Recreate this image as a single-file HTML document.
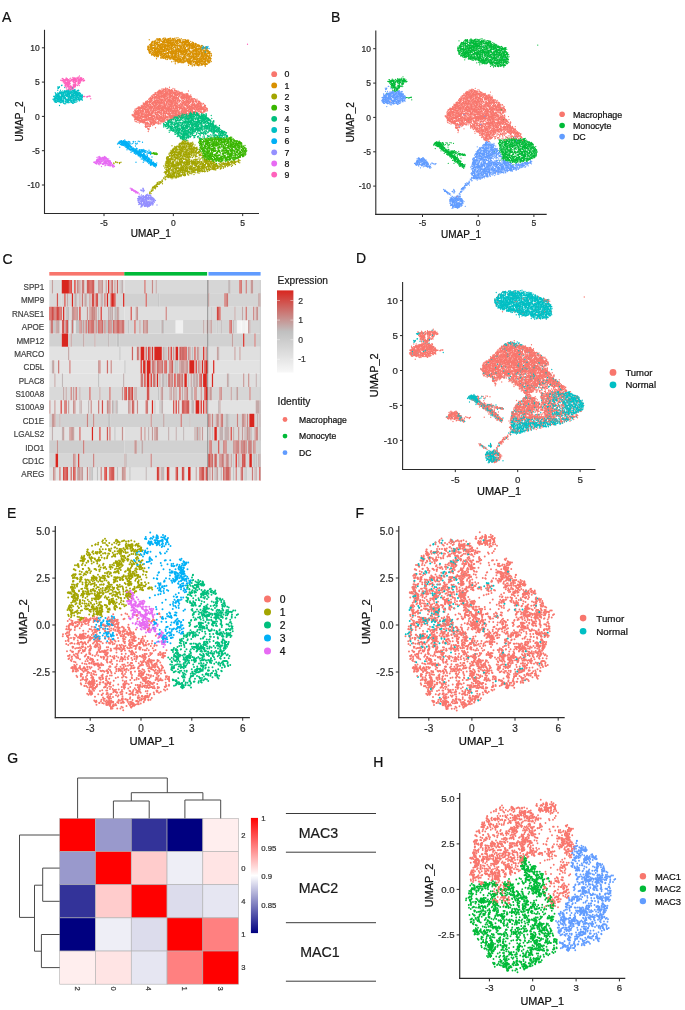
<!DOCTYPE html><html><head><meta charset="utf-8"><style>html,body{margin:0;padding:0;background:#fff;overflow:hidden}svg{display:block;filter:blur(0.45px)}</style></head><body><svg width="685" height="1010" viewBox="0 0 685 1010" font-family='"Liberation Sans", sans-serif'><rect width="685" height="1010" fill="#fff"/><path transform="scale(.25)" fill="none" stroke="#F8766D" stroke-width="5.2" stroke-linecap="round" d="M0 0m660 358h0m2-5h0m1-1h0m16 6h0m30 7h0m-2 1h0m-1-1h0m-3-2h0m-13 4h0m-5-4h0m-8 2h0m-15-4h0m0 0h0m-10 3h0m-9 2h0m-7-1h0m-6 7h0m0-4h0m4 0h0m2 7h0m1-6h0m4 5h0m7 0h0m4-4h0m1-1h0m10 5h0m7 1h0m8-4h0m2 3h0m2 0h0m2 1h0m5-5h0m9 3h0m1 0h0m2-2h0m2 3h0m8-3h0m8 2h0m10 2h0m0 0h0m20 5h0m-5-2h0m-1-2h0m-5 1h0m-19 4h0m-7-2h0m-1 2h0m-2 1h0m-3-1h0m-4 0h0m-4-1h0m-18 0h0m-7-1h0m-7-3h0m-1 4h0m-4 0h0m-2 1h0m-2 2h0m-3-3h0m-2 3h0m-5-1h0m-12-4h0m-6 2h0m-7-2h0m-3 1h0m-3 3h0m-1-2h0m-11 9h0m2-5h0m8 5h0m7 2h0m1-5h0m4 1h0m0-3h0m10 7h0m6-3h0m5 0h0m9-4h0m1 6h0m1-4h0m12 4h0m9-5h0m2-1h0m0 3h0m1 2h0m11-2h0m3 1h0m10 2h0m20-5h0m0 2h0m2 4h0m5-3h0m0-4h0m6 4h0m3 1h0m1 1h0m1 0h0m1-1h0m4-1h0m1-3h0m4 4h0m3-4h0m2 5h0m1-5h0m4 3h0m24 9h0m-19 0h0m-1-4h0m-4 5h0m-1 1h0m-15-5h0m-1 1h0m-12 0h0m-1-2h0m-4 0h0m-14 6h0m-2-6h0m-4-1h0m-6 2h0m-11 1h0m-2 1h0m-4-3h0m-17-1h0m-1 1h0m-4 1h0m-1 2h0m-13-4h0m-5 6h0m-7-1h0m0-2h0m-12-2h0m-16 1h0m-6 4h0m0-5h0m-5 2h0m-3 0h0m-10 10h0m2-2h0m8 3h0m3-1h0m6 0h0m13 2h0m1-3h0m0-1h0m10 0h0m14-2h0m3 2h0m15-3h0m2 4h0m4 3h0m1 0h0m1-6h0m5 6h0m0-5h0m2-1h0m2 2h0m3 0h0m4 2h0m2-2h0m7-1h0m4-1h0m3 4h0m2-2h0m9 1h0m33 3h0m1-4h0m2-2h0m1 5h0m0-4h0m1 4h0m3-3h0m1 2h0m2 1h0m5-2h0m6-4h0m1 1h0m4 5h0m2-6h0m9 5h0m16 7h0m-2 3h0m-2-4h0m-2 0h0m-8-3h0m-7 6h0m-21 0h0m-9-5h0m-4 2h0m-3 4h0m-4-3h0m-3-3h0m0 1h0m-1 2h0m-2 0h0m0-1h0m-6-3h0m-19 6h0m-3-1h0m0-1h0m-5 3h0m0-3h0m-7 0h0m-2 2h0m-4-5h0m0 4h0m-1 0h0m-1-4h0m-1 2h0m0-1h0m-14 2h0m-1 0h0m-2 0h0m-7 2h0m-2-5h0m-2 5h0m-7 1h0m-3-4h0m-6-2h0m-1 2h0m-2 0h0m-7 4h0m-2-4h0m-5-3h0m-5 6h0m0-4h0m-2 4h0m-1-3h0m-3 0h0m-1 0h0m-13 0h0m-7-1h0m-2 4h0m-3-1h0m0 0h0m-3-3h0m-8 5h0m-9 7h0m6 1h0m8-4h0m1 0h0m2 0h0m19-1h0m4 5h0m4-6h0m3 4h0m2 2h0m16-6h0m6 3h0m2 2h0m29-3h0m8 4h0m1-4h0m2-2h0m5 1h0m0-1h0m5 0h0m8 3h0m18 3h0m3-4h0m2 3h0m6-3h0m4-3h0m3 7h0m12-1h0m5 0h0m4-4h0m4 4h0m21-5h0m1 6h0m0-2h0m12-3h0m1 0h0m7 5h0m1-2h0m0-3h0m0 3h0m2-2h0m20 9h0m-14 2h0m0-1h0m-1-5h0m-2 3h0m-2 0h0m-1 1h0m-18 2h0m-1-6h0m0 4h0m-1-2h0m-2 1h0m-14 1h0m-10 0h0m-2 1h0m-3 0h0m0 0h0m0-5h0m-1 0h0m-1 0h0m-3 1h0m-8 6h0m-19-3h0m-12-3h0m0 2h0m-2 4h0m-12-3h0m-5-2h0m-2 5h0m-1-7h0m-6 4h0m-12 3h0m-5-5h0m-2-1h0m-1 2h0m0 1h0m-1 1h0m-8-1h0m-6-3h0m-2 3h0m-5-1h0m-4 1h0m0 3h0m-14-4h0m-2 1h0m-6-2h0m-1 2h0m-2 0h0m-3-4h0m-3 7h0m0-5h0m-3 4h0m-5-6h0m-5 0h0m-1 7h0m-2-1h0m-2-3h0m-3 1h0m-13 3h0m-1-1h0m-2 1h0m-4-1h0m-16 9h0m13-3h0m5-2h0m6-1h0m7 4h0m2 1h0m1-5h0m1 4h0m4 1h0m1 1h0m29-4h0m10 4h0m4-6h0m5 4h0m0 2h0m2-4h0m2-2h0m9 3h0m1 0h0m1-4h0m2 6h0m7-3h0m4-2h0m4 3h0m2-4h0m3 4h0m2-4h0m3 1h0m1 6h0m7 0h0m2-4h0m3 3h0m0 0h0m12-5h0m1 0h0m8 5h0m9-3h0m1-3h0m7 1h0m3 2h0m1 3h0m5-5h0m2 5h0m2 1h0m6-4h0m11-1h0m4-1h0m1 2h0m1-3h0m2 6h0m3-3h0m3 1h0m1 0h0m6 2h0m0-5h0m4 5h0m3-5h0m2 1h0m4 3h0m6 1h0m1 1h0m5-6h0m0 2h0m10 0h0m9 4h0m3 0h0m2-4h0m-1 9h0m-6 3h0m-15-2h0m-1-1h0m-20 2h0m-10 1h0m-5-4h0m0-2h0m-17 3h0m-4 1h0m-5 1h0m-8 0h0m-2-5h0m-2 1h0m-2 0h0m-3 5h0m-13-3h0m-2-2h0m-6 5h0m-1-6h0m-10 2h0m0 4h0m-2 0h0m-2-1h0m-6-3h0m-2-3h0m-15 2h0m-25 1h0m-2 0h0m-24-3h0m-1 6h0m-2-5h0m0 2h0m-2 1h0m-5-4h0m-11 4h0m-9-3h0m-13 2h0m-1-2h0m-1 4h0m-3-4h0m-13 3h0m0-1h0m-2 1h0m-6 3h0m-7-6h0m8 10h0m5-3h0m3 6h0m9-4h0m9-2h0m11 1h0m2 1h0m8 0h0m3-2h0m7 5h0m3-2h0m6-1h0m0-2h0m15 2h0m2 0h0m0-2h0m6 2h0m3 3h0m2 0h0m1-2h0m10 2h0m0 2h0m2-5h0m5 2h0m1-3h0m6 0h0m2 0h0m2 6h0m5-1h0m2-1h0m3 1h0m4-2h0m1-1h0m3 0h0m2 2h0m4-2h0m0 2h0m3 1h0m4-2h0m4 3h0m1-7h0m6 7h0m6 0h0m6 0h0m12-6h0m1 0h0m0 0h0m19-1h0m2 1h0m2 0h0m6 2h0m1-1h0m4-2h0m2 3h0m1 3h0m0-3h0m4 0h0m0-2h0m2 0h0m2-1h0m5 4h0m1 3h0m4-1h0m10-6h0m4 1h0m-38 8h0m-22 4h0m-2-4h0m-12 2h0m-14 1h0m-1 0h0m-5-3h0m-11 2h0m-9 4h0m-6-2h0m-2 1h0m-3-4h0m-3 4h0m-1 0h0m-2-5h0m-13 5h0m-6 1h0m-3-2h0m-22-4h0m-5 1h0m-3-2h0m-7 5h0m-4 2h0m-5-2h0m-4-4h0m-1 4h0m-1 0h0m-7-1h0m-1 2h0m-1-2h0m0 0h0m-3 0h0m-5-3h0m-1 4h0m-4-4h0m-12 5h0m-13-4h0m-1 0h0m-5-2h0m-1 0h0m-7 3h0m-1 4h0m-5-3h0m2 4h0m0 4h0m1-1h0m1 0h0m3 0h0m7 3h0m0-2h0m1 2h0m4-1h0m10-3h0m5-2h0m2 5h0m3-4h0m7 0h0m2 5h0m5-4h0m5 5h0m9-1h0m2 0h0m2-3h0m6-2h0m4 0h0m2 3h0m7 1h0m1-4h0m2 4h0m2-5h0m1 5h0m16 0h0m0 1h0m5-2h0m2-4h0m3 4h0m7 1h0m1 1h0m6 0h0m1 1h0m4-7h0m1 2h0m1 1h0m1 0h0m4 3h0m1-5h0m3 1h0m3 2h0m1 0h0m6-2h0m14-1h0m22 0h0m-39 9h0m-20 2h0m-4 3h0m-12-6h0m-7 2h0m-3-2h0m-2 2h0m-1 3h0m-4-5h0m-2 4h0m-5 0h0m-1-1h0m-8-3h0m-7 1h0m-2 3h0m0-2h0m-18 4h0m-4-4h0m-3 2h0m-13 2h0m-2 0h0m-6-7h0m-12 4h0m-4 1h0m-3-2h0m-6-1h0m-2 4h0m-2-1h0m12 3h0m5 4h0m8 2h0m3-2h0m3-2h0m9 0h0m5-1h0m7 1h0m7 4h0m5 0h0m3-5h0m2-1h0m4 1h0m27 0h0m1 3h0m5-1h0m2-1h0m6 2h0m1-4h0m15 2h0m-34 13h0m-20-1h0m-4-3h0m-5 0h0m0-1h0m-1 3h0m-4-3h0m0 5h0m-15-4h0m-5 2h0m-10-2h0m-10-3h0m22 11h0m8 0h0m21-1h0m-11 7h0m-17 1h0m-1 3h0m-1-5h0m-2 2h0m10 8h0m4 5h0m0-3h0"/><path transform="scale(.25)" fill="none" stroke="#D89000" stroke-width="5.2" stroke-linecap="round" d="M0 0m733 159h0m-13 0h0m-15-7h0m-4 6h0m-5-3h0m-21 2h0m-18 2h0m-4-4h0m-14 2h0m0-2h0m-16 12h0m10-7h0m6 0h0m1 1h0m9 6h0m5-1h0m4-3h0m0-3h0m1 5h0m10 2h0m15-7h0m0 7h0m4-5h0m7 0h0m8-1h0m3 1h0m2 5h0m4-5h0m0 0h0m1 2h0m9-2h0m9-2h0m9 5h0m3 0h0m5 1h0m4-3h0m3-2h0m25 13h0m-8 1h0m-17-6h0m-5 1h0m-4 0h0m-2 1h0m-2-1h0m-1 0h0m0-2h0m-4 5h0m-3-4h0m0-1h0m-3 5h0m0-5h0m-5 4h0m-3-4h0m-1 3h0m-12 1h0m0 0h0m-2-4h0m-1 5h0m-1 0h0m-5-3h0m-14 4h0m-5-6h0m-2 0h0m-7 2h0m-7-2h0m-11 0h0m-2 0h0m-14 0h0m-7 2h0m-4 3h0m-2-2h0m-2-1h0m-2 4h0m-5-6h0m-1 3h0m-7-2h0m-4 6h0m0 7h0m3 1h0m1-2h0m0 0h0m1 0h0m0 1h0m8-3h0m1 1h0m1-1h0m9-2h0m4 0h0m1 1h0m14 3h0m1 1h0m1-6h0m9 6h0m10-2h0m5 0h0m5 1h0m2-2h0m6 0h0m0-1h0m1-2h0m8 7h0m2-7h0m21 5h0m10-3h0m7 3h0m7-5h0m11 2h0m5 3h0m4 0h0m4 0h0m4 0h0m2-2h0m2-2h0m0 3h0m21 2h0m3 0h0m14 4h0m-5 4h0m-6 1h0m-6-6h0m-1 2h0m-15 2h0m-3-1h0m-3-1h0m-9-3h0m-5 3h0m-2 2h0m-17 0h0m0 0h0m-3-5h0m-1 2h0m-2 2h0m-1 2h0m-32-1h0m-3-2h0m-18 3h0m-8-6h0m-3 1h0m-7 3h0m-6 3h0m-9 0h0m-6-3h0m-13-3h0m-16 6h0m-5-1h0m-13-2h0m-2 2h0m-2-3h0m0 5h0m15 4h0m5-3h0m4-1h0m3 6h0m1 0h0m2-1h0m13-4h0m2 0h0m6-1h0m0 4h0m3-3h0m1 1h0m11 3h0m2-2h0m6 2h0m1-2h0m3 4h0m8-2h0m6 0h0m19-5h0m6 6h0m5 1h0m2-3h0m7 1h0m3-5h0m19 6h0m12-5h0m0 6h0m11-7h0m0 3h0m4 0h0m0-2h0m10 4h0m4-4h0m2 4h0m7 2h0m3-5h0m3 0h0m1 2h0m0-4h0m6 4h0m4 1h0m2-5h0m9 4h0m10 8h0m-4-4h0m-7 5h0m-5-1h0m-13-1h0m-3 2h0m-16-4h0m-1 0h0m-9 1h0m-5 1h0m-1 1h0m-10 2h0m-2-5h0m-5 3h0m-3 0h0m-4-2h0m-1 2h0m-1-3h0m-2 6h0m-2-4h0m-11-2h0m-7 4h0m-1-1h0m-2-4h0m-2 2h0m-3 4h0m-7-4h0m-10 1h0m-3 4h0m-3 0h0m-8 0h0m0-1h0m-6-2h0m-7-4h0m-3 4h0m-5-4h0m-3 1h0m0 3h0m-1-3h0m0 4h0m0 1h0m0-1h0m-1 0h0m-1-5h0m-8 7h0m-2-1h0m-1 1h0m-10 0h0m-3 0h0m-3-1h0m-4-6h0m-3 1h0m-4 3h0m-15 1h0m-7-5h0m5 12h0m9 0h0m8-4h0m3 2h0m3 4h0m3-4h0m0 5h0m4-2h0m0-3h0m15-1h0m19 3h0m11 3h0m0-7h0m1 2h0m5-2h0m3 3h0m4 0h0m1-1h0m1 4h0m2 1h0m22 0h0m1 0h0m2-7h0m7 3h0m1 0h0m5 3h0m3-3h0m1 3h0m1-4h0m3-1h0m3 3h0m5 1h0m3-5h0m1 0h0m5 5h0m9 0h0m1-3h0m1-1h0m4 3h0m17-1h0m9 0h0m4-3h0m4 5h0m9-4h0m8 3h0m9 1h0m3 0h0m6 1h0m1-1h0m5 1h0m2 8h0m-17-1h0m-1-1h0m-1 3h0m-3-4h0m-8-2h0m-9-1h0m-1 6h0m-12-5h0m-17 3h0m-2-4h0m-1 7h0m-1-3h0m-17-3h0m-4-1h0m-4 0h0m-10 4h0m-9-3h0m-13 3h0m-4-4h0m0 6h0m-8-6h0m-13 7h0m-10 0h0m-6-3h0m-13-3h0m0 0h0m-4 2h0m-3 3h0m-8-5h0m-1 3h0m-4 1h0m-1 1h0m-7 1h0m-1-6h0m-6 6h0m-1-3h0m-8 0h0m-2 0h0m-6-2h0m17 6h0m25 3h0m3 0h0m1 0h0m0 0h0m3 2h0m7 0h0m4 2h0m0-5h0m1-2h0m3 3h0m1-3h0m1 4h0m6 3h0m2-2h0m14-3h0m3 2h0m1 3h0m1 0h0m2 0h0m2-1h0m6-6h0m7 6h0m0-5h0m4 0h0m4 4h0m9 0h0m7 2h0m15-7h0m0 1h0m1 3h0m6-4h0m2 2h0m5 4h0m16-6h0m14 2h0m10 0h0m3-1h0m4 6h0m4 0h0m9-6h0m5 6h0m6 3h0m-1 2h0m-7 3h0m-9-5h0m-1-2h0m-3 5h0m-3 0h0m-1 1h0m0 0h0m-3 1h0m-2-1h0m-2 0h0m-11-6h0m0 7h0m-1-4h0m-1-3h0m-1 7h0m-6-3h0m-4 3h0m-4-3h0m-3 2h0m-8 0h0m-10-4h0m-2 3h0m-3 2h0m0-2h0m-1-5h0m-18 4h0m-5 3h0m-12-6h0m0 3h0m-3 0h0m-2 1h0m-3 0h0m-3-3h0m-5-2h0m-11 6h0m0-3h0m-18-3h0m-9 6h0m-6-6h0m-36 3h0m73 5h0m24 2h0m2-2h0m3 7h0m20-2h0m2 0h0m1-4h0m4 4h0m3 2h0m3-1h0m2 1h0m1-1h0m2-1h0m6 2h0m2 0h0m12-4h0m1 4h0m4 0h0m7 0h0m2-7h0m3 6h0m3-6h0m1 7h0m5-7h0m4 7h0m5-1h0m2 1h0m4-5h0m2 3h0m3 2h0m3-3h0m1 3h0m-1 1h0m-19 5h0m-13 2h0m0-2h0m-5-4h0m-1 6h0m-7-1h0m-1-4h0m-2-1h0m-1 5h0m-23-2h0m-10-1h0m-18-2h0m-2 2h0m-14-2h0m-5 0h0m-13 6h0m88 3h0m4 2h0m4-3h0m9 0h0m4 2h0m1-1h0m18-2h0"/><path transform="scale(.25)" fill="none" stroke="#A3A500" stroke-width="5.2" stroke-linecap="round" d="M0 0m743 567h0m24 7h0m-7 1h0m-12 0h0m0-1h0m-3 0h0m-6-2h0m-4-3h0m-3 2h0m-3 3h0m-1 1h0m-4 0h0m-36 8h0m28-6h0m3-1h0m10 4h0m7 3h0m1 0h0m8-1h0m7-5h0m18 0h0m10 3h0m-15 10h0m-7 0h0m-2-4h0m-1-2h0m-3 0h0m-12 5h0m-3-1h0m0 2h0m-3 0h0m-2-5h0m-4 2h0m-5 4h0m-4-7h0m0 1h0m-15 6h0m-14 6h0m2 2h0m4 0h0m2-3h0m1-1h0m8-3h0m16 7h0m5-6h0m0 4h0m2 0h0m7 0h0m5-3h0m11 2h0m1-3h0m6 2h0m0-2h0m2 1h0m3 1h0m4-1h0m1 0h0m1 2h0m1-4h0m8 1h0m11 4h0m7 2h0m2 2h0m-17 6h0m-2 0h0m-4-6h0m-4 0h0m-6 0h0m-19 5h0m0-1h0m-1 1h0m0-6h0m-4 4h0m-1 1h0m-5 2h0m-6-2h0m-3 1h0m-1-1h0m-1-2h0m-8 3h0m-10 1h0m-8 0h0m-5-4h0m-2 1h0m-12 5h0m1 4h0m0-2h0m2-1h0m2 5h0m12-1h0m0 0h0m2-3h0m14-3h0m9 4h0m0 3h0m2-2h0m0 1h0m12-6h0m10 3h0m5 0h0m1 0h0m2-3h0m1 4h0m3 2h0m2-2h0m15-2h0m5-2h0m3 5h0m7-2h0m0 0h0m4 0h0m10 1h0m5 8h0m-13 3h0m0-4h0m-13 2h0m-7-2h0m-12-2h0m-7 1h0m-1-2h0m-11 2h0m-2 2h0m-6-2h0m-16 5h0m0-4h0m-1 4h0m-3-6h0m-6 5h0m-5 0h0m-3-4h0m-4-1h0m-3 2h0m0-3h0m-3 2h0m-6-2h0m-1 7h0m-1-4h0m0-3h0m-7 6h0m-3-5h0m-6 12h0m3 1h0m7-6h0m23 6h0m6-2h0m7-3h0m1 5h0m12 1h0m20-6h0m2 0h0m7 0h0m2 3h0m4 0h0m22-2h0m25-1h0m8 13h0m-1-1h0m-41 1h0m-33-5h0m-2 6h0m-1-2h0m-7-3h0m-9 3h0m-11-4h0m-6-1h0m-5 5h0m-7 1h0m-7-2h0m-18 2h0m-5-5h0m-2 13h0m3-2h0m2 1h0m1 2h0m0-7h0m25 7h0m22-4h0m3-2h0m0 1h0m19 5h0m7-4h0m0 1h0m4-3h0m6 3h0m1 3h0m10-2h0m10 2h0m6-6h0m37 6h0m2-7h0m1 5h0m1-1h0m1 3h0m4-3h0m6 3h0m1-1h0m15-2h0m3 2h0m71 0h0m7 1h0m6 0h0m1 0h0m0-2h0m0-1h0m15 2h0m2-3h0m-15 5h0m-4 3h0m-6-2h0m-10 0h0m0 1h0m-7 1h0m-1 4h0m-2-7h0m-6 7h0m-10-3h0m-19 2h0m-17-4h0m-2-1h0m-4 5h0m-20 1h0m-1-2h0m-7-3h0m-3 3h0m-2-4h0m-8-1h0m-16 1h0m-14 5h0m-1-4h0m-1 0h0m-11 1h0m-2 3h0m-7-6h0m-2 3h0m-6-3h0m-4 0h0m-3 4h0m-3-3h0m-4 5h0m-10-3h0m-2-3h0m-2 6h0m-3-1h0m-1 2h0m-1-7h0m-10 5h0m-4 1h0m-11-5h0m-6 4h0m-5 1h0m-8 1h0m-4-2h0m-4-4h0m-189 5h0m-22 1h0m205 1h0m1 5h0m6-5h0m1 1h0m5 4h0m13-1h0m3-1h0m3-1h0m3 5h0m11 0h0m4-1h0m1-1h0m0 2h0m3-5h0m1 4h0m1-5h0m6-1h0m0 2h0m1 4h0m1-3h0m2 3h0m13 1h0m0-4h0m2 0h0m1 4h0m2-7h0m1 4h0m1-2h0m9 2h0m1-2h0m8 2h0m20-2h0m2 1h0m2-3h0m10 2h0m5 2h0m0-3h0m10 2h0m1 3h0m2-1h0m4-3h0m9-1h0m0 2h0m8 0h0m3-3h0m8 7h0m7-2h0m5-5h0m6 4h0m4 3h0m16-7h0m0 5h0m4-5h0m4 1h0m4 3h0m2 0h0m6-2h0m3-1h0m3 5h0m2-6h0m8 3h0m1-1h0m-13 8h0m-1-2h0m-10 2h0m0 2h0m-7-2h0m-5 0h0m-8 3h0m0 0h0m-1-2h0m-10 1h0m-1-3h0m0 2h0m-15 0h0m-18 0h0m-14 3h0m-2 1h0m-8-7h0m0 0h0m-4 5h0m-8-3h0m0 5h0m-2-5h0m-7 0h0m-8 5h0m-1-7h0m-23 3h0m-9 2h0m-6 2h0m-4-7h0m-1 1h0m-4 4h0m-2-4h0m0 1h0m-2 0h0m-10 5h0m-15-6h0m-4-1h0m-5 3h0m-11 1h0m-10-4h0m-5 2h0m-4 2h0m-7 4h0m6 7h0m11 0h0m19-1h0m4-6h0m3 3h0m4 4h0m1-4h0m2-2h0m4-1h0m2 1h0m9 4h0m4 2h0m3-3h0m0-4h0m12 1h0m0 6h0m3-6h0m0 0h0m4-1h0m4 0h0m3 2h0m1 4h0m3-4h0m4-1h0m0 6h0m2-3h0m10-4h0m4 6h0m4-2h0m8-2h0m3 0h0m2-2h0m4 1h0m5 3h0m8-1h0m2 4h0m8-6h0m2 5h0m9-6h0m21 3h0m1-1h0m3 1h0m9-2h0m2-1h0m9 4h0m1-2h0m4-2h0m8 0h0m-56 8h0m-10 1h0m-25 1h0m-6-1h0m-18 4h0m-3-4h0m-8-1h0m-5 0h0m-13 6h0m0 0h0m0 0h0m-5-4h0m-4-1h0m-3 2h0m-7-1h0m-11-2h0m-6 0h0m-14 2h0m-7 2h0m-2-3h0m-7-1h0m-6 5h0m-4-3h0m-5 5h0m-1-1h0m-11 4h0m6 4h0m1-6h0m3 1h0m0 1h0m7 0h0m1 5h0m0-7h0m18 5h0m1-2h0m15 3h0m4 0h0m15-6h0m3 5h0m2-1h0m7-4h0m0 5h0m9 0h0m19-5h0m13 3h0m-39 8h0m-1 2h0m-1-3h0m-2 2h0m-5-1h0m-7 2h0m0-1h0m-3 3h0m-9-7h0m-7 3h0m0 2h0m-8 0h0m-14-3h0m-3-2h0m0 5h0m-3 2h0m-1 0h0m-2 0h0m-2-2h0m-3-2h0m-3-2h0m0 6h0m-4 5h0m3-3h0m2 1h0m7 3h0m4-3h0m5 0h0m1 3h0m1 1h0m1-4h0m1 0h0m4 2h0m0-4h0m3 0h0m3 3h0m1 4h0m0-7h0m6 1h0m4 0h0m2 3h0m4-2h0m-28 9h0m-38 20h0m-2-7h0m-24 12h0m0 3h0m4-4h0m2-3h0m7 0h0m-7 10h0m-4-1h0m-5 4h0m-2-4h0m-2 0h0m-6 15h0m-10 8h0"/><path transform="scale(.25)" fill="none" stroke="#39B600" stroke-width="5.2" stroke-linecap="round" d="M0 0m840 548h0m7 1h0m23 2h0m52-2h0m2 1h0m3 8h0m-8-1h0m-6 2h0m-5-2h0m-1-4h0m-12 0h0m-5 3h0m-6-4h0m-1 7h0m-2-7h0m-7 2h0m-1 0h0m-9 3h0m-1-2h0m-10 3h0m-5-5h0m0 4h0m-5-2h0m-3 4h0m-5-4h0m-3-1h0m-7 4h0m-5-1h0m-4-3h0m-11 1h0m-4 3h0m-4-3h0m2 11h0m3-2h0m1 3h0m28-5h0m14 3h0m2-2h0m4 1h0m5 2h0m10 1h0m13-4h0m4 0h0m1 1h0m3-1h0m6 2h0m10-1h0m11-1h0m27 2h0m6-1h0m2 0h0m2 1h0m16 8h0m-6-1h0m0 3h0m-7-6h0m0-1h0m0 7h0m-10-2h0m-12 0h0m-1-4h0m-10 6h0m-11-5h0m-10-2h0m-1 5h0m0 1h0m-1-6h0m-10 0h0m-4 4h0m-8-4h0m-2 7h0m-2-6h0m-4 1h0m-2-1h0m-12 3h0m-6-1h0m-1 2h0m-14 0h0m-1 2h0m-1-5h0m-2-1h0m0 3h0m-1 3h0m0-7h0m-22 5h0m-2 0h0m-4-2h0m-2 3h0m1 2h0m5 2h0m2 0h0m7-2h0m4 5h0m0 2h0m5-7h0m2 0h0m6 5h0m9 2h0m6-4h0m1-1h0m11 5h0m7-2h0m3 1h0m0 1h0m1-6h0m10 0h0m10 0h0m28 6h0m0-3h0m5-4h0m3 3h0m0 4h0m1-4h0m0 3h0m3-1h0m1-2h0m2-1h0m4-1h0m0 0h0m7 6h0m8-4h0m17 0h0m8 7h0m-1-1h0m-2 3h0m0-4h0m-5 5h0m-2-3h0m-7 1h0m-5 1h0m-3-4h0m-15 4h0m-1-4h0m-3 4h0m0 0h0m-10 0h0m-7 1h0m-1 0h0m0-3h0m-17-2h0m-2 0h0m-6 3h0m-11 2h0m-2 2h0m-19-2h0m-5-3h0m-11 0h0m-2 2h0m-14 0h0m-2-4h0m-2 0h0m-1 4h0m-10-1h0m-1-3h0m0 6h0m-5-1h0m0 3h0m5 5h0m19-1h0m14-4h0m7 4h0m7-2h0m6 5h0m10-4h0m12-3h0m11 3h0m1-1h0m5-1h0m3-1h0m1 2h0m8-1h0m1-1h0m12 3h0m5-2h0m9-1h0m2 1h0m7 3h0m9-2h0m9 4h0m6-3h0m2 3h0m6-5h0m-2 11h0m-8 3h0m-8 0h0m-5-3h0m-5-4h0m-2 5h0m-1 0h0m-11 2h0m-3-7h0m-4 2h0m-8 3h0m0-5h0m0 2h0m-1-2h0m-11 4h0m-18-4h0m-3 0h0m-1 5h0m-2-5h0m-24 1h0m-7 4h0m0 0h0m0-5h0m-1 1h0m-1 4h0m-17 1h0m-7-4h0m0 5h0m-5 0h0m-8-4h0m-8 3h0m-206 3h0m8 5h0m2-3h0m1 1h0m4 2h0m1-1h0m1 1h0m196-1h0m7-5h0m6 0h0m9 0h0m4 6h0m0 0h0m7 0h0m1-1h0m13 2h0m4-3h0m37-2h0m3-2h0m17 6h0m3-6h0m4 4h0m9 2h0m13 0h0m3-2h0m10-1h0m10 0h0m-6 6h0m-1 4h0m-3-2h0m-5 4h0m-1-6h0m-11 5h0m-10 1h0m-12-5h0m-3 1h0m-2 3h0m-3-5h0m-2 4h0m-5-3h0m-1 0h0m0 2h0m-13 2h0m-5 0h0m-10-6h0m-6 4h0m-9 3h0m-11-5h0m-6 0h0m-3 5h0m-3-7h0m-10 7h0m-14-7h0m-5 5h0m-4 1h0m-185-6h0m-8 1h0m199 7h0m5 7h0m2-7h0m2 1h0m1 5h0m3-5h0m9 1h0m4 3h0m0 1h0m9-4h0m3 4h0m1 0h0m7-3h0m2 3h0m19-1h0m7-3h0m1-1h0m8 6h0m2 0h0m11-3h0m2-3h0m6 0h0m2 1h0m10 4h0m5 0h0m3 0h0m7-3h0m8 2h0m1-1h0m12-2h0m-25 7h0m-2 3h0m-5 3h0m-2-2h0m-4-4h0m-10 2h0m-3 3h0m-1-4h0m-12 3h0m-3 2h0m-1-6h0m-16 3h0m-2-2h0m-5-1h0m-1 2h0m-4 1h0m-6-4h0m-2 4h0m-5 2h0m-13-4h0m-7 4h0m-6-2h0m-2 0h0m0 2h0m-5-4h0m-9-1h0m19 9h0m14 3h0m13-4h0m3 2h0m1-1h0m14 4h0m6-5h0m22 0h0m8 0h0m15-1h0m-100 17h0"/><path transform="scale(.25)" fill="none" stroke="#00BF7D" stroke-width="5.2" stroke-linecap="round" d="M0 0m777 451h0m0 2h0m68 9h0m-19 1h0m-12-6h0m-6 5h0m-14-5h0m-3-1h0m-1 4h0m-9-3h0m-7 3h0m-6 0h0m-2 0h0m-2-4h0m0 1h0m-2-1h0m-2 6h0m-2-1h0m-1 1h0m-4 0h0m-5-1h0m-3 0h0m-3-2h0m-10 3h0m-6-3h0m-1-3h0m-7 7h0m-27 5h0m5 0h0m9 1h0m5-1h0m3 3h0m7-2h0m1-3h0m0 3h0m8 1h0m1-3h0m1 4h0m3-1h0m11 1h0m4-5h0m7-2h0m4 4h0m1-1h0m5 0h0m3 2h0m1-2h0m1-1h0m2-2h0m3 3h0m21-2h0m4 2h0m1 2h0m0-2h0m7 4h0m5-7h0m2 2h0m6-2h0m2 2h0m9 10h0m-2 2h0m-2-3h0m-3-2h0m-2 1h0m-2 2h0m-5 2h0m-10-5h0m-4 0h0m-3 2h0m-7 1h0m0 3h0m-4-1h0m-7 0h0m-6-2h0m-5-3h0m-7-1h0m-9 5h0m-4-5h0m-2 2h0m-1 5h0m-7-3h0m-1-1h0m-4 1h0m-10 0h0m-18-3h0m-4-1h0m-10 6h0m0-4h0m-21 8h0m2 0h0m6 3h0m5-2h0m2 3h0m8-6h0m10 1h0m1 1h0m4-1h0m9-1h0m16 4h0m2 3h0m3-2h0m10 0h0m3-1h0m4 0h0m0 0h0m4-1h0m11-3h0m11 7h0m16-3h0m7 3h0m9-3h0m12 0h0m1 1h0m4-4h0m3 1h0m17 3h0m2 0h0m-5 4h0m-10 5h0m-1 1h0m-4-2h0m-4-4h0m-2 0h0m-8 2h0m-2 0h0m-3 1h0m-9-3h0m-3 1h0m-3 5h0m-3-6h0m-7 0h0m-2 3h0m0 2h0m-7 1h0m-3-1h0m-2-6h0m-6 4h0m-2 3h0m-1-7h0m0 3h0m-5-2h0m-3 0h0m-8 0h0m0-1h0m-2 0h0m-7 2h0m-2-1h0m-2 4h0m-2-2h0m-2-1h0m-6 2h0m-23-4h0m0 6h0m0-6h0m-7 1h0m-6 0h0m-3 6h0m-3 0h0m-6-6h0m-5 1h0m-3-1h0m-1 6h0m-16 4h0m6 1h0m12-2h0m0 0h0m22-1h0m3 5h0m5-6h0m4 6h0m4-6h0m13 3h0m2 4h0m3-7h0m3 6h0m1 1h0m16-1h0m7-3h0m10 1h0m0-3h0m3 6h0m0-4h0m16 1h0m6-4h0m12 6h0m3-6h0m4 5h0m9 1h0m4 1h0m4-1h0m5 0h0m2-6h0m8 7h0m6-6h0m1 4h0m2 2h0m0-6h0m10 6h0m14 7h0m-15-1h0m-1-1h0m-6-2h0m-1 0h0m-2 0h0m-3-2h0m-3 4h0m-6-4h0m-7 1h0m-2 4h0m-8-1h0m-1-4h0m-1 0h0m-3 3h0m-7 0h0m-6 1h0m-5 3h0m-6-5h0m-5 1h0m-7-1h0m-8 4h0m-3 1h0m-16-4h0m-2 0h0m-1 3h0m-4 1h0m-7-2h0m-10 1h0m-3-6h0m0 4h0m-16-2h0m-2 2h0m-2 3h0m-6-4h0m-2 4h0m-2-2h0m-7-3h0m-1 3h0m0-2h0m-7-1h0m0 4h0m-8-5h0m-2 1h0m-2 7h0m10 2h0m2-3h0m31 1h0m3 0h0m2 6h0m2-2h0m0-5h0m0 3h0m14 2h0m0 2h0m2-6h0m0 0h0m22 4h0m15-4h0m0 4h0m16 0h0m1-5h0m3 1h0m3 5h0m9-2h0m2 2h0m0-6h0m9 6h0m0-3h0m1-2h0m21 1h0m10 2h0m7 0h0m16-3h0m4 1h0m3-1h0m18 14h0m-8 0h0m-8-1h0m-13-3h0m-1-2h0m-5 5h0m-4-2h0m-1-4h0m-8 5h0m-1-4h0m-1 6h0m-1-7h0m-3 2h0m-3-1h0m-22 6h0m-7-6h0m-11 1h0m-18 5h0m0-3h0m-1 3h0m-2 0h0m-7-6h0m0 6h0m-7-7h0m-3 3h0m0 1h0m-6 1h0m-1-3h0m-1 0h0m-2 2h0m-8-2h0m-7 3h0m-23-3h0m-2 1h0m-6-3h0m-5 1h0m0 10h0m1-2h0m1 0h0m8 4h0m1 1h0m17 1h0m6-1h0m7-1h0m4 0h0m8 0h0m11 2h0m5-3h0m6 1h0m0-1h0m12 0h0m17-2h0m0 2h0m4 0h0m12-4h0m11 3h0m0-2h0m21 3h0m1-4h0m25 1h0m1 4h0m0-5h0m4 7h0m1-6h0m3 3h0m6 2h0m3-1h0m7-1h0m4 11h0m-1 0h0m-1 0h0m-2-5h0m-6 1h0m-1 0h0m-10 2h0m-1 2h0m-3-1h0m-1-5h0m-3 4h0m-15 0h0m-3-1h0m0-2h0m-5 4h0m-3-5h0m-22 6h0m-51 0h0m-4-1h0m-5-1h0m-7-3h0m-3-2h0m-9 2h0m-4 0h0m-5-1h0m-3 3h0m-3 1h0m-4-2h0m-8-3h0m-9 7h0m-4-4h0m-2 7h0m3-2h0m17 0h0m3 4h0m8 1h0m6 2h0m1-2h0m2-5h0m43 6h0m67-3h0m1 2h0m1 0h0m16 1h0m9 1h0m4-7h0m2 7h0m4 0h0m9-3h0m2-1h0m8 10h0m-115-5h0m-58 7h0m-7-1h0m-2-4h0m-1 5h0"/><path transform="scale(.25)" fill="none" stroke="#00BFC4" stroke-width="5.2" stroke-linecap="round" d="M0 0m235 349h0m-3 5h0m68 4h0m10 4h0m-6 5h0m-2-2h0m-2-4h0m-3 0h0m-3 1h0m-6 3h0m-37-1h0m-9-3h0m-21 10h0m9 1h0m4 3h0m1-1h0m2 1h0m2-5h0m1 2h0m1-2h0m3 4h0m0-3h0m2 3h0m0-5h0m6 1h0m3 2h0m8 0h0m2-4h0m8 1h0m16-1h0m1 1h0m6 1h0m1 3h0m0-5h0m5 1h0m2 0h0m7 6h0m8-4h0m3 4h0m2 5h0m-11-1h0m-3 2h0m-4-5h0m-5 4h0m-9 1h0m-1 0h0m-5-2h0m-8 0h0m-7-2h0m0 6h0m-1-4h0m-15-2h0m-7 2h0m-2-3h0m-11 6h0m-2 0h0m-5 0h0m-5-6h0m-1 7h0m-7 3h0m1-1h0m8 0h0m1 1h0m1-2h0m4 0h0m1 1h0m0 2h0m5-3h0m9 5h0m1-4h0m6 4h0m3-4h0m2 2h0m2 2h0m10-4h0m1-1h0m12 5h0m3-3h0m9 3h0m10-4h0m6 4h0m6 2h0m14-6h0m-2 12h0m-10-2h0m0 2h0m-4-4h0m0-1h0m0 1h0m-8 2h0m-6 0h0m-2 3h0m-15-5h0m0 5h0m-14 0h0m-6-4h0m-6-1h0m-4-1h0m-6 6h0m-2 0h0m-11 0h0m-1-2h0m-1-4h0m-5 2h0m-7 0h0m-2 1h0m0 2h0m3 8h0m4-4h0m4 0h0m5 4h0m2-3h0m0 1h0m15 0h0m3 0h0m17-3h0m9 3h0m6 0h0m1 2h0m1 0h0m1-4h0m5 1h0m5 3h0m6-4h0m3 5h0m-8 2h0m-1 2h0m-34-2h0m-11 4h0m-6-4h0m-5 3h0"/><path transform="scale(.25)" fill="none" stroke="#00B0F6" stroke-width="5.2" stroke-linecap="round" d="M0 0m832 186h0m-10 2h0m-10 3h0m2 1h0m6 0h0m4 1h0m12 1h0m-342 371h0m0 1h0m4 1h0m4-2h0m31 1h0m8 1h0m12-2h0m-34 3h0m0 1h0m-5 4h0m-2-4h0m-1 6h0m-4-1h0m0-3h0m-2 3h0m-4 1h0m-2-4h0m-5-2h0m-5 6h0m-1-1h0m-2-3h0m-5-3h0m-5 0h0m10 12h0m3-4h0m3 5h0m3 1h0m1 0h0m3-6h0m2 3h0m2 1h0m12-1h0m0 3h0m1 1h0m3-2h0m28-5h0m-25 8h0m-7 4h0m-3-2h0m0 5h0m0-2h0m-6 0h0m-6-4h0m8 14h0m1-5h0m7 4h0m0-3h0m3 4h0m1-3h0m7 3h0m2-4h0m0 3h0m5 0h0m0 1h0m2-1h0m11-3h0m49 6h0m-12 2h0m-1 0h0m-13 1h0m-4 0h0m0-2h0m-3 4h0m-5 1h0m-6 0h0m-7-5h0m0 1h0m0 4h0m-2 0h0m-1-1h0m-3-2h0m-6-2h0m-1 3h0m0 0h0m-9-5h0m14 13h0m2-2h0m5-1h0m4 2h0m0-1h0m1 4h0m1-3h0m2-3h0m0 6h0m1-1h0m0-1h0m0-4h0m0 3h0m2 3h0m19-2h0m22-3h0m4 0h0m2 6h0m-14 1h0m-11 4h0m-3-5h0m-3 7h0m-7-3h0m0-4h0m-1 1h0m-2 2h0m-3-2h0m-15 0h0m30 8h0m0 5h0m1-6h0m1 7h0m1-2h0m6-3h0m1-2h0m4 4h0m5 7h0m-2 2h0m0 2h0m-10-3h0m-1-3h0m0 0h0m-3 4h0m0-3h0m-6 2h0m16 4h0m1 1h0m0 2h0m3-3h0m2 3h0m2 1h0m2-1h0m4 4h0m4-5h0m3-2h0m15 15h0m-8-1h0m-5 1h0m0-2h0m-2-5h0m-4 6h0m-7-6h0m-5 0h0m-18 1h0m32 9h0m7 2h0m2 3h0m4 0h0m3-6h0m1 4h0m4-3h0m0 5h0m-4 5h0"/><path transform="scale(.25)" fill="none" stroke="#9590FF" stroke-width="5.2" stroke-linecap="round" d="M0 0m572 753h0m3 10h0m25 18h0m-6 2h0m-2-1h0m-34 9h0m0-1h0m3-2h0m5 1h0m8 2h0m7-5h0m1-2h0m3 2h0m0 0h0m10 5h0m7 0h0m3-3h0m2 2h0m4 8h0m-4-4h0m-2 4h0m-5 1h0m-8-1h0m-6-3h0m-4-2h0m-8 2h0m-1 0h0m-3 0h0m0-3h0m-2 6h0m-2-6h0m-1 1h0m-6 0h0m-7 8h0m1 1h0m0 5h0m7-5h0m5 5h0m4-7h0m2 0h0m5 4h0m20 1h0m5 0h0m11 2h0m2-6h0m1 5h0m2-3h0m-4 12h0m-4 0h0m-2-1h0m0-3h0m-6 0h0m-1 4h0m-2-1h0m-7 0h0m-4 1h0m-5 0h0m-16-4h0m-4 3h0m-1 0h0m-1-2h0m-1 2h0m6 9h0m4-1h0m1 0h0m2-3h0m4-3h0m1 0h0m0 0h0m3 7h0m2-5h0m0 4h0m6-1h0m1-4h0m4 6h0m2-1h0m2-2h0m1-4h0m1 1h0m0 0h0m3 4h0m9-5h0m0 4h0m-17 4h0m-3 3h0m-6-2h0m-18 2h0"/><path transform="scale(.25)" fill="none" stroke="#E76BF3" stroke-width="5.2" stroke-linecap="round" d="M0 0m388 630h0m9-4h0m15 5h0m3-2h0m4-3h0m12 11h0m-3-2h0m-10 4h0m-3-5h0m-4 1h0m0 0h0m-6-3h0m-2 1h0m-1 1h0m-4 1h0m0 4h0m-10 7h0m13-2h0m11-1h0m9 3h0m8-2h0m6 0h0m5 0h0m5 8h0m-3-2h0m0-1h0m-4 4h0m0 1h0m-10 1h0m-7-6h0m-3 6h0m-4-1h0m-1 0h0m-8-2h0m-3 1h0m-2-3h0m-7 3h0m36 8h0m6 0h0m1 0h0m1-1h0m11 3h0m0-6h0m1 5h0m1-3h0m71 94h0m6 5h0m14 6h0m-11-3h0m18 9h0"/><path transform="scale(.25)" fill="none" stroke="#FF62BC" stroke-width="5.2" stroke-linecap="round" d="M0 0m292 310h0m21-2h0m12 11h0m-2 0h0m-16-7h0m-6 4h0m-1-2h0m0-2h0m-2 2h0m0 5h0m-4-3h0m-8 3h0m-7-3h0m-14 0h0m-13-1h0m-3-1h0m11 12h0m9-5h0m2 2h0m9 1h0m20 0h0m0-2h0m2 5h0m15-3h0m4-4h0m2 6h0m9-3h0m4-2h0m-16 11h0m-4 0h0m0-2h0m-1 0h0m-14 4h0m0-6h0m-22 4h0m-12 3h0m-4-3h0m-2-2h0m-2 2h0m10 7h0m2-1h0m3-1h0m2 0h0m0 3h0m21-1h0m2 3h0m3 0h0m2-2h0m0-3h0m-4 11h0m-2-1h0m-3 0h0m-4 4h0m-6-4h0m-4-2h0m-2 2h0m-4-2h0m-1 0h0m-1 6h0m-3-7h0m18 14h0m2-3h0m-9 6h0m51 25h0m4 0h0m23-2h0"/><path transform="scale(.25)" fill="none" stroke="#F8766D" stroke-width="5.2" stroke-linecap="round" d="M0 0m658 359h0m5-4h0m23 4h0m13-3h0m2 6h0m-4-1h0m-14 2h0m-3-1h0m-2 4h0m-1-4h0m-4-2h0m-7 0h0m-2 3h0m-2-2h0m-1 5h0m0 1h0m-2-1h0m-6-6h0m-2 3h0m-3 2h0m-9-3h0m0 4h0m-2-5h0m-1 3h0m-3 1h0m-12 7h0m15 0h0m0-4h0m5 3h0m3-1h0m0 4h0m12-2h0m13-4h0m0 6h0m9-6h0m3 7h0m0 0h0m2-6h0m7-1h0m5 2h0m7-1h0m0 1h0m7 2h0m4 2h0m4-3h0m5 2h0m1-3h0m0 4h0m5-3h0m25 9h0m-4-4h0m-2 6h0m0-6h0m-5 5h0m-5 1h0m-3-5h0m-3 5h0m-1 0h0m-11-1h0m-6-5h0m-12 6h0m-15 1h0m-5 0h0m-5-3h0m-8 1h0m-7-3h0m-3-2h0m-4 3h0m-4 4h0m-2 0h0m-3-5h0m-1 5h0m0-5h0m-13 2h0m0-1h0m-14 1h0m-16 10h0m16-1h0m2 2h0m5-2h0m4 0h0m8-3h0m1 2h0m3 0h0m2-4h0m1 1h0m3 0h0m0 6h0m3-6h0m5-1h0m4 7h0m0-6h0m5 1h0m6-2h0m8 7h0m4-5h0m0 4h0m1-2h0m1 2h0m0-5h0m1 3h0m14 2h0m7-2h0m1 0h0m11-4h0m4 0h0m3 7h0m13-6h0m0 4h0m2-2h0m1 1h0m4 3h0m4-5h0m6-2h0m2 4h0m8-2h0m18 13h0m-14-4h0m-4 1h0m-7 2h0m-1-2h0m-3 2h0m-2-4h0m-5 4h0m-8-1h0m-10-5h0m-14 1h0m-2 3h0m-9-1h0m0 3h0m0-6h0m-12 2h0m-7 5h0m-1-7h0m-3 0h0m-4 3h0m-2 2h0m-6-5h0m-25 4h0m-5-4h0m-10 2h0m-12 3h0m-5-4h0m-3 5h0m-3-1h0m-2-3h0m-20 12h0m11 0h0m6-3h0m1 2h0m4-4h0m4 1h0m7 4h0m3-1h0m2-2h0m3 0h0m1 0h0m4-1h0m0 5h0m2-7h0m1 2h0m5 0h0m6 5h0m1-1h0m0-6h0m1 5h0m0-1h0m1 2h0m3-4h0m3 1h0m22-3h0m3 7h0m0-5h0m3 0h0m6 4h0m0-3h0m1 0h0m5 4h0m8-4h0m1-1h0m7 4h0m10-2h0m0 2h0m11-6h0m40 7h0m5-4h0m0 3h0m7-2h0m1 1h0m14 4h0m-8 6h0m-1-7h0m-17 4h0m-9-4h0m-6 3h0m-3-1h0m-4 2h0m-5-3h0m-9 6h0m0-7h0m-1 2h0m0 0h0m-4 2h0m-13-3h0m-5 3h0m-2 0h0m-1 3h0m-1-6h0m-2 5h0m-10 1h0m-6-3h0m-1 2h0m-1-2h0m0-1h0m-3 4h0m-3-5h0m-6 4h0m-26-3h0m-1-3h0m0 1h0m-4 6h0m-16-7h0m-4 3h0m-1 3h0m-3-5h0m-1 2h0m-10 3h0m-5-5h0m-1 1h0m-16-2h0m-8 5h0m-1 2h0m-5-3h0m4 11h0m1 0h0m1-4h0m0 1h0m10 1h0m3 0h0m4-4h0m0 3h0m7-2h0m11 1h0m3 1h0m2 2h0m3-6h0m2 2h0m12 2h0m1 2h0m1 0h0m0 1h0m6 0h0m5 0h0m7-7h0m1 1h0m3 3h0m4 2h0m2-6h0m10 1h0m6 4h0m6-3h0m9 4h0m3-5h0m2 6h0m9-6h0m1 0h0m6 6h0m1 0h0m12-3h0m7-2h0m3 4h0m1-5h0m5 2h0m0 4h0m6-7h0m5 7h0m6-5h0m3 5h0m0-3h0m4-3h0m1 2h0m2 0h0m4 2h0m1-3h0m3 2h0m3 2h0m0 0h0m2-3h0m1 2h0m0-4h0m5 5h0m1-6h0m9 7h0m4 7h0m0 1h0m-1-6h0m-6 6h0m-3-7h0m-4 2h0m-1 0h0m-2 5h0m-2-5h0m-21-1h0m-1 5h0m-4-4h0m-4 4h0m-6 1h0m-16-4h0m-11 4h0m-3-3h0m-2 3h0m-3-7h0m-2 6h0m-3 0h0m-1-2h0m-5-3h0m-2 4h0m-4-5h0m-7 4h0m-1 0h0m-8-3h0m-7 3h0m-4 2h0m-11-2h0m-1-2h0m-1 3h0m-9 1h0m-2-2h0m-9-2h0m-2 2h0m-1 0h0m-4 1h0m-12-4h0m-4 2h0m-13 2h0m-3-5h0m-5 5h0m-16 0h0m-1-4h0m-5 1h0m-2 0h0m-14 2h0m0 3h0m-5-1h0m-5 4h0m2 0h0m3-1h0m0 0h0m4 0h0m12-1h0m3 7h0m2-6h0m4 1h0m19-1h0m5 2h0m5 0h0m5 1h0m2 1h0m5-4h0m4-1h0m3 1h0m5 6h0m2-7h0m1 0h0m10 3h0m3 2h0m22 2h0m2 0h0m0-5h0m3 1h0m3 0h0m2-2h0m1-1h0m2 7h0m11-5h0m1-2h0m16 4h0m10-3h0m3 2h0m7-3h0m0 4h0m8-3h0m0 6h0m4-2h0m13 2h0m3-1h0m5-5h0m18-1h0m5 4h0m2 3h0m0-4h0m6 1h0m0 3h0m2-7h0m2 2h0m2 0h0m2 5h0m1-2h0m1-3h0m3 1h0m17-2h0m5 1h0m-9 7h0m-2 3h0m-38 2h0m-2 1h0m-8 0h0m-4-4h0m-1-1h0m-1 1h0m0 3h0m-2-1h0m-31-4h0m-6 0h0m-15 0h0m-2-1h0m-3 3h0m-3 4h0m-2-4h0m-3 2h0m-1-4h0m-13-1h0m-9 1h0m-10 5h0m-6-1h0m-3 1h0m-2-2h0m-7-1h0m-14 0h0m-7-1h0m-2-1h0m-4 0h0m-5 0h0m-3 6h0m-7-6h0m-5 6h0m-17-3h0m-13-2h0m-4 4h0m0-2h0m-3-4h0m-2 3h0m-2-2h0m-7 2h0m-9 3h0m-5 7h0m3 2h0m1-3h0m5-2h0m6-1h0m2-1h0m8 3h0m2 1h0m1-3h0m2 6h0m5-2h0m4-1h0m4 1h0m1-3h0m0 2h0m7-3h0m5 2h0m4-1h0m1 3h0m1-5h0m6 3h0m2 2h0m1-1h0m1-4h0m8 0h0m3 5h0m2 2h0m0-1h0m1-1h0m0-4h0m7 3h0m0-4h0m3 2h0m5-2h0m5 0h0m4 5h0m1-5h0m6 5h0m12 1h0m0-4h0m35 4h0m1-4h0m5-1h0m7 2h0m1 4h0m4-5h0m2 3h0m10 0h0m2 1h0m3-2h0m3-2h0m12 5h0m7-7h0m0 0h0m12 7h0m2-3h0m1 3h0m0-6h0m9 0h0m1 2h0m4 2h0m23-1h0m-28 8h0m-44-1h0m-5 1h0m-2-2h0m-3-2h0m-1 5h0m-7 1h0m-14-2h0m0-1h0m0-2h0m-3 3h0m-7-1h0m-1 2h0m-4-4h0m-4 6h0m-11-5h0m-4 1h0m0-1h0m-11 2h0m-7-1h0m-7-3h0m-9 6h0m-4-1h0m0-2h0m-6 2h0m-5-5h0m-15 7h0m-3-5h0m0 2h0m-4-1h0m-1 3h0m-3-1h0m-6-4h0m-3 3h0m0-3h0m-17 2h0m-3 1h0m0-1h0m-4-2h0m-4 4h0m-7-4h0m-2 0h0m-8 4h0m-1-3h0m-8 4h0m-3 1h0m-2-5h0m10 10h0m7 2h0m2-6h0m0 2h0m6 2h0m7 3h0m0-2h0m13-1h0m1 1h0m2-4h0m4 4h0m2 1h0m4-6h0m7 1h0m2 6h0m2 0h0m11-4h0m0 1h0m8 0h0m8 2h0m12-3h0m0 0h0m3-2h0m0 6h0m4-4h0m11-2h0m4 6h0m4-3h0m3 1h0m1-1h0m0 2h0m3-3h0m5 2h0m5-2h0m1-1h0m1 5h0m1-6h0m1 6h0m9-7h0m4 0h0m4 2h0m2-2h0m2 1h0m10 3h0m2 0h0m8-4h0m-42 9h0m-3 1h0m-10 3h0m-7-4h0m-5 5h0m0-4h0m-16 1h0m-5 4h0m-3-6h0m-2 0h0m-5 2h0m-5 4h0m-7-3h0m-5 1h0m-3-1h0m-1 2h0m-6-2h0m-2-3h0m-4 0h0m-8 0h0m-3 2h0m-18 3h0m-1-5h0m-1 0h0m-4 0h0m-7 4h0m-13 3h0m7 7h0m8-6h0m1-1h0m8 4h0m1-2h0m1-1h0m2 5h0m3-5h0m6-1h0m3 7h0m1-5h0m2-2h0m13 0h0m15 3h0m0 1h0m5-3h0m6 4h0m15-5h0m1 0h0m8 4h0m5 3h0m2-7h0m2 7h0m23-7h0m6 0h0m-48 15h0m-3-6h0m0 6h0m-7-3h0m0-4h0m-6 7h0m-1-3h0m-2-4h0m-3 4h0m-6 3h0m0-7h0m-7 5h0m-8 0h0m-1-3h0m-1 2h0m-2-1h0m-7-1h0m0 0h0m-3 1h0m-3 0h0m-11-3h0m-6 4h0m-6-3h0m31 10h0m7-3h0m7 3h0m4 1h0m4-2h0m12-1h0m-17 8h0m-11-1h0m-1 1h0m8 11h0"/><path transform="scale(.25)" fill="none" stroke="#D89000" stroke-width="5.2" stroke-linecap="round" d="M0 0m717 156h0m-4 3h0m-14-6h0m-5 4h0m-2 0h0m-8 2h0m-10-4h0m-15 3h0m-19-2h0m-12-1h0m-16 12h0m9-5h0m10-2h0m3 0h0m6 4h0m6 1h0m2-5h0m3 6h0m4-3h0m2 3h0m1-3h0m0-3h0m3 0h0m12 7h0m4-6h0m6-1h0m6 1h0m10 2h0m2 4h0m1-1h0m5-2h0m2-1h0m7 1h0m2 1h0m0-4h0m5 0h0m10 5h0m11 0h0m1-3h0m3 0h0m1 2h0m2-5h0m23 14h0m-2-4h0m-6 5h0m-8 0h0m-5-1h0m-1-5h0m-19 0h0m-19 4h0m-4-3h0m-11 4h0m-2-2h0m-5-3h0m0 0h0m-2 6h0m-1-4h0m-5-2h0m-8 5h0m-2 0h0m-2-1h0m-17 0h0m0-3h0m-4-1h0m-14 1h0m-7 0h0m0 2h0m-1-4h0m-1 2h0m-1 1h0m-7 0h0m-2 0h0m0 3h0m-2 0h0m-6-6h0m-2 6h0m-9 5h0m5-3h0m9 5h0m14-3h0m4 4h0m3 1h0m1-2h0m1 2h0m3 0h0m2-1h0m0-5h0m2 5h0m4-5h0m2 3h0m3 0h0m7-2h0m0 3h0m3 0h0m2-3h0m1 4h0m4-1h0m2-2h0m1-3h0m21 2h0m5 1h0m3 3h0m0-3h0m2 2h0m2-1h0m0 2h0m3 1h0m9-1h0m1-1h0m13 0h0m6-3h0m1 2h0m2-2h0m5 5h0m4-1h0m1-4h0m1-2h0m1 6h0m3-3h0m2-2h0m3 2h0m2-3h0m6 6h0m1-2h0m1 3h0m10-4h0m3 0h0m8 0h0m35 8h0m-4 3h0m-15-6h0m-5 7h0m-14-5h0m-9 0h0m-3 4h0m-4-1h0m-6-4h0m-18 0h0m-1-1h0m-20 2h0m-6 0h0m-11 2h0m-1 1h0m-6 2h0m-9-1h0m-10-6h0m-2 0h0m-3 0h0m-3 4h0m-4-3h0m-1 3h0m0 0h0m-1-1h0m-8-2h0m-2 5h0m-3-3h0m-1 0h0m0 2h0m0-2h0m-19 2h0m-7-1h0m-2 1h0m-7-4h0m-14 4h0m-5-4h0m-11 12h0m4-3h0m6 3h0m8-3h0m4-1h0m8 4h0m3-3h0m4 0h0m2-1h0m2 3h0m13 3h0m3-6h0m10-1h0m3 2h0m9 2h0m0 1h0m1 0h0m0-3h0m1 5h0m1-2h0m5 2h0m3-6h0m5 5h0m19-3h0m10-1h0m1 0h0m16 3h0m6-4h0m0 1h0m12 3h0m1 1h0m2-5h0m1 5h0m15-4h0m13 4h0m6-4h0m5-2h0m13 7h0m4-7h0m10 4h0m20 11h0m-3 0h0m-4-4h0m-5-1h0m-5 1h0m0 4h0m-5-4h0m-2 2h0m-1 2h0m-11-1h0m-2-1h0m-7 1h0m-1-1h0m-8-1h0m-4 1h0m-1-3h0m-7 5h0m-2-3h0m-9 2h0m-19 1h0m-6-3h0m-13-2h0m0-1h0m-1 2h0m-1 3h0m-2-3h0m-3-3h0m-1 4h0m-3 0h0m-2 3h0m-3-5h0m-1 4h0m-1 0h0m-1-1h0m-2-5h0m-2 5h0m-3 2h0m0-6h0m0 2h0m-8 4h0m-3-1h0m-2-6h0m-24 4h0m-7 2h0m-2-1h0m-5 1h0m-1 1h0m-1 0h0m-1-2h0m-1 2h0m-2-2h0m0 0h0m-1 1h0m-3-6h0m0 3h0m-4 4h0m-2-2h0m-11 2h0m0-7h0m-16 4h0m-5 3h0m0 0h0m-4 1h0m2 4h0m4 0h0m26-1h0m0 2h0m1 0h0m1-2h0m3 1h0m1-4h0m2 0h0m19 0h0m2 7h0m3 0h0m1 0h0m9-1h0m2 1h0m0-3h0m11 1h0m8 2h0m2-4h0m5 2h0m2 1h0m1 0h0m1 1h0m0 0h0m2-3h0m4 2h0m8-5h0m6 2h0m9 1h0m12-2h0m1-1h0m1 4h0m12-5h0m2 7h0m2-1h0m1-1h0m8 1h0m1-1h0m6 2h0m3-1h0m1 0h0m0-1h0m3 1h0m4-1h0m1-5h0m0 5h0m4-5h0m3 6h0m9-5h0m3 2h0m12 3h0m0-3h0m4-2h0m11 2h0m3 3h0m1-3h0m0 11h0m-15-6h0m0 0h0m-5 5h0m-7-2h0m-2 2h0m-12-4h0m-1 1h0m-4 4h0m-7 0h0m-4-4h0m-9-1h0m-2 2h0m-8 0h0m-6 3h0m-8 1h0m-5 0h0m0-2h0m-6-2h0m-5-1h0m-5 2h0m0 1h0m-5-3h0m-11 5h0m-11-1h0m-1-6h0m-3 5h0m-7-1h0m-1-2h0m-2 5h0m-3-5h0m-18 3h0m-2-5h0m-11 6h0m-1-1h0m-18 1h0m-3-4h0m-1 3h0m-4-3h0m0 4h0m-2-1h0m-2-3h0m-12 1h0m21 8h0m0-3h0m12 7h0m2-5h0m6 2h0m4-4h0m6 2h0m1 1h0m1-2h0m4 0h0m0 2h0m3 3h0m0-2h0m7-3h0m14 3h0m5-3h0m1 5h0m7-6h0m1 3h0m13 1h0m17 0h0m1 3h0m6-4h0m7-2h0m6 1h0m1 1h0m11-2h0m1 4h0m2-4h0m0 2h0m5 0h0m1 4h0m2-3h0m25 2h0m8-5h0m0 3h0m21-1h0m6 2h0m1 0h0m2 0h0m4-5h0m-9 8h0m-2 4h0m-10-3h0m-2 5h0m-1-4h0m-1-1h0m-6 2h0m-2-2h0m-4 0h0m-2 1h0m-6 1h0m-3-3h0m-5 5h0m-4 0h0m-2 0h0m-1 1h0m-8-1h0m-1-1h0m-13-3h0m-9 6h0m-3-2h0m-3 0h0m-2-1h0m-7-3h0m-8 3h0m-8 3h0m-6-3h0m-5 2h0m-1-2h0m-2 2h0m-18-5h0m-11 2h0m-1 1h0m-4-4h0m-5 5h0m-8-1h0m-14-4h0m48 13h0m6-2h0m3 0h0m6 3h0m1-6h0m4 5h0m5 1h0m6-6h0m14 4h0m18-4h0m2 1h0m0 0h0m1 3h0m17 1h0m4 2h0m6-4h0m6 2h0m4-2h0m4 2h0m4-2h0m2 1h0m2-3h0m4 6h0m7-5h0m14 2h0m6-3h0m-4 8h0m-3 3h0m-18-2h0m-3 5h0m-5-7h0m-17 2h0m-2-2h0m-9 5h0m-53-2h0m26 10h0m25-1h0m0 2h0m12-2h0m20-4h0m6 2h0m3-1h0m6 0h0m2 0h0m-59 7h0"/><path transform="scale(.25)" fill="none" stroke="#A3A500" stroke-width="5.2" stroke-linecap="round" d="M0 0m730 567h0m5-6h0m2 4h0m15-1h0m11 9h0m-1 2h0m-11-3h0m-9 1h0m-5 1h0m-4 0h0m-2-1h0m-6 0h0m11 4h0m18-1h0m12 6h0m4-2h0m4-4h0m28 15h0m-14-2h0m-10 0h0m-1 0h0m-10-3h0m-9 2h0m-14 1h0m-1-5h0m-6 1h0m-14 2h0m-6-2h0m-7 0h0m-4 6h0m0-2h0m-1 2h0m-12 6h0m3-3h0m9 5h0m12-2h0m4 0h0m3-1h0m2-3h0m0-1h0m0 0h0m4 3h0m5-2h0m26 5h0m5-2h0m1-4h0m8 6h0m10-4h0m1-2h0m13 13h0m0 1h0m-5 0h0m-6-6h0m-4 0h0m-8 5h0m-1-2h0m-8-1h0m0 3h0m-2 0h0m-29-4h0m0 0h0m-2 3h0m-4-1h0m-2 0h0m-3-2h0m-4 1h0m-1 0h0m-1 4h0m-12-6h0m-4 3h0m-1 0h0m-1 1h0m-2 3h0m-9-5h0m-1 4h0m-2 0h0m-2 1h0m-1-5h0m1 12h0m5-1h0m19-3h0m3 1h0m13-3h0m9 7h0m2-5h0m0-1h0m1 2h0m6-3h0m1 5h0m1-2h0m9 1h0m11 0h0m1 1h0m3-2h0m3-3h0m18 2h0m3 3h0m6 6h0m0-1h0m-14-2h0m0 1h0m-11-1h0m-8 6h0m-14 1h0m-4-6h0m-2 0h0m-1-1h0m-4 1h0m-16 5h0m-14-1h0m-5-1h0m-6-1h0m-2 2h0m-14-5h0m-15 14h0m1-2h0m3-1h0m18 1h0m11 0h0m10-3h0m3 4h0m13-4h0m3 0h0m0 2h0m1-2h0m0 0h0m3-1h0m5 3h0m4 0h0m12-2h0m4 4h0m21-1h0m15 3h0m28 6h0m-12-2h0m-26 4h0m-49-2h0m-4-1h0m-7 0h0m-4 0h0m-2-1h0m-8 3h0m-2-4h0m-3 0h0m-4-1h0m-2 4h0m-11 0h0m-3-1h0m-1 2h0m-4 0h0m-1-4h0m-2 3h0m-1 2h0m-1-2h0m-2-3h0m-5 4h0m0 1h0m-3 0h0m0 8h0m7-4h0m0-2h0m3 5h0m15-2h0m0-4h0m7 2h0m1 0h0m1 5h0m7-1h0m9 1h0m2 0h0m8-5h0m1 3h0m22-4h0m2 2h0m6-3h0m1 5h0m6 0h0m1-4h0m7-1h0m1 6h0m1-1h0m15 0h0m15 2h0m11-6h0m6 1h0m0-2h0m16 2h0m3 5h0m4-3h0m1 2h0m81 1h0m9-2h0m18 1h0m0 3h0m-11 0h0m0-1h0m-5 5h0m-2 1h0m-9-3h0m0 4h0m-14-6h0m-1 6h0m-2-1h0m-2-1h0m-20 2h0m-38-2h0m-4 0h0m-3-5h0m-3 3h0m-5 4h0m-11-2h0m0 0h0m0-3h0m-23 3h0m-9-1h0m-7 2h0m-5 1h0m-5-6h0m-3 4h0m-1-3h0m-3 1h0m-9 3h0m-8-3h0m-1-3h0m-2 5h0m-3 2h0m-6-4h0m-2-2h0m-5 1h0m-1-1h0m-8 1h0m-10 4h0m-3 1h0m-16-6h0m-4 0h0m-5 4h0m-4-5h0m-4 6h0m-1 1h0m-4-3h0m-8 0h0m-186-1h0m-10-1h0m206 6h0m2 0h0m0 3h0m1-2h0m8 3h0m8-3h0m3-1h0m2 3h0m11 1h0m4-1h0m1 4h0m10-4h0m18 0h0m21 4h0m18 0h0m5-2h0m8 0h0m8-4h0m9 4h0m4 1h0m0 1h0m17-6h0m1 1h0m3 4h0m1-2h0m0 2h0m7-1h0m10-3h0m1 4h0m1-6h0m0 1h0m4 3h0m1-4h0m1 2h0m3 3h0m0 0h0m2 2h0m33-4h0m9-2h0m21 4h0m12-3h0m-41 9h0m-34-3h0m-23 5h0m-3-1h0m-3-2h0m-5 3h0m-1-4h0m0 0h0m-1-1h0m-11 6h0m-1-4h0m-2 1h0m-9-1h0m-9-1h0m-2 0h0m-4 5h0m-5-5h0m-14 5h0m-6 1h0m-12-2h0m-6-5h0m-9 4h0m-35 3h0m-13-5h0m-3-1h0m-1 2h0m-4-2h0m-7 0h0m-7 0h0m-10 3h0m-6-4h0m9 14h0m1-3h0m0 4h0m7 0h0m2-6h0m3 0h0m1 1h0m0 3h0m2 2h0m9-3h0m1 0h0m8-2h0m6 4h0m20-6h0m3 6h0m7-2h0m8 1h0m4-3h0m2 3h0m2 2h0m11-5h0m8-1h0m7 0h0m0 0h0m14 0h0m7 5h0m1 1h0m11-5h0m2-2h0m0 2h0m6 2h0m8 3h0m8-5h0m11 4h0m4-4h0m1-1h0m5 4h0m5-1h0m1 0h0m23-1h0m-62 11h0m-18 1h0m-1-6h0m-5 4h0m-7-2h0m-7-1h0m0 0h0m0 0h0m-30 3h0m-6 1h0m-4 1h0m-1-5h0m-2 1h0m-13-2h0m0 0h0m-5 1h0m-4 0h0m-17 3h0m-21-5h0m-5 5h0m-4-1h0m-2-2h0m-2-1h0m0 0h0m-7 5h0m2 8h0m13-1h0m8-1h0m4 0h0m5 2h0m0-6h0m3 0h0m1 3h0m2 3h0m2-5h0m3 0h0m8 6h0m11-7h0m9 0h0m0 1h0m25-1h0m1 5h0m10 2h0m4-5h0m5-1h0m13 2h0m-52 5h0m-15 4h0m-4 3h0m-1-4h0m-3-1h0m-19-2h0m-2 3h0m0-1h0m-1 5h0m0-7h0m-22 3h0m-1 3h0m3 8h0m1-5h0m17 4h0m13-2h0m3 4h0m-46 1h0m-24 15h0m7 0h0m6-7h0m-5 9h0m-2 1h0m-2-2h0m-10 7h0m-1-5h0m-11 18h0m-1 1h0m-5 10h0m-6 5h0m-7 5h0m0 5h0"/><path transform="scale(.25)" fill="none" stroke="#39B600" stroke-width="5.2" stroke-linecap="round" d="M0 0m860 551h0m7-1h0m37-1h0m12 2h0m4 0h0m8 6h0m-3 2h0m-1-2h0m-2 2h0m-1-5h0m-2 0h0m-3 0h0m-2 2h0m-19 1h0m-15-2h0m-2 1h0m0 0h0m-4-3h0m-3 5h0m-9-1h0m-10-5h0m-16 3h0m-12 2h0m-25 2h0m-2 6h0m3-1h0m6 0h0m1 2h0m15 1h0m2-6h0m4 2h0m3 4h0m2 0h0m7-7h0m25 5h0m1-5h0m8 2h0m2 3h0m1-2h0m0 2h0m18 2h0m3-6h0m0 5h0m7 0h0m18-5h0m1 1h0m3 5h0m0 0h0m10-3h0m1-2h0m2 3h0m7-1h0m10 1h0m9 9h0m-4-4h0m-2 1h0m-1-1h0m-2-2h0m-7 7h0m-1-1h0m-5-3h0m-8 3h0m-1-2h0m-2-2h0m-11-1h0m-6 1h0m-3 3h0m-17-5h0m-2 1h0m-4 1h0m-5 2h0m-13 3h0m-5 0h0m-3-4h0m-5 2h0m-1-5h0m-1 7h0m-5-2h0m-9-5h0m-12 4h0m-5-4h0m-4 5h0m-16 1h0m-4 0h0m-7-4h0m15 9h0m5-3h0m9 0h0m4 1h0m2 1h0m3-2h0m3 6h0m3-3h0m1 2h0m10 1h0m0-4h0m0 0h0m2-1h0m1 3h0m3-3h0m3 4h0m3 2h0m13-6h0m17 2h0m10 0h0m3 2h0m20-3h0m13 4h0m21-5h0m4 3h0m4 1h0m1 6h0m-1 1h0m-11-4h0m-2 7h0m-12-4h0m-1 1h0m-1 2h0m-5-3h0m-10 2h0m-5-4h0m-4-1h0m-3 1h0m0 1h0m-18 1h0m-6 1h0m-4-2h0m-5 3h0m-16-4h0m-7 4h0m0 1h0m-4-3h0m-7 0h0m-9-3h0m0 5h0m-6 0h0m-7-5h0m-19 13h0m2-3h0m4-1h0m2 0h0m10 1h0m8 5h0m0-7h0m14 6h0m3 1h0m2-5h0m5 0h0m22-2h0m20 0h0m7 6h0m2-1h0m6-5h0m5 3h0m2 2h0m11 1h0m12-1h0m3-2h0m3 3h0m8-6h0m14 2h0m3 1h0m8 2h0m-6 3h0m-4 4h0m-23-2h0m-1 5h0m-6-7h0m-3 6h0m-6-1h0m-4-4h0m-3 1h0m-1-2h0m-1 0h0m-8 5h0m-4-3h0m-7-2h0m-2 0h0m-23 2h0m-1 4h0m-2-3h0m-2 3h0m-10-3h0m-6-1h0m-4-1h0m-3 0h0m-2 1h0m-2-1h0m0 6h0m-1-2h0m-2-5h0m-12 1h0m-7-1h0m-6 7h0m-5-4h0m-1 0h0m-2-2h0m-2 0h0m-1 6h0m-7-1h0m-200 6h0m7 2h0m8 1h0m2-1h0m196-5h0m5 5h0m10-5h0m0 6h0m0 0h0m4-5h0m0 1h0m12-1h0m26 2h0m21 0h0m1-1h0m4 2h0m3-4h0m2 3h0m7-4h0m17 4h0m2 3h0m20-5h0m10 4h0m1-5h0m0 2h0m2 3h0m3-3h0m10-3h0m2 8h0m0 3h0m-3 2h0m-6-2h0m-3 1h0m-5-4h0m-1 7h0m-9-3h0m-20 2h0m0-5h0m-1 2h0m-6-2h0m-2 6h0m0-6h0m-4-1h0m-1 0h0m-14 5h0m-26-1h0m-7 1h0m-6 1h0m-1-3h0m-1 4h0m-1-4h0m-2 4h0m-7-4h0m-7-1h0m-1 4h0m-3-5h0m0-1h0m-3 6h0m-19-6h0m-190 0h0m184 14h0m9-5h0m9 6h0m5-4h0m4 1h0m0-3h0m5 5h0m4-4h0m7 1h0m1-2h0m9 0h0m3 4h0m2 2h0m1-1h0m13-6h0m1 0h0m5 2h0m9 0h0m8 5h0m2-2h0m1 2h0m0-5h0m3 2h0m6-4h0m2 0h0m4 5h0m2-1h0m5 3h0m2-3h0m8-2h0m13 0h0m2-2h0m0 6h0m5-6h0m1 5h0m0-2h0m9-1h0m-19 8h0m-28 0h0m-8 2h0m0 1h0m-7 1h0m-8 0h0m-3-6h0m0 0h0m-8 5h0m-9-5h0m-3 5h0m-11-5h0m-6 2h0m-1 4h0m-2-5h0m-9 2h0m0 2h0m-1-3h0m-10 2h0m-3 0h0m-8 3h0m23 4h0m6-3h0m7 4h0m13-4h0m0 4h0m6 0h0m24-4h0m20 5h0m10-5h0"/><path transform="scale(.25)" fill="none" stroke="#00BF7D" stroke-width="5.2" stroke-linecap="round" d="M0 0m789 453h0m36 5h0m0-2h0m-9 2h0m-4 5h0m-6-1h0m-10-1h0m-13 0h0m-7-2h0m-7-1h0m0 4h0m-4-4h0m-2 5h0m-10-1h0m-18-2h0m-9 1h0m-33 4h0m5 4h0m1-4h0m9 1h0m2 3h0m8 1h0m15-3h0m6 0h0m1 3h0m4-4h0m2-2h0m5 2h0m13 5h0m1-3h0m13-2h0m18 0h0m3 2h0m0-1h0m1 4h0m1-1h0m0-2h0m2-2h0m17 2h0m2-1h0m0 0h0m25 7h0m-9 5h0m-3-4h0m-1 3h0m-12-3h0m0 3h0m-7-6h0m-5 5h0m-3 0h0m-13-3h0m0 1h0m-1 0h0m-12-1h0m0-2h0m-5 0h0m-5 3h0m-5 1h0m-8 0h0m0-4h0m-2 3h0m-1 1h0m-3-3h0m0 6h0m-2-5h0m-1-1h0m-5 3h0m-13-1h0m-21 2h0m-15-5h0m-1 2h0m-2 4h0m-5-3h0m-4 4h0m-8 7h0m3-6h0m9 0h0m15 5h0m17-3h0m2-2h0m18 6h0m15 1h0m3-2h0m1 2h0m6-4h0m2 3h0m1-6h0m2 0h0m21 6h0m0-2h0m2-3h0m2-1h0m2 2h0m7 1h0m2 1h0m1 0h0m3 1h0m2 2h0m5-7h0m3 0h0m7 1h0m6-1h0m0 3h0m9 2h0m2-1h0m12 5h0m-11 4h0m-3-3h0m-10 4h0m-2-6h0m-4 5h0m0 1h0m-7-2h0m-3-1h0m-1 0h0m-8 4h0m-5-4h0m0 2h0m-6-5h0m-7 7h0m-1-5h0m-10 5h0m-3 0h0m-9-5h0m-1 3h0m-2-2h0m-1 2h0m-9-3h0m-3-1h0m-6 2h0m0-2h0m-5 0h0m-17 3h0m0-2h0m-11 4h0m-9-2h0m-13-1h0m-4 4h0m0-6h0m-16 5h0m-14 0h0m1 7h0m3-3h0m0 0h0m8 1h0m10 3h0m9-4h0m1 2h0m6-1h0m1-2h0m5 0h0m11 2h0m2 2h0m14 0h0m5-4h0m5 4h0m4-2h0m1 2h0m4 2h0m4 0h0m3-4h0m1 0h0m7 0h0m4-3h0m3 5h0m1-1h0m5-1h0m4 2h0m7 2h0m2-5h0m1 3h0m7-3h0m2 4h0m8-6h0m32 5h0m0-2h0m6-3h0m1 5h0m2-5h0m0 4h0m7 2h0m1-4h0m2 4h0m2-1h0m5 2h0m17-1h0m-7 6h0m-6 1h0m-3-2h0m-1 0h0m-2 2h0m-23-3h0m-7 0h0m-4-1h0m-1-1h0m-18 6h0m-7-1h0m-8-5h0m-3 7h0m-7-3h0m-3-3h0m-6 0h0m-3 0h0m-10-1h0m-16 0h0m-2 7h0m-1 0h0m-9-3h0m-5 2h0m-17-3h0m-6 0h0m-2 0h0m-14 1h0m-1 0h0m-1 3h0m-3 0h0m-3-5h0m-3 1h0m-20-2h0m-1 3h0m28 10h0m1-6h0m1 1h0m1-1h0m0 1h0m1 2h0m13 4h0m1-4h0m15 3h0m10-6h0m3 2h0m1-2h0m1 1h0m1 3h0m0 0h0m3-4h0m8 5h0m18-3h0m7 0h0m1 4h0m4-6h0m14 5h0m2-1h0m3-1h0m0 0h0m1-3h0m0 2h0m3 4h0m5-3h0m2-1h0m1 5h0m7-2h0m0 0h0m6-5h0m3 0h0m0 0h0m6 0h0m0 2h0m1-2h0m0 4h0m13-2h0m6 1h0m2 2h0m0-5h0m10 6h0m13 0h0m0-2h0m3-3h0m24 13h0m-5-1h0m-5-2h0m-1 0h0m-4 3h0m-5-5h0m-1 0h0m-1 4h0m0-3h0m-1 2h0m-5-1h0m-4 4h0m0-1h0m-16-6h0m-5 3h0m-2 1h0m-16 2h0m-3-4h0m-22 2h0m-6-3h0m-1 2h0m-4-3h0m0 6h0m-5-6h0m-15 5h0m-1-5h0m0 4h0m-3 0h0m-5-1h0m-20 1h0m-2 0h0m-2-4h0m-3 6h0m-2 1h0m-7-5h0m-7-1h0m-4 2h0m-14 1h0m-2 3h0m-6-2h0m-1-4h0m-2 2h0m-4-2h0m28 14h0m21-4h0m2 1h0m2 0h0m4 1h0m9-3h0m4 1h0m0 1h0m0-2h0m2-2h0m9 3h0m1 2h0m35-1h0m1-3h0m3 5h0m3-1h0m4-4h0m3 5h0m3-6h0m3 1h0m2 6h0m29-3h0m1-4h0m14 1h0m5 6h0m5-5h0m0-2h0m9 6h0m1 0h0m1 0h0m0-3h0m0-3h0m2 0h0m4 3h0m0-1h0m5-1h0m3 14h0m-21-4h0m-1 1h0m-2 1h0m-6-5h0m-2 6h0m-6-1h0m-2 0h0m-16 2h0m-16-1h0m-9-5h0m-9 0h0m-32 5h0m-22-2h0m-7-1h0m-6-1h0m-7 0h0m-5 0h0m-18 2h0m-4-2h0m4 6h0m4 3h0m1 4h0m1-7h0m4 2h0m5 0h0m2 5h0m3-5h0m1 2h0m11-2h0m27-1h0m14 2h0m1-1h0m26 1h0m14 2h0m24-1h0m9 1h0m6-2h0m1 4h0m6-4h0m1 2h0m30-4h0m2 0h0m-69 8h0m-23-1h0m-80 1h0"/><path transform="scale(.25)" fill="none" stroke="#00BFC4" stroke-width="5.2" stroke-linecap="round" d="M0 0m259 350h0m-21-2h0m-1 1h0m-6-1h0m3 5h0m49 6h0m23 6h0m-10-5h0m-2 5h0m-3-3h0m-7 3h0m-5 1h0m-10-4h0m0 1h0m-3 3h0m-4 1h0m-2 0h0m0-3h0m-1 0h0m-1 0h0m-25 11h0m6-5h0m5 2h0m9-1h0m3 3h0m1-5h0m11 3h0m2-4h0m1 5h0m5 0h0m6 1h0m4-3h0m22-1h0m2-2h0m1 5h0m1-5h0m6 4h0m10 10h0m-8 0h0m-5 1h0m-1-6h0m-5 1h0m0 3h0m-1 0h0m-2 2h0m0-3h0m-4-4h0m-7 5h0m-7 0h0m-3 1h0m-10-5h0m-3 0h0m-4 6h0m-3-6h0m-4 4h0m-2 2h0m-4 0h0m-10-2h0m-10-4h0m-4 6h0m-11 4h0m9-2h0m4 4h0m4-4h0m2 5h0m2 1h0m0-2h0m3-3h0m2 4h0m1-3h0m4-1h0m4-2h0m2 5h0m5 0h0m5-4h0m6-1h0m1 0h0m1 7h0m1 0h0m2-6h0m5 0h0m1 5h0m3-6h0m5 3h0m4 4h0m10 0h0m0-6h0m3 0h0m3 5h0m4-6h0m2 0h0m10 6h0m-2 6h0m-2 0h0m-1 3h0m-1-3h0m-6 3h0m-7-7h0m-2 7h0m-7 0h0m-10-6h0m-2 1h0m-4 1h0m-2 0h0m-6 3h0m-13 0h0m-1-3h0m-2 1h0m-17 1h0m-6-1h0m0-3h0m-2 1h0m-5 1h0m-5 0h0m-3-2h0m-5 1h0m0 5h0m4 3h0m0 5h0m7-3h0m8 2h0m1 0h0m2-2h0m5-2h0m5-1h0m2 1h0m1 1h0m1 2h0m9 0h0m10 0h0m3-4h0m6-1h0m2 5h0m2-3h0m2 1h0m8-1h0m6 0h0m-3 7h0m-5 3h0m-7-4h0m-13 3h0m-1 0h0m-4-3h0m-14 4h0m-13-4h0m0 1h0m-17-1h0"/><path transform="scale(.25)" fill="none" stroke="#00B0F6" stroke-width="5.2" stroke-linecap="round" d="M0 0m810 183h0m20 7h0m-15-1h0m-5 2h0m0 1h0m3 2h0m13-1h0m-346 372h0m4 2h0m12 0h0m7 0h0m39 8h0m-34-7h0m-2 0h0m-6 3h0m-4 4h0m-1-2h0m-1 0h0m-7-3h0m-11 1h0m-6 5h0m12 2h0m5-2h0m5 0h0m4 1h0m5 0h0m2 2h0m2 1h0m4 3h0m7-4h0m8-3h0m8 15h0m-9-4h0m-2-1h0m-1 2h0m-2-4h0m-11 1h0m15 13h0m3 1h0m4-2h0m2 2h0m2-6h0m2 5h0m40 0h0m16 8h0m-12-4h0m0 5h0m-2-2h0m-1 1h0m-3-2h0m-3-2h0m-1 3h0m-9-5h0m-1 3h0m-1 2h0m-1 2h0m-3-3h0m-4 2h0m-8-6h0m0 1h0m-2 1h0m-4-1h0m-12 8h0m17 4h0m7-3h0m1-2h0m1 6h0m0-6h0m0 1h0m1 2h0m1 4h0m0-5h0m4 3h0m2 1h0m5-5h0m0 4h0m2-3h0m34 0h0m-10 12h0m-10-2h0m-3 1h0m-3-2h0m-1 4h0m-1-3h0m-1 2h0m-4-5h0m-1 5h0m-1-1h0m-1-2h0m-2 4h0m0-2h0m-2-4h0m-2 2h0m-4-3h0m-2 0h0m6 8h0m4 5h0m6-4h0m4 2h0m1 1h0m0-1h0m1-2h0m5 0h0m4 2h0m0 2h0m1 2h0m6-1h0m8 6h0m-1 2h0m-9-5h0m-4 1h0m-3 4h0m-1-4h0m-1-2h0m-4 3h0m-9 1h0m10 6h0m5 2h0m9 3h0m4-2h0m11 0h0m16 10h0m-8-1h0m-5-1h0m-2 0h0m-1-1h0m-1 1h0m-8 1h0m6 3h0m1 4h0m2-2h0m0-3h0m1 0h0m4 0h0m3 2h0m3 4h0m1-3h0m0-3h0m4 1h0m1 6h0"/><path transform="scale(.25)" fill="none" stroke="#9590FF" stroke-width="5.2" stroke-linecap="round" d="M0 0m572 756h0m1 3h0m3 2h0m15 20h0m0-4h0m-5 6h0m-32 3h0m4 2h0m18 0h0m3 2h0m7-1h0m0-4h0m13 6h0m0 0h0m3-2h0m5 1h0m7 4h0m-6-2h0m-1 4h0m-1-1h0m0 3h0m-4-4h0m-11-1h0m-2 2h0m-5 4h0m-3-2h0m-9-2h0m-3 4h0m-7-6h0m-8 1h0m-3 1h0m2 6h0m4 3h0m9 2h0m3-3h0m1-2h0m5 4h0m4 0h0m7-1h0m0-2h0m0 5h0m2-2h0m18-5h0m8 0h0m0 5h0m3 4h0m-6 5h0m-1-6h0m0 2h0m-3 5h0m-9-4h0m-4-3h0m-5 2h0m-12-1h0m-4 5h0m0 0h0m-1 1h0m-6-3h0m-8-2h0m14 7h0m7 6h0m5-3h0m1 1h0m1 1h0m4 1h0m4-5h0m7-2h0m27 4h0m-31 5h0m-1 0h0m-18 0h0"/><path transform="scale(.25)" fill="none" stroke="#E76BF3" stroke-width="5.2" stroke-linecap="round" d="M0 0m397 631h0m14 0h0m7 0h0m1-4h0m8 9h0m-1-2h0m-5 1h0m-7 4h0m-1-2h0m0-2h0m-7 2h0m-4 0h0m-2-3h0m-6 5h0m-1-2h0m0-2h0m-6 4h0m-1 3h0m4 1h0m4 3h0m6-1h0m4-5h0m2 6h0m1-2h0m11 1h0m3 2h0m3-3h0m4 0h0m4 0h0m0 3h0m6-2h0m1-1h0m5 8h0m-2-1h0m-3 2h0m-5-5h0m-6 6h0m-2-2h0m-1 2h0m-1-6h0m-4 1h0m-9 6h0m-13-3h0m-8-4h0m-1 1h0m-4 4h0m-4 0h0m6 3h0m8 0h0m17 1h0m22 5h0m2-3h0m7 3h0m12 0h0m86 103h0m-2-1h0m8 7h0m4 1h0"/><path transform="scale(.25)" fill="none" stroke="#FF62BC" stroke-width="5.2" stroke-linecap="round" d="M0 0m990 177h0m-672 127h0m7 9h0m-1 4h0m-7 2h0m-1-2h0m-2 0h0m-4-2h0m-3 3h0m-7-1h0m0 2h0m-17-6h0m-10 6h0m-3-1h0m-2-3h0m-4 4h0m-2-2h0m-3 2h0m-2 6h0m6-5h0m9 6h0m1 1h0m19-3h0m1-4h0m7 0h0m6 0h0m0 6h0m15-4h0m3 0h0m2-1h0m7 3h0m5-2h0m-24 10h0m-1 0h0m-14-2h0m-21-2h0m-1 6h0m-1-4h0m-1 5h0m-1-4h0m-2-2h0m-2 6h0m0-4h0m-2-1h0m-6-1h0m-1 1h0m-4 3h0m5 5h0m6 0h0m6 4h0m9 1h0m10-5h0m1 3h0m6 1h0m2-1h0m11-3h0m-12 8h0m-6 5h0m-4-2h0m-4 2h0m-5 0h0m-7-4h0m-8 4h0m-4-5h0m2 6h0m12 2h0m1 5h0m6-3h0m1 0h0m6-1h0m2 1h0m46 30h0m11 0h0m5-1h0"/><path transform="scale(.25)" fill="none" stroke="#F8766D" stroke-width="5.2" stroke-linecap="round" d="M0 0m678 349h0m-30 7h0m7 2h0m1 1h0m8-2h0m5-3h0m2 2h0m19 6h0m-13 5h0m-4-4h0m-1-3h0m-1 1h0m-11 5h0m-7-3h0m0 4h0m-1-4h0m0-1h0m-3 4h0m-3 1h0m-2-6h0m-2 5h0m0 1h0m-21 4h0m7-1h0m1 1h0m4 0h0m3 2h0m9 2h0m4-1h0m3-5h0m8 6h0m2-5h0m1 1h0m3 3h0m0-4h0m3 0h0m2 2h0m1-4h0m1 5h0m9-4h0m1 3h0m1 0h0m10-1h0m0-3h0m0 3h0m3-3h0m0 4h0m9-4h0m1 5h0m10 2h0m0-6h0m4 3h0m7-3h0m35 11h0m-17-4h0m-9 5h0m-1 1h0m-2-5h0m-1 2h0m-19-2h0m-6-1h0m-3 3h0m-4-2h0m-3 1h0m-18 0h0m-8 2h0m-10 0h0m0 2h0m-2-4h0m-4 0h0m-3 5h0m-13-4h0m-5 1h0m-5 3h0m-2 0h0m-1-3h0m-2-3h0m-7 0h0m-5 1h0m-2 3h0m-9 10h0m8-5h0m11 1h0m12 3h0m0-5h0m4 1h0m1 3h0m16 1h0m4 1h0m1-5h0m1 2h0m3 0h0m15-1h0m4 2h0m1-4h0m3-1h0m6 1h0m1 1h0m1 4h0m1-4h0m3 2h0m1-2h0m2 2h0m1 2h0m9 1h0m3-5h0m2 2h0m7 1h0m2-2h0m6-1h0m3 3h0m3 0h0m7-3h0m3 1h0m7 2h0m8-3h0m17 9h0m-1 1h0m-2-1h0m-3 1h0m-2 1h0m-12-3h0m-3-2h0m-2 0h0m-7 5h0m0 1h0m-2-5h0m-11 1h0m-6 2h0m-17 3h0m-7-2h0m-6-3h0m-1 2h0m-5 3h0m-1-1h0m0-5h0m-1 3h0m-1-3h0m-10 5h0m-10-1h0m-5-2h0m-3 3h0m-1-2h0m-4-3h0m-4 5h0m-4 0h0m-5-1h0m-5-2h0m-5-1h0m-1 3h0m-14-2h0m-11 0h0m-1 0h0m-3-3h0m-1 7h0m-12 6h0m11 2h0m2-1h0m1-6h0m0 0h0m1 2h0m10 3h0m14-2h0m0 2h0m5-3h0m7-2h0m4 4h0m4-3h0m8 2h0m4-2h0m3 5h0m0-5h0m7 3h0m2-2h0m7 0h0m11 4h0m2-5h0m3 4h0m14-2h0m6-3h0m1 2h0m3 0h0m10 1h0m4-1h0m2 5h0m0-3h0m8-4h0m5 4h0m1-1h0m8-3h0m3 2h0m1 5h0m5-4h0m1-1h0m1 5h0m11-1h0m7-3h0m5 1h0m1 3h0m3-2h0m3 2h0m8 6h0m-5-1h0m-2 2h0m-16-6h0m-9 2h0m-1-2h0m-6 7h0m-9-4h0m-8 1h0m-11-2h0m-5-1h0m-5 2h0m-6 2h0m-17 2h0m-8-6h0m-4-1h0m-7 2h0m-3-2h0m-8 4h0m-9-1h0m-1-1h0m-9 5h0m-9-5h0m-3-1h0m-3 1h0m-3 5h0m-5-1h0m-1-4h0m-4 1h0m-1-2h0m-2 1h0m-21 3h0m-7-3h0m-1 2h0m-1 1h0m0-4h0m-7 5h0m-14 3h0m4 1h0m5 2h0m2-2h0m1-2h0m2 1h0m4 5h0m0-1h0m7-3h0m13 1h0m6 2h0m13 2h0m2-1h0m4-5h0m4 5h0m0 0h0m1-1h0m5-5h0m8 5h0m1 1h0m15-5h0m1 0h0m11 6h0m10-1h0m3-2h0m3-2h0m5 5h0m19-1h0m13-4h0m7 4h0m9-4h0m16 5h0m5-3h0m0-2h0m2-1h0m1-1h0m9 6h0m5-3h0m0 0h0m2-1h0m7 0h0m17 2h0m4 2h0m-2 9h0m-2-6h0m-2 1h0m-13 5h0m-1-6h0m-3 3h0m-1-1h0m-4 1h0m-15-4h0m-1 4h0m-3 2h0m0-6h0m-4 7h0m-3-3h0m-1 1h0m-19 1h0m-17-6h0m-7 6h0m-3 1h0m-9-2h0m-2-1h0m0-2h0m-1-1h0m-4-1h0m-4 7h0m0-4h0m-7 3h0m-8 1h0m-1-6h0m-4 2h0m-3 0h0m-6 0h0m-8 3h0m0-3h0m-10 1h0m-1 0h0m-1 0h0m-4 2h0m-5-5h0m-4 1h0m-2 0h0m-4 0h0m-1-2h0m-4 3h0m0 2h0m-1-5h0m-4 0h0m-3 5h0m-2-3h0m-2 5h0m-11-1h0m-1-2h0m-1-2h0m-4 3h0m-6-2h0m-2 1h0m-4-4h0m-4 5h0m-1-2h0m-7 0h0m-4 4h0m-2-4h0m-3 4h0m-1-5h0m-12 2h0m-6 6h0m8 1h0m1 2h0m2-3h0m7-1h0m17 4h0m5 0h0m3-1h0m5 2h0m3-4h0m9 0h0m10-1h0m5-1h0m1 7h0m2-7h0m5 5h0m9 0h0m4-5h0m4 7h0m1-3h0m3-4h0m10 4h0m10-4h0m4 4h0m7-1h0m19 1h0m17 3h0m8-6h0m1 2h0m0-2h0m3 4h0m3-5h0m3 6h0m1-1h0m7-2h0m1 4h0m6-5h0m6 5h0m3 0h0m1-3h0m7-1h0m5 0h0m1-1h0m13 3h0m7-3h0m12 5h0m0-4h0m3 0h0m2-2h0m1 1h0m2 3h0m3 1h0m7 0h0m-3 3h0m-2-1h0m-3 3h0m-2 3h0m-17-5h0m-3 6h0m-6-2h0m-25-4h0m-1 4h0m0 2h0m-7-7h0m-3 2h0m-5 2h0m0-4h0m-1 0h0m-2 1h0m-4-1h0m-3 2h0m-3 5h0m-22 0h0m-2-7h0m-4 7h0m-6-7h0m-4 7h0m-1-1h0m0-4h0m-2 0h0m-1-2h0m-1 1h0m-4 1h0m-6 3h0m-5-3h0m0 5h0m-4-3h0m-4-3h0m-1-1h0m-3 0h0m-1 4h0m-6 0h0m-1-3h0m-1-1h0m-3 1h0m-3 1h0m-3-2h0m-29 1h0m-6 5h0m-4-1h0m-5-1h0m-1-3h0m-5 3h0m-4-3h0m-1 3h0m-4 2h0m-5-3h0m0 4h0m-1-4h0m-6 2h0m-3-2h0m-1 3h0m-8 0h0m-1-1h0m-13-3h0m-3 3h0m-6 5h0m5-2h0m3 5h0m0 1h0m1 1h0m4-2h0m1 1h0m8-3h0m22-3h0m2 5h0m8 2h0m2-6h0m4 5h0m8-5h0m3 2h0m9 4h0m2-7h0m7 2h0m26 3h0m0-3h0m3 5h0m4 0h0m8-1h0m4 0h0m13-1h0m2 1h0m3-5h0m0 0h0m7 6h0m4-1h0m11-6h0m2 5h0m10-4h0m4-1h0m14 7h0m2-5h0m0 1h0m10-1h0m1 3h0m5-2h0m13-2h0m25-1h0m4 2h0m4 2h0m5-2h0m-74 6h0m-7 0h0m-9 6h0m-6-4h0m-2 2h0m-4 0h0m-4-4h0m-15 6h0m-4 0h0m-7-1h0m-27-5h0m-2 5h0m-6-4h0m-4-1h0m-12 2h0m-3 3h0m-4-2h0m-16-1h0m-1 4h0m-6-6h0m-4 5h0m-2 1h0m-1-4h0m-7 5h0m-3-3h0m-1 0h0m0 1h0m0-1h0m-7-3h0m-26 1h0m-5 1h0m0-3h0m-10 7h0m9 4h0m12 0h0m6-2h0m5-1h0m3 4h0m3-2h0m2 1h0m5 0h0m6 4h0m0-5h0m1 4h0m1-5h0m4 0h0m2 5h0m13-3h0m0 4h0m8-5h0m17 1h0m10 1h0m4 2h0m0 1h0m9 0h0m7-4h0m22-3h0m6 3h0m1 4h0m1-2h0m3-1h0m3-4h0m4 3h0m1 1h0m11-2h0m1-2h0m4 5h0m8-4h0m-28 8h0m-10-1h0m-4 3h0m-13 3h0m-11-2h0m0-4h0m-5 1h0m-6 5h0m-4-6h0m-2 3h0m-7 2h0m0-3h0m-6 2h0m0-3h0m-7 6h0m-10-1h0m-6-5h0m-5 5h0m-1 1h0m-12-3h0m-1 0h0m0 2h0m-10-6h0m-7 7h0m-17 0h0m-1-6h0m-6 6h0m-1 0h0m-2-6h0m-1 3h0m-1-4h0m9 8h0m5 3h0m0 0h0m1 0h0m0-1h0m4-1h0m2 5h0m5-2h0m2 0h0m0 3h0m6-6h0m1 3h0m1 1h0m0 2h0m5-7h0m16 0h0m3 5h0m12-4h0m3 4h0m8-5h0m11 0h0m1 0h0m5 3h0m3-1h0m0 2h0m6 3h0m5 0h0m1-3h0m3-2h0m-14 6h0m-5 0h0m-14 3h0m-5-3h0m0 4h0m-9-4h0m-3 2h0m0 0h0m-4 1h0m-13 4h0m-5-1h0m-14-4h0m7 7h0m2-1h0m2 0h0m16 4h0m11-4h0m10 15h0m-24-4h0m-6-2h0m-4 3h0m0 1h0m-3-3h0m8 11h0"/><path transform="scale(.25)" fill="none" stroke="#D89000" stroke-width="5.2" stroke-linecap="round" d="M0 0m743 159h0m-4 0h0m-14-4h0m-6 4h0m-9-1h0m-14 1h0m-6-5h0m-7-1h0m-1 1h0m-2-1h0m-3 3h0m-1 2h0m-14-3h0m0 4h0m-7-6h0m-4 3h0m-10 2h0m-2 0h0m-4-1h0m-38 2h0m21 7h0m7-6h0m7 4h0m22 0h0m4 2h0m0 1h0m1-7h0m1 0h0m4 7h0m1-2h0m1-1h0m0-3h0m4 3h0m2-4h0m1 0h0m1 3h0m7 0h0m3-1h0m18 3h0m0 1h0m6-2h0m0 1h0m1-2h0m13 2h0m12 2h0m9-3h0m3-1h0m8 3h0m28 8h0m-9-3h0m-7 2h0m-8 1h0m-16-5h0m-6 2h0m-6 0h0m-2 0h0m-9-3h0m-1 3h0m-7 2h0m-2-5h0m-4 0h0m-12 5h0m-8-2h0m-4 2h0m0 0h0m-1-4h0m-3 5h0m0-4h0m-1 3h0m-1 2h0m-1-6h0m-2 1h0m-1 2h0m-1-4h0m-1 2h0m-1 3h0m-6-3h0m-4 2h0m-7-2h0m-15 0h0m-6 1h0m-3-1h0m-5 3h0m-14-3h0m-1 2h0m-2 3h0m-3 8h0m2-2h0m1-5h0m2 3h0m9 1h0m7 3h0m20-5h0m3-2h0m8 3h0m7-2h0m8 4h0m6 0h0m4 0h0m0 0h0m1-1h0m5-2h0m0-2h0m1 7h0m1-7h0m5 4h0m0 0h0m1 1h0m1-1h0m1-1h0m15 0h0m0 2h0m6 2h0m4-2h0m4-1h0m2 0h0m7-1h0m0 2h0m6-3h0m4-2h0m1 7h0m11-2h0m0 0h0m2 1h0m1 1h0m0 0h0m1 0h0m1-2h0m1-4h0m8 6h0m3-7h0m2 6h0m2 1h0m6-4h0m2 2h0m2-5h0m5 5h0m1 1h0m3-2h0m23 10h0m-11 0h0m-7-3h0m-2-2h0m-9-1h0m-4 3h0m-8 1h0m-5 3h0m-2-6h0m0 4h0m-11 0h0m-2-3h0m-1-1h0m-8 3h0m-1-2h0m-6 5h0m-9 0h0m-7-5h0m-3 4h0m-3-2h0m-3-3h0m-6 6h0m-6-4h0m-8 3h0m-7-5h0m-2 4h0m-1-4h0m-1 6h0m-7 0h0m-4-5h0m0 1h0m-6 0h0m-8 3h0m-1-4h0m-2 4h0m-4-4h0m-2 3h0m-1-2h0m-4-2h0m-6-1h0m-5 1h0m-5 3h0m-2 2h0m-9-6h0m-1 6h0m-11-4h0m-4 5h0m-6-3h0m-4-4h0m3 15h0m2-2h0m6 1h0m1-5h0m1 6h0m5 0h0m6-6h0m0 0h0m3-1h0m6 5h0m2-5h0m0 2h0m6 3h0m5-5h0m0 0h0m4 6h0m0 0h0m2-1h0m1-5h0m1 4h0m0 0h0m1-1h0m3 1h0m1 2h0m4 0h0m3-6h0m5 4h0m2-3h0m1 1h0m5 2h0m1 3h0m5-2h0m6-5h0m3 3h0m1-3h0m3 3h0m10 4h0m5-1h0m5-1h0m4 1h0m5 0h0m11-5h0m1 0h0m7 4h0m3 0h0m11-5h0m6 2h0m0-2h0m6 0h0m7 2h0m10 1h0m1-3h0m1 2h0m1 2h0m3 1h0m4 0h0m11 1h0m13-4h0m17 13h0m-3-2h0m-3-4h0m-7 5h0m-1 1h0m-4-4h0m-4-3h0m-6 0h0m-5 1h0m-5 4h0m-6-3h0m-2 5h0m-5-3h0m-4-3h0m-6 5h0m-13-4h0m-2 2h0m-9-4h0m-1 4h0m-1 0h0m-2 1h0m-10 1h0m0-4h0m-3 1h0m-3 2h0m-3 0h0m-2 0h0m0 0h0m-1 0h0m-3 1h0m0-6h0m-1 3h0m-28 2h0m-14 1h0m-1-4h0m-17-2h0m-2 2h0m-1-1h0m-2 4h0m0-1h0m-12 3h0m-4-3h0m-1-2h0m0 5h0m-3-3h0m-3-1h0m0-1h0m-1 1h0m-6 1h0m-10 3h0m-3-7h0m-10 7h0m-4-6h0m11 14h0m3-6h0m9 3h0m2 1h0m4-2h0m3-1h0m6-1h0m1 0h0m2 6h0m2-2h0m0-2h0m7 0h0m2-3h0m4 4h0m3 3h0m10-1h0m3-3h0m1 0h0m1 0h0m1 3h0m10-2h0m3-1h0m1 2h0m2 1h0m1 0h0m4-2h0m3-4h0m0 2h0m0-2h0m1 6h0m7-4h0m4 0h0m7 1h0m11-3h0m1 3h0m0-2h0m1 5h0m6-6h0m9 7h0m3 0h0m15-1h0m16-2h0m0-2h0m1 5h0m1-1h0m19-1h0m1-1h0m1 0h0m9-3h0m2 2h0m1 1h0m6 0h0m1-3h0m3 5h0m8 1h0m2-1h0m5-5h0m1 3h0m2 4h0m-8 7h0m-5-6h0m0 2h0m-2 1h0m-3 3h0m-2-3h0m-1-2h0m-1-2h0m-7 3h0m-1-2h0m-1-1h0m-1 1h0m-4 3h0m-13-4h0m-16 5h0m-15 2h0m-3-4h0m-4-2h0m-1 4h0m-1-3h0m-9 0h0m-1-1h0m-7-1h0m-6 0h0m-20 3h0m-4 0h0m0 4h0m-1 0h0m-1-7h0m-1 2h0m-12-1h0m-13 6h0m-2-3h0m-13 2h0m0-6h0m-2 6h0m-13-5h0m-1 1h0m0 0h0m-1 3h0m-6-4h0m-12 5h0m-3-4h0m-3 0h0m0 1h0m-6-3h0m-7 1h0m45 13h0m1-5h0m18 3h0m2 1h0m5 2h0m1-2h0m1-2h0m5 4h0m4-4h0m3 0h0m3 2h0m1 0h0m1-1h0m1 0h0m0-4h0m4 7h0m4-4h0m3 2h0m4-1h0m3-4h0m13 7h0m6-3h0m4-3h0m27 4h0m7-2h0m13 3h0m7-4h0m14 0h0m6 5h0m1-7h0m12 5h0m4-5h0m5 4h0m3-1h0m2 2h0m0 6h0m0 0h0m-2-3h0m-3 1h0m-6 2h0m0 4h0m-1-5h0m-5 3h0m-2 0h0m-12-4h0m-1 2h0m-3 4h0m-13-5h0m-4 5h0m-2-1h0m-5-3h0m-12 0h0m-20 1h0m0-3h0m-8 1h0m-6 1h0m0 1h0m-1 3h0m-12-1h0m0-3h0m-5-2h0m-1 5h0m-5-3h0m-9 2h0m-2-5h0m-2 6h0m-2-3h0m-2 2h0m-1-2h0m-9 1h0m-20-3h0m-11-1h0m-8 0h0m43 15h0m16-3h0m1-4h0m2 3h0m10-3h0m1 1h0m6 3h0m1-2h0m1 5h0m15-3h0m1 2h0m5-5h0m3 5h0m18 1h0m11-2h0m12 2h0m1-2h0m4-3h0m5-2h0m19 0h0m2 0h0m1 4h0m0 3h0m8-6h0m0 5h0m1-6h0m1 2h0m2 5h0m6-3h0m-1 6h0m-7 0h0m-11-2h0m-1 2h0m-4-1h0m-7-1h0m-14 0h0m-4 3h0m-5-2h0m-1 4h0m-1-3h0m-2 4h0m-1-4h0m-1-1h0m-7 2h0m-8-2h0m-2 2h0m-3 0h0m-3-2h0m0-1h0m0 7h0m-3-6h0m-1 3h0m-19-4h0m-10 2h0m-12 1h0m-11-3h0m61 9h0m13 2h0m13-2h0m7 6h0m1-4h0m8 2h0m4-2h0m13-2h0"/><path transform="scale(.25)" fill="none" stroke="#A3A500" stroke-width="5.2" stroke-linecap="round" d="M0 0m728 555h0m6 8h0m3 1h0m4 2h0m7-4h0m23 7h0m-4 4h0m-7-1h0m-7 0h0m-2 2h0m0-5h0m-14 6h0m-3-1h0m-2-1h0m-2-3h0m-5 3h0m-5 0h0m-2 7h0m0-3h0m24-1h0m13 1h0m4 2h0m1 3h0m3-6h0m0 5h0m8 3h0m-5 0h0m-1 3h0m-3-2h0m-3 2h0m-1-3h0m-7 4h0m-5-2h0m-2 4h0m-9-1h0m-4-3h0m-13 4h0m-1-4h0m-2-2h0m-2 5h0m-9-1h0m-1 2h0m-6 1h0m-2 6h0m6-3h0m2 5h0m3-4h0m3 4h0m2-2h0m1-1h0m6 0h0m7-1h0m3-2h0m2-1h0m2 5h0m5 0h0m12 1h0m6-3h0m4 2h0m4-2h0m8 2h0m5 1h0m3-3h0m4-3h0m3 3h0m10 11h0m-10-6h0m0 0h0m-1 3h0m-2 4h0m-1-2h0m-6-5h0m-8 4h0m-1-4h0m-22 1h0m-1-1h0m-40 6h0m-12 1h0m-3-6h0m0 6h0m-12 6h0m17-2h0m2-2h0m3 5h0m1-2h0m1-1h0m5-1h0m4 0h0m9 0h0m5-1h0m17 2h0m1-1h0m3 2h0m4 1h0m5-1h0m1 0h0m1-1h0m8-2h0m3 4h0m2-4h0m8 4h0m5-4h0m14-1h0m1 2h0m7 2h0m1 10h0m-2 0h0m0-3h0m0 0h0m-1-1h0m-4 0h0m0 0h0m-17 5h0m-19-4h0m-8-1h0m-1-1h0m-5 3h0m-6-1h0m0-1h0m-1 1h0m-1 1h0m-4-4h0m-2 5h0m0-3h0m-3 2h0m-5 0h0m-5 3h0m-7-5h0m-3 2h0m-3-4h0m-15 3h0m-1 3h0m0 1h0m-3 0h0m-9-1h0m-13 7h0m5 2h0m5-6h0m10 5h0m8-6h0m3 3h0m10 1h0m0 1h0m0 2h0m0-5h0m48-2h0m17 2h0m10 0h0m171 13h0m-132 0h0m-16-7h0m-10 4h0m-9 3h0m-3 0h0m-1-3h0m-25 2h0m-2-6h0m-4 3h0m-5 4h0m-4-1h0m0 0h0m-7-2h0m-1-4h0m-10 4h0m-2-1h0m-6 3h0m-10-6h0m-4 1h0m-16 2h0m-1 4h0m-2-7h0m-7 6h0m-1 1h0m-213 8h0m208-5h0m2 2h0m8 1h0m0-3h0m8 5h0m11-7h0m9 4h0m14 1h0m7-2h0m14 1h0m1 0h0m1 1h0m2 1h0m5-4h0m15 4h0m2 0h0m1 0h0m0-1h0m1 1h0m7-1h0m1-5h0m8 6h0m6 0h0m5-5h0m12-1h0m6 1h0m2 0h0m2 0h0m2 6h0m4-3h0m1 2h0m0-6h0m1 7h0m2-5h0m5 3h0m10 1h0m1 1h0m64 0h0m13-2h0m28 1h0m4-6h0m-21 11h0m-18 2h0m-3-3h0m-10 5h0m-1-3h0m-4 2h0m-4 0h0m-50 0h0m-11-6h0m-7 5h0m-2 1h0m-2-5h0m-6-1h0m-8 5h0m-3-3h0m-16 4h0m-6-5h0m-2 1h0m-2 4h0m-1-2h0m-4 3h0m-4-4h0m-5-1h0m-7 4h0m-4-4h0m-2-2h0m-2 4h0m-1 3h0m-13 0h0m-5 0h0m-1-7h0m-10 2h0m-1 1h0m-4 1h0m-2-1h0m-1 3h0m-6-4h0m-15 3h0m0-1h0m-1 3h0m-2-1h0m-5-2h0m-8-2h0m-2 5h0m-2-7h0m-3 4h0m-3 2h0m-2-3h0m-180-2h0m-5 2h0m-8-1h0m-16 2h0m207 9h0m11 2h0m4-3h0m11 0h0m1 2h0m3-6h0m3 5h0m3 1h0m1-3h0m2 0h0m2 1h0m3 2h0m18-5h0m10 5h0m2-3h0m9-2h0m2 0h0m1-1h0m1 3h0m2 1h0m3-3h0m4 0h0m12 3h0m3-4h0m7 4h0m1 2h0m2-2h0m2-1h0m0 4h0m17-6h0m6 2h0m2 4h0m2-3h0m9 3h0m14-1h0m4 1h0m7-5h0m2 1h0m10 1h0m19-4h0m6 5h0m10-4h0m4 2h0m9 2h0m1-3h0m19 7h0m-53 6h0m-1-5h0m-1 2h0m-2-3h0m-9 4h0m-1-1h0m-4 1h0m-1 2h0m-3-6h0m-2 4h0m-9-3h0m-10 0h0m-11 0h0m-5 4h0m-1 0h0m-3-1h0m-13 2h0m-11-5h0m-8 4h0m-2 1h0m-7-6h0m-1 2h0m-4 4h0m-18-5h0m-8 1h0m-6 2h0m-2 1h0m0-1h0m-3-1h0m-3 0h0m-11 2h0m-5 0h0m-8-3h0m-3-2h0m-3-1h0m-1 3h0m-8-3h0m-3 6h0m-6-5h0m-12 4h0m9 8h0m1-4h0m28 6h0m1-4h0m12-1h0m3 3h0m2-3h0m0 2h0m5-3h0m0 6h0m1-5h0m9-1h0m7 1h0m9 3h0m7-3h0m3 1h0m0 1h0m5-3h0m4 3h0m4 0h0m3-1h0m8 3h0m4-2h0m1 3h0m13-4h0m10-1h0m21 3h0m5-2h0m0 0h0m10-3h0m3 2h0m1 2h0m3 1h0m1-4h0m0 6h0m10-5h0m1-1h0m25-1h0m-56 8h0m-8 5h0m-11 2h0m-1-6h0m-19 5h0m0-2h0m-3-4h0m-1 7h0m-2-4h0m-2 0h0m-8-3h0m-8 6h0m-6-6h0m-1 5h0m-9 0h0m-11-3h0m-1 3h0m-6-1h0m-5-2h0m-3 3h0m-11 0h0m0 0h0m-6-3h0m-3 0h0m0 3h0m-8 2h0m-12-6h0m0-1h0m-1 6h0m-17-2h0m-1 0h0m-10 6h0m0 1h0m11 0h0m21-3h0m5 7h0m4-7h0m4 0h0m1 0h0m5 7h0m2-7h0m3 6h0m6-4h0m12 2h0m2 1h0m11-1h0m2-4h0m11 6h0m14-5h0m14-1h0m5 5h0m-20 5h0m-21 2h0m-5-4h0m-13 7h0m-4-2h0m-14 2h0m-3-5h0m-26 0h0m-4 4h0m-4-2h0m-3-4h0m-7 2h0m-11 11h0m12 0h0m0 1h0m2-2h0m8-2h0m1 0h0m2 3h0m1-5h0m10 0h0m10 5h0m8-4h0m9 1h0m-32 6h0m-29 5h0m-7-2h0m-2-3h0m-10 18h0m-1 2h0m-5 0h0m-5 0h0m-2 0h0m-11 11h0m6-6h0m-10 13h0m-1-3h0m-3 4h0m-2-2h0m12 6h0m-11 8h0m-7 11h0"/><path transform="scale(.25)" fill="none" stroke="#39B600" stroke-width="5.2" stroke-linecap="round" d="M0 0m874 549h0m50 10h0m-1-5h0m-2 2h0m-12 1h0m-4-2h0m-12 4h0m-6-1h0m-1-1h0m-3-5h0m-1 2h0m0 5h0m-7-1h0m-2 1h0m-8-3h0m-1 3h0m-2-5h0m-4 3h0m-6-4h0m-5 4h0m-4-4h0m-6 3h0m-6 0h0m-6-3h0m-3 4h0m-11 0h0m-2 0h0m6 5h0m3 5h0m3-2h0m10 2h0m1-5h0m5-1h0m5 0h0m5 1h0m3-2h0m9 3h0m6 3h0m20-1h0m0-1h0m1-2h0m1 4h0m0-6h0m1 6h0m5-5h0m6 4h0m4-2h0m7-2h0m2 4h0m3 2h0m5-3h0m1-3h0m1 3h0m3-2h0m2 1h0m11-3h0m5 3h0m22 8h0m-3 1h0m-4-3h0m-1 5h0m-9-6h0m-1 1h0m0 5h0m-6 1h0m-1-2h0m-4-2h0m-1-2h0m-6 3h0m-4 3h0m-9-3h0m-6 0h0m-2 0h0m-8-3h0m-2-1h0m-3 3h0m-4-2h0m-1 1h0m-2 2h0m-1-2h0m-7 0h0m-17-2h0m-8 1h0m0 6h0m-1-2h0m0-2h0m-4 2h0m-10-2h0m-1-1h0m-1 5h0m-3-7h0m0 0h0m-1 3h0m-3 4h0m-6-1h0m-10-6h0m-4 3h0m-9 8h0m1 0h0m20 0h0m15-1h0m5 2h0m11 2h0m6-3h0m2 3h0m2-4h0m3-1h0m2 6h0m4-2h0m9-3h0m5 3h0m1-4h0m6 6h0m9-2h0m0 0h0m8 2h0m10-4h0m0 2h0m0-1h0m4 2h0m0-1h0m4 2h0m0 0h0m3-5h0m1-2h0m4 4h0m6-2h0m2 1h0m8-3h0m26 14h0m-12-1h0m-1-5h0m-6 6h0m-8-3h0m-1 3h0m-7-1h0m-4-2h0m-2 1h0m-9-1h0m0-1h0m-5-1h0m-2 0h0m-1 1h0m-11 4h0m-9-3h0m-22-3h0m-1 5h0m-1-4h0m-2 4h0m-16 2h0m-11-5h0m-15 3h0m0 1h0m-8-3h0m-4 2h0m-7 2h0m-1-1h0m-5-6h0m-4 1h0m-3 4h0m16 8h0m0-1h0m8-1h0m5 0h0m1 1h0m13 0h0m8 2h0m2 0h0m21 1h0m18-7h0m0 1h0m3-1h0m1 0h0m21 1h0m27-1h0m11 0h0m5 0h0m4 6h0m8-5h0m3-1h0m6 6h0m2-4h0m1 2h0m0 9h0m-2-5h0m-3 3h0m-3 4h0m-11-7h0m-6 4h0m-9 1h0m0-1h0m-5 3h0m-6-1h0m-3-4h0m-5 1h0m-2-2h0m-4 0h0m-2 6h0m-9-5h0m-1 3h0m-3 0h0m-3-1h0m-2-3h0m-4 1h0m-4 2h0m-2-3h0m-5 0h0m-6 4h0m-7-1h0m-5-4h0m-3 5h0m-12 0h0m-3 1h0m-19-1h0m-2 0h0m0-1h0m-5 1h0m-10 2h0m-1-5h0m-5 1h0m-12-2h0m-194 12h0m9-1h0m0 0h0m0 3h0m196-3h0m1 0h0m16 1h0m4-2h0m17 1h0m1-3h0m15 2h0m2 1h0m2-3h0m9 0h0m15 5h0m7-2h0m1-2h0m1 0h0m4-1h0m4 5h0m3 1h0m17-6h0m2 6h0m6-3h0m1-2h0m2 5h0m8-5h0m10-2h0m11 5h0m2 2h0m10-7h0m-2 12h0m-6 3h0m-3 0h0m-2-4h0m0 4h0m-4-5h0m-2 2h0m-17-3h0m-2 2h0m-1 0h0m-4-1h0m-14 2h0m-5-1h0m-14-3h0m-13 1h0m-2 1h0m-2-2h0m-12 5h0m-4 1h0m-14-1h0m-11-4h0m-1-1h0m-3 0h0m-6 0h0m-7 3h0m-8-3h0m-3 5h0m0-2h0m-199-2h0m190 14h0m2-4h0m1 0h0m17 2h0m4-2h0m2 4h0m0-6h0m1 3h0m7-4h0m4 0h0m8 6h0m13-6h0m1 2h0m4 5h0m16 0h0m0 0h0m6-5h0m17 4h0m32 0h0m5 1h0m4-3h0m19-2h0m-27 6h0m-1 2h0m-7-2h0m-7 7h0m-1-7h0m-8 1h0m-6 4h0m0-1h0m-8 2h0m-5-1h0m-2 2h0m-9-3h0m-5-1h0m-4 3h0m-1-2h0m-4 2h0m0-1h0m-5-3h0m-3-1h0m-13 0h0m-6 6h0m-11-6h0m-9 4h0m-1-3h0m32 6h0m1 5h0m9-1h0m3-3h0m26 5h0m-19 2h0"/><path transform="scale(.25)" fill="none" stroke="#00BF7D" stroke-width="5.2" stroke-linecap="round" d="M0 0m731 455h0m28-1h0m7 1h0m0-1h0m11-4h0m11 4h0m36 2h0m-6 4h0m-6 0h0m-15 2h0m-3 0h0m-3 1h0m-2-4h0m-5-1h0m-7-1h0m-11 2h0m-3 4h0m-5-6h0m-4 4h0m-9-3h0m-14 3h0m-3-2h0m-17 3h0m-12 4h0m19 0h0m3 3h0m20-2h0m6 3h0m3 1h0m3-6h0m2 6h0m6-2h0m1 0h0m1 2h0m1-4h0m9 0h0m0 4h0m13-4h0m0 1h0m1 2h0m5 1h0m2-2h0m11-4h0m0-1h0m2 6h0m1-6h0m7 7h0m1-6h0m2 2h0m7 2h0m4 2h0m5 2h0m-8 3h0m-11 0h0m-5-2h0m-5-2h0m-10 4h0m-3-1h0m-5-2h0m0 2h0m-5 3h0m-1-4h0m-10 4h0m-4-4h0m-1 0h0m-13-1h0m0-1h0m0 3h0m-1 4h0m-3-6h0m-9 4h0m-14 2h0m-6 0h0m-16-5h0m-2 4h0m-6-5h0m-3 1h0m-13 13h0m25-3h0m9-4h0m6 1h0m20 6h0m6-2h0m9-4h0m7 3h0m1 2h0m0-5h0m1 1h0m1 0h0m0 4h0m5-4h0m3 0h0m1 1h0m4 2h0m9 1h0m6-1h0m4 0h0m6-5h0m4 4h0m6 0h0m1-4h0m5 6h0m4-1h0m1 0h0m3 0h0m13-3h0m4 3h0m9 10h0m-2-1h0m-3 1h0m-13-5h0m-13 0h0m-5 0h0m-5 3h0m-12 0h0m-4-5h0m-1 3h0m-5-3h0m-2 5h0m0-3h0m-6-1h0m-8-1h0m-13 7h0m-2-6h0m-2 0h0m-3 2h0m-3 4h0m0 0h0m0-4h0m-3-1h0m-4 4h0m-4-4h0m-9 1h0m-2 2h0m-5-1h0m-3-2h0m-2 1h0m-4 4h0m-1-4h0m-26 1h0m-3-3h0m-5 0h0m0 2h0m-6 4h0m-5 3h0m2 3h0m2 1h0m25-3h0m3-3h0m14 2h0m1 5h0m5-1h0m24 1h0m1-3h0m5 3h0m3-7h0m1 1h0m2 1h0m11 0h0m5 2h0m6-2h0m2 1h0m4 1h0m0 3h0m4-3h0m5-2h0m14 5h0m14-3h0m2 1h0m6 2h0m9-2h0m5-5h0m7 2h0m13 3h0m0 1h0m4 7h0m-2 1h0m-1-3h0m-4-3h0m-1 5h0m-3 2h0m-2-2h0m-15 2h0m-1-5h0m0 5h0m-1-4h0m-3 1h0m-10 1h0m-18-5h0m-7 5h0m-6-4h0m-4-1h0m-10 1h0m-15 4h0m0-2h0m-10-3h0m-5 4h0m-2 1h0m-1-3h0m-4 2h0m-2-3h0m-7 2h0m-6-1h0m0 3h0m-12-2h0m-3-3h0m-5 4h0m-3-2h0m-8 4h0m-11 0h0m-10-1h0m-2 2h0m-1-2h0m0 0h0m-6-4h0m-4 1h0m0 1h0m29 12h0m3-2h0m0 2h0m7-6h0m1 2h0m3 2h0m1 2h0m4-2h0m10 0h0m9 1h0m5-6h0m4 0h0m1 6h0m1-2h0m5-2h0m4 1h0m8-3h0m3 6h0m5-4h0m1 4h0m5 1h0m4 0h0m1-2h0m3-1h0m1-1h0m0-1h0m5 1h0m3 1h0m2 1h0m4-1h0m1-3h0m5 0h0m7-1h0m21 4h0m2-1h0m3-3h0m3 7h0m15-7h0m6 5h0m1-1h0m0-3h0m15 6h0m13 7h0m-1-3h0m-11 3h0m-1 0h0m-3 1h0m-5-2h0m-3-3h0m-3 3h0m-1-2h0m-1 0h0m-13 0h0m-8 1h0m-3-4h0m-43 1h0m-9 0h0m-1 3h0m-6-4h0m-4 4h0m-1-2h0m0 5h0m-2-2h0m-15-5h0m-6 3h0m-3 4h0m-4-4h0m-9 2h0m-1-3h0m-4 2h0m-9-4h0m-10 3h0m-1 4h0m-11-5h0m0-1h0m-3-1h0m0 3h0m-15 6h0m32 2h0m15-2h0m4 5h0m5-4h0m2 5h0m4 0h0m1-4h0m1 1h0m6 1h0m1 1h0m6-5h0m2 1h0m5 1h0m1-1h0m3 5h0m29-2h0m4 1h0m15-2h0m9 2h0m12-6h0m15 0h0m5 6h0m3-5h0m0 0h0m33 1h0m15 2h0m1-1h0m2 11h0m-6-4h0m-5 2h0m0 1h0m-1-1h0m-5 2h0m-2-1h0m0-1h0m-13 1h0m-75 2h0m-15-6h0m-38 4h0m-1-2h0m-3-3h0m-4 6h0m-4-2h0m-2 1h0m-1 2h0m-3-3h0m-2-3h0m-4-1h0m-4 7h0m-17-6h0m0 0h0m18 14h0m0 0h0m13-2h0m0-5h0m10 0h0m8 5h0m1 2h0m1-7h0m6 2h0m1 3h0m3-4h0m12 6h0m3-2h0m15-4h0m18 3h0m27-4h0m5 6h0m25-6h0m8 5h0m4 0h0m7-4h0m-90 7h0m-52 2h0m-3-2h0m-4 7h0m-1-7h0m-14 1h0m0 0h0"/><path transform="scale(.25)" fill="none" stroke="#00BFC4" stroke-width="5.2" stroke-linecap="round" d="M0 0m248 341h0m-14 10h0m80 10h0m-25 1h0m-15 4h0m-14-1h0m-20 2h0m-9-6h0m10 14h0m4-7h0m8 6h0m3-3h0m8-3h0m8 6h0m0-1h0m2-2h0m2 4h0m5-6h0m0 3h0m2-1h0m4 1h0m1-3h0m1 4h0m8 0h0m1-4h0m3 6h0m1-4h0m1 2h0m3-3h0m3 5h0m1 0h0m1-3h0m0 0h0m5 0h0m12 11h0m-5-2h0m-5 0h0m-3-4h0m-4 5h0m-7-5h0m-3 2h0m-1 4h0m-5-4h0m-4 4h0m-3-1h0m0-5h0m0 3h0m-10 2h0m0-1h0m-2-4h0m-10 6h0m-1-5h0m-10 1h0m-5 2h0m-23-3h0m-4-2h0m-3 14h0m3 0h0m3 1h0m8-1h0m0-5h0m5 2h0m17 1h0m17-2h0m11 4h0m3-4h0m6 2h0m1-4h0m3 7h0m2-7h0m3 7h0m13-3h0m6 1h0m0-5h0m2 3h0m2 0h0m3 5h0m-2 5h0m-11 1h0m-1-4h0m-4 5h0m-8-3h0m-4 3h0m-1 0h0m-2-2h0m-3 1h0m-15-2h0m-2 0h0m0-2h0m-3 4h0m-4 0h0m-8-6h0m-7 4h0m-1-2h0m-6 2h0m0 0h0m0-4h0m-7 1h0m0 6h0m-1-3h0m-7 3h0m-2-2h0m-8 1h0m-6 0h0m1 3h0m0 2h0m4 2h0m1 1h0m1-5h0m10 5h0m8-4h0m3-1h0m4 0h0m6 6h0m2-2h0m0-5h0m12 3h0m0-3h0m4 7h0m3 0h0m4-6h0m7 5h0m9-5h0m1 4h0m34-4h0m-25 8h0m-13 4h0m-2-4h0m-4 1h0m-1 0h0m-7 0h0m-7-1h0m-7 6h0m-5 0h0m-13-7h0m-2 0h0m-17 1h0m-2 0h0m14 13h0"/><path transform="scale(.25)" fill="none" stroke="#00B0F6" stroke-width="5.2" stroke-linecap="round" d="M0 0m828 188h0m-14 0h0m-2 2h0m-3 6h0m16-1h0m0 5h0m-344 365h0m4-2h0m2 4h0m2 0h0m5-4h0m2 2h0m3-5h0m16 6h0m44 0h0m11 3h0m-21 4h0m-15-5h0m-3 6h0m-22 0h0m-1-6h0m0 3h0m-1-3h0m-2 5h0m0 1h0m-2-2h0m-2-1h0m-1 4h0m0-1h0m-3-5h0m0 0h0m-5 4h0m-2 1h0m-3-1h0m-1-4h0m-2 2h0m-2-2h0m0 8h0m5 1h0m3 2h0m4 1h0m9 0h0m2-5h0m1 7h0m1-1h0m0-1h0m4 1h0m1-4h0m0-2h0m30 8h0m-18 4h0m0 0h0m-2 0h0m-1-1h0m-9 3h0m-1-5h0m-2 0h0m-7 3h0m18 6h0m7 0h0m4 0h0m3 5h0m12-6h0m29 11h0m-1 0h0m-5-4h0m-6 6h0m-4-5h0m-1 1h0m-5 5h0m-4-3h0m-1-1h0m-1-3h0m-1 7h0m0 0h0m-4-4h0m-1 2h0m-1-5h0m0 2h0m0-1h0m0 0h0m-1 2h0m-1 1h0m-1 0h0m-2-1h0m0-3h0m-2 3h0m0-2h0m-2 2h0m-7-3h0m12 8h0m2 3h0m7-1h0m2 2h0m2-1h0m0 4h0m0 0h0m7-2h0m3 0h0m2-5h0m1 1h0m16 3h0m4-3h0m7 3h0m5 1h0m5-2h0m2-2h0m1 5h0m1 4h0m-24 2h0m-1 1h0m-3-2h0m-5 0h0m-5 1h0m-8 0h0m-4 3h0m0-2h0m9 4h0m7 6h0m3-5h0m1 1h0m0-1h0m1 1h0m5-1h0m1 3h0m1-4h0m3 6h0m2-4h0m1 3h0m3-5h0m18 3h0m-4 11h0m-5-3h0m-3 1h0m-2 1h0m-3-1h0m-13-2h0m-2-2h0m7 7h0m1 2h0m1-1h0m6-1h0m3 1h0m10 0h0m9 12h0m-1-4h0m-1 1h0m-4 3h0m0 1h0m-3-5h0m-1 0h0m-3 3h0m-56-3h0m62 10h0m10 0h0m7 1h0m1 0h0m-6 5h0"/><path transform="scale(.25)" fill="none" stroke="#9590FF" stroke-width="5.2" stroke-linecap="round" d="M0 0m573 756h0m-2 7h0m-7-2h0m39 20h0m-16 1h0m0-2h0m-1-1h0m-3 3h0m-9 1h0m-9 8h0m3-5h0m6 5h0m1-2h0m2-1h0m17-3h0m2 6h0m1-1h0m2-1h0m2-5h0m4 5h0m6 1h0m1 8h0m-2-2h0m-1 3h0m-5-3h0m-1 1h0m-8 1h0m-1-1h0m-22-4h0m-7 6h0m-2-2h0m-4-2h0m-1 2h0m-1-1h0m-1-4h0m-1 6h0m9 7h0m1-5h0m5 4h0m2 0h0m5-4h0m8 1h0m3 3h0m20-4h0m7 7h0m7-5h0m-15 7h0m-1-1h0m-1 6h0m-4 1h0m-1-5h0m0-1h0m-8 4h0m-1-4h0m-1 5h0m-1-5h0m-1 4h0m-4-2h0m-3 3h0m-3-4h0m-1 4h0m-2 1h0m-2-7h0m-8 0h0m-7 6h0m-4-4h0m12 6h0m0 2h0m2 2h0m3 1h0m6-4h0m1 5h0m7 0h0m8-6h0m5 4h0m1 2h0m-8 5h0m-10-2h0m-14 0h0"/><path transform="scale(.25)" fill="none" stroke="#E76BF3" stroke-width="5.2" stroke-linecap="round" d="M0 0m397 629h0m14 1h0m1 1h0m9-1h0m14 6h0m-8-1h0m-3-2h0m-1 1h0m-4-1h0m-4 3h0m-2-2h0m-8 0h0m-3 5h0m-1-6h0m-2 6h0m-9 3h0m0 4h0m2-5h0m3 3h0m3 3h0m13 0h0m5-5h0m12 0h0m0 2h0m3 0h0m0 2h0m3-3h0m0 1h0m3 0h0m5 5h0m-4 3h0m-4-3h0m-5 6h0m-2-7h0m-5 0h0m-6 7h0m0-6h0m-23 6h0m-10-3h0m0 2h0m-4-4h0m-4-1h0m56 7h0m2 0h0m4 4h0m1-2h0m5 4h0m10-1h0m0 7h0m72 90h0m2-4h0m0 1h0m3 2h0m16 9h0m-6 1h0m-5-7h0m-2 1h0m9 10h0m10 0h0m5 5h0"/><path transform="scale(.25)" fill="none" stroke="#FF62BC" stroke-width="5.2" stroke-linecap="round" d="M0 0m320 310h0m14 5h0m-3 3h0m-4-1h0m0-5h0m-4 6h0m-1-6h0m0 2h0m-1 4h0m-2 0h0m-1 1h0m0-3h0m-5 0h0m-3-4h0m-6 3h0m-1 2h0m-1 2h0m-2-4h0m-5 4h0m-1 0h0m0-4h0m-2-3h0m-2 6h0m-17 1h0m-8-7h0m-22 9h0m5 2h0m2-1h0m2 0h0m2 5h0m3-7h0m5 0h0m0 0h0m4 1h0m5 3h0m1-3h0m6 5h0m1-4h0m6 0h0m7 4h0m0-5h0m3 4h0m3-4h0m5 0h0m2 3h0m9 3h0m4-4h0m20-1h0m-17 7h0m-3 5h0m-5-4h0m-1 3h0m-15-3h0m-19 0h0m-3 0h0m-11 1h0m-4 9h0m3-3h0m1 4h0m0-4h0m10 2h0m2-2h0m0 1h0m1 1h0m18 3h0m3-5h0m2 3h0m2-1h0m15 3h0m-21 5h0m-3-3h0m-2 6h0m-5-2h0m0 2h0m-1 0h0m-8 1h0m-7-7h0m-10 0h0m14 13h0m2 2h0m1-6h0m8 2h0m63 33h0"/><path transform="scale(.25)" fill="none" stroke="#F8766D" stroke-width="5.2" stroke-linecap="round" d="M0 0m653 356h0m7 0h0m15 2h0m2 0h0m15-4h0m62 10h0m-41 1h0m-6 2h0m-1-3h0m-18-4h0m-2 5h0m-2-2h0m-1 2h0m-14 1h0m-2 0h0m-24-3h0m-20 10h0m0 1h0m6-3h0m6 3h0m8-6h0m1 7h0m3-4h0m1 4h0m7-1h0m7 0h0m6-1h0m0 0h0m0-2h0m1 2h0m3-1h0m5 3h0m2 0h0m2-1h0m4-4h0m3 4h0m6 0h0m3 0h0m2-1h0m1-5h0m13 6h0m4-5h0m0 5h0m11-1h0m23 2h0m-1 6h0m-4 2h0m-7 0h0m-3-5h0m-4 4h0m-1-4h0m-4 2h0m-2-2h0m-1-1h0m-1 0h0m-6 1h0m-6 0h0m-7 3h0m-2-4h0m-11 0h0m-2 3h0m-3 3h0m-2-7h0m-2 1h0m-2 3h0m-2-4h0m-2 3h0m-8 0h0m-1-1h0m-6 3h0m-5 1h0m-6 1h0m-1-6h0m-10 5h0m-3-6h0m-3 1h0m-2 5h0m-10-5h0m-11 13h0m7-4h0m5 4h0m7-1h0m4-5h0m4 2h0m1 5h0m10-4h0m6 1h0m4 1h0m7-2h0m2-3h0m5 5h0m2-1h0m6-4h0m3 0h0m6 1h0m2 6h0m1-7h0m4 4h0m2 0h0m2 0h0m6 0h0m9-3h0m12 3h0m1-2h0m2 5h0m5-1h0m5-5h0m7 1h0m2 2h0m7 3h0m1-5h0m1-1h0m6 3h0m3 11h0m0-1h0m-3-2h0m-12-4h0m-7 5h0m-1-3h0m-7 1h0m-4-2h0m-8 2h0m-13 0h0m-6 0h0m-3 2h0m-9 0h0m-2-1h0m-1 3h0m0-1h0m-13 1h0m-10-4h0m-11 3h0m-14 1h0m-4-2h0m-4-2h0m-5-3h0m-4 7h0m-5-6h0m-1 4h0m-24 0h0m-1 1h0m4 5h0m13 4h0m7-2h0m1-3h0m0 5h0m10 0h0m5-1h0m4 1h0m14-1h0m2-6h0m26 7h0m0-2h0m1-5h0m1 1h0m0 2h0m5-3h0m9 1h0m4 2h0m1 1h0m7 1h0m0-2h0m1-1h0m11 1h0m7 2h0m10 1h0m4-1h0m3-3h0m10 5h0m6 0h0m3 0h0m19-7h0m31 14h0m-12 0h0m-5 0h0m-2 0h0m-2-1h0m-2 1h0m-20-2h0m-1-4h0m-8 1h0m-17 6h0m-14 0h0m-10 0h0m-16-1h0m0 0h0m-3-3h0m-7-3h0m-6 4h0m-2 0h0m-11-4h0m-4 0h0m-4 0h0m-1 6h0m-7-2h0m-2-4h0m-2 0h0m-4 2h0m-5 0h0m-3 2h0m-1 3h0m0-3h0m-6-1h0m-2 0h0m-1-2h0m-8 3h0m-3-4h0m-13 5h0m-9-5h0m-5 0h0m-7 5h0m-2-5h0m-2 5h0m-3 1h0m-10 6h0m1 0h0m1-3h0m5 2h0m5-1h0m2 5h0m6 0h0m1 0h0m4-4h0m1-1h0m4 1h0m16 4h0m4-7h0m3 5h0m1-5h0m2 2h0m10 3h0m1-3h0m2-2h0m12 5h0m2-2h0m5-2h0m1 6h0m0-3h0m1 0h0m6-4h0m1 6h0m10-2h0m0 3h0m1 0h0m1-4h0m3-2h0m5 0h0m1 6h0m8-2h0m3 1h0m1-2h0m1 1h0m5 0h0m1 0h0m11 0h0m3-5h0m4 3h0m2 0h0m8 1h0m1-1h0m1-3h0m2 3h0m0-1h0m0-1h0m1-1h0m4 0h0m4 7h0m2-5h0m17 3h0m1 2h0m3-4h0m1-2h0m13 3h0m3-4h0m0 3h0m17-2h0m5-1h0m11 14h0m-4-3h0m-2 2h0m-4-1h0m-3 3h0m0 0h0m-4-6h0m-3-1h0m-8 0h0m-4 2h0m-5 5h0m-1-4h0m-4 2h0m-1-5h0m0 0h0m-8 6h0m-2 0h0m-3 0h0m-1-3h0m-3-3h0m-5 2h0m-1 5h0m-4-6h0m-18 4h0m-1 0h0m-1-1h0m-5-3h0m-4 2h0m-4 1h0m0 2h0m-10-2h0m-7 3h0m-10-3h0m-6-4h0m-6 1h0m-6 6h0m0-1h0m-4-4h0m-10 2h0m-1 3h0m0-6h0m-5 2h0m-1 1h0m-2-1h0m-7 4h0m-3-6h0m-12 1h0m-19 3h0m-2 0h0m-7-3h0m-5 0h0m0 3h0m-1 2h0m-16-7h0m-5 3h0m-6-1h0m-2 3h0m0-1h0m-3 3h0m-10-1h0m-13 6h0m12-1h0m1 2h0m5-4h0m7 1h0m5 4h0m3-6h0m7 0h0m2 0h0m2 6h0m1 1h0m1-1h0m3-1h0m2-2h0m6 0h0m1 0h0m5 4h0m2-7h0m0 1h0m0-1h0m10 4h0m10-3h0m3-1h0m3 0h0m1 1h0m2 0h0m1 4h0m2 0h0m1-2h0m1 0h0m2-2h0m7-1h0m3 5h0m3-4h0m0 6h0m7-6h0m1 1h0m4 0h0m2 3h0m11 0h0m4-4h0m7 1h0m2-1h0m2 0h0m3 6h0m2-4h0m6-1h0m1 2h0m3-1h0m8 1h0m0-4h0m4 1h0m5 1h0m4 4h0m7-6h0m4 0h0m7 0h0m1 2h0m9 5h0m3-4h0m0-2h0m15 2h0m9 2h0m1-1h0m9-3h0m0 3h0m7-2h0m3 5h0m4-2h0m2-5h0m1 3h0m1-1h0m1 3h0m2-3h0m7-2h0m3 2h0m2 4h0m1 5h0m-9-2h0m-1 1h0m0 2h0m-1 3h0m-5-3h0m-1 0h0m-15 1h0m-4-1h0m-5-2h0m-7 1h0m-1 3h0m-11 1h0m0-4h0m0 2h0m-1-2h0m-14 2h0m-1-4h0m0 0h0m0-1h0m-1 3h0m-12 1h0m-1-2h0m-1 4h0m-2-2h0m-5 0h0m-1-4h0m-5 7h0m-7-1h0m-5-5h0m-14 5h0m-15-1h0m0 1h0m-1-6h0m-3 5h0m-4-5h0m-3 7h0m-6-1h0m-4 1h0m-5 0h0m-4-5h0m-8-2h0m-1 3h0m-5-2h0m-3 6h0m-4-1h0m-9-6h0m-10 0h0m-24 3h0m-1 2h0m0-5h0m-16 4h0m0 2h0m-11-2h0m-1-4h0m-1 6h0m-1-4h0m-5 3h0m-3 0h0m-10 0h0m0-2h0m-6 4h0m5 4h0m3 3h0m7-5h0m4 4h0m2-1h0m0-3h0m1 4h0m10 1h0m1-5h0m0-1h0m1 5h0m16-3h0m3-1h0m4 6h0m1-2h0m0-5h0m0 0h0m4 4h0m7 3h0m1-5h0m2 5h0m1-2h0m3 2h0m9-6h0m4 2h0m3-2h0m6 2h0m1-1h0m10 0h0m0 0h0m14 1h0m18-2h0m0 3h0m1 2h0m21-3h0m2-3h0m10 0h0m2 4h0m6 0h0m6-4h0m0 0h0m4 4h0m0-3h0m6 2h0m1 1h0m3-2h0m3 3h0m1-3h0m2 3h0m8 1h0m5-6h0m26 3h0m21-3h0m-7 8h0m-46 3h0m-10-3h0m-7 1h0m-1 3h0m0-1h0m-6 1h0m-1-2h0m-6 2h0m-2 2h0m-1-6h0m-6 2h0m-1 4h0m-3-1h0m-5 1h0m-1-4h0m-1 3h0m-7 1h0m-8 1h0m-24-7h0m-18 3h0m-14-2h0m-7 0h0m-7 5h0m-10-3h0m-1 4h0m-6-3h0m0-3h0m-6 5h0m-10-4h0m-1 5h0m-5-3h0m-5-1h0m-13 4h0m-2-5h0m-1 3h0m-2 0h0m-3 0h0m-14-3h0m-8 3h0m9 5h0m6 2h0m7-2h0m2-2h0m5 7h0m3-3h0m3 1h0m1-5h0m1 3h0m12-2h0m1 0h0m3 4h0m1 0h0m8-5h0m3 5h0m5 1h0m4 1h0m4 0h0m2 0h0m1-3h0m0-3h0m5 1h0m1 1h0m1 1h0m0-3h0m2 0h0m1 4h0m6-1h0m8 0h0m4 3h0m5 0h0m2-7h0m1 4h0m1 3h0m1-7h0m2 7h0m10-7h0m2 7h0m1-2h0m4 0h0m0-4h0m1 3h0m11 0h0m1-1h0m1-2h0m2 2h0m3 3h0m3-4h0m7 5h0m1-7h0m27 2h0m4 1h0m23 1h0m-55 6h0m-15 3h0m-15 2h0m-3-5h0m-9 4h0m-2-4h0m-1 4h0m-1-3h0m-19 0h0m-2 1h0m-7 0h0m-7 1h0m-1-2h0m-4 0h0m-9 1h0m-5 0h0m-2 0h0m-7 2h0m-3 0h0m-7 0h0m-1-1h0m-10-2h0m0 2h0m-1-3h0m-5-2h0m0 1h0m-4-1h0m-6 3h0m-5 0h0m-1-1h0m-4 3h0m0-5h0m1 14h0m10-5h0m8-1h0m1 6h0m1-3h0m5 4h0m8-1h0m13-4h0m14 2h0m12 1h0m5-2h0m0 1h0m14 2h0m1 0h0m3-4h0m2 1h0m8 2h0m1-3h0m3 1h0m8 1h0m-15 11h0m-7-3h0m-2 0h0m-2 1h0m-12-3h0m-14 3h0m-1 1h0m-11 0h0m-5-5h0m-9 0h0m-10 0h0m12 10h0m29 3h0m3-5h0m3 1h0m-22 6h0m-3 2h0m-9 2h0m-1-4h0m12 14h0m-1 8h0"/><path transform="scale(.25)" fill="none" stroke="#D89000" stroke-width="5.2" stroke-linecap="round" d="M0 0m712 151h0m-20 5h0m-19 1h0m-1-1h0m-2 1h0m-5 0h0m-5-5h0m-20 5h0m-2-2h0m-1 2h0m-2-1h0m-6 1h0m0-1h0m-18 11h0m1-2h0m8 0h0m19-1h0m2-4h0m28 7h0m1-7h0m7 3h0m3 0h0m0 2h0m8-1h0m5 1h0m2-1h0m17 0h0m17 1h0m6 0h0m4 1h0m5-1h0m0-1h0m8-2h0m11 4h0m10 8h0m-3-5h0m-12 1h0m-1 2h0m-4-4h0m-9 7h0m-1-4h0m-1 4h0m-2-1h0m-2-3h0m-11 0h0m-6-3h0m-15 7h0m-5-7h0m-7 2h0m-13 0h0m-1 4h0m-6 0h0m-7-5h0m-1 1h0m-19 5h0m-7 0h0m-32-7h0m-1 4h0m-7 8h0m3-1h0m5 1h0m5 2h0m6-5h0m8 1h0m2-2h0m6 6h0m2-2h0m11-2h0m4-1h0m3 0h0m4 5h0m8 0h0m11 1h0m4-6h0m1 1h0m2-1h0m1 6h0m3-4h0m0 2h0m2-2h0m7 1h0m0-3h0m2 0h0m14 4h0m18 2h0m5-7h0m1 0h0m8 1h0m0 0h0m1 3h0m1-3h0m7 0h0m2 1h0m11 1h0m3 0h0m10-2h0m1 5h0m11 0h0m13 1h0m2-1h0m13 9h0m-18-4h0m-2 4h0m-8-7h0m-4 1h0m-8-1h0m0 7h0m-2-3h0m0-4h0m-10 4h0m-5 3h0m-5-5h0m-1 2h0m-6-4h0m-2 0h0m-15 3h0m-2-1h0m-1 1h0m-5 4h0m-2-5h0m-4 2h0m-10-4h0m-11 7h0m-9-7h0m-3 3h0m-17 2h0m-4-5h0m-1 0h0m-5 1h0m-8-1h0m-5 6h0m-5 0h0m-3-4h0m-1 4h0m-18 0h0m-4 0h0m-12-3h0m-1-1h0m0 2h0m-3 1h0m-6 1h0m-3 8h0m10-3h0m13-2h0m4 5h0m2-2h0m3 1h0m3-2h0m1 3h0m0-4h0m10 4h0m9-5h0m3 5h0m6 0h0m6-6h0m5 7h0m5-5h0m13-2h0m8 5h0m1 0h0m11 1h0m5-3h0m4 0h0m1 4h0m6-5h0m5 1h0m4 2h0m6-5h0m0 3h0m1 4h0m5-1h0m0-6h0m4 7h0m9-3h0m4-1h0m16 4h0m1-7h0m2 7h0m4-2h0m4-5h0m1 7h0m6-4h0m1 3h0m2-1h0m5 0h0m9-5h0m19 2h0m0 8h0m0 4h0m-1-6h0m-4 3h0m0 1h0m-11-3h0m-6 4h0m-2-5h0m-16 2h0m-2 3h0m0-3h0m-1 5h0m-2-4h0m-7 3h0m-18-2h0m-5-4h0m-9 2h0m-1 1h0m-5 3h0m-8 0h0m-4 1h0m-6-3h0m-6 0h0m-7 2h0m-6-3h0m-5 3h0m-4-2h0m-4-3h0m0 3h0m-2-1h0m-1 4h0m-3-2h0m0 0h0m-6 0h0m-1 1h0m-1 1h0m0 0h0m-6-6h0m-5 6h0m-4-5h0m-1 0h0m-3 4h0m-2-3h0m-2-2h0m-2 3h0m-3 0h0m-6 2h0m-1-4h0m-10-1h0m-1 3h0m-6 3h0m-3-3h0m-4-2h0m-6 0h0m-6 4h0m-5-1h0m0-2h0m-4 0h0m14 8h0m6 1h0m1-3h0m7 4h0m2 1h0m0-6h0m3 0h0m0 1h0m6-1h0m7 5h0m2 0h0m4 0h0m1 1h0m27-6h0m2 4h0m6 1h0m8 2h0m2 0h0m0-7h0m8 2h0m12 4h0m2 1h0m9-3h0m21-1h0m2-2h0m9 6h0m7-6h0m5-1h0m1 5h0m1-1h0m13 1h0m1-4h0m2 6h0m13-5h0m6 4h0m1 1h0m7-3h0m5-4h0m4 4h0m1 2h0m8-1h0m3 2h0m1-5h0m2 2h0m8 4h0m-7 5h0m-8 1h0m-10-6h0m-5 5h0m-5 1h0m0-6h0m-11 1h0m-3 2h0m-4-3h0m-3 4h0m-3-1h0m-17 0h0m-16-1h0m-11 0h0m-2-2h0m-1 7h0m-1-1h0m-22-3h0m-1 2h0m-11-1h0m-5 3h0m0 0h0m-7-7h0m-2 4h0m-1 1h0m-16-1h0m-6 3h0m-7-5h0m-8 5h0m0-3h0m-1-3h0m-3 0h0m-4 6h0m-2-3h0m0 0h0m-8-3h0m-7 4h0m-2 2h0m-2-3h0m-2-2h0m-4-1h0m-2 5h0m-1-6h0m-8 4h0m12 5h0m7 2h0m8-1h0m16 3h0m3-2h0m0-1h0m13 1h0m3 3h0m2-4h0m1 2h0m5-1h0m8 4h0m1-3h0m3 3h0m0-6h0m1-1h0m1 2h0m4 4h0m1 0h0m4-4h0m3 0h0m11 4h0m0-1h0m1-2h0m16 4h0m2 0h0m2-7h0m2 1h0m5 4h0m15-5h0m6 2h0m3 3h0m7 0h0m2-1h0m0-3h0m5 5h0m0-1h0m1-5h0m2 4h0m1-4h0m2 5h0m1-4h0m6 1h0m3-2h0m2 0h0m11 4h0m5 1h0m1 1h0m2-4h0m5 1h0m5 0h0m1-1h0m6 5h0m0 0h0m0-3h0m0-3h0m10 10h0m-1 0h0m-1-1h0m-10 5h0m-12-3h0m-3-2h0m-9 4h0m-6-1h0m-5-2h0m-5 0h0m-1-3h0m-2 2h0m-5 4h0m-1-2h0m-1 2h0m-1 0h0m-3-3h0m-1-2h0m-2 0h0m-1 6h0m0-6h0m-8 0h0m-5 3h0m0 1h0m-5-2h0m-1-2h0m-9 5h0m-9-5h0m-1 3h0m-3-4h0m-2 2h0m-2 4h0m0-2h0m-15-1h0m-2 1h0m-1 2h0m-1-1h0m0 0h0m-2 0h0m-3 2h0m-4-3h0m-8 0h0m-8-1h0m-26-3h0m-1 0h0m-3 1h0m54 11h0m2 1h0m2-3h0m6-2h0m0 5h0m4-5h0m1 6h0m9 1h0m0-5h0m5 0h0m2 4h0m5-6h0m5 4h0m4 1h0m3 2h0m0-4h0m2-2h0m3 3h0m7-3h0m0 2h0m4-1h0m1 2h0m19 2h0m6-4h0m9 3h0m0 0h0m3-1h0m8 2h0m14-3h0m8-1h0m5 4h0m-20 8h0m-4-1h0m-1-1h0m-14 3h0m-1-2h0m-4-4h0m-2 1h0m-2 2h0m-1-4h0m-22 1h0m-6 5h0m-5-1h0m-11-4h0m-13-1h0m-10 1h0m35 9h0m5 2h0m9 2h0m2-5h0m8 4h0m3-1h0m5 2h0m1-5h0m10-1h0m1 2h0m2-2h0m9 3h0m3 1h0m3-3h0m-4 8h0"/><path transform="scale(.25)" fill="none" stroke="#A3A500" stroke-width="5.2" stroke-linecap="round" d="M0 0m729 565h0m15-4h0m21 12h0m-12-1h0m-8-4h0m-3 5h0m-1 1h0m-9 0h0m-2 0h0m-2-4h0m-5 4h0m0 0h0m-1 9h0m2-3h0m4-2h0m1-2h0m8 2h0m6-2h0m3 5h0m5-4h0m1 3h0m3-3h0m3 4h0m0-3h0m10 0h0m18 13h0m-11-2h0m-2 1h0m-6-6h0m-8 3h0m-20 2h0m-1-1h0m-9-1h0m-2 3h0m-6-3h0m-5-1h0m-1 1h0m-8-2h0m-2 4h0m-4-1h0m-2-2h0m11 13h0m9 0h0m2-3h0m20 2h0m6-2h0m6-2h0m2-2h0m2 2h0m1 0h0m1-2h0m2 2h0m2 3h0m1 1h0m9-3h0m5-2h0m5 0h0m0 1h0m3 0h0m4 4h0m0-1h0m-5 6h0m0 1h0m-1 3h0m-2 0h0m-9-4h0m-4 4h0m-4 0h0m-1-7h0m-1 0h0m-3 5h0m0 1h0m-2-1h0m-2-3h0m-5-1h0m-2 0h0m-1 5h0m-23 0h0m-9 1h0m-3-7h0m-9 6h0m-7 1h0m-6 0h0m-4 4h0m0 3h0m1-4h0m3 0h0m1-1h0m5 1h0m9 0h0m5 2h0m0-2h0m3 1h0m0 3h0m3 1h0m2-4h0m2 4h0m1-6h0m1 4h0m5-2h0m5 2h0m27-2h0m0 0h0m6 0h0m5 0h0m1-3h0m4 1h0m9 3h0m2 0h0m4-1h0m6 0h0m6 9h0m-5 0h0m-17 0h0m-6 2h0m-6-2h0m-11-3h0m-7 2h0m-3 1h0m-1 3h0m-1-3h0m-7 2h0m-1-5h0m-15-1h0m-1 3h0m-12 4h0m-2-2h0m-1-2h0m-5 0h0m-1-2h0m-2 6h0m-14-1h0m-13 8h0m12-5h0m2 3h0m4-4h0m5 7h0m3 0h0m1-4h0m1 2h0m7 2h0m2 0h0m10-3h0m3-3h0m16 0h0m1 1h0m2-2h0m2 4h0m4 3h0m1-2h0m3 1h0m4 1h0m0 0h0m1-3h0m2-4h0m12 6h0m18-4h0m26 2h0m-12 8h0m-13 1h0m-30 0h0m-4 1h0m-21-2h0m-2-2h0m-4-2h0m-1 6h0m-1-5h0m-1-1h0m0 3h0m-4 4h0m-1-7h0m-3 7h0m-7-5h0m-4-2h0m-14 4h0m-9-1h0m0 1h0m-2 2h0m-1-2h0m-6 1h0m-3-1h0m-1 1h0m-1-1h0m-2-2h0m5 10h0m2-4h0m2 6h0m3-2h0m1 2h0m1-2h0m1 3h0m16-5h0m20-2h0m1 0h0m7 7h0m37-2h0m7 1h0m2 1h0m11 0h0m7-1h0m9 0h0m8 1h0m9 0h0m4-3h0m4-2h0m1 3h0m7-1h0m5 0h0m93 1h0m9 0h0m8 1h0m1 0h0m5-3h0m0-2h0m7 1h0m-1 9h0m-17-1h0m-5 5h0m-7-4h0m-1 0h0m-1-1h0m-12 1h0m-2-3h0m-20 6h0m-2-3h0m-8 1h0m-1-3h0m-29 1h0m-3 2h0m-4 3h0m-2 0h0m-2-5h0m-2-1h0m-1 5h0m-10-6h0m-1 6h0m-1-5h0m-3 4h0m-11 1h0m-1 1h0m0-2h0m-2 1h0m-1 1h0m-2-1h0m-2-2h0m-2-4h0m-6 2h0m-2 3h0m-2-1h0m-4-1h0m-2 1h0m-1 1h0m-2 1h0m-5-5h0m-2 2h0m-3 3h0m-6-1h0m-3-2h0m-8-2h0m0 2h0m-5 4h0m-7-4h0m-2-1h0m-1 2h0m-7 2h0m-3-4h0m-9-2h0m-3 6h0m-10-1h0m-1-4h0m-8 3h0m-8-4h0m-1 5h0m-1 1h0m-7 0h0m-1-1h0m-7-3h0m-3-1h0m-7 5h0m-204-5h0m202 12h0m4 1h0m7-5h0m7 3h0m8 1h0m2 2h0m10-1h0m4-5h0m1 0h0m0 2h0m2-1h0m0 3h0m7-4h0m9 1h0m45-1h0m6 4h0m2-5h0m8 1h0m7 6h0m16-2h0m8-2h0m2 0h0m2-1h0m9 1h0m23-2h0m5 5h0m5-1h0m1 1h0m2-5h0m4 5h0m9-3h0m2 0h0m6 4h0m26-4h0m1-1h0m2-1h0m0 5h0m1-4h0m1-1h0m-17 7h0m-18 4h0m-1-1h0m-5-2h0m-5 1h0m-9-1h0m-3 2h0m-2 4h0m-1-3h0m-4-4h0m-1 5h0m-9-1h0m-1-3h0m0 3h0m-1-2h0m-5 0h0m-10 3h0m-1-2h0m-13-2h0m-3 2h0m0 4h0m-2 0h0m-1-1h0m-1-4h0m-6 0h0m-4 2h0m-2 1h0m-2-3h0m-1 2h0m-2 2h0m-21-3h0m-4-1h0m-3 5h0m0-3h0m-1 1h0m-5-5h0m-13 7h0m-1 0h0m-17 0h0m0-4h0m-15 1h0m-6 3h0m-2-7h0m-1 1h0m-6 0h0m-2 4h0m-12-4h0m-1 1h0m-6 5h0m-2-1h0m-1-1h0m-1 0h0m-1 0h0m5 6h0m2 1h0m1 2h0m6-4h0m5 5h0m8-6h0m9 4h0m1 2h0m1-5h0m18 2h0m1-3h0m7-1h0m1 0h0m2 7h0m1-3h0m5-1h0m0-1h0m4-2h0m4 0h0m22 6h0m6 1h0m5-1h0m12 1h0m1-1h0m9-2h0m3 2h0m18-5h0m1 2h0m4 3h0m11 0h0m8-2h0m4 2h0m10 0h0m0 2h0m-26 2h0m-6 4h0m-12-2h0m-5 1h0m-3 1h0m-1-5h0m-1 5h0m-2-5h0m0 4h0m0-2h0m-22-3h0m-2 2h0m-6-1h0m-4 1h0m-3 2h0m-17 3h0m-2 0h0m0-3h0m-2-3h0m-7 2h0m-1-2h0m-4-1h0m-1 2h0m-4-2h0m-3 4h0m-1-2h0m-1 0h0m-4 2h0m-1-3h0m-1 5h0m-10-1h0m-3-3h0m-21 0h0m-2 2h0m-12 0h0m-6-2h0m0 1h0m-5 4h0m0 5h0m3-4h0m11 7h0m1-1h0m1-5h0m10 3h0m5 3h0m1-1h0m1 0h0m0-3h0m8 0h0m6 1h0m2 1h0m3-1h0m5 1h0m0-3h0m12 0h0m5-1h0m1 0h0m20 2h0m6-3h0m4 0h0m-15 11h0m-11 3h0m-2-4h0m-9-1h0m-5 4h0m-2 0h0m-10 0h0m-7 1h0m-1-6h0m-8 1h0m-5 6h0m-16-6h0m-3 3h0m-9-3h0m-4 8h0m12 0h0m8 0h0m1 6h0m2-1h0m6-2h0m14 3h0m12-4h0m-54 12h0m-13 4h0m2 2h0m-8 5h0m-12 7h0m5 0h0m1 0h0m-13 13h0m-1-2h0m-8 3h0m-5 3h0m8-1h0m-11 12h0m-1-5h0"/><path transform="scale(.25)" fill="none" stroke="#39B600" stroke-width="5.2" stroke-linecap="round" d="M0 0m869 546h0m58 3h0m7 7h0m-6 0h0m-8-4h0m-9 0h0m-6 4h0m-1 2h0m-4 0h0m-1-3h0m-2 3h0m-1 0h0m-5-2h0m-5-1h0m-3 3h0m-5 1h0m-7-1h0m-3-4h0m-8-2h0m-1 7h0m0-7h0m-2 1h0m-5 6h0m-47 0h0m-3 3h0m11 4h0m2 1h0m1-6h0m7 0h0m2 6h0m1-3h0m4 3h0m1-7h0m0 2h0m5-2h0m13 1h0m2 6h0m7-4h0m2 1h0m13 1h0m0-5h0m1 6h0m2-1h0m2-4h0m8 1h0m13-2h0m4 4h0m1-1h0m6 2h0m3-4h0m8 4h0m5 2h0m7-6h0m3 4h0m21 2h0m3 0h0m4 6h0m-2-1h0m-5 2h0m0-6h0m-3 3h0m-8 2h0m0-5h0m-5 6h0m-12-5h0m-8 3h0m-7-4h0m-4 5h0m-1-2h0m-3 3h0m-9-1h0m-13-2h0m-4 2h0m-16 1h0m-4-2h0m-16 0h0m-19 1h0m-16-4h0m-2 5h0m-5 0h0m-3 8h0m3-6h0m1 1h0m3 5h0m18-6h0m4 1h0m3 3h0m0 2h0m5 1h0m2 0h0m1-2h0m12 1h0m2 1h0m10-4h0m5-1h0m2-1h0m3-1h0m8 2h0m7 3h0m10-3h0m2 1h0m1 0h0m5-3h0m6 5h0m2-2h0m6-3h0m2 4h0m0-4h0m18 5h0m1-1h0m2 0h0m5 1h0m1-1h0m3-2h0m2 4h0m4 1h0m22-1h0m-13 7h0m-2-4h0m-1 0h0m-5-1h0m-1 1h0m-3 5h0m-8-6h0m-11 2h0m-2 3h0m-1 0h0m-4-3h0m-5 4h0m-2-3h0m-9 1h0m-8 2h0m-8 1h0m-1-4h0m-1 4h0m-1-5h0m-17 0h0m-6 3h0m-34 1h0m-1 0h0m-2 0h0m-2-5h0m-11 1h0m-3-2h0m-1 0h0m0 7h0m-16 0h0m0 0h0m-4 6h0m8-2h0m6 4h0m4-1h0m5-4h0m9 5h0m4-4h0m5 1h0m0-3h0m1 0h0m1 4h0m1-4h0m5 2h0m9-3h0m3 2h0m5-1h0m11-1h0m21 1h0m3 3h0m4-3h0m14-1h0m10 3h0m21 2h0m5 1h0m5 1h0m14-3h0m3 0h0m6-3h0m7 10h0m-10 0h0m0 1h0m-5-4h0m-2 7h0m-2-4h0m-2-2h0m-12 0h0m-4-1h0m-1 6h0m0-6h0m-22 7h0m-1 0h0m-6-4h0m0-1h0m-11-1h0m-3 3h0m-10-1h0m-3 2h0m-19-2h0m0-1h0m-10 2h0m-2 1h0m-2-1h0m-21-2h0m-1 4h0m-2-1h0m-15-1h0m-1 3h0m0-4h0m-6 0h0m-200 10h0m4 1h0m5-2h0m2 0h0m186 3h0m5 0h0m4 0h0m5-4h0m1 0h0m1 1h0m0-3h0m3 4h0m4 0h0m1 0h0m6-1h0m26 2h0m1-1h0m13-2h0m9 2h0m10-4h0m10 5h0m1 1h0m0-7h0m2 2h0m1 0h0m2 1h0m5 2h0m6 1h0m0 1h0m18-6h0m2 0h0m16 2h0m0-3h0m16 4h0m3-4h0m1 5h0m0 5h0m-7 2h0m0-4h0m-14 6h0m-7-4h0m-2-2h0m-11 6h0m-2-6h0m-5 6h0m-9-1h0m-1-1h0m-2-2h0m-2 5h0m-1-7h0m-49 6h0m-1 0h0m-2 1h0m-4-4h0m-7-1h0m-7-2h0m-11 6h0m-4-2h0m-6 1h0m0-2h0m-4 0h0m-3 2h0m-2-2h0m-2 4h0m-189-7h0m-2 2h0m192 11h0m0-4h0m4 1h0m1 1h0m9-3h0m3 0h0m2 4h0m1 1h0m1-1h0m3 3h0m1-1h0m1-3h0m2-2h0m5 0h0m29 4h0m2 0h0m3 2h0m1-5h0m3 0h0m5 4h0m2-4h0m1 1h0m2 1h0m1-2h0m11 0h0m2 1h0m3-1h0m1 5h0m1-6h0m1 6h0m7-3h0m12 2h0m16-2h0m2-2h0m-8 6h0m-8 3h0m-2-2h0m-8 3h0m-9 2h0m-6 1h0m-3 0h0m-5-6h0m-2 3h0m-2-3h0m-2 3h0m-15-2h0m-12 1h0m-4 2h0m-1 1h0m-1-2h0m-6 0h0m-1-1h0m-4 3h0m-1-1h0m-6 0h0m-2-3h0m-3 3h0m0-4h0m-1 5h0m-4-6h0m-2 7h0m-4-4h0m-7 1h0m-2 3h0m-9-3h0m38 8h0m19-1h0m1-1h0m4 5h0m7-7h0m0 5h0m3-2h0m3 0h0m8 0h0m6 0h0m-40 11h0"/><path transform="scale(.25)" fill="none" stroke="#00BF7D" stroke-width="5.2" stroke-linecap="round" d="M0 0m762 449h0m0 5h0m3 1h0m10-5h0m11 1h0m4 2h0m17 1h0m16 9h0m-7 0h0m-7-3h0m-4-1h0m-1 1h0m-13 3h0m0-1h0m-2-6h0m-1 3h0m-1-3h0m-1 5h0m-4 0h0m-2-2h0m-3-3h0m-3 0h0m-1 1h0m-9 2h0m0 3h0m-3-5h0m-2 6h0m-4-1h0m-8-5h0m-3 6h0m-5-5h0m-1 1h0m-4 1h0m-5 0h0m-4 3h0m-10 0h0m-18 7h0m5-1h0m15-4h0m7 5h0m4-3h0m0 3h0m9-1h0m12-2h0m10-2h0m0 0h0m1 4h0m3-5h0m16 1h0m18 4h0m11-4h0m2 3h0m1-4h0m2 6h0m8 0h0m2-3h0m1 2h0m13 9h0m-7-4h0m-10 2h0m-1-2h0m-3-1h0m-2 2h0m0 2h0m-5 2h0m-1-6h0m0 4h0m-2-2h0m-10-1h0m-3 2h0m-28-2h0m-2 2h0m-15 0h0m-1-2h0m-4-1h0m-14 0h0m-5 3h0m-3-1h0m-7-2h0m-3 0h0m-15 3h0m-9 2h0m-6 1h0m-10 7h0m4 1h0m2-4h0m26-1h0m0-1h0m5 1h0m2 0h0m3 1h0m4 1h0m14-2h0m2 4h0m9-2h0m1-3h0m2 4h0m1 1h0m23-5h0m4 3h0m10 1h0m12 0h0m1 1h0m2-3h0m13 1h0m3-3h0m5-1h0m0 3h0m17-2h0m5-1h0m14 3h0m-10 11h0m-11 1h0m-1 0h0m0-5h0m0 5h0m-18-5h0m-9-1h0m-5 4h0m0-1h0m-1 3h0m-6-4h0m-6 3h0m-2-6h0m-6 5h0m-4-5h0m-10 2h0m-1 3h0m-11-4h0m-1 0h0m-5 6h0m0-3h0m-15 1h0m-5-3h0m-17 2h0m-2 0h0m-4 2h0m0-1h0m-6 0h0m-10-2h0m-15 2h0m0 1h0m-4-2h0m-4 2h0m-1-3h0m0 0h0m-4-2h0m-6 6h0m5 5h0m4 0h0m7 1h0m10-1h0m0-2h0m16 4h0m2-2h0m2-2h0m11 1h0m0 1h0m1-1h0m6 0h0m6 4h0m4-6h0m1 1h0m14 4h0m1-3h0m25 1h0m1-1h0m9-1h0m2 2h0m1 1h0m13-3h0m9 3h0m2-5h0m14 7h0m0-4h0m1 2h0m13-2h0m7-1h0m0-2h0m3 4h0m4-2h0m4 1h0m5 8h0m-2-1h0m-3 1h0m-4 2h0m-2-2h0m-6 0h0m0-2h0m-2 1h0m-9 4h0m-4-3h0m-7 1h0m-2 0h0m-4-2h0m-8 4h0m0-5h0m-14 1h0m-3-1h0m-2 3h0m-2-4h0m-9 5h0m-7-2h0m-6 3h0m-5-4h0m0 1h0m-8 1h0m-15 0h0m0 2h0m-10-5h0m-13 4h0m-4-2h0m-5 0h0m-2 3h0m-13-6h0m-10 1h0m-15-1h0m6 10h0m17 0h0m4 0h0m1 1h0m4-3h0m16 1h0m0 1h0m6 2h0m6 2h0m5-3h0m3 0h0m6 1h0m2-3h0m17 5h0m9 0h0m4-6h0m2 5h0m0-1h0m1 2h0m10 0h0m1-4h0m3 4h0m2-6h0m5 7h0m2-4h0m1 1h0m6-1h0m8-3h0m13 1h0m14 1h0m5 3h0m5-5h0m1 6h0m5-4h0m1 2h0m1 3h0m1-7h0m7 3h0m4 3h0m2 0h0m0-5h0m9-1h0m0 5h0m6 1h0m5 5h0m-2 3h0m-12-5h0m0 6h0m-12-4h0m-3 4h0m-2-2h0m-1 0h0m-3-3h0m-6 4h0m-7-2h0m-16-4h0m-5 0h0m-9 3h0m-12 1h0m-21-1h0m-2 2h0m-4-1h0m-9-2h0m-7 5h0m-2-6h0m-3 4h0m-3-3h0m-3 2h0m-6 1h0m-1 0h0m-9-3h0m-9 1h0m-1-2h0m-2 0h0m-1 6h0m-3-1h0m-4-4h0m-2 2h0m-10-3h0m-13 2h0m-6-1h0m30 12h0m4-4h0m1 2h0m3-3h0m1 3h0m3-3h0m2 0h0m0 5h0m7-6h0m9 6h0m4-1h0m4-4h0m4 6h0m1-3h0m6-3h0m5 3h0m7-2h0m3-1h0m17 2h0m70 1h0m20-4h0m11 3h0m3 3h0m0 5h0m-1-3h0m0 5h0m-9-3h0m-22 2h0m-17-1h0m-27 2h0m-15-4h0m-1 2h0m-30-3h0m-2 4h0m-12 3h0m-3 0h0m-3-4h0m-16-2h0m-1 6h0m-18-7h0m-15 1h0m27 13h0m3-1h0m1 2h0m4-5h0m16 5h0m3-1h0m1 1h0m1-7h0m0 2h0m1 0h0m77 0h0m24-1h0m19-1h0m3 0h0m18 4h0m10-1h0m1 0h0m1-2h0m-104 11h0m-4-2h0m-72 4h0m0-4h0m-6 1h0m-2-3h0m25 9h0"/><path transform="scale(.25)" fill="none" stroke="#00BFC4" stroke-width="5.2" stroke-linecap="round" d="M0 0m246 342h0m-9 6h0m-3 4h0m55 0h0m26 11h0m-16 3h0m-4 0h0m-10 0h0m-8-2h0m-4-3h0m-4 5h0m-2-3h0m-4 2h0m-6 2h0m-21 5h0m7 0h0m1 1h0m3-3h0m0 0h0m1 3h0m1-2h0m4-2h0m0 3h0m4-2h0m6 2h0m10 1h0m3 1h0m2-3h0m15 1h0m4 1h0m4 1h0m1-6h0m4 4h0m7 0h0m2 1h0m14 9h0m-1-4h0m-8-2h0m-3 0h0m-4 4h0m-5-4h0m-3 2h0m-7 5h0m-3-3h0m-2-4h0m-3 3h0m-4 4h0m-6-7h0m-7 1h0m-2 5h0m-1-6h0m0 6h0m-7-6h0m-1 5h0m-7-5h0m0 1h0m-3 4h0m-1-3h0m-3 4h0m-2-3h0m-11-1h0m0-1h0m-4 2h0m-4-2h0m-3 6h0m-7 3h0m1 1h0m9-2h0m4 3h0m1-2h0m6-2h0m0 3h0m8-2h0m3 1h0m18-2h0m5 5h0m6-1h0m5 3h0m0-3h0m2-2h0m6 2h0m9-4h0m2 5h0m5-5h0m3 6h0m8-2h0m2-1h0m4-2h0m3 2h0m2 2h0m-6 6h0m-8 2h0m-1 1h0m-9-3h0m-11 3h0m0-2h0m-10-3h0m-7-1h0m-5 4h0m-7 3h0m-1-1h0m-1-2h0m-4-4h0m-13 0h0m-3 4h0m-1 2h0m-2-6h0m-9 7h0m-2-2h0m-1-4h0m-16 4h0m18 9h0m5-2h0m1 3h0m1 0h0m0-1h0m13 1h0m11-1h0m0-2h0m5-4h0m3 2h0m1 0h0m3 1h0m20 4h0m2-5h0m22 1h0m1 0h0m-26 10h0m-25-4h0m-6 2h0m-15-3h0m-26 0h0"/><path transform="scale(.25)" fill="none" stroke="#00B0F6" stroke-width="5.2" stroke-linecap="round" d="M0 0m829 191h0m-4-2h0m-9 2h0m-8 1h0m13 16h0m-336 359h0m2-4h0m3 3h0m8 1h0m0 0h0m1-2h0m17 2h0m4 6h0m-9 1h0m-1 1h0m-2-1h0m0-1h0m-8 2h0m-1-7h0m0 2h0m-1-1h0m-1 5h0m-3-6h0m-2 6h0m-1-6h0m-1 4h0m-2-4h0m-1 3h0m-8-2h0m0 4h0m-3 2h0m-3-3h0m23 5h0m1 0h0m4 5h0m1-1h0m2-4h0m2 4h0m0-2h0m5 4h0m1-2h0m0-1h0m1 1h0m0-4h0m5-1h0m9 11h0m-1 1h0m-1 2h0m0 1h0m-9-1h0m0-3h0m-2 4h0m-3 0h0m-1-5h0m-1-1h0m-3 3h0m-27 1h0m31 3h0m5 2h0m15 3h0m2-3h0m1 4h0m1-2h0m5-1h0m3 4h0m0-2h0m6-2h0m9 4h0m7 0h0m7 2h0m-2 0h0m-2-1h0m-10 4h0m-10-3h0m0 6h0m-1 0h0m-2-6h0m-1 6h0m-3-5h0m-12 4h0m19 9h0m0-3h0m7 0h0m1 2h0m3-5h0m0 3h0m11-3h0m15-1h0m13 1h0m2 4h0m2-4h0m2 0h0m-30 13h0m-4 1h0m0-4h0m-4-1h0m-1 4h0m-4-5h0m-6 3h0m17 4h0m1 0h0m4 0h0m1 1h0m0 5h0m0-6h0m1 6h0m2 1h0m5 0h0m10 0h0m2 6h0m-2-4h0m-2 0h0m0 0h0m-11 5h0m-2-6h0m-2 3h0m-1 0h0m0-2h0m12 13h0m1-5h0m1 2h0m2 0h0m4-3h0m2 0h0m7 3h0m0 4h0m21 5h0m-10 3h0m0-2h0m-3-4h0m0 2h0m0 3h0m-5-2h0m-6-4h0m-2 3h0m-3-3h0m-1 3h0m20 6h0m1-1h0m2 6h0m0-4h0m0-1h0m0 4h0m1-3h0m0 2h0m1 0h0m2 0h0"/><path transform="scale(.25)" fill="none" stroke="#9590FF" stroke-width="5.2" stroke-linecap="round" d="M0 0m576 763h0m-3 4h0m-6-4h0m-3-3h0m38 22h0m-4-2h0m-4 3h0m-28-3h0m-8 8h0m2-4h0m3 7h0m7-6h0m3-1h0m1 7h0m4-2h0m4-1h0m4 3h0m3-1h0m0-1h0m5-1h0m8 3h0m4 0h0m12 6h0m-5 0h0m-2 2h0m-1-3h0m-13-2h0m-4-2h0m-3 2h0m0 1h0m-2-1h0m-4-2h0m0 3h0m0 4h0m-1-6h0m-1-1h0m-2 7h0m0-4h0m-1 2h0m-6-2h0m-3 4h0m-10-5h0m-1 2h0m-7-2h0m11 11h0m2-3h0m1 2h0m5 1h0m1-5h0m1 0h0m2 1h0m6 3h0m31-3h0m2 1h0m1-2h0m-8 9h0m-11 0h0m-2-1h0m-5 2h0m-4 4h0m0 0h0m0 0h0m-1-4h0m-1-1h0m-8 1h0m-1 4h0m0 0h0m0-4h0m-19 8h0m5-1h0m5-1h0m8 0h0m4 7h0m7-6h0m3 1h0m1-2h0m3 3h0m5-2h0m5 1h0m3 1h0m-13 7h0m-13-2h0m-15 4h0"/><path transform="scale(.25)" fill="none" stroke="#E76BF3" stroke-width="5.2" stroke-linecap="round" d="M0 0m393 628h0m8 1h0m10 1h0m13 0h0m7 8h0m0 0h0m-5-5h0m-4 2h0m-1 1h0m-8 2h0m-5-6h0m0 7h0m-10-7h0m-8 5h0m-6 9h0m2-4h0m2 2h0m2-3h0m1 5h0m0-5h0m0 0h0m2 3h0m2-3h0m17 0h0m9 1h0m4-2h0m5 7h0m5-4h0m1 0h0m6 2h0m3 8h0m-8-2h0m-2 4h0m-9-5h0m-1-2h0m-1 5h0m-2 2h0m-3-4h0m-1 0h0m0-1h0m-1 4h0m-1-5h0m-13 4h0m0 2h0m-2-3h0m0-4h0m-2 1h0m-5 4h0m-1 0h0m-2-4h0m-2-1h0m-2 1h0m-1 5h0m-7-6h0m18 11h0m13-2h0m3 0h0m7 6h0m3-3h0m12-4h0m2 3h0m1-1h0m4 3h0m0-5h0m6 4h0m10 6h0m-6 1h0m-2-1h0m-10-2h0m-34 2h0m134 99h0m-4-3h0m-1 3h0m-9-4h0m25 8h0"/><path transform="scale(.25)" fill="none" stroke="#FF62BC" stroke-width="5.2" stroke-linecap="round" d="M0 0m313 311h0m16 6h0m-4-4h0m-26-1h0m-27 7h0m-1-1h0m-1-1h0m-2-1h0m-1 1h0m-13 1h0m-6 3h0m7 0h0m3 3h0m5-1h0m9 3h0m2-6h0m9 5h0m1-5h0m10 1h0m6 2h0m4 2h0m3 1h0m4-3h0m4-1h0m3 2h0m3-2h0m-19 6h0m-8 3h0m-13 4h0m-13-5h0m-3 3h0m0-4h0m-2 1h0m-3 2h0m-7-4h0m14 11h0m7 2h0m35 1h0m1 0h0m-9 3h0m-5 0h0m-3 0h0m-9 4h0m-3-2h0m-8-2h0m-5 0h0m0 13h0m18-3h0m62 32h0m12-1h0m3 9h0"/><line x1="44.5" y1="29.8" x2="44.5" y2="214.0" stroke="#2a2a2a" stroke-width="1.1"/><line x1="44.0" y1="213.5" x2="259.0" y2="213.5" stroke="#2a2a2a" stroke-width="1.1"/><line x1="41.9" y1="47.8" x2="44.5" y2="47.8" stroke="#2a2a2a" stroke-width="1.0"/><text x="39.7" y="50.9" font-size="8.5" text-anchor="end" fill="#2a2a2a" stroke="#2a2a2a" stroke-width="0.22">10</text><line x1="41.9" y1="82.1" x2="44.5" y2="82.1" stroke="#2a2a2a" stroke-width="1.0"/><text x="39.7" y="85.2" font-size="8.5" text-anchor="end" fill="#2a2a2a" stroke="#2a2a2a" stroke-width="0.22">5</text><line x1="41.9" y1="116.4" x2="44.5" y2="116.4" stroke="#2a2a2a" stroke-width="1.0"/><text x="39.7" y="119.5" font-size="8.5" text-anchor="end" fill="#2a2a2a" stroke="#2a2a2a" stroke-width="0.22">0</text><line x1="41.9" y1="150.7" x2="44.5" y2="150.7" stroke="#2a2a2a" stroke-width="1.0"/><text x="39.7" y="153.8" font-size="8.5" text-anchor="end" fill="#2a2a2a" stroke="#2a2a2a" stroke-width="0.22">-5</text><line x1="41.9" y1="185.0" x2="44.5" y2="185.0" stroke="#2a2a2a" stroke-width="1.0"/><text x="39.7" y="188.1" font-size="8.5" text-anchor="end" fill="#2a2a2a" stroke="#2a2a2a" stroke-width="0.22">-10</text><line x1="104.0" y1="213.5" x2="104.0" y2="216.1" stroke="#2a2a2a" stroke-width="1.0"/><text x="104.0" y="225.9" font-size="8.5" text-anchor="middle" fill="#2a2a2a" stroke="#2a2a2a" stroke-width="0.22">-5</text><line x1="173.3" y1="213.5" x2="173.3" y2="216.1" stroke="#2a2a2a" stroke-width="1.0"/><text x="173.3" y="225.9" font-size="8.5" text-anchor="middle" fill="#2a2a2a" stroke="#2a2a2a" stroke-width="0.22">0</text><line x1="242.7" y1="213.5" x2="242.7" y2="216.1" stroke="#2a2a2a" stroke-width="1.0"/><text x="242.7" y="225.9" font-size="8.5" text-anchor="middle" fill="#2a2a2a" stroke="#2a2a2a" stroke-width="0.22">5</text><text x="150.8" y="237.2" font-size="10.0" text-anchor="middle" fill="#111" stroke="#111" stroke-width="0.22">UMAP_1</text><text x="23.2" y="121.5" font-size="10.0" text-anchor="middle" fill="#111" stroke="#111" stroke-width="0.22" transform="rotate(-90 23.2 121.5)">UMAP_2</text><text x="2.0" y="21.9" font-size="14" text-anchor="start" fill="#111" stroke="#111" stroke-width="0.22">A</text><circle cx="274.2" cy="74.2" r="2.9" fill="#F8766D"/><text x="284.5" y="77.4" font-size="8.8" text-anchor="start" fill="#111" stroke="#111" stroke-width="0.22">0</text><circle cx="274.2" cy="85.4" r="2.9" fill="#D89000"/><text x="284.5" y="88.5" font-size="8.8" text-anchor="start" fill="#111" stroke="#111" stroke-width="0.22">1</text><circle cx="274.2" cy="96.5" r="2.9" fill="#A3A500"/><text x="284.5" y="99.7" font-size="8.8" text-anchor="start" fill="#111" stroke="#111" stroke-width="0.22">2</text><circle cx="274.2" cy="107.7" r="2.9" fill="#39B600"/><text x="284.5" y="110.8" font-size="8.8" text-anchor="start" fill="#111" stroke="#111" stroke-width="0.22">3</text><circle cx="274.2" cy="118.8" r="2.9" fill="#00BF7D"/><text x="284.5" y="122.0" font-size="8.8" text-anchor="start" fill="#111" stroke="#111" stroke-width="0.22">4</text><circle cx="274.2" cy="130.0" r="2.9" fill="#00BFC4"/><text x="284.5" y="133.2" font-size="8.8" text-anchor="start" fill="#111" stroke="#111" stroke-width="0.22">5</text><circle cx="274.2" cy="141.2" r="2.9" fill="#00B0F6"/><text x="284.5" y="144.3" font-size="8.8" text-anchor="start" fill="#111" stroke="#111" stroke-width="0.22">6</text><circle cx="274.2" cy="152.3" r="2.9" fill="#9590FF"/><text x="284.5" y="155.5" font-size="8.8" text-anchor="start" fill="#111" stroke="#111" stroke-width="0.22">7</text><circle cx="274.2" cy="163.5" r="2.9" fill="#E76BF3"/><text x="284.5" y="166.6" font-size="8.8" text-anchor="start" fill="#111" stroke="#111" stroke-width="0.22">8</text><circle cx="274.2" cy="174.6" r="2.9" fill="#FF62BC"/><text x="284.5" y="177.8" font-size="8.8" text-anchor="start" fill="#111" stroke="#111" stroke-width="0.22">9</text><path transform="scale(.25)" fill="none" stroke="#F8766D" stroke-width="5.0" stroke-linecap="round" d="M0 0m1888 357h0m29 3h0m-1 5h0m-6 1h0m-5 1h0m-7-5h0m-3-2h0m-7 5h0m-2-4h0m-25 14h0m3-1h0m0-6h0m3 4h0m1 1h0m1-3h0m3 1h0m0 1h0m3-1h0m5 2h0m5-4h0m8 5h0m1-4h0m6 0h0m1 0h0m4 5h0m5-3h0m0-1h0m0 3h0m4 0h0m9-2h0m1-1h0m1-2h0m3 0h0m4 6h0m8 0h0m22-7h0m-6 12h0m-1 0h0m-1 2h0m-7-1h0m-2 0h0m0 0h0m-9-4h0m-4 1h0m-7 2h0m-6 1h0m-14-1h0m-2-2h0m-2 1h0m-1 0h0m-1 4h0m-2 0h0m0-6h0m-4 1h0m-15 3h0m0-4h0m-5 2h0m-6 0h0m-3 2h0m-2-5h0m-15 9h0m9 5h0m8-1h0m8 2h0m0-2h0m0-1h0m5-1h0m1-1h0m1 1h0m3-3h0m1 4h0m9 0h0m9 3h0m1-3h0m1-1h0m0 1h0m0 3h0m1-2h0m6-5h0m2 4h0m1 2h0m17 0h0m10 1h0m3-5h0m2 2h0m2-3h0m1 0h0m2 6h0m4-1h0m1-3h0m1 4h0m10-3h0m16 11h0m-3 0h0m-23-1h0m0 1h0m-2-6h0m-1 1h0m-1-1h0m-4 0h0m-2 0h0m0 5h0m-2-6h0m-2 3h0m-1 1h0m-12 1h0m-6 2h0m0-7h0m-3 2h0m-1-2h0m-2 0h0m-6 3h0m-6-3h0m-8 0h0m-4 4h0m-8-1h0m-1 0h0m-3-1h0m-6 1h0m-6-2h0m0 3h0m0-1h0m-2 0h0m-5 1h0m-2 1h0m-13 0h0m-9 2h0m-3 0h0m-292-6h0m291 9h0m6 1h0m1 1h0m1-2h0m12 5h0m4 0h0m4 0h0m1-6h0m5 5h0m1-5h0m3-1h0m1 3h0m1 2h0m20 0h0m8 2h0m2 0h0m1-2h0m0 2h0m2 0h0m2 0h0m1-7h0m1 0h0m1 0h0m14 6h0m5-2h0m3 2h0m22-5h0m2 6h0m4 0h0m8-5h0m2 1h0m1 3h0m1-1h0m3-5h0m4 0h0m7 7h0m1-6h0m9 10h0m-3-2h0m-1 6h0m-1-4h0m-5 1h0m-2-4h0m-2 1h0m-6 3h0m-4 0h0m-11-3h0m-8 2h0m0 4h0m-3-6h0m-5-1h0m-3 6h0m-18-5h0m-1 1h0m-5-1h0m0-1h0m-9 2h0m-5 2h0m0 1h0m-3-4h0m-11 2h0m-3-3h0m-4 4h0m-5 2h0m0-5h0m-7 1h0m0 1h0m-1 3h0m-3-1h0m-1 2h0m-2 0h0m-5-6h0m-1 5h0m-7-5h0m0 0h0m-10 0h0m-2 3h0m-4 2h0m-7-5h0m-3 0h0m0 3h0m-3-2h0m-7 11h0m3-2h0m3-1h0m3-1h0m2 1h0m8-1h0m0 5h0m10-1h0m0-5h0m4 7h0m6-3h0m1-2h0m16 1h0m4 1h0m6 0h0m3 1h0m6 2h0m1-7h0m5 5h0m1 2h0m6-2h0m13 0h0m4-3h0m0 0h0m0-1h0m16 6h0m6-7h0m2 0h0m6 3h0m3 1h0m6 2h0m4-4h0m5 4h0m7-1h0m2 1h0m10-1h0m1-1h0m4 2h0m2-4h0m4 5h0m13 6h0m-2 1h0m-7-1h0m-7 2h0m-1-3h0m-7 2h0m0-5h0m-2 1h0m0 0h0m-3 4h0m-1-2h0m0 2h0m-1-2h0m0-1h0m-8 0h0m-2 2h0m-1 2h0m-15-2h0m-1-3h0m-4 0h0m-8-2h0m-6 7h0m-3-7h0m-9 1h0m-1 4h0m-18-1h0m-5 3h0m-3-4h0m-9 4h0m-1-2h0m0-5h0m-1 2h0m-1 3h0m-2-4h0m-10 4h0m-2 0h0m0 0h0m-6-3h0m-10 2h0m-3-1h0m-20-2h0m-2 2h0m-2-2h0m-1 3h0m-2-4h0m-4 4h0m-1-4h0m-21 15h0m1-5h0m3 4h0m2-4h0m5 1h0m1 0h0m10-2h0m2 3h0m8 3h0m9-7h0m0 1h0m2 3h0m8-4h0m8 5h0m0 0h0m5-5h0m5 7h0m5-4h0m2-1h0m1-2h0m1 0h0m1 4h0m1-4h0m1 0h0m0 0h0m7 5h0m7-1h0m5 3h0m2-7h0m10 5h0m0-5h0m1 4h0m1-2h0m1 3h0m7-2h0m1 3h0m11-3h0m1-1h0m1 3h0m0-5h0m3 3h0m0 2h0m2 2h0m8-4h0m3 1h0m7 2h0m0-5h0m4-1h0m0 6h0m2-5h0m2 6h0m1-2h0m4-4h0m3 2h0m1-1h0m5-2h0m5 4h0m1 2h0m7-6h0m3 6h0m1-6h0m2 5h0m6-2h0m0 4h0m2-1h0m1 1h0m0-7h0m1 6h0m3-5h0m4 0h0m-2 12h0m-3 2h0m-11-6h0m-1 2h0m-4 0h0m-1-1h0m-1 1h0m-20 4h0m-1 0h0m-6-7h0m-1 3h0m-4 2h0m-7-1h0m-3-3h0m-1 5h0m-3-5h0m-1 1h0m-5-1h0m-4 4h0m-5-3h0m-6 2h0m-1 2h0m0-6h0m-2 4h0m-5 0h0m-11 2h0m0-4h0m-4 1h0m-1-2h0m-4 5h0m-1-6h0m-4 0h0m0 1h0m-1 2h0m-1 1h0m-9 1h0m-1-2h0m-6-3h0m-7 6h0m-4-5h0m-2 2h0m-6 2h0m0-2h0m-6-3h0m-1 4h0m-3-4h0m-17 0h0m-3 1h0m-1 2h0m-1-1h0m-1-1h0m-1 6h0m-3-5h0m-5 3h0m-4 0h0m-4-1h0m-20 7h0m3 3h0m12-5h0m6-1h0m2 5h0m0-5h0m7 2h0m6-2h0m4 2h0m2 3h0m3 2h0m1-1h0m2-2h0m1 2h0m1-3h0m7-2h0m3 2h0m1 1h0m1 2h0m3-2h0m3 1h0m10-3h0m1 4h0m10-2h0m21-1h0m2 0h0m1 2h0m9 2h0m3-2h0m0 0h0m8 1h0m8-3h0m5 3h0m5-3h0m1 1h0m0 1h0m5-5h0m4 5h0m3-5h0m14 4h0m0 1h0m3-4h0m0 0h0m3 6h0m4-3h0m2 3h0m0-2h0m2 0h0m4 0h0m2-3h0m1 5h0m13-4h0m2-3h0m12 0h0m1 3h0m5-3h0m-1 14h0m0-2h0m-7 2h0m-17-1h0m-4 2h0m-1 0h0m-1-6h0m-2 5h0m-3 1h0m-3-3h0m-10 3h0m-1-2h0m-1-1h0m0-2h0m-1 3h0m-7 2h0m-8 0h0m-5-2h0m-1 2h0m-2 0h0m-2-7h0m-2 6h0m-2-3h0m-5 1h0m-11-1h0m-1-1h0m-1 4h0m-1-4h0m-5-1h0m-6 0h0m-8 0h0m-2 1h0m-2 4h0m-1-4h0m-1 1h0m-12-2h0m-2 2h0m-4-2h0m-5 3h0m-8 1h0m-1-5h0m-18 3h0m-2 3h0m0-3h0m-9 3h0m-1-3h0m-5-2h0m-6 4h0m-6-4h0m0 6h0m-3-4h0m-8-3h0m-2 1h0m-4 4h0m-1 1h0m-1-5h0m-8 5h0m-7 3h0m7 6h0m11-6h0m6 2h0m6 1h0m5 1h0m4-5h0m2 5h0m2-4h0m3 5h0m4-2h0m0 1h0m1-3h0m3-1h0m7-1h0m7 6h0m1-1h0m3 0h0m15-3h0m2 3h0m7-1h0m3-3h0m2 4h0m1-2h0m18 4h0m2-2h0m0-4h0m3 1h0m1-1h0m2 1h0m1 5h0m2-4h0m2-2h0m5 5h0m2-6h0m1 5h0m4 0h0m1-3h0m0-2h0m8 0h0m4 5h0m0-2h0m2 4h0m5-7h0m8 6h0m3-5h0m4 1h0m1 0h0m3-1h0m1 1h0m1 5h0m1-3h0m0-1h0m2-1h0m3 0h0m2 4h0m5 1h0m2-2h0m9-2h0m0-3h0m2 2h0m5 5h0m7-3h0m5 0h0m2 1h0m5 2h0m1-1h0m18 8h0m-9 1h0m-5 0h0m-16-4h0m-2 2h0m-1 2h0m-9 0h0m0-6h0m-1 6h0m-6-7h0m-12 7h0m-5-4h0m-1 0h0m-6 4h0m-2 0h0m-1-2h0m0-1h0m-1 0h0m-1 2h0m0-3h0m-15 4h0m-2-2h0m-6-4h0m-2 0h0m-3 4h0m-3 0h0m-7-5h0m-3 1h0m-1 1h0m-1 4h0m-1-6h0m-4 0h0m-5 3h0m-4-3h0m-7 2h0m-2-1h0m-3 0h0m-4 2h0m-1 3h0m-1-6h0m-4 0h0m-1 3h0m-3-3h0m0 2h0m-5 1h0m-6 2h0m-2 0h0m-10-5h0m-1 0h0m-1 7h0m-5-4h0m-1 2h0m-7-3h0m-4 0h0m-1 1h0m-5 2h0m-3-4h0m-1 0h0m-2 3h0m-4-4h0m-8 1h0m-3 0h0m-1 4h0m-4-5h0m-1 1h0m-7 5h0m-6-6h0m3 9h0m8 3h0m2-3h0m9 5h0m1-5h0m5 6h0m3-4h0m1-1h0m5 2h0m1-2h0m2 4h0m1-6h0m1 0h0m3 6h0m3-3h0m3-3h0m0 0h0m8 1h0m2 1h0m1 4h0m13-6h0m5 4h0m0 2h0m8 1h0m3 0h0m17-5h0m1-2h0m7 1h0m4 6h0m1-5h0m5 0h0m2 2h0m8 2h0m0-1h0m4 0h0m0 1h0m7-1h0m0-1h0m0-1h0m5 0h0m11-2h0m3 4h0m7-2h0m3-3h0m6 6h0m8 1h0m2-7h0m26 1h0m14-1h0m9 2h0m1 1h0m13 4h0m1 2h0m-9 0h0m-1-1h0m-2 6h0m-6 0h0m-3 0h0m-1-6h0m-15 1h0m-4 5h0m-5-1h0m-4 2h0m0-6h0m-20 3h0m-5-4h0m-3 3h0m-1-2h0m0 4h0m-2 2h0m-2-1h0m0-2h0m-3 2h0m-2-5h0m0 1h0m-4 3h0m-1-3h0m-18-1h0m-12 0h0m-7 4h0m-3 2h0m-2 0h0m-5-1h0m-18-6h0m-7 3h0m-7-3h0m-7 2h0m-13 2h0m-4 3h0m-1-7h0m-3 7h0m-4-1h0m0-6h0m-19 7h0m-6-2h0m-1-5h0m-1 0h0m-6 2h0m-2-2h0m0 8h0m20 4h0m1 3h0m3-5h0m27-2h0m3 0h0m5 1h0m19 2h0m12-3h0m1 3h0m2-2h0m9 5h0m16-2h0m3 3h0m0-7h0m1 2h0m4 1h0m1 3h0m3 1h0m8-1h0m0-1h0m7 2h0m5 0h0m0-5h0m6 2h0m8-1h0m7-3h0m11 6h0m4-6h0m2 4h0m1 2h0m3 0h0m2-3h0m1 0h0m1-2h0m0-1h0m1 4h0m3 0h0m0 0h0m12 3h0m7-5h0m4 5h0m7-6h0m3 2h0m3 3h0m1 1h0m-2 2h0m0 5h0m-5-6h0m-11 3h0m-7-2h0m-1 2h0m-3 4h0m-5-6h0m-2 2h0m0 1h0m-13 0h0m-5-4h0m0 1h0m-11 4h0m-2 0h0m-10 2h0m0 0h0m-5-4h0m-1-1h0m-2 5h0m-3-3h0m-8 3h0m0-5h0m-17-2h0m-1 6h0m-5 0h0m-2 1h0m0 0h0m-2-5h0m-7 4h0m-2 1h0m-2-7h0m-7 5h0m-1 2h0m-10 0h0m-50-2h0m-8 1h0m0-1h0m-5 1h0m-2 2h0m4 1h0m69 2h0m7 0h0m2 2h0m1-3h0m0 3h0m2-4h0m0 5h0m4-2h0m2-2h0m3 1h0m6 0h0m2 3h0m16-2h0m1-4h0m4 4h0m0 1h0m3-4h0m7-1h0m0 1h0m1 6h0m19-2h0m6 2h0m5-3h0m3 0h0m1 3h0m1-2h0m0 1h0m6 1h0m2 0h0m1-5h0m2 0h0m8 3h0m8-1h0m0 1h0m6-1h0m11 0h0m3 0h0m6-3h0m1 0h0m8 4h0m4 1h0m3-1h0m6 10h0m-3-5h0m-4 3h0m-2 1h0m-1-1h0m-4 2h0m-2-2h0m-6-5h0m-9 2h0m-2 5h0m-3-6h0m-9-1h0m-3 0h0m-2 4h0m-11-3h0m-1 4h0m-12 2h0m-6-3h0m-6-4h0m-6 2h0m-1-2h0m-1 7h0m-6 0h0m-15-1h0m-2-4h0m-16-1h0m-1 4h0m-5 1h0m-2 1h0m-2 0h0m-1 0h0m-1-6h0m-5 2h0m-3 2h0m-3 2h0m-1-7h0m0 3h0m-1 4h0m-3-2h0m-73-2h0m-2-1h0m68 11h0m19-5h0m0 5h0m4-5h0m22 3h0m1-1h0m4-2h0m2 0h0m2 5h0m7 0h0m2 2h0m0-2h0m0-4h0m0 5h0m11-6h0m1 0h0m4 1h0m4 2h0m27 2h0m5-1h0m5-2h0m3 3h0m18 0h0m3-4h0m0 0h0m2 2h0m6-1h0m6 0h0m1 0h0m3 2h0m6-2h0m2 1h0m1 4h0m9 7h0m-5-5h0m-4 1h0m-1 0h0m-51 1h0m-10-3h0m-4 0h0m-3 1h0m-1-1h0m-13 0h0m-15 1h0m-15 6h0m-2 0h0m-2-6h0m-4 2h0m-3 3h0m-1-1h0m-17-2h0m-1-3h0m-7 5h0m0 0h0m16 7h0m5-4h0m2 7h0m2-3h0m2 2h0m10-2h0m5 3h0m4-1h0m3-1h0m12-2h0m2-1h0m15 1h0m12-2h0m1 6h0m11-4h0m24-3h0m13 1h0m9 4h0m7-4h0m1-1h0m10 5h0m-4 3h0m-7 3h0m-12-2h0m-4-1h0m0 2h0m-10-1h0m-7-1h0m-46 4h0m-15-3h0m-21 1h0m-2 1h0m-10 1h0m-5-3h0m-1 2h0m-3-1h0m4 9h0m2-1h0m58-1h0m-33 54h0m90-5h0"/><path transform="scale(.25)" fill="none" stroke="#00BA38" stroke-width="5.0" stroke-linecap="round" d="M0 0m1904 157h0m-18-1h0m-5 3h0m-20 2h0m2 3h0m3-4h0m3 2h0m0-1h0m8 3h0m5 3h0m3-6h0m6 6h0m3 0h0m0-6h0m0 3h0m6-4h0m3 7h0m1-4h0m2 2h0m3 2h0m25-4h0m25 0h0m17 11h0m-1-2h0m-6-2h0m-6 3h0m-3-1h0m-5 2h0m-1-5h0m-1 0h0m-6 6h0m-2-2h0m-5 1h0m-4-2h0m-4-4h0m-6 3h0m-2-3h0m-4 0h0m-6 0h0m-20 4h0m-1 2h0m-2 0h0m-1-5h0m-5 1h0m-6 4h0m-2-4h0m-7 2h0m-10 3h0m-6-1h0m-9-2h0m-8 11h0m5-5h0m0 1h0m0 0h0m9-1h0m2 5h0m0 0h0m1 0h0m22-3h0m1 3h0m5-2h0m3-5h0m5 5h0m3 2h0m3-4h0m3-1h0m6 4h0m1-1h0m2-3h0m0 5h0m9 0h0m1-3h0m32 1h0m3-1h0m2 0h0m2 0h0m4-2h0m1 3h0m0 1h0m2 0h0m1-5h0m11 3h0m1 2h0m0-4h0m0 0h0m2 3h0m172-1h0m-127 10h0m-3 1h0m-11 0h0m-3-5h0m-2-1h0m-7 6h0m-2-2h0m-1-5h0m-1 6h0m-12-2h0m-1 3h0m-6-2h0m-3-4h0m-1 3h0m-7 2h0m-6-2h0m-10 2h0m-3-1h0m0-4h0m-10 6h0m-3-6h0m-6-1h0m-4 2h0m-9-2h0m-3 4h0m-3 0h0m0-1h0m-6-3h0m0 4h0m0-4h0m-4 3h0m-4-2h0m0 6h0m-5-2h0m-3-4h0m0 1h0m-2 4h0m-2-2h0m-3 2h0m-6-5h0m-1 1h0m-1 3h0m-4-1h0m-1-1h0m-10 1h0m-7-3h0m0 0h0m-4-1h0m0 6h0m-2 1h0m-1-1h0m0 1h0m-10 0h0m0 4h0m8-3h0m9 4h0m4 1h0m8 1h0m2-6h0m3 4h0m4 0h0m0-1h0m3-1h0m0 1h0m4 1h0m0 1h0m7-4h0m2 3h0m0 0h0m3-1h0m3 1h0m0 2h0m1 0h0m3-5h0m1 6h0m4-5h0m8 4h0m11-4h0m3 5h0m13-2h0m4 1h0m0-2h0m1-1h0m3 1h0m3-4h0m5 1h0m14 6h0m0-7h0m6 4h0m1 0h0m4-4h0m3 4h0m5 2h0m2 0h0m7-2h0m3 2h0m4-4h0m0 0h0m5 2h0m1-1h0m1 0h0m1-1h0m1 2h0m2 2h0m1-3h0m4-2h0m2 3h0m1-4h0m4 2h0m-2 11h0m0-2h0m-14 0h0m-1-3h0m-5 1h0m-2 0h0m-11 0h0m-5 5h0m-2-1h0m-5 2h0m-14-3h0m-8 2h0m0-5h0m-2 4h0m-3-4h0m-1 2h0m-5 4h0m-3-2h0m-2 1h0m-2-5h0m-2 6h0m-1 0h0m-1-3h0m-4-2h0m-1-1h0m-22-1h0m-4 2h0m-5 1h0m-3 1h0m-7 2h0m0-1h0m-4 0h0m-7-5h0m-5 6h0m-8-1h0m0 2h0m-6-3h0m-1-4h0m-3 2h0m-1 4h0m-4-3h0m-1 0h0m-3 0h0m-8-1h0m-1 5h0m-3-7h0m6 8h0m14 0h0m3 0h0m1 2h0m3 3h0m1-3h0m2 3h0m1 2h0m3-3h0m2 0h0m1-4h0m1 7h0m3-4h0m1 2h0m1-4h0m1 2h0m1 0h0m4-3h0m2 0h0m2 0h0m20 0h0m5 3h0m3 1h0m2 0h0m6-3h0m4 4h0m7-2h0m1-3h0m9 1h0m10 6h0m2-7h0m0 0h0m1 4h0m1 3h0m1-2h0m3-5h0m5 3h0m1-3h0m8 0h0m2 7h0m1-5h0m8-2h0m5 4h0m4-3h0m7-1h0m4 1h0m6 2h0m6 1h0m9-2h0m-1 6h0m-9 3h0m-3 2h0m0-1h0m-8-1h0m-1-1h0m-19-1h0m-1 1h0m0-1h0m-3 2h0m0-3h0m-1 3h0m-5-3h0m-5 1h0m-3 1h0m-3 0h0m-12 2h0m0 2h0m-6-3h0m-3-2h0m-2 3h0m-3-4h0m-6 7h0m-2-6h0m-5 0h0m-4 2h0m-1 1h0m-1 0h0m0-3h0m-9 0h0m0 5h0m-1-5h0m-3 0h0m0 5h0m-8-3h0m-3-1h0m-8 3h0m0-2h0m0 1h0m-10-3h0m-11 3h0m-2 1h0m-2-5h0m-5 2h0m-4 5h0m-1 0h0m-14-7h0m6 8h0m15 1h0m0 1h0m1-1h0m6 4h0m1-3h0m5 0h0m2 1h0m6-2h0m1 4h0m0 1h0m0-6h0m2 7h0m3-6h0m2 5h0m16-4h0m12 2h0m1-3h0m5 3h0m1 3h0m6-5h0m18 5h0m1-3h0m1 1h0m20 1h0m7-1h0m3 2h0m0-6h0m0 4h0m1 2h0m9-6h0m2 3h0m2 1h0m0 0h0m3-2h0m1 1h0m18-4h0m4 0h0m3 0h0m4 5h0m0 2h0m5-5h0m3 12h0m-4-5h0m-1 3h0m-9 0h0m-4-1h0m0 3h0m-7-1h0m0-5h0m-7 2h0m-5 5h0m-12-7h0m-2 7h0m-2 0h0m-1-4h0m-8-3h0m-20 6h0m-3-5h0m-6 5h0m-1-3h0m-8-3h0m-6 7h0m-1 0h0m-3-5h0m-5 5h0m-2-7h0m-1 0h0m0 6h0m-3 0h0m-7-5h0m-20 0h0m-4 4h0m-2-4h0m-6 2h0m40 6h0m4 3h0m5-1h0m0 4h0m1 0h0m1-7h0m12 4h0m0-4h0m4 4h0m4 1h0m15 0h0m1-4h0m2 2h0m3-2h0m12 1h0m3-2h0m3 2h0m9-1h0m0-1h0m2 6h0m3-3h0m1 4h0m11-5h0m6 2h0m0-4h0m1 1h0m1 0h0m7 5h0m0 8h0m-7-4h0m-2 1h0m-3 1h0m0 1h0m-6-1h0m-12-4h0m-6 5h0m-17-1h0m-3 2h0m-1-4h0m-2 0h0m-6-2h0m-3 0h0m-5 1h0m-2 0h0m-3 3h0m-5-2h0m-3 4h0m-1-4h0m-1-2h0m-15 0h0m-2 4h0m42 4h0m13 7h0m13-6h0m0 0h0m2 4h0m2 2h0m5-7h0m7 1h0m2 5h0m2 1h0m4-6h0m1 5h0m3-1h0m0 0h0m6 0h0m1-1h0m-27 6h0m-13-1h0m-8 3h0m-357 49h0m-3-1h0m-7-1h0m0-3h0m-10 7h0m-2-1h0m-3 1h0m-9-2h0m-22 7h0m2 0h0m5 0h0m0-4h0m0 3h0m2-2h0m3 1h0m7-2h0m4 4h0m6 1h0m2-5h0m0 5h0m6-3h0m1 3h0m2 2h0m2-5h0m5-1h0m4 1h0m0-2h0m2 2h0m1 1h0m1-1h0m2 3h0m4 1h0m0-4h0m-20 8h0m-4 2h0m-8-2h0m-9-2h0m-2 3h0m-1 3h0m-4-4h0m-3 4h0m0 0h0m-6-4h0m0 3h0m-2-5h0m-3 3h0m6 11h0m1-6h0m4 6h0m2 0h0m3-1h0m1-3h0m0 3h0m2-3h0m3 1h0m12 4h0m17-6h0m-11 7h0m-3 0h0m-3 7h0m-2-6h0m-1 3h0m0 0h0m-9 0h0m-7 1h0m-4 0h0m-3-4h0m8 9h0m7 1h0m1-2h0m1 6h0m0-5h0m0 0h0m2 1h0m3 3h0m-11 5h0m56 29h0m238 90h0m228 71h0m-13 3h0m-10 3h0m-3-2h0m-17 0h0m0 1h0m-3-3h0m-5 4h0m-10-3h0m-42 7h0m4 0h0m4-1h0m12 0h0m5 4h0m1-5h0m0 5h0m4-1h0m1-5h0m1 3h0m15-2h0m5 0h0m11-1h0m0 7h0m1-4h0m0 4h0m5-1h0m1 0h0m5-3h0m2-2h0m4 1h0m4-2h0m3 1h0m1 4h0m3-5h0m4 2h0m4 3h0m3-3h0m8 2h0m13 11h0m0-3h0m-2-3h0m-4 3h0m-10 2h0m-5-3h0m-5-2h0m-5 2h0m-4-1h0m0 4h0m-1 1h0m-5-7h0m-7 5h0m-1-4h0m-13 3h0m-3-3h0m-13 1h0m-13 5h0m-9-4h0m-3 1h0m-3-1h0m-3 0h0m-7 2h0m-2-3h0m-3 1h0m-1-3h0m-1 0h0m-2 1h0m-224 4h0m-10-1h0m-3-1h0m-2 4h0m-1-1h0m-4-2h0m-4-2h0m-1 3h0m-3 2h0m0-4h0m-2 1h0m-1-3h0m5 11h0m1-2h0m6 3h0m0-2h0m1 0h0m2 0h0m0 1h0m1 1h0m1-2h0m5 0h0m0-2h0m1 1h0m4 0h0m228 1h0m1-3h0m2 2h0m1-1h0m0 4h0m10-1h0m7-3h0m3 4h0m13-5h0m2 1h0m1-1h0m2 7h0m2-6h0m1-1h0m1 3h0m7 3h0m2-3h0m3 2h0m3-1h0m3 1h0m5-5h0m3 5h0m0-5h0m7 1h0m2 0h0m1 6h0m1 0h0m5-7h0m10 4h0m1 0h0m3 2h0m3-5h0m2 1h0m8 1h0m1 3h0m8-2h0m11-1h0m11 7h0m-9 5h0m-1-7h0m-3 5h0m0-5h0m-4 5h0m-8-5h0m-6 3h0m-1-2h0m-2 1h0m-3 3h0m-5-3h0m-2-1h0m-4 0h0m0 4h0m-3-1h0m-2 1h0m-8-4h0m-13 0h0m-8 6h0m-4-6h0m-7 4h0m-2-3h0m-6 1h0m-3 0h0m-6-3h0m-4 3h0m-11 1h0m-2 2h0m0-2h0m-1 0h0m-3-3h0m-6-1h0m-4 5h0m-227-1h0m-6-1h0m-2 3h0m-1-3h0m-1 2h0m-7 0h0m0-3h0m-4 0h0m-4-2h0m-9 10h0m18-2h0m3 1h0m1-1h0m2 4h0m0 2h0m2-4h0m0-1h0m3-1h0m1 7h0m3-7h0m0 6h0m4-6h0m5 3h0m1 3h0m215-5h0m1 2h0m1-2h0m0 3h0m11-1h0m10 4h0m6-5h0m11 4h0m4-1h0m1-4h0m5 5h0m10-5h0m1 0h0m2 0h0m13 5h0m8-4h0m5 3h0m4-1h0m7-3h0m4-1h0m3 1h0m1-1h0m2 0h0m3 0h0m3 7h0m7-4h0m1-1h0m1 4h0m9-5h0m2 5h0m2-6h0m3 4h0m4 6h0m-12 2h0m-9 1h0m-12-1h0m-3 2h0m-3 1h0m-4-2h0m-1 1h0m-2-1h0m-3 1h0m-1-5h0m-3 5h0m-4 0h0m-3 0h0m-3 0h0m-5 1h0m-14-1h0m-20-1h0m-8-1h0m-19 3h0m-3-6h0m-1 1h0m-2 5h0m-3-2h0m-171 0h0m-14 1h0m-3-4h0m-5 3h0m-8 0h0m-1 2h0m-13 0h0m-5 0h0m0-5h0m-1 2h0m0-2h0m-2 1h0m-7-1h0m0 2h0m-5-2h0m6 11h0m10-5h0m2 0h0m3 3h0m1 1h0m3 3h0m0-1h0m1 1h0m0-2h0m1-3h0m1 5h0m2-7h0m3 3h0m0 2h0m0-4h0m3 5h0m7-5h0m5 2h0m16 3h0m0 0h0m4-1h0m0 1h0m9 1h0m152-5h0m5 0h0m0 1h0m7-3h0m2 3h0m3 2h0m2-2h0m1 2h0m6-4h0m1 0h0m1 1h0m1 2h0m14-3h0m12 4h0m3-3h0m4 4h0m11 1h0m0-6h0m5 0h0m1 4h0m2 2h0m11 0h0m3-7h0m15 3h0m1-1h0m7 1h0m1-2h0m6 0h0m2 4h0m13 2h0m6-3h0m1-3h0m-7 11h0m-8 2h0m-11-4h0m-5 3h0m-14 0h0m-4 2h0m-2-6h0m-6 3h0m-1 2h0m-1 0h0m-3-2h0m-8-3h0m-3 4h0m-4-1h0m-15-4h0m-3 1h0m0 1h0m-5 5h0m-1 0h0m-8-1h0m-1-2h0m-2 0h0m-2-2h0m-1-1h0m0 1h0m-5-1h0m-1 0h0m-4 2h0m0 0h0m-1-2h0m-1-1h0m-2 4h0m-4 3h0m-3-4h0m-2-3h0m-148 4h0m-1 0h0m-8-2h0m-1-2h0m0 0h0m-7 1h0m-4 5h0m-2-6h0m-1 1h0m-20 1h0m-8 3h0m-3 0h0m-1-5h0m-1 7h0m-3-4h0m-1-3h0m0 5h0m-1-2h0m2 5h0m6 1h0m1 4h0m8 2h0m2-2h0m1 0h0m1-4h0m0 4h0m3 0h0m3 2h0m186-6h0m2 4h0m3-4h0m7-1h0m1 4h0m3 3h0m7-3h0m2 1h0m4 1h0m1 1h0m2-4h0m5-1h0m12-2h0m1 2h0m3 2h0m4 2h0m2 1h0m6-1h0m11-6h0m4 6h0m1-4h0m4 0h0m2-1h0m3 1h0m16-1h0m0 6h0m17-7h0m0 2h0m2 1h0m-11 6h0m-2-1h0m-6 4h0m-2 3h0m-3-5h0m-23-2h0m-2 0h0m-2 3h0m-3 2h0m-3-2h0m-1-2h0m-2 3h0m-31 1h0m-2-3h0m-7 4h0m-3-4h0m-1 1h0m-3-2h0m-1 2h0m0-3h0m-7 3h0m-1-1h0m0 5h0m-3-7h0m-4 5h0m-6-2h0m-176 2h0m-5-5h0m-5 4h0m0 1h0m-1 0h0m-1 2h0m0-5h0m-3 0h0m-11-1h0m24 12h0m1-3h0m3-1h0m2 3h0m5 1h0m178-2h0m16-2h0m4 0h0m2 2h0m4-1h0m3-2h0m2 4h0m1-4h0m2 7h0m1-1h0m2-4h0m2 5h0m5-6h0m3 1h0m4 3h0m3 2h0m7-7h0m1 3h0m3-2h0m3 1h0m6-2h0m15 5h0m0-4h0m-8 8h0m-35 2h0m-5-3h0m-2 0h0m-9 1h0m-200 5h0m-6-2h0m0 0h0m-2 1h0m-3 2h0m0-4h0m-3 1h0m-3-4h0m0 1h0m-1 3h0m-9-4h0m-6 5h0m22 4h0m1 5h0m3-5h0m1 0h0m8 6h0m3-1h0m2-3h0m-1 5h0m-1 2h0m-4 0h0m-1 2h0m89 9h0"/><path transform="scale(.25)" fill="none" stroke="#619CFF" stroke-width="5.0" stroke-linecap="round" d="M0 0m1555 345h0m-12 13h0m1-3h0m3-2h0m0-1h0m0 0h0m41 4h0m6 9h0m-2 1h0m-2 0h0m-2-1h0m-5-2h0m-8 2h0m-23 9h0m2 0h0m8 1h0m1-2h0m15-5h0m6 0h0m3 5h0m8 0h0m5 0h0m5-1h0m8 3h0m6 7h0m-10-5h0m-3-1h0m0 1h0m-1 2h0m-7 0h0m0-2h0m-3 0h0m-2 6h0m-1-7h0m-4 5h0m-9 2h0m-5-2h0m-5 0h0m0 1h0m-2-6h0m-6 7h0m-2-7h0m-4 7h0m-3-6h0m0 0h0m-6-1h0m-15 14h0m2 1h0m3-3h0m2-1h0m1-1h0m2 1h0m0 1h0m1 3h0m3-5h0m12-1h0m0 5h0m9-5h0m5 3h0m15 1h0m10-1h0m6-4h0m0 5h0m2 0h0m3-5h0m3 4h0m4 0h0m6 6h0m-5 5h0m-11-3h0m-12 3h0m-2-7h0m-3 6h0m-3-1h0m-1-5h0m-6 3h0m-27 0h0m-2-1h0m-12 0h0m-9 7h0m2 3h0m0-2h0m5 3h0m3 0h0m4-2h0m5 3h0m1-6h0m1 3h0m3 2h0m3-3h0m1 3h0m1 0h0m1 1h0m10-6h0m4 4h0m1-2h0m2 2h0m1-4h0m4 0h0m6 6h0m7 0h0m0-1h0m1 1h0m2-3h0m1-1h0m9 1h0m5 0h0m5 0h0m0-3h0m4 1h0m-23 8h0m0 5h0m-3-5h0m-8 1h0m-1 3h0m-18-5h0m-7 1h0m-2 2h0m-4 1h0m-2 0h0m-4-2h0m-7-2h0m-6 3h0m-1-1h0m57 7h0m387 41h0m55 53h0m-72 58h0m-7 3h0m-2-2h0m-3-1h0m-6 0h0m-192 9h0m185-1h0m2 2h0m1 0h0m2 0h0m13 2h0m8-5h0m0 0h0m1 5h0m4 2h0m2-4h0m4-2h0m3 11h0m-3 0h0m0 2h0m-4-1h0m-2-3h0m-3 4h0m-8-4h0m-2 2h0m-12 3h0m-9-2h0m-8 0h0m-5 9h0m3-3h0m1-1h0m10 0h0m4-2h0m3 6h0m1-1h0m11 1h0m9 0h0m5-1h0m3 2h0m3-3h0m3 2h0m3-4h0m5 3h0m4-2h0m0 4h0m2-6h0m11 2h0m-10 7h0m-3 2h0m-7 0h0m-1-2h0m-4-2h0m-27 5h0m0-4h0m-5 1h0m-5 3h0m-3 1h0m-3-5h0m-20 0h0m-2 5h0m-6 9h0m1-1h0m1-2h0m2 3h0m3-1h0m1-1h0m0-2h0m6 4h0m1 0h0m3-5h0m1 4h0m2-3h0m5 1h0m1 0h0m2 3h0m3-2h0m12 2h0m3 0h0m1-1h0m10-1h0m8 0h0m0-2h0m1-2h0m3 4h0m2 0h0m3 1h0m4-2h0m0-1h0m1 2h0m1-2h0m1-3h0m5 7h0m3-5h0m4 0h0m0 0h0m0 13h0m-7-7h0m0 0h0m-4 5h0m-17-4h0m-3 0h0m-5-1h0m-5 5h0m-5 2h0m-7-5h0m0 5h0m-7-6h0m-1 2h0m-5 0h0m-2-1h0m-2-2h0m-4 4h0m-6 3h0m-1-5h0m-1 5h0m-6-5h0m-1 2h0m-2 0h0m-7 9h0m2-3h0m3 4h0m6-3h0m6 4h0m10-6h0m8 2h0m1 2h0m5 1h0m3-1h0m5-2h0m1-2h0m0 6h0m6-4h0m3 2h0m1-2h0m3 1h0m2 1h0m18-2h0m6 3h0m8-6h0m11 5h0m70 3h0m-68 1h0m-47 3h0m-1 0h0m-2 3h0m-14-1h0m0-2h0m-7 1h0m-5 0h0m-1-5h0m-3 2h0m-5-2h0m-2 4h0m-6-4h0m-20 2h0m-6 3h0m-195 1h0m0-4h0m-9 1h0m-1-1h0m0 1h0m-5 3h0m-1-1h0m-1 2h0m-1-2h0m0-4h0m-3 1h0m-7 1h0m-1 8h0m2 3h0m1-1h0m1-5h0m8 1h0m10-1h0m3 3h0m2-3h0m0 6h0m5 0h0m194-6h0m1 3h0m3 4h0m0-3h0m5-4h0m5 4h0m11 0h0m0 3h0m14-5h0m0 5h0m1-3h0m5-3h0m13 0h0m1 2h0m9 4h0m4-3h0m12 0h0m8-4h0m0 6h0m1-3h0m2 0h0m7-3h0m17 5h0m0 0h0m2-3h0m0 3h0m2-1h0m0 2h0m105-1h0m1 2h0m2 1h0m-2 2h0m-5 1h0m-3 2h0m-1 1h0m-3-4h0m0-2h0m-1 7h0m-5-1h0m-1-5h0m-7 4h0m-6-1h0m-57 2h0m-2 1h0m-3-4h0m-2 2h0m-9-4h0m-3 0h0m0 4h0m-11 1h0m0-3h0m-1 1h0m-8-2h0m-4-1h0m-5 2h0m-9 0h0m0 3h0m-1-4h0m0 0h0m-4 0h0m-6 3h0m-1-4h0m0 3h0m-7 0h0m0-2h0m-2-1h0m0 6h0m0-7h0m0 1h0m-5 3h0m-9-3h0m-2 3h0m-2-3h0m-3 3h0m-5 3h0m-3-7h0m-2 6h0m-10-3h0m-2-3h0m-9 3h0m-2-3h0m-1 6h0m-1 1h0m-3-7h0m-5 0h0m-147 6h0m-33 1h0m-3-6h0m-3 3h0m-3-3h0m0 2h0m-4 1h0m0 2h0m-4 0h0m-1 1h0m-1-1h0m-2-1h0m-12-1h0m-1 2h0m-9-1h0m-1 1h0m-2 4h0m7 0h0m2 2h0m5-3h0m1 2h0m7 3h0m10-3h0m3 0h0m0 0h0m1 1h0m1 0h0m2 1h0m3 2h0m16-4h0m164 1h0m17-2h0m1-2h0m3 2h0m7 3h0m7-2h0m2 2h0m1 1h0m0-5h0m5 5h0m1-5h0m3 2h0m10 0h0m3 0h0m3 4h0m3-6h0m12 4h0m0-5h0m13 3h0m4-3h0m0 4h0m0-1h0m4 0h0m0-1h0m2-1h0m2-1h0m4 0h0m6 5h0m2 0h0m7-3h0m9-1h0m0 1h0m1 0h0m0 0h0m4 5h0m1-2h0m1 1h0m14-4h0m3 4h0m6-1h0m15 2h0m5-3h0m6-1h0m2 4h0m7-4h0m2-2h0m1 5h0m8 1h0m6-4h0m8 1h0m1-3h0m-20 10h0m-2 1h0m-17 3h0m-1-3h0m0-3h0m-15 4h0m0 2h0m-1-7h0m-3 5h0m0-4h0m-17 5h0m-4 0h0m-14-3h0m-1 3h0m-1 0h0m-6-5h0m-1 6h0m-1-7h0m-1 7h0m-21-3h0m-10 3h0m-3-7h0m-1 3h0m-11 1h0m-3-4h0m0 6h0m-2-2h0m-2-1h0m-2 4h0m0-3h0m-2-4h0m-3 6h0m-6-6h0m0 2h0m-9 1h0m-1-2h0m-1 2h0m-1-2h0m0 0h0m-7 3h0m-1 2h0m-1-6h0m-4 3h0m-3-1h0m0 4h0m-4-5h0m-6 0h0m-2 3h0m-2 0h0m-2-1h0m-6-2h0m-6 3h0m-163 3h0m-2-7h0m-1 3h0m-9-3h0m-7 1h0m-7 2h0m-18-3h0m45 9h0m165 3h0m12 2h0m3-1h0m3-3h0m11 4h0m2 1h0m5-4h0m2 3h0m2-5h0m5 6h0m0-1h0m4 0h0m3-5h0m0 2h0m0-3h0m2 6h0m1-6h0m2 2h0m2 2h0m0-3h0m2 5h0m5 1h0m0-1h0m2-1h0m1-1h0m2 2h0m8 1h0m1 0h0m2-1h0m1 1h0m0-1h0m2-3h0m7-1h0m3 5h0m11-1h0m2-4h0m4 3h0m7-4h0m6 1h0m5 1h0m5-2h0m10 6h0m1-7h0m3 1h0m3 5h0m1-2h0m7 2h0m1-6h0m8 0h0m10 8h0m-18 0h0m-8 0h0m-17 6h0m-17-6h0m-7 3h0m-4 0h0m-1 4h0m-6-7h0m-1 6h0m0 0h0m-1-2h0m-17-4h0m-9 3h0m-10 2h0m-1 1h0m-1 0h0m0-3h0m-1-3h0m-2 0h0m-3 5h0m-9 2h0m-1-3h0m-10 0h0m-5-2h0m-6-2h0m-6 3h0m-1 1h0m-3 0h0m-9 0h0m0-1h0m-2 8h0m2 1h0m4-1h0m4 3h0m13-4h0m4 3h0m16 0h0m12 2h0m1-6h0m11 0h0m4-1h0m14 4h0m18 0h0m5-3h0m1-1h0m4 4h0m9-3h0m3 2h0m3 0h0m6-2h0m1 2h0m-54 8h0m-5-1h0m-12 5h0m-2-1h0m-2-5h0m-5 0h0m-9 1h0m-8-2h0m-9 3h0m-2 1h0m-3 0h0m0 2h0m-3-6h0m-1 0h0m-8 2h0m-1 3h0m-3 2h0m-1 0h0m-2-2h0m-5-4h0m4 12h0m1-2h0m1-1h0m3-2h0m9 7h0m6-2h0m6 0h0m3 2h0m6-2h0m1-4h0m3 5h0m5-5h0m2 6h0m1-7h0m-27 12h0m-2-3h0m-3 1h0m-2 1h0m-9-1h0m-18 15h0m-11 2h0m-4 5h0m5 4h0m5-4h0m5 4h0m-19 9h0m-5 1h0m-2 0h0m-6 4h0m1 11h0m-30-2h0m-6 4h0m-2-2h0m-19 7h0m0-4h0m0 2h0m5 0h0m4 4h0m17-2h0m27-3h0m-31 21h0m14 0h0m0 0h0m1-6h0m0 5h0m4-4h0m1 1h0m15 8h0m-3 4h0m0-3h0m-2-2h0m-5 2h0m-2 0h0m0 0h0m-1 0h0m-4 3h0m-2 1h0m-1-4h0m-2 4h0m-6-6h0m-1 0h0m-1 2h0m-3 1h0m-3 0h0m-3 1h0m-2-4h0m-1 4h0m-1-4h0m-3 5h0m4 8h0m4-3h0m1 4h0m3-2h0m2 0h0m0-1h0m12-4h0m4 2h0m7 2h0m3-4h0m2 5h0m1-1h0m3 2h0m0-3h0m2 3h0m1 6h0m-4 1h0m0 1h0m-2-1h0m-6 2h0m0-2h0m-2 2h0m-8-7h0m-8 6h0m-5-5h0m-4 1h0m-7 5h0m-3-1h0m7 4h0m7 3h0m2-1h0m2 0h0m0-1h0m6-3h0m5 3h0m1-1h0m1 3h0m5 1h0m0-1h0m2-2h0m8 1h0m2 0h0m-8 4h0m-1 2h0m-4-2h0m-1 6h0m-5 1h0m-10-3h0m-4-4h0m-5 5h0m-3 4h0"/><path transform="scale(.25)" fill="none" stroke="#F8766D" stroke-width="5.0" stroke-linecap="round" d="M0 0m1888 356h0m1 3h0m12-6h0m11 5h0m-11 4h0m-12-1h0m-1 4h0m-2-5h0m-1 3h0m-6 4h0m-7 0h0m-5 1h0m8 7h0m6-2h0m5-4h0m2 6h0m3-1h0m3-2h0m5-3h0m1 6h0m14 0h0m0 0h0m6-2h0m3-4h0m4 5h0m5-1h0m0 0h0m5 1h0m12 7h0m-5 1h0m-2-3h0m0 0h0m-4 3h0m-1-4h0m-2-2h0m-3 3h0m-3 1h0m0 1h0m0-3h0m-1 5h0m-7-6h0m-4 4h0m-1-3h0m0-2h0m-10 3h0m-3-1h0m-1 0h0m-7 1h0m-2-2h0m0 6h0m0-6h0m-1 4h0m-1-1h0m-3-2h0m-1 4h0m-4 0h0m-7-4h0m-3 0h0m-7 0h0m-4 5h0m-4-2h0m-1-3h0m-1-1h0m-6 6h0m-1-1h0m2 8h0m0-4h0m3 5h0m5 0h0m1-7h0m1 0h0m0 2h0m5-2h0m1 6h0m2-4h0m4 1h0m3-1h0m5 1h0m2-1h0m2 4h0m5 1h0m11-2h0m2 1h0m1-1h0m3-2h0m5 2h0m19 2h0m1-3h0m2-4h0m10 2h0m4 0h0m2 1h0m6-1h0m1 4h0m1 1h0m0-7h0m4 4h0m2 0h0m4 2h0m1-6h0m0 8h0m-4 2h0m-3-1h0m-2 3h0m-1 1h0m-5-1h0m-1 2h0m0-3h0m-5-2h0m0 6h0m-3-2h0m-4-2h0m-3 0h0m0 4h0m-1-6h0m-10 2h0m-4-1h0m-4-2h0m-2 2h0m-4 5h0m-14 0h0m-4-6h0m-3 6h0m-3-1h0m-6-5h0m0 4h0m-2-5h0m-2 4h0m-9-4h0m-1 7h0m-2-7h0m-1 7h0m-5-6h0m-4 0h0m-2 1h0m-3-1h0m-5 5h0m-5-1h0m-1 1h0m-3-4h0m-277 10h0m268 3h0m8 0h0m5-6h0m12 5h0m1 1h0m2 0h0m5-1h0m1-2h0m8 0h0m2-3h0m2 0h0m2 5h0m1-1h0m4-1h0m5 1h0m1-1h0m1-4h0m4 1h0m4 3h0m6 2h0m1-3h0m1 0h0m3 4h0m3-5h0m0-1h0m5-1h0m2 5h0m0 2h0m3-5h0m1-1h0m19 3h0m13 0h0m0-3h0m4 5h0m6-2h0m8 3h0m4-6h0m20 12h0m-1 2h0m-3-7h0m-5 4h0m-1 0h0m-4-2h0m-12 1h0m-2-3h0m-3 6h0m-1-4h0m-1 1h0m-3 3h0m-1-4h0m-1-2h0m0 5h0m-11 1h0m-1-2h0m-13-4h0m0 2h0m-2 3h0m-11 2h0m-3-2h0m-2-4h0m-10 5h0m-6-2h0m-1-1h0m-3-3h0m-2 3h0m-1 3h0m-3-4h0m-12 4h0m-1-2h0m-1 1h0m-1-5h0m-1 7h0m-8-1h0m0-1h0m-4-2h0m0 1h0m0 1h0m-3 2h0m-4-3h0m-3-2h0m-2 5h0m-3-1h0m-6 0h0m-24 9h0m0-7h0m6 6h0m3 0h0m1-6h0m9 5h0m1 2h0m3-1h0m11-5h0m9-1h0m12 4h0m1-1h0m0-3h0m5 3h0m5-1h0m4-2h0m5 4h0m1 0h0m5 1h0m2 0h0m1 0h0m6-2h0m0-2h0m2-1h0m0 5h0m1-5h0m0 6h0m6 1h0m3-4h0m0-3h0m6 3h0m3-3h0m1 5h0m9-4h0m4 6h0m1-7h0m1 3h0m3 0h0m3 3h0m2 1h0m0-1h0m1-2h0m0 1h0m3-2h0m1 4h0m1-7h0m3 6h0m14-6h0m3 7h0m3-2h0m11-3h0m1 5h0m1 0h0m6-5h0m0 4h0m1-4h0m10 0h0m7 8h0m-16 1h0m0 1h0m-1 1h0m-6-1h0m-1 2h0m-1 0h0m-5 1h0m-8-3h0m-7-1h0m-8-1h0m-3 3h0m-2-2h0m-1-1h0m-10-2h0m-4 3h0m-6-1h0m-5 1h0m-7-2h0m0 5h0m-3-1h0m-3-2h0m-1-1h0m-2-2h0m-1 2h0m-2 0h0m-8 1h0m-5 0h0m-7-1h0m-10-1h0m-2 6h0m-9-5h0m-4 0h0m-2-2h0m0 7h0m-5-1h0m-8 1h0m-2-7h0m-3 3h0m-9 3h0m-1-2h0m-7 3h0m-9 0h0m-2-4h0m-3 4h0m-7 0h0m-1-5h0m0 4h0m-15 8h0m5-6h0m2 7h0m1-2h0m8-3h0m0 4h0m4-3h0m2 2h0m6-5h0m1 1h0m4 2h0m3-3h0m4 5h0m0-5h0m1 7h0m1-6h0m3 6h0m3 0h0m2-7h0m1 0h0m3 7h0m5-6h0m11 4h0m1 0h0m1-5h0m1 0h0m5 4h0m12-3h0m1 0h0m0 2h0m2-3h0m4 6h0m0-2h0m4 0h0m2 1h0m0-3h0m2-2h0m4 7h0m3 0h0m0-4h0m26 1h0m1-4h0m8 7h0m5-6h0m10 1h0m1 2h0m1-3h0m7 4h0m8-3h0m3 5h0m1-1h0m2-1h0m3-1h0m4-1h0m6 3h0m2-2h0m6-1h0m0 3h0m1 0h0m3-4h0m0-1h0m2 4h0m5 1h0m4-6h0m2 4h0m0 6h0m0 1h0m-3 2h0m-1 1h0m0-2h0m-8-3h0m-2 2h0m-8 2h0m-6-4h0m-1 5h0m-1-6h0m-1 0h0m-12 0h0m-2 5h0m-9-2h0m-2 2h0m0-1h0m-6 0h0m-2-1h0m0 2h0m-5-2h0m-1 3h0m-4-1h0m-1-3h0m-10-2h0m-11 6h0m-3-6h0m0 7h0m-7-1h0m-1-1h0m-6-2h0m-1 4h0m0-3h0m-1 0h0m-3 0h0m-4 3h0m-5-1h0m-1-6h0m-8 6h0m-2-1h0m0-4h0m-2 5h0m-2-5h0m-1 3h0m-6-3h0m-16 4h0m-5 0h0m-7 0h0m0-2h0m-10 4h0m-1-4h0m0-2h0m-4 3h0m-10 3h0m-1-5h0m-11 3h0m-1-4h0m-4 6h0m-5-5h0m0 10h0m1 3h0m3-2h0m2-5h0m1 0h0m6 7h0m9-3h0m1-4h0m8 4h0m5-3h0m1-1h0m2 0h0m7 0h0m2 7h0m1-2h0m6-3h0m9 5h0m4-3h0m3 3h0m3-3h0m1-1h0m2 4h0m1-3h0m8-4h0m1 6h0m1 0h0m7-4h0m0 1h0m2 2h0m0 1h0m15-5h0m1 1h0m4 1h0m4 0h0m3-1h0m1 2h0m1-1h0m1 0h0m2 1h0m0-1h0m15 1h0m3 1h0m2-1h0m5 1h0m4-3h0m1 4h0m6-6h0m3 1h0m1 3h0m2 0h0m7 2h0m6 0h0m3 1h0m0-4h0m0 2h0m2-3h0m1 2h0m10-4h0m3 1h0m5 0h0m0 5h0m8-4h0m0-2h0m5 0h0m-8 8h0m-3 2h0m-7 2h0m-5-2h0m-1 2h0m-2-2h0m0 1h0m-9 2h0m-3 0h0m-3-2h0m-3 4h0m-5-5h0m-10 3h0m-1-4h0m-5 5h0m-1 1h0m-1 0h0m-1-7h0m-2 2h0m-1 2h0m-3 0h0m0 3h0m-2-3h0m-7 2h0m-1-3h0m0-2h0m-14 2h0m-6 2h0m-1-4h0m-5-1h0m-6 6h0m-3 1h0m-8-4h0m-7 4h0m-1-6h0m-4 3h0m-5-3h0m-15 3h0m-2-3h0m-9-1h0m-5 5h0m-1 2h0m-2-6h0m0 4h0m-4-2h0m-2 2h0m-7 1h0m-1-6h0m-6 5h0m-1 2h0m-7-7h0m-5 1h0m-3 5h0m-5-4h0m-3 5h0m0-3h0m-12 2h0m4 5h0m2 1h0m1 2h0m1-3h0m2 4h0m1 0h0m6-1h0m3 1h0m4-6h0m4 5h0m12 1h0m3-4h0m0-3h0m7 0h0m2 5h0m0-3h0m3-1h0m3 0h0m0 0h0m7 4h0m0 0h0m4 1h0m1 1h0m1-2h0m11 2h0m10 0h0m7-3h0m12 1h0m6-1h0m1 2h0m3 1h0m1 0h0m2-3h0m2 2h0m1-3h0m5 1h0m3 0h0m0 0h0m1 1h0m1 1h0m1-5h0m4-1h0m1 6h0m1-5h0m2 1h0m3-2h0m0 4h0m2-1h0m3 3h0m6 1h0m5-7h0m8 3h0m0-2h0m3 5h0m1 1h0m3-2h0m3-1h0m0-2h0m7 5h0m2-7h0m1 7h0m3 0h0m0-3h0m10-3h0m4 2h0m4-2h0m1 1h0m6-2h0m5 4h0m4-1h0m1 3h0m1 1h0m7-4h0m2 9h0m-10 1h0m-8-3h0m-6-2h0m-2 6h0m-4 1h0m-22-7h0m-12 6h0m-2 0h0m-13-3h0m-2-1h0m-3 0h0m-3-1h0m0 0h0m-3-1h0m-3 3h0m-3-2h0m-2 4h0m-7 0h0m-2 0h0m0-2h0m-7 4h0m-3 0h0m0-2h0m-1-2h0m-2 3h0m-7-3h0m-3-3h0m-1 1h0m-2 4h0m-2-2h0m-5 0h0m0 2h0m-4 2h0m0 0h0m-2-2h0m-2-1h0m0 3h0m-2-4h0m-1-3h0m-2 3h0m-4-3h0m-19 0h0m-4 3h0m-2 0h0m-3 0h0m-5 4h0m-5-5h0m-3 5h0m-1-5h0m-9-1h0m-7-1h0m-1 5h0m-2-2h0m-4 2h0m-2 2h0m-9-7h0m0 12h0m5-4h0m1 3h0m1 0h0m3 2h0m7 2h0m4-2h0m5-2h0m3 2h0m4 1h0m1-2h0m10-4h0m4 4h0m6-4h0m1 5h0m6-4h0m6 2h0m8-2h0m3 0h0m0 3h0m0 0h0m1 0h0m6 2h0m3-4h0m7 0h0m2 4h0m8 0h0m4 0h0m1 1h0m1-3h0m8 0h0m4-2h0m3-2h0m6 6h0m4 0h0m4-2h0m24-4h0m4 3h0m13 3h0m0 1h0m3-3h0m20-4h0m2 0h0m2 7h0m4-3h0m0 3h0m10-3h0m2-2h0m1 2h0m1-4h0m9 4h0m2-2h0m1 3h0m3 1h0m12 7h0m-10-4h0m-10 0h0m-5 0h0m-5 5h0m-1-6h0m-2 0h0m-5 0h0m-1 5h0m-7-1h0m-1-2h0m-4 0h0m-3 4h0m-3-3h0m-6 1h0m-6 3h0m-4-5h0m0 3h0m-3 0h0m-4-2h0m0 2h0m-2 2h0m-2-2h0m-5 1h0m-2-5h0m-1 2h0m-2 4h0m-1-7h0m-2 2h0m-2 5h0m-3-1h0m-6 1h0m-5 0h0m-6-3h0m0 0h0m-6 1h0m-11 0h0m-8-2h0m0-1h0m-1 3h0m-2-3h0m-8 3h0m-3-4h0m-3 2h0m-6-2h0m-11 1h0m-5 5h0m-1-3h0m-2 0h0m-1-3h0m-4 0h0m-8 4h0m-12 1h0m-3 1h0m-5-1h0m-1 0h0m-2-3h0m-2 4h0m-1-1h0m-3-2h0m-19-1h0m30 12h0m5-3h0m2-1h0m3 4h0m8-6h0m6 5h0m3-6h0m1 3h0m13 0h0m1 0h0m14-1h0m4 4h0m6 1h0m1-5h0m1 4h0m4 0h0m11-6h0m8 7h0m1-2h0m1-4h0m5 1h0m0 0h0m6 5h0m28-4h0m0-3h0m2 7h0m0-4h0m2 1h0m4 3h0m2-6h0m3 0h0m6 6h0m0 0h0m2-4h0m2 0h0m3-2h0m6 0h0m1 1h0m4 4h0m4-5h0m14-1h0m7 2h0m8 2h0m0-3h0m0 6h0m3-4h0m0-1h0m2 2h0m29 6h0m-10 5h0m-1-6h0m0 1h0m-2 1h0m0 1h0m-6-2h0m-1 4h0m-9-5h0m-1 4h0m-1-1h0m0-3h0m-2 5h0m-1-5h0m-7 6h0m-2-1h0m0-3h0m-25 3h0m-3-6h0m0 4h0m-1 3h0m-5-7h0m-1 5h0m-12-4h0m-9 6h0m-9-4h0m-7-2h0m-6 2h0m-2-3h0m-19 7h0m-1-7h0m-26 5h0m-3-5h0m-1 4h0m-2-3h0m-48 4h0m-4-1h0m-5 0h0m-6-4h0m6 8h0m2 6h0m25-3h0m26-3h0m7 0h0m8 2h0m2-1h0m4 3h0m3 2h0m0-3h0m1-3h0m9 1h0m4 6h0m11-2h0m8-1h0m7-4h0m0 4h0m3 1h0m1-1h0m0 0h0m1-1h0m20-2h0m3 2h0m3 1h0m1-3h0m9-1h0m5 7h0m4-2h0m1-2h0m1-1h0m3-2h0m3 4h0m8 1h0m4 0h0m13 2h0m1-4h0m4-3h0m9 4h0m1-1h0m2 2h0m1-4h0m1 6h0m3-6h0m2 0h0m7 12h0m-4-4h0m-4 6h0m-6 0h0m-1 0h0m-4-1h0m-2-1h0m-4-1h0m-9 0h0m-19-3h0m-1 6h0m-3-7h0m-5 6h0m-3-6h0m-3 3h0m-13 1h0m-4-3h0m0 3h0m0 1h0m-2-3h0m-3 1h0m-8-1h0m-1 4h0m0 0h0m-5 0h0m-3-5h0m-2-1h0m-9 0h0m-3 6h0m-5 1h0m-1-4h0m-1 2h0m-1 0h0m-1 2h0m-12-2h0m-13 2h0m-71-7h0m-1 2h0m84 9h0m1 4h0m5-4h0m2 4h0m5-4h0m5 2h0m6-1h0m5 3h0m1-6h0m2 0h0m5-1h0m6 6h0m2-3h0m1 3h0m5 0h0m0 1h0m6-4h0m1 0h0m0-2h0m6 3h0m2-4h0m43 4h0m4-4h0m3 0h0m2 3h0m8 1h0m1 1h0m1-5h0m2 1h0m1 1h0m7 1h0m5-2h0m1 4h0m1 1h0m4-1h0m4 2h0m1-1h0m5-3h0m1 0h0m-2 12h0m-3-3h0m0 3h0m-2-5h0m-4 1h0m-2 3h0m-6-2h0m-11 3h0m-2-7h0m-3 2h0m-1-2h0m-1 5h0m-23 0h0m-1-3h0m-17 3h0m-2-2h0m-9 2h0m-10-5h0m-7 3h0m-2 0h0m-1-3h0m-1 4h0m-4-4h0m-2 1h0m-3-1h0m0 3h0m-2-1h0m-2 2h0m-1-3h0m-1 4h0m-1 1h0m-1-6h0m-9 5h0m0-2h0m-3 1h0m-1 0h0m-2-2h0m-4-2h0m-4 7h0m0-5h0m-1-1h0m0 13h0m2-2h0m4 0h0m13-1h0m2-2h0m10 0h0m4 2h0m1 1h0m1 0h0m1 2h0m11-5h0m19 5h0m32 0h0m11-2h0m13-3h0m20 0h0m6-1h0m6 3h0m1 0h0m1 0h0m1 4h0m-24 2h0m-38 0h0m-23 5h0m-1-2h0m-20-1h0m-12-2h0m-4 2h0m-7-2h0m-1 2h0m-6 3h0m-3-5h0m-4 0h0m-6 3h0m16 7h0m106 43h0m-213 53h0"/><path transform="scale(.25)" fill="none" stroke="#00BA38" stroke-width="5.0" stroke-linecap="round" d="M0 0m1939 159h0m-69 0h0m-9 0h0m-25 4h0m22 0h0m7 0h0m5-2h0m1 3h0m0-2h0m8-2h0m5 2h0m1 1h0m0 3h0m1-3h0m1 1h0m4 0h0m5-4h0m3 7h0m10-2h0m1 0h0m2-5h0m0 1h0m1-1h0m2 5h0m2 2h0m2-5h0m2 3h0m4 2h0m3-1h0m9-2h0m8-1h0m15 4h0m2 3h0m-2 2h0m-1 2h0m-2-5h0m-3-1h0m-1 0h0m-6 0h0m-1 4h0m-1-3h0m-4 6h0m-2 0h0m-3-7h0m0 7h0m-1-3h0m-1 0h0m-6-4h0m-1 7h0m-1-1h0m-2-5h0m-11 5h0m-1-1h0m0-4h0m-9 4h0m-1-5h0m-5 6h0m-4-4h0m-1 2h0m-3-2h0m-4-1h0m-6 1h0m-10-2h0m-7 6h0m-2-1h0m-2 0h0m-4-4h0m-1 5h0m-3 1h0m-3-5h0m-3 6h0m8 1h0m8 5h0m1-3h0m3 1h0m1 2h0m8 0h0m3-3h0m5 3h0m6-1h0m8 1h0m0-6h0m4 2h0m4 4h0m6 1h0m1-4h0m8-2h0m1 6h0m29-3h0m0 1h0m2-4h0m0 4h0m4-3h0m1 2h0m4 0h0m9 0h0m3-2h0m1-1h0m10 0h0m1 6h0m1-6h0m25 12h0m-11-3h0m-1 3h0m-6-4h0m-2 4h0m-3 2h0m0-7h0m-6 7h0m-2 0h0m-3-6h0m-1 2h0m0-3h0m-8 7h0m0-7h0m-2 2h0m-2-1h0m-2 2h0m-3 2h0m-1-2h0m0 2h0m-2-2h0m0 0h0m-7-2h0m-3 1h0m-4 3h0m-2 1h0m-7-2h0m-1-3h0m-11 0h0m-8 2h0m-16 4h0m-1-1h0m-1-6h0m-3 1h0m-2 6h0m-10-6h0m-3 4h0m-9-3h0m-10 1h0m-5-3h0m-12 5h0m-3 3h0m6 5h0m3-3h0m0 3h0m3-2h0m2 0h0m11 2h0m6-1h0m2-3h0m3-1h0m3 3h0m0 2h0m1 2h0m0 0h0m7-4h0m3-1h0m20 0h0m2-1h0m3 6h0m4-5h0m5 1h0m6-2h0m21 5h0m2-1h0m0 0h0m12-1h0m13-4h0m1 7h0m1-2h0m0 0h0m3-4h0m6 2h0m2 1h0m12 0h0m0-2h0m12-2h0m3 4h0m2 3h0m2 0h0m2-3h0m7 1h0m-2 9h0m-4-2h0m-2-1h0m-6 3h0m-3 0h0m-6-3h0m-10 0h0m0-1h0m-5 4h0m-2-6h0m-3 2h0m-6 4h0m-4 1h0m-8-1h0m-14-4h0m-3 5h0m-4-1h0m-1-5h0m-2-1h0m-4 5h0m-3 1h0m-5 1h0m0-1h0m-5-5h0m0 4h0m-3-3h0m-2 4h0m-3-2h0m-3-3h0m-17 0h0m-1 2h0m-2-2h0m-5-1h0m-6 5h0m-1 1h0m-1-3h0m-5 4h0m-2-4h0m0-2h0m-7 4h0m-2-4h0m-4 5h0m-3-6h0m0 0h0m-3 1h0m-1 4h0m-11-5h0m-1 7h0m-6-6h0m-1 3h0m-2 0h0m5 6h0m0 1h0m8 2h0m12 2h0m7-5h0m0-2h0m0 5h0m8-3h0m1 1h0m4-3h0m2 1h0m2 3h0m1-2h0m5-2h0m1 3h0m5 4h0m3-3h0m1 2h0m1-5h0m1 0h0m3 2h0m2 4h0m3-1h0m1 0h0m0-5h0m1 0h0m3 5h0m1-1h0m3-2h0m2 3h0m5-5h0m4 2h0m9-2h0m8 2h0m1 3h0m5-3h0m6 1h0m14 1h0m2-1h0m14-4h0m1 1h0m0 6h0m9-3h0m8 1h0m3 0h0m3-5h0m2 4h0m1-1h0m1 4h0m0-7h0m3 4h0m10 1h0m2 2h0m0 2h0m-1 1h0m0 0h0m-3 1h0m-7 1h0m-2-3h0m-10-1h0m-1 7h0m-3-5h0m-5 2h0m0-4h0m-1 0h0m-1 1h0m-6-1h0m-1 1h0m-4 0h0m-1 5h0m-3-4h0m-18 5h0m-7-3h0m-5 0h0m-2 3h0m-6-7h0m-3 1h0m-10 1h0m-1 0h0m-5 4h0m-7-5h0m-8 1h0m-5-1h0m-9 1h0m-10 5h0m-3-4h0m-2-3h0m-5 5h0m-1 0h0m-1 0h0m-1-4h0m-5 4h0m-3-5h0m-2 1h0m-6-1h0m-1 5h0m0-5h0m-2 6h0m-2-2h0m-7-1h0m9 10h0m5-3h0m1-1h0m0 2h0m3-2h0m1 6h0m0-4h0m8-2h0m0-1h0m9 2h0m1 0h0m2 5h0m8-2h0m3 1h0m3-6h0m0 7h0m1-4h0m0 0h0m1 4h0m10-2h0m1-2h0m7 3h0m2-4h0m3-2h0m6 1h0m2-1h0m1 0h0m21 6h0m2-5h0m5 0h0m4 3h0m3 0h0m10 2h0m17-5h0m23 6h0m4-4h0m4 0h0m1 1h0m1 3h0m3-7h0m4 15h0m-1-1h0m0 0h0m-2-5h0m0 5h0m-3-2h0m-2-1h0m-5 3h0m-1-6h0m-7 5h0m-2-4h0m-1 6h0m0-6h0m-4-1h0m0 5h0m-6 1h0m-1-2h0m0 3h0m-6-2h0m-1 2h0m-4-6h0m-1 6h0m-4-6h0m-5 1h0m-1-1h0m-3 0h0m-4 4h0m-2 2h0m-12 0h0m-5-2h0m-4-5h0m-4 2h0m-6 3h0m-4 2h0m-4-6h0m0-1h0m0 1h0m-1 4h0m-6-3h0m-1 1h0m-3 1h0m-3-3h0m-1 1h0m-2 5h0m0-2h0m-6-2h0m0 3h0m-5-2h0m-4-4h0m-2 1h0m-6 3h0m-4-1h0m-5-3h0m-2 1h0m-3 2h0m-15 4h0m29 1h0m13 0h0m13 2h0m2-1h0m3 0h0m2 3h0m4-3h0m0-1h0m1 2h0m2 2h0m7-2h0m3 2h0m3-2h0m3 1h0m2-1h0m8-1h0m3 0h0m10 6h0m1-2h0m5 2h0m3-1h0m1-3h0m3-3h0m3 1h0m0 1h0m5 0h0m1 4h0m9-3h0m2 0h0m5-1h0m7 1h0m3-2h0m1 4h0m4 0h0m1-2h0m2 0h0m1 8h0m-8-1h0m-3-1h0m-6-1h0m-1 0h0m-1 3h0m-1-2h0m0 0h0m-3 1h0m-1 2h0m-2 1h0m-1-2h0m-2 1h0m-4-3h0m-1 2h0m-7 2h0m-2-4h0m-3 4h0m-2-2h0m-5-2h0m-2 2h0m-1-3h0m-2 6h0m-2-3h0m-2 1h0m-1 2h0m-1-2h0m-3-2h0m-12 5h0m-1-5h0m-2 2h0m-4-1h0m-8 2h0m-2 2h0m-1-5h0m-20 1h0m12 8h0m64-2h0m1 1h0m6 4h0m1-4h0m12 3h0m2 1h0m14-4h0m-3 6h0m-27 1h0m-8 1h0m-376 52h0m-8-2h0m-28 0h0m-12 10h0m9-3h0m0-2h0m1 6h0m2-2h0m5-1h0m2-1h0m10-1h0m5 2h0m1-2h0m5 5h0m0-3h0m12 2h0m18 0h0m1-1h0m-12 5h0m-7 3h0m-6-3h0m-3-1h0m-2 3h0m-6 3h0m-1-7h0m-11 2h0m-5 1h0m-1 1h0m-1 3h0m-6-2h0m1 8h0m1-5h0m2 3h0m20 3h0m4-1h0m16 5h0m-6-1h0m-6 1h0m-2 4h0m-1 1h0m-12-4h0m-6-3h0m-1 6h0m-1-5h0m-3 3h0m-8-4h0m21 15h0m4-4h0m7-3h0m-10 10h0m-6 3h0m48 25h0m8 0h0m10 9h0m367 79h0m81 78h0m0 0h0m-1 3h0m-2-4h0m-10-1h0m-16 2h0m-18 2h0m-2-2h0m0 0h0m-10-3h0m-9 6h0m-16 6h0m6 0h0m6-1h0m8 0h0m1 1h0m4 2h0m0-1h0m1-5h0m0 0h0m1 4h0m1-1h0m2 0h0m11 0h0m4-2h0m0 0h0m3 0h0m2 3h0m3-1h0m4 0h0m0-4h0m1 2h0m2-2h0m6 6h0m5-4h0m3-1h0m4 4h0m6 0h0m3-4h0m0 5h0m1 0h0m2-4h0m0-2h0m13 7h0m15 7h0m-3 0h0m-1-1h0m-3 1h0m-6-1h0m-8-5h0m0 7h0m-1-2h0m-11-4h0m-7 0h0m-6 1h0m-1-2h0m-5 4h0m-2-1h0m-3 2h0m-3-1h0m-3-4h0m-8 3h0m-7-1h0m-2 3h0m-3-5h0m-12 1h0m0 3h0m-4 2h0m-3-2h0m-2-1h0m-3 2h0m-7-4h0m-5 2h0m-2 4h0m-4-7h0m-7 3h0m-183 2h0m-41-1h0m-3-1h0m-7 1h0m-4-3h0m-2 4h0m0 2h0m-2-2h0m0-3h0m0 1h0m0 2h0m-2-4h0m-6 5h0m0-3h0m-1 0h0m-4-1h0m-4 9h0m3-2h0m2 5h0m4-4h0m2 2h0m0-1h0m1-3h0m4 1h0m4 1h0m1-2h0m1 7h0m0-7h0m6 2h0m1 2h0m0 2h0m1-1h0m2 2h0m12-5h0m218 2h0m3-2h0m6 2h0m7-2h0m2 2h0m11 3h0m6-1h0m4-5h0m0 5h0m1-1h0m2-5h0m11 5h0m5-2h0m7 3h0m2-5h0m6 6h0m7 0h0m10-6h0m9 6h0m3 0h0m5-1h0m8 1h0m1-6h0m9 1h0m1 3h0m3-4h0m9 12h0m-5-4h0m-1 3h0m-1 1h0m-5 2h0m-5 0h0m-8 0h0m-2 0h0m-9 0h0m0-4h0m0 0h0m0 3h0m-4-3h0m-2 2h0m0 1h0m-4-6h0m-3 6h0m-1-3h0m-12 1h0m-2-1h0m0 4h0m-5 0h0m-21-4h0m-2-2h0m-2 2h0m-3 0h0m-2 3h0m-4 1h0m-6-2h0m-5-4h0m-1 2h0m-20-1h0m-211 2h0m-19-3h0m-8 2h0m0 3h0m-11-4h0m13 10h0m2-1h0m6-3h0m1 0h0m1 0h0m1 3h0m4 3h0m7 1h0m5-2h0m1 2h0m1 0h0m203-4h0m10 0h0m1 0h0m4-3h0m1 1h0m2 6h0m7-6h0m2 2h0m2-1h0m1-2h0m0 5h0m15-3h0m2 1h0m12 1h0m2 0h0m3-3h0m7-1h0m5 6h0m4-1h0m2-1h0m1 2h0m7-2h0m4 1h0m3-5h0m10 1h0m8 0h0m1 3h0m9 0h0m14 1h0m4-3h0m1 3h0m3 2h0m1 1h0m-1 4h0m-7 0h0m-3 0h0m-4 1h0m0-3h0m-11 0h0m0 2h0m-2 0h0m-1 3h0m0-5h0m-1-1h0m-10 3h0m-3 2h0m-1-1h0m-21-1h0m-8-4h0m-3 4h0m-12 3h0m0-4h0m-2 1h0m-7 3h0m-5 0h0m-3-2h0m0-3h0m-2 0h0m-1 3h0m-1-2h0m-3-1h0m0-2h0m-5 6h0m-1-6h0m-8 0h0m-8 6h0m-6-1h0m-2-4h0m-9 0h0m-171 6h0m-14-2h0m-7-2h0m-8 4h0m-6-1h0m-1-2h0m0 3h0m-2-2h0m-3 0h0m0 1h0m-3-4h0m-7-2h0m6 10h0m3-1h0m0-1h0m5 0h0m3 2h0m1 1h0m2 0h0m5 0h0m1 3h0m0-3h0m0 2h0m4-2h0m4-1h0m1 5h0m4-2h0m7-3h0m17 4h0m1 0h0m171-6h0m6 0h0m4 7h0m2-2h0m2-2h0m2 4h0m0-1h0m0 1h0m4-5h0m6 4h0m1-5h0m4 4h0m3-3h0m36 3h0m7-5h0m2 0h0m2 2h0m8-1h0m2 3h0m0 0h0m4 1h0m5-3h0m6 1h0m2 2h0m3-4h0m7-1h0m1 3h0m1 1h0m2 3h0m1 0h0m6-2h0m3-5h0m2 0h0m3 10h0m-6 5h0m-2-4h0m-2-2h0m-1 5h0m-2 1h0m-1 0h0m-8-7h0m-1 7h0m-1-3h0m-11 1h0m-10 2h0m0-4h0m-1 0h0m-2-1h0m-3 3h0m-3-1h0m-4 0h0m-8-4h0m-6 2h0m-2 4h0m-7-2h0m-11-4h0m-10 6h0m-5-6h0m0 2h0m-23 2h0m-1 3h0m-4-6h0m-3-1h0m-148 4h0m-6-1h0m-1-1h0m-4-1h0m0-1h0m-9 4h0m-7-3h0m-4-1h0m-9 0h0m-3 4h0m-3 3h0m-5-6h0m-1 6h0m0-2h0m-4 0h0m-3-5h0m-3 4h0m-2-3h0m-4 4h0m-4-5h0m21 9h0m5 1h0m2 1h0m0-1h0m1 4h0m3-1h0m1-4h0m3 5h0m6-1h0m178-3h0m6 4h0m2-5h0m1 5h0m6 0h0m3-6h0m0 3h0m0 4h0m1-5h0m8 5h0m1-1h0m1-3h0m10-2h0m42 5h0m3-1h0m1-1h0m1 2h0m4 0h0m27 0h0m0-3h0m4 0h0m6 0h0m4 3h0m5-6h0m-15 10h0m-8 1h0m-4-1h0m-5 5h0m-1-5h0m-5 0h0m-2 2h0m0-1h0m-4-2h0m-2 6h0m0-6h0m-12 1h0m-9 2h0m-5-1h0m-2 4h0m-2-3h0m-2 2h0m-4-1h0m-3 2h0m-3-1h0m-1-4h0m-5-2h0m-5 5h0m0-3h0m-7 4h0m-6-1h0m-1-4h0m-7 5h0m0-5h0m-180-1h0m-10 5h0m0-2h0m-6 2h0m-4-4h0m0 3h0m-6 2h0m0 0h0m-1-6h0m6 10h0m1 3h0m3 2h0m6-1h0m4-1h0m7 0h0m177-5h0m6 1h0m0-1h0m2 0h0m1 4h0m4-1h0m4-2h0m5 3h0m7-4h0m5 2h0m3-2h0m3 1h0m0-1h0m5 1h0m2 3h0m2 3h0m4-7h0m9 2h0m3 1h0m5 1h0m13-3h0m5 2h0m5-3h0m-33 10h0m-13-1h0m-3-1h0m-3 4h0m-222 0h0m-11-2h0m12 11h0m2 2h0m5-1h0m1-4h0m2 5h0m1-2h0m0-3h0m2 4h0m0-1h0m1 1h0m171-1h0m26-3h0m-197 9h0m-3 2h0m-5-5h0m-6 0h0"/><path transform="scale(.25)" fill="none" stroke="#619CFF" stroke-width="5.0" stroke-linecap="round" d="M0 0m2018 234h0m-474 123h0m64 8h0m-11-3h0m-25 5h0m-8 0h0m-30 8h0m14-2h0m6 1h0m5 1h0m3-1h0m1-6h0m4 3h0m15 2h0m1 2h0m3-1h0m7-5h0m1 3h0m2-2h0m2 2h0m1 1h0m3 2h0m0-1h0m6 1h0m4 1h0m-4 5h0m-3-2h0m-5 1h0m-5-3h0m-6 6h0m-2-7h0m-2 7h0m-4-7h0m-3 2h0m-3 0h0m0-1h0m-1 3h0m0-3h0m-7 3h0m-6 1h0m-2-3h0m-4-1h0m-3-1h0m-7 5h0m0 0h0m-1-2h0m-2 4h0m-4-2h0m-3-1h0m-5 9h0m1 2h0m7-2h0m2 0h0m2 1h0m10 0h0m1-2h0m3 2h0m5-1h0m0-2h0m1 4h0m8-2h0m2 0h0m1-1h0m1-1h0m0-1h0m2 2h0m4 1h0m0-5h0m3 5h0m5-3h0m2 5h0m0-6h0m3 0h0m0-1h0m4 0h0m3 5h0m2-2h0m0 1h0m2-3h0m5 2h0m6 4h0m2 0h0m3-4h0m0-1h0m265 4h0m-280 3h0m-4 6h0m-12-2h0m-5-4h0m-1 3h0m-1-3h0m0 6h0m-2-7h0m-5 0h0m-8 1h0m-5-1h0m-2 4h0m-7 3h0m0-3h0m-8 2h0m-3-6h0m0 4h0m-1 3h0m-2-2h0m-4 0h0m-4 2h0m-1-1h0m4 4h0m8 1h0m2-1h0m7-2h0m0 1h0m0 1h0m1 4h0m1-6h0m5 7h0m1-7h0m6 0h0m2 2h0m5 4h0m5-1h0m5-1h0m1-2h0m3 4h0m6-4h0m1 4h0m9-3h0m7-2h0m2 0h0m7-1h0m0 1h0m-15 9h0m-12 1h0m-4-2h0m-3 0h0m-5 5h0m-3-3h0m-7 1h0m-3-3h0m-1 6h0m-5-4h0m-5 1h0m-5 1h0m-3-2h0m-1-1h0m-13-1h0m30 10h0m29-3h0m-45 10h0m394 133h0m5 8h0m11-1h0m-2 6h0m-22 8h0m0 1h0m5-3h0m4 0h0m3 0h0m3 1h0m0 0h0m0 3h0m4-4h0m0 0h0m5 0h0m8 4h0m2-3h0m2-2h0m1 0h0m2 1h0m1 4h0m10 2h0m-9 1h0m-19 1h0m-8 1h0m-13 3h0m-1-2h0m-2 2h0m0-2h0m-5 1h0m-11 9h0m4-6h0m4 7h0m6-6h0m6-1h0m3 7h0m1-2h0m0-1h0m3 0h0m4-3h0m2-1h0m5 1h0m9 3h0m4-4h0m0 4h0m1 3h0m14-2h0m0-4h0m4 3h0m6 5h0m-5 3h0m-6-2h0m0 3h0m-8-5h0m0 5h0m-2-3h0m-1-1h0m-2 1h0m-7 3h0m-2 0h0m-4-1h0m-6-3h0m-1 4h0m-3-4h0m-1 6h0m-4 0h0m-1-7h0m-1 3h0m-2-3h0m-2 4h0m-5 0h0m0-4h0m-1 1h0m-6 6h0m-1 0h0m-3-7h0m-2 3h0m-10 3h0m6 5h0m5 0h0m2 0h0m1-3h0m3 3h0m7 4h0m4-5h0m1 1h0m4 1h0m5-2h0m3-2h0m1 5h0m1-1h0m5 1h0m3-3h0m1-1h0m4 6h0m6 0h0m5-6h0m1-1h0m4 0h0m2 1h0m1 5h0m7-6h0m8 2h0m1 5h0m6 1h0m-2 6h0m-3 0h0m-9-6h0m-2 0h0m-14 1h0m0 1h0m-10 4h0m-3 1h0m-4-1h0m-1-6h0m-5 6h0m-2-2h0m-10 0h0m0-3h0m-18 4h0m-12 2h0m-2-3h0m-5-3h0m-208 14h0m215-3h0m7 0h0m10-2h0m4 0h0m7 2h0m4-3h0m4-1h0m0 5h0m1 0h0m2-1h0m4 3h0m1-3h0m3-4h0m10 5h0m13 1h0m6-6h0m18 0h0m6 1h0m-12 10h0m-28-3h0m-1 1h0m-4 2h0m-6 0h0m-2 2h0m-2-4h0m-8 6h0m-6 0h0m-1 0h0m-7-1h0m-5-6h0m0 4h0m0 0h0m-1 2h0m-1-2h0m-2-2h0m-5 1h0m-5-3h0m-3 7h0m-3-2h0m-2 2h0m-5-1h0m-2-3h0m0 0h0m-197 4h0m-1-2h0m-1 1h0m-2 1h0m-1-5h0m-4 5h0m-2 0h0m-1-4h0m-1 4h0m-5-2h0m-4 1h0m-2-3h0m-3-2h0m-3 8h0m3 1h0m0 1h0m4 0h0m30 4h0m188-5h0m3 3h0m3-3h0m10-1h0m7 5h0m4-5h0m11 3h0m1 0h0m2 0h0m3-3h0m2 5h0m2 1h0m5-7h0m15 2h0m4-1h0m5 4h0m36-1h0m1-4h0m5 1h0m3 3h0m7 3h0m99-4h0m5 3h0m-10 5h0m-3 3h0m-2-2h0m-1-3h0m-4 6h0m-4 0h0m-2-1h0m-9 1h0m-2 0h0m-2-3h0m-44 1h0m-8-2h0m0-1h0m-5 1h0m-4-2h0m-3-1h0m-2 3h0m-1-1h0m-2 1h0m-1 3h0m0-6h0m-3 4h0m-11 0h0m-7 2h0m-8-4h0m-8 5h0m-1-4h0m-1 2h0m-1-3h0m-4 0h0m-8-1h0m-4 5h0m-8 1h0m-4 0h0m-2-1h0m-9-3h0m-2 3h0m-5-3h0m-21 2h0m-8-4h0m-7 3h0m-4 1h0m-151 2h0m-9-1h0m-4-3h0m-20-2h0m-3-1h0m-4 1h0m-7 1h0m0 2h0m-2-2h0m-15-1h0m-3-1h0m-4 5h0m-2-2h0m-3-1h0m-4 2h0m1 5h0m1-1h0m4 5h0m9-5h0m2 1h0m2 0h0m1 0h0m7 1h0m2 1h0m1 0h0m1-3h0m5 1h0m11 6h0m5-7h0m9 0h0m18 2h0m151 0h0m1 0h0m1 3h0m0-5h0m2 0h0m2 3h0m2 3h0m0-2h0m11-1h0m2-1h0m1-1h0m6 6h0m1-7h0m5 7h0m2-6h0m5 5h0m5-2h0m2 2h0m16-6h0m2 2h0m0 2h0m1 3h0m4-2h0m2 2h0m2-5h0m9 3h0m2-1h0m9 2h0m6-6h0m3 1h0m8 0h0m2 1h0m4 2h0m6 3h0m8-2h0m1-4h0m3 3h0m2 3h0m2-3h0m3-1h0m2-2h0m24 1h0m18 1h0m4 0h0m5 3h0m4-2h0m2-3h0m4 6h0m11-5h0m5 5h0m-21 4h0m-5 3h0m-6-2h0m-2 2h0m-14 1h0m-8-1h0m-13-4h0m-1 0h0m-1 2h0m-2 1h0m-2-1h0m-8-1h0m-2-1h0m-1 5h0m0-5h0m-12-2h0m-4 3h0m-4 2h0m0-2h0m-5-3h0m-4 5h0m-1 1h0m-1-1h0m-2-4h0m-4 5h0m-2-5h0m-1 5h0m-14 0h0m-11-2h0m-22-2h0m-17 1h0m-2-1h0m-2 3h0m-4 2h0m0-4h0m-2 2h0m0 0h0m-7-1h0m0 1h0m-7-5h0m0 5h0m-1-4h0m-3 4h0m-179-5h0m-6 4h0m-3-4h0m-11 0h0m195 8h0m2 1h0m2 1h0m2 5h0m1-2h0m2 1h0m4 0h0m8-5h0m12 6h0m13-3h0m2 2h0m12-3h0m7-2h0m12 5h0m9-1h0m0-2h0m1 2h0m12-5h0m4 3h0m10-1h0m0 4h0m1-3h0m0 1h0m2 2h0m7-4h0m2 3h0m9-1h0m6-4h0m5 6h0m5-5h0m4 6h0m5-1h0m5-3h0m6-1h0m1 4h0m-23 2h0m-9 2h0m-12 0h0m-9-2h0m-7 5h0m0-3h0m-8 3h0m-5 2h0m0-4h0m-7 0h0m-6-2h0m-1 6h0m-1-5h0m-7 2h0m-5-1h0m-15 4h0m-6-1h0m-2 0h0m-2-3h0m-3 2h0m-13-2h0m-2-2h0m-1-1h0m-2 6h0m-6-2h0m-2-3h0m-9 1h0m-2 0h0m-5 4h0m-2 1h0m-2-4h0m-4 8h0m3 3h0m3 0h0m1-3h0m5 4h0m2-2h0m12 0h0m13-1h0m3-3h0m7 0h0m2-1h0m13 0h0m6 3h0m3 0h0m0-1h0m2-1h0m0 2h0m2 1h0m1 3h0m8-2h0m3-5h0m19 3h0m3 0h0m9-1h0m8-2h0m-19 9h0m-5-1h0m-11 6h0m-21-1h0m0-3h0m0-2h0m-7 1h0m-1 5h0m-7-1h0m-9-2h0m-4 1h0m-1-1h0m0-2h0m0 2h0m-4 0h0m-2 2h0m-7 1h0m-6 0h0m-8-1h0m-4-2h0m0-2h0m-10 2h0m-2 10h0m11-4h0m2 3h0m2-1h0m3-3h0m0 2h0m1 4h0m2-3h0m5 1h0m5-3h0m22 0h0m6 1h0m4-2h0m13 0h0m-52 9h0m-3 1h0m-9-2h0m-12 4h0m1 7h0m-14 8h0m-1 3h0m-1 1h0m-1-2h0m-8 8h0m0-1h0m0-1h0m4 2h0m-8 3h0m0 4h0m-13 10h0m5-3h0m1 3h0m1-6h0m3 7h0m-36 6h0m0 2h0m-37-6h0m-4 4h0m12 5h0m1 5h0m4 0h0m1 0h0m19-7h0m2 0h0m22 4h0m4-4h0m-2 11h0m-40 12h0m26-3h0m0-3h0m12 3h0m2-2h0m8 12h0m-5-1h0m-4 2h0m-3-5h0m-5 2h0m-3-2h0m0 5h0m-5-3h0m-1-3h0m0 4h0m-1 2h0m-2-6h0m-3 2h0m0 1h0m-2 1h0m-5-2h0m-1 3h0m-1-2h0m-8 3h0m4 2h0m1-1h0m0 0h0m5 4h0m3-1h0m1 0h0m2-3h0m0 4h0m2 1h0m15-4h0m9-1h0m1 3h0m1-3h0m2 0h0m6 8h0m-3 1h0m-5 5h0m-9 0h0m0-4h0m-2 2h0m-5-2h0m-1-1h0m-6 0h0m-2 4h0m-1 2h0m-8-7h0m-10 4h0m6 9h0m4 2h0m0-3h0m1-3h0m12 2h0m3-1h0m1 4h0m6 1h0m6-3h0m3-2h0m1 2h0m-7 9h0m-2-2h0m-3-3h0m-1 3h0m0 4h0m-3-4h0m-1 3h0m0-5h0m-3 1h0m-1 1h0m-2 0h0m0 0h0m-6 0h0m-1-1h0m-3 2h0"/><path transform="scale(.25)" fill="none" stroke="#F8766D" stroke-width="5.0" stroke-linecap="round" d="M0 0m1881 359h0m13-1h0m25 7h0m-19-3h0m-4 2h0m-1 0h0m-4 0h0m-3 1h0m-6-4h0m-1 3h0m0 3h0m-2 0h0m0-1h0m-2-6h0m-9 5h0m-13 10h0m0 0h0m6-1h0m0 0h0m4-2h0m2 3h0m0-6h0m4 5h0m1-4h0m1 4h0m3-5h0m1 1h0m2-2h0m13 2h0m1 4h0m3-2h0m9 1h0m2-4h0m0 4h0m6-1h0m6 3h0m1-1h0m21-1h0m12 6h0m-12-2h0m-4 4h0m-3-4h0m-7 5h0m-2-6h0m-9 0h0m-3 2h0m-2 3h0m-2-3h0m-4-2h0m-1 2h0m-1 1h0m-1 3h0m-6-6h0m-5 2h0m-1 5h0m-2 0h0m-1 0h0m-1-4h0m0 3h0m-2-2h0m-2-2h0m-8 3h0m0-2h0m-1 3h0m-2-4h0m-4 1h0m-12 3h0m-13 6h0m22-1h0m4 3h0m7-1h0m1 2h0m2-4h0m7-2h0m7 0h0m7-1h0m3 0h0m0 0h0m5 4h0m2 1h0m5 1h0m3-6h0m3 0h0m1 1h0m4 0h0m2 0h0m8 3h0m5-4h0m1 6h0m7-1h0m2 2h0m6-1h0m2-1h0m0-4h0m0 6h0m3-7h0m4 5h0m5 1h0m3 9h0m-3-7h0m-7 4h0m-1-3h0m0 3h0m-15-2h0m-5 3h0m-12 0h0m-8 1h0m-1 1h0m-4-7h0m-1 6h0m-1-6h0m-4 6h0m-2-1h0m-5-5h0m0 4h0m-2 0h0m-8 0h0m0-2h0m0 3h0m-4 1h0m-14-6h0m-11 2h0m-5 4h0m-5-3h0m-9-1h0m-2 5h0m-4-3h0m-2 11h0m3-3h0m1 1h0m3-3h0m6-1h0m3 0h0m0 6h0m8 0h0m2-1h0m2 0h0m3-5h0m4 3h0m7 3h0m4-6h0m0 6h0m2-7h0m3 5h0m8-4h0m3 5h0m2-1h0m9-2h0m1 0h0m7 4h0m2-1h0m0-5h0m5 6h0m0 0h0m1-4h0m1-3h0m3 3h0m11 4h0m7-7h0m6 1h0m0 5h0m3-1h0m3-3h0m2-2h0m1 2h0m3 4h0m2-6h0m3 2h0m6 5h0m0-3h0m5 4h0m-6 2h0m-3 1h0m-6 1h0m0 1h0m0-2h0m-5 4h0m-4-5h0m-6 3h0m-2 1h0m-4-1h0m-2-1h0m-3 3h0m-1-6h0m-17 4h0m-9-1h0m-1 0h0m-2-1h0m-4 4h0m-1-3h0m0-3h0m-3 6h0m-1-1h0m-7-2h0m-4 0h0m-9 0h0m-6 3h0m-1-3h0m-7-2h0m-1 5h0m-6 0h0m0-4h0m-9 0h0m-1 3h0m-2-5h0m-2 2h0m-2 4h0m-6-5h0m-1 2h0m-3-2h0m-1 5h0m0-2h0m-11 1h0m-7 4h0m1 3h0m3 2h0m1 0h0m4-7h0m2 4h0m1-3h0m1 4h0m6-5h0m3 5h0m3-4h0m9 1h0m5 2h0m1 2h0m12 0h0m0-2h0m1-1h0m14 2h0m0-2h0m2-1h0m6 0h0m6 0h0m2-2h0m7 0h0m3 2h0m4 1h0m8-1h0m2 1h0m0-1h0m1-2h0m16 3h0m7 4h0m1-1h0m27 1h0m1 0h0m5-5h0m9 5h0m1-1h0m1-5h0m1 1h0m0 2h0m3-1h0m2 3h0m1-6h0m4 1h0m0 3h0m9 4h0m-9 4h0m-1 1h0m-2 2h0m-2-7h0m-6 6h0m-4-4h0m-5-2h0m-2 4h0m0-3h0m-1 0h0m-9-1h0m-3 4h0m-4 2h0m-6-3h0m-12 4h0m-7-2h0m-6-4h0m-4 2h0m-6 3h0m-1-4h0m-1 1h0m-1-2h0m-1-1h0m-1 7h0m-8-4h0m-3 1h0m-2 1h0m-3 0h0m0-4h0m-2-1h0m-5 7h0m-1-1h0m-6-4h0m-2 5h0m0-1h0m-1-1h0m-1 2h0m-5 0h0m0-6h0m-7 0h0m-1 1h0m0 0h0m-3 0h0m-1 1h0m-1-1h0m0 4h0m-9-5h0m-3 4h0m-3 1h0m-5-5h0m-5 3h0m-1 2h0m-6-6h0m-2 4h0m-4 0h0m-4 3h0m-4-2h0m-4 1h0m-2-3h0m0-3h0m-17 14h0m2-1h0m4-5h0m1 5h0m4-2h0m1 0h0m3 2h0m4-1h0m4 1h0m0 1h0m2-2h0m13 2h0m1-4h0m0 5h0m3-4h0m3 3h0m0-2h0m4-4h0m4 3h0m1 2h0m1 0h0m5-1h0m2 1h0m1-4h0m3 3h0m1-1h0m0-2h0m1 3h0m2 1h0m4 0h0m0-5h0m2 7h0m5-5h0m5 5h0m1-7h0m3 6h0m1-4h0m3 1h0m3 3h0m6-1h0m1-1h0m3 1h0m8 1h0m0-6h0m5 5h0m1-2h0m0 2h0m2-2h0m1-2h0m4 6h0m0-7h0m1 0h0m1 1h0m0 1h0m4 5h0m1-7h0m0 4h0m4 3h0m1-5h0m1 3h0m4-1h0m2-4h0m0 1h0m1 4h0m3-1h0m9 2h0m2-3h0m2-2h0m2 2h0m4 4h0m4-5h0m1-2h0m7 7h0m15-2h0m4-2h0m1 4h0m4-5h0m4 2h0m7-1h0m5 3h0m2 4h0m-7 1h0m-6-2h0m-13-1h0m-12 7h0m-4-5h0m-6 5h0m-3 0h0m-1-2h0m0 2h0m-3-4h0m-2-1h0m-4 5h0m-11-3h0m-7 0h0m0 2h0m0-4h0m-2 4h0m-15-4h0m0 3h0m-2-5h0m-8 3h0m-2 3h0m-1 1h0m-1-3h0m-4-2h0m-13 1h0m-3 2h0m-2-1h0m-1 3h0m-11-5h0m-1-2h0m-1 3h0m-1 4h0m0 0h0m0-7h0m-5 5h0m-2-4h0m-1 0h0m-3 2h0m0 4h0m-7-4h0m-7 1h0m-1 1h0m0-4h0m-22 2h0m-11 0h0m-3 3h0m-7 1h0m-5-6h0m0 6h0m-10-7h0m1 9h0m0 1h0m2-1h0m1 2h0m0 3h0m4-5h0m1 3h0m0 1h0m7-3h0m0-1h0m1 6h0m5-2h0m0-1h0m12 1h0m1 1h0m0 0h0m7-2h0m2-4h0m8 7h0m2-3h0m16 2h0m1-2h0m20-2h0m2-2h0m2 7h0m0-2h0m6-3h0m1 3h0m10-4h0m10 2h0m1-1h0m4 5h0m9-3h0m1-4h0m1 4h0m10-1h0m7 4h0m1-2h0m1-5h0m2 2h0m0 4h0m6-5h0m0-1h0m7 5h0m2-1h0m3 3h0m2-6h0m4 0h0m3 6h0m3-1h0m3-4h0m1 3h0m1 2h0m2 0h0m2-6h0m5 2h0m6 1h0m2 0h0m1 1h0m6 1h0m5-3h0m-4 10h0m-20-4h0m0 3h0m-2 0h0m0-4h0m-5 5h0m-6-2h0m-6 0h0m0 0h0m-1 3h0m-6-5h0m-10 5h0m-1-3h0m-1 1h0m-2 0h0m-3-4h0m-4 6h0m0-5h0m-4 6h0m-10-7h0m-1 5h0m0-2h0m-5 2h0m-4-5h0m-10 2h0m-6 0h0m-3-2h0m-1 5h0m-2-3h0m-15-2h0m-1 4h0m-16 3h0m-3-1h0m-5-1h0m0-4h0m0 6h0m0-3h0m-1-1h0m-2 0h0m-7 0h0m-2-2h0m-1 0h0m0 5h0m-6-4h0m-5-1h0m-5 4h0m-16 2h0m-3-2h0m-5 1h0m-2-4h0m-1 3h0m0-3h0m0-1h0m-4 2h0m-2 1h0m-2-2h0m-2 4h0m-1-3h0m-2 12h0m4-6h0m4 3h0m0 2h0m4-2h0m7 1h0m4 2h0m1-3h0m0-2h0m1-2h0m2 6h0m2 1h0m3-2h0m6 1h0m1-3h0m0 2h0m1-5h0m1 0h0m3 2h0m5-2h0m1 2h0m5 0h0m1 1h0m0-2h0m1 6h0m2-4h0m11 2h0m1-4h0m2 3h0m0-3h0m13 3h0m13-4h0m0 7h0m8 0h0m5-5h0m0 5h0m1-5h0m2 4h0m2-1h0m0 0h0m8-3h0m2 4h0m1-2h0m5 0h0m0-2h0m8 4h0m3-6h0m0 0h0m0 5h0m1 1h0m1-4h0m2 0h0m5-2h0m0 0h0m2 1h0m1 1h0m1 5h0m0-7h0m2 0h0m3 7h0m1 0h0m4-6h0m5 5h0m1-4h0m4 1h0m1 2h0m3-2h0m1 4h0m1-7h0m7 0h0m10 7h0m4-5h0m3 4h0m1-1h0m4 2h0m2-3h0m1 1h0m0-3h0m2 3h0m0-3h0m1-2h0m2 3h0m5-3h0m3 7h0m0 0h0m1-3h0m0-1h0m17-1h0m-8 11h0m-6 0h0m-9-2h0m-1 4h0m-1-5h0m-10-2h0m-11 2h0m0 5h0m-5-1h0m-4-2h0m-2-1h0m-3-2h0m-4 5h0m-4-5h0m-1 3h0m-2-1h0m-4-3h0m-1 5h0m-4-2h0m-1 2h0m-3 2h0m-2-6h0m-2 1h0m-5 0h0m-6 5h0m-2-5h0m-6-2h0m-5 6h0m0-2h0m-12-4h0m0 3h0m-2 1h0m-10-3h0m-5-1h0m-1 2h0m-3-1h0m-1 5h0m-2-2h0m-2 1h0m-5 1h0m-3-3h0m-2-1h0m-1 5h0m-1 0h0m-6-2h0m-3 2h0m-3 0h0m-1-7h0m-2 1h0m0 4h0m-5 1h0m-1-6h0m-1 7h0m-6-4h0m-2-3h0m-9 1h0m-8 1h0m-2-1h0m-12 6h0m-1-1h0m-1-1h0m-3-2h0m-3 1h0m-8-2h0m-2 3h0m-4-1h0m3 6h0m9 1h0m2 3h0m1 1h0m3-2h0m3-3h0m8-1h0m2 2h0m9-1h0m1-1h0m4 3h0m1-4h0m4 3h0m1-1h0m3 0h0m7-1h0m0-1h0m0 6h0m6-6h0m1 3h0m4-3h0m8 1h0m0 6h0m7-1h0m6-2h0m4-4h0m5 3h0m3 0h0m0-2h0m3 5h0m6-3h0m17-1h0m1 3h0m6-4h0m6 5h0m6-6h0m4 6h0m5-6h0m3 0h0m11 5h0m6 2h0m4-3h0m3-2h0m3 5h0m12-5h0m4 2h0m1 2h0m15-5h0m1-1h0m12 2h0m2 3h0m6-1h0m10 5h0m-14 5h0m-10-5h0m-1 5h0m-1 1h0m-1-5h0m-1 5h0m-2 0h0m-3-7h0m-1 3h0m-3 0h0m0-3h0m-8 1h0m-5 4h0m0-5h0m-1 4h0m-5-3h0m-1 4h0m-4-1h0m-9-2h0m-9-2h0m-1 5h0m-1 0h0m-1-4h0m-1 3h0m-6 3h0m-2-1h0m-1-3h0m-14 3h0m-13-6h0m-20 5h0m-12 2h0m0 0h0m-15-3h0m-1-4h0m-3 4h0m-17 2h0m-2-6h0m-3 4h0m-1-3h0m-2 6h0m0-1h0m-2 0h0m-1 1h0m-2-5h0m-3 0h0m-10 5h0m-7-3h0m-2-4h0m-3 7h0m-2-7h0m-3 3h0m-2 1h0m-10 1h0m-9-3h0m33 7h0m7-1h0m3 2h0m5-1h0m1 2h0m3-1h0m1-1h0m1 2h0m4 1h0m1 1h0m2-3h0m0 4h0m14-6h0m2 0h0m6 3h0m10 4h0m14-4h0m1-1h0m8 1h0m5 4h0m0-4h0m8 3h0m0-5h0m8-1h0m1 4h0m0 3h0m7-6h0m3-1h0m3 1h0m1 4h0m0-1h0m8-3h0m23 5h0m1 1h0m15-4h0m10-2h0m9 0h0m5-1h0m21 4h0m1-2h0m5 3h0m1 1h0m7 9h0m-8-5h0m-5-2h0m-5 6h0m0 0h0m-1 1h0m-4-5h0m-1 3h0m-2 1h0m-1-4h0m-3 3h0m-1-5h0m-2 4h0m-8 3h0m-5-6h0m-7 1h0m-1 3h0m-3 1h0m-6-5h0m0 2h0m-13-3h0m0 0h0m-7 4h0m-8-1h0m-2-3h0m-1 3h0m0-1h0m-13 4h0m-1-2h0m-1-1h0m-1-2h0m-3 1h0m-6 2h0m-2-3h0m-2 6h0m-6 0h0m-3-5h0m-18 3h0m-1-3h0m-1 4h0m-1-5h0m-7-1h0m-6 1h0m-35 1h0m-8-2h0m-3 7h0m-8-2h0m-3-1h0m-2 0h0m-1 2h0m3 3h0m71 0h0m6 6h0m5 0h0m1-6h0m10 1h0m2 3h0m4-5h0m1 0h0m2 1h0m8 3h0m4-2h0m1 5h0m15-1h0m4-6h0m0 2h0m9 0h0m3 4h0m2 0h0m0-2h0m10 2h0m1 0h0m9 1h0m0-3h0m7 3h0m5-2h0m8-5h0m1 0h0m4 1h0m1 5h0m12 0h0m4 1h0m1-3h0m2-3h0m3 5h0m0-6h0m2 1h0m4-1h0m5 3h0m3-3h0m3 5h0m2-3h0m1 2h0m8 11h0m-8-6h0m-3 3h0m-9 2h0m-4-5h0m-2-1h0m-1 4h0m-1-4h0m-4 1h0m0 0h0m-4 5h0m-4-3h0m-11 3h0m-4-2h0m-12-1h0m-8-3h0m-2 1h0m-1 4h0m-1-5h0m0 1h0m-2 0h0m-8 0h0m-1 3h0m-7-2h0m-4 4h0m-7 0h0m-1-2h0m-4 3h0m-9-7h0m-1 1h0m-2-1h0m-9 1h0m-3 3h0m-10 0h0m-8 2h0m0-1h0m-9-3h0m-6 4h0m-65-6h0m-2 10h0m81-1h0m14 5h0m3-1h0m8 0h0m1-5h0m12 7h0m8-6h0m0-1h0m8 0h0m5 7h0m0-7h0m1 6h0m2 0h0m7-3h0m10 0h0m8-3h0m2 5h0m13-1h0m2 1h0m20-4h0m1 3h0m6 1h0m8-4h0m9 3h0m10 0h0m2-3h0m2 6h0m5-1h0m3 3h0m-11 1h0m-8 3h0m-52-3h0m-8 0h0m-25-1h0m-4 3h0m-14 3h0m-2-1h0m-2-4h0m-1 5h0m-4-6h0m-4 1h0m-2 1h0m-1 0h0m-5-1h0m-11 4h0m-5-4h0m10 9h0m8 2h0m4-4h0m1-1h0m11 6h0m8-6h0m6 0h0m7 5h0m0-3h0m12 4h0m33-4h0m19 0h0m2 3h0m2-5h0m7 4h0m3-2h0m6 2h0m0-3h0m8 4h0m1-3h0m12 1h0m1-1h0m0 3h0m2 0h0m-10 3h0m-4 3h0m-17 0h0m-8-2h0m-1 0h0m-1-1h0m-12 2h0m-3 3h0m-39-3h0m-42-1h0m-5 6h0m-7-2h0m-3-2h0m0 0h0m14 8h0m7 2h0m29 122h0"/><path transform="scale(.25)" fill="none" stroke="#00BA38" stroke-width="5.0" stroke-linecap="round" d="M0 0m1923 156h0m-6 1h0m-15 0h0m-14 1h0m-6-2h0m-13 3h0m-14 6h0m8 2h0m2-3h0m4-1h0m18 0h0m3-2h0m9 1h0m1 2h0m15-2h0m10 5h0m1 0h0m2-1h0m7-4h0m8 2h0m10-2h0m3 5h0m4-1h0m3-1h0m14 10h0m-13 0h0m-7-5h0m-4 5h0m-1-2h0m0 0h0m-1 0h0m0-4h0m-6 4h0m-3 2h0m-9-1h0m-2-6h0m-4 7h0m-3-3h0m-4-3h0m0 0h0m-1 3h0m-3 3h0m-4-2h0m-3 2h0m-3-3h0m-3 2h0m-1-3h0m-2 3h0m-3-3h0m0 2h0m-6-2h0m-7-2h0m-2 3h0m0 2h0m-1-2h0m-11-4h0m-9 3h0m-9 1h0m-6-1h0m-1 1h0m-7 11h0m6-1h0m0-6h0m11 1h0m1 1h0m5 3h0m1-5h0m8 2h0m12-1h0m11 0h0m5 1h0m1 0h0m3-1h0m0 6h0m1-6h0m1 4h0m2-2h0m2 1h0m5-3h0m2 6h0m8-5h0m4 4h0m0-5h0m2-1h0m15 0h0m5 3h0m3-1h0m7 3h0m4 2h0m4 0h0m8-1h0m1-3h0m8 3h0m1 1h0m2-4h0m4 4h0m13 4h0m-3 4h0m-6-6h0m-5 4h0m-7-2h0m-2 2h0m-4-3h0m-6 3h0m-2-4h0m-3 2h0m-1-1h0m0 1h0m-2 2h0m-3-3h0m-17-1h0m-4-1h0m-5 0h0m-1 7h0m-2-4h0m-6 0h0m-3-3h0m-1 1h0m0 5h0m-4 0h0m0-6h0m-2 3h0m-3-3h0m-3 1h0m-2 1h0m-8-2h0m-1 7h0m-2-2h0m-4-3h0m0 2h0m-4-4h0m-3 0h0m-2 6h0m0 1h0m-3-1h0m-4-6h0m-7 2h0m-7-1h0m-16 0h0m-4 0h0m-3 1h0m-7 1h0m8 12h0m0-5h0m4-1h0m3 4h0m7-1h0m0 3h0m6-5h0m0 2h0m0-3h0m0 5h0m17-4h0m2-1h0m5 1h0m1 5h0m2-1h0m8 0h0m1 0h0m7-5h0m0 4h0m3-2h0m0 0h0m20 4h0m4 0h0m0-1h0m0-1h0m14-3h0m2 0h0m1 1h0m4-3h0m6 0h0m8 0h0m1 4h0m6 2h0m17-1h0m10 1h0m5-5h0m2 3h0m2-2h0m5 0h0m3 1h0m6 3h0m-4 8h0m-3-6h0m-6 4h0m-2-3h0m-4 2h0m0 1h0m-2 3h0m-2-7h0m-3 0h0m-4 1h0m-2 5h0m-2 0h0m-3-1h0m0 0h0m-4-3h0m-24 2h0m-5-4h0m-19 3h0m-2-1h0m-8 0h0m-4 1h0m-6-3h0m-4 5h0m-1 1h0m-8-5h0m-6-1h0m-3 3h0m-1-2h0m-4 3h0m-1-1h0m-2 2h0m0 0h0m0-3h0m-3 3h0m0 2h0m-7-5h0m-4 5h0m-1-3h0m-6 2h0m-2-5h0m-4 6h0m-1-3h0m-16-3h0m-2 6h0m-5-6h0m3 11h0m10 2h0m4-3h0m1 4h0m1-4h0m2 3h0m7-2h0m1 2h0m0-1h0m3-5h0m1 3h0m0 0h0m1 2h0m5-2h0m1-2h0m5 3h0m6-2h0m0-2h0m10 7h0m5-4h0m0-1h0m1-1h0m3 3h0m1-2h0m0 5h0m9-5h0m11-1h0m0 1h0m2 0h0m3-1h0m2-1h0m1 4h0m2-2h0m1-2h0m1 0h0m1 1h0m1 6h0m1-3h0m2-1h0m4 4h0m2-5h0m4 0h0m4 0h0m1-2h0m1 4h0m8-4h0m5 1h0m0 4h0m8-3h0m2 4h0m1-4h0m8 0h0m7 4h0m0-5h0m3 4h0m4-3h0m1 2h0m12 3h0m0-6h0m3-1h0m10 7h0m3-4h0m4 8h0m-1-1h0m-10-1h0m0 0h0m-4 5h0m-2-3h0m0 3h0m-5 0h0m-4-6h0m-1 7h0m-2-2h0m-2 0h0m-3 2h0m0-6h0m-4 4h0m-1 1h0m-8-3h0m-1 4h0m-2-6h0m-5 2h0m-4-2h0m-1 0h0m-6 5h0m-1-6h0m-6 1h0m-2 2h0m-6 0h0m-2-1h0m0 3h0m-11-1h0m-4 2h0m-9-3h0m-6-3h0m-2 6h0m-1-5h0m-4 1h0m-3 2h0m-1-2h0m0 1h0m0 0h0m-1 4h0m0 0h0m-2-2h0m-2-4h0m-10-1h0m-1 3h0m-6-3h0m-12 5h0m-9-2h0m-4 1h0m-3-3h0m-6 4h0m-6-1h0m-1 0h0m-2 2h0m-10-6h0m14 10h0m10 0h0m5-1h0m7-1h0m2 6h0m9 1h0m3-5h0m2 2h0m2 3h0m1-7h0m1 7h0m0-5h0m2 4h0m4-6h0m1 7h0m1-2h0m8 2h0m1-6h0m2 2h0m0 3h0m4-1h0m2-2h0m0-1h0m0 4h0m4-3h0m8 3h0m0-3h0m6 2h0m6-5h0m4 4h0m5-1h0m8 2h0m5 1h0m1 1h0m9-2h0m1 2h0m3-5h0m0-2h0m8 4h0m5-4h0m13 2h0m3-1h0m1 4h0m2 1h0m3-1h0m8 2h0m2-3h0m1-2h0m6 5h0m5 6h0m-3-4h0m-5 6h0m0-3h0m-1-1h0m-4 4h0m-3-2h0m-9-2h0m-4 1h0m-5 0h0m-19-4h0m-12 4h0m-12 3h0m0-2h0m-10 0h0m0-2h0m-6-2h0m-6 5h0m-1-4h0m-1 5h0m-8-6h0m-1 0h0m-5 2h0m-3-1h0m-2-2h0m0 1h0m-5 2h0m-3-1h0m-4 4h0m-4-2h0m-4-4h0m-1 2h0m-4 2h0m-13-1h0m16 6h0m2-1h0m31 7h0m2-7h0m5 0h0m0 5h0m1-1h0m4 2h0m6-6h0m3 0h0m1 0h0m4 7h0m4-2h0m8 1h0m2-4h0m0 3h0m2-4h0m6 3h0m16-1h0m8 3h0m7 1h0m4-3h0m6-3h0m3-1h0m5 5h0m9 0h0m1 0h0m3 5h0m-6 3h0m-1-2h0m-1 4h0m-1-5h0m-12 4h0m-13-6h0m-5 4h0m-4 2h0m-2-2h0m-2-2h0m-6-1h0m0 4h0m-5-5h0m0 2h0m-5 1h0m-8 2h0m-1-4h0m-2-1h0m-10 0h0m-1 4h0m-4 1h0m-6 2h0m-5-5h0m-4-1h0m-4-1h0m37 11h0m5 3h0m0-5h0m0-1h0m4 2h0m22 5h0m1-2h0m5-2h0m2-1h0m7 1h0m4 4h0m2-6h0m3 4h0m-26 3h0m-2 0h0m-29 1h0m-350 42h0m12 12h0m-5-4h0m-14 1h0m-8 1h0m0-1h0m-6-2h0m-1 2h0m-39 9h0m4 2h0m0-2h0m3 1h0m2-4h0m4 1h0m3 1h0m6-3h0m2 2h0m5 3h0m5 0h0m4-5h0m4 2h0m2 0h0m1 1h0m1-3h0m0 5h0m13-3h0m2 0h0m2 2h0m2-4h0m1 1h0m3-1h0m-6 12h0m-2-5h0m-1 0h0m-1 6h0m-1-3h0m-13 3h0m-1 0h0m-2-6h0m-13 7h0m-3-1h0m-1 1h0m-1-5h0m-1-2h0m-5 5h0m-2 0h0m-5-5h0m-3 4h0m4 5h0m13 6h0m1-3h0m21 3h0m2-2h0m8 1h0m1-6h0m4 0h0m-9 10h0m-6 3h0m-1-3h0m-1 0h0m-2 3h0m-1-3h0m0 5h0m-11 0h0m-2 0h0m-3-2h0m-1 0h0m-3-1h0m-6 1h0m-3-1h0m14 9h0m11 2h0m1-6h0m3 2h0m-8 5h0m-1 0h0m-13 2h0m-23 12h0m78 16h0m15-1h0m4 1h0m409 160h0m44 4h0m-2 4h0m0-4h0m-4 4h0m-8 0h0m-1 1h0m-25-6h0m-1 6h0m-4-1h0m-13-1h0m-7 0h0m-9 1h0m-5-1h0m-23 2h0m-248 8h0m9-3h0m243 2h0m7-5h0m8 0h0m1 0h0m5 6h0m3 0h0m3-3h0m6-4h0m8 2h0m5 5h0m0-4h0m2-2h0m3-1h0m6 4h0m4-4h0m7 7h0m0-6h0m5 4h0m5-1h0m11-1h0m1 4h0m8-4h0m1 0h0m6 2h0m26 10h0m-4-4h0m-2 2h0m0-1h0m-1 0h0m-7-4h0m-3 7h0m-6-6h0m-4 4h0m-2 0h0m-2-2h0m-4 2h0m-4 1h0m-11-6h0m-2 5h0m-1-4h0m-3 6h0m-8-6h0m0-1h0m-6 1h0m-1 1h0m0-1h0m-7 5h0m-1-3h0m-1-2h0m-9 4h0m-3-2h0m-16 0h0m0 3h0m-2-2h0m-2-1h0m-10-1h0m-15 4h0m-194-4h0m-32 3h0m-12-2h0m0 0h0m0 0h0m-3-1h0m-2 2h0m-2 0h0m-2 3h0m0-2h0m-1 2h0m-8 0h0m0-3h0m-4 8h0m2-4h0m8 5h0m3 1h0m4-4h0m0 2h0m4 1h0m3-2h0m3-2h0m1 6h0m0-5h0m1 0h0m8 5h0m1-3h0m2-3h0m3 3h0m223-2h0m4 4h0m13 1h0m0-3h0m1 0h0m1-2h0m2 3h0m0-2h0m2 0h0m0 3h0m2-2h0m5 3h0m14-4h0m0 2h0m3 2h0m0-7h0m6 6h0m1-1h0m3-2h0m2 2h0m4 1h0m0-4h0m6 4h0m8 0h0m6-2h0m4-4h0m3 7h0m2-7h0m4 4h0m7 2h0m1 0h0m2-2h0m1-4h0m0 5h0m1-3h0m11 0h0m0 5h0m2-1h0m9-5h0m-4 10h0m-27-1h0m-1-2h0m0 5h0m-1-5h0m-1 0h0m-4 3h0m-3 3h0m-8-4h0m-1 5h0m-4 0h0m-2-1h0m0-2h0m-12 0h0m-2 1h0m-6-2h0m-4-1h0m-1-2h0m-12 6h0m-7-5h0m0 0h0m-2 1h0m-4 3h0m-12-1h0m-6 3h0m-8-4h0m-219 4h0m-5 0h0m-6-6h0m-1 0h0m0-1h0m-3 1h0m-1 2h0m-1-2h0m-2 0h0m0 1h0m-7-1h0m-2 1h0m-4-2h0m19 11h0m4 3h0m0-3h0m0-3h0m8 2h0m6 4h0m219 1h0m12-1h0m3-6h0m1 7h0m0-7h0m6 7h0m5-2h0m11-5h0m1 7h0m1 0h0m13-6h0m3 2h0m15 1h0m1-1h0m1 1h0m11-2h0m2 2h0m1-3h0m8 1h0m5 3h0m9 0h0m10-5h0m5 2h0m1 2h0m4-3h0m11 4h0m6 10h0m-5-6h0m-5 0h0m-2-1h0m-1 0h0m-11 3h0m-13-2h0m-13 3h0m-2 0h0m-11 1h0m-3-4h0m-1 1h0m-6 3h0m-3-1h0m-5 1h0m-19 0h0m-11 2h0m-1-7h0m-3 0h0m-3 1h0m-6 5h0m-1-2h0m0-4h0m-2 6h0m0-2h0m-10-4h0m-3 7h0m-2-3h0m-5-3h0m-187 4h0m-2-1h0m-4-1h0m-3 2h0m-10-1h0m-5 1h0m-1 2h0m-5-7h0m-4 2h0m-4 2h0m-4-1h0m-9 0h0m25 12h0m6-4h0m0 1h0m3 0h0m0 1h0m7-5h0m6 0h0m10 3h0m2 2h0m8-3h0m10 4h0m169-1h0m3-2h0m6 4h0m3-5h0m4-2h0m16 1h0m1 0h0m4-1h0m3 0h0m8 0h0m3 1h0m5 1h0m4-1h0m11 5h0m3-6h0m0 4h0m1 2h0m1-2h0m3 2h0m1 0h0m1-5h0m13 0h0m7 5h0m6 0h0m1-5h0m1 6h0m7-1h0m9-3h0m1-3h0m9 5h0m0 9h0m-3-6h0m-2 5h0m-13 0h0m-1-1h0m-1-1h0m-10 4h0m-4-5h0m-7-2h0m-4 3h0m-4 2h0m-1-1h0m-7-2h0m-7-2h0m-10 1h0m-21 6h0m-11 0h0m0-3h0m-4 0h0m-5 0h0m-7-2h0m-5 5h0m-3-4h0m-3 1h0m-154-3h0m-3 4h0m-2-4h0m0 4h0m-1-3h0m-1 1h0m-4 0h0m-2-1h0m-40 0h0m-4-1h0m0 1h0m-1 0h0m-2 0h0m0-2h0m-1 3h0m0 0h0m-6-1h0m-4-1h0m13 10h0m4-2h0m0 3h0m7 1h0m4-2h0m1 1h0m0 1h0m2-5h0m1 1h0m2-1h0m0 1h0m8 2h0m184 1h0m0-1h0m5 1h0m3 1h0m6 0h0m4 1h0m1-3h0m10 3h0m8-1h0m4-2h0m2-1h0m0 3h0m10-1h0m4 2h0m2 0h0m1-4h0m26-2h0m1 1h0m10 2h0m8 0h0m4 3h0m2-2h0m4 0h0m0-1h0m2-3h0m0 0h0m6 6h0m1-5h0m2 2h0m-15 7h0m-1-2h0m-12 4h0m-1-2h0m-4-2h0m-1 5h0m-4-5h0m-3 5h0m-3-2h0m-4-1h0m-6 3h0m-3-1h0m-7-2h0m-3 2h0m-3 2h0m-2-5h0m-3 0h0m-5 5h0m-5-3h0m-1 1h0m-1-3h0m-8 1h0m-10 0h0m-1 0h0m-7 5h0m-15-7h0m-182 2h0m-3 1h0m-1 0h0m-4 3h0m0-1h0m-1-2h0m-1 4h0m-9 2h0m4-1h0m8 2h0m3 4h0m1-1h0m1-1h0m3-1h0m0 4h0m3-5h0m1 5h0m1-5h0m1-1h0m164 0h0m13-1h0m7 3h0m5-2h0m0 1h0m0 0h0m4 4h0m9-6h0m7 2h0m2 0h0m4 3h0m10 0h0m20-2h0m2 4h0m5-2h0m4-4h0m0 0h0m1 0h0m4-1h0m9 4h0m-55 5h0m-203 5h0m-6-6h0m-1 1h0m-8-1h0m-4 3h0m5 8h0m7 0h0m0-3h0m2 2h0m1-1h0m1-1h0m0 4h0m0-3h0m4 1h0m3 3h0m8-4h0m-3 7h0m-1 2h0m-1-2h0m-1 1h0m-2 2h0m3 6h0"/><path transform="scale(.25)" fill="none" stroke="#619CFF" stroke-width="5.0" stroke-linecap="round" d="M0 0m1881 170h0m52 15h0m-392 167h0m56 13h0m-3-1h0m-22 1h0m-30 0h0m11 7h0m1 1h0m2 2h0m3-2h0m8 2h0m1-3h0m2-3h0m2 1h0m1 2h0m2 1h0m1-3h0m18 4h0m8-6h0m12 11h0m-1 0h0m-2 1h0m-1-4h0m-4 0h0m-2 6h0m-3-1h0m-7-4h0m-6 0h0m-10 4h0m0-3h0m-3-1h0m-2 3h0m-11-2h0m-1 1h0m-16-1h0m-2 1h0m-5 3h0m-3-2h0m1 7h0m1 3h0m9-2h0m1 0h0m1 2h0m5-1h0m0-4h0m1 6h0m1-5h0m4-1h0m5 2h0m2-2h0m4 2h0m10-1h0m5 3h0m0-3h0m1 1h0m0 1h0m1-4h0m3 1h0m5 2h0m2 1h0m0-2h0m8-1h0m8 1h0m0 5h0m2-7h0m1 5h0m4-3h0m1 7h0m-9-1h0m-3 0h0m0 5h0m-1 1h0m0-3h0m-3-1h0m-4 5h0m-4 0h0m-5-7h0m0 1h0m-15 2h0m-12 1h0m-1 0h0m-2 1h0m-8-1h0m-1-3h0m-4 3h0m-5-2h0m-7 5h0m0-4h0m-5 3h0m-1 2h0m9 1h0m0-1h0m3 0h0m3 0h0m0 7h0m22-6h0m5 5h0m8 1h0m12-6h0m4 2h0m1-3h0m14 7h0m8-2h0m-20 8h0m-3-1h0m-1 1h0m-9-4h0m-1 3h0m-12-1h0m0 4h0m-1-2h0m-2 0h0m-4-4h0m-19-1h0m-2 3h0m-2-3h0m-3 2h0m-3 3h0m-2 0h0m24 3h0m7 3h0m272 85h0m108 61h0m29 8h0m-16 0h0m-18 1h0m-1 0h0m-10 7h0m6-3h0m1 0h0m3 4h0m1-2h0m1-3h0m4 5h0m3-6h0m5 3h0m4-3h0m1 2h0m0 3h0m2-1h0m10 8h0m-1-1h0m-1 4h0m-1-6h0m-4 1h0m-2 2h0m-3-4h0m0 4h0m-5 2h0m-7-1h0m0-2h0m-5 3h0m-7-3h0m-4 3h0m0-6h0m-23 3h0m12 8h0m0-1h0m1-1h0m1 2h0m1 1h0m12-1h0m3 1h0m1-2h0m2 5h0m4-5h0m0 3h0m2-3h0m2-1h0m4 1h0m5-2h0m3 7h0m0-2h0m2-3h0m0 4h0m1-6h0m6 2h0m5 2h0m1-1h0m8 3h0m2 0h0m0-2h0m11 10h0m-1-3h0m-6 0h0m-2 2h0m-7-5h0m-7 1h0m-5 3h0m-5-3h0m-2 5h0m-6-3h0m-1-3h0m-21 1h0m-11 3h0m-2 0h0m-8-2h0m-4 4h0m-1 6h0m4-4h0m2 5h0m1 1h0m11 0h0m11-1h0m1-3h0m1-1h0m1 1h0m7 3h0m4-4h0m1-1h0m1 7h0m2 0h0m1-4h0m0-1h0m6 5h0m11-4h0m1 4h0m1-3h0m8-3h0m19 8h0m-5 5h0m-1 0h0m-1 1h0m-10-5h0m-6 0h0m-2 2h0m-5-4h0m-2 6h0m-5-4h0m-1 3h0m-2-5h0m0 0h0m-1 0h0m-7 5h0m-1-4h0m0 4h0m-2 2h0m0-1h0m-1-1h0m-2 0h0m-13 2h0m0 0h0m-3-2h0m-6-5h0m-7 7h0m-3-5h0m-4 4h0m0 1h0m-14-1h0m-224 8h0m17 0h0m205 1h0m5-3h0m10-2h0m6 1h0m6-3h0m0 2h0m3 1h0m0-2h0m4 4h0m5-1h0m2-2h0m6 5h0m10 0h0m3-7h0m0 5h0m7-1h0m10-4h0m27 2h0m-17 7h0m-25 1h0m-21 2h0m-4 3h0m-7-1h0m-1-3h0m-6 3h0m-13-6h0m-13 0h0m-2 1h0m-194 5h0m-4 1h0m-2-2h0m0-2h0m-4 3h0m-2 1h0m0-5h0m-10 3h0m-10 9h0m0 0h0m13-2h0m1 1h0m2-4h0m2 3h0m3 3h0m1-5h0m1 2h0m1 2h0m10-6h0m194 5h0m0-3h0m1-1h0m4 2h0m1 0h0m1-1h0m0 1h0m4-3h0m2 1h0m5-1h0m6 6h0m1-5h0m9 1h0m6 4h0m1 0h0m10-6h0m13 5h0m1 1h0m6-3h0m25-2h0m8 4h0m18-1h0m2 2h0m3-1h0m103-1h0m-2 6h0m0 3h0m-13-2h0m-1-1h0m-3 1h0m-2 4h0m-5-6h0m-3 5h0m-5 1h0m-48 0h0m0-5h0m-2-2h0m-6 1h0m-12-1h0m-1 5h0m-1-5h0m-8 5h0m-28 1h0m-1 0h0m0-1h0m-1 1h0m-6-4h0m-2 5h0m-1-5h0m-1 4h0m0-5h0m-6 4h0m-5-1h0m-1-4h0m0 7h0m-1-3h0m-5-4h0m-10 5h0m-1-1h0m-8 3h0m-9-2h0m-1-3h0m-12 3h0m-4-2h0m-6 2h0m0-4h0m-4 1h0m-3-2h0m-2 3h0m-1-2h0m-3 2h0m-179 2h0m-6-5h0m-2 3h0m-3-3h0m0 0h0m-1 4h0m-2 0h0m0-4h0m-3 5h0m-11-3h0m-5-2h0m-2 4h0m-4-4h0m-2 2h0m-1 2h0m-2-4h0m-7 6h0m-2-1h0m5 6h0m8-1h0m1 1h0m13 3h0m3 0h0m3-3h0m4 0h0m3-2h0m8 3h0m1 3h0m0-1h0m1-5h0m0 0h0m0 1h0m5-2h0m3 5h0m138 1h0m36-6h0m5 1h0m3 2h0m0 2h0m1 0h0m7-3h0m4 5h0m2-6h0m1 5h0m4 1h0m9 0h0m2-5h0m4 4h0m2-6h0m1 2h0m0 0h0m2 0h0m0 5h0m1 0h0m10-4h0m4 4h0m2-3h0m0 0h0m1 1h0m6-1h0m11-2h0m7 0h0m5 0h0m3 5h0m2-6h0m1 3h0m1-2h0m9-1h0m6 0h0m1 2h0m1-1h0m5 5h0m3 0h0m0-6h0m9 2h0m10 0h0m7-1h0m2 3h0m4-1h0m0 2h0m18-5h0m4 2h0m5-1h0m0 3h0m4 2h0m2-7h0m3 6h0m0 0h0m3-4h0m1 1h0m1 0h0m2 4h0m-1 1h0m-11 1h0m-6 6h0m-17-4h0m0 0h0m-3 2h0m0-2h0m-1 1h0m-18-3h0m-1 4h0m-2 2h0m-2-6h0m-1 2h0m-5 4h0m-4 0h0m-7 0h0m0-5h0m-1 0h0m0 1h0m-1-3h0m-2 4h0m0-4h0m-2 1h0m-1 5h0m-7 0h0m-6 1h0m-7-6h0m-3 0h0m-7-1h0m-5 7h0m-21-2h0m-5 1h0m-13-4h0m-2-2h0m-1 4h0m-4-1h0m-8 2h0m-2-4h0m-12 5h0m-1 0h0m-11-5h0m-2 0h0m-168 1h0m-3 0h0m-5 1h0m-1-2h0m-6 1h0m0-1h0m182 7h0m3 2h0m0 5h0m33-4h0m2 0h0m4 1h0m0-2h0m5 2h0m8-3h0m1 3h0m1 0h0m1-3h0m7 5h0m0-3h0m1 0h0m2 3h0m0 1h0m4-3h0m7-3h0m1 2h0m0-2h0m5-1h0m1 6h0m6-1h0m5-2h0m9 4h0m1-6h0m7 6h0m8-5h0m5 2h0m5 1h0m6 1h0m9-5h0m7 1h0m5 1h0m1-2h0m7 4h0m1-4h0m0 4h0m7-3h0m4 5h0m2-3h0m5 0h0m6-4h0m-30 12h0m-2-4h0m-5 2h0m-1 0h0m-12 2h0m-9-4h0m-8 3h0m0-3h0m0 5h0m-10-5h0m-1 6h0m-11-6h0m0 7h0m-5-1h0m-11-5h0m-1 3h0m-1-4h0m-14 5h0m-1-4h0m-1 5h0m-4 1h0m-5-7h0m-3 4h0m-4 2h0m-4 1h0m-3 0h0m0-6h0m-5 6h0m-3 0h0m-2-3h0m-2-2h0m-9 4h0m-7-1h0m-8 1h0m-5 0h0m0 1h0m-8 7h0m5-1h0m3 1h0m7-1h0m7-4h0m7-1h0m1 4h0m1 3h0m4-1h0m2 0h0m1-3h0m12 3h0m1-4h0m6 2h0m2 0h0m4 1h0m4-1h0m7-2h0m14-1h0m3 6h0m3-5h0m2 3h0m2-4h0m22 0h0m3 1h0m-58 8h0m-1 3h0m-3 2h0m-18-3h0m-6-4h0m-6 0h0m-1 3h0m-1-1h0m-1-1h0m-5 6h0m-3-3h0m-10 3h0m-5-2h0m-1-3h0m5 12h0m2 0h0m2-1h0m5-2h0m3 3h0m3-1h0m2 1h0m2-3h0m1-3h0m2 5h0m8-3h0m0 4h0m1-6h0m0 1h0m6 4h0m3-1h0m0 0h0m3-1h0m0-2h0m15 1h0m-27 7h0m-1 2h0m-16-2h0m-4 2h0m-8-1h0m-6-2h0m-12 12h0m32-4h0m-36 15h0m0-2h0m-14 8h0m2 2h0m3-7h0m3 5h0m-93 16h0m41 0h0m32-2h0m5-2h0m4 0h0m0 2h0m-8 8h0m-2 4h0m-30-6h0m-7 4h0m-22 1h0m-1-1h0m-7-2h0m-2-1h0m12 7h0m42 12h0m-28-1h0m20 8h0m10 0h0m3-4h0m2 2h0m5 10h0m-3 0h0m-3 0h0m-2 3h0m-4-2h0m-2-4h0m-5 4h0m-3-3h0m-15 5h0m-3-2h0m-3 8h0m0 0h0m2-3h0m13-2h0m2 0h0m2 5h0m2-3h0m1 2h0m1-3h0m2 2h0m1 3h0m4-6h0m11 2h0m5-1h0m2 0h0m1 3h0m0 1h0m1-1h0m2-2h0m-2 8h0m-6 5h0m-1-2h0m-10-1h0m-2 1h0m-2 1h0m-2-2h0m-2 3h0m-6-7h0m-2 6h0m-3-6h0m-4 3h0m0 1h0m-1-3h0m0 0h0m-6-1h0m1 10h0m3 1h0m4 2h0m5-2h0m0 0h0m1 0h0m0 0h0m2 3h0m0-1h0m1 0h0m4 1h0m2-4h0m1 2h0m1-2h0m7 3h0m4-5h0m6 3h0m16 6h0m-25 0h0m-4 2h0m-3-2h0m-3 2h0m-6 2h0"/><path transform="scale(.25)" fill="none" stroke="#F8766D" stroke-width="5.0" stroke-linecap="round" d="M0 0m1921 367h0m-12-3h0m-2-1h0m-1 4h0m-1 0h0m-3-1h0m-2 0h0m-3 1h0m0-3h0m-8 3h0m-6-4h0m-9 1h0m-5 2h0m-7 5h0m9-1h0m9 3h0m0-2h0m7-1h0m0 1h0m1 3h0m7 1h0m6-3h0m3 0h0m1-3h0m11 3h0m2 0h0m5-4h0m1 2h0m36 9h0m-2 1h0m-13 2h0m-7-1h0m-6 1h0m-4-5h0m-4 0h0m-1 6h0m-3-2h0m-2-5h0m0 1h0m-14 4h0m-3-1h0m-8-3h0m-4 0h0m-6-1h0m-2 7h0m-4-4h0m-7 4h0m-3-6h0m-1 5h0m-3 1h0m-8-2h0m-2 2h0m-1-2h0m-6 9h0m6-6h0m6 4h0m4-2h0m0 1h0m6 3h0m9-1h0m5-1h0m2-1h0m0 2h0m2 2h0m1-6h0m1 5h0m0-4h0m5 2h0m2-4h0m10 4h0m2-1h0m6 4h0m4-1h0m2-4h0m4-1h0m7 4h0m4-4h0m5 6h0m0-2h0m4 1h0m1-4h0m7 3h0m1-4h0m11 6h0m1-2h0m9 8h0m-7 1h0m-3-3h0m-9-1h0m-5-2h0m-2 7h0m-2-2h0m-4 2h0m-1-7h0m-12 7h0m-1-3h0m-4-4h0m-1 0h0m-1 3h0m-6-3h0m-2 2h0m-2 3h0m-3 0h0m-3-3h0m-1-1h0m-1 0h0m0 1h0m-3 1h0m-12-3h0m-3 1h0m-17 6h0m-3-1h0m-5-5h0m-6 3h0m0-1h0m-2 4h0m-3-6h0m-6 6h0m-2-6h0m-1 1h0m-5 7h0m7 4h0m3 1h0m14-3h0m16 4h0m1-5h0m3 0h0m8 0h0m10 4h0m2 0h0m1-3h0m0 2h0m2-3h0m7 2h0m4-3h0m0 4h0m2 1h0m1-1h0m3 1h0m13 0h0m3 1h0m11-1h0m10 1h0m0-5h0m13 1h0m1-3h0m3 4h0m1-3h0m10 1h0m1 2h0m-7 6h0m0 4h0m-4-3h0m-7 0h0m-18-1h0m-2 1h0m-3 2h0m0 2h0m-5-4h0m-11-3h0m-20 6h0m-1-4h0m-4 1h0m-4 0h0m-6 4h0m-9-2h0m-9-3h0m0 4h0m-1-5h0m0-1h0m0 7h0m-8-1h0m0-4h0m-6 4h0m-3-2h0m-1-1h0m-2 0h0m-1 4h0m-14-5h0m-1-1h0m0 0h0m-3 2h0m-2-2h0m-3 5h0m-2-2h0m-7 5h0m0 6h0m0 0h0m2 0h0m5-1h0m2-4h0m10 5h0m1-1h0m4-4h0m4 5h0m10-3h0m2-1h0m0 2h0m1 0h0m4-3h0m16 5h0m9-7h0m2 0h0m10 7h0m1-1h0m1-1h0m2-4h0m2 4h0m0-3h0m0-2h0m3 0h0m7 6h0m3-6h0m5 5h0m5 2h0m3-4h0m2 1h0m3 3h0m9-3h0m0-4h0m2 5h0m8-5h0m2 4h0m1 2h0m11-3h0m3 1h0m0-4h0m2 7h0m3-3h0m0 1h0m1 0h0m6 2h0m1-4h0m2 3h0m7-6h0m11 4h0m5 11h0m-11-1h0m-4-6h0m-1 3h0m-5-2h0m-5-1h0m-3 4h0m-10-1h0m-1-2h0m-6 5h0m-3-3h0m-7 1h0m-1 0h0m-1-1h0m-2-1h0m-11 2h0m-10-1h0m-1 1h0m-7 1h0m-7-1h0m-2-3h0m-7 5h0m-3-1h0m-3-2h0m0 4h0m-16-7h0m-1 0h0m-6 7h0m-2-4h0m-8 3h0m0 0h0m-1-5h0m-2-1h0m-2 6h0m0-3h0m-1 1h0m-4 3h0m0-3h0m-6-3h0m-1 1h0m-1 5h0m-5-1h0m-5-3h0m-2 2h0m-4 1h0m-3-4h0m-1-1h0m0 2h0m-5 0h0m-8 0h0m-1 4h0m-2-1h0m-3 0h0m0 1h0m-17 7h0m4-1h0m0-3h0m4 1h0m4 3h0m2-1h0m1-4h0m2 3h0m14-2h0m7-1h0m1 2h0m7-1h0m1 3h0m2-5h0m11 4h0m0 0h0m5 0h0m2 0h0m3 3h0m4 0h0m6-3h0m1 0h0m5 1h0m5 0h0m9-3h0m2 1h0m0 4h0m9-4h0m4 3h0m1-6h0m1 0h0m6 7h0m7-7h0m4 2h0m4 3h0m1-2h0m5 4h0m0-2h0m0 1h0m5-2h0m4 1h0m4 2h0m1 0h0m14-3h0m1 1h0m2-5h0m1 7h0m0-5h0m1 5h0m5-5h0m5-1h0m2-1h0m1 2h0m3 5h0m2-4h0m7 3h0m2-6h0m3 7h0m1-4h0m3 0h0m2 4h0m9-2h0m1 2h0m3-1h0m1 9h0m-8-2h0m-3-3h0m-2-1h0m-7 1h0m-9-2h0m-5 3h0m-1-2h0m-1 0h0m-3 1h0m-9-2h0m-5 2h0m-1 3h0m-6-2h0m-1 1h0m-2 2h0m-12-3h0m0-1h0m-5 3h0m-13 0h0m-9 0h0m-6 0h0m-9-1h0m-7-1h0m-1 2h0m-11-5h0m-5 4h0m-7 0h0m-4 3h0m-9-6h0m-4 3h0m0 2h0m-7-1h0m-4 2h0m-5-3h0m-3 1h0m-5-3h0m-3 3h0m-3-3h0m-2 0h0m-3 5h0m-1-6h0m-3 0h0m-4 6h0m-8-3h0m-1 2h0m-2-6h0m-7 6h0m-6 1h0m-2-2h0m2 10h0m10-3h0m2 1h0m5-3h0m1 4h0m1-4h0m4-1h0m1 1h0m3-1h0m5 2h0m0 3h0m5-1h0m5-1h0m2 1h0m2-1h0m8 1h0m1 2h0m0-7h0m1 2h0m8 2h0m1 1h0m4 1h0m0-1h0m2 1h0m2 0h0m2 0h0m8 0h0m0 0h0m11-5h0m0 2h0m18-3h0m3 7h0m4-5h0m4 5h0m2-6h0m8 4h0m5 2h0m4-5h0m12 0h0m1 1h0m3 3h0m6 1h0m1-1h0m10-1h0m2 0h0m0-2h0m7 0h0m0 0h0m2 0h0m3 4h0m29-7h0m10 12h0m-14-4h0m-3 7h0m-12-6h0m-10 6h0m0-6h0m-2 3h0m-2-4h0m-2 6h0m-1-1h0m-2-3h0m-2 2h0m-5 1h0m-3-3h0m-2 1h0m-5 2h0m-2-4h0m-9 2h0m-8-2h0m-1-1h0m-1 3h0m-5 3h0m-4-2h0m-1 3h0m-4 0h0m-3-5h0m-1 5h0m-12-1h0m-2-4h0m-10 0h0m-3 2h0m-3-4h0m-1 3h0m-9 2h0m-2 2h0m-4-6h0m-7 4h0m-3 1h0m-16 1h0m-2-6h0m-3 3h0m-2-4h0m-11 5h0m-3-4h0m-4-1h0m-4 1h0m-2 1h0m-12 4h0m-4-2h0m-6 3h0m0-7h0m-2 1h0m-6 10h0m3-3h0m0 2h0m16-1h0m2 0h0m7 3h0m9 1h0m2 0h0m2-5h0m1 1h0m0-1h0m3 4h0m5-4h0m1 0h0m9 3h0m1 4h0m8-5h0m0-1h0m14 0h0m2 6h0m1 0h0m12-6h0m6 3h0m2-2h0m17 5h0m2-4h0m2 3h0m3-4h0m0 3h0m7 2h0m11-4h0m4-1h0m4 4h0m1-2h0m1-3h0m2 6h0m2-2h0m11-1h0m7-3h0m4 4h0m15 1h0m3-6h0m0 1h0m1 0h0m15 6h0m1-1h0m7-6h0m15 14h0m-4-5h0m-1 5h0m0-5h0m-2 6h0m0-5h0m-1-2h0m-5 4h0m-3 2h0m0-6h0m-2 5h0m-3-1h0m-1 1h0m-1-4h0m-1 6h0m0-5h0m-1 1h0m-2-2h0m-2 5h0m-2-3h0m-4 2h0m-5 1h0m0-2h0m-7 1h0m-4 1h0m0 0h0m-3-2h0m-1-3h0m-1 0h0m-1-1h0m-5 5h0m-3 0h0m-2-3h0m-5 0h0m-21-2h0m-8 1h0m-2 0h0m-5-1h0m0 4h0m-1 2h0m-1 0h0m0 0h0m-1 0h0m-1-5h0m0-1h0m-4 2h0m-3 0h0m-15-2h0m0 2h0m-14-1h0m-1 2h0m-4 2h0m-3 1h0m-5-5h0m-2 0h0m-2 1h0m-4-1h0m-8 6h0m-1-7h0m-5 2h0m-1 0h0m-3 3h0m-1-2h0m-2 2h0m-7-2h0m-8-2h0m-5 3h0m0-4h0m-5 5h0m-2-1h0m-9-2h0m0 5h0m-1-5h0m0-2h0m-3 6h0m0-6h0m-2 4h0m-1 5h0m2-1h0m7 4h0m1-3h0m1 4h0m1-1h0m1 3h0m0 0h0m1-7h0m1 4h0m9 1h0m5-1h0m3 2h0m4-1h0m2-3h0m17 2h0m1 3h0m3-2h0m3 2h0m6-3h0m5-4h0m5 3h0m2 2h0m2 2h0m4 0h0m3-5h0m1 2h0m2-2h0m19 2h0m3 0h0m1-1h0m24 4h0m6-3h0m3-4h0m18 0h0m4 3h0m3-2h0m2-1h0m4 0h0m0 5h0m2-5h0m2 5h0m1 1h0m3-2h0m7-2h0m1 0h0m7 3h0m1-5h0m0 3h0m11-2h0m1 2h0m2-2h0m2 4h0m1-1h0m4 0h0m0 3h0m2-5h0m1-2h0m2 5h0m6-4h0m0 6h0m3-1h0m11 7h0m-15 0h0m-2-1h0m-2-3h0m-10 6h0m0-1h0m-5-1h0m-2-5h0m-4 7h0m0-7h0m-4 4h0m0-3h0m-1 6h0m-5-1h0m-1-4h0m0 2h0m-7-3h0m-3 3h0m-1-4h0m-5 2h0m-1 4h0m-1 0h0m-2 1h0m-1-2h0m-2-5h0m0 0h0m-11 1h0m-2-1h0m0 5h0m-3 0h0m-3 1h0m-11 0h0m-26-4h0m-3 3h0m-3 2h0m0-6h0m-1 2h0m-3 3h0m-16-3h0m-2-3h0m-2 3h0m-5-3h0m-10 6h0m-25-5h0m-10 4h0m-7 0h0m-2-4h0m-3 1h0m-5 0h0m-2 0h0m-2-2h0m0 2h0m-1 2h0m16 9h0m3-1h0m6 3h0m0-6h0m10 5h0m6-6h0m3 5h0m12-2h0m21 3h0m7-4h0m7 4h0m5 0h0m5-3h0m4 2h0m3 0h0m4-1h0m22-4h0m4 1h0m15 6h0m2-2h0m2 2h0m0-1h0m5-2h0m2-3h0m1 4h0m2-2h0m8 3h0m0 0h0m0-4h0m1 5h0m1-4h0m5-1h0m14 1h0m16-2h0m6 2h0m0 0h0m1 0h0m7 3h0m0-2h0m1 0h0m4 2h0m0-1h0m1-3h0m2 1h0m8 8h0m-1 4h0m-2 0h0m-3-1h0m0-5h0m-1 5h0m-2-3h0m-3 1h0m0 3h0m-4-3h0m-15-3h0m-3 1h0m-1 2h0m-5 2h0m-7-4h0m0 3h0m-13 0h0m-2-2h0m0-3h0m-1 5h0m-3 1h0m-2-1h0m-2-4h0m-2-1h0m-2 0h0m-1 3h0m-1 4h0m-11-3h0m-2 3h0m-9-2h0m0-4h0m-5 2h0m-8 2h0m-7-2h0m0 4h0m-6-5h0m-1 5h0m-16-3h0m-5-4h0m0 6h0m-1 0h0m-3-4h0m-4-1h0m-12 4h0m-57 1h0m67 8h0m1-1h0m10-2h0m2 1h0m1 0h0m12 3h0m8-2h0m2 0h0m6 2h0m5-7h0m1 1h0m1 1h0m0 4h0m1-1h0m3-3h0m1 3h0m5-5h0m4 3h0m9 1h0m2 2h0m3-6h0m7 2h0m6-2h0m4 7h0m2-4h0m9-2h0m1 4h0m6 0h0m6 2h0m4-3h0m0 0h0m1-4h0m7 1h0m0 1h0m4 4h0m0-6h0m4 3h0m22 2h0m16 10h0m-1 0h0m-13-5h0m-2 0h0m-2 0h0m-3 5h0m-2-5h0m-3 2h0m-7 1h0m-1 2h0m-5-2h0m-8-5h0m-10 2h0m-8 0h0m-9 0h0m0 3h0m0-3h0m-4 2h0m-2-4h0m-2 2h0m-3 3h0m-1-3h0m-3 5h0m-3-6h0m-1 2h0m-6 1h0m-2-2h0m-3-1h0m-16 3h0m-3-1h0m-2-3h0m-1 2h0m-1 4h0m-2 1h0m-4-5h0m-5 0h0m0-2h0m-4 1h0m-3 2h0m-9 0h0m-1-2h0m-2 4h0m0-1h0m8 9h0m8-3h0m6 3h0m9-4h0m2 6h0m3-6h0m2-1h0m3 3h0m12 1h0m2-4h0m6 1h0m2-1h0m8 0h0m6 7h0m8-7h0m5 6h0m10-3h0m11 4h0m6-7h0m7 2h0m16 1h0m2 2h0m4-5h0m0 3h0m4 1h0m1-1h0m2-1h0m3 0h0m4 2h0m4 2h0m8 1h0m-2 1h0m-1 6h0m-8-4h0m-5-2h0m-2 7h0m-4-6h0m-4 2h0m-16-3h0m-9 7h0m-23-2h0m-4-4h0m-12 0h0m-20-1h0m-5 6h0m-13 0h0m-5-5h0m0-1h0m-3 1h0m-4 6h0m-14-3h0m-11 1h0m12 6h0m1-3h0m3 7h0m5-1h0m5-3h0m1 3h0m3-6h0m2 2h0m3 2h0m9 0h0m27 3h0m9-7h0m31 5h0m20-4h0m2 0h0m9 0h0m3 2h0m1-3h0m1 3h0m2-2h0m2-1h0m1 1h0m5-1h0m10 7h0m0 0h0m-19 5h0m-7-2h0m-5-2h0m-42 4h0m-5-3h0m-47 2h0m-1-2h0m-5 5h0m-2-2h0m-5-4h0m-3 3h0m-2 3h0m-5 0h0m-2-3h0m1 5h0m5 2h0m12 3h0m65-3h0m72-1h0m-263 225h0"/><path transform="scale(.25)" fill="none" stroke="#00BA38" stroke-width="5.0" stroke-linecap="round" d="M0 0m1932 159h0m-4-5h0m-13 5h0m-5-2h0m-6-1h0m-6 2h0m-29 1h0m-7 0h0m4 2h0m1 0h0m3 4h0m14-2h0m1 4h0m0-4h0m11 1h0m0-1h0m1-3h0m1 7h0m0-7h0m4 6h0m3-3h0m0 0h0m18 3h0m3-5h0m3 2h0m0 4h0m4-3h0m3 2h0m14-4h0m5 4h0m0 0h0m10 8h0m-11 0h0m-1-5h0m-2 2h0m-1-2h0m-1 5h0m-4-3h0m-2 1h0m-1-4h0m-18 2h0m-2 1h0m-3 3h0m0-3h0m-13 4h0m-1-5h0m-1 1h0m-8 3h0m-3-3h0m-6 3h0m-2-5h0m-4-1h0m-2 5h0m-4-4h0m-7 4h0m-2 0h0m-2 0h0m-2 2h0m-1-2h0m-2 1h0m-3-4h0m-4 0h0m-4 0h0m-1-1h0m-2 4h0m-4 10h0m0-3h0m4-3h0m8 3h0m7 2h0m1-5h0m7 6h0m3-3h0m4-1h0m2 2h0m1-1h0m2 1h0m5 0h0m11-5h0m1 2h0m2-1h0m4 0h0m3 4h0m2-1h0m0 2h0m3 1h0m2-1h0m3-2h0m0 1h0m7-4h0m1 0h0m13 6h0m5-1h0m2 0h0m4-6h0m5 4h0m11 0h0m1-2h0m2 2h0m6 3h0m6 0h0m5-2h0m36 10h0m-16-4h0m-11-2h0m0 3h0m-1-2h0m-2 1h0m-6-1h0m-4 5h0m0-4h0m-7 0h0m0-1h0m-7 4h0m0-5h0m-4 0h0m-5 1h0m-1-2h0m-7 0h0m0 4h0m-3 3h0m-2 0h0m-6-1h0m-3 0h0m-2-6h0m-6 4h0m-14-3h0m-1-1h0m-3 7h0m-3-3h0m-2-1h0m-2-3h0m-2 3h0m-1 4h0m-1-1h0m-1-6h0m-3 4h0m-3-1h0m-4 2h0m-1 0h0m-6-5h0m-10 3h0m-3-1h0m-1-1h0m-4 6h0m-1-3h0m-8 0h0m-7-3h0m0 1h0m-1-2h0m-1 2h0m-3-2h0m-7 7h0m-2 2h0m2 4h0m0-3h0m16 3h0m1-3h0m1 2h0m0-2h0m3-1h0m2 5h0m3 0h0m2-2h0m2 3h0m3-6h0m5 6h0m2-3h0m3-1h0m9-1h0m9-2h0m14 4h0m5-3h0m6 0h0m1 2h0m5-1h0m0-2h0m5 6h0m5-5h0m8 3h0m7-2h0m1 1h0m9 2h0m3-1h0m1-3h0m1 5h0m4-3h0m3 3h0m1-6h0m2 3h0m7-1h0m0-2h0m4 4h0m6 2h0m12-4h0m2 1h0m2 2h0m0-1h0m7-4h0m6 3h0m0 10h0m-2 0h0m-3 2h0m-13-7h0m-6 4h0m-9-3h0m-1 2h0m-2 4h0m-2-7h0m-1 1h0m-4 2h0m-15 0h0m-1 2h0m-1-5h0m0 2h0m-3-1h0m0 0h0m-3 6h0m0-4h0m-1 3h0m-1-1h0m-5 2h0m-11 0h0m-4-6h0m-2 2h0m-2-1h0m-8 2h0m0 1h0m-5 1h0m-3 0h0m-1 1h0m-3 0h0m-3-4h0m0-2h0m-7-1h0m-2 5h0m-3-5h0m-2 2h0m-1 1h0m-8-2h0m-1 1h0m-3-1h0m-1-1h0m-1 1h0m-5 1h0m-5 0h0m-6 4h0m-9-4h0m0-1h0m-7 5h0m-5-4h0m-3 9h0m0-3h0m3 2h0m10 3h0m5-3h0m2 1h0m2 1h0m2-2h0m5 0h0m4 0h0m0 0h0m1-2h0m3 7h0m0-4h0m1-1h0m6 0h0m1-1h0m7-1h0m4 6h0m4-6h0m0 4h0m6-3h0m1 5h0m2-3h0m4-1h0m1 5h0m2-3h0m2-3h0m5 5h0m8 0h0m7 0h0m0 1h0m1-7h0m0 2h0m1-1h0m1 5h0m0-1h0m4-4h0m5 4h0m5 1h0m4-6h0m8 1h0m5 4h0m14-5h0m2 5h0m2-3h0m5 1h0m2-1h0m3-1h0m7 5h0m1 1h0m6-6h0m0 6h0m1-4h0m4 0h0m5-2h0m0-1h0m2 0h0m2 7h0m0-1h0m2 1h0m0-5h0m2 10h0m-8-3h0m0 2h0m-4 1h0m-2-4h0m0 2h0m-1 0h0m-8 1h0m-2 1h0m-9-3h0m-1 6h0m-1-2h0m-2-1h0m-2-1h0m-10 4h0m-3-2h0m-2 2h0m-1-7h0m0 6h0m-7-4h0m-1-1h0m-3 3h0m-2 2h0m-1-2h0m-2 1h0m-3-4h0m-1-1h0m-5 7h0m-4-1h0m-1-4h0m-15 1h0m-7 1h0m-2-1h0m-2 3h0m-6-4h0m-12-2h0m-10 2h0m-1 1h0m-1 2h0m0 0h0m-1-2h0m-3 0h0m-5 1h0m-3-3h0m-3 4h0m-2-4h0m-1-1h0m-11 6h0m0 1h0m-1-6h0m0 1h0m-2 4h0m-2 1h0m-1-7h0m-7 6h0m-1-6h0m-2 5h0m-4-5h0m18 8h0m1 6h0m15-5h0m2-1h0m5 6h0m0 0h0m2-2h0m0-3h0m6 6h0m7-3h0m2-4h0m5 7h0m5 0h0m1-5h0m2 3h0m1 2h0m9-2h0m0-2h0m2 4h0m8-3h0m8 0h0m3-3h0m8 1h0m5 0h0m4 1h0m6-1h0m2 2h0m0-2h0m5 1h0m1 1h0m11 0h0m4 0h0m14 2h0m2-1h0m4-3h0m2 2h0m2-3h0m1 4h0m2-5h0m1 3h0m6 2h0m1-5h0m2 7h0m11-3h0m1-2h0m-6 12h0m0-5h0m-1 2h0m-8 3h0m-7-1h0m-10 1h0m-1 0h0m-7-3h0m-5 1h0m-2 2h0m-3-5h0m-4-1h0m-3 4h0m-1 1h0m-1-1h0m-4 3h0m-2-6h0m-1 4h0m-4-5h0m-2 4h0m-2 3h0m0-2h0m-8-2h0m-3-2h0m-6 6h0m-1-5h0m0 2h0m-13 1h0m-2 2h0m-6-4h0m-4-3h0m-5 7h0m-9 0h0m-1-4h0m-3-3h0m-1 2h0m-5-2h0m-1 2h0m0-2h0m-3 0h0m-7 3h0m-4 1h0m40 11h0m7-5h0m1 4h0m0-4h0m2-2h0m1 2h0m0 2h0m6 2h0m0-4h0m4-2h0m7 5h0m2-5h0m3 4h0m13 0h0m1-3h0m0 4h0m17-5h0m1 2h0m2 0h0m0 5h0m0-5h0m0-2h0m2 1h0m10 0h0m0 3h0m3-2h0m2 1h0m3 1h0m1-2h0m6 1h0m0-3h0m0 1h0m10 6h0m0-4h0m3 4h0m0 0h0m1-4h0m3 4h0m-1 7h0m-4-2h0m-3-2h0m-1-2h0m-6 0h0m0 2h0m-5 1h0m0 0h0m-5 0h0m-9 2h0m-5-3h0m0 1h0m-1 4h0m-1-1h0m-3-2h0m-1 2h0m-1-3h0m-8 4h0m-7-5h0m-7 1h0m-5-3h0m-24 5h0m-1-4h0m-18 0h0m53 11h0m10 2h0m5-1h0m13 0h0m0-3h0m5-1h0m3 3h0m3 0h0m0 2h0m0-3h0m7-3h0m5 5h0m-4 7h0m-13-3h0m-7 1h0m-14-2h0m-364 53h0m-2 0h0m-2-3h0m-6 5h0m-5-3h0m-2 3h0m-28 0h0m-14 0h0m-2-1h0m15 2h0m1 5h0m2-3h0m0 5h0m1-4h0m1 0h0m21-1h0m1-2h0m1 1h0m3 2h0m4 4h0m4-6h0m2 5h0m2 0h0m0-2h0m2 2h0m3-5h0m7 4h0m-2 3h0m-14 7h0m-3-1h0m-9-3h0m-1-3h0m-14 1h0m-4 5h0m-11 1h0m-2-1h0m-2 2h0m1 0h0m3 5h0m2 2h0m2 0h0m1-4h0m5 2h0m0 2h0m20-5h0m9-1h0m1-1h0m-9 9h0m-14 6h0m-9-5h0m-7 9h0m1 0h0m8 3h0m1-3h0m7-3h0m3 1h0m2 7h0m-13 3h0m-2-2h0m47 29h0m13 1h0m9-3h0m360 51h0m92 119h0m-32-2h0m0 2h0m-1-2h0m-1 3h0m-10-4h0m-6 0h0m-3 2h0m-7 0h0m-6-5h0m-4 7h0m-15 0h0m-9 0h0m-257 8h0m253-5h0m12 4h0m7-1h0m32-2h0m7 0h0m1 3h0m7 1h0m0-5h0m7-2h0m4 2h0m0 0h0m6 5h0m14-4h0m0-3h0m5 7h0m5-7h0m3 6h0m18 9h0m-2-6h0m-7-1h0m-1 4h0m-1-4h0m-4 1h0m-1 0h0m-11 2h0m-5-3h0m-5 4h0m-11 1h0m-1-1h0m-1-2h0m-1 2h0m-5 2h0m0 0h0m-1-3h0m-2 3h0m0-4h0m-2 5h0m-3-1h0m-7-1h0m-5 0h0m-1 2h0m-5-7h0m0 4h0m-6-3h0m-12 3h0m-2 3h0m-1-4h0m-5-3h0m-9 4h0m-205-1h0m-15 1h0m-5 0h0m-1-2h0m-14 0h0m-6 2h0m0 0h0m0 3h0m-1 0h0m-6-6h0m-1 5h0m-3-1h0m0-5h0m-10 5h0m-3 0h0m11 4h0m2 0h0m2 4h0m3 2h0m3-2h0m0-3h0m0 2h0m4-1h0m2 1h0m24-1h0m4 1h0m2-3h0m201 3h0m2 3h0m1 0h0m1-1h0m2-5h0m0 1h0m14 3h0m4-5h0m1 0h0m2 3h0m0-2h0m4 2h0m6 4h0m7-6h0m4 0h0m4 1h0m28 0h0m6 0h0m3-1h0m8 6h0m1-7h0m0 3h0m3 0h0m12-2h0m1 1h0m2-1h0m2 1h0m3 1h0m3 0h0m2-1h0m4-1h0m0 2h0m1-2h0m4 1h0m6 12h0m-2-2h0m-6 3h0m-5-3h0m-2 0h0m-2-2h0m-3 2h0m-2 0h0m0-3h0m-4-1h0m-1 0h0m-3 0h0m-1 6h0m-1 1h0m-5-1h0m-3-4h0m-3 5h0m-8-6h0m-5 0h0m-14 0h0m-2 5h0m-15-4h0m0 1h0m-11-3h0m-2 2h0m-8 4h0m-1-3h0m-3 0h0m-4-2h0m-10 3h0m-1-1h0m-7 1h0m0 0h0m-230 2h0m-3-2h0m-2-1h0m-3-1h0m0 4h0m-2-1h0m-2 0h0m0-3h0m-1-1h0m-2-1h0m17 8h0m3 7h0m1 0h0m224-5h0m0 4h0m2-1h0m2 0h0m14-1h0m2-3h0m0 1h0m3-1h0m4 4h0m0 1h0m11-5h0m2 6h0m10 0h0m10-2h0m8 0h0m3 0h0m0-2h0m0 1h0m5 1h0m8-3h0m1-1h0m2 6h0m7 0h0m1 0h0m4-7h0m6 4h0m1-1h0m9-1h0m4 2h0m9-4h0m0 1h0m8 14h0m-2-4h0m-2-3h0m-4 7h0m-2-4h0m-12 1h0m-2-4h0m-14 2h0m-4 4h0m-1 0h0m-1-2h0m-17 0h0m-3-3h0m-5 5h0m-24-3h0m-4 1h0m-8 2h0m-17-2h0m-19 1h0m-23 1h0m-163 0h0m-4 1h0m-14-2h0m-2 1h0m0 1h0m-1-2h0m-1-2h0m0-1h0m-1 3h0m-1 1h0m0-1h0m0 0h0m-3-3h0m-1 3h0m-1-2h0m-1 4h0m0-5h0m-2-1h0m-3 2h0m-2 0h0m6 6h0m4 3h0m5-1h0m1 4h0m1-1h0m1-3h0m2-2h0m3 4h0m3-5h0m4 5h0m1-3h0m0 3h0m5-3h0m3-2h0m1 0h0m1 0h0m6 0h0m1 5h0m12 2h0m3-1h0m170-6h0m5 3h0m7 1h0m5-3h0m10 3h0m8-3h0m3 0h0m3 6h0m4-6h0m9 6h0m18 0h0m6-6h0m0 3h0m10 0h0m3 0h0m14 1h0m1-2h0m4-2h0m10 6h0m5-4h0m5 0h0m1-3h0m-13 10h0m-2-2h0m-12 7h0m-1-4h0m-2 3h0m-1-6h0m-4 3h0m-5 3h0m-1-6h0m-3 7h0m-2 0h0m-1-2h0m-3-1h0m-4-2h0m-14-1h0m-20 0h0m-4 2h0m-4 3h0m-6 1h0m-1-5h0m-5 4h0m-3-1h0m0-1h0m-8 3h0m-8-5h0m-6 1h0m-148 3h0m-3-6h0m-6 4h0m-11-2h0m-11 4h0m-16 1h0m-2-2h0m-1 1h0m-3 1h0m-2-6h0m0 4h0m-2-4h0m0 0h0m-3 2h0m-3 0h0m-1-3h0m-1 3h0m0-3h0m5 9h0m7 2h0m2-3h0m0 2h0m1 1h0m0-3h0m3 3h0m1-3h0m0 5h0m1 2h0m0 0h0m1-1h0m0 0h0m1-6h0m0 4h0m4 2h0m3 1h0m0-2h0m185 2h0m13-5h0m7 3h0m0 0h0m1-2h0m9 1h0m1 1h0m7-1h0m6-1h0m1-1h0m0-1h0m3 5h0m1-4h0m1-2h0m14 5h0m4-3h0m0 4h0m0 0h0m3-5h0m0 5h0m6 0h0m5 1h0m4-4h0m0 2h0m1 0h0m0-2h0m11 0h0m5 3h0m0-3h0m17 4h0m6 0h0m5-7h0m-15 9h0m-4 5h0m-4-1h0m-2 0h0m-5 0h0m-16-2h0m0 4h0m-10-4h0m-4 2h0m-15-4h0m-2 4h0m-3-1h0m-8-2h0m0 2h0m-5 2h0m-10 1h0m-1-2h0m-2-3h0m-3 2h0m-1-4h0m-1 0h0m-12 3h0m-3-2h0m-6 2h0m-176 2h0m-1 2h0m-4-4h0m-3 3h0m-2-5h0m-2 4h0m0 0h0m-1-4h0m-1 2h0m-1 4h0m-2-6h0m-2 2h0m5 11h0m1-4h0m1-2h0m2 0h0m6 5h0m2-4h0m0 3h0m1 0h0m1 3h0m3-6h0m2 0h0m4 5h0m0-3h0m191-1h0m7 5h0m8-5h0m7-2h0m5 7h0m1-3h0m3-2h0m4-2h0m4 1h0m8 6h0m1-5h0m3 2h0m0-3h0m6 2h0m5-1h0m0 4h0m2-4h0m9 1h0m-39 9h0m-23-4h0m-3 1h0m-191 6h0m-2-1h0m-6-1h0m-4-1h0m-2 3h0m-42-2h0m47 4h0m2 5h0m0-2h0m5-1h0m2-1h0m2 2h0m1-1h0m2 0h0m5 3h0m0 5h0m-2-3h0m0 0h0m-18 1h0"/><path transform="scale(.25)" fill="none" stroke="#619CFF" stroke-width="5.0" stroke-linecap="round" d="M0 0m1553 345h0m-9 11h0m1-3h0m19 1h0m45 13h0m-4-1h0m-35 0h0m-20-1h0m-2 6h0m2 3h0m8-6h0m1 6h0m4-3h0m2 0h0m0-3h0m0 1h0m3 0h0m1 3h0m2 3h0m5 0h0m4-5h0m0 5h0m5-5h0m3-1h0m0 3h0m1 1h0m4-5h0m5 7h0m0-7h0m2 3h0m3 3h0m3-2h0m3 9h0m-1 2h0m-2-4h0m-3 1h0m-1 0h0m-3 0h0m0-3h0m-2 5h0m-6-2h0m-8-2h0m-2 2h0m-3-3h0m-1 4h0m-2 0h0m-2 2h0m-12-7h0m0 5h0m-3 1h0m-4-2h0m-1-2h0m0 5h0m-2-7h0m-1 3h0m-1-3h0m-3 3h0m-2 3h0m-3-6h0m-13 14h0m6-3h0m7 1h0m2-3h0m1 4h0m2 0h0m2 2h0m13-3h0m11-1h0m1-1h0m3 3h0m0-1h0m9 2h0m3-6h0m1 3h0m3 1h0m11-4h0m3 2h0m5 2h0m1-3h0m4-1h0m3 7h0m2-2h0m-1 7h0m-6-3h0m-3 6h0m-1-4h0m-2 2h0m-1-3h0m-5 1h0m-3-2h0m0 2h0m-5 0h0m0 0h0m-9 4h0m-1-5h0m0 0h0m-5 2h0m-2 2h0m-10 0h0m-1 1h0m-2-7h0m-2 0h0m-3 6h0m-1-5h0m-4 1h0m-5-2h0m-1 4h0m-2 1h0m-8 1h0m-5-4h0m-4 13h0m2-4h0m3 3h0m6-1h0m9 1h0m4-4h0m5 5h0m2 0h0m9-4h0m1 1h0m1-2h0m0 5h0m3-5h0m1 4h0m2-6h0m1 1h0m1 4h0m7 2h0m2-2h0m2-3h0m5 1h0m3 3h0m3-1h0m7-3h0m1-1h0m1 5h0m6-6h0m-28 13h0m-3 1h0m-10-5h0m0 6h0m-3-3h0m-11-3h0m-1 6h0m-8-3h0m-1 3h0m-1-3h0m-4-2h0m-1-2h0m-3 2h0m-6 2h0m-2-3h0m-1 2h0m58 6h0m265 41h0m83 7h0m-16 32h0m138 51h0m5 15h0m-118 5h0m-1 5h0m-4-2h0m-2 7h0m3-2h0m0 1h0m0 2h0m2-1h0m6 0h0m0 2h0m5-1h0m2 2h0m3 0h0m4-5h0m3 4h0m5 1h0m4-1h0m-12 11h0m-1-3h0m-21 1h0m-2 2h0m0-7h0m-4 0h0m-8 7h0m-12 0h0m-2 5h0m2 3h0m3-7h0m28 0h0m1 2h0m15 5h0m1 0h0m2-1h0m6 0h0m3 1h0m4-6h0m4 5h0m3 0h0m-1 6h0m0 3h0m-9 0h0m-6-1h0m0-1h0m-2-5h0m-1 5h0m-8-5h0m-5 5h0m-2 0h0m-3-3h0m-10 5h0m0-6h0m-7 5h0m-1-6h0m-7 3h0m0 0h0m-5 0h0m-7 4h0m-3-4h0m-1-2h0m-7 12h0m5-3h0m1 1h0m0 3h0m4 1h0m6-3h0m4 2h0m2 0h0m2 0h0m7 1h0m13-1h0m13 1h0m5-6h0m1 0h0m1 1h0m17 1h0m1 0h0m1 0h0m5 3h0m3 1h0m2-3h0m0 2h0m-3 3h0m-7 5h0m-6 1h0m-12 0h0m-2-7h0m-1 7h0m-1-3h0m-3 1h0m-3-4h0m-12 2h0m-5-3h0m-2 2h0m-2-1h0m-2 2h0m-5 3h0m-8 1h0m-3-7h0m-1 6h0m-1-3h0m-1 1h0m-9-2h0m0 3h0m-1-3h0m-3-1h0m-1 9h0m4 0h0m3 1h0m1 1h0m7-3h0m6 0h0m1 6h0m4-2h0m18-4h0m3 5h0m6-6h0m2 0h0m14 2h0m8 1h0m6 3h0m1-5h0m2 6h0m8-4h0m5-3h0m0 0h0m2 2h0m1 10h0m-30-1h0m-4-3h0m-7 0h0m-6 1h0m-15 2h0m-1 1h0m-9-2h0m-6 4h0m-1-4h0m-1 1h0m-3 2h0m-1-5h0m-2 1h0m-4 2h0m-6 0h0m-3 4h0m-11-5h0m0-1h0m-2 5h0m-203-5h0m-6 3h0m-7 3h0m-7 8h0m0-2h0m1 0h0m1 0h0m2 0h0m3-2h0m11 2h0m1-4h0m10 3h0m1-4h0m3 3h0m0 0h0m0-2h0m3 6h0m0-7h0m187 4h0m3-2h0m0 5h0m3-6h0m5 2h0m0 3h0m1-3h0m3 0h0m3-3h0m1 4h0m4-1h0m21-3h0m3 0h0m1 3h0m5-3h0m3 2h0m5 0h0m0 0h0m2 5h0m1-3h0m24-1h0m3 1h0m5 0h0m27 2h0m3-5h0m11 5h0m97 9h0m-5-5h0m-11 1h0m-10 0h0m-1-1h0m-10 3h0m-1 0h0m-15 2h0m-7-1h0m-20 0h0m-10-4h0m-3 3h0m-1 0h0m-3-4h0m-3 2h0m-3 2h0m-4 1h0m0-5h0m-2 4h0m0-2h0m-6 0h0m-3 1h0m-10-2h0m-2 3h0m-5-3h0m-5 3h0m-5-4h0m-2 0h0m-4 0h0m0 6h0m-2 0h0m-2 0h0m-2-6h0m-9 3h0m-8 1h0m-7 1h0m-1 0h0m-3 1h0m-3-3h0m-4 0h0m-15-1h0m-5 1h0m0 1h0m-12-3h0m-2 1h0m-2 2h0m-6-2h0m-3 4h0m-149 0h0m-6 0h0m-6-2h0m-17 1h0m0-5h0m0 5h0m-1-6h0m-3 0h0m0 7h0m-2-7h0m0 5h0m-2-4h0m-1 2h0m-7 1h0m-5 1h0m-4-1h0m-3-4h0m-6 5h0m-5-3h0m-2 0h0m-1 3h0m-3 6h0m5-2h0m15 2h0m1-1h0m18 1h0m3-2h0m3 3h0m2-2h0m180 2h0m6-1h0m1-1h0m5 0h0m2 0h0m4 1h0m1-1h0m0 2h0m1 2h0m13-3h0m3-1h0m9 3h0m11-3h0m7 3h0m0 1h0m3-6h0m0 3h0m6-3h0m1 2h0m8-1h0m2 1h0m7 0h0m5 5h0m0-2h0m10 1h0m2-1h0m10-3h0m10-1h0m2 2h0m0 4h0m9-4h0m5 3h0m1 1h0m0-4h0m3-3h0m2 6h0m2-1h0m9 1h0m8-2h0m4 3h0m6-3h0m2 1h0m2-5h0m18 5h0m1 1h0m4 0h0m2-6h0m3 10h0m-3 3h0m-16-3h0m-5 5h0m-1-7h0m-13 1h0m-3 5h0m-5 0h0m-6-4h0m0-1h0m-1 0h0m-2 6h0m-1-6h0m-1 2h0m-1-3h0m-4 7h0m-12-1h0m-5 0h0m0-1h0m-1-1h0m-14 1h0m-10 1h0m-5-2h0m-5 2h0m-3-3h0m-3 0h0m0-1h0m-3-1h0m-15 6h0m-2-7h0m-4 0h0m-7 0h0m-6 2h0m-3 4h0m-21 0h0m-2-6h0m-4 2h0m-4 4h0m0 1h0m-1-6h0m-2 0h0m-1 0h0m-4 0h0m-3 5h0m-7 0h0m-170 0h0m-2-4h0m-4 4h0m-6-4h0m-6-1h0m-24 6h0m212 2h0m0 1h0m2 1h0m11-3h0m3 0h0m7 4h0m2-4h0m7 5h0m26-4h0m5 3h0m5 0h0m2-2h0m7 3h0m2-1h0m8-2h0m9 0h0m5-2h0m0 6h0m3-3h0m2 2h0m4-3h0m1 2h0m3 2h0m17-4h0m5 5h0m8-5h0m2 4h0m2-3h0m2 4h0m1-7h0m0 5h0m11-1h0m6-4h0m4 0h0m8 4h0m-25 7h0m-5 1h0m-1-3h0m-9 1h0m-5 4h0m0-2h0m-3-2h0m-3 0h0m-5 1h0m-11 2h0m-7 0h0m-4-3h0m-1 1h0m-1 2h0m-7-3h0m-1 3h0m-2-3h0m-4 3h0m0-2h0m0 3h0m-7-2h0m-2-1h0m-12-2h0m-5 5h0m-1-3h0m-1-2h0m0 6h0m-1 0h0m0-2h0m0 0h0m-10-2h0m-1-1h0m0 3h0m-2-3h0m-1-2h0m-2 5h0m-1-4h0m-13-1h0m-10 6h0m-3 0h0m0-2h0m-10-4h0m-2 2h0m-1 1h0m-3 2h0m-3 10h0m6-7h0m2 1h0m0-1h0m1 1h0m0 0h0m2 1h0m19 0h0m2 3h0m5-1h0m1-2h0m8-1h0m1 3h0m3 2h0m2-6h0m2 6h0m5 0h0m4-3h0m6-1h0m2 2h0m5-3h0m4 3h0m11 1h0m24-5h0m-21 8h0m-11 3h0m-27-2h0m-14 5h0m-1 0h0m-3-5h0m-8 2h0m-6-3h0m-1 4h0m0-2h0m-7-2h0m-6 3h0m3 12h0m0-1h0m7 0h0m7-2h0m14 3h0m2-7h0m7 1h0m9 2h0m4 0h0m8-3h0m-32 8h0m-7 4h0m-3-1h0m-1-3h0m-4 0h0m-14 2h0m-2-1h0m-10 1h0m-4 5h0m-2-3h0m-5 11h0m12-5h0m-12 11h0m-15 1h0m7 2h0m-6 15h0m-8-3h0m-4 3h0m-71 8h0m72-5h0m4-1h0m-13 12h0m-26-5h0m-32 5h0m-3 0h0m-1-5h0m6 10h0m14 5h0m37-1h0m0 5h0m-39-2h0m8 11h0m4-3h0m4 5h0m2-2h0m1 0h0m6 2h0m2-3h0m8 2h0m0-1h0m7-1h0m4 7h0m-2-1h0m-2 3h0m-1-3h0m-6-1h0m-6 1h0m-2 3h0m-5-3h0m-4 6h0m-2 0h0m-3-6h0m-6-1h0m-1 4h0m0-2h0m-6 6h0m2 7h0m3-6h0m5 0h0m4 1h0m2 4h0m11-2h0m2 2h0m7-4h0m8 0h0m3 1h0m2-1h0m0 2h0m9 2h0m-4 8h0m-4-3h0m-9-1h0m-10 4h0m0 1h0m-4-2h0m-2-4h0m-6 0h0m-1 4h0m-1-5h0m-2 0h0m-3 7h0m-8 7h0m3-3h0m1-2h0m10 3h0m2 0h0m5-2h0m2 4h0m1-3h0m3 2h0m0 0h0m3-4h0m4 1h0m0 2h0m2-1h0m0 4h0m6-5h0m3 1h0m-1 5h0m-9 3h0m-4 2h0m-8-5h0m-2 5h0m-2-2h0m-7-1h0m-2-2h0m0 8h0m19 0h0"/><line x1="375.8" y1="30.4" x2="375.8" y2="214.9" stroke="#2a2a2a" stroke-width="1.1"/><line x1="375.3" y1="214.4" x2="546.7" y2="214.4" stroke="#2a2a2a" stroke-width="1.1"/><line x1="373.2" y1="48.7" x2="375.8" y2="48.7" stroke="#2a2a2a" stroke-width="1.0"/><text x="371.0" y="51.8" font-size="8.5" text-anchor="end" fill="#2a2a2a" stroke="#2a2a2a" stroke-width="0.22">10</text><line x1="373.2" y1="83.1" x2="375.8" y2="83.1" stroke="#2a2a2a" stroke-width="1.0"/><text x="371.0" y="86.1" font-size="8.5" text-anchor="end" fill="#2a2a2a" stroke="#2a2a2a" stroke-width="0.22">5</text><line x1="373.2" y1="117.4" x2="375.8" y2="117.4" stroke="#2a2a2a" stroke-width="1.0"/><text x="371.0" y="120.5" font-size="8.5" text-anchor="end" fill="#2a2a2a" stroke="#2a2a2a" stroke-width="0.22">0</text><line x1="373.2" y1="151.8" x2="375.8" y2="151.8" stroke="#2a2a2a" stroke-width="1.0"/><text x="371.0" y="154.8" font-size="8.5" text-anchor="end" fill="#2a2a2a" stroke="#2a2a2a" stroke-width="0.22">-5</text><line x1="373.2" y1="186.1" x2="375.8" y2="186.1" stroke="#2a2a2a" stroke-width="1.0"/><text x="371.0" y="189.2" font-size="8.5" text-anchor="end" fill="#2a2a2a" stroke="#2a2a2a" stroke-width="0.22">-10</text><line x1="422.5" y1="214.4" x2="422.5" y2="217.0" stroke="#2a2a2a" stroke-width="1.0"/><text x="422.5" y="225.8" font-size="8.5" text-anchor="middle" fill="#2a2a2a" stroke="#2a2a2a" stroke-width="0.22">-5</text><line x1="478.2" y1="214.4" x2="478.2" y2="217.0" stroke="#2a2a2a" stroke-width="1.0"/><text x="478.2" y="225.8" font-size="8.5" text-anchor="middle" fill="#2a2a2a" stroke="#2a2a2a" stroke-width="0.22">0</text><line x1="533.9" y1="214.4" x2="533.9" y2="217.0" stroke="#2a2a2a" stroke-width="1.0"/><text x="533.9" y="225.8" font-size="8.5" text-anchor="middle" fill="#2a2a2a" stroke="#2a2a2a" stroke-width="0.22">5</text><text x="461.0" y="238.3" font-size="10.0" text-anchor="middle" fill="#111" stroke="#111" stroke-width="0.22">UMAP_1</text><text x="354.2" y="122.2" font-size="10.0" text-anchor="middle" fill="#111" stroke="#111" stroke-width="0.22" transform="rotate(-90 354.2 122.2)">UMAP_2</text><text x="331.0" y="21.9" font-size="14" text-anchor="start" fill="#111" stroke="#111" stroke-width="0.22">B</text><circle cx="562.1" cy="114.3" r="2.8" fill="#F8766D"/><text x="572.9" y="117.5" font-size="8.9" text-anchor="start" fill="#111" stroke="#111" stroke-width="0.22">Macrophage</text><circle cx="562.1" cy="125.5" r="2.8" fill="#00BA38"/><text x="572.9" y="128.7" font-size="8.9" text-anchor="start" fill="#111" stroke="#111" stroke-width="0.22">Monocyte</text><circle cx="562.1" cy="136.6" r="2.8" fill="#619CFF"/><text x="572.9" y="139.8" font-size="8.9" text-anchor="start" fill="#111" stroke="#111" stroke-width="0.22">DC</text><path fill="none" stroke="#F8F8F8" stroke-width="13.42" d="M240.60 326.78h1.25"/><path fill="none" stroke="#F5F5F5" stroke-width="13.42" d="M60.55 326.78h1.25M69.30 326.78h1.25M74.31 326.78h1.25M238.09 326.78h1.25M246.85 326.78h1.25"/><path fill="none" stroke="#F2F2F2" stroke-width="13.42" d="M236.84 326.78h1.25M241.85 326.78h1.25M245.60 326.78h1.25"/><path fill="none" stroke="#F0F0F0" stroke-width="13.42" d="M175.58 326.78h7.50M239.34 326.78h1.25M243.10 326.78h2.50"/><path fill="none" stroke="#E4E4E4" stroke-width="13.42" d="M49.30 366.88h2.50M54.30 366.88h3.75M59.30 366.88h10.00M70.56 366.88h27.51M100.56 366.88h6.25M108.06 366.88h2.50M111.81 366.88h12.50M50.55 406.98h3.75M55.55 406.98h5.00M61.80 406.98h2.50M66.80 406.98h1.25M69.30 406.98h3.75M75.56 406.98h3.75M81.81 406.98h6.25M89.31 406.98h1.25M91.81 406.98h6.25M99.31 406.98h2.50M103.06 406.98h3.75M110.56 406.98h1.25M118.07 406.98h10.00M130.57 406.98h1.25M134.32 406.98h2.50M138.07 406.98h7.50M148.07 406.98h3.75M153.07 406.98h1.25M155.58 406.98h3.75M163.08 406.98h10.00M174.33 406.98h1.25M176.83 406.98h1.25M179.33 406.98h2.50M189.33 406.98h1.25M194.33 406.98h1.25M199.34 406.98h1.25M201.84 406.98h1.25M204.34 406.98h1.25M206.84 406.98h1.25"/><path fill="none" stroke="#E2E2E2" stroke-width="13.42" d="M49.30 353.52h18.75M69.30 353.52h50.01M120.57 353.52h11.25M133.07 353.52h3.75M139.32 353.52h1.25M125.57 366.88h15.00M208.09 366.88h5.00M214.34 366.88h46.26M49.30 380.25h5.00M55.55 380.25h6.25M63.05 380.25h35.01M99.31 380.25h23.76M124.32 380.25h16.25M208.09 406.98h10.00M220.59 406.98h35.01M49.30 433.72h2.50M53.05 433.72h8.75M64.30 433.72h5.00M74.31 433.72h5.00M80.56 433.72h11.25M93.06 433.72h6.25M100.56 433.72h6.25M108.06 433.72h1.25M110.56 433.72h3.75M115.57 433.72h6.25M123.07 433.72h1.25M49.30 473.82h3.75M55.55 473.82h3.75M60.55 473.82h2.50M68.05 473.82h2.50M71.81 473.82h1.25M75.56 473.82h1.25M83.06 473.82h3.75M88.06 473.82h1.25M93.06 473.82h3.75M98.06 473.82h2.50M101.81 473.82h2.50M106.81 473.82h2.50M114.32 473.82h2.50M118.07 473.82h3.75M125.57 473.82h3.75M130.57 473.82h15.00M146.82 473.82h10.00M159.33 473.82h1.25M164.33 473.82h2.50M169.33 473.82h6.25M178.08 473.82h3.75M184.33 473.82h3.75M190.58 473.82h5.00M196.83 473.82h2.50M204.34 473.82h1.25"/><path fill="none" stroke="#DFDFDF" stroke-width="13.42" d="M124.32 313.42h6.25M131.82 313.42h3.75M138.07 313.42h27.51M166.83 313.42h41.26M208.09 353.52h8.75M219.34 353.52h15.00M235.59 353.52h3.75M240.60 353.52h20.00M208.09 380.25h3.75M213.09 380.25h13.75M229.34 380.25h13.75M244.35 380.25h3.75M249.35 380.25h6.25M256.85 380.25h3.75M124.32 433.72h16.25M141.82 433.72h2.50M145.57 433.72h2.50M149.32 433.72h2.50M153.07 433.72h1.25M158.08 433.72h10.00M169.33 433.72h6.25M176.83 433.72h6.25M184.33 433.72h10.00M200.59 433.72h1.25M203.09 433.72h5.00M208.09 473.82h1.25M210.59 473.82h1.25M213.09 473.82h1.25M218.09 473.82h2.50M221.84 473.82h1.25M230.59 473.82h2.50M234.34 473.82h1.25M236.84 473.82h3.75M243.10 473.82h1.25M246.85 473.82h5.00M253.10 473.82h1.25M256.85 473.82h2.50"/><path fill="none" stroke="#DCDCDC" stroke-width="13.42" d="M49.30 286.68h2.50M53.05 286.68h7.50M71.81 286.68h2.50M75.56 286.68h1.25M80.56 286.68h1.25M84.31 286.68h2.50M94.31 286.68h3.75M103.06 286.68h2.50M106.81 286.68h1.25M109.31 286.68h1.25M113.07 286.68h1.25M115.57 286.68h1.25M118.07 286.68h1.25M123.07 286.68h1.25M61.80 313.42h1.25M64.30 313.42h1.25M69.30 313.42h2.50M78.06 313.42h1.25M80.56 313.42h6.25M88.06 313.42h1.25M96.81 313.42h1.25M99.31 313.42h1.25M101.81 313.42h6.25M113.07 313.42h1.25M119.32 313.42h5.00"/><path fill="none" stroke="#D9D9D9" stroke-width="13.42" d="M124.32 286.68h20.00M145.57 286.68h6.25M153.07 286.68h2.50M156.83 286.68h51.26M49.30 300.05h7.50M58.05 300.05h3.75M208.09 313.42h2.50M211.84 313.42h5.00M220.59 313.42h13.75M235.59 313.42h6.25M243.10 313.42h2.50M246.85 313.42h6.25M254.35 313.42h1.25M258.10 313.42h2.50M49.30 393.62h13.75M64.30 393.62h1.25M66.80 393.62h3.75M71.81 393.62h1.25M74.31 393.62h1.25M76.81 393.62h2.50M80.56 393.62h8.75M90.56 393.62h8.75M100.56 393.62h8.75M110.56 393.62h11.25M123.07 393.62h1.25M126.82 393.62h1.25M133.07 393.62h1.25M136.82 393.62h10.00M149.32 393.62h8.75M159.33 393.62h1.25M163.08 393.62h6.25M171.83 393.62h1.25M176.83 393.62h2.50M180.58 393.62h1.25M183.08 393.62h1.25M188.08 393.62h2.50M193.08 393.62h1.25M196.83 393.62h3.75M201.84 393.62h2.50M208.09 433.72h1.25M210.59 433.72h1.25M213.09 433.72h1.25M216.84 433.72h2.50M223.09 433.72h1.25M229.34 433.72h1.25M231.84 433.72h1.25M234.34 433.72h3.75M239.34 433.72h2.50M243.10 433.72h1.25M251.85 433.72h2.50M258.10 433.72h1.25"/><path fill="none" stroke="#D6D6D6" stroke-width="13.42" d="M209.34 286.68h18.75M230.59 286.68h8.75M241.85 286.68h3.75M246.85 286.68h3.75M253.10 286.68h7.50M61.80 300.05h2.50M65.55 300.05h1.25M68.05 300.05h3.75M73.06 300.05h1.25M76.81 300.05h2.50M80.56 300.05h1.25M83.06 300.05h1.25M86.81 300.05h2.50M90.56 300.05h1.25M94.31 300.05h1.25M98.06 300.05h2.50M103.06 300.05h1.25M105.56 300.05h1.25M108.06 300.05h2.50M115.57 300.05h7.50M124.32 326.78h3.75M129.32 326.78h5.00M135.57 326.78h3.75M140.57 326.78h2.50M148.07 326.78h12.50M164.33 326.78h11.25M183.08 326.78h20.00M204.34 326.78h2.50M143.07 380.25h1.25M145.57 380.25h1.25M149.32 380.25h1.25M151.82 380.25h1.25M155.58 380.25h1.25M158.08 380.25h1.25M160.58 380.25h1.25M166.83 380.25h1.25M173.08 380.25h1.25M175.58 380.25h1.25M183.08 380.25h1.25M186.83 380.25h1.25M189.33 380.25h1.25M191.83 380.25h1.25M198.09 380.25h1.25M201.84 380.25h1.25M206.84 380.25h1.25M208.09 393.62h1.25M211.84 393.62h7.50M221.84 393.62h8.75M231.84 393.62h3.75M238.09 393.62h11.25M250.60 393.62h10.00M49.30 460.45h6.25M58.05 460.45h15.00M75.56 460.45h2.50M79.31 460.45h13.75M94.31 460.45h30.01M126.82 460.45h23.76M151.82 460.45h56.26M213.09 460.45h1.25M216.84 460.45h2.50M224.34 460.45h1.25M229.34 460.45h1.25M231.84 460.45h1.25M234.34 460.45h1.25M236.84 460.45h1.25M240.60 460.45h1.25M245.60 460.45h3.75M251.85 460.45h1.25M256.85 460.45h1.25"/><path fill="none" stroke="#D4D4D4" stroke-width="13.42" d="M60.55 286.68h1.25M209.34 300.05h15.00M228.09 300.05h30.01M208.09 326.78h1.25M211.84 326.78h5.00M218.09 326.78h2.50M221.84 326.78h7.50M231.84 326.78h1.25M234.34 326.78h2.50M250.60 326.78h10.00M144.32 353.52h1.25M146.82 353.52h1.25M150.57 353.52h1.25M153.07 353.52h1.25M161.83 353.52h1.25M166.83 353.52h1.25M169.33 353.52h1.25M171.83 353.52h1.25M174.33 353.52h1.25M178.08 353.52h1.25M186.83 353.52h1.25M190.58 353.52h1.25M193.08 353.52h1.25M195.58 353.52h1.25M199.34 353.52h3.75M204.34 353.52h1.25M206.84 353.52h1.25M141.82 366.88h1.25M145.57 366.88h1.25M150.57 366.88h1.25M155.58 366.88h1.25M163.08 366.88h1.25M166.83 366.88h2.50M173.08 366.88h1.25M178.08 366.88h1.25M188.08 366.88h1.25M194.33 366.88h1.25M196.83 366.88h1.25M200.59 366.88h1.25M203.09 366.88h1.25M210.59 420.35h1.25M213.09 420.35h2.50M219.34 420.35h1.25M223.09 420.35h1.25M230.59 420.35h6.25M238.09 420.35h3.75M245.60 420.35h1.25M248.10 420.35h1.25M254.35 420.35h2.50M258.10 420.35h1.25"/><path fill="none" stroke="#D1D1D1" stroke-width="13.42" d="M124.32 300.05h21.26M146.82 300.05h11.25M159.33 300.05h48.76M49.30 340.15h12.50M68.05 340.15h2.50M71.81 340.15h11.25M84.31 340.15h10.00M95.56 340.15h12.50M109.31 340.15h7.50M119.32 340.15h112.53M233.09 340.15h10.00M244.35 340.15h10.00M255.60 340.15h5.00M49.30 420.35h2.50M55.55 420.35h3.75M60.55 420.35h26.26M88.06 420.35h5.00M94.31 420.35h13.75M110.56 420.35h40.01M151.82 420.35h11.25M165.58 420.35h15.00M181.83 420.35h7.50M190.58 420.35h17.50M124.32 447.08h10.00M136.82 447.08h3.75M143.07 447.08h66.27M211.84 447.08h6.25M219.34 447.08h3.75M226.84 447.08h6.25M239.34 447.08h1.25M246.85 447.08h1.25M251.85 447.08h1.25M255.60 447.08h5.00"/><path fill="none" stroke="#CECECE" stroke-width="13.42" d="M216.84 326.78h1.25M49.30 447.08h7.50M58.05 447.08h25.01M84.31 447.08h40.01"/><path fill="none" stroke="#CBCBCB" stroke-width="13.42" d="M114.32 406.98h1.25"/><path fill="none" stroke="#C8C8C8" stroke-width="13.42" d="M210.59 313.42h1.25M49.30 326.78h1.25M53.05 326.78h2.50M59.30 326.78h1.25"/><path fill="none" stroke="#C5C5C5" stroke-width="13.42" d="M176.83 366.88h1.25M116.82 406.98h1.25M190.58 406.98h1.25M228.09 420.35h1.25M211.84 433.72h1.25M253.10 460.45h2.50"/><path fill="none" stroke="#C3C3C3" stroke-width="13.42" d="M119.32 286.68h1.25M158.08 300.05h1.25M66.80 313.42h1.25M64.30 326.78h1.25M68.05 326.78h1.25M70.56 326.78h1.25M73.06 326.78h1.25M75.56 326.78h3.75M81.81 326.78h1.25M84.31 326.78h1.25M86.81 326.78h1.25M94.31 326.78h1.25M96.81 326.78h1.25M103.06 326.78h1.25M105.56 326.78h2.50M111.81 326.78h1.25M128.07 326.78h1.25M160.58 326.78h1.25M116.82 340.15h1.25M119.32 353.52h1.25M124.32 366.88h1.25M164.33 380.25h1.25M188.08 380.25h1.25M113.07 406.98h1.25M154.32 406.98h1.25M159.33 406.98h1.25M108.06 420.35h2.50M224.34 420.35h1.25M229.34 420.35h1.25M233.09 460.45h1.25M91.81 473.82h1.25M245.60 473.82h1.25"/><path fill="none" stroke="#C0C0C0" stroke-width="13.42" d="M98.06 313.42h1.25M163.08 326.78h1.25M118.07 340.15h1.25M165.58 353.52h1.25M191.83 353.52h1.25M174.33 366.88h2.50M98.06 380.25h1.25M158.08 393.62h1.25M164.33 420.35h1.25M114.32 433.72h1.25M198.09 433.72h1.25M140.57 447.08h1.25M90.56 473.82h1.25M96.81 473.82h1.25M116.82 473.82h1.25M129.32 473.82h1.25M233.09 473.82h1.25M244.35 473.82h1.25"/><path fill="none" stroke="#C1B8B8" stroke-width="13.42" d="M120.57 286.68h1.25M208.09 286.68h1.25M228.09 286.68h2.50M101.81 300.05h1.25M65.55 313.42h1.25M68.05 313.42h1.25M114.32 313.42h2.50M220.59 326.78h1.25M233.09 326.78h1.25M108.06 340.15h1.25M61.80 380.25h1.25M161.83 380.25h2.50M165.58 380.25h1.25M228.09 380.25h1.25M190.58 393.62h2.50M235.59 393.62h1.25M79.31 406.98h1.25M88.06 406.98h1.25M160.58 406.98h1.25M191.83 406.98h1.25M218.09 406.98h1.25M189.33 420.35h1.25M225.59 420.35h2.50M183.08 433.72h1.25M195.58 433.72h1.25M245.60 433.72h1.25M250.60 433.72h1.25M259.35 433.72h1.25M125.57 460.45h1.25M255.60 460.45h1.25M145.57 473.82h1.25M161.83 473.82h1.25M214.34 473.82h1.25"/><path fill="none" stroke="#C2B0B0" stroke-width="13.42" d="M121.82 286.68h1.25M74.31 300.05h2.50M109.31 313.42h2.50M161.83 326.78h1.25M209.34 326.78h1.25M249.35 326.78h1.25M164.33 353.52h1.25M218.09 353.52h1.25M51.80 366.88h1.25M123.07 380.25h1.25M193.08 380.25h2.50M255.60 380.25h1.25M79.31 393.62h1.25M175.58 393.62h1.25M111.81 406.98h1.25M115.57 406.98h1.25M161.83 406.98h1.25M193.08 406.98h1.25M259.35 406.98h1.25M59.30 420.35h1.25M256.85 420.35h1.25M51.80 433.72h1.25M61.80 433.72h1.25M148.07 433.72h1.25M168.08 433.72h1.25M175.58 433.72h1.25M219.34 433.72h3.75M224.34 433.72h3.75M239.34 460.45h1.25M76.81 473.82h1.25M89.31 473.82h1.25M163.08 473.82h1.25M215.59 473.82h1.25M220.59 473.82h1.25M254.35 473.82h1.25"/><path fill="none" stroke="#C4A9A8" stroke-width="13.42" d="M155.58 286.68h1.25M66.80 300.05h1.25M79.31 300.05h1.25M84.31 300.05h2.50M258.10 300.05h1.25M108.06 313.42h1.25M111.81 313.42h1.25M118.07 313.42h1.25M234.34 313.42h1.25M241.85 313.42h1.25M56.80 326.78h1.25M203.09 326.78h1.25M83.06 340.15h1.25M94.31 340.15h1.25M68.05 353.52h1.25M163.08 353.52h1.25M54.30 380.25h1.25M159.33 380.25h1.25M195.58 380.25h2.50M226.84 380.25h1.25M63.05 393.62h1.25M65.55 393.62h1.25M99.31 393.62h1.25M135.57 393.62h1.25M169.33 393.62h1.25M174.33 393.62h1.25M181.83 393.62h1.25M80.56 406.98h1.25M219.34 406.98h1.25M255.60 406.98h3.75M163.08 420.35h1.25M259.35 420.35h1.25M194.33 433.72h1.25M209.34 433.72h1.25M228.09 433.72h1.25M233.09 433.72h1.25M244.35 433.72h1.25M141.82 447.08h1.25M124.32 460.45h1.25M238.09 460.45h1.25M258.10 460.45h1.25M160.58 473.82h1.25M255.60 473.82h1.25"/><path fill="none" stroke="#C5A19F" stroke-width="13.42" d="M51.80 286.68h1.25M78.06 286.68h1.25M100.56 300.05h1.25M208.09 300.05h1.25M116.82 313.42h1.25M58.05 326.78h1.25M139.32 326.78h1.25M70.56 340.15h1.25M231.84 340.15h1.25M198.09 353.52h1.25M216.84 353.52h1.25M234.34 353.52h1.25M239.34 353.52h1.25M53.05 366.88h1.25M190.58 380.25h1.25M134.32 393.62h1.25M160.58 393.62h1.25M173.08 393.62h1.25M230.59 393.62h1.25M236.84 393.62h1.25M68.05 406.98h1.25M108.06 406.98h1.25M215.59 420.35h1.25M63.05 433.72h1.25M73.06 433.72h1.25M199.34 433.72h1.25M248.10 433.72h2.50M254.35 433.72h1.25M259.35 460.45h1.25M80.56 473.82h1.25M195.58 473.82h1.25M216.84 473.82h1.25"/><path fill="none" stroke="#C69997" stroke-width="13.42" d="M79.31 286.68h1.25M98.06 286.68h1.25M100.56 286.68h1.25M105.56 286.68h1.25M114.32 286.68h1.25M250.60 286.68h2.50M259.35 300.05h1.25M76.81 313.42h1.25M135.57 313.42h1.25M255.60 313.42h1.25M55.55 326.78h1.25M83.06 326.78h1.25M144.32 326.78h1.25M210.59 326.78h1.25M248.10 326.78h1.25M196.83 353.52h1.25M98.06 366.88h1.25M180.58 366.88h2.50M184.33 366.88h1.25M186.83 366.88h1.25M243.10 380.25h1.25M73.06 393.62h1.25M121.82 393.62h1.25M161.83 393.62h1.25M170.58 393.62h1.25M185.58 393.62h1.25M209.34 393.62h2.50M49.30 406.98h1.25M54.30 406.98h1.25M128.07 406.98h1.25M51.80 420.35h1.25M54.30 420.35h1.25M218.09 420.35h1.25M71.81 433.72h1.25M144.32 433.72h1.25M151.82 433.72h1.25M155.58 433.72h2.50M196.83 433.72h1.25M201.84 433.72h1.25M241.85 433.72h1.25M134.32 447.08h2.50M228.09 460.45h1.25M230.59 460.45h1.25M54.30 473.82h1.25M78.06 473.82h2.50M81.81 473.82h1.25M123.07 473.82h1.25M209.34 473.82h1.25"/><path fill="none" stroke="#C7928F" stroke-width="13.42" d="M101.81 286.68h1.25M89.31 300.05h1.25M71.81 313.42h2.50M75.56 313.42h1.25M86.81 313.42h1.25M89.31 313.42h1.25M95.56 313.42h1.25M136.82 313.42h1.25M256.85 313.42h1.25M146.82 326.78h1.25M173.08 353.52h1.25M189.33 353.52h1.25M179.33 366.88h1.25M183.08 366.88h1.25M199.34 366.88h1.25M248.10 380.25h1.25M184.33 393.62h1.25M195.58 393.62h1.25M200.59 393.62h1.25M74.31 406.98h1.25M129.32 406.98h1.25M53.05 420.35h1.25M150.57 420.35h1.25M216.84 420.35h1.25M241.85 420.35h2.50M69.30 433.72h1.25M121.82 433.72h1.25M154.32 433.72h1.25M238.09 433.72h1.25M246.85 433.72h1.25M56.80 447.08h1.25M233.09 447.08h1.25M241.85 447.08h1.25M121.82 473.82h1.25"/><path fill="none" stroke="#C88A87" stroke-width="13.42" d="M76.81 286.68h1.25M99.31 286.68h1.25M151.82 286.68h1.25M90.56 313.42h1.25M93.06 313.42h2.50M79.31 326.78h1.25M110.56 326.78h1.25M143.07 326.78h1.25M145.57 326.78h1.25M188.08 353.52h1.25M110.56 366.88h1.25M185.58 366.88h1.25M198.09 366.88h1.25M171.83 380.25h1.25M219.34 393.62h1.25M73.06 406.98h1.25M90.56 406.98h1.25M106.81 406.98h1.25M109.31 406.98h1.25M136.82 406.98h1.25M93.06 420.35h1.25M244.35 420.35h1.25M246.85 420.35h1.25M70.56 433.72h1.25M256.85 433.72h1.25M225.59 447.08h1.25M236.84 447.08h1.25M245.60 447.08h1.25M253.10 447.08h1.25M73.06 460.45h1.25M220.59 460.45h1.25M223.09 460.45h1.25M226.84 460.45h1.25M53.05 473.82h1.25"/><path fill="none" stroke="#CA827F" stroke-width="13.42" d="M110.56 286.68h1.25M91.81 313.42h1.25M165.58 313.42h1.25M253.10 313.42h1.25M80.56 326.78h1.25M95.56 326.78h1.25M104.31 326.78h1.25M108.06 326.78h1.25M138.07 353.52h1.25M205.59 353.52h1.25M99.31 366.88h1.25M170.58 380.25h1.25M180.58 380.25h1.25M186.83 393.62h1.25M220.59 393.62h1.25M249.35 393.62h1.25M86.81 420.35h1.25M209.34 420.35h1.25M211.84 420.35h1.25M236.84 420.35h1.25M140.57 433.72h1.25M223.09 447.08h1.25M234.34 447.08h1.25M248.10 447.08h3.75M254.35 447.08h1.25M74.31 460.45h1.25M93.06 460.45h1.25M150.57 460.45h1.25M225.59 460.45h1.25M86.81 473.82h1.25M100.56 473.82h1.25M124.32 473.82h1.25M211.84 473.82h1.25"/><path fill="none" stroke="#CB7A77" stroke-width="13.42" d="M81.81 286.68h2.50M245.60 286.68h1.25M225.59 300.05h1.25M74.31 313.42h1.25M50.55 326.78h2.50M115.57 326.78h1.25M120.57 326.78h1.25M206.84 326.78h1.25M254.35 340.15h1.25M58.05 366.88h1.25M69.30 366.88h1.25M151.82 366.88h1.25M154.32 366.88h1.25M160.58 366.88h1.25M140.57 380.25h2.50M168.08 380.25h2.50M176.83 380.25h1.25M181.83 380.25h1.25M70.56 393.62h1.25M194.33 393.62h1.25M98.06 406.98h1.25M146.82 406.98h1.25M208.09 420.35h1.25M221.84 420.35h1.25M109.31 433.72h1.25M83.06 447.08h1.25M235.59 447.08h1.25M238.09 447.08h1.25M240.60 447.08h1.25M243.10 447.08h2.50M219.34 460.45h1.25M221.84 460.45h1.25M224.34 473.82h1.25M235.59 473.82h1.25M251.85 473.82h1.25"/><path fill="none" stroke="#CC736F" stroke-width="13.42" d="M111.81 286.68h1.25M81.81 300.05h1.25M226.84 300.05h1.25M71.81 326.78h1.25M89.31 326.78h1.25M91.81 326.78h1.25M100.56 326.78h1.25M109.31 326.78h1.25M114.32 326.78h1.25M121.82 326.78h1.25M136.82 353.52h1.25M153.07 366.88h1.25M158.08 366.88h1.25M161.83 366.88h1.25M170.58 366.88h1.25M153.07 380.25h2.50M178.08 380.25h2.50M180.58 420.35h1.25M220.59 420.35h1.25M255.60 433.72h1.25M210.59 447.08h1.25M224.34 447.08h1.25M210.59 460.45h1.25M229.34 473.82h1.25M240.60 473.82h1.25"/><path fill="none" stroke="#CD6B67" stroke-width="13.42" d="M144.32 286.68h1.25M104.31 300.05h1.25M224.34 300.05h1.25M54.30 313.42h1.25M245.60 313.42h1.25M85.56 326.78h1.25M93.06 326.78h1.25M98.06 326.78h1.25M101.81 326.78h1.25M116.82 326.78h1.25M123.07 326.78h1.25M229.34 326.78h1.25M168.08 353.52h1.25M181.83 353.52h2.50M106.81 366.88h1.25M156.83 366.88h1.25M169.33 366.88h1.25M75.56 393.62h1.25M109.31 393.62h1.25M133.07 406.98h1.25M178.08 406.98h1.25M211.84 460.45h1.25M59.30 473.82h1.25M241.85 473.82h1.25"/><path fill="none" stroke="#CE635F" stroke-width="13.42" d="M91.81 286.68h1.25M116.82 286.68h1.25M240.60 286.68h1.25M53.05 313.42h1.25M88.06 326.78h1.25M113.07 326.78h1.25M119.32 326.78h1.25M131.82 353.52h1.25M179.33 353.52h2.50M159.33 366.88h1.25M89.31 393.62h1.25M130.57 393.62h1.25M65.55 406.98h1.25M131.82 406.98h1.25M145.57 406.98h1.25M79.31 433.72h1.25M209.34 447.08h1.25M214.34 460.45h2.50M70.56 473.82h1.25M225.59 473.82h3.75"/><path fill="none" stroke="#D05C57" stroke-width="13.42" d="M86.81 286.68h1.25M90.56 286.68h1.25M239.34 286.68h1.25M145.57 300.05h1.25M50.55 313.42h1.25M55.55 313.42h1.25M59.30 313.42h1.25M219.34 313.42h1.25M61.80 326.78h1.25M90.56 326.78h1.25M99.31 326.78h1.25M118.07 326.78h1.25M134.32 326.78h1.25M230.59 326.78h1.25M145.57 353.52h1.25M171.83 366.88h1.25M128.07 393.62h2.50M64.30 406.98h1.25M181.83 406.98h1.25M186.83 406.98h2.50M106.81 433.72h1.25M241.85 460.45h1.25M111.81 473.82h1.25M200.59 473.82h1.25M223.09 473.82h1.25"/><path fill="none" stroke="#D1544F" stroke-width="13.42" d="M88.06 286.68h1.25M93.06 286.68h1.25M56.80 300.05h1.25M96.81 300.05h1.25M60.55 313.42h1.25M218.09 313.42h1.25M66.80 326.78h1.25M185.58 353.52h1.25M146.82 393.62h1.25M183.08 406.98h1.25M185.58 406.98h1.25M205.59 406.98h1.25M218.09 447.08h1.25M208.09 460.45h2.50M243.10 460.45h2.50M73.06 473.82h1.25M175.58 473.82h1.25M183.08 473.82h1.25M199.34 473.82h1.25M201.84 473.82h2.50"/><path fill="none" stroke="#D24C47" stroke-width="13.42" d="M91.81 300.05h1.25M49.30 313.42h1.25M51.80 313.42h1.25M58.05 313.42h1.25M130.57 313.42h1.25M63.05 326.78h1.25M65.55 326.78h1.25M194.33 353.52h1.25M165.58 366.88h1.25M199.34 380.25h1.25M148.07 393.62h1.25M179.33 393.62h1.25M101.81 406.98h1.25M173.08 406.98h1.25M184.33 406.98h1.25M64.30 473.82h1.25M66.80 473.82h1.25M109.31 473.82h1.25M113.07 473.82h1.25M181.83 473.82h1.25"/><path fill="none" stroke="#D3453F" stroke-width="13.42" d="M89.31 286.68h1.25M64.30 300.05h1.25M93.06 300.05h1.25M56.80 313.42h1.25M216.84 313.42h1.25M149.32 353.52h1.25M184.33 353.52h1.25M164.33 366.88h1.25M200.59 380.25h1.25M124.32 393.62h1.25M131.82 393.62h1.25M99.31 433.72h1.25M230.59 433.72h1.25M63.05 473.82h1.25M74.31 473.82h1.25M104.31 473.82h1.25M110.56 473.82h1.25M158.08 473.82h1.25M176.83 473.82h1.25"/><path fill="none" stroke="#D43D37" stroke-width="13.42" d="M69.30 286.68h1.25M95.56 300.05h1.25M114.32 300.05h1.25M60.55 406.98h1.25M78.06 460.45h1.25M65.55 473.82h1.25M156.83 473.82h1.25M205.59 473.82h1.25"/><path fill="none" stroke="#D6352F" stroke-width="13.42" d="M110.56 300.05h1.25M113.07 300.05h1.25M100.56 313.42h1.25M148.07 353.52h1.25M151.82 353.52h1.25M195.58 366.88h1.25M204.34 393.62h1.25M175.58 406.98h1.25M168.08 473.82h1.25M206.84 473.82h1.25"/><path fill="none" stroke="#D72E27" stroke-width="13.42" d="M68.05 286.68h1.25M243.10 340.15h1.25M143.07 366.88h2.50M204.34 366.88h1.25M144.32 380.25h1.25M125.57 393.62h1.25M166.83 473.82h1.25"/><path fill="none" stroke="#D8261F" stroke-width="13.42" d="M61.80 286.68h6.25M70.56 286.68h1.25M74.31 286.68h1.25M108.06 286.68h1.25M71.81 300.05h1.25M106.81 300.05h1.25M111.81 300.05h1.25M123.07 300.05h1.25M63.05 313.42h1.25M79.31 313.42h1.25M61.80 340.15h6.25M140.57 353.52h3.75M154.32 353.52h7.50M170.58 353.52h1.25M175.58 353.52h2.50M203.09 353.52h1.25M140.57 366.88h1.25M146.82 366.88h3.75M189.33 366.88h5.00M201.84 366.88h1.25M205.59 366.88h2.50M213.09 366.88h1.25M146.82 380.25h2.50M150.57 380.25h1.25M156.83 380.25h1.25M174.33 380.25h1.25M184.33 380.25h2.50M203.09 380.25h3.75M211.84 380.25h1.25M205.59 393.62h2.50M151.82 406.98h1.25M195.58 406.98h3.75M200.59 406.98h1.25M203.09 406.98h1.25M249.35 420.35h5.00M91.81 433.72h1.25M214.34 433.72h2.50M55.55 460.45h2.50M235.59 460.45h1.25M249.35 460.45h2.50M105.56 473.82h1.25M188.08 473.82h2.50M259.35 473.82h1.25"/><line x1="207.7" y1="280.0" x2="207.7" y2="480.5" stroke="#8a8a8a" stroke-width="0.9"/><line x1="260.4" y1="280.0" x2="260.4" y2="480.5" stroke="#bdbdbd" stroke-width="0.6"/><rect x="49.3" y="272" width="75.0" height="3.6" fill="#F8766D"/><rect x="124.3" y="272" width="82.8" height="3.6" fill="#00BA38"/><rect x="208.5" y="272" width="52.1" height="3.6" fill="#619CFF"/><text transform="translate(44.2 290.1) scale(0.86 1)" font-size="9.4" text-anchor="end" fill="#444" stroke="#444" stroke-width="0.22">SPP1</text><text transform="translate(44.2 303.4) scale(0.86 1)" font-size="9.4" text-anchor="end" fill="#444" stroke="#444" stroke-width="0.22">MMP9</text><text transform="translate(44.2 316.8) scale(0.86 1)" font-size="9.4" text-anchor="end" fill="#444" stroke="#444" stroke-width="0.22">RNASE1</text><text transform="translate(44.2 330.2) scale(0.86 1)" font-size="9.4" text-anchor="end" fill="#444" stroke="#444" stroke-width="0.22">APOE</text><text transform="translate(44.2 343.5) scale(0.86 1)" font-size="9.4" text-anchor="end" fill="#444" stroke="#444" stroke-width="0.22">MMP12</text><text transform="translate(44.2 356.9) scale(0.86 1)" font-size="9.4" text-anchor="end" fill="#444" stroke="#444" stroke-width="0.22">MARCO</text><text transform="translate(44.2 370.3) scale(0.86 1)" font-size="9.4" text-anchor="end" fill="#444" stroke="#444" stroke-width="0.22">CD5L</text><text transform="translate(44.2 383.6) scale(0.86 1)" font-size="9.4" text-anchor="end" fill="#444" stroke="#444" stroke-width="0.22">PLAC8</text><text transform="translate(44.2 397.0) scale(0.86 1)" font-size="9.4" text-anchor="end" fill="#444" stroke="#444" stroke-width="0.22">S100A8</text><text transform="translate(44.2 410.4) scale(0.86 1)" font-size="9.4" text-anchor="end" fill="#444" stroke="#444" stroke-width="0.22">S100A9</text><text transform="translate(44.2 423.7) scale(0.86 1)" font-size="9.4" text-anchor="end" fill="#444" stroke="#444" stroke-width="0.22">CD1E</text><text transform="translate(44.2 437.1) scale(0.86 1)" font-size="9.4" text-anchor="end" fill="#444" stroke="#444" stroke-width="0.22">LGALS2</text><text transform="translate(44.2 450.5) scale(0.86 1)" font-size="9.4" text-anchor="end" fill="#444" stroke="#444" stroke-width="0.22">IDO1</text><text transform="translate(44.2 463.8) scale(0.86 1)" font-size="9.4" text-anchor="end" fill="#444" stroke="#444" stroke-width="0.22">CD1C</text><text transform="translate(44.2 477.2) scale(0.86 1)" font-size="9.4" text-anchor="end" fill="#444" stroke="#444" stroke-width="0.22">AREG</text><text x="2.6" y="263.6" font-size="14" text-anchor="start" fill="#111" stroke="#111" stroke-width="0.22">C</text><defs><linearGradient id="gc" x1="0" y1="1" x2="0" y2="0"><stop offset="0.000" stop-color="#F8F8F8"/><stop offset="0.499" stop-color="#C0C0C0"/><stop offset="1.000" stop-color="#D8261F"/></linearGradient></defs><rect x="277" y="290.4" width="16.4" height="82.2" fill="url(#gc)"/><line x1="277.0" y1="300.5" x2="280.0" y2="300.5" stroke="rgba(255,255,255,0.55)" stroke-width="0.8"/><line x1="290.4" y1="300.5" x2="293.4" y2="300.5" stroke="rgba(255,255,255,0.55)" stroke-width="0.8"/><text x="298.2" y="303.6" font-size="8.6" text-anchor="start" fill="#333" stroke="#333" stroke-width="0.22">2</text><line x1="277.0" y1="320.1" x2="280.0" y2="320.1" stroke="rgba(255,255,255,0.55)" stroke-width="0.8"/><line x1="290.4" y1="320.1" x2="293.4" y2="320.1" stroke="rgba(255,255,255,0.55)" stroke-width="0.8"/><text x="298.2" y="323.2" font-size="8.6" text-anchor="start" fill="#333" stroke="#333" stroke-width="0.22">1</text><line x1="277.0" y1="339.7" x2="280.0" y2="339.7" stroke="rgba(255,255,255,0.55)" stroke-width="0.8"/><line x1="290.4" y1="339.7" x2="293.4" y2="339.7" stroke="rgba(255,255,255,0.55)" stroke-width="0.8"/><text x="298.2" y="342.8" font-size="8.6" text-anchor="start" fill="#333" stroke="#333" stroke-width="0.22">0</text><line x1="277.0" y1="359.3" x2="280.0" y2="359.3" stroke="rgba(255,255,255,0.55)" stroke-width="0.8"/><line x1="290.4" y1="359.3" x2="293.4" y2="359.3" stroke="rgba(255,255,255,0.55)" stroke-width="0.8"/><text x="298.2" y="362.4" font-size="8.6" text-anchor="start" fill="#333" stroke="#333" stroke-width="0.22">-1</text><text x="277.6" y="284.1" font-size="10.2" text-anchor="start" fill="#222" stroke="#222" stroke-width="0.22">Expression</text><text x="277.6" y="405.1" font-size="10.2" text-anchor="start" fill="#222" stroke="#222" stroke-width="0.22">Identity</text><circle cx="285.0" cy="419.5" r="2.4" fill="#F8766D"/><text x="299.0" y="422.6" font-size="8.6" text-anchor="start" fill="#111" stroke="#111" stroke-width="0.22">Macrophage</text><circle cx="285.0" cy="436.1" r="2.4" fill="#00BA38"/><text x="299.0" y="439.2" font-size="8.6" text-anchor="start" fill="#111" stroke="#111" stroke-width="0.22">Monocyte</text><circle cx="285.0" cy="452.7" r="2.4" fill="#619CFF"/><text x="299.0" y="455.8" font-size="8.6" text-anchor="start" fill="#111" stroke="#111" stroke-width="0.22">DC</text><path transform="scale(.25)" fill="none" stroke="#F8766D" stroke-width="5.2" stroke-linecap="round" d="M0 0m2085 1174h0m10-5h0m-66 7h0m-18 6h0m326 6h0m-291 7h0m133 10h0m3-2h0m7-3h0m4 2h0m-21 9h0m-74 12h0m-88 7h0m0 2h0m168 13h0m-91-5h0m-13 10h0m75 0h0m13 4h0m15-2h0m-30 6h0m39 15h0m-30 1h0m-416 53h0m0-1h0m-5-2h0m-9 1h0m-41 5h0m9 3h0m14-2h0m2 3h0m2-5h0m5 2h0m12-2h0m3 4h0m1 0h0m5-2h0m1 1h0m2 3h0m2-4h0m5-2h0m3 6h0m-13 5h0m-5-2h0m-29-2h0m-7 5h0m-6-4h0m0 1h0m-5 5h0m-2-6h0m-3 3h0m-6 2h0m7 2h0m8 5h0m0-4h0m6 6h0m1-7h0m3 5h0m20 2h0m11-7h0m1 2h0m3 0h0m-22 13h0m-1-3h0m-12 3h0m-5 0h0m-5-1h0m-1-5h0m-1-1h0m-1 1h0m-26 10h0m23-3h0m2 6h0m1-1h0m10 0h0m1-3h0m2 0h0m4 0h0m5 1h0m6-2h0m328 6h0m8 8h0m-8 0h0m-13-4h0m-320 0h0m-1-2h0m-5 1h0m-1-1h0m-7-1h0m-31 8h0m8 3h0m2 4h0m4-4h0m6 4h0m2-3h0m2 1h0m1 1h0m14-2h0m15-1h0m9 3h0m2-4h0m292 3h0m3 2h0m3-1h0m5-5h0m2 6h0m12-3h0m2 1h0m7-1h0m1 1h0m17 2h0m37 8h0m-14-3h0m0-3h0m-5 3h0m-3 3h0m-1-3h0m-4-1h0m-10 2h0m-2-4h0m-5 4h0m-4 1h0m-3-1h0m-1 0h0m-1 1h0m-2 0h0m-3-3h0m-1 0h0m-2 3h0m-1-6h0m-3 7h0m-3-6h0m-6 1h0m-3-2h0m-14 6h0m-1-2h0m-3-3h0m-3 1h0m-7 0h0m-276 1h0m-1-1h0m-2 1h0m-1 3h0m-1 0h0m-1-6h0m0 7h0m-1-6h0m-2 6h0m-6-3h0m-9-4h0m-6 0h0m-1 7h0m-3-2h0m-3-1h0m-1-4h0m0 3h0m-1 4h0m0-3h0m-12-4h0m-1 2h0m-4-1h0m-15 4h0m-2 1h0m-6 3h0m2 4h0m4-1h0m2-4h0m14 1h0m1 3h0m2-4h0m0 0h0m0 6h0m11 0h0m3-1h0m4 2h0m3-2h0m11 1h0m9-1h0m7-2h0m5-2h0m4 6h0m0-3h0m6-1h0m3 3h0m0-6h0m250 7h0m8-5h0m14 3h0m0-3h0m8 3h0m4-4h0m4 5h0m1-6h0m4 2h0m0 4h0m7-4h0m1 0h0m5 2h0m1 3h0m6-5h0m0 1h0m4-2h0m0 2h0m0 4h0m0-4h0m5 4h0m18-5h0m17-1h0m0-1h0m6 1h0m2-1h0m0 7h0m15-3h0m4 3h0m8-4h0m0 8h0m-8 4h0m-5-4h0m-4 2h0m-1 0h0m-4-2h0m-4 1h0m-2-1h0m-4-2h0m-3 5h0m-22-3h0m-2 0h0m-5-3h0m-1 6h0m-7-3h0m-2 2h0m-2-5h0m-5 3h0m-3 2h0m-2 2h0m-9-1h0m-1-1h0m-17 2h0m-8-3h0m-1 0h0m-2-2h0m-3-1h0m-3 5h0m-15 0h0m-222-6h0m-6 2h0m-9-1h0m-3 0h0m-11-1h0m-1 2h0m-6 1h0m0 3h0m-3-1h0m-3-5h0m0 7h0m-4-7h0m-7 6h0m-9-5h0m-8-1h0m-16 7h0m-3-5h0m-2-2h0m-4 1h0m-3 1h0m-7 3h0m-5-1h0m-1 3h0m-5-7h0m-7 2h0m-3-2h0m1 9h0m1 5h0m1-3h0m7-2h0m2 3h0m4-1h0m5 3h0m3-2h0m0 1h0m1-1h0m8-1h0m4-3h0m7 5h0m9-4h0m2 4h0m6-5h0m6 0h0m3 3h0m1 1h0m11 2h0m10-4h0m7 3h0m2-1h0m242 1h0m3-3h0m2-2h0m4 2h0m4-2h0m13 7h0m1-7h0m6 1h0m4 1h0m1 2h0m4 0h0m4 1h0m12 1h0m3-5h0m3 2h0m1-3h0m4 4h0m8 3h0m2-1h0m2-6h0m3 6h0m1-6h0m0 5h0m2-3h0m0 2h0m4-3h0m5 4h0m8-2h0m3 3h0m0 1h0m8-4h0m4 4h0m4-7h0m1 1h0m11 4h0m1-4h0m0 1h0m3-1h0m1 5h0m5 1h0m5-4h0m1 0h0m2 3h0m0-1h0m1 2h0m0-7h0m0 2h0m18 2h0m7 8h0m-8-1h0m-2 1h0m-2 0h0m-7-2h0m0-2h0m0 5h0m-11-2h0m-2-1h0m-16 2h0m-11-2h0m-9-1h0m-10 3h0m-5-2h0m-3 0h0m-3 3h0m-5 1h0m-5-3h0m-8 4h0m-5-3h0m-2 2h0m-1 0h0m0 1h0m-4-3h0m0 2h0m-9-1h0m-1-2h0m-4 4h0m-3-3h0m-1 1h0m0 2h0m-4-1h0m-6-4h0m-11 1h0m-1 3h0m-6 1h0m-8-7h0m0 5h0m-3-3h0m-4 5h0m-7 0h0m-5-2h0m-228-5h0m-11 2h0m-16 3h0m-3-4h0m-1 0h0m0 0h0m-1 5h0m-4-5h0m-2 6h0m-3-3h0m-8-4h0m0 7h0m-5-6h0m-13-1h0m-3 2h0m0 0h0m-2-2h0m-11 6h0m0-3h0m0 3h0m-1-5h0m-11 6h0m-1-7h0m-2 7h0m0-3h0m4 5h0m39-1h0m4 2h0m1 0h0m11 0h0m263 4h0m1-1h0m3 0h0m5 2h0m1-3h0m1-2h0m6-2h0m6 0h0m2 5h0m3 1h0m10-6h0m5 3h0m2-1h0m0-2h0m6 3h0m0-3h0m1 2h0m3-1h0m1 6h0m2 0h0m2-4h0m3 4h0m1-5h0m3-1h0m2 5h0m3 0h0m8-2h0m1-2h0m1 1h0m14-3h0m1 0h0m1 3h0m1 0h0m1 1h0m3-1h0m9 0h0m2 2h0m0-2h0m0 3h0m3 1h0m1-3h0m6-4h0m4 7h0m9-5h0m12-2h0m11 3h0m14 0h0m3-1h0m20 3h0m1 2h0m2-1h0m3 9h0m-2-6h0m-6 1h0m-2 1h0m-2-2h0m-1-1h0m-1 6h0m0-5h0m-1 1h0m-9-2h0m-6 7h0m-2-4h0m-3-1h0m-13 5h0m-3-7h0m-1 6h0m-1-1h0m-3-5h0m-19 4h0m-16-1h0m-3 4h0m-1-2h0m-14-4h0m-2 5h0m-2-6h0m-1 2h0m-2-2h0m-5 5h0m-11 0h0m-7 2h0m-5-1h0m-6 0h0m-3 1h0m-3-6h0m-7 6h0m-3-1h0m-16-5h0m-4 3h0m-2 1h0m-2 0h0m-6 2h0m-5-5h0m-1 1h0m-2 3h0m-1-5h0m-9 5h0m-7 6h0m0 3h0m6-1h0m3 0h0m11-6h0m2 5h0m24-1h0m1 0h0m15-4h0m3 1h0m2-1h0m1 6h0m3-2h0m0-3h0m7 0h0m7 1h0m1 1h0m4 1h0m2-3h0m3 1h0m1 4h0m3 1h0m4-1h0m7-3h0m5 4h0m0-6h0m7 3h0m9 3h0m1-2h0m2-3h0m2-1h0m2 3h0m1 1h0m2 0h0m4-1h0m31-3h0m2 3h0m10-3h0m12 4h0m0-5h0m0 0h0m5 3h0m8 1h0m5 3h0m3-1h0m0-3h0m2-2h0m4 5h0m5-4h0m2 3h0m2 2h0m3-2h0m1 9h0m0 1h0m-12-5h0m-2 1h0m-3 3h0m-2-4h0m-1 1h0m-2-1h0m-2 0h0m-2-2h0m-8 5h0m0-1h0m-1 1h0m-4 1h0m-10-2h0m-2-1h0m-5-3h0m-1 3h0m0 0h0m-1 4h0m-1 0h0m-15-7h0m-5 5h0m-7-2h0m-2-3h0m-15 4h0m-1 2h0m-2-2h0m-6-3h0m-4-1h0m-4 2h0m-3 4h0m-2-3h0m-5-3h0m0 5h0m-3-2h0m-2 0h0m-3-3h0m0 2h0m-2 5h0m-2-7h0m-1 4h0m-3-2h0m-13 2h0m-5-3h0m-2 2h0m-6-2h0m0 4h0m-9 2h0m-5-6h0m-4 4h0m-7-5h0m-3 3h0m-9 0h0m-5 2h0m-2 1h0m-4-1h0m-2-4h0m-5 6h0m-1-2h0m-6-5h0m-6 4h0m0-2h0m-1-1h0m-3 4h0m-5-3h0m-1-1h0m-5 3h0m1 10h0m8-3h0m1 1h0m7-1h0m2 2h0m2 1h0m1-2h0m1-3h0m2 1h0m11 5h0m3-7h0m2 6h0m4-2h0m0-1h0m4 1h0m14 3h0m0-1h0m5-5h0m2 0h0m4 0h0m20 2h0m6-2h0m10 6h0m1-7h0m15 5h0m8-4h0m2 1h0m3 5h0m1-2h0m3 1h0m2 1h0m1-6h0m2 6h0m2-7h0m2 1h0m13 6h0m6-7h0m0 1h0m2 6h0m1 0h0m2-3h0m3-4h0m6 5h0m0-5h0m1 4h0m5-1h0m0-3h0m8 1h0m1 2h0m4 0h0m5 4h0m4 0h0m4-4h0m14 2h0m18-1h0m2-3h0m1 0h0m-16 9h0m-3-2h0m-8 6h0m-2 1h0m-2-3h0m-1 0h0m-2-1h0m-1 0h0m-10-3h0m-4 2h0m-4 4h0m-1-3h0m-1-2h0m-1 5h0m-1-1h0m-14 1h0m-3-4h0m-12-1h0m-1 6h0m-5-3h0m-3 3h0m0-2h0m-2-5h0m-2 0h0m-5 7h0m-4-3h0m-6-1h0m-2-1h0m-4 1h0m-1 2h0m-6 1h0m-2-2h0m0 2h0m-9-5h0m-1 5h0m-4 1h0m-2-6h0m-1 2h0m-3 2h0m-2-3h0m-1 5h0m-4-2h0m-2-3h0m-1 0h0m-2 1h0m-4-3h0m-2 2h0m-5 2h0m-6 2h0m-10-6h0m-4 7h0m0-5h0m-1 0h0m-6 4h0m-3-6h0m0 2h0m-2 1h0m0-3h0m-1 5h0m0 2h0m-11-5h0m-8 3h0m-6-4h0m-4 2h0m-3 2h0m-1-4h0m-2-1h0m-2 0h0m-5 2h0m-8 3h0m0 5h0m11-1h0m1 4h0m2-3h0m0 3h0m4-3h0m13 1h0m9 2h0m2-4h0m7 3h0m1 2h0m1-1h0m1 1h0m4-5h0m0 6h0m5-1h0m0-6h0m1 5h0m15-2h0m13 3h0m15-3h0m5 1h0m2-4h0m9 3h0m5 3h0m2-1h0m1-2h0m6 3h0m3-5h0m9 4h0m0-1h0m7 1h0m2 2h0m0-7h0m1 1h0m4 3h0m1 0h0m7 3h0m0-4h0m1 3h0m1-2h0m0-1h0m3 0h0m1 2h0m3-3h0m2 1h0m4-2h0m1 0h0m1 2h0m5-3h0m3 6h0m0-1h0m6 1h0m1-5h0m2 0h0m1 3h0m1-1h0m2 2h0m1-2h0m0-3h0m10 4h0m1 1h0m7-2h0m7 3h0m11-1h0m5-4h0m3 4h0m-1 4h0m-1 1h0m-5 3h0m-18-5h0m-3 6h0m-1-2h0m-11 3h0m-12-1h0m-10-3h0m-7 0h0m-6 4h0m-3-6h0m-5 1h0m-7 4h0m-1-2h0m-11-3h0m-3 4h0m-4-1h0m-10 2h0m-3 0h0m-13-1h0m-4 1h0m-11-1h0m-5 2h0m-5-5h0m-14-1h0m-1 5h0m-12-2h0m0-3h0m-21 1h0m0-2h0m0 1h0m-1 6h0m-4-2h0m-1-4h0m-4 4h0m-11-3h0m-2 2h0m0-3h0m-12 0h0m-1 5h0m-8-3h0m-2-3h0m4 14h0m0-6h0m2 7h0m9-2h0m0 1h0m7-4h0m5 3h0m1-2h0m8 2h0m12 1h0m23 0h0m26-3h0m2-3h0m1 1h0m3 2h0m4-1h0m3 1h0m1-3h0m4 2h0m6 4h0m10-1h0m2-1h0m3 3h0m8-6h0m0-1h0m6 6h0m2-4h0m8-2h0m11 5h0m5-1h0m8 2h0m0-2h0m1 0h0m7-3h0m4 0h0m2 4h0m10-2h0m8 2h0m5-2h0m14-1h0m5 0h0m10 1h0m6 2h0m1-2h0m13 1h0m17 10h0m-1 0h0m-11-5h0m0 5h0m-2-3h0m-6-3h0m-3 6h0m-5 0h0m-9-1h0m-6 0h0m-12-5h0m-3 5h0m-15 0h0m-17 2h0m-2-7h0m0 0h0m-9 2h0m-20-2h0m-15 1h0m-16 3h0m-4-4h0m-7 2h0m-14 3h0m-5-4h0m-4 2h0m-6 1h0m-1-3h0m-2 2h0m-1-3h0m-3 7h0m-17-5h0m-2 3h0m-10 1h0m0-1h0m-21 1h0m-7-1h0m-8-3h0m-2-2h0m-2 4h0m-4-4h0m-2 0h0m-4 7h0m22 3h0m9 0h0m7 2h0m2 1h0m11-2h0m10-2h0m2 6h0m1-6h0m1 4h0m8-1h0m5 2h0m8-5h0m13-1h0m16 1h0m0 4h0m6-1h0m5-2h0m12 0h0m10 3h0m3-1h0m7-2h0m0 1h0m10 3h0m2-3h0m4 3h0m2-5h0m2 2h0m7 1h0m1-3h0m11 2h0m1-1h0m2 2h0m7-4h0m3 7h0m3-5h0m5 5h0m2-6h0m1 1h0m3 1h0m2-2h0m9-1h0m4 6h0m16-4h0m2 0h0m21 0h0m21 13h0m-23-7h0m-3 3h0m-6 0h0m0-2h0m-3-1h0m-4 4h0m-1 3h0m0-7h0m-24 1h0m-2 6h0m0-1h0m-1-5h0m-7 6h0m-3-6h0m-6 4h0m-3 0h0m-1-5h0m-6 0h0m-1 5h0m-2-1h0m-1 0h0m-8-4h0m-4 4h0m-5 0h0m0-4h0m-3 0h0m-3 4h0m-5 0h0m-21-1h0m-1-3h0m-2 4h0m-7-3h0m-7 1h0m-4 0h0m-17 1h0m-16 1h0m-1-4h0m-21 0h0m-27 5h0m-10-4h0m-6 3h0m-1-3h0m-1 1h0m0 9h0m6 2h0m0-3h0m9 2h0m2-2h0m1 0h0m56 2h0m0 1h0m8 1h0m12-1h0m3-1h0m7 2h0m4-2h0m1 0h0m4 0h0m4-1h0m4-3h0m9 7h0m1-6h0m0 5h0m7-6h0m8 0h0m8 4h0m2-3h0m2 3h0m7 1h0m3-1h0m11-2h0m3-2h0m6 3h0m13-1h0m4-2h0m7 4h0m2 1h0m2 0h0m5-1h0m11-1h0m3-2h0m2 4h0m3-1h0m4 0h0m7 2h0m0-1h0m1-1h0m6 3h0m9 3h0m-6 1h0m-15 2h0m-6-4h0m-2 0h0m-14-1h0m0 5h0m-4-3h0m-8 1h0m-1 4h0m-4-1h0m-4 1h0m-1-2h0m-6-4h0m-8 0h0m-17 6h0m-1-1h0m0-1h0m-4-2h0m-18 0h0m-5-3h0m-4 2h0m-1-1h0m-2 4h0m-2 0h0m-9-4h0m0 3h0m-6-2h0m-3 0h0m-3-2h0m-4 5h0m-1 0h0m-10 0h0m-3-1h0m-4-4h0m-79 7h0m-3-3h0m4 5h0m91 2h0m2-3h0m11 7h0m5-6h0m15 0h0m5 4h0m3 0h0m9-4h0m1 2h0m0 0h0m7-3h0m1 3h0m4 3h0m1 1h0m7-6h0m6 1h0m12-2h0m6 5h0m1-5h0m6 3h0m22-1h0m14 0h0m6 4h0m0 0h0m5-2h0m3 3h0m0 0h0m1-2h0m0-2h0m6-1h0m1 3h0m3-2h0m9 1h0m4 3h0m13 6h0m-3 1h0m-2-3h0m-8-1h0m-4-2h0m-2 0h0m-6 7h0m-1-6h0m-4 0h0m-7 0h0m-8 1h0m-44 3h0m-29 2h0m-8-2h0m-8-4h0m-2 2h0m0 0h0m-1-2h0m-1 6h0m-23-6h0m-11 5h0m-9-6h0m-26 2h0m31 11h0m2-1h0m20 3h0m8-5h0m2 1h0m1 1h0m3-1h0m1 2h0m12-4h0m8 6h0m70-4h0m3 4h0m16-6h0m7 1h0m7 4h0m0 0h0m6-1h0m0 1h0m1-1h0m5-2h0m7 8h0m-1 2h0m-2 0h0m0-4h0m-1 0h0m-21-1h0m-1 7h0m-1-5h0m-7-2h0m-3 2h0m-5 5h0m-3 0h0m-25-7h0m-1 7h0m-34-4h0m-16 0h0m-18-1h0m-17 2h0m-9 0h0m-3-3h0m-2 4h0m-11-1h0m14 7h0m8-2h0m0 3h0m4-1h0m7 1h0m0-3h0m46 4h0m4-1h0m46-2h0m7-1h0m10 0h0m2 2h0m3-3h0m12 6h0m4-3h0m56 12h0m-66-7h0m-9 7h0m-18-7h0m-12 2h0m-8 3h0m-7-2h0m-7 0h0m-14 3h0m-1-5h0m-1 6h0m-55 0h0m-5-6h0m-229 12h0m2-2h0m2-1h0m17 3h0m17-2h0m13-2h0m33 2h0m143 1h0m9 2h0m2-6h0m2 2h0m9 4h0m0 0h0m16-3h0m36 2h0m6-4h0m7 2h0m20 3h0m26-3h0m10-2h0m8 6h0m1-5h0m26-1h0m0 0h0m18 2h0m-53 8h0m-18 2h0m-1-4h0m-9 0h0m-10 3h0m-7 1h0m-4-3h0m-2 0h0m-1 2h0m-2-3h0m-4 2h0m-1 0h0m-6-1h0m-13 0h0m-31-2h0m-3 2h0m-3-1h0m-2 3h0m-3-1h0m-2 0h0m-2 0h0m-12-2h0m-7 1h0m-3-2h0m-1 7h0m-184-7h0m-3 5h0m-3-2h0m-4-2h0m-15 2h0m26 8h0m4 3h0m158 1h0m2-1h0m4-2h0m8 0h0m2 0h0m2 2h0m9-2h0m1-1h0m4 1h0m1 2h0m0-4h0m4 0h0m12 3h0m0-3h0m4-2h0m9 3h0m7 4h0m24-4h0m11-2h0m3 1h0m10 1h0m0 4h0m2 0h0m6-2h0m20-4h0m13 3h0m0 3h0m69-7h0m24 12h0m-57 1h0m-17 2h0m-35-5h0m-1 3h0m-15-2h0m-1 4h0m-11 0h0m-10-5h0m-4 1h0m-8 0h0m-2-2h0m-13 3h0m-1 1h0m0 1h0m0-3h0m-2 1h0m-8-4h0m-5 4h0m-3-3h0m-4 4h0m-1 1h0m0-3h0m-3 2h0m-11-4h0m-14 5h0m-1-2h0m-1-3h0m-1 1h0m-1 5h0m-2-6h0m-1 6h0m-15-7h0m-8 5h0m-133 1h0m-2-3h0m-6 2h0m-7-3h0m-15 3h0m8 6h0m3-2h0m7 0h0m1 0h0m1 5h0m2 1h0m3-5h0m3 3h0m2-1h0m8-3h0m6 1h0m6 5h0m13-1h0m96-4h0m10 4h0m2-4h0m14 3h0m1-5h0m2 1h0m6 5h0m2-6h0m24 0h0m2 1h0m5 4h0m1-2h0m4 1h0m1 2h0m1 0h0m2-3h0m8 3h0m4-6h0m13 0h0m4 4h0m7 2h0m1-1h0m3 2h0m11 0h0m37-2h0m4 0h0m15-1h0m7-4h0m18 3h0m30 4h0m24-4h0m-47 5h0m-22 3h0m-4 2h0m-37-5h0m-3 0h0m-20 0h0m-6 3h0m-4 3h0m-5-4h0m-4 2h0m-3 3h0m-11-7h0m0 1h0m-2 4h0m-2 1h0m-3 1h0m-1-2h0m-6-3h0m-3 1h0m-18 4h0m-2-7h0m-5 6h0m-9-3h0m-5 0h0m-8-2h0m-2 0h0m-1 3h0m0-1h0m-5 2h0m0-4h0m-3 1h0m-1 1h0m-9-2h0m-4 1h0m-1 0h0m-11-1h0m-5 3h0m-59 3h0m-17-3h0m-25-4h0m-5 1h0m-1 3h0m-9-2h0m-1 4h0m-3-1h0m1 5h0m3 0h0m13 2h0m42-4h0m5 4h0m52-4h0m7 1h0m1 2h0m7 2h0m4-4h0m2 5h0m2 0h0m4 1h0m26-4h0m8 0h0m6 3h0m6-2h0m4 2h0m6 1h0m8-7h0m13 0h0m5 5h0m0 0h0m4 0h0m3-5h0m9 2h0m0-2h0m1 3h0m2 3h0m0-5h0m18 2h0m6 0h0m0 0h0m2 0h0m1 2h0m1 1h0m1-1h0m10-3h0m24 1h0m20-2h0m15 5h0m-3 7h0m-24-4h0m-1 4h0m-23-4h0m-3 1h0m-14 3h0m-5-1h0m-2 2h0m-5 1h0m-1-3h0m0 1h0m-4-2h0m-10-3h0m-3 4h0m-3 3h0m-5-7h0m-45 7h0m-3-4h0m0 1h0m0 3h0m-5-3h0m-11 2h0m-12-6h0m-6 7h0m-8-5h0m-10 5h0m-18-6h0m-81 1h0m-6 4h0m-3-1h0m0-5h0m-2 4h0m-2-1h0m-1 2h0m-1 0h0m-10-5h0m-128 5h0m-28 5h0m4 5h0m1-7h0m4 6h0m3-6h0m2 4h0m7 3h0m0-6h0m1 1h0m3 4h0m3-2h0m4 2h0m3 1h0m7 0h0m126-1h0m1-6h0m1 4h0m1 0h0m1 0h0m0 0h0m1 0h0m0-4h0m6 2h0m6 3h0m13-5h0m54 5h0m12 1h0m2 1h0m5 0h0m8-5h0m2-2h0m2 5h0m0-5h0m13 2h0m3 2h0m3 2h0m19-1h0m61 2h0m1-7h0m5 5h0m19-2h0m2-1h0m5 4h0m0 0h0m22-1h0m8-1h0m2 1h0m8-2h0m27 4h0m1-7h0m33 14h0m-22-6h0m-46 0h0m-12 1h0m-10 0h0m-4 3h0m-9-3h0m-6 2h0m-1 2h0m-4-5h0m-4 7h0m-1-3h0m-4 3h0m-3-2h0m-1-1h0m-1-4h0m-1 4h0m-29-2h0m-4 1h0m-20-1h0m-7 3h0m-4 2h0m-2-6h0m-17-1h0m-4 5h0m0 0h0m-1-2h0m-2-2h0m-41 5h0m-1-5h0m-64-1h0m0 4h0m-5-3h0m-3 2h0m0 4h0m-9-7h0m-9 0h0m-125 2h0m-16-1h0m-13 2h0m-4 2h0m-3-1h0m0 1h0m0 0h0m-1-4h0m-4 5h0m-9 7h0m8-3h0m4 3h0m0-2h0m2 2h0m2-5h0m2 0h0m3 5h0m2-5h0m5 0h0m4 3h0m4 2h0m3 1h0m2-2h0m3-4h0m5 3h0m8-3h0m26 6h0m111-3h0m6 0h0m8 1h0m0-1h0m6 2h0m0 2h0m46 0h0m2-5h0m3 0h0m2 2h0m19 1h0m1-2h0m0 1h0m6-1h0m15-1h0m6 1h0m5 1h0m3 2h0m19 0h0m10-5h0m1 4h0m12 1h0m2 0h0m5-5h0m8 4h0m2-4h0m6 5h0m1-3h0m16 0h0m12-3h0m3 5h0m1 1h0m1-2h0m1-4h0m2 3h0m0-1h0m29 1h0m12 4h0m20-4h0m0 3h0m8-5h0m6 5h0m20-4h0m1-1h0m1 1h0m-45 9h0m-15 0h0m-23 3h0m-16-3h0m-9 0h0m-2 1h0m-5-3h0m-8 6h0m-6-5h0m-8 3h0m-7-5h0m-6 0h0m-1 1h0m0 4h0m-11-3h0m-2-1h0m-1 4h0m-15 0h0m-6-4h0m-8 0h0m-13 6h0m-2-3h0m-8-2h0m-1 5h0m-3-6h0m-1 4h0m-6-5h0m0 7h0m-7-2h0m0-4h0m0 4h0m-1-4h0m-1 2h0m-6-2h0m-1 0h0m-20 3h0m-37-1h0m0 2h0m-2-4h0m-1 6h0m-1-3h0m-2-3h0m-17 1h0m-132 3h0m-24-2h0m-7-1h0m-1-1h0m0 4h0m-2 0h0m-12 2h0m-1-3h0m-12-2h0m66 8h0m143 0h0m10 1h0m33-2h0m56 1h0m51 1h0m0-1h0m23 4h0m23 0h0m3-4h0m2 4h0m2 1h0m16-7h0m27 3h0m0-2h0m11 7h0m-14 0h0m-52 1h0m-13 5h0m-19-6h0m-38 1h0m-6 2h0m-9 1h0m-17-2h0m-49 2h0m-34-3h0m39 10h0m24 3h0m24 1h0m2-6h0m36-1h0m3 4h0m7-2h0m23 0h0m37 2h0m-64 5h0m-57 5h0m-35-2h0m-1 2h0m0 1h0m-1-4h0m6 11h0m6 0h0m7-6h0m2 7h0m58-2h0m23 1h0m-35 6h0m-27-4h0m-12 0h0m-18 5h0m-11 15h0m-5-4h0m-24 15h0m17-2h0m-11 9h0m-5-1h0m-5 8h0m-9 7h0m-3 0h0m-77 11h0m72-1h0m15-6h0m-15 9h0m-6 6h0m-7 8h0m2 8h0m-34 7h0m13-6h0m4 5h0m33 9h0m-8-5h0m-2 5h0m-3-5h0m-6-1h0m-8 3h0m-9 4h0m-17 0h0m39 5h0m4 3h0m11-7h0m1 0h0m4 8h0m-7 1h0m-2 0h0m-3 4h0m-6-3h0m-7 3h0m-1-5h0m-1 7h0m-13-2h0m8 8h0m8-3h0m2-1h0m7 0h0m-3 7h0m-1 0h0m-27 0h0"/><path transform="scale(.25)" fill="none" stroke="#00BFC4" stroke-width="5.2" stroke-linecap="round" d="M0 0m2082 1163h0m-11 4h0m-10-4h0m-39 3h0m0 0h0m-2 2h0m2 7h0m1-7h0m13 6h0m4-6h0m1 3h0m14-2h0m6 1h0m1 0h0m11 3h0m16 1h0m27 1h0m0 0h0m7-4h0m20 11h0m-2-1h0m-8-4h0m-4 4h0m-3-4h0m-2 2h0m-2 2h0m-1-5h0m-1 1h0m-2 4h0m-1 1h0m-1-6h0m-1 0h0m0 4h0m-1-1h0m-11-3h0m-17 7h0m0 0h0m-2-6h0m-5 0h0m-2 2h0m-7-3h0m-14 5h0m-7-3h0m-3 3h0m-6-5h0m-7 5h0m0-4h0m-11 2h0m-3 2h0m-5 1h0m-11-5h0m-5 1h0m-4 1h0m-2 7h0m10 5h0m3 0h0m2-5h0m6 2h0m8 3h0m8-5h0m7-1h0m4 4h0m19 1h0m0 1h0m1-7h0m2 5h0m1 0h0m1-2h0m1-2h0m1 2h0m5 2h0m4 1h0m0 1h0m8-5h0m3 4h0m19-6h0m6 3h0m1 2h0m10-2h0m0 2h0m19 1h0m2-5h0m16 5h0m36 8h0m-16-1h0m-6-2h0m-3 4h0m-8-1h0m-5-1h0m0 0h0m-9-2h0m-9-1h0m-2-1h0m-1 3h0m-5-4h0m-1 5h0m-1-3h0m-9 3h0m-1 0h0m-2-2h0m-12-3h0m-6 6h0m-4 1h0m-4-3h0m-4 0h0m-1-4h0m-13 2h0m-4 1h0m-2-3h0m-12 7h0m0-7h0m-3 5h0m-3-4h0m0-1h0m-6 4h0m-11 2h0m-7 1h0m-1-5h0m-6-1h0m0 0h0m-12 3h0m-8-3h0m-4 1h0m-1 4h0m-2-1h0m0 1h0m-12 5h0m10 4h0m9-5h0m4 0h0m4-1h0m2 4h0m3 1h0m5 1h0m6-4h0m3-1h0m2 2h0m2 0h0m1-1h0m11-1h0m6 4h0m0 0h0m4 0h0m1 0h0m11-4h0m6 4h0m3-5h0m9 6h0m16-6h0m4 5h0m0-4h0m4 2h0m0 0h0m3-2h0m3 3h0m9-5h0m4 3h0m5-3h0m1 1h0m5 2h0m1 1h0m1 2h0m3-6h0m1 3h0m1-3h0m7 0h0m4 6h0m8 0h0m3-1h0m3 1h0m2-4h0m10 2h0m4-3h0m2 2h0m0 4h0m1-4h0m10 11h0m-4-1h0m-1 0h0m-3 2h0m-8-1h0m-1-2h0m-11-4h0m-7 2h0m-4 4h0m-1-5h0m-1 0h0m-4-1h0m0 2h0m-29-1h0m-3 6h0m-3-2h0m-4-4h0m-1 6h0m-7-7h0m-5 7h0m-6 0h0m-5-5h0m-4-1h0m-3 3h0m-2 2h0m-6 0h0m-2 1h0m-6-6h0m-3-1h0m-7 5h0m-2-4h0m-3 0h0m-6-1h0m-10 5h0m-1-5h0m-6 1h0m-1 0h0m-3 5h0m-3-1h0m-6 0h0m-1 1h0m-10-4h0m-7 1h0m-4 0h0m0 4h0m-7-6h0m-3 6h0m4 1h0m1 2h0m0 1h0m8 3h0m1-1h0m6-5h0m4 2h0m6 3h0m1 1h0m1 1h0m3-5h0m0 2h0m1-1h0m0 2h0m1-1h0m5-2h0m3-1h0m10 1h0m0-1h0m24-1h0m1 7h0m0 0h0m3-4h0m2 3h0m0-3h0m2-1h0m5-1h0m14 2h0m1 3h0m1-6h0m1 3h0m7-1h0m3 1h0m0 2h0m15 1h0m4-2h0m15 1h0m3-5h0m17 2h0m2 2h0m6-2h0m0-1h0m7 1h0m4 3h0m0 1h0m7-6h0m1 7h0m2-4h0m1-1h0m3 1h0m10 3h0m2-4h0m1 8h0m-4 1h0m-6 3h0m-3-2h0m0 2h0m-1-6h0m-11 3h0m-3 2h0m-9 1h0m-7-6h0m-1 1h0m-10 2h0m-1 1h0m-2 1h0m-3-3h0m-1-2h0m-12 3h0m-1-2h0m-3 4h0m-5-4h0m-5 4h0m-10-4h0m-6 5h0m-8-5h0m-5 0h0m-3 3h0m-2-1h0m-1 1h0m-1-3h0m-4 1h0m-3 0h0m-1 0h0m0 1h0m-3-1h0m-3-1h0m-2 0h0m-17 3h0m0-4h0m-2 3h0m-3 4h0m0-4h0m-5-3h0m-5 5h0m0-4h0m-2 5h0m-5-6h0m-2 3h0m0 2h0m-3 0h0m-2 0h0m-2-4h0m-6 1h0m0-1h0m-1 4h0m-2-5h0m-5 4h0m-3 3h0m-3-4h0m0 2h0m-7-5h0m15 10h0m8-1h0m8 1h0m1 1h0m16 4h0m0-1h0m1-4h0m3 5h0m4-1h0m8 0h0m6 1h0m17-2h0m1-1h0m1 2h0m42-5h0m11 1h0m8 2h0m1 1h0m3 0h0m2 2h0m1-6h0m1 6h0m13-3h0m19-3h0m1 4h0m5 0h0m4-2h0m3-3h0m4 1h0m2 2h0m2 2h0m0 0h0m5-3h0m5 2h0m1-2h0m-4 13h0m-2 0h0m-1-5h0m-2 2h0m-2-1h0m0-3h0m-12 3h0m0 2h0m-6-3h0m-5-2h0m-4 2h0m-2 2h0m-1 3h0m-1-3h0m-7 3h0m-1-3h0m-10-2h0m-3 1h0m-7 4h0m-3-6h0m0 4h0m-25-4h0m-8 3h0m-6 3h0m-3-7h0m-2 6h0m-2 1h0m-13-3h0m-4-3h0m0 0h0m-3 6h0m-3-4h0m-9-2h0m-5 0h0m-1-1h0m-3 2h0m-2-1h0m-11 4h0m-4-3h0m17 8h0m23 0h0m5 3h0m5-1h0m0 3h0m2-6h0m14 5h0m5-3h0m0-2h0m3 0h0m1 5h0m6-6h0m4 4h0m2 1h0m2-4h0m7 6h0m3-3h0m13-2h0m11 1h0m1 0h0m5-2h0m0-1h0m7 4h0m6 3h0m5-5h0m4 1h0m4 1h0m0-3h0m2 0h0m3 5h0m4-3h0m0 4h0m2-7h0m5 14h0m-3-6h0m-6 1h0m-5 2h0m-1-2h0m-5 5h0m-1-2h0m-16 0h0m-7 1h0m-7-1h0m-9-4h0m-1 4h0m-4-2h0m-1 3h0m-3-5h0m-1 0h0m-1 2h0m-2 1h0m-4-2h0m-13 4h0m-4 0h0m-2-2h0m-7 4h0m-3-5h0m-9 0h0m-3-2h0m-5 0h0m-5 2h0m51 7h0m8 1h0m1 5h0m0-6h0m16 1h0m4 0h0m4 0h0m6 4h0m0 0h0m10 1h0m0 0h0m12-1h0m4 0h0m-27 5h0m-4-3h0m-430 49h0m-63 14h0m4 0h0m7-1h0m-3 2h0m-2 0h0m22 19h0m-26 1h0m36 8h0m3 2h0m359 9h0m-9-3h0m-4 2h0m-18-4h0m-318 3h0m-16 1h0m330 7h0m2-3h0m11 0h0m13 4h0m26-3h0m5 1h0m5 10h0m-74 0h0m-7-5h0m-279 2h0m-79 12h0m386-3h0m8-2h0m-380 13h0m413 2h0m23-1h0m62 15h0m-138-4h0m-370 1h0m326 6h0m58 9h0m-80 1h0m22 8h0m202 11h0m-10-2h0m-19 16h0m-233 8h0m15-5h0m195 6h0m22-3h0m31 9h0m-70-4h0m-141 12h0m16 3h0m207 4h0m-19-2h0m-51 5h0m-73-2h0m-20 11h0m49-3h0m17-1h0m-3 10h0m-30-1h0m-13 3h0m-15-1h0m133 3h0m42 5h0m18 5h0m-152 4h0m45 8h0m62-5h0m46 1h0m10 2h0m-60 4h0m-41 5h0m-12-3h0m92 12h0m36 8h0m-23 7h0m33 0h0m1-2h0m5 2h0m2-6h0m23 14h0m-2 1h0m-3-2h0m-17-4h0m-1 3h0m-2 3h0m-10-4h0m-15-2h0m-6 3h0m-4 1h0m-21 0h0m-52-1h0m-272-2h0m-4 5h0m0-1h0m-12 1h0m-1 1h0m5 5h0m1 0h0m1-2h0m9-2h0m0 3h0m1 1h0m4-4h0m0 5h0m3-1h0m1 0h0m1-3h0m6 0h0m304 4h0m11-2h0m13 0h0m5 3h0m18-7h0m4 7h0m24-2h0m3 2h0m7-4h0m6 2h0m0-1h0m0-2h0m3 1h0m2 2h0m2 2h0m0-3h0m0 3h0m2-2h0m-7 3h0m-6 1h0m-2 6h0m-5-3h0m-1 3h0m-14-5h0m-1 4h0m-3-5h0m-1 1h0m-13 5h0m-38-1h0m-6-2h0m-42 2h0m-3-6h0m-3 5h0m-1-4h0m-71 0h0m-5 6h0m-154-4h0m-32-1h0m-1 0h0m-4 5h0m-1 0h0m-8-6h0m-3-1h0m-9 3h0m-5-1h0m22 6h0m1 6h0m4-6h0m3 4h0m1-3h0m1-1h0m178 4h0m98 3h0m17 0h0m11-3h0m0-3h0m0 0h0m2 0h0m9-1h0m4 2h0m19 4h0m0-6h0m12 6h0m2-6h0m7 2h0m2 3h0m6-1h0m1 3h0m0-2h0m2-3h0m7 4h0m3-1h0m1-1h0m4 1h0m21-2h0m2-1h0m2 3h0m15 9h0m-11 0h0m-2-2h0m-3-4h0m-6 0h0m-3 5h0m-2-3h0m-3-2h0m-19 3h0m-16 0h0m-8 0h0m-9 0h0m-12-3h0m-1 0h0m-4 2h0m-37 4h0m-29-6h0m-39 5h0m-19-5h0m-21 0h0m-211 0h0m41 10h0m9 0h0m56 2h0m84 1h0m15-2h0m70 3h0m62 1h0m2 0h0m42-3h0m2-2h0m1-2h0m8 5h0m5 0h0m5-1h0m2 0h0m19-1h0m14-2h0m1 1h0m2 4h0m8 0h0m0 0h0m1 1h0m2-7h0m6 6h0m-4 5h0m-7 0h0m-10 3h0m-12-1h0m-1-4h0m-10 0h0m-13-1h0m-7 6h0m-10-1h0m-2 2h0m-1 0h0m-1-3h0m-10-4h0m-9 5h0m-25-1h0m-1 3h0m-21-3h0m-49-1h0m-80 2h0m-92-1h0m-27 7h0m162 4h0m9-1h0m137-5h0m12 2h0m8 0h0m5 1h0m0-4h0m17 1h0m13 5h0m5-2h0m3 3h0m5-2h0m1 2h0m11-2h0m-9 3h0m-3 2h0m-11 5h0m-7-1h0m-18-5h0m-9 4h0m-29 0h0m-11-4h0m-5 0h0m-13 6h0m-18-5h0m-77 2h0m-36 3h0m-10-1h0m-112 1h0m0-3h0m-2 2h0m86 2h0m37 3h0m111-3h0m16 5h0m7-4h0m9 2h0m10 4h0m9-1h0m6 1h0m3-3h0m2-4h0m1 2h0m6-1h0m3-1h0m6 3h0m1 3h0m7-6h0m6 1h0m5 0h0m7 0h0m5 1h0m3-1h0m2-1h0m-18 11h0m-1 1h0m-4-2h0m-14-2h0m-1 0h0m-8 0h0m-1 1h0m0 0h0m-3 2h0m0-1h0m-12 5h0m-4-5h0m-6-2h0m-8 6h0m-5-3h0m-156-3h0m-14 4h0m-228 7h0m12 0h0m6 2h0m143 1h0m198-3h0m40-2h0m65 10h0m-1-1h0m-16 4h0m-6-4h0m-3-1h0m-10 6h0m-9-3h0m-30 1h0m-21 2h0m-28-1h0m-47-1h0m-2-1h0m-2-4h0m-1 7h0m-4-5h0m-49 0h0m-70 2h0m-150 2h0m-8-3h0m173 5h0m48 4h0m9 0h0m3-4h0m4 6h0m4-1h0m1-3h0m4-2h0m87 5h0m10 2h0m5-4h0m3 3h0m2-3h0m8 3h0m7-6h0m0 6h0m1-3h0m15-2h0m14 2h0m53-2h0m-45 8h0m-20 5h0m-1 1h0m-2-6h0m-5 3h0m-4-3h0m-10 0h0m-8 4h0m-5-1h0m-5-2h0m-1 0h0m-1 4h0m-16-4h0m-39 2h0m-4 1h0m-1-1h0m-3 2h0m-6 0h0m-3-2h0m-1-3h0m-15 3h0m-29 2h0m-3 0h0m-5-3h0m-6 8h0m10 0h0m6 2h0m17-5h0m11 4h0m7 1h0m5 0h0m12 0h0m1 2h0m22-7h0m1 4h0m8 2h0m4-3h0m1 3h0m2-1h0m4-5h0m6 3h0m19-3h0m9 2h0m24-2h0m-41 8h0m-9 0h0m-17 1h0m-20 6h0m-3-4h0m-10 0h0m-5 3h0m-16 0h0m-14-1h0m-3 1h0m-5-1h0m-2 0h0m-13-3h0m-2 3h0m-1-4h0m-1 0h0m-3-1h0m-6 13h0m8 2h0m6-2h0m10 2h0m2-3h0m4 2h0m1-3h0m10 0h0m1 1h0m27-3h0m8 1h0m7 0h0m6 1h0m-33 7h0m-5-1h0m-2 3h0m-19 1h0m-5-1h0m-12 0h0m0 0h0m-5-3h0m-4 6h0m0-4h0m-2 3h0m-5 4h0m11 0h0m7 2h0m7-3h0m9-1h0m4 0h0m7 0h0m-44 10h0m-25 20h0m-15 12h0m-8 5h0m-74 1h0m18 12h0m41 16h0m-6 3h0m-25 3h0m0 2h0m9-4h0m5 5h0m1 1h0m2-3h0m1 0h0m8 0h0m5 3h0m2-4h0m4 3h0m10 6h0m-4-1h0m-16-1h0m-4 5h0m-3 0h0m0-5h0m-6 0h0m-1 1h0m-8 1h0m-10-2h0m4 10h0m6 0h0m16 0h0m0 10h0m-8 1h0m-5 1h0m-7-2h0m-1-4h0m17 12h0m2 1h0m3-5h0m1-1h0m1 3h0m0 1h0m13 1h0m0-5h0m-33 11h0"/><path transform="scale(.25)" fill="none" stroke="#F8766D" stroke-width="5.2" stroke-linecap="round" d="M0 0m2076 1164h0m-17 16h0m-29 9h0m21 1h0m103-3h0m25 12h0m-28-6h0m23 11h0m5 0h0m9 0h0m1 2h0m1-2h0m-15 4h0m-191 12h0m95-3h0m107 3h0m-8 23h0m-30-2h0m-39-1h0m-66 4h0m42 5h0m-362 77h0m-13 0h0m0-3h0m-8 3h0m-16-1h0m1 6h0m1-1h0m10-1h0m6 3h0m6 3h0m5-2h0m2-1h0m0 2h0m1-2h0m1-1h0m2-3h0m1 5h0m1-1h0m8-2h0m3 1h0m4 2h0m1-3h0m6 2h0m6 4h0m-4 2h0m-11 5h0m-13-3h0m-1 0h0m-3 2h0m-2-6h0m-18 0h0m-8 4h0m-12-2h0m0 9h0m5-1h0m10 3h0m1-5h0m1 4h0m2-2h0m13-1h0m4 6h0m13-7h0m0 3h0m2-1h0m2 10h0m-3-4h0m-3 4h0m-7-1h0m-1-2h0m-1 3h0m-7 3h0m-8-2h0m-7-5h0m-14 6h0m22 5h0m9 3h0m0-4h0m2-1h0m4-1h0m325 15h0m-2-3h0m-6 2h0m-327-5h0m-2 3h0m-10 1h0m0-4h0m-8 3h0m-33 4h0m12 7h0m14-1h0m8-5h0m9 4h0m11-4h0m3 2h0m2 3h0m9-3h0m291 3h0m6 0h0m22-1h0m0 0h0m20-2h0m0-1h0m1 0h0m5 5h0m0-6h0m3 6h0m6 0h0m2 0h0m44 7h0m-5 1h0m-2-1h0m-13-1h0m-1-5h0m0 2h0m-8 2h0m-2-2h0m0-2h0m-5 1h0m-11 2h0m-5 2h0m-9-5h0m0 2h0m0 5h0m-2-2h0m-1-1h0m-2-2h0m0 5h0m-6-5h0m-2 3h0m-2 0h0m-1-4h0m-2 3h0m-1-2h0m-4 5h0m-8-3h0m-1 2h0m-3 0h0m0-1h0m-1-5h0m-7 5h0m-6-4h0m-4 6h0m-2-3h0m-1-3h0m-270 5h0m-13-4h0m-3-2h0m0 4h0m-6 0h0m-3-1h0m-4 1h0m-13-2h0m-6 0h0m-4 0h0m0 5h0m-7-4h0m0 2h0m-2 0h0m0-4h0m-6 6h0m0-7h0m-2 3h0m0-2h0m-1 2h0m-2-2h0m-4 5h0m-1 1h0m-5-4h0m-6 4h0m6 8h0m1-1h0m15-1h0m0-3h0m2 2h0m4-2h0m4 4h0m10 1h0m1-1h0m1-6h0m5 2h0m9 1h0m0-3h0m6 7h0m3-1h0m2 1h0m1-6h0m7-1h0m0 4h0m6 3h0m0-1h0m7-3h0m5 2h0m259 0h0m8 2h0m4-1h0m3 0h0m6-4h0m4 4h0m3-1h0m3 1h0m8-5h0m1 3h0m0-3h0m5-1h0m17 6h0m6 1h0m5-4h0m0-3h0m4 3h0m1 1h0m9-4h0m3 1h0m2 2h0m2 4h0m14-2h0m7-4h0m1 5h0m11 2h0m-1 1h0m-1 5h0m0 1h0m-3 0h0m-9-3h0m-2-4h0m-3 0h0m0 4h0m-6 2h0m-2 0h0m-1-4h0m-1-2h0m-2 4h0m-8-3h0m-4 6h0m-4-4h0m-7 2h0m-4-4h0m0 4h0m-10-5h0m0 4h0m-10 1h0m-10-2h0m-2 3h0m-6 1h0m-4-4h0m0-3h0m-3 0h0m-3 3h0m-2 1h0m-1-3h0m-1 5h0m-3-6h0m-3 7h0m-8-5h0m-3-1h0m-2 3h0m-256-4h0m-1 4h0m-1 1h0m-9-2h0m-7 2h0m-3 1h0m-14-3h0m-6 2h0m-1 1h0m-1-2h0m-6 2h0m-3-2h0m-3-4h0m-14 7h0m-9-6h0m-4 1h0m-14 3h0m-3 0h0m-5-4h0m-2 11h0m2 1h0m14-2h0m1 3h0m0 0h0m3-5h0m2 2h0m2-3h0m6 3h0m13 0h0m2-2h0m1 3h0m4 1h0m4 0h0m2-1h0m9-4h0m12 7h0m1-2h0m6-2h0m4 3h0m5-1h0m2-1h0m249 1h0m2-3h0m5 4h0m2-1h0m1 1h0m0-6h0m2 6h0m3-5h0m4 3h0m4-4h0m10 4h0m10-1h0m3 2h0m15 2h0m1-5h0m5 2h0m8 2h0m9 1h0m4 0h0m12-5h0m5 4h0m1-4h0m1-2h0m13 3h0m15-3h0m0 7h0m10-4h0m15 1h0m3-2h0m-6 12h0m0-5h0m-1 1h0m-16 0h0m-1 1h0m-10 2h0m-2 1h0m-1-5h0m-6 3h0m-14-1h0m-2-1h0m-7 1h0m-1-2h0m-5 6h0m-2-6h0m-1 6h0m-4-5h0m-2 2h0m-4-1h0m0 4h0m-2-5h0m-3 4h0m-2-6h0m-9 0h0m-13 1h0m-2 2h0m-11 2h0m-4 2h0m-1-2h0m-5 2h0m-1 0h0m-3-3h0m-9-3h0m-7 5h0m-2-4h0m-11 2h0m0 3h0m-271-5h0m-1-1h0m-3-1h0m-8 4h0m-2-3h0m-2 1h0m-1-2h0m0 0h0m-5 5h0m0-2h0m-5 2h0m-5 2h0m-10-3h0m-3 1h0m-13 0h0m5 3h0m13 0h0m1 2h0m14 4h0m11-6h0m13 1h0m6 4h0m1 0h0m252-2h0m24-2h0m10 1h0m3 1h0m4-2h0m4 6h0m0 0h0m10-6h0m1 4h0m2-3h0m1 1h0m8-2h0m1-1h0m11 4h0m6 1h0m8-5h0m8 6h0m1-6h0m0 4h0m2 2h0m6 0h0m1-6h0m3 3h0m11 1h0m11 0h0m7-1h0m0 4h0m1-4h0m3-1h0m2 1h0m2-1h0m7 1h0m1-3h0m2 3h0m2 4h0m4-1h0m1-4h0m2-2h0m16 5h0m7-5h0m2 7h0m6-7h0m0 3h0m6 3h0m-2 6h0m-5-4h0m-2 2h0m-6 4h0m-3-3h0m-3 4h0m-4-4h0m-1-1h0m-1 0h0m-2 4h0m-6 1h0m-5-1h0m-1-1h0m-5 2h0m-9-4h0m0-2h0m-3 1h0m-6 1h0m-2 0h0m-2-1h0m-1 0h0m-6 4h0m-4 0h0m-3-6h0m-7 5h0m-2 2h0m0-5h0m-3 3h0m-7 1h0m-3 1h0m-5-2h0m-2 1h0m-5-6h0m-10 4h0m-2-3h0m-2 4h0m-1-4h0m-14-1h0m-5 4h0m0 2h0m-20 0h0m-2-1h0m-8-3h0m-1 0h0m-4-1h0m-3 4h0m-2 2h0m-6-6h0m-2 2h0m-2 0h0m-1-1h0m0 1h0m0 1h0m-6-1h0m-10 11h0m3 1h0m4-6h0m9 0h0m1 4h0m2-2h0m10-3h0m0 2h0m7-2h0m2 2h0m1 3h0m0 0h0m12-3h0m14-1h0m3 2h0m1 0h0m1-2h0m3 2h0m5 2h0m1-2h0m1 1h0m1 1h0m1-2h0m3 0h0m5-1h0m12 3h0m2-2h0m2 1h0m6-4h0m1 7h0m1-5h0m17-2h0m2 4h0m13-1h0m7-3h0m4 5h0m2 2h0m8-7h0m1 6h0m2-6h0m4 5h0m2 1h0m9 0h0m1-3h0m11-1h0m2 0h0m3 5h0m5-5h0m1 0h0m2-2h0m11 6h0m0 0h0m1 0h0m19 8h0m-4-6h0m0 0h0m-10 5h0m-1-5h0m-5 7h0m-4-7h0m-6 5h0m0-5h0m-1 7h0m-8-5h0m0 2h0m-25 1h0m-14 0h0m-14-4h0m-3 2h0m-5-3h0m-11 2h0m-4 2h0m-1-3h0m-6 1h0m-5 4h0m-4-5h0m-1 6h0m-3-6h0m-4-1h0m-7 2h0m-4-1h0m-6 6h0m-5-1h0m-3-2h0m-1 0h0m-9 1h0m-2 2h0m-8 0h0m-2-7h0m-5 4h0m-10-3h0m-17 5h0m-2 0h0m-2-1h0m-4 1h0m-10-4h0m-10 1h0m-3-2h0m-14 14h0m4-4h0m12 1h0m3-3h0m2 1h0m1-2h0m0 6h0m1-6h0m0 6h0m1-2h0m7-3h0m2 5h0m8-3h0m15 4h0m3-3h0m8-1h0m20 3h0m5 1h0m1-6h0m14 1h0m8 4h0m2-4h0m6 5h0m3 0h0m4-1h0m3-1h0m4 1h0m4-3h0m1-1h0m1-1h0m7 6h0m10-6h0m12 1h0m2 0h0m6 0h0m3 0h0m9 2h0m2-2h0m2-1h0m0-1h0m25 6h0m6-4h0m13 2h0m12-1h0m2-3h0m0 7h0m10-4h0m-10 5h0m-8 4h0m-2 0h0m-1 2h0m-1-5h0m-16 5h0m-5-4h0m-1-2h0m-1 1h0m-2 0h0m-3 0h0m0 2h0m-1 3h0m-7 0h0m-7-6h0m-1 0h0m-9 2h0m-1 1h0m-2 4h0m-6-6h0m-10 0h0m-1-1h0m-5 3h0m-1 4h0m-4-4h0m-6-2h0m-11 4h0m-3-4h0m-1 4h0m-13 1h0m-2 0h0m-14 1h0m-3-5h0m-6-2h0m-11 2h0m-2 0h0m-3-2h0m-1 2h0m-3 1h0m-8-3h0m-7 0h0m-2 3h0m-2 0h0m-5-3h0m-1 5h0m-3-5h0m-1 4h0m-6 1h0m-2-4h0m-8 3h0m-5 1h0m-1-5h0m-1 6h0m-4-2h0m-10-3h0m-1 0h0m-3 5h0m-3-6h0m-3 4h0m-1-2h0m-8 13h0m2-2h0m0 2h0m6-4h0m3 3h0m11-1h0m3 2h0m7-1h0m1-3h0m16 4h0m5-6h0m5 4h0m2-3h0m6 0h0m22 0h0m4 2h0m8 0h0m2-3h0m6 4h0m3 2h0m15-4h0m4 0h0m1 3h0m6 0h0m1-1h0m6 1h0m3-3h0m5-1h0m2 5h0m2-4h0m5 1h0m7 3h0m1-1h0m7-4h0m3 0h0m1 4h0m12-1h0m2 1h0m6 1h0m4 0h0m3-7h0m1 0h0m1 2h0m1-2h0m0 4h0m8 1h0m2-2h0m5 3h0m3-1h0m17-2h0m1 4h0m6 0h0m3 0h0m7-6h0m2-1h0m-2 13h0m-2 1h0m-1-1h0m-5-4h0m-3-1h0m-2 7h0m-1-6h0m0-1h0m-5 2h0m0 2h0m-1-1h0m-2 1h0m-3-2h0m-1 4h0m-7-3h0m-7-2h0m-1 1h0m-1 1h0m-3-3h0m-3 3h0m-5 1h0m-2 1h0m-1 1h0m-4-6h0m-1 7h0m-4-4h0m-2 1h0m-9-1h0m-7 4h0m-1-4h0m-1 4h0m-1-3h0m0 0h0m-3 2h0m-3 0h0m-1 0h0m-5-2h0m-1-1h0m-3-2h0m-5 5h0m-3-3h0m-2-1h0m0 1h0m-1-3h0m0 5h0m-1-5h0m-3 0h0m-4 2h0m-2 0h0m-3 1h0m0-1h0m-5 1h0m-7 0h0m-2 1h0m-1 2h0m-3-1h0m-7-1h0m-3-4h0m-4 1h0m-1 5h0m-1 0h0m0-2h0m-1-4h0m-13 6h0m-1-5h0m-2 5h0m-2 1h0m-5-6h0m-9 2h0m0 4h0m-1-7h0m-1 4h0m-2-4h0m-6 7h0m-2 0h0m-4-7h0m-8 0h0m-1 7h0m-2-6h0m-5 3h0m-7-4h0m-1 0h0m-9 3h0m-5 4h0m-1-2h0m-4-1h0m0 6h0m1-1h0m10 0h0m3 1h0m1-2h0m4 2h0m1 1h0m10 4h0m15-3h0m1-2h0m0 3h0m2 2h0m1-5h0m9-2h0m7 4h0m7 3h0m8-2h0m0-4h0m5 6h0m10 0h0m1-7h0m6 2h0m3-2h0m3 2h0m7-2h0m1 4h0m7-1h0m1-3h0m2 1h0m6-1h0m3 7h0m2-4h0m0-2h0m13 5h0m24-1h0m9-2h0m1 4h0m0-3h0m4-4h0m3 6h0m7-6h0m0 0h0m1 3h0m5 4h0m5-7h0m10 3h0m5 1h0m2 1h0m5-2h0m4-3h0m1 4h0m1 1h0m1-4h0m2 1h0m4-2h0m0 5h0m1-5h0m6 5h0m11-4h0m2 6h0m16 5h0m-10 1h0m-7-3h0m-3 0h0m-5 4h0m-7 1h0m-3-6h0m-4 3h0m-14 2h0m-1-6h0m-2 2h0m-5 4h0m-3 0h0m-17 1h0m-2 0h0m0-5h0m-4 3h0m-4 0h0m-7 0h0m-1 1h0m-11 1h0m-11-6h0m-1-1h0m-5 3h0m-3 0h0m-20 4h0m-5-7h0m-1 6h0m-5 1h0m-1 0h0m-13-5h0m-13 3h0m-1-1h0m-2-1h0m-16-2h0m-3 5h0m-3-3h0m-3-1h0m-1-1h0m-3 4h0m-10-4h0m-15 0h0m-2 2h0m-6 3h0m-7-5h0m-5 3h0m-13-4h0m-6 1h0m12 9h0m20 0h0m4-2h0m2 3h0m1 3h0m11 1h0m11-6h0m1 2h0m12 1h0m4-3h0m9 4h0m10-5h0m16 3h0m5 1h0m4 3h0m6-5h0m6 2h0m5-2h0m11-1h0m0 6h0m4 0h0m24-3h0m1-2h0m6 5h0m3-3h0m2-3h0m2 0h0m5-1h0m5 2h0m1 4h0m8-6h0m25 5h0m0 0h0m2-2h0m4-1h0m22 1h0m29 12h0m-1-1h0m-11 1h0m0-5h0m-6 3h0m-2 1h0m-6 0h0m-1-2h0m-9 2h0m-2 0h0m-1-2h0m-9 2h0m-4-5h0m-1-1h0m-12 3h0m-3 2h0m-3 1h0m-15-6h0m-1 2h0m-1 3h0m-9-2h0m-3-2h0m-18 6h0m-3-4h0m0-1h0m0-1h0m-17 5h0m-12-4h0m-7-2h0m-4 5h0m-1-5h0m-24 3h0m-13-3h0m-28 0h0m-1 7h0m-17-7h0m-6 1h0m-3 12h0m1-4h0m2 2h0m3-2h0m3 2h0m76-1h0m4 1h0m5-2h0m16 2h0m4 2h0m7-1h0m8-4h0m7 4h0m7-2h0m12 2h0m10 2h0m6-4h0m19 1h0m5 3h0m1 1h0m6 0h0m10-2h0m6-2h0m0-3h0m4 3h0m1 3h0m7-2h0m1-1h0m2 1h0m9-1h0m10-3h0m2 6h0m1-1h0m16 10h0m-8-5h0m-3 4h0m-5 1h0m-6-2h0m-2-5h0m-5 1h0m-3 5h0m-1 1h0m-6-7h0m-5 1h0m-7 1h0m-6-1h0m-3 1h0m-1 2h0m-18 1h0m-1 1h0m-3-2h0m-4-3h0m-5 2h0m0 4h0m-1-3h0m0 1h0m-3 2h0m-8-4h0m-9-2h0m-3 6h0m-10-1h0m-3-5h0m-4 0h0m-1 5h0m-4-5h0m-3 3h0m-6 2h0m-8 1h0m-1-4h0m-8-1h0m-2-2h0m-5 1h0m-7 2h0m-14-1h0m-67 4h0m-1-1h0m-2 2h0m82 1h0m6 4h0m1-4h0m1 3h0m1 3h0m1-4h0m1-2h0m4 6h0m5 0h0m2-5h0m0 3h0m3 0h0m6-4h0m0 3h0m1 0h0m10-3h0m5 7h0m4-7h0m3 3h0m3 0h0m1 2h0m14-5h0m6 4h0m0-3h0m1 4h0m0 2h0m1-7h0m4 4h0m19 1h0m24-2h0m12 2h0m6-1h0m7-1h0m1-2h0m4 3h0m26 3h0m0-2h0m10 3h0m-7 4h0m0-3h0m-1 6h0m0-2h0m-4-3h0m-12-2h0m-11 1h0m-25 2h0m-17 3h0m-7-2h0m-12-4h0m-10 0h0m-17 5h0m-5-1h0m-4 0h0m-1 2h0m-3 1h0m-2-1h0m-1-6h0m0 7h0m-2 0h0m-7-3h0m-11 3h0m-6-6h0m-3 3h0m-2 0h0m-6-2h0m-2 9h0m3 0h0m18-1h0m1 0h0m3-2h0m1 1h0m3 4h0m6-4h0m1 3h0m6 1h0m3 0h0m65-5h0m19 4h0m15 0h0m13-4h0m7 4h0m7 2h0m1-4h0m9 1h0m6 5h0m-16 2h0m-2 1h0m-16 2h0m-1-1h0m-7 3h0m-3-4h0m-13 4h0m-12-6h0m-16 5h0m-30 1h0m0-7h0m-16 7h0m-4-3h0m-1-3h0m-4 6h0m-2-3h0m-8 3h0m-5 0h0m0-5h0m-2 4h0m-14-4h0m-1-1h0m8 10h0m17-1h0m7-1h0m2 0h0m2 0h0m46 5h0m12 1h0m2 0h0m9-3h0m3 1h0m5-2h0m6 4h0m4-4h0m5 4h0m21-5h0m1 0h0m0 2h0m2-2h0m1-1h0m0 4h0m6-4h0m2 6h0m4-2h0m4 9h0m-3-6h0m-1 7h0m-12-3h0m-3-2h0m-5 5h0m-33-6h0m-8 3h0m-3 1h0m-2-5h0m-10 4h0m-9-3h0m-4-1h0m-64 7h0m-207 0h0m-1 2h0m16-1h0m22 2h0m190 4h0m12 1h0m38-7h0m2 3h0m5-1h0m6-1h0m6 1h0m1 1h0m1 1h0m1 2h0m2-1h0m27 0h0m1-5h0m10 0h0m7 5h0m3-1h0m1 2h0m2-2h0m2-4h0m22 6h0m11 1h0m31 0h0m-4 4h0m-21-3h0m-50 0h0m-6 2h0m-3 1h0m-2 0h0m-8 4h0m-3-6h0m-3 5h0m-25-6h0m-16 5h0m-1-4h0m-2 2h0m-30 4h0m0-4h0m-7-2h0m-3 4h0m-7-5h0m-8 2h0m-1-2h0m0 0h0m-4 1h0m-1 3h0m-1-4h0m-2 1h0m-8 0h0m-201 4h0m0-5h0m12 8h0m1 1h0m7 5h0m149-4h0m32 4h0m4-1h0m8 1h0m2 1h0m6-2h0m0-4h0m5 6h0m6-4h0m6 3h0m2-3h0m32 4h0m5-5h0m9 0h0m7 4h0m5-5h0m5 6h0m3-7h0m44 6h0m22 1h0m10-4h0m36 0h0m2 4h0m8-2h0m-19 4h0m-52 2h0m-38 2h0m-8 1h0m-6-2h0m-3-4h0m-4 2h0m-10 3h0m-3 2h0m0-1h0m-5-3h0m-3-2h0m-6 1h0m-16 0h0m-4 4h0m-1-2h0m-7 0h0m-5 2h0m-6-6h0m-4 4h0m0 2h0m-1-1h0m-16-4h0m-20 6h0m-5-4h0m-1 3h0m-7 0h0m-149-1h0m-2 2h0m-14-5h0m16 12h0m0-5h0m2 2h0m5 2h0m0 0h0m2-2h0m5 0h0m16 2h0m3-1h0m5 2h0m106-6h0m3 0h0m7 1h0m13-1h0m6 4h0m4-4h0m7 0h0m7 3h0m2 0h0m2 1h0m12-1h0m4 1h0m9-1h0m8 0h0m11-2h0m12 2h0m13 0h0m4 2h0m1-3h0m7 3h0m4-2h0m43 1h0m17 1h0m34-5h0m11 11h0m-1 1h0m-18 3h0m-13-5h0m-28-2h0m-1 6h0m-7-6h0m-10 1h0m-3 3h0m-4 2h0m-9-6h0m-8 2h0m-8 1h0m-1-2h0m-1-1h0m-6 0h0m-9 2h0m-5 5h0m-26 0h0m-1-5h0m-1-2h0m0 4h0m-1-2h0m-4 3h0m-7-3h0m0 2h0m-2-4h0m-2 4h0m-4-3h0m0 5h0m0 0h0m-4 1h0m0-1h0m-1 1h0m-7-6h0m-2 5h0m-7-1h0m-8-5h0m-6 4h0m-13 1h0m-13-1h0m0-3h0m-4 5h0m-64 1h0m-14-3h0m-1 1h0m-1 1h0m-19-6h0m-13 4h0m-2-1h0m-3-3h0m0 2h0m-7-1h0m-2 6h0m-2-5h0m-2 0h0m-1 0h0m-3 4h0m-3-3h0m7 9h0m5-2h0m4-2h0m1 2h0m1-2h0m5 6h0m2 0h0m0-6h0m2 5h0m4 1h0m4-5h0m22-1h0m7 0h0m2 1h0m6 1h0m3-2h0m7 3h0m49-3h0m2 3h0m3-2h0m3 0h0m7 5h0m9-3h0m8-1h0m5 4h0m1-3h0m0-3h0m13 5h0m5-5h0m3 4h0m6 0h0m10 1h0m2-5h0m0 1h0m29 5h0m0-1h0m4 1h0m16 0h0m3 0h0m4-4h0m1-1h0m3-1h0m5 4h0m10-3h0m15 0h0m22 4h0m18 0h0m8-1h0m3 2h0m9-4h0m6 3h0m19 5h0m-11 0h0m-31 4h0m-19-2h0m-8-1h0m-6-2h0m-8 1h0m-1-2h0m-3 4h0m-4-1h0m-5 2h0m-6-3h0m-5 0h0m-2 4h0m-2 1h0m-4 0h0m-8 0h0m-2-1h0m-8 0h0m-8-5h0m-16 5h0m-5-4h0m-5 0h0m-9-1h0m-7 2h0m-16 3h0m-1-6h0m-1 5h0m-5 0h0m-6-4h0m-12 0h0m-1-1h0m-17 1h0m-1 1h0m-1 1h0m-3 0h0m-1-2h0m-14 6h0m-76-1h0m-7-2h0m-1 0h0m-2 3h0m-1-6h0m-3 0h0m-7 3h0m-145 10h0m4-2h0m5 2h0m8-5h0m3 0h0m124-1h0m11 1h0m1 1h0m1 3h0m1 2h0m1-5h0m0-1h0m7 1h0m2 2h0m1-2h0m6 2h0m66-2h0m0 5h0m1-6h0m2 1h0m7 5h0m3-1h0m7 1h0m11-6h0m4 4h0m2 0h0m4-4h0m9 2h0m1 2h0m1 2h0m2-5h0m4 5h0m1-4h0m2 4h0m9-5h0m7 1h0m1 0h0m50-1h0m7-2h0m19 0h0m2 4h0m2-3h0m11 0h0m4 4h0m0 2h0m19-6h0m14 2h0m24 3h0m26 8h0m-1-2h0m-30 1h0m-30-5h0m0 3h0m-15-3h0m-11 1h0m-17-1h0m-3 0h0m0 0h0m-4 6h0m-4-4h0m-1-2h0m-3 6h0m-17-6h0m-18 0h0m0 5h0m-25-3h0m-9 5h0m-3-5h0m-8-2h0m-5 6h0m-8-3h0m-13-2h0m-3-1h0m-1 5h0m-7-1h0m-4-4h0m-4 2h0m-1 0h0m-2 5h0m-2-6h0m-2 0h0m-4 3h0m-60 0h0m-6-3h0m-1 0h0m0 5h0m-3 1h0m0 0h0m-1-3h0m-1-3h0m0 3h0m-6 0h0m-3-3h0m-14-1h0m-117 7h0m-12-2h0m-6-2h0m-2 4h0m0-3h0m-9-1h0m-8-1h0m-3 3h0m0 1h0m0-1h0m-2-3h0m-1 11h0m1-3h0m17 0h0m9 2h0m1-3h0m2 4h0m1-4h0m6 3h0m3-2h0m10 5h0m2 0h0m31 0h0m59-2h0m26 0h0m18-5h0m16 5h0m51 0h0m4-5h0m4 2h0m0 4h0m3-5h0m1 1h0m25 0h0m10 5h0m6-5h0m0 1h0m1-3h0m0 7h0m10-4h0m2 2h0m4-5h0m0 0h0m4 7h0m6-7h0m1 7h0m10 0h0m1-5h0m1 5h0m1-5h0m5 5h0m1-7h0m3 3h0m27 1h0m4 0h0m5-4h0m3 6h0m0-6h0m4 4h0m19-4h0m0 1h0m3 1h0m1-2h0m25 4h0m25 0h0m1 0h0m16-3h0m7 1h0m1-1h0m0-1h0m2 4h0m1 2h0m0 8h0m-16-1h0m-8-2h0m-1 3h0m-18-5h0m-4 3h0m-22-2h0m-8 2h0m-11-2h0m-19-2h0m-9 3h0m-7-3h0m-4 1h0m-10 1h0m-4 5h0m-3-6h0m-3-1h0m-6 4h0m-5-2h0m-17 4h0m-3-3h0m-26 3h0m-5-4h0m-3 3h0m-13-3h0m0 2h0m-3-2h0m-14 1h0m-4 1h0m0-4h0m-39 5h0m-10-3h0m-5 0h0m0 1h0m0-3h0m-5 7h0m-1-6h0m-112 1h0m-41 2h0m-1 0h0m-2-1h0m-1-1h0m-3 0h0m-6 0h0m-14-2h0m-4 0h0m-4 1h0m0 1h0m-1-1h0m-5 3h0m-5-3h0m22 13h0m26-4h0m0-1h0m16 6h0m0-6h0m154-1h0m35 1h0m16 5h0m24-4h0m3-1h0m3 2h0m29 3h0m17-6h0m27 1h0m38 1h0m6-1h0m10 1h0m9 3h0m6-3h0m1 4h0m10-5h0m0 6h0m4-1h0m10-6h0m12 2h0m-23 10h0m-26-4h0m-13 1h0m-7 3h0m-19 3h0m-33-5h0m-28 3h0m-1 2h0m-2-4h0m-15-3h0m-3 3h0m-3 10h0m2 2h0m50-4h0m14 0h0m1 2h0m2 0h0m28 1h0m26-2h0m-48 8h0m-30 3h0m-18-5h0m-17 4h0m-51 2h0m17 0h0m18 1h0m21 0h0m12 0h0m41 0h0m-39 7h0m-63 2h0m-41 26h0m3 2h0m1 1h0m3-1h0m5-4h0m-6 7h0m-10 0h0m-1 0h0m-5 5h0m-6 9h0m5-6h0m-2 9h0m-1 0h0m-5 2h0m-82 7h0m3-2h0m5 5h0m70 2h0m-9 6h0m-55-1h0m-1-3h0m-2-2h0m5 9h0m9 0h0m42 3h0m4 8h0m-5-2h0m-3 4h0m-12 2h0m5 5h0m2-1h0m7 1h0m2 0h0m6-2h0m1 2h0m5 6h0m-4-3h0m-1 2h0m-2 2h0m-11 0h0m-2-2h0m-6-1h0m-8 1h0m-13-2h0m9 11h0m1 0h0m38 11h0m-2-1h0m-4 0h0m-8 0h0m-4 2h0m-1-3h0m-3-4h0m0 1h0m-3 4h0m-21 0h0m30 8h0m3-5h0m-7 10h0m-6-2h0"/><path transform="scale(.25)" fill="none" stroke="#00BFC4" stroke-width="5.2" stroke-linecap="round" d="M0 0m2100 1166h0m-12-5h0m-34 4h0m-13-2h0m-8 4h0m-12-1h0m-3 1h0m-9 3h0m4-2h0m4 3h0m0 0h0m5-3h0m0 3h0m1 1h0m1-1h0m16 0h0m6 3h0m4-3h0m2 0h0m0 0h0m4 3h0m7-1h0m3 2h0m6 0h0m10-2h0m2 2h0m2-6h0m1 6h0m1-2h0m1-3h0m3 5h0m13-4h0m18 2h0m4 7h0m-3 0h0m-12-3h0m-1 5h0m-10 0h0m-7-3h0m-1-3h0m0 6h0m-8-3h0m-6-3h0m-2 2h0m-3 5h0m-5-3h0m-7-2h0m-1 0h0m-3-2h0m-6 5h0m-3 0h0m0-3h0m-3 1h0m-4 2h0m-3-4h0m-6 3h0m-2-2h0m-15 3h0m-2 0h0m-2 0h0m-1 0h0m-6 1h0m-2 0h0m0-3h0m-13 12h0m1-3h0m2 2h0m1-5h0m17 5h0m1-1h0m0-5h0m14 5h0m3-1h0m2 3h0m5-3h0m9 1h0m7-5h0m0 3h0m2-2h0m22 0h0m13-1h0m24 1h0m0 4h0m1-3h0m1 2h0m1-1h0m2 1h0m0 0h0m2 3h0m6-2h0m2-1h0m0 1h0m3 2h0m5-5h0m1-2h0m2 7h0m3-4h0m0-2h0m1 5h0m2-1h0m0 2h0m4-6h0m2 5h0m12 1h0m3 3h0m-2 3h0m-4-4h0m0 3h0m-3-1h0m-11 4h0m0-5h0m-3 4h0m-7-1h0m-6 2h0m-2-2h0m-2-4h0m-4 3h0m-1-3h0m-1 2h0m-3 0h0m-11 4h0m-7-2h0m-3 1h0m-1-6h0m-3 1h0m-12 5h0m-4 0h0m-5-5h0m-1-1h0m-4 7h0m-1-4h0m-1 1h0m-13 3h0m-4-6h0m0 3h0m-5 0h0m-2-3h0m0-1h0m-2 7h0m-4-7h0m0 5h0m-4-5h0m-8 2h0m-3 0h0m-2 1h0m-3 4h0m-20-7h0m-4 0h0m-1 2h0m-9 1h0m0 6h0m2 4h0m16-1h0m5 0h0m0 1h0m0-3h0m9 2h0m0 2h0m2-2h0m3 0h0m3 0h0m2-3h0m3 6h0m5-6h0m0 5h0m8-4h0m0 0h0m2 5h0m2-1h0m9-6h0m9 4h0m4-1h0m2-3h0m13 3h0m7-1h0m4 5h0m0-1h0m0-1h0m1 1h0m5-1h0m4-2h0m9 3h0m5-6h0m14 4h0m9-1h0m8-2h0m5 1h0m4 1h0m2 2h0m21-3h0m1 0h0m9-1h0m6 12h0m-1-2h0m-9 3h0m-7-5h0m-4 3h0m-4-4h0m-5 0h0m-11 5h0m0 0h0m-8 1h0m0-3h0m-5 4h0m-13-7h0m-6 4h0m-1-1h0m-4 2h0m-1-5h0m-4 3h0m-4-2h0m-1 6h0m-4-2h0m-2 1h0m0-1h0m-2-4h0m-4 3h0m-8 1h0m-13-4h0m-5 6h0m-10-6h0m-9 2h0m-7 2h0m-2-2h0m0-2h0m-2 4h0m0-4h0m-1 4h0m-1 2h0m-2-6h0m-1 0h0m-4 2h0m-7-1h0m-7 4h0m-4-6h0m-3 7h0m-19-7h0m0 8h0m12 7h0m1-4h0m9 1h0m2 0h0m5-4h0m0 3h0m1 2h0m7-4h0m1 1h0m10 2h0m1-2h0m1-2h0m5 0h0m27 7h0m2-2h0m1-1h0m3-1h0m4 3h0m3-4h0m1-1h0m0 1h0m10 0h0m2-2h0m6 1h0m4 2h0m7 0h0m0 4h0m4-5h0m0 3h0m1 2h0m3-3h0m2-4h0m5 0h0m1 1h0m1-1h0m4 5h0m4-1h0m2 3h0m6-5h0m5-2h0m4 1h0m6 2h0m5 2h0m0-1h0m3-4h0m8 5h0m8-4h0m3-1h0m6 0h0m4 7h0m2 0h0m6 3h0m-11-1h0m-2 2h0m-8-1h0m0 2h0m-3 0h0m-3-4h0m-3 7h0m-6-6h0m-4-1h0m-2 1h0m-9 2h0m-3-2h0m-2 5h0m-1-4h0m-3 1h0m-7 4h0m-6-6h0m0 6h0m-5 0h0m-1-2h0m-3 1h0m0-2h0m-4 0h0m-3-4h0m-4 6h0m-7-2h0m-3 1h0m-2-4h0m-17 5h0m-3-6h0m-4 6h0m-2-5h0m-7 6h0m-2-2h0m-4 1h0m-6-6h0m-4 0h0m-1 2h0m-25 3h0m-13-4h0m-3 2h0m-3 3h0m0 0h0m-1-6h0m-2 6h0m-2 1h0m-13-7h0m14 8h0m5 0h0m2 7h0m5 0h0m2-1h0m8-5h0m0-1h0m1 3h0m8 4h0m2 0h0m0-3h0m0-2h0m3 0h0m4 3h0m0 2h0m2 0h0m2-2h0m1-2h0m1 3h0m4-6h0m1 3h0m0 1h0m0-4h0m2 5h0m2 2h0m9-3h0m2 3h0m5-6h0m2 2h0m4 1h0m0-1h0m7-1h0m2 2h0m13-4h0m5 4h0m4-2h0m4 5h0m1-4h0m11 3h0m3-1h0m8 1h0m5-3h0m1 2h0m5-1h0m3 0h0m3-2h0m2-2h0m3 6h0m2-2h0m7 2h0m9 0h0m4 0h0m4 1h0m4 0h0m1-1h0m1-6h0m2 2h0m2 5h0m10 8h0m-1 0h0m-1-6h0m-2 6h0m-4-7h0m-7 6h0m-1-2h0m-2-1h0m0 3h0m-11-6h0m-2 5h0m-11-1h0m-10-3h0m-3-1h0m-18 5h0m-16-1h0m-4 2h0m-5-6h0m-4 3h0m-16-1h0m-2 5h0m-2-5h0m-2 1h0m-3 0h0m-5-3h0m-2 2h0m-3-2h0m-7 1h0m-6 3h0m-6-2h0m-1 1h0m-5 2h0m-5-1h0m-1 0h0m-12-1h0m32 5h0m14 0h0m5 0h0m3 4h0m7-3h0m1 5h0m4-6h0m1 4h0m4-3h0m11-1h0m9 2h0m6 4h0m6-1h0m0-4h0m2 1h0m1 3h0m0-4h0m6 4h0m4 2h0m4-7h0m4 2h0m4 0h0m0 5h0m3 0h0m0-4h0m8 3h0m2-2h0m1 0h0m9 1h0m7-1h0m1-3h0m2 1h0m8 2h0m8 2h0m0 2h0m-2 6h0m-2-2h0m-1-1h0m-2 3h0m0-2h0m-11 3h0m-3-2h0m-6-5h0m-1 4h0m0 0h0m-2-2h0m-5 3h0m-3 0h0m-3-1h0m-4-1h0m-3 2h0m-2 2h0m-3-1h0m-13-2h0m-2-1h0m-7 1h0m-1-3h0m-1 4h0m-5-5h0m-1 1h0m-8 1h0m-15-2h0m-5 2h0m-6-1h0m-4-1h0m56 11h0m11 3h0m2-3h0m5 3h0m1 1h0m7-6h0m9 4h0m4-1h0m5 3h0m4-6h0m3 2h0m-13 5h0m-13 0h0m-1 3h0m-1-2h0m-13 1h0m-9-2h0m-14 2h0m-406 83h0m-29 1h0m-32 8h0m3-3h0m19 2h0m13 0h0m383 6h0m-7-3h0m-5 6h0m-20-2h0m-331 2h0m-57-5h0m369 13h0m8-4h0m19 5h0m5-3h0m6-3h0m22 3h0m-6 25h0m-54-2h0m-367-3h0m11 13h0m412 0h0m12 9h0m-62 3h0m75 1h0m62 8h0m-23-1h0m-21 0h0m-157 6h0m191 14h0m-12-4h0m-201 10h0m55-2h0m37-1h0m-30 14h0m-26 8h0m185 6h0m-73-2h0m-9 0h0m-63 5h0m-79 4h0m139-3h0m52 5h0m-163 14h0m23 1h0m24 1h0m121-4h0m60 8h0m-64 0h0m-12 6h0m-26 0h0m-57-4h0m14 12h0m97-4h0m6 1h0m29-3h0m43 14h0m-43-5h0m-9 4h0m-19-6h0m-54 4h0m30 9h0m77 1h0m9 0h0m16 0h0m-41 6h0m-55 2h0m-52 2h0m33 0h0m-14 12h0m65 9h0m78 1h0m12 0h0m2-3h0m8-2h0m4 1h0m16 8h0m-10 3h0m-2-1h0m-2 3h0m-1-6h0m-1 2h0m-1-3h0m-5 5h0m-9 1h0m0 0h0m-15-1h0m-1 1h0m-13-6h0m-5 2h0m-17 3h0m-22-2h0m-19 3h0m-284-1h0m1 6h0m0-2h0m6 2h0m1 4h0m3-5h0m1 1h0m5 4h0m3-4h0m308-2h0m4 2h0m2-3h0m28 2h0m11 2h0m12 3h0m2-3h0m12-1h0m2 0h0m3 3h0m9 1h0m14 0h0m6 7h0m-11-5h0m-2 2h0m-3 3h0m-6 1h0m-16-2h0m-3 1h0m-1-1h0m-3 2h0m-5 0h0m-22 0h0m-4-3h0m-14-1h0m-14 1h0m-1 1h0m-22-5h0m-2 3h0m-23-2h0m-58-1h0m-8 0h0m-175 0h0m-16 2h0m-3-2h0m-1 7h0m-1-7h0m-1 1h0m-2 6h0m-2-6h0m-4 0h0m-5-1h0m-4 2h0m0 5h0m8 1h0m7 0h0m5 1h0m5 6h0m183-2h0m40-1h0m69-3h0m13 0h0m2 6h0m12-5h0m31-2h0m9 4h0m2-2h0m5 2h0m6-4h0m1 5h0m0-1h0m4-1h0m2 4h0m2-1h0m3 0h0m15-3h0m0-1h0m13 5h0m1-4h0m6-2h0m-1 7h0m0 4h0m-5 0h0m-6-4h0m-10 2h0m0 1h0m-10 3h0m-3-2h0m-1-3h0m-13 4h0m-12-3h0m-1 2h0m-7 1h0m-1-2h0m-3 1h0m-2-2h0m-13 1h0m-31 4h0m-95-2h0m-41-3h0m-146 5h0m-5-1h0m-17-4h0m-4-2h0m23 14h0m2-1h0m1-3h0m1 4h0m1-5h0m11 6h0m139-1h0m14-4h0m84 4h0m2-5h0m31 1h0m5 2h0m19 2h0m27-2h0m1 3h0m1 0h0m3 0h0m11-2h0m1 0h0m11 0h0m18-4h0m16 0h0m1 2h0m5-2h0m-4 8h0m-1 5h0m-12-3h0m-1-1h0m-2 4h0m-7-6h0m-1 0h0m-2 5h0m-2-3h0m-5-1h0m-8 3h0m-5-2h0m-10-2h0m-10 5h0m-56 2h0m-3-6h0m-31 6h0m-2-6h0m-81 5h0m-79 1h0m-24-2h0m-18-4h0m-27 1h0m-2 0h0m-11-2h0m19 12h0m119 2h0m50 0h0m32 0h0m47 0h0m35-6h0m24 4h0m2-4h0m15 3h0m6 3h0m0-3h0m5 4h0m1-2h0m2-1h0m10-1h0m3 3h0m1 0h0m8-3h0m5 0h0m2-2h0m4 4h0m16-5h0m-8 10h0m-3 3h0m-12-3h0m-1 3h0m0-2h0m-14 2h0m0-3h0m-6 0h0m-8-2h0m-4 4h0m-1-2h0m0 2h0m-3 2h0m-1-2h0m-6 1h0m-7-5h0m-3 7h0m-72-4h0m-69 0h0m-165 0h0m159 10h0m55-3h0m57 2h0m14 1h0m15-3h0m15 2h0m1-2h0m14 2h0m13-3h0m0 3h0m2 3h0m-6 4h0m-3-3h0m-9 1h0m-2 0h0m-3 2h0m-5-2h0m-1 1h0m-3 1h0m-4-2h0m-8 6h0m-2-7h0m-36 6h0m-127 1h0m-242 0h0m-3 0h0m-33 7h0m25-6h0m3 0h0m10 5h0m132-2h0m215 2h0m68-3h0m31 6h0m-17 5h0m-6-2h0m-16-1h0m0 3h0m-13 2h0m-12-2h0m-12-3h0m-3-1h0m-33 1h0m0 5h0m-8-2h0m-14-2h0m-4 3h0m-23-4h0m-2 4h0m-7 1h0m-1-3h0m-8 3h0m-16-6h0m-8 1h0m-2 4h0m-11 1h0m-19-5h0m-1 2h0m-4-4h0m-4 2h0m-50 0h0m-157 5h0m0 0h0m-1-4h0m4 9h0m2-4h0m162 0h0m39 1h0m8 0h0m2 4h0m9-5h0m6 4h0m0-1h0m2-2h0m15 0h0m3 1h0m55-1h0m3-1h0m3 0h0m2 6h0m22-2h0m22-2h0m34 4h0m26-6h0m4 1h0m-11 11h0m-13-2h0m-8 3h0m-14-2h0m-5 3h0m-8-6h0m-1 7h0m-16-5h0m-13-1h0m-4 4h0m-6 1h0m-3 0h0m-14-1h0m-1-2h0m-10 0h0m-3 3h0m-3 0h0m-15 1h0m-10-5h0m-4 4h0m-2-5h0m0-1h0m-8 6h0m-8 0h0m-2-3h0m-5 4h0m-15-5h0m-7 4h0m-2-4h0m-1-1h0m-1 0h0m-4 10h0m12-1h0m9 2h0m27-3h0m5-1h0m3 6h0m4-6h0m3 6h0m0-3h0m2 2h0m4 0h0m1 2h0m1-4h0m4 3h0m1-1h0m21 2h0m4-2h0m14 2h0m5-4h0m8 2h0m0-5h0m0 2h0m21 0h0m21 0h0m-29 9h0m-3 0h0m-3-2h0m-3 1h0m-2 1h0m-2-1h0m-27 3h0m-2-2h0m-4-2h0m-13 3h0m-4-4h0m-4 3h0m-6 1h0m-8 3h0m-2-6h0m-3 6h0m-23-5h0m-6-2h0m-2 2h0m-20 1h0m0 0h0m-1 3h0m0-6h0m-1 6h0m14 6h0m4-4h0m7 3h0m17 0h0m0 0h0m1 1h0m22 3h0m-15 4h0m-4 1h0m-2 3h0m-9-5h0m0 4h0m-9-1h0m-7 2h0m-3 0h0m-1-1h0m-14-3h0m-13 9h0m16-2h0m5 0h0m35-2h0m-25 8h0m-142 46h0m31 0h0m0 1h0m8-2h0m2 4h0m-2 4h0m-2-4h0m28 20h0m-14-1h0m0-1h0m-29 6h0m3 2h0m3 0h0m1 4h0m11-4h0m2-1h0m20 2h0m-9 5h0m-3 1h0m-9 5h0m-3-1h0m-1 0h0m-2-1h0m-9-3h0m4 9h0m2 0h0m0 3h0m4-6h0m15 1h0m13 3h0m13 0h0m-28 6h0m-7 5h0m-1 0h0m-1-6h0m-1 4h0m0 1h0m-1 1h0m-5-4h0m-6 4h0m7 4h0m2 2h0m1-1h0m12 1h0m3-1h0m2 2h0"/><path transform="scale(.25)" fill="none" stroke="#F8766D" stroke-width="5.2" stroke-linecap="round" d="M0 0m2013 1167h0m-22 19h0m119 3h0m82 10h0m-6 0h0m-128-7h0m-76 7h0m159 8h0m53-5h0m5 3h0m-109 9h0m-33-6h0m40 14h0m-64 11h0m173 13h0m-68-5h0m-128 6h0m88 4h0m-357 74h0m-4 1h0m-8-1h0m-12 1h0m-43 3h0m9 2h0m0 3h0m1 0h0m1-1h0m4-4h0m1 3h0m1 0h0m1 2h0m1-1h0m9 1h0m18 1h0m6-7h0m4 2h0m4 0h0m2 2h0m0 2h0m5-4h0m-5 6h0m-3 0h0m-1 2h0m-5-1h0m-14 1h0m-3 2h0m0-2h0m-8 1h0m-18 4h0m-1 0h0m-5-5h0m-3 3h0m6 5h0m1-2h0m2 1h0m1 6h0m1-4h0m1 2h0m1-5h0m0 0h0m6 1h0m21-1h0m10 13h0m-8-3h0m-1 2h0m-5-4h0m-15 1h0m-2 3h0m-1 3h0m0-6h0m-2-1h0m-32 12h0m42 1h0m2-3h0m6 2h0m334 3h0m9 7h0m-8-5h0m-17 6h0m-323-5h0m-1 1h0m-40 11h0m18-3h0m0 0h0m8-3h0m4 4h0m0-4h0m3 3h0m4-3h0m7 4h0m0-4h0m6 4h0m1-4h0m1 7h0m1-2h0m3 2h0m2-1h0m5-6h0m0 7h0m4-7h0m287 3h0m0 4h0m3-3h0m10 0h0m5-2h0m14 5h0m12 0h0m17-7h0m14 7h0m27 8h0m-21-2h0m-9 0h0m-5 2h0m-5-6h0m-1 1h0m-2 2h0m-1-1h0m-1 0h0m-1-2h0m-9-1h0m-3 7h0m-1-1h0m-12-2h0m0-3h0m-19 1h0m-21 3h0m-277-2h0m-18-2h0m-5-1h0m-7 2h0m0 3h0m-1-3h0m-2 0h0m-20-2h0m-3 3h0m-4-1h0m-1 2h0m-1-3h0m-3 2h0m-7 0h0m-1 3h0m-11 1h0m0 7h0m2 0h0m2-6h0m7 1h0m1 6h0m0-2h0m2 2h0m7-3h0m9 3h0m6-3h0m2-4h0m5 2h0m1 3h0m2 2h0m1-7h0m3 3h0m10 0h0m1-1h0m1 2h0m3 0h0m1-1h0m9 3h0m0-6h0m1 7h0m0-4h0m3 1h0m9 1h0m1 2h0m6-2h0m29 2h0m232-4h0m3-3h0m6 5h0m7-4h0m6 6h0m2-7h0m5 6h0m6-5h0m0 4h0m9 2h0m15 0h0m5-4h0m10 2h0m1-5h0m4 4h0m3 0h0m1-3h0m6 6h0m2-3h0m3-4h0m4 3h0m4 2h0m1 0h0m0-4h0m3 3h0m1-4h0m1 4h0m8 1h0m2-2h0m12 6h0m-3 4h0m-1-5h0m-7 0h0m-3 2h0m0-1h0m-2 0h0m0 3h0m-5-2h0m-1 2h0m-2 1h0m-7 2h0m-1-4h0m-1-1h0m-18 3h0m-4-2h0m-2-2h0m-3 2h0m-2-1h0m-10-2h0m-1 2h0m-1-1h0m-1 1h0m-1 5h0m-7 0h0m-6-6h0m-1 2h0m-4 1h0m0-4h0m-4 5h0m-14-4h0m-1 2h0m-1-2h0m-2 4h0m-14-1h0m-7 1h0m-225-4h0m-11 2h0m-17 4h0m-7-3h0m-6 3h0m-4-3h0m-4-4h0m-3 6h0m-16-1h0m-1-5h0m-5 3h0m-4-2h0m-13 3h0m-2-1h0m0 1h0m-5-3h0m0 3h0m-4 1h0m-1-5h0m-4 6h0m0-2h0m-4-4h0m-3 5h0m-1-4h0m-1 2h0m-5-2h0m-5 1h0m-2 10h0m2-3h0m1 5h0m1-6h0m11 5h0m2-4h0m1 2h0m7 2h0m0-2h0m15-1h0m0 3h0m6 0h0m2 2h0m6-4h0m0-3h0m4 2h0m11 3h0m5 1h0m2-3h0m3-1h0m8 0h0m0-2h0m0 0h0m1 6h0m6-4h0m0 4h0m0-2h0m266-2h0m2 2h0m10 3h0m3-5h0m15 3h0m4-5h0m7 3h0m14 2h0m9-5h0m1 3h0m0 0h0m1 2h0m0-4h0m11 1h0m27-2h0m2 2h0m1 0h0m1 2h0m6 0h0m1 1h0m11 0h0m12-1h0m6-1h0m1-1h0m3 4h0m8 6h0m-5 3h0m-11-2h0m-4 2h0m-2-5h0m-4 5h0m-2-1h0m-3 0h0m-1 0h0m-4 0h0m-1 0h0m0-5h0m-1-1h0m-1 3h0m-24-1h0m-11 0h0m-7 2h0m-4-4h0m-1 1h0m-8 1h0m-1 3h0m-4-1h0m-3-3h0m-2 0h0m-2 0h0m-1 6h0m-14 0h0m0-4h0m-11-3h0m-1 0h0m-13 2h0m0 0h0m0 4h0m-8 0h0m-1-2h0m-16 0h0m-7 1h0m-3-1h0m-1-2h0m-244 0h0m-11-2h0m-4 1h0m-1 6h0m-4-3h0m-9 1h0m-5-3h0m-2-2h0m-5 2h0m-17 2h0m-2-2h0m-3-2h0m-2 7h0m-2-7h0m-1 7h0m-2-6h0m-4 3h0m-6-1h0m-7 4h0m-5-5h0m35 10h0m35-1h0m253 3h0m9-2h0m3 2h0m2 0h0m7-3h0m5-2h0m6 1h0m0 2h0m5 1h0m8-3h0m2 5h0m14-6h0m13-1h0m0 7h0m2-1h0m8-5h0m6 4h0m2-2h0m4-1h0m1 0h0m1-1h0m1 4h0m5 1h0m8-5h0m7 5h0m15 1h0m8-6h0m3-1h0m6 7h0m9-5h0m14 4h0m2-6h0m3 0h0m18 3h0m1 2h0m5-1h0m1-1h0m5 2h0m7 0h0m3 6h0m-5-3h0m-5 0h0m-3 7h0m-3-3h0m0-3h0m-3 6h0m-3-2h0m-8 1h0m-5-5h0m-1 0h0m-5 2h0m-1-3h0m-2 5h0m-1 1h0m-12-4h0m-14-2h0m-1 2h0m0-1h0m-1 3h0m-16 1h0m-2-2h0m-7 2h0m-2 1h0m-5-1h0m-1-5h0m-2 3h0m-3 2h0m-5-4h0m-1 0h0m-7 2h0m-5 4h0m-7-7h0m-5 6h0m-6-3h0m-5-3h0m-5 5h0m-4-3h0m-1 3h0m-9-4h0m-10 3h0m-3-1h0m-7 4h0m-2-6h0m-5 1h0m0 0h0m-8 3h0m-1-4h0m-13 0h0m-302 4h0m285 9h0m10 1h0m0-6h0m1 4h0m2-3h0m2 4h0m3-5h0m1 2h0m9 3h0m9-1h0m0 2h0m2-5h0m1 4h0m3-5h0m2 3h0m6 0h0m0-3h0m4 6h0m4-2h0m7-2h0m1 2h0m3-1h0m7-3h0m2 0h0m1-1h0m1 7h0m13-5h0m1 3h0m0-4h0m1 2h0m8-1h0m4 5h0m6-6h0m12 5h0m10 1h0m3-5h0m1 2h0m1 2h0m5-6h0m2 4h0m2 3h0m4 0h0m7-3h0m0 1h0m2-2h0m14 4h0m6-6h0m3 1h0m4 2h0m0-1h0m1 3h0m1-1h0m10-5h0m2 7h0m10-5h0m5 0h0m1 1h0m3-2h0m3 1h0m2 2h0m10-1h0m-2 11h0m0-4h0m-2 3h0m-8-2h0m-3 4h0m-4-1h0m-4-5h0m-5 6h0m-4-7h0m-6 5h0m-4-2h0m-1 1h0m-4-1h0m-6 1h0m-1-3h0m-2 6h0m-5-5h0m-1 0h0m-1-2h0m-4 7h0m-1-4h0m-4 4h0m-1 0h0m0-7h0m-4 0h0m-10 1h0m-4 2h0m0 0h0m0 3h0m-16 1h0m-6-7h0m-1 1h0m-8 6h0m-6 0h0m-15-6h0m-3 2h0m-7-3h0m-2 5h0m0 2h0m-7-2h0m-7 2h0m-1-2h0m-4-4h0m0-1h0m-6 1h0m-11 2h0m-2 4h0m-6-4h0m-7 1h0m0 1h0m-13 0h0m-1-4h0m-5 0h0m0-1h0m-12 4h0m-3-1h0m0-2h0m-6 12h0m1 2h0m8-2h0m15-2h0m3 2h0m5-2h0m18-2h0m3-1h0m10 0h0m0 0h0m8 2h0m20-2h0m5 4h0m2 2h0m2-5h0m0 3h0m9-4h0m1 1h0m0 5h0m6-5h0m2-1h0m5 3h0m2-3h0m8 7h0m6-4h0m9-1h0m1 2h0m19-3h0m6 5h0m1-2h0m5-4h0m8 5h0m7 2h0m2-1h0m1-3h0m2-2h0m2 6h0m0-4h0m0 2h0m9 1h0m12-2h0m19 0h0m5 0h0m4 0h0m-10 6h0m-8-2h0m-13 5h0m-11-2h0m-1 0h0m0 0h0m-3 4h0m0-4h0m-7 0h0m-4-2h0m-5 1h0m-2 5h0m-7-2h0m-8-4h0m-1 4h0m0-1h0m-1-1h0m-1 3h0m-2 1h0m0-2h0m-1-4h0m-15 3h0m-7-4h0m-5 0h0m-3 6h0m-28-3h0m-10 3h0m-2-1h0m-9-5h0m-7 3h0m-4-3h0m-2 2h0m0-1h0m-6-1h0m-7 3h0m-2 4h0m-1-4h0m-1 2h0m-4 0h0m-14-4h0m-3 1h0m-1-2h0m-3 4h0m-1 1h0m-10-4h0m-5 1h0m-6 2h0m-8 1h0m-1-2h0m-12 11h0m10-3h0m3-3h0m5 2h0m0-1h0m31 0h0m1 3h0m3 0h0m1-2h0m12 0h0m5 5h0m10-6h0m0-1h0m0 1h0m3 4h0m0-3h0m1 3h0m3-4h0m19 5h0m9 0h0m12-5h0m15 6h0m2-1h0m0 0h0m10-5h0m8 6h0m6-3h0m1 3h0m8-1h0m1-6h0m2 4h0m0-1h0m1 1h0m6-1h0m19 4h0m4-6h0m1 6h0m4-7h0m3 0h0m4 1h0m2 1h0m3-2h0m4 0h0m2 6h0m2-1h0m14-1h0m11 3h0m2 6h0m-1-3h0m-2 1h0m-15-2h0m-3 4h0m-1 1h0m-4 0h0m0-4h0m-6-2h0m-16 3h0m-7 1h0m-2-3h0m-3 0h0m-11 6h0m-12-4h0m-7-3h0m-1 2h0m-3 4h0m-3-3h0m-7 2h0m-6-5h0m-6 3h0m-2 2h0m-2-3h0m-1 3h0m0-1h0m-1 1h0m-1-1h0m-2-4h0m-1 0h0m-2 0h0m0 2h0m-2 1h0m-1 0h0m-1 2h0m-4-5h0m-10 7h0m0-1h0m-15 1h0m-5-2h0m-4-1h0m-10 1h0m-5 0h0m-3-1h0m0 1h0m0-4h0m0 2h0m-1-1h0m-5 0h0m-5 2h0m-10-2h0m-2-1h0m-6 6h0m0-5h0m-5 2h0m-8 2h0m-1-2h0m-14 2h0m-1-5h0m-4 5h0m-8-1h0m-1-2h0m0-1h0m-1 2h0m3 9h0m2-4h0m4 6h0m3-3h0m6 1h0m1-5h0m3 0h0m3 7h0m4-7h0m7 6h0m8-5h0m13 4h0m7-4h0m2 2h0m4 1h0m2-2h0m9 1h0m3-1h0m5 4h0m3-1h0m3-5h0m0 3h0m1 3h0m13 0h0m2-1h0m10 2h0m19 0h0m0-4h0m1 0h0m1-1h0m15 0h0m3 0h0m6 1h0m7-1h0m18 1h0m1-3h0m1 0h0m1 2h0m1 1h0m3 1h0m9-2h0m4 0h0m10 5h0m0-1h0m9-6h0m0 4h0m1-2h0m0 3h0m1-2h0m11-2h0m2 6h0m1-1h0m4-1h0m6 1h0m4-5h0m0 4h0m3-5h0m2 7h0m3 0h0m3 0h0m-17 4h0m-3 1h0m-8 0h0m-1 1h0m-3-4h0m-2 4h0m-4 1h0m-16-1h0m-4-1h0m0-1h0m-3-1h0m-1 0h0m-4 1h0m0 1h0m-9-2h0m-3 4h0m-5 0h0m-3-1h0m-19-4h0m-4 4h0m-5-3h0m-4-1h0m-2 4h0m-2 1h0m-6-5h0m-16-1h0m-3 3h0m-4-1h0m-10 3h0m-4-4h0m-4 6h0m0-3h0m-4 0h0m-1-1h0m-7 0h0m-4 4h0m-14-1h0m-6-2h0m-8-4h0m-17 0h0m-2 3h0m-3 2h0m-2-5h0m-11 5h0m0 2h0m-4-3h0m-1-1h0m0 1h0m-14 3h0m15 6h0m4-4h0m9 3h0m14 3h0m1-6h0m2 2h0m1 3h0m7 0h0m5 0h0m1-2h0m0 2h0m3-3h0m1 0h0m12 2h0m7-3h0m17-2h0m15 7h0m7-4h0m8-1h0m3 3h0m30 0h0m3 0h0m21-2h0m1-2h0m4 1h0m1 0h0m0 2h0m4-3h0m1 1h0m1 4h0m9-1h0m11-5h0m3 2h0m1 5h0m9-6h0m2 3h0m0 2h0m1 0h0m4-5h0m9 3h0m1 1h0m2-1h0m1 0h0m2-1h0m6-2h0m9 6h0m1-4h0m14 11h0m-2 1h0m-3-1h0m-6-1h0m-2-4h0m-8-1h0m-4 7h0m-24-7h0m-4 3h0m-3 0h0m-7 2h0m-1-2h0m-3 1h0m-2-1h0m-3 3h0m-4-2h0m-3-1h0m-1 2h0m-7-1h0m-17 2h0m-5 0h0m-14-2h0m-5 0h0m-1-3h0m-1 4h0m-2-1h0m-1 3h0m-9 0h0m0-3h0m-15 1h0m-6-5h0m0 3h0m-1 4h0m-4-4h0m-13 3h0m-17-6h0m-1 0h0m-14 0h0m-2 3h0m0-1h0m-3 1h0m0-1h0m-6-2h0m-1 3h0m-4 2h0m-17-1h0m2 7h0m3 3h0m4-4h0m2-1h0m56 1h0m14 1h0m2-1h0m11 4h0m3-3h0m6 4h0m3 0h0m7-2h0m3 1h0m1-5h0m11 1h0m3 4h0m0-6h0m6 7h0m5-1h0m3-5h0m3 3h0m2 1h0m1 0h0m6-1h0m11-2h0m5 4h0m3-4h0m3 3h0m4 1h0m2-4h0m20 3h0m2-2h0m7-2h0m4 6h0m5-7h0m4 5h0m4-4h0m15 2h0m3 3h0m2-2h0m0-3h0m13 6h0m-7 3h0m-5 2h0m-3-2h0m-1 5h0m-4-1h0m-5 0h0m-2-1h0m-6-5h0m-9 5h0m-6-2h0m-14-2h0m-5 3h0m0 0h0m-7 0h0m0-2h0m0 1h0m-1 1h0m0-2h0m-1 4h0m-2-1h0m0 1h0m-7-3h0m-7-1h0m-3-2h0m-1 7h0m-1-6h0m-1 6h0m-5-4h0m-3 3h0m-7-2h0m-11-1h0m-2 2h0m-4-3h0m-5-1h0m-3 6h0m-1 0h0m-4-2h0m-25-1h0m-3-4h0m-1 4h0m0-2h0m-3-2h0m-12 3h0m-41-3h0m-26 15h0m75-4h0m6 1h0m8-2h0m21 1h0m1-3h0m2 4h0m10-1h0m0 4h0m6-1h0m1-5h0m11 6h0m3-4h0m7 3h0m8-1h0m1 0h0m4 1h0m13-3h0m5-1h0m3 1h0m18-2h0m21 3h0m2 0h0m26 3h0m3-4h0m17 10h0m0-1h0m-5 0h0m-3 1h0m-7-3h0m-1 0h0m-2-2h0m-6 3h0m-7-3h0m-3 5h0m-1-2h0m-2-1h0m-1 0h0m0 4h0m-1-1h0m-3-3h0m-2-2h0m-21 2h0m-3 0h0m-5 1h0m-4 4h0m-6-2h0m-8 2h0m-7-2h0m-6-4h0m-11 3h0m-11 2h0m-2-3h0m-8-1h0m-3 5h0m0-2h0m-2 0h0m-2 1h0m-2-1h0m0-5h0m-2 1h0m-12 2h0m-4-1h0m-3 3h0m-9-2h0m-2-3h0m13 9h0m2 0h0m1 4h0m16-4h0m1 4h0m0-1h0m3 1h0m1 2h0m8-6h0m10 1h0m3-1h0m6 6h0m0-5h0m15 1h0m18-3h0m6 2h0m2 5h0m6-5h0m37 5h0m3 0h0m22-7h0m5 6h0m10 5h0m0 2h0m-3-4h0m0 5h0m-12-6h0m-6 0h0m-7 2h0m0 3h0m-16 0h0m-10-4h0m-7 5h0m-6-2h0m-15 1h0m-14-4h0m-10 4h0m-7-5h0m-20 4h0m-5-2h0m-7 5h0m-2-6h0m-8 3h0m-2-3h0m-3 6h0m-16-6h0m7 7h0m3 5h0m3-5h0m3 4h0m1-3h0m78 1h0m7 1h0m5 3h0m10-1h0m5-2h0m0 4h0m11-5h0m2 5h0m2-1h0m39 1h0m4 2h0m-17 2h0m-6-1h0m0-2h0m-2 6h0m-7 1h0m-1-7h0m-2 2h0m-1-1h0m-13 5h0m-12 1h0m-2-4h0m-10 1h0m-9 3h0m-11-7h0m-2 6h0m-50 1h0m-4-4h0m-2 0h0m-3-2h0m-2 0h0m-2 5h0m-2-6h0m-1 5h0m-220 5h0m27 1h0m27 4h0m3-7h0m158 4h0m3 2h0m0 1h0m13-5h0m13 4h0m2 1h0m34-1h0m13-5h0m9 0h0m4 0h0m0 5h0m2-5h0m1 6h0m3-4h0m3 1h0m1 1h0m3-3h0m1 4h0m7 1h0m5-5h0m2 4h0m27-2h0m7-4h0m53 8h0m-31 6h0m-15-4h0m-16 2h0m-9-1h0m-4-2h0m-1 0h0m-26 6h0m-4-2h0m-1-4h0m-6 6h0m-3-4h0m-4-1h0m-1 3h0m-1-5h0m-8 3h0m-8 2h0m-21 2h0m-5-5h0m-18 2h0m-3 3h0m-5-6h0m-2 2h0m-1-3h0m-5 4h0m-7-4h0m-1 1h0m-3 0h0m-5 1h0m-1 2h0m-2 0h0m-156-3h0m-22 2h0m-4-3h0m-2 1h0m-10 3h0m-12-4h0m5 8h0m7 3h0m6 4h0m10-5h0m1-2h0m3 6h0m2 0h0m2-1h0m170 0h0m3-3h0m3 0h0m13-1h0m14 2h0m5-3h0m0 7h0m1-2h0m42-4h0m10-1h0m17 1h0m1-1h0m1 2h0m17 0h0m14-2h0m20 4h0m1-1h0m26-3h0m33 11h0m-20 0h0m-20 0h0m-6-2h0m-14 1h0m-1 4h0m0-3h0m-16-3h0m-12 4h0m-5-3h0m-2 4h0m-12-1h0m-4-3h0m-3 0h0m-2 6h0m-5-1h0m-4-6h0m-7 1h0m-5 4h0m-6-3h0m-12-2h0m-2 1h0m-5 2h0m-2-3h0m-5 3h0m-12-1h0m-28 1h0m-2 0h0m0-1h0m-1 4h0m-17-6h0m-5 4h0m-1 2h0m-154-1h0m-2-5h0m-5 7h0m0-2h0m-4 4h0m12-1h0m2 2h0m1 2h0m5 2h0m2-1h0m2-5h0m2 6h0m3 0h0m10 0h0m11-3h0m3 4h0m1-7h0m3 5h0m94 0h0m6-5h0m9 7h0m8-5h0m1 0h0m1-2h0m9 4h0m4 2h0m2 0h0m5 1h0m2-3h0m1 0h0m5 3h0m8-3h0m4 1h0m7-5h0m1 7h0m3 0h0m6-6h0m2 0h0m8 2h0m2 0h0m11 1h0m1 0h0m11 2h0m0 0h0m0 0h0m17-2h0m13 0h0m5-3h0m2 3h0m1-1h0m2 2h0m18 2h0m18 0h0m22-4h0m27-1h0m11 12h0m-108-1h0m-10-5h0m-4 4h0m-2 3h0m-3-4h0m-3-1h0m-23-1h0m-3 5h0m-4 1h0m-4-5h0m-9 1h0m-7-1h0m-5-2h0m-3 7h0m-7-6h0m0 5h0m0-6h0m-3 7h0m-2-2h0m-1 1h0m-3 0h0m-9 0h0m-5 1h0m-12-2h0m-1-3h0m-2 3h0m-1-4h0m-3 5h0m-6 0h0m-3-1h0m-2-3h0m-6 4h0m-52 1h0m-9 0h0m-10-3h0m-4 1h0m-18-3h0m-18 5h0m-1-5h0m-4 2h0m-1 0h0m-2 3h0m-1-4h0m-2 4h0m-1-5h0m0 3h0m-16-4h0m-4 3h0m12 4h0m11 2h0m1-1h0m2 0h0m2 6h0m0-6h0m2-1h0m3 4h0m4 3h0m4-1h0m2 1h0m2-4h0m18-3h0m8 1h0m14 0h0m2 1h0m6 1h0m64 0h0m3 1h0m3 2h0m9-5h0m6 1h0m1 4h0m1-4h0m1-2h0m1 1h0m7 0h0m0 5h0m4-2h0m3 1h0m5 0h0m1 2h0m1-7h0m5 5h0m2-2h0m2-2h0m23 0h0m0 3h0m1 0h0m10 2h0m6 1h0m7-5h0m8 0h0m1 1h0m3 0h0m4-3h0m3 7h0m3-7h0m6 1h0m1 4h0m6-2h0m7 2h0m1 1h0m46-5h0m16 1h0m17 2h0m21 10h0m-48-5h0m-17 4h0m0 0h0m-6 1h0m-18-2h0m-17 0h0m-5 1h0m-10-4h0m-5 4h0m-2-1h0m-6-4h0m-2 5h0m-1-3h0m-14-1h0m-13 4h0m-4-5h0m-9 5h0m-14-1h0m-5-2h0m-8 4h0m-4-4h0m-4-2h0m0 3h0m-3 3h0m-3-1h0m-6-2h0m0-1h0m-5 2h0m-4-4h0m-3 6h0m-1-5h0m-7 1h0m-1-2h0m-16 1h0m-3 3h0m-3 2h0m-75-2h0m-3 3h0m-4-3h0m-3-4h0m-5 6h0m-1-3h0m-7-3h0m-3 2h0m-145 11h0m7-1h0m3-2h0m1 1h0m2-3h0m6 7h0m0-1h0m6 1h0m129-7h0m4 5h0m6-2h0m2-1h0m10 1h0m64 1h0m7 2h0m11-4h0m7 0h0m8 2h0m3-1h0m0-1h0m1-1h0m1 1h0m0 1h0m1 2h0m9 1h0m4 0h0m3-2h0m4 2h0m9-6h0m9 6h0m7-6h0m42 3h0m5-1h0m20 4h0m4-6h0m4 1h0m1 0h0m28 6h0m3-2h0m6-2h0m3 4h0m11-3h0m38 3h0m12 8h0m0-4h0m-41 1h0m-20 0h0m-10 1h0m-18-3h0m-5 1h0m-7-1h0m-15-2h0m-1 3h0m-10 1h0m-15 0h0m-10-1h0m-27 0h0m-8 1h0m-2-1h0m-3-2h0m-12 5h0m-12 1h0m-15-4h0m-2 3h0m-2-4h0m-4 5h0m-5-4h0m0-1h0m-6-1h0m-7-1h0m-58 4h0m-1 3h0m-8-7h0m0 3h0m-6 0h0m-3 4h0m-1-3h0m-1 1h0m-134 2h0m-1 0h0m-4-5h0m-22-2h0m-11 1h0m-3 8h0m0 3h0m1-3h0m2 1h0m6-1h0m16 6h0m4-3h0m3-1h0m5-3h0m6 6h0m22-3h0m1 1h0m7 2h0m6 1h0m100-6h0m10 2h0m3 2h0m1-5h0m7 5h0m51-4h0m5 4h0m13-2h0m16 3h0m11-2h0m2 2h0m10 0h0m6 1h0m5-1h0m3-3h0m0-2h0m2 3h0m1 2h0m5-3h0m2-2h0m3 0h0m3 5h0m1-5h0m1 6h0m2-6h0m0-1h0m1 1h0m0 5h0m17 1h0m2 0h0m5-1h0m7-3h0m9-1h0m3-2h0m0 4h0m3 0h0m2 1h0m4-2h0m5 1h0m5-1h0m5-2h0m10 4h0m2 1h0m3-6h0m18 2h0m29 5h0m5-1h0m1-2h0m16-3h0m7 1h0m-34 11h0m-2 1h0m-21-6h0m-26 5h0m-6-2h0m-2-2h0m-4 3h0m-3 3h0m-4-1h0m-7-4h0m-3 4h0m-12-5h0m-12 0h0m-7 6h0m-7-4h0m0-1h0m-24 1h0m-7 2h0m-8-2h0m-10 3h0m-1 1h0m-1-1h0m-2-5h0m-22 3h0m-6 2h0m-13-3h0m-4-3h0m-3 2h0m-41 1h0m-1 3h0m-1 0h0m-2-2h0m-3-2h0m-5-2h0m-2 0h0m-2 4h0m-4-4h0m-135 7h0m-5-7h0m0 1h0m-2 3h0m-3-4h0m-1 1h0m0 5h0m-19-4h0m0 1h0m-5 0h0m-6-3h0m-2 3h0m-1-3h0m-14 2h0m-1-1h0m-2-1h0m34 11h0m3-3h0m5 1h0m17-1h0m149 3h0m4 2h0m2-3h0m4-2h0m40 2h0m3 1h0m5 2h0m10 2h0m3 0h0m4 0h0m6-5h0m3 1h0m39 1h0m1-4h0m12 6h0m3 1h0m12-3h0m5-3h0m1 4h0m8 0h0m12-2h0m2-3h0m1 5h0m3-4h0m31 4h0m3-1h0m6 3h0m2-6h0m1 0h0m13 6h0m28-3h0m14 1h0m-50 3h0m-16 6h0m-116-2h0m-16-1h0m-5-3h0m-35 0h0m-187 0h0m210 14h0m35-3h0m17 3h0m12-3h0m23 3h0m1-6h0m51 2h0m2 0h0m-42 8h0m-30 3h0m-16-4h0m-74 4h0m-6 1h0m5 3h0m1 2h0m26 4h0m34-2h0m8-3h0m3 5h0m-8 3h0m-31 0h0m-16-1h0m-34 27h0m4-4h0m2 13h0m-11-4h0m-1 4h0m-6 1h0m0 10h0m-11 1h0m-3-1h0m-4 3h0m-80 4h0m5 5h0m45 2h0m-32 3h0m5 7h0m1 0h0m8 6h0m39 6h0m-13 2h0m-10-1h0m-11 9h0m3 0h0m17-6h0m4 3h0m7 1h0m9 0h0m10 7h0m-3 3h0m-1 0h0m0 1h0m-2-2h0m-2 0h0m-3 2h0m0-2h0m-2-1h0m-8 0h0m0-1h0m-37 6h0m14 1h0m23 5h0m11 0h0m3 0h0m11-7h0m-22 14h0m-29-5h0m11 14h0m2-2h0m16-2h0m6-1h0m-12 8h0m-1-1h0"/><path transform="scale(.25)" fill="none" stroke="#00BFC4" stroke-width="5.2" stroke-linecap="round" d="M0 0m2073 1166h0m-3 1h0m-2-3h0m-7 0h0m-7 3h0m-1 0h0m-10-1h0m-7-3h0m-24 3h0m4 9h0m2-7h0m4 7h0m17-1h0m3-4h0m4-2h0m0 3h0m4 3h0m7-2h0m2 2h0m1 0h0m2-3h0m4 2h0m17 2h0m2-1h0m9-3h0m3 2h0m0 2h0m0-3h0m19-3h0m2 4h0m0 1h0m2 0h0m7-2h0m13 8h0m-23-3h0m-1 5h0m-1-1h0m-6 1h0m0-6h0m-2 2h0m-2 1h0m-1 3h0m-4 1h0m-4-4h0m0 3h0m-12-3h0m-5-3h0m-16 6h0m-4-3h0m-6 1h0m0 1h0m-8-5h0m-6 7h0m0-6h0m0 1h0m-3 1h0m-16 2h0m-6 2h0m-4-1h0m-1-1h0m-8 1h0m-4-6h0m-3 5h0m-7 10h0m14-6h0m2 0h0m1 6h0m13-1h0m11-3h0m7 3h0m13-6h0m5 1h0m3 0h0m0-1h0m5 4h0m4 0h0m8 2h0m3-2h0m5 3h0m5-7h0m17 6h0m8 1h0m9-3h0m7 2h0m2-5h0m0 1h0m3 2h0m6 3h0m11-1h0m1-1h0m2 1h0m38 9h0m-17-4h0m-13-2h0m-8-1h0m-4 5h0m-5-3h0m-2-2h0m-1 5h0m-1-2h0m0-2h0m-9 2h0m-1 3h0m-1-4h0m-2-2h0m-16 1h0m-2 5h0m-2-4h0m-5 3h0m-7 2h0m0-7h0m-1 0h0m-3 0h0m-9 1h0m-1-1h0m-9 0h0m-4 4h0m-9-4h0m0 3h0m0-3h0m-4 5h0m-4 1h0m-7-6h0m-3 5h0m-2 1h0m-1 0h0m-2-3h0m-7 2h0m-5-2h0m-4 1h0m-6 0h0m-9-1h0m-6-2h0m-2 0h0m-1 0h0m-4 0h0m-3 3h0m-5 6h0m2-2h0m3 0h0m2 2h0m2 2h0m1-3h0m12 6h0m7-1h0m1-1h0m9-1h0m6 1h0m1-2h0m9-2h0m1 3h0m2-3h0m6 3h0m3-4h0m2 7h0m5-5h0m9 1h0m7-1h0m7 1h0m5-3h0m1 6h0m20-4h0m5 3h0m3-2h0m16 4h0m0-1h0m9-6h0m2 5h0m1 0h0m3-1h0m6 2h0m1-3h0m2 4h0m0-3h0m6 0h0m8 0h0m0-2h0m5-1h0m2 1h0m1 1h0m5 2h0m5 2h0m7-1h0m-1 5h0m-16 0h0m-3 0h0m-3 4h0m-1-6h0m-2 3h0m-8-3h0m-3 5h0m-6 0h0m-8 1h0m-12-1h0m-2-3h0m-3-1h0m-8-1h0m-6 6h0m-4-1h0m-12-5h0m-1 6h0m-3-5h0m0 5h0m-1-5h0m-7 0h0m-2 0h0m0 3h0m-3-2h0m-2 1h0m-5-4h0m-4 5h0m-2-2h0m0 3h0m-8-4h0m-5 1h0m-1-3h0m-1 0h0m-1 2h0m-4-1h0m-4 3h0m-1 2h0m-3-4h0m-1 4h0m-1-3h0m-5 4h0m-24-3h0m0-4h0m-2 1h0m-3 5h0m-4-3h0m-1 3h0m-6-4h0m-6 0h0m-1 2h0m-4-4h0m11 10h0m15-2h0m3 2h0m4 4h0m2-4h0m5 1h0m3 4h0m2-4h0m1-3h0m3 7h0m0-4h0m0 0h0m2-1h0m1 2h0m3-4h0m0 1h0m4-1h0m10 7h0m1-1h0m1 1h0m4-4h0m0-1h0m5 2h0m6 2h0m1-5h0m2 0h0m2 3h0m2 0h0m11-3h0m9 4h0m3-5h0m1 7h0m1-6h0m2 0h0m5 0h0m2 6h0m1-1h0m3-1h0m2-3h0m4-2h0m2 0h0m2 0h0m16 5h0m6-3h0m3 4h0m6-6h0m4 2h0m0 5h0m8-1h0m3-5h0m7 0h0m3 6h0m6-6h0m3 6h0m3-3h0m7-4h0m4 5h0m8 6h0m-5-2h0m-1 1h0m-1-2h0m-5 2h0m-2-1h0m-3 4h0m-2-3h0m-5 4h0m-7-6h0m-2 4h0m-2-2h0m-11 3h0m-9-3h0m-5 0h0m-6 5h0m0-6h0m-2-1h0m-7 2h0m-1 0h0m-16 1h0m0 2h0m-8 1h0m-2-6h0m-4 4h0m-10 3h0m-1-4h0m-2 1h0m-10-1h0m0-2h0m-8 3h0m-3-2h0m0 4h0m-5-5h0m-11 2h0m-10 2h0m0-1h0m-8 1h0m-3 0h0m0-4h0m-4 0h0m-2 0h0m-7 3h0m-8-3h0m-10 3h0m-14-4h0m7 8h0m11 5h0m6-3h0m1 0h0m1 2h0m0-1h0m4 1h0m9-4h0m10 3h0m7-1h0m5-1h0m7 6h0m13 0h0m1-6h0m1-1h0m0 6h0m8-3h0m3 0h0m2 4h0m7-4h0m1 4h0m6-2h0m7-4h0m9-1h0m0 5h0m19-2h0m2 3h0m14-6h0m13 6h0m2-4h0m3 2h0m8 2h0m0-4h0m12-1h0m0-1h0m9 4h0m9 5h0m0 2h0m-1-3h0m-3 5h0m-1-2h0m-5 4h0m-7-1h0m-3 0h0m-3-5h0m-5 4h0m-2 1h0m-13 0h0m-6-4h0m-9-2h0m-3 1h0m-5 1h0m-5-2h0m-3 5h0m-2 2h0m-14-1h0m-8 0h0m-17 0h0m-4-2h0m-5-1h0m-4-3h0m-3 2h0m-8 1h0m-2 0h0m-6-3h0m-5 0h0m0 0h0m-17 0h0m-6 4h0m16 4h0m42 2h0m6 0h0m0 3h0m2-4h0m1-1h0m2 2h0m2 4h0m1-1h0m7-2h0m5 3h0m7-6h0m5 1h0m8-1h0m12 3h0m3-2h0m4-1h0m4 1h0m2 0h0m12 0h0m5 3h0m11-2h0m22-2h0m-8 8h0m-4 3h0m-7 0h0m-1-1h0m-11-1h0m-6 2h0m-9 3h0m-3 0h0m-3-1h0m-6-3h0m-4 4h0m-10-3h0m-1 4h0m-4-2h0m-2-1h0m-3 1h0m-11-5h0m-14 4h0m-1-2h0m-4 4h0m-1-5h0m-16 4h0m-12-2h0m23 5h0m14 0h0m52 2h0m4-2h0m12 4h0m0-2h0m2 4h0m7-2h0m13 2h0m1-1h0m6-5h0m-15 8h0m-14 2h0m-11-1h0m-12 2h0m-467 58h0m13 0h0m19-1h0m-42 5h0m0 18h0m-13 12h0m1-1h0m416 9h0m-20-2h0m-17-1h0m-18 6h0m6 0h0m9 4h0m48 1h0m-364 7h0m294 5h0m7 0h0m71 5h0m-387 0h0m-9 6h0m79 4h0m343-1h0m-85 8h0m-381-1h0m338 8h0m127 9h0m-45 11h0m34 7h0m-3-1h0m-26 5h0m-85 2h0m104 5h0m46 1h0m40-1h0m-11 2h0m-93 3h0m-54 2h0m149 7h0m-40 7h0m-60 7h0m51 1h0m62 6h0m-47 6h0m-36-7h0m-135 0h0m-15 7h0m182 5h0m57 3h0m-66 5h0m30 4h0m61 5h0m15 0h0m-140 16h0m70-5h0m11 14h0m-4 7h0m51 14h0m10-3h0m17 7h0m16-2h0m4 2h0m13 0h0m0-3h0m4 2h0m21 9h0m-9 0h0m-8-4h0m-11 3h0m-6-3h0m-1 4h0m-8-2h0m-18-4h0m-5 2h0m-4 1h0m-2-4h0m-11 1h0m-8 6h0m-13-5h0m-300 5h0m-24 3h0m9-1h0m1 3h0m3-4h0m3 0h0m1 3h0m2-3h0m0 1h0m0 2h0m2 1h0m7-2h0m5 1h0m196-2h0m1 6h0m119-4h0m25 0h0m6-1h0m10 3h0m1-1h0m4-3h0m0 1h0m11-1h0m6 3h0m23-3h0m0 3h0m4 10h0m-10-2h0m-3-4h0m-2 1h0m-2 4h0m-4-3h0m-2 5h0m-3-4h0m-2 1h0m-3 1h0m-3 2h0m-3-4h0m-1-1h0m-13-2h0m-5 6h0m0-1h0m-2-5h0m-1 4h0m-30 0h0m-121-4h0m-196 4h0m-6 1h0m-2 0h0m0-1h0m-4-2h0m-3 1h0m-6-2h0m-1-1h0m-1 4h0m14 4h0m4 4h0m0-2h0m2 1h0m0 1h0m2-2h0m0 2h0m11 2h0m219-4h0m49 1h0m29 3h0m10-6h0m0 4h0m27-1h0m1 3h0m27-6h0m3 2h0m4 5h0m4-6h0m4 5h0m4-3h0m11 0h0m8 4h0m4-5h0m11 11h0m-8-3h0m-2 4h0m-2 1h0m-21 0h0m-4-7h0m-9 0h0m-7 0h0m-11 0h0m-1 0h0m-14 3h0m0 0h0m-1 1h0m-17-2h0m-18-2h0m-2 3h0m-10 4h0m-8-6h0m-273 4h0m-6-3h0m-8-1h0m-3 0h0m-3 3h0m13 7h0m19 1h0m26 3h0m9-1h0m101-4h0m104 0h0m34 3h0m40-2h0m14 1h0m10 2h0m9-2h0m1 1h0m3-2h0m13 0h0m2 4h0m13-6h0m13 5h0m4 2h0m-1 3h0m-12-1h0m-3 4h0m-18-2h0m-6 1h0m-2-3h0m-10 1h0m-12-3h0m-2 0h0m-17 7h0m-34-6h0m-26 5h0m-16-4h0m-69-2h0m-160 2h0m-7 0h0m-3-1h0m9 9h0m21 5h0m48-4h0m198-2h0m30 2h0m26 0h0m4 0h0m7-2h0m31 1h0m12-2h0m2 2h0m2 4h0m0-3h0m5 4h0m-17 7h0m0-4h0m-21 0h0m-15 0h0m-1 0h0m-8 3h0m-18-4h0m-2 5h0m-55-5h0m-96 4h0m-13 2h0m-25-4h0m-89 2h0m-8-3h0m-156 10h0m24 0h0m2 2h0m149-2h0m71-2h0m74 1h0m83 1h0m10-3h0m8 0h0m2 1h0m1-1h0m3 6h0m7-7h0m13 1h0m7 2h0m1 1h0m36 1h0m7 0h0m9-4h0m-40 7h0m-11 6h0m-26-3h0m-2 3h0m-4-4h0m-4 3h0m-5-4h0m-10-1h0m-23 6h0m-135-1h0m-2-4h0m-86 0h0m-1 4h0m-130-4h0m7 8h0m4 4h0m249-2h0m35 2h0m63-3h0m41-2h0m3 0h0m9 0h0m60 4h0m-33 4h0m0 5h0m-7 0h0m-8 2h0m-21-6h0m-19 3h0m-24-2h0m-24 3h0m-16-3h0m-14-1h0m-21 6h0m-9 0h0m-3-4h0m-11-1h0m-8-1h0m-6 1h0m-25 5h0m0-2h0m-1 0h0m0-2h0m-43-3h0m-10 7h0m0-3h0m-9-3h0m0 6h0m-3-5h0m-140 9h0m1-1h0m8 4h0m144-3h0m4-2h0m43 4h0m6-5h0m46 1h0m37 5h0m1-6h0m13 3h0m7 3h0m5 0h0m1 0h0m11-2h0m5 3h0m13-3h0m10 2h0m9 1h0m12-6h0m1 2h0m2 2h0m28 1h0m1 1h0m8-1h0m-34 5h0m0 1h0m-11 3h0m0-6h0m-25 5h0m-20-3h0m-1 3h0m-2-4h0m-7 1h0m-2 0h0m-7-1h0m-22 4h0m-3-5h0m-1 0h0m-3 0h0m0 5h0m-7-2h0m-5 1h0m-1 1h0m-2-3h0m-6-2h0m-1 3h0m0-3h0m-6 4h0m-5 1h0m-10-5h0m0 4h0m-6 2h0m-3-3h0m-6-3h0m-16 4h0m-8-5h0m1 14h0m2 0h0m2-3h0m1-1h0m7 2h0m0-1h0m8-3h0m1 0h0m2 6h0m0-2h0m3-2h0m7-1h0m1 1h0m1 2h0m6 3h0m11-5h0m3 1h0m3 3h0m4-6h0m2 7h0m3-6h0m8 2h0m1-2h0m13 2h0m2 1h0m12 0h0m1 2h0m1 1h0m2-5h0m4 1h0m0 4h0m24-2h0m16-4h0m3 3h0m14-2h0m6-2h0m2 4h0m0-2h0m17-2h0m-46 11h0m-10-3h0m-22 3h0m-24 1h0m0 1h0m-14-1h0m-2-2h0m0 0h0m-16-1h0m-1 3h0m-7-4h0m-2 2h0m0 2h0m-9-2h0m0-1h0m-2 4h0m-4-2h0m-8 4h0m0-2h0m-19-4h0m-1-1h0m-3 15h0m5-4h0m11-2h0m4 0h0m3-1h0m4 3h0m3-3h0m5 0h0m2 2h0m3 4h0m1 1h0m3-5h0m17 3h0m2 1h0m1 4h0m-8-2h0m-6 1h0m-7-1h0m-7 6h0m-3-4h0m-16 5h0m-2-2h0m-1-2h0m-2 4h0m-3 0h0m-4-3h0m-3 7h0m10 0h0m3 0h0m3-2h0m3 0h0m6 3h0m3 0h0m-152 50h0m34-4h0m35 4h0m-40 2h0m-24 3h0m10 7h0m47 2h0m-16 5h0m-11 5h0m-2 9h0m7-3h0m3 2h0m2 0h0m0-6h0m9 5h0m12 9h0m-3-4h0m-18 3h0m-11-3h0m-2-1h0m0 4h0m-1 2h0m-1-3h0m-3-4h0m-5 2h0m-6 5h0m-2-5h0m9 6h0m5 4h0m0 1h0m0-4h0m5 1h0m2 5h0m2-5h0m1 5h0m6 0h0m2-1h0m2-2h0m7 4h0m-4 0h0m-5 5h0m-1-4h0m-6 0h0m0 6h0m-1-2h0m-1-4h0m-1 4h0m-13-2h0m-2 2h0m-4-4h0m1 8h0m10 0h0m3 3h0m8 1h0m8 0h0m0-4h0m2-1h0m8 3h0m-18 5h0"/><path transform="scale(.25)" fill="none" stroke="#F8766D" stroke-width="5.2" stroke-linecap="round" d="M0 0m2056 1167h0m-59 11h0m68 11h0m111 5h0m-84 1h0m-100 12h0m73-1h0m49-5h0m61 2h0m1 1h0m4-4h0m10 11h0m-7 9h0m-33 6h0m-74 12h0m-17 9h0m33 6h0m87-5h0m-446 69h0m4 10h0m-20 0h0m0-1h0m-2 1h0m-44 1h0m8 5h0m4 0h0m3 2h0m3 0h0m1-4h0m2 2h0m20-3h0m0 4h0m1-1h0m2 1h0m2-6h0m1 2h0m18 5h0m13 0h0m-4 1h0m-6 0h0m-9 0h0m-9 1h0m-1 2h0m-2 2h0m0 1h0m-1-5h0m0 1h0m-18 0h0m-1 2h0m-5 1h0m-1-1h0m0 3h0m-12 3h0m4 5h0m10-7h0m0 7h0m1 0h0m21-7h0m2 4h0m11-2h0m2-2h0m2 4h0m-13 6h0m-6-1h0m-2 2h0m-1 4h0m-15-5h0m-3 5h0m-5 0h0m-3-4h0m-2-3h0m-2 3h0m14 6h0m8 3h0m3 1h0m3 0h0m8-2h0m340 0h0m1 9h0m-7-1h0m-5 4h0m-6-1h0m-343-1h0m-3-1h0m-16 10h0m2-4h0m3 4h0m1-2h0m1 3h0m2-6h0m16 2h0m4 4h0m5-6h0m5-1h0m305 0h0m10 2h0m2 5h0m6-3h0m1 0h0m12-2h0m11 2h0m16-2h0m3 4h0m0-2h0m43-1h0m-5 11h0m-18-1h0m-1-2h0m-6 0h0m-11-1h0m-5 2h0m-8-2h0m-5-1h0m-18 3h0m-1 0h0m-5 1h0m-2 1h0m-5-1h0m-6 0h0m-2 1h0m-4-1h0m0-4h0m-4-1h0m-1 2h0m-5 1h0m-8 4h0m-271-5h0m0 4h0m-2 1h0m-6-4h0m0 1h0m0 2h0m-4 1h0m-4-7h0m0 7h0m0-5h0m-1 2h0m-4 0h0m-4 2h0m-5-3h0m-1-2h0m-8 4h0m0-1h0m-4 0h0m-2 3h0m-6-5h0m-8 4h0m-7-5h0m-1 4h0m-1-1h0m-3 2h0m-1-3h0m-1-3h0m0 0h0m-16 1h0m5 13h0m4-4h0m13 0h0m14 2h0m3-3h0m3 6h0m1-1h0m3-6h0m4 0h0m8 6h0m0-4h0m0 3h0m1 2h0m2-2h0m2-1h0m4-2h0m3 5h0m2-4h0m9 2h0m1-2h0m2-3h0m0 0h0m267 4h0m2-3h0m4-1h0m1 2h0m9 1h0m2-1h0m1-2h0m16 5h0m4 2h0m0-5h0m1 5h0m2-1h0m4-1h0m3-3h0m5 1h0m2-1h0m6 4h0m0 1h0m5-1h0m4-6h0m10 0h0m9 4h0m1-2h0m16 3h0m3-5h0m5 6h0m3-2h0m10-1h0m6 4h0m3 2h0m0 2h0m-7 0h0m-1 1h0m0 0h0m-5-1h0m-1-2h0m-4 5h0m-3-3h0m-8-2h0m-14 2h0m-4 3h0m-5-3h0m0 0h0m-3 4h0m-5-4h0m-2-2h0m-5-1h0m-5 5h0m-1-2h0m-1 1h0m-1 3h0m-14-5h0m-5-1h0m-1 0h0m-4 2h0m-4-3h0m-1 2h0m-1 4h0m-8 0h0m-13-2h0m-1 1h0m-1 1h0m-10-5h0m-5 3h0m-3 1h0m-226-4h0m-16 0h0m-4 1h0m-3 0h0m-4 0h0m-16 2h0m-5 2h0m-3-3h0m0 1h0m-1-2h0m-7-1h0m-16-1h0m-4 4h0m-3 3h0m-11 0h0m-1-7h0m-1 4h0m-4 3h0m-1-5h0m-7 0h0m-2-2h0m-5 0h0m-5 1h0m7 9h0m2-2h0m1 4h0m21-3h0m11 5h0m7-2h0m10 1h0m1-3h0m3 0h0m3 3h0m6 1h0m2-3h0m12 3h0m1-2h0m8 0h0m2-1h0m250-1h0m0 5h0m3-4h0m19-2h0m10 3h0m0-1h0m2 4h0m2-1h0m10 1h0m2-2h0m3-2h0m14-1h0m6-2h0m8 4h0m6-1h0m5 2h0m10-5h0m29 4h0m11-3h0m4 6h0m1-1h0m4-2h0m22 10h0m-8 1h0m-3-4h0m-1 3h0m-14 0h0m-8-2h0m-1-2h0m-8 4h0m0-5h0m-9 3h0m-9 3h0m-6-4h0m-2-2h0m-6 1h0m-2 3h0m-8-4h0m-14-1h0m0 2h0m-3-1h0m0 1h0m-2-2h0m-7 1h0m-8-1h0m-3 7h0m-10-1h0m-1-3h0m-7-1h0m-3 0h0m-4 0h0m-5 1h0m-1-1h0m-2 0h0m-1 0h0m0 0h0m-4 3h0m-1-1h0m-7 1h0m-2-5h0m0 1h0m-4 3h0m-3 2h0m-260 0h0m-12-6h0m-6 5h0m-1-3h0m0 2h0m-14 3h0m-5 0h0m-3-3h0m-7-1h0m-1 4h0m-5 0h0m-3 0h0m-1-5h0m-2 5h0m-4-1h0m0-1h0m-4 0h0m-2 1h0m-1-5h0m-7 0h0m0 3h0m-5-4h0m35 11h0m6 0h0m2 3h0m4-6h0m9 2h0m10-1h0m8-1h0m1 2h0m5-2h0m250 2h0m2 2h0m1 0h0m11 1h0m17 0h0m2-2h0m4 3h0m3-4h0m2 4h0m0-6h0m1 2h0m11 2h0m1-1h0m0 4h0m2-7h0m20 7h0m1-4h0m16 0h0m1-1h0m1 1h0m9 4h0m5-3h0m1 2h0m1-5h0m0 5h0m20 1h0m0-4h0m4 3h0m0-6h0m1 4h0m0-4h0m10 7h0m0-5h0m15-2h0m6 4h0m8 3h0m12-1h0m1-2h0m27 10h0m-21 1h0m-7-6h0m-1 1h0m-2 2h0m-1 0h0m-7 1h0m-1-1h0m-4-4h0m-19 1h0m-3 4h0m-2-2h0m0 4h0m-5-1h0m0-4h0m-8 5h0m-12 0h0m-8-6h0m-1 3h0m-4 3h0m-8-4h0m-7-2h0m-3 6h0m-1-6h0m0 0h0m-4 3h0m-2-3h0m-9 1h0m-3 4h0m-3-2h0m-7 0h0m-8 2h0m-1 0h0m-3-6h0m-1 6h0m0-1h0m0 1h0m-1-2h0m-10 1h0m-2-3h0m-3 3h0m-2 1h0m-3-3h0m-5-2h0m-15 6h0m-2-6h0m-4 3h0m-13 3h0m-16 5h0m0 2h0m12-1h0m0-2h0m5-1h0m2 1h0m6 0h0m2 0h0m4-3h0m0 7h0m1-7h0m2 4h0m7 1h0m3 1h0m0-4h0m3-2h0m3 4h0m7-1h0m0 1h0m2-1h0m2-2h0m3 6h0m8-3h0m17-1h0m1 1h0m5-1h0m1 4h0m2-6h0m0 3h0m9-2h0m5 1h0m6-2h0m6 3h0m2 0h0m7 3h0m0-4h0m4-2h0m13 6h0m0-1h0m2-2h0m2 2h0m3-5h0m2 6h0m17-7h0m2 5h0m0-1h0m6 1h0m11 1h0m1 1h0m0-2h0m3 0h0m1-5h0m2 3h0m4-3h0m0 4h0m2 2h0m3-4h0m2 5h0m10-3h0m4-3h0m1-1h0m3 7h0m3-3h0m4-3h0m3 3h0m7 5h0m-2 1h0m-1 0h0m-11 0h0m-1 1h0m0 0h0m-2-2h0m-2 1h0m-4 3h0m0-3h0m-6 2h0m-2 0h0m-16-2h0m-3 0h0m-8 4h0m-1-5h0m-2 0h0m-5 1h0m0 5h0m-10-4h0m-6-2h0m-1 4h0m-1 1h0m-4-1h0m-1 0h0m0 1h0m-3-5h0m0 0h0m-6-1h0m-1 0h0m-8 3h0m-9 0h0m-16 0h0m-6 1h0m-3-4h0m-1 7h0m-1-3h0m-1 1h0m-7-2h0m-6-3h0m-2 4h0m-2-4h0m-2 0h0m-3 3h0m-1-3h0m-4 3h0m-1 2h0m0-4h0m-2-1h0m0 3h0m-1-3h0m-1 0h0m-1 0h0m-3 0h0m-1 1h0m-5-1h0m-8 2h0m-1 2h0m-5-3h0m-1-1h0m-6 2h0m-1 0h0m-1-1h0m-2 5h0m-4 1h0m-3 0h0m-2 0h0m-1-7h0m-2 0h0m-2 1h0m-4-1h0m-14 1h0m-8 1h0m-5 4h0m-5 3h0m3 4h0m6-3h0m3 3h0m16 0h0m1 1h0m1-3h0m2 1h0m6 0h0m8 1h0m1-4h0m3 3h0m11 1h0m3-1h0m2-3h0m2 5h0m9-6h0m7 3h0m6 0h0m2 0h0m4 0h0m1-3h0m2 2h0m8 3h0m1 2h0m4-3h0m8 0h0m4-2h0m4-2h0m1 0h0m3 6h0m1-4h0m4 5h0m1-7h0m12 2h0m4-2h0m2 7h0m11-6h0m1 6h0m5-3h0m9 2h0m3-5h0m9 0h0m7 4h0m0 0h0m2-4h0m4 2h0m10 3h0m7-1h0m6 2h0m2-6h0m6 4h0m8-1h0m6-2h0m2-1h0m-31 12h0m-9 0h0m-4-1h0m0-1h0m0-2h0m-13-1h0m0 1h0m0 0h0m-13 1h0m-4 0h0m-3-1h0m-6 3h0m0-3h0m-7 5h0m-17 0h0m0-4h0m-2 4h0m-1 1h0m-9-1h0m-4-2h0m-1 1h0m-5-4h0m-1 4h0m-6 1h0m0 1h0m-3-6h0m-7 3h0m-16 1h0m-10-3h0m-6-1h0m-1 6h0m-2-2h0m-11-1h0m0 1h0m-8 0h0m-2-4h0m-8 0h0m-2 1h0m-11-2h0m-5 7h0m-5-4h0m-6 3h0m0 0h0m-1 0h0m-1-1h0m-4 2h0m-4-1h0m-3-3h0m-11 7h0m9 5h0m1-7h0m2 2h0m1-2h0m5 2h0m10 3h0m4-4h0m4 3h0m2-1h0m3-1h0m2 2h0m2-2h0m2 2h0m1 1h0m0-1h0m0 1h0m1-3h0m4 3h0m5 1h0m5-2h0m2 1h0m0-2h0m0 3h0m2-5h0m2 2h0m0 2h0m9 1h0m0-1h0m4-5h0m9 1h0m3 4h0m7-5h0m6 0h0m5 0h0m45 4h0m2 0h0m1-4h0m4 7h0m1-4h0m4-1h0m1-2h0m9 1h0m0 4h0m1-1h0m8-1h0m1-2h0m0 1h0m5 3h0m2-4h0m4 2h0m1 3h0m4 1h0m1-6h0m0 5h0m4 1h0m9-5h0m4-1h0m5 4h0m6-4h0m1 3h0m1 3h0m3-6h0m3-1h0m9 7h0m7-5h0m8 0h0m1 6h0m-3 3h0m0-2h0m-4 2h0m-4 3h0m-6 1h0m-2-6h0m-3 3h0m-1 3h0m-27-5h0m-1 3h0m-3-1h0m-1 3h0m-4-3h0m-1-3h0m-5 0h0m-2 4h0m-5-5h0m-1 2h0m0 5h0m-4-1h0m-3-1h0m-8 1h0m-7-3h0m-2-3h0m0 5h0m-3-5h0m-4 5h0m-7 0h0m-1-2h0m-4 4h0m0-7h0m-7 5h0m-5 2h0m-2-5h0m-1 2h0m-2 0h0m-1-1h0m-2 2h0m-4 1h0m-3-1h0m0-3h0m0 4h0m-5 1h0m-1-7h0m0 4h0m-5 3h0m0-5h0m-9 2h0m-4 3h0m-3-4h0m-2 1h0m-15 1h0m-3-3h0m0 1h0m-5 1h0m-5 3h0m-1 0h0m-1-1h0m-2 0h0m-4-1h0m-1 1h0m-9 1h0m-1-1h0m-1-1h0m-3-4h0m-1 1h0m-2 1h0m-2-2h0m0 1h0m-4-2h0m-1 3h0m-3 2h0m-2 0h0m-7-1h0m-2-2h0m-3 0h0m-4 2h0m-2 0h0m2 7h0m1 1h0m8-3h0m9 1h0m13-1h0m4 2h0m1 4h0m3 0h0m2-3h0m1 2h0m2-6h0m8 5h0m1 2h0m3-7h0m1 4h0m3 2h0m3 0h0m1 0h0m1-3h0m6 2h0m2-4h0m4 4h0m1 0h0m1-2h0m0 1h0m3-3h0m1 2h0m4-1h0m4-1h0m0 2h0m5 1h0m1-1h0m13 4h0m19-4h0m1-3h0m7 5h0m2-3h0m9-1h0m15 3h0m17 1h0m0-4h0m5 1h0m8-1h0m1 4h0m6-1h0m5 0h0m9-2h0m0-1h0m5 1h0m2 5h0m3-3h0m14 2h0m8-4h0m1 5h0m5-4h0m5 1h0m1-2h0m3 3h0m12-2h0m-3 11h0m-10-2h0m-4 1h0m-2-3h0m-2 4h0m-4-5h0m-5 1h0m-2 5h0m-2-1h0m-6-2h0m-4 0h0m-1 2h0m-1-3h0m-3 3h0m-2 1h0m-15-7h0m-4 1h0m-2 0h0m-4 3h0m-1 0h0m-3 0h0m-15 2h0m-2 1h0m-2-2h0m-5-3h0m-11 1h0m-5-3h0m-5 3h0m-1 0h0m-21-3h0m-5 0h0m-6 7h0m-2-7h0m-13 5h0m-6-2h0m-1 3h0m-9-5h0m0-1h0m-1 1h0m-12-1h0m-4 5h0m-8-5h0m-2 1h0m-2 6h0m-5 0h0m-4-7h0m-2 3h0m-5-1h0m-2 0h0m-8-1h0m-4 2h0m0-3h0m-1 2h0m-2 2h0m0 3h0m-2 0h0m0 0h0m-1-4h0m-7 1h0m-1-3h0m-1-1h0m-1 1h0m-2 1h0m12 7h0m5-1h0m4 3h0m3-3h0m0 4h0m9 0h0m15 3h0m5-4h0m3 2h0m6-2h0m2-2h0m29-1h0m10 7h0m0-3h0m13-3h0m0-1h0m8 4h0m9 2h0m2-1h0m4-4h0m0 5h0m12-2h0m9 2h0m0-1h0m1-1h0m8-4h0m1 0h0m0 3h0m2 0h0m0-1h0m13 0h0m8 3h0m10-4h0m3 5h0m6-6h0m1 6h0m0-3h0m1 2h0m0 2h0m4-3h0m1-3h0m17 3h0m1-1h0m2 0h0m1 2h0m12 2h0m3-1h0m1-3h0m8 3h0m0 0h0m5-4h0m0 5h0m2 5h0m0-1h0m-3-1h0m-1-2h0m-3 1h0m-1 0h0m-4 5h0m-5-6h0m-10 5h0m-2 2h0m-18-7h0m-16 6h0m-2-3h0m-3-3h0m-6 5h0m-3 1h0m-11-4h0m-3-2h0m-5 5h0m-1 2h0m-14-5h0m-3 4h0m-22-5h0m-1 2h0m-1 2h0m0 2h0m-10-7h0m-3 3h0m-3 0h0m-9 3h0m0-6h0m0 6h0m-5-2h0m-1 1h0m-3 0h0m-54-5h0m-4 4h0m-4 0h0m-10 5h0m3 5h0m63 0h0m7-5h0m4 2h0m8 3h0m0-2h0m3-1h0m9 3h0m11-2h0m1 0h0m6 0h0m17-1h0m2 4h0m1-2h0m3 0h0m7 0h0m2-5h0m3 6h0m0-6h0m3 0h0m0 7h0m7-6h0m10-1h0m3 7h0m9-5h0m5-1h0m2 0h0m3 2h0m8 2h0m16-5h0m9 2h0m5 1h0m4-1h0m6-1h0m1 5h0m2-6h0m3 3h0m3 1h0m3 2h0m15 8h0m-1-5h0m-10-1h0m-7 6h0m-2-5h0m-3 2h0m-10 3h0m-1-3h0m-2 1h0m-2 0h0m-8 2h0m-1-3h0m-15-1h0m-1 0h0m-3-2h0m-3 2h0m-4 0h0m-1 5h0m-6-2h0m-2 1h0m-1 1h0m0-3h0m-11 2h0m-1-4h0m-9-2h0m-13 0h0m-6 5h0m-2-4h0m-3 2h0m-3 2h0m-15-3h0m-19 4h0m-7-4h0m-2-2h0m0 1h0m-3 0h0m-1 3h0m-6-4h0m11 10h0m6 2h0m2 0h0m5-2h0m4 0h0m2 3h0m6-1h0m12 0h0m0 1h0m1-1h0m10 1h0m5 1h0m6-1h0m9 0h0m2-4h0m7 1h0m4-1h0m4 5h0m1-1h0m5-4h0m7 4h0m14 0h0m15 2h0m10-6h0m2 5h0m3 0h0m1-4h0m2 0h0m8-1h0m3 3h0m1 2h0m1-2h0m7 0h0m2-4h0m2 1h0m8 6h0m5-3h0m16 10h0m-9-5h0m0 5h0m-3 1h0m-11-7h0m-1 2h0m-22 5h0m-8-6h0m-26-1h0m0 7h0m-11-5h0m-24-1h0m-6 0h0m-1 0h0m0 2h0m-2 4h0m-6-2h0m-5 0h0m-14 0h0m-3 2h0m-24-1h0m-3 1h0m-6-3h0m3 7h0m22 0h0m2 2h0m3-5h0m1 3h0m0 4h0m7-5h0m5 5h0m11-1h0m3-2h0m4 1h0m27-5h0m3 2h0m22-1h0m31 5h0m0 0h0m14 1h0m2 0h0m2-1h0m2 0h0m1-5h0m4-1h0m2 0h0m1 5h0m5 1h0m28 9h0m-16-4h0m-6-2h0m-5 5h0m-18 1h0m-1 0h0m-20-1h0m-14-4h0m-44 1h0m-24 0h0m-6 1h0m-3-3h0m-4 1h0m-10 3h0m-5-4h0m-11 0h0m1 8h0m1 1h0m0-1h0m5 4h0m9-3h0m14-2h0m20 1h0m14-1h0m6 2h0m2 0h0m10 5h0m5-3h0m17 1h0m7-2h0m14-1h0m4 3h0m0 2h0m4-3h0m5 0h0m4 2h0m2-1h0m15-4h0m17 6h0m-16 5h0m-1-4h0m-10 7h0m-6-2h0m-13-4h0m0 6h0m-11-5h0m-3 1h0m-2 1h0m-14-2h0m-5 4h0m-1-6h0m-69 4h0m-11-1h0m-5-3h0m-154 9h0m145 6h0m14-4h0m14 0h0m39 1h0m4-3h0m3 0h0m1 6h0m3 0h0m5-7h0m17 1h0m2 0h0m12 6h0m3 0h0m14-6h0m5 2h0m11 3h0m3-6h0m7 5h0m1-3h0m3 1h0m0 4h0m20 0h0m23-5h0m9 0h0m-39 12h0m-12-1h0m-23-2h0m-10-2h0m-9-1h0m-8 5h0m-5 2h0m-6-6h0m-2 6h0m-25-1h0m-1-6h0m-2 2h0m-28 2h0m0-4h0m-12 3h0m-6-2h0m-17 5h0m-1-1h0m-208-2h0m-6 4h0m27 8h0m1-2h0m19-2h0m141 2h0m14 0h0m1-2h0m12 2h0m5 2h0m11-7h0m11 6h0m4-6h0m3 1h0m0 3h0m37-2h0m1 3h0m7-2h0m4 1h0m2-1h0m1 3h0m19-1h0m23 2h0m6-2h0m1-2h0m5 1h0m9-2h0m20 1h0m11-1h0m-49 7h0m-4 5h0m-18-1h0m-11 2h0m0-3h0m-13 1h0m-9-4h0m-5 6h0m-2-1h0m-20-1h0m-9 1h0m-1-5h0m-2 6h0m-7-1h0m-1-1h0m-6 1h0m0-4h0m-7 5h0m-3-7h0m-3 0h0m-5 4h0m-4-2h0m-11 4h0m0-6h0m-11 2h0m0-1h0m-2 0h0m0 0h0m-141 5h0m-12-2h0m-16 2h0m-3-6h0m6 10h0m3-1h0m6-1h0m6 4h0m3 1h0m1-2h0m0 1h0m2 0h0m0 2h0m10 1h0m3 0h0m9 0h0m2-5h0m1 3h0m107-1h0m4 3h0m1-1h0m16-3h0m16-3h0m6 0h0m5 7h0m2-4h0m4-2h0m13 2h0m0-2h0m7-1h0m11 3h0m2 4h0m4-6h0m6-1h0m21 6h0m8-4h0m14-1h0m8 0h0m7 1h0m2 3h0m9-2h0m0 3h0m12-3h0m3 0h0m6 3h0m25-3h0m14 0h0m-26 8h0m-11 1h0m-16 2h0m-10-6h0m-3 7h0m-19-7h0m-11 5h0m-1 1h0m0 0h0m-21-5h0m-10 5h0m-1-3h0m-1-2h0m-4 5h0m-6-4h0m-8-2h0m0 4h0m-4 2h0m-5 0h0m-10-3h0m0 4h0m-2-1h0m-4-5h0m-10 1h0m-1 2h0m-15 2h0m-1-5h0m-4 5h0m-2-1h0m-1 2h0m0-2h0m-9 1h0m0 1h0m-3-2h0m0-3h0m-1 2h0m-4-2h0m-2-1h0m-1 4h0m-2-3h0m-65 4h0m-9-2h0m-2 0h0m-1 3h0m-8-6h0m-2 6h0m-5-4h0m-5 4h0m-8-3h0m-4 1h0m-1-5h0m-5 4h0m-3 3h0m-1 0h0m-1-2h0m-2-2h0m0 1h0m-1 2h0m-1 0h0m-4 0h0m-2-6h0m-3 7h0m8 3h0m1-2h0m9 6h0m1-2h0m4 3h0m0-3h0m1 0h0m8 3h0m5 0h0m9-2h0m12-2h0m8-2h0m6 0h0m0 0h0m3 3h0m6 1h0m43 0h0m10-1h0m2-1h0m4 3h0m4-5h0m1 0h0m1 4h0m13 0h0m3-1h0m15-2h0m6 2h0m3 3h0m1 0h0m2 0h0m0-3h0m9 1h0m6-5h0m9 3h0m5 4h0m16 0h0m5 0h0m23-5h0m5 5h0m4-4h0m3-2h0m16 5h0m14 1h0m13-7h0m69 6h0m8-2h0m0 9h0m-38 2h0m-18 0h0m-22-2h0m-15 0h0m-9-4h0m-2-1h0m-3 3h0m-6 0h0m-10-1h0m-1 5h0m-2-1h0m0-2h0m-10-1h0m-7-3h0m-4 1h0m-1 3h0m-13-2h0m-12 3h0m-46-1h0m-1 0h0m-9-1h0m-8 1h0m-4-3h0m-2-1h0m-10 3h0m-3 4h0m-2-5h0m-5 3h0m-91 0h0m-6-1h0m0-4h0m-4 4h0m-2-2h0m-2 2h0m-2-2h0m-11 0h0m0-2h0m-120 6h0m-20-1h0m1 6h0m0-2h0m2 3h0m4 2h0m6-5h0m2 4h0m0 1h0m5-3h0m2 3h0m3-1h0m2 0h0m128-3h0m8 4h0m0 1h0m1-2h0m3-4h0m1 5h0m7 0h0m74-5h0m9 3h0m3 2h0m18-3h0m7 2h0m30-5h0m3 1h0m17 1h0m10-2h0m33 7h0m5-5h0m4-1h0m0 5h0m1-4h0m8 1h0m5-2h0m18 6h0m20-6h0m15 6h0m49-7h0m-3 10h0m-36 0h0m-13 4h0m-17-5h0m-5 5h0m-6 1h0m-24-5h0m-3 4h0m-4-5h0m0 1h0m-10 1h0m0 0h0m0 0h0m-3-2h0m-7 3h0m-14-4h0m-6 1h0m-11 1h0m-10 2h0m-6-4h0m-5 6h0m-1 1h0m-6 0h0m-4-7h0m-4 1h0m-8 1h0m-5-2h0m-1 3h0m-8-2h0m-11 5h0m-17-1h0m-2-2h0m-1-1h0m-2 1h0m-2 3h0m-3-4h0m0 1h0m-3 0h0m-56-1h0m-8-2h0m-2 5h0m-2-4h0m-4 2h0m0 1h0m-134 3h0m-9-2h0m-2-1h0m-7-2h0m-1 4h0m-2-6h0m-1 0h0m-5 3h0m-4 1h0m-1-3h0m-4 1h0m-9 5h0m-2-2h0m-6 8h0m17-2h0m3 1h0m15 1h0m6-2h0m1 3h0m3-6h0m2 2h0m3 2h0m7-4h0m37 5h0m101-2h0m7 1h0m0 1h0m55 2h0m0-5h0m7-2h0m3 6h0m0-4h0m5-2h0m0 0h0m8 5h0m4-1h0m14 0h0m3 2h0m9-5h0m7 3h0m6 1h0m7 1h0m5-3h0m2 0h0m4 4h0m2-3h0m7-3h0m3 1h0m3-1h0m0 3h0m1-3h0m1 2h0m3 3h0m0-1h0m4 0h0m5-5h0m0 1h0m3 1h0m9 2h0m17-2h0m4-2h0m5 0h0m2 3h0m2-1h0m3 4h0m10 1h0m3-1h0m25-6h0m1 5h0m29 2h0m8-5h0m2 5h0m0-5h0m1 3h0m1 1h0m3-3h0m2 4h0m1-6h0m3 1h0m4 3h0m0-1h0m4-2h0m10 5h0m-29 4h0m-4 4h0m-16-4h0m-2-3h0m-3 2h0m-15 5h0m-19-3h0m-12 3h0m-13-2h0m-2-4h0m0 6h0m-1-2h0m-6-4h0m-1 0h0m-1 5h0m-10-4h0m-2 5h0m0-5h0m-21 0h0m-9 1h0m-14-1h0m-8 1h0m-4-3h0m-19 5h0m-1-3h0m-5 3h0m-1 0h0m-8 2h0m-8 0h0m-6-7h0m-8 0h0m-14 4h0m-39 3h0m-4-2h0m0 0h0m-3-3h0m-4 4h0m-6 0h0m0-5h0m-1-1h0m-3 5h0m-130-2h0m-1-3h0m-27 0h0m-1 1h0m-10 4h0m-10-4h0m-9 0h0m39 8h0m1-1h0m0 0h0m6 2h0m0 0h0m6 4h0m136-5h0m10-1h0m7 1h0m31 3h0m22 2h0m3-6h0m2 5h0m5 0h0m1-4h0m2 4h0m6 0h0m1-1h0m3 2h0m4-6h0m2 2h0m19 4h0m0 0h0m5 1h0m1-3h0m4-1h0m10 1h0m3 3h0m9 0h0m20-1h0m9 0h0m4-6h0m3 6h0m2-5h0m1 0h0m7 5h0m6 1h0m6-2h0m3 2h0m26-5h0m3 3h0m1 2h0m21-1h0m9-2h0m-89 11h0m-8-6h0m-4 5h0m-19-3h0m-7 3h0m-49 1h0m-11-1h0m-8-6h0m-11 7h0m-8 0h0m9 1h0m59 7h0m56-2h0m2-5h0m40 0h0m-46 11h0m-42 0h0m-27-2h0m-55 2h0m2 8h0m29 0h0m65 0h0m13-3h0m-39 8h0m-14 2h0m-20 3h0m-7 0h0m-11 1h0m-6-6h0m-2 0h0m-10 5h0m0 8h0m24-3h0m-34 11h0m-6 10h0m-11 5h0m-11 11h0m2-2h0m5 1h0m2-6h0m-5 12h0m-5 3h0m-78 3h0m68 8h0m-49 5h0m-9-4h0m54 19h0m-9-3h0m-7 12h0m20-4h0m1 2h0m4-1h0m2 4h0m-2 4h0m-1-2h0m-28 2h0m-13 1h0m0 1h0m-6-3h0m-2 1h0m46 11h0m5-2h0m1-2h0m2 3h0m1-4h0m-5 12h0m-2 0h0m-2 0h0m-5-1h0m0-3h0m-1-1h0m0 4h0m-17 0h0m11 10h0m0-1h0m8-2h0"/><path transform="scale(.25)" fill="none" stroke="#00BFC4" stroke-width="5.2" stroke-linecap="round" d="M0 0m2093 1166h0m-34-2h0m-7 3h0m-17-1h0m-50 4h0m21 3h0m9-2h0m7-2h0m2 0h0m6 2h0m6 4h0m3-6h0m0 5h0m0-3h0m0 0h0m2 0h0m9-3h0m4 6h0m13-2h0m3-4h0m4 1h0m2 5h0m2-5h0m2 3h0m8 1h0m6-3h0m13 0h0m5 0h0m11 4h0m6 9h0m-15-2h0m-1-5h0m-5 3h0m-1 1h0m0 0h0m0-3h0m-4 5h0m-6-3h0m-11 2h0m-2-5h0m-3 3h0m-3 2h0m-7 0h0m-1-1h0m-3 2h0m-4-2h0m-3 1h0m-7-3h0m-3 1h0m-3 1h0m-3-2h0m-7 3h0m-2-4h0m0 2h0m-22 0h0m-6-1h0m-2-2h0m-9 3h0m-1 1h0m-1 3h0m-1 0h0m-7 7h0m6-3h0m12 3h0m0-2h0m2-3h0m7 2h0m3 1h0m7-2h0m1 2h0m8-1h0m2 1h0m7 0h0m8 3h0m2-7h0m2 7h0m2-5h0m1 0h0m3-1h0m1-1h0m4 5h0m2 1h0m1 0h0m1-4h0m1 5h0m1 0h0m1-7h0m4 3h0m0 1h0m3 3h0m5-7h0m0 0h0m15 7h0m8-1h0m4-3h0m0-3h0m7 2h0m8 0h0m1 3h0m6-2h0m9 1h0m10-3h0m23 8h0m-7 6h0m-2-3h0m-2-3h0m-4-1h0m-6 6h0m-3-3h0m-2 4h0m-2 0h0m-12-7h0m-4 1h0m-1 1h0m0 5h0m-5-4h0m0-2h0m-13 2h0m-1 2h0m-3 0h0m0-5h0m-6 0h0m-17 2h0m-6-1h0m-13 1h0m-2 2h0m-2-1h0m-4-1h0m-3 5h0m-1-4h0m-3 1h0m-1 3h0m-4-6h0m-2 6h0m-3-6h0m-9 0h0m-6 0h0m-2 4h0m-9-4h0m-6 1h0m-12-1h0m-1-1h0m-4 7h0m-12 0h0m15 3h0m1 3h0m2 0h0m3-1h0m1-1h0m4 1h0m7-2h0m0-2h0m2 0h0m6 0h0m5 3h0m4 4h0m1-3h0m3-4h0m7 4h0m3-1h0m17-2h0m3 2h0m14-1h0m2-2h0m7 0h0m23 0h0m1 3h0m4-1h0m11 3h0m5-1h0m9 2h0m30-4h0m7 1h0m13 11h0m-16-6h0m-12 3h0m-4 3h0m-1-3h0m-4 4h0m-2-7h0m-3 5h0m0-3h0m-20 3h0m-1-1h0m-3-3h0m-5 5h0m-1 0h0m-2-4h0m-19 4h0m-2-3h0m-1 0h0m-6-2h0m-11 5h0m-24-3h0m-3 1h0m-2-1h0m-9 2h0m-1 0h0m-8-5h0m-3 2h0m-5 2h0m0 3h0m-4-6h0m-3 5h0m-1 1h0m-1-6h0m-3-1h0m-1 4h0m-2-4h0m-1 5h0m-1-3h0m-18 5h0m-5-3h0m-1-3h0m7 10h0m12 0h0m2 2h0m3 1h0m5-1h0m1 2h0m1-5h0m1 2h0m4-4h0m4 0h0m4 2h0m1 1h0m1 2h0m1-2h0m2 0h0m3-3h0m4 1h0m1 1h0m8 1h0m0-3h0m8 4h0m1-4h0m0 4h0m1-3h0m0 0h0m0 5h0m2-5h0m2 1h0m1 1h0m1-2h0m8 1h0m2 5h0m7-1h0m5-1h0m5-4h0m4-1h0m5 1h0m1-1h0m1 4h0m1 2h0m8-4h0m8-2h0m3 5h0m9-1h0m6-3h0m9 1h0m9 3h0m2-5h0m7 1h0m10 3h0m9-1h0m3 1h0m2 3h0m8-6h0m3 1h0m6 5h0m1-4h0m-1 9h0m-7-3h0m-6 3h0m-3-2h0m-4 3h0m-4 2h0m-3-2h0m-2-1h0m-1-1h0m-6 1h0m-1-4h0m0 5h0m-1-3h0m-1 5h0m-3-3h0m-3 0h0m-3 3h0m-4-6h0m-4-1h0m-13 1h0m-3 1h0m-8 4h0m-5-3h0m-4 1h0m-2 3h0m-5-5h0m-8-2h0m-9 3h0m0 0h0m-10 3h0m-2-2h0m-8-1h0m-4-2h0m-5-1h0m-7 3h0m-3-1h0m-5 0h0m-2 3h0m0 0h0m-2-2h0m-4 0h0m-10 2h0m-11-5h0m-3 1h0m-9 6h0m-2-3h0m-6 2h0m-2-6h0m16 10h0m1-1h0m3 0h0m9 1h0m3-1h0m2 5h0m0-6h0m6 5h0m0-5h0m3 7h0m14-3h0m2-4h0m6 3h0m6 0h0m1 2h0m3-2h0m9 3h0m0-4h0m3-2h0m0 7h0m9-6h0m0 3h0m1-4h0m8 5h0m11 0h0m2-2h0m9 0h0m0 2h0m2-4h0m4 3h0m3 0h0m10 3h0m3-7h0m11 5h0m16-5h0m6 2h0m3 2h0m2-3h0m10 2h0m10-2h0m1 8h0m-2 3h0m-8 2h0m-2-5h0m-17 6h0m-6 0h0m-3 0h0m-8 0h0m-8 0h0m-1-7h0m-2 5h0m-2-3h0m0 3h0m0 0h0m-9 1h0m-6-6h0m-2 6h0m-6-1h0m-6-4h0m-4 4h0m-1-2h0m-3 1h0m-1-1h0m-3-2h0m-5 4h0m-3-2h0m-6-2h0m-3 0h0m-5 2h0m-2-3h0m-4 2h0m-1 5h0m-4-1h0m-5-6h0m-1 3h0m0 4h0m-7-4h0m-2 1h0m-6-4h0m-8 1h0m-6 3h0m-1-2h0m-3 2h0m20 5h0m12-1h0m7 0h0m3 2h0m6-1h0m7 0h0m1 2h0m0-3h0m2 4h0m0-1h0m2-2h0m6 3h0m6 0h0m5-4h0m1 3h0m1-2h0m11-1h0m6 3h0m4 0h0m1 2h0m15-4h0m4 1h0m2 0h0m1-2h0m12 3h0m1 4h0m4-4h0m4-1h0m5 0h0m5-2h0m0 2h0m1-1h0m2 5h0m5-2h0m2 1h0m2 2h0m4-3h0m5 2h0m2 5h0m-9 2h0m-13-1h0m-2-2h0m-2 1h0m-7 1h0m-1-2h0m-3-1h0m-4 5h0m-2-1h0m-2-4h0m-2 1h0m-1 0h0m0 1h0m-3 0h0m-8 3h0m-5-3h0m-5-3h0m-8 7h0m-5 0h0m-3-6h0m-1 2h0m-7-3h0m0 2h0m-6 2h0m-2 3h0m-3-2h0m-1-2h0m-12 2h0m-10-4h0m-2 11h0m50 0h0m5 1h0m10-5h0m1 7h0m20-4h0m8-1h0m0 1h0m4 1h0m1 3h0m4-6h0m4 5h0m0-6h0m4 6h0m-4 7h0m-37-4h0m-9 4h0m-463 55h0m54 9h0m-12 18h0m-63 3h0m6 0h0m388 7h0m-8 2h0m-4 2h0m-16 2h0m3 6h0m1 0h0m18-5h0m13 0h0m3 0h0m9 6h0m15-3h0m-21 8h0m13 16h0m-374 0h0m-51 3h0m502 9h0m-75 3h0m22 20h0m57 13h0m-48-2h0m-155 1h0m119 12h0m64 9h0m-130-6h0m-24 6h0m108 5h0m10-4h0m8 4h0m99 2h0m-192 6h0m-80 9h0m49-1h0m49 3h0m3 0h0m148-4h0m-50 7h0m-54 1h0m-15-3h0m-107 4h0m84 6h0m40 5h0m41-4h0m67 3h0m23 5h0m-240 1h0m215 6h0m34-2h0m-52 12h0m-59 11h0m48-6h0m43 1h0m36 9h0m-41-1h0m-41 3h0m-57-2h0m-3 0h0m146 10h0m2 2h0m32 8h0m-42 0h0m-25 0h0m-106-5h0m98 12h0m22-2h0m7-3h0m4 3h0m33-2h0m7 2h0m1-3h0m1 3h0m11 2h0m12 8h0m-6 1h0m-2-3h0m-1 2h0m-1 1h0m-7-7h0m-1 0h0m-2 1h0m-1 2h0m-18-3h0m-4 2h0m-2-2h0m-17 1h0m-1 4h0m-16 2h0m-8-5h0m-12 1h0m-314 2h0m-13 9h0m5 1h0m3-4h0m1 2h0m1-4h0m5 5h0m1-4h0m4 5h0m1-4h0m4 3h0m5-4h0m25 0h0m271 0h0m17 5h0m4 0h0m8-2h0m6-4h0m18 3h0m1-3h0m11 5h0m2-6h0m0 7h0m10-4h0m12 1h0m9 1h0m2 2h0m9-5h0m1 1h0m8 5h0m-1 1h0m-4 1h0m-10 3h0m-8-5h0m-1 7h0m-4-3h0m-2-2h0m-1-2h0m-2 4h0m-5 0h0m-29 2h0m-11-2h0m-18 1h0m-9 0h0m-20-1h0m-72-3h0m-201 2h0m-9 3h0m-3 0h0m-2-5h0m-4-1h0m0 2h0m-4-1h0m0 0h0m-3 2h0m-2 4h0m-4-7h0m-1 3h0m-7 1h0m-10-2h0m23 7h0m15 4h0m3-4h0m0 5h0m5-1h0m250-4h0m34 2h0m10 1h0m17-4h0m25 5h0m16-1h0m7-4h0m1 4h0m7 1h0m1 2h0m10-6h0m8 1h0m2 4h0m1 0h0m2-4h0m2 4h0m7-1h0m2-5h0m6 15h0m-27-4h0m-18 3h0m0-5h0m-6 2h0m-12-2h0m-9 3h0m-58 2h0m-56-3h0m-1 4h0m-229-5h0m-1-1h0m-3 9h0m29 2h0m16 1h0m1-1h0m1-1h0m6 0h0m157-2h0m44-1h0m55 4h0m8 3h0m3-3h0m1 3h0m9-6h0m25 2h0m15-3h0m3 3h0m7-2h0m2 4h0m8-5h0m5 0h0m1 5h0m4-4h0m2 3h0m5 3h0m5-3h0m5-1h0m0 4h0m7 8h0m-8-5h0m-13 5h0m-6-7h0m-2 2h0m-2 2h0m-12 3h0m-4-5h0m-1 5h0m-11-2h0m-1 0h0m-3-2h0m-2 1h0m-26-3h0m-7 6h0m-2 0h0m-34-5h0m-5 0h0m-50 4h0m-213-6h0m8 9h0m15 3h0m1-4h0m0 1h0m40 4h0m11-3h0m217 3h0m7 1h0m12 1h0m30 0h0m1-2h0m6-1h0m5 3h0m0-1h0m2-4h0m0 0h0m14 0h0m9-1h0m10 6h0m3-1h0m8 1h0m-4 3h0m-2-1h0m-7 2h0m-6 4h0m-1-2h0m-4-5h0m-20 7h0m-8-4h0m-15 2h0m-17-2h0m-16 4h0m-17-4h0m-73 4h0m-15-5h0m-56 5h0m-97-7h0m-6 2h0m0 4h0m-6-5h0m-6-1h0m20 11h0m227 2h0m15 2h0m8-2h0m7 2h0m1-7h0m1 3h0m7 0h0m27-1h0m9 0h0m4 1h0m9-1h0m1 1h0m1 1h0m7 0h0m2-3h0m4 5h0m1-2h0m1-1h0m-28 5h0m-34 1h0m-26 0h0m-58 2h0m-12 0h0m-44-3h0m-7 3h0m-45 4h0m-56-2h0m-20-3h0m-2 5h0m-181 4h0m44-3h0m5 0h0m144 0h0m3 7h0m76-3h0m38 2h0m101-5h0m68 2h0m13-2h0m5 4h0m6 2h0m-21 8h0m-4-6h0m-3 5h0m-10-6h0m-2 5h0m-15-1h0m-14 0h0m-13 2h0m-6-4h0m-7 0h0m-6-1h0m-5 6h0m-6-6h0m-31 3h0m-19 1h0m-2 2h0m-12 0h0m-23-7h0m-26 1h0m-2 0h0m-10 3h0m-61-3h0m-152 1h0m0-2h0m-2 4h0m167 7h0m44 3h0m13-6h0m4 2h0m6 1h0m5 1h0m10-1h0m16 3h0m4-4h0m3 3h0m2-2h0m21 0h0m27 1h0m19-2h0m1 0h0m24 3h0m6-2h0m9-1h0m1-2h0m6 4h0m1-4h0m9 5h0m35-3h0m-22 10h0m-8 3h0m-2-1h0m-11-6h0m-1 5h0m-1 1h0m-7-3h0m0-3h0m-2 5h0m-4-4h0m-3 0h0m-1 5h0m-5-6h0m-3 7h0m-11 0h0m-2-2h0m-4-3h0m-9-1h0m0 3h0m-2 0h0m-9 1h0m-2-5h0m-12 3h0m-5 4h0m-1-2h0m0 0h0m-2-3h0m-4 3h0m-3 0h0m-4-2h0m0 4h0m-6-3h0m-12-4h0m-15 5h0m-4-1h0m-5 3h0m-6-5h0m-28 3h0m-7-4h0m-4 1h0m2 11h0m1 2h0m5-1h0m2-4h0m22 4h0m1-2h0m5-1h0m1 4h0m7 0h0m10-5h0m0 3h0m1 1h0m4-2h0m1-4h0m2 6h0m11-5h0m20-1h0m3 1h0m8 1h0m7 5h0m11-1h0m7-1h0m6-2h0m7 0h0m12 3h0m16-5h0m3-1h0m-27 9h0m-34 3h0m-13 1h0m-17-4h0m-4 0h0m-12-1h0m-4 5h0m-7 0h0m-6-4h0m-4 4h0m-8-1h0m-21-3h0m-6 4h0m-3 1h0m0 5h0m0-1h0m2 0h0m14 1h0m0 2h0m3-1h0m9 1h0m12-2h0m11-1h0m1-1h0m51-1h0m-31 8h0m-12 3h0m-14-1h0m-1 5h0m-9-1h0m-2-4h0m-18 1h0m-19 3h0m-6 3h0m10 0h0m9 1h0m6 3h0m13-1h0m0-3h0m-57 23h0m-64 22h0m1 4h0m35 3h0m-34 4h0m-35 2h0m52 18h0m-9 0h0m-2 1h0m-14-4h0m-5 4h0m-2 8h0m1 1h0m5-2h0m2-2h0m3 3h0m11-4h0m0 5h0m8 0h0m9-4h0m1 2h0m0 0h0m5 2h0m-28 8h0m-18-5h0m-3-2h0m-1 14h0m20-3h0m4 0h0m5-3h0m1 3h0m2-1h0m5 4h0m12 2h0m-5 6h0m-9-1h0m-3-1h0m-1 2h0m-1-1h0m-9 1h0m-2-1h0m-7 2h0m-4-2h0m3 9h0m7-4h0m4-2h0m18 0h0m12 2h0m16 1h0m-42 5h0m-13 2h0"/><line x1="402.6" y1="282.1" x2="402.6" y2="470.0" stroke="#2a2a2a" stroke-width="1.1"/><line x1="402.1" y1="469.5" x2="595.5" y2="469.5" stroke="#2a2a2a" stroke-width="1.1"/><line x1="400.0" y1="300.6" x2="402.6" y2="300.6" stroke="#2a2a2a" stroke-width="1.0"/><text x="397.8" y="304.1" font-size="9.7" text-anchor="end" fill="#2a2a2a" stroke="#2a2a2a" stroke-width="0.22">10</text><line x1="400.0" y1="335.6" x2="402.6" y2="335.6" stroke="#2a2a2a" stroke-width="1.0"/><text x="397.8" y="339.1" font-size="9.7" text-anchor="end" fill="#2a2a2a" stroke="#2a2a2a" stroke-width="0.22">5</text><line x1="400.0" y1="370.5" x2="402.6" y2="370.5" stroke="#2a2a2a" stroke-width="1.0"/><text x="397.8" y="374.0" font-size="9.7" text-anchor="end" fill="#2a2a2a" stroke="#2a2a2a" stroke-width="0.22">0</text><line x1="400.0" y1="405.4" x2="402.6" y2="405.4" stroke="#2a2a2a" stroke-width="1.0"/><text x="397.8" y="408.9" font-size="9.7" text-anchor="end" fill="#2a2a2a" stroke="#2a2a2a" stroke-width="0.22">-5</text><line x1="400.0" y1="440.4" x2="402.6" y2="440.4" stroke="#2a2a2a" stroke-width="1.0"/><text x="397.8" y="443.8" font-size="9.7" text-anchor="end" fill="#2a2a2a" stroke="#2a2a2a" stroke-width="0.22">-10</text><line x1="455.3" y1="469.5" x2="455.3" y2="472.1" stroke="#2a2a2a" stroke-width="1.0"/><text x="455.3" y="482.5" font-size="9.7" text-anchor="middle" fill="#2a2a2a" stroke="#2a2a2a" stroke-width="0.22">-5</text><line x1="517.7" y1="469.5" x2="517.7" y2="472.1" stroke="#2a2a2a" stroke-width="1.0"/><text x="517.7" y="482.5" font-size="9.7" text-anchor="middle" fill="#2a2a2a" stroke="#2a2a2a" stroke-width="0.22">0</text><line x1="580.1" y1="469.5" x2="580.1" y2="472.1" stroke="#2a2a2a" stroke-width="1.0"/><text x="580.1" y="482.5" font-size="9.7" text-anchor="middle" fill="#2a2a2a" stroke="#2a2a2a" stroke-width="0.22">5</text><text x="499.0" y="494.8" font-size="11.0" text-anchor="middle" fill="#111" stroke="#111" stroke-width="0.22">UMAP_1</text><text x="378.5" y="375.3" font-size="11.0" text-anchor="middle" fill="#111" stroke="#111" stroke-width="0.22" transform="rotate(-90 378.5 375.3)">UMAP_2</text><text x="356.0" y="263.0" font-size="14" text-anchor="start" fill="#111" stroke="#111" stroke-width="0.22">D</text><circle cx="613.0" cy="372.4" r="3.4" fill="#F8766D"/><text x="625.4" y="375.8" font-size="9.5" text-anchor="start" fill="#111" stroke="#111" stroke-width="0.22">Tumor</text><circle cx="613.0" cy="384.8" r="3.4" fill="#00BFC4"/><text x="625.4" y="388.2" font-size="9.5" text-anchor="start" fill="#111" stroke="#111" stroke-width="0.22">Normal</text><path transform="scale(.25)" fill="none" stroke="#F8766D" stroke-width="7.8" stroke-linecap="round" d="M0 0m338 2471h0m39-4h0m57 2h0m64 6h0m-4 2h0m-23 2h0m-12-4h0m-75-1h0m-6 4h0m-16 1h0m-10-1h0m-7-6h0m-74 12h0m47 3h0m17-1h0m2-3h0m0-1h0m44-2h0m4 2h0m11 1h0m47-2h0m167 2h0m-158 8h0m-2 4h0m-1-3h0m-58-4h0m-17 0h0m-19 1h0m-42 0h0m-10 4h0m-10 2h0m-4-5h0m-14 13h0m5-4h0m6-3h0m3 4h0m21 1h0m34-5h0m67 3h0m4-1h0m19 0h0m21 2h0m13-4h0m46 3h0m52 3h0m16 7h0m-93-2h0m-1 1h0m-9 3h0m-8-5h0m-11 1h0m-152-2h0m-33 4h0m-10 8h0m1-1h0m10-2h0m8 4h0m74-2h0m6 1h0m15 1h0m6 0h0m1 0h0m109-5h0m1 3h0m22 0h0m59-3h0m20 1h0m-101 9h0m-7 3h0m-16-6h0m-1 4h0m-3 1h0m-48-1h0m-88-1h0m-53-2h0m-3 6h0m66 8h0m41-7h0m46 0h0m3 6h0m43-3h0m4 0h0m35 3h0m6 0h0m1-4h0m3 0h0m8-1h0m-10 13h0m-9-1h0m-15-5h0m-10 1h0m-21 3h0m-24 2h0m-59 1h0m-10-5h0m-8 2h0m-36-2h0m-5 2h0m-48-1h0m-9 6h0m2 4h0m40 1h0m15 0h0m25-6h0m21 6h0m10-1h0m2-2h0m156 2h0m15 6h0m-18-3h0m-9 5h0m-150 1h0m-54-2h0m-6-4h0m-43 1h0m79 11h0m30-2h0m3 2h0m129 0h0m15-3h0m33 1h0m12-1h0m0 4h0m-5 8h0m-5-5h0m-4 3h0m-5 0h0m-33-2h0m-75 0h0m-77 5h0m-43-3h0m-31 4h0m-12-3h0m75 9h0m20 1h0m97-2h0m9-1h0m40 1h0m48 0h0m8-1h0m13-3h0m7 8h0m-45 4h0m-1 3h0m-23-6h0m-107 4h0m-36-5h0m-31 1h0m-19 5h0m-33 2h0m7 0h0m86 3h0m42 0h0m34 1h0m3 2h0m13-2h0m50-2h0m14 1h0m22 6h0m-62 2h0m-32 2h0m-69 2h0m-59-6h0m0 2h0m-23 3h0m-19 0h0m-23 1h0m-10-5h0m32 9h0m74 1h0m16-4h0m20 3h0m42-1h0m37 5h0m23-4h0m75 1h0m7 1h0m32-4h0m1 11h0m-40 0h0m-14-4h0m-7 0h0m-53 0h0m-101 1h0m0 4h0m-33 1h0m-32-5h0m-16 1h0m-50 0h0m-9 10h0m53-2h0m15 2h0m63 1h0m33-2h0m23 3h0m26-5h0m38 1h0m10-2h0m0 7h0m15-6h0m90 5h0m1 1h0m1-5h0m6-2h0m-63 14h0m-17-1h0m-86-1h0m-4 3h0m-32-5h0m-2 1h0m-41 1h0m-47 0h0m-1 0h0m-5-3h0m-2 5h0m-86-2h0m9 5h0m3 3h0m10 3h0m46-2h0m27 2h0m1-7h0m5 6h0m53 1h0m51-2h0m10 0h0m101-2h0m8 0h0m32 3h0m0-3h0m0-3h0m5 3h0m-14 12h0m-27-1h0m-8 0h0m-144-4h0m-50 3h0m-8 1h0m-19 0h0m-19 3h0m32-1h0m8 2h0m6 3h0m8-2h0m13 1h0m76-1h0m4 0h0m70 3h0m9-2h0m14-2h0m21-2h0m2 5h0m36 0h0m-25 7h0m-23-2h0m-59 4h0m-96-3h0m-93 1h0m-60 0h0m33 8h0m72 1h0m72 1h0m23-3h0m1 0h0m8 4h0m9-4h0m18-3h0m68 2h0m14 2h0m31 2h0m9 3h0m-7 2h0m-3 1h0m-24-4h0m-15 6h0m-38-3h0m-62-2h0m-8 4h0m-8-4h0m-53 2h0m-4 1h0m-20 1h0m-25 0h0m-36-3h0m-4-1h0m-37 4h0m21 10h0m58-7h0m106 7h0m16-7h0m68 4h0m4-2h0m59 13h0m-7-4h0m-34 0h0m-28-3h0m-12 7h0m-114-1h0m-55-3h0m-56-2h0m-23 6h0m18 3h0m46 2h0m102 1h0m23-4h0m32 4h0m34-5h0m5 1h0m15 5h0m32-6h0m19 4h0m44 1h0m0-2h0m-45 8h0m-5 2h0m-1-1h0m-37-4h0m-125 0h0m-51 1h0m-63 4h0m-26 4h0m23 2h0m32 3h0m121 0h0m81-1h0m2-3h0m11 2h0m29-4h0m54 0h0m1 5h0m-60 6h0m-3 0h0m-11 3h0m-4-6h0m-29 7h0m-75 0h0m-65-6h0m-17-1h0m-11 2h0m-3 0h0m-29 0h0m-18 3h0m-29 0h0m15 10h0m23-4h0m3 0h0m8 3h0m69-5h0m53 6h0m57-2h0m41 0h0m37-5h0m30 11h0m-51 1h0m-29 0h0m-2-3h0m-22 6h0m-34-3h0m-26 2h0m-8-2h0m-64-2h0m-2 2h0m-55-1h0m0 2h0m-2-4h0m-4 3h0m-3 10h0m13-3h0m2 2h0m6-5h0m86 7h0m11-1h0m64-5h0m19-1h0m69 14h0m-1-4h0m-67 3h0m-96 2h0m-7-1h0m-2-5h0m-105 14h0m16-6h0m4 4h0m43 1h0m41-5h0m76 0h0m31-1h0m29 6h0m47-3h0m-37 8h0m-57 0h0m-21-2h0m-4 0h0m-76 8h0m11 3h0m115-3h0m10 2h0m6 4h0m1-7h0m0 1h0m12-1h0m11 8h0m-28 4h0m-4-2h0m-9 3h0m-55 2h0m-20-6h0m-3 1h0m-82 5h0m-21 4h0m88 1h0m19 2h0m32 1h0m25-3h0m3 8h0m-21 2h0m-88-5h0m-1 6h0m-13-4h0m-4 2h0m35 8h0m61-4h0m10 2h0m6 4h0m4-4h0m-11 6h0m-86 5h0m6 4h0m19 0h0m13 0h0"/><path transform="scale(.25)" fill="none" stroke="#A3A500" stroke-width="7.8" stroke-linecap="round" d="M0 0m409 2166h0m3-5h0m57 0h0m3 4h0m16 0h0m26 1h0m-35 3h0m-8-1h0m-1 0h0m-50 4h0m-37 5h0m65 1h0m26 2h0m40 3h0m6-4h0m22 3h0m17 3h0m-31 6h0m-8-5h0m-17-2h0m-99 3h0m-53 11h0m60-1h0m12 0h0m13-1h0m48 0h0m37-1h0m11 2h0m24 0h0m7-4h0m-15 13h0m-8 0h0m-2-3h0m-59 1h0m-1-4h0m-39 0h0m-3 1h0m-36 5h0m-17 3h0m1-1h0m16 2h0m33 4h0m69-6h0m41 6h0m9 4h0m-55 5h0m-43 0h0m-93-5h0m-24 5h0m-8 8h0m78-1h0m41-3h0m12-2h0m35 1h0m16 0h0m2-1h0m34 14h0m-36-3h0m-18 3h0m-1-3h0m-3 2h0m-94-1h0m-31 1h0m-28-1h0m-3-2h0m-2 3h0m-9 5h0m8 1h0m55-1h0m94 4h0m2-2h0m8-1h0m45 8h0m-12-3h0m-45 1h0m-63 5h0m-25-1h0m-43-3h0m-15 3h0m-31 7h0m41 0h0m71-1h0m56-2h0m9 3h0m41-4h0m12 2h0m34 9h0m-144 1h0m-6 1h0m-60 2h0m4 5h0m42 1h0m78-3h0m35 3h0m8 6h0m-54 2h0m-106 6h0m95-2h0m65 2h0m9 3h0m0-1h0m0-6h0m57 0h0m-63 14h0m-8-2h0m-21 1h0m-49 2h0m-102-5h0m-5-2h0m-16 1h0m-20 0h0m-2 3h0m83 9h0m14-2h0m32-2h0m32 4h0m5 1h0m37-5h0m8-1h0m7 2h0m8-1h0m3 3h0m22 0h0m-27 6h0m-4 1h0m-16-2h0m-24-1h0m-69 1h0m-28 4h0m-6-5h0m-6 2h0m-31 4h0m-21 1h0m-10-3h0m-16 8h0m29 0h0m21-3h0m21-1h0m36 0h0m3 5h0m6 1h0m16-4h0m35 3h0m1 1h0m1-6h0m27 0h0m26 2h0m1 4h0m24-3h0m24 9h0m-12 2h0m-2-6h0m-25 6h0m-10 0h0m0 1h0m-80-3h0m-3-2h0m-54 2h0m-19-3h0m-16 0h0m-45 11h0m9 1h0m22-4h0m19 5h0m16-5h0m14 3h0m27-2h0m64 4h0m42-6h0m41 6h0m15-2h0m39 11h0m-37-1h0m-21-2h0m-2 2h0m-42 0h0m-32-4h0m-16 5h0m-8-3h0m-102-3h0m-55 5h0m-4-4h0m-2 1h0m-2 4h0m8 4h0m54-1h0m4 5h0m46 0h0m0 0h0m72-7h0m63 6h0m7-2h0m29 3h0m1-3h0m24-2h0m4 1h0m13 3h0m-89 7h0m-14-4h0m-70-1h0m-2 5h0m-24 2h0m-32-5h0m-16 2h0m-9 0h0m-18 1h0m-39 2h0m-1-7h0m-11 14h0m50-2h0m5 3h0m14-7h0m1 5h0m35-5h0m79 4h0m10-1h0m0-3h0m32 5h0m11-2h0m-12 11h0m-4-6h0m-12 1h0m-40 1h0m-47 5h0m-15-4h0m0 2h0m-13-5h0m-51 0h0m-3 6h0m-12-2h0m-23 6h0m2-1h0m8-1h0m11 4h0m1-2h0m80 0h0m43 3h0m28-4h0m12 4h0m31-2h0m8 4h0m5-5h0m4-2h0m-24 8h0m-117 6h0m-2-1h0m-28 2h0m-9-7h0m-31 2h0m-10-2h0m-4 15h0m5-1h0m18-6h0m117 4h0m8 2h0m16 8h0m-5-6h0m-118 6h0m-19-4h0m-1 5h0m-12-2h0m-21-2h0m112 7h0m8 5h0m14-3h0m4 1h0m15-4h0m39-1h0m21 9h0m-34 1h0m-57 5h0m-21-3h0m-12-2h0m-4-2h0m-1 4h0m-23-3h0m-31 6h0m-38 0h0m2 8h0m69-2h0m3-2h0m26 3h0m30-3h0m2 2h0m23 2h0m28-5h0m19-1h0m-72 7h0m-6 3h0m-111-3h0m-20 0h0m26 12h0m1-2h0m78 3h0m26-2h0m4 8h0m-33 3h0m-75 0h0m-24-3h0m2 5h0m51 7h0m7 2h0m-1-1h0m-7 6h0m-5 0h0"/><path transform="scale(.25)" fill="none" stroke="#00BF7D" stroke-width="7.8" stroke-linecap="round" d="M0 0m771 2301h0m-3 9h0m-9 17h0m2-2h0m12-5h0m9 6h0m19-2h0m10 8h0m-1-3h0m-14 0h0m-8 1h0m-29 7h0m32 6h0m17-4h0m-21 11h0m-17-5h0m-12 13h0m22-5h0m1 1h0m62 1h0m5 8h0m-3-1h0m-26-1h0m-49 0h0m-12 8h0m4 6h0m43 0h0m19-5h0m2 5h0m38-1h0m-104 6h0m6 4h0m115 12h0m-9-2h0m-44 2h0m-55-3h0m-23-1h0m121 13h0m25-1h0m0 10h0m-41-5h0m-76 3h0m-10 5h0m6 5h0m55-4h0m37 3h0m21-2h0m10 7h0m-8-1h0m-102 13h0m40-6h0m0 2h0m8 0h0m10 3h0m82 10h0m-16-7h0m-19 2h0m-27 2h0m-42 1h0m-51 10h0m88-1h0m26-3h0m3-1h0m36-1h0m-16 8h0m-16 1h0m-10 3h0m-12-4h0m-1 6h0m-1-3h0m-1 0h0m-4 0h0m-15-4h0m-15 7h0m-3-3h0m-3 3h0m-10 0h0m-3-4h0m-4 1h0m-1-1h0m-1 5h0m11 1h0m8-1h0m1 1h0m31 4h0m0-1h0m8 3h0m5-2h0m14-1h0m18 5h0m-40 0h0m-2 6h0m-52-7h0m2 9h0m14-1h0m56 1h0m1 11h0m-27 1h0m-1-4h0m-23 5h0m-37-2h0m8 11h0m81-3h0m2 1h0m25-3h0m17 8h0m-62-2h0m-40 6h0m-10-2h0m-5-2h0m-1 3h0m-5 1h0m0-6h0m-19 0h0m-2 1h0m-7 2h0m129 10h0m-42 7h0m-57 1h0m-19-5h0m-28 1h0m-29 13h0m17-1h0m7-3h0m15 3h0m3 2h0m22-4h0m69 2h0m4-4h0m12 4h0m2 1h0m9-6h0m22 5h0m6 7h0m-2-2h0m-7 4h0m-22-6h0m-9 0h0m-1 4h0m-11-3h0m-16-1h0m-69 5h0m-27-3h0m-10 3h0m-11 5h0m13-2h0m23 4h0m119-2h0m1 13h0m-1-2h0m-64 1h0m-100-2h0m-4 8h0m3-3h0m164 0h0m16 7h0m-16 6h0m-21-3h0m-126 2h0m-24-2h0m6 12h0m62-5h0m26 1h0m1 0h0m8 2h0m0-1h0m46 3h0m13 0h0m26-3h0m-7 6h0m-3 3h0m-42-5h0m-48 7h0m-2-4h0m-20-1h0m-6 3h0m-11-2h0m-51-3h0m-9 15h0m15-1h0m1-1h0m22 0h0m47-2h0m88 4h0m15 2h0m-2 2h0m-7 2h0m-23-1h0m-18 0h0m-13 3h0m-31-2h0m-16 1h0m-46 0h0m-48 2h0m11 4h0m2 0h0m8 2h0m50-1h0m50 2h0m30-2h0m23-5h0m2 3h0m7 4h0m3-1h0m9-2h0m3 1h0m11 1h0m-85 6h0m-1 0h0m-75-1h0m-1-2h0m-42 0h0m-24 13h0m30-4h0m2 3h0m44-5h0m10 4h0m2-3h0m154 8h0m-32 2h0m-24 2h0m-50 2h0m-9-5h0m-66 4h0m-25-5h0m0 3h0m-12 6h0m8-2h0m4 7h0m35-1h0m7-5h0m89 2h0m52 2h0m-3 4h0m-7 6h0m-6-5h0m-19 5h0m-29-4h0m-50-3h0m-42 4h0m-55 6h0m16 4h0m37-6h0m70 5h0m70-3h0m7 5h0m14-4h0m4 9h0m-76 2h0m-10-2h0m-72-3h0m-11 4h0m-11-4h0m-23 6h0m-3-1h0m-7 2h0m6 1h0m31-1h0m69 3h0m9-1h0m1 11h0m-24 0h0m-9 2h0m-31-4h0m-40 4h0m15 1h0m5 3h0m54 4h0m3-1h0m10-4h0m80 5h0m5 6h0m-4-4h0m-138 8h0m72 7h0m-108 9h0m13 0h0m31-1h0m23 1h0m55 0h0m19 3h0m-29 4h0m-41 7h0m-13-4h0m-48 10h0m19-5h0m21 5h0m-10 3h0m-1 3h0m-2-2h0"/><path transform="scale(.25)" fill="none" stroke="#00B0F6" stroke-width="7.8" stroke-linecap="round" d="M0 0m613 2146h0m16-2h0m0 4h0m32-4h0m0 2h0m-29 7h0m-47 3h0m-5-1h0m38 6h0m20 6h0m30 0h0m-18 1h0m-21 3h0m-5 2h0m-18 0h0m-3 0h0m-10-2h0m9 6h0m37 4h0m-52 29h0m3 3h0m53 2h0m-81 1h0m-16 2h0m57 17h0m5 5h0m126 5h0m12 5h0m-2 1h0m-9-3h0m-4 7h0m-143-7h0m82 9h0m36 5h0m36-5h0m-88 20h0m25 2h0m23-2h0m14 1h0m3 0h0m6-5h0m9 12h0m-2-2h0m0 2h0m-4-4h0m-42 4h0m0 5h0m18-1h0m5 4h0m12-1h0m14-4h0m3 7h0m-35 4h0m-73 2h0m71 7h0m35-1h0m1-1h0m12 1h0m-8 9h0m-8 1h0m-1 1h0m-24 0h0m-23 4h0m14 4h0m3-3h0m0-2h0m23 1h0m21 3h0m11 7h0m-44 1h0m-71 0h0m86 11h0m-7 0h0m-62 1h0m-37 0h0m9 8h0m93 4h0m12-4h0m1 5h0m-3 5h0m-61 0h0m-32-3h0m-2 1h0m76 11h0m-12 6h0m-61-2h0m64 13h0m6 10h0m-49 0h0m51 7h0m3 9h0m-23 8h0m-44 14h0m41-1h0m49 2h0m-59 17h0m24 7h0m-4-2h0m-3 1h0m-295 9h0m45-3h0m230 1h0m-29 7h0m-22 4h0m-232-6h0m-14 5h0m12 6h0m20 1h0m40-3h0m272 6h0m-14 3h0m-15-1h0m-31-2h0m-46 2h0m-214 10h0m319 0h0m-4 9h0m-3-2h0m-6 1h0m-40-1h0m-3 1h0m-3 1h0m-244-4h0m-23 0h0m-8 11h0m7 3h0m299-5h0m36 13h0m-307 5h0m299 3h0m4-6h0m-47 12h0m-25 0h0m-10-2h0m-3 0h0m-2 4h0m-198-5h0m-17 2h0m-45 8h0m13-3h0m246-1h0m18 6h0m9-1h0m16 3h0m-229 5h0m-5 0h0m-59 1h0m39 7h0m221 5h0"/><path transform="scale(.25)" fill="none" stroke="#E76BF3" stroke-width="7.8" stroke-linecap="round" d="M0 0m530 2381h0m-6-5h0m-3 6h0m-7 7h0m18 5h0m-6 0h0m-1-2h0m-8 8h0m4 7h0m17-2h0m24 1h0m-19 5h0m-1 3h0m-17-6h0m-3 3h0m-1 3h0m34 3h0m42 10h0m-30 4h0m-33 3h0m50 3h0m17 0h0m12-1h0m-23 5h0m-50 7h0m14 6h0m6-5h0m46 1h0m1 0h0m-39 10h0m-6-4h0m-25 4h0m-7 6h0m38 1h0m10 1h0m34-3h0m-30 11h0m-61 1h0m48 3h0m53 11h0m-20-1h0m-42 3h0m-14 0h0m27 7h0m0-2h0m8 1h0m9 2h0m28 9h0m-7 0h0m-30-2h0m-18 8h0m3 2h0m15-1h0m39 2h0m26 7h0m-47-6h0m49 11h0m-21 6h0m27 13h0m9 7h0m-14 7h0m8 2h0m5 1h0"/><path transform="scale(.25)" fill="none" stroke="#F8766D" stroke-width="7.8" stroke-linecap="round" d="M0 0m502 2454h0m132 1h0m3-2h0m1 3h0m-88 5h0m-64-2h0m156 8h0m-212 8h0m0 4h0m-44-2h0m-23-4h0m-3 2h0m-11 3h0m-71-1h0m76 8h0m1-5h0m34 2h0m43-1h0m6 3h0m28-4h0m130 4h0m-141 6h0m-3 3h0m-6-4h0m-113-1h0m-24 0h0m-20 2h0m-14 12h0m36-3h0m16-2h0m103 6h0m14-4h0m16-1h0m128 12h0m-1-1h0m-10 1h0m-61 1h0m-44-1h0m-4 1h0m-8-5h0m-39 1h0m-25-3h0m-19 4h0m-101 9h0m139-1h0m21 1h0m26 2h0m13-6h0m27 6h0m14-1h0m75 4h0m-92 4h0m-27-2h0m-28-2h0m-181 13h0m72-1h0m144 0h0m13-6h0m41 6h0m90 9h0m-107-7h0m-21 6h0m-108-5h0m-52 6h0m-6-3h0m-27-1h0m-2 0h0m-32 3h0m-17 3h0m55-1h0m9 5h0m9-3h0m5 5h0m3-5h0m1-2h0m13 6h0m5-1h0m10-1h0m24 2h0m5 0h0m45 1h0m93-4h0m6 1h0m3 6h0m-1 3h0m-38 0h0m-134-5h0m-29 1h0m-2 2h0m-4-3h0m-66 12h0m11 1h0m37-3h0m46-2h0m36 4h0m3-3h0m78 3h0m19 0h0m26-4h0m10 1h0m4 2h0m10 0h0m21 2h0m3-3h0m17 9h0m-29 1h0m-23 2h0m-3-4h0m-10 1h0m-20 2h0m-2-3h0m-39 5h0m-22-4h0m-10 0h0m-37 3h0m-48-1h0m-1-4h0m-17 0h0m-9 4h0m-2-2h0m-24 2h0m-23 3h0m8 4h0m71-3h0m54 1h0m53-1h0m66 2h0m6-2h0m24 6h0m26-6h0m3 6h0m-49 8h0m-5-2h0m-2-5h0m-35 7h0m-18-5h0m-66-1h0m-14-1h0m-1 0h0m-34 3h0m-25-1h0m-8 4h0m-26-2h0m8 6h0m39 5h0m3-5h0m53 4h0m61-4h0m6 0h0m3 5h0m0-6h0m12 1h0m20 1h0m124 5h0m-38 1h0m-141 2h0m-1-1h0m-19 5h0m-22 0h0m-7-7h0m-33 2h0m-27 2h0m-3-4h0m-16 4h0m-27 2h0m102 2h0m24 0h0m4 3h0m117 2h0m107-3h0m15 13h0m-7-3h0m0-4h0m0 5h0m-121-3h0m-177 10h0m28-4h0m33 3h0m18 0h0m26 4h0m42-2h0m46-2h0m1 4h0m25-5h0m6 2h0m71 1h0m-122 3h0m-14 4h0m-11 2h0m-12-2h0m-74-4h0m-43 6h0m-3-1h0m-22 0h0m-59-1h0m137 4h0m104 0h0m15 5h0m19 1h0m13-2h0m0-3h0m28 4h0m37 5h0m-69-1h0m-5 5h0m-40-2h0m-4 0h0m-12-1h0m-71-3h0m-10 2h0m-25 3h0m-39-2h0m-9 1h0m-18 3h0m34 1h0m4 0h0m4 2h0m7-2h0m19 5h0m42-5h0m49 2h0m24 3h0m11 1h0m27-1h0m1-1h0m35 0h0m34 8h0m-1-3h0m-24 4h0m-79-4h0m-60 0h0m-26 0h0m-40 6h0m-63-2h0m-1 2h0m-51 1h0m14 0h0m2 1h0m5 1h0m26 1h0m10 3h0m9-1h0m83-1h0m42 2h0m3-1h0m43-2h0m13-2h0m64 0h0m6 4h0m18 2h0m24-5h0m10 8h0m-12 0h0m-5 1h0m-22 1h0m-62 0h0m-42-3h0m-32-1h0m-17 5h0m-33 2h0m-15 0h0m-2-3h0m-5-1h0m-34 4h0m-4-3h0m-25-4h0m-1 1h0m-3-1h0m-1 1h0m-7 5h0m-29 0h0m-12-2h0m-2-4h0m-1 6h0m61 4h0m78 3h0m16-1h0m77-3h0m40 5h0m65-1h0m9-4h0m7 5h0m15-5h0m-64 12h0m-8-3h0m-15 1h0m-4 1h0m-121 2h0m-41 1h0m-28-5h0m-11 5h0m-19-1h0m-16 7h0m156 1h0m2 0h0m13-2h0m3 2h0m59 0h0m20-1h0m40 1h0m39-5h0m2 4h0m2-4h0m0 1h0m8 11h0m0-4h0m-34 1h0m-11 4h0m-47 0h0m-1-3h0m-8 4h0m-2-7h0m-2 5h0m-1-4h0m-15 3h0m-8-4h0m-110 3h0m-39 0h0m-26 1h0m-1-3h0m-14 14h0m1-2h0m69-3h0m28 1h0m124 1h0m0-4h0m14 5h0m46-4h0m7 0h0m4 0h0m13 10h0m-61-1h0m-14-1h0m-5 2h0m-20-1h0m-55 4h0m-3-1h0m-84 1h0m-42-1h0m-11 2h0m-3 0h0m-1-6h0m-3-1h0m-2 4h0m-1-4h0m-2 5h0m-31 5h0m48 3h0m15-2h0m34 0h0m51-1h0m25 1h0m45 1h0m19 1h0m16 1h0m5 0h0m15-1h0m12-5h0m66 7h0m-45 5h0m-26 0h0m-5 1h0m-8 1h0m0 0h0m-3-6h0m-4 7h0m-13-7h0m-17 6h0m-111-2h0m-7-2h0m-21 4h0m-29-4h0m-4 2h0m-25 3h0m-20-7h0m36 8h0m181 7h0m40-7h0m16 0h0m8 1h0m24 14h0m-13-3h0m-1 3h0m-39-3h0m-58 1h0m-11 0h0m-33-5h0m-3 7h0m-26-7h0m-83 3h0m-13 2h0m-2 7h0m6 2h0m1 1h0m63-2h0m36-2h0m64 1h0m14-2h0m56 6h0m-127 5h0m-28-5h0m-13 4h0m-69-1h0m-1-3h0m17 11h0m51 2h0m40-3h0m50 3h0m35 1h0m3 1h0m22 6h0m-3 2h0m-26-5h0m-48 3h0m-18 2h0m-11 0h0m-31-5h0m-7 0h0m-1 0h0m-17 1h0m-5 1h0m-10 9h0m18 1h0m5-4h0m11-1h0m107 3h0m49-3h0m-62 11h0m-4 2h0m0-5h0m-4 3h0m-12-4h0m-24 3h0m-4 1h0m-15-3h0m-17 1h0m-10 3h0m-5 0h0m-4-5h0m-5 3h0m-31 1h0m31 8h0m13-4h0m0 4h0m13-2h0m8-2h0m3 5h0m67 0h0m2-5h0m2 4h0m-12 7h0m-38 0h0m-32-3h0m-4 3h0m-6 8h0m49 6h0"/><path transform="scale(.25)" fill="none" stroke="#A3A500" stroke-width="7.8" stroke-linecap="round" d="M0 0m497 2162h0m41 4h0m-145 5h0m0 0h0m121 9h0m10-1h0m2-2h0m5 6h0m11-2h0m4-4h0m5 5h0m2 1h0m12 7h0m-37-1h0m-5 2h0m-4-6h0m-9 4h0m-3-5h0m-157 15h0m49-2h0m84 1h0m10-4h0m8 5h0m40 0h0m30 2h0m-5 3h0m-4 0h0m-12 2h0m-3-2h0m-11 3h0m-11-6h0m-44 3h0m-4-1h0m-35 1h0m-91 5h0m5 3h0m34-1h0m1-3h0m31 6h0m15 1h0m32 0h0m7-4h0m8 1h0m10-4h0m65 12h0m-33-4h0m-42 0h0m-29 2h0m-24 4h0m-80-1h0m-24 4h0m3 6h0m6-4h0m30 1h0m63 0h0m55-4h0m66 4h0m-6 5h0m-36 5h0m-178-5h0m-4 9h0m7 4h0m56 1h0m1-7h0m8 2h0m78 0h0m15 0h0m34 0h0m45-1h0m-9 7h0m-75 4h0m-8 3h0m-9-3h0m-8-1h0m-153 10h0m4-5h0m128 4h0m37-4h0m12 5h0m2 0h0m34-5h0m13 0h0m21 7h0m5 1h0m-3 4h0m-7-2h0m-5-2h0m-61 0h0m-110 12h0m37-3h0m10 3h0m47-1h0m70 0h0m16 2h0m0-5h0m6 5h0m5-3h0m-24 11h0m-11 2h0m-17-3h0m-14 1h0m-29 2h0m-2-6h0m-108 4h0m-18 1h0m-27-1h0m18 9h0m13-3h0m79-2h0m13 3h0m21-2h0m83 0h0m37 10h0m-11-2h0m-28 4h0m-14 0h0m-92-5h0m-120 0h0m-24 2h0m-1-1h0m-5 5h0m20 8h0m67-2h0m82 0h0m14 0h0m89 0h0m26 1h0m-67 7h0m-30 0h0m-1-4h0m-21 1h0m-6-2h0m-59 1h0m-15-1h0m-13 6h0m-50-5h0m-1 1h0m-1-1h0m-12 1h0m-10-2h0m-7 12h0m62-3h0m38 6h0m65-6h0m3-1h0m20 0h0m29 4h0m6 0h0m0 2h0m39-5h0m25 8h0m-124 0h0m-22 6h0m-123 0h0m-5 3h0m37-2h0m12 0h0m60 1h0m22 2h0m6 0h0m36 0h0m35-2h0m8 1h0m3 1h0m32 3h0m18 1h0m20 8h0m-14-7h0m-4 1h0m-17 4h0m-22-2h0m-57 0h0m-47-1h0m-5 2h0m-87-4h0m-44 2h0m42 6h0m24 7h0m10-3h0m11-2h0m38-2h0m5 4h0m64-2h0m28 0h0m-89 13h0m-22-6h0m-10 3h0m-119 5h0m17-1h0m3 3h0m7 4h0m28-1h0m69-3h0m7 3h0m41-6h0m62 4h0m10 7h0m-21 3h0m-34-5h0m-57 0h0m-55 1h0m-4 0h0m-5-1h0m-16 2h0m-42 10h0m8-5h0m11 7h0m40-5h0m44 3h0m9 0h0m20-4h0m61 7h0m-45 7h0m-11-7h0m-33 5h0m-18-3h0m-8 0h0m-61 1h0m-7-1h0m9 6h0m22 1h0m37 0h0m68 0h0m10 0h0m11 7h0m-20 0h0m-50 5h0m-41 2h0m-61 6h0m72 2h0m36-1h0m44-6h0m27 7h0m31-5h0m9 3h0m-46 5h0m-1 5h0m-31-1h0m-25-1h0m-31 2h0m-3-3h0m-56-3h0m-28-1h0m-7 1h0m-3 8h0m78 2h0m16 3h0m9-3h0m0-2h0m14 5h0m43-3h0m1 2h0m5 2h0m43-5h0m-52 13h0m-31-6h0m-5 5h0m-5-5h0m-29 4h0m-32-4h0m-47 1h0m4 10h0m28-1h0m81 2h0m1-5h0m10 1h0m30-1h0m-32 9h0m-8-1h0m-85 11h0m98-2h0m-89 13h0"/><path transform="scale(.25)" fill="none" stroke="#00BF7D" stroke-width="7.8" stroke-linecap="round" d="M0 0m769 2322h0m25 10h0m-1 2h0m-13 5h0m8 0h0m7-2h0m12 1h0m10 0h0m-20 18h0m59 11h0m-14 0h0m-10-4h0m-4 3h0m-9-3h0m-30-2h0m-24 10h0m4-1h0m9 1h0m3-3h0m29 0h0m19 2h0m2 0h0m22 2h0m2 1h0m-9 6h0m-21-2h0m-10 1h0m-1 3h0m-7-1h0m-3 9h0m64 1h0m22 7h0m-10 2h0m0-5h0m-15 4h0m-113-2h0m8 9h0m38-4h0m49 5h0m46 7h0m-26-5h0m-4 5h0m-96 1h0m10 2h0m6 6h0m18 1h0m24 0h0m41-1h0m25 4h0m-64 1h0m-11 0h0m-19-2h0m28 7h0m35 0h0m29 2h0m44 8h0m-25 5h0m-2-6h0m-31 2h0m-46 4h0m-12-3h0m-2 2h0m-39 3h0m1 1h0m30 3h0m12-3h0m17 1h0m41-1h0m5-2h0m20 3h0m11 3h0m15 4h0m-25 3h0m-17 0h0m-6 1h0m-16 0h0m-5-4h0m-10 2h0m-15 1h0m-10 1h0m-6-2h0m-11-1h0m-12-2h0m-21 12h0m57-5h0m14 5h0m21-4h0m25 6h0m36-6h0m-45 14h0m-6-5h0m-10-1h0m-66-1h0m-15 6h0m-3-4h0m78 13h0m8-1h0m17 0h0m34 4h0m-68 3h0m-45 0h0m-11-2h0m-36 1h0m-3-1h0m5 8h0m34-3h0m4 7h0m3-5h0m1 0h0m50 5h0m75 6h0m-3-5h0m-8 1h0m-103 6h0m0-1h0m-12 0h0m-19-3h0m14 11h0m3 0h0m10-3h0m9-1h0m15 5h0m13-2h0m57 1h0m16 2h0m-42 2h0m-31-2h0m-9 4h0m-77 11h0m122-2h0m39-2h0m-4 9h0m-28 2h0m-132 0h0m-22-1h0m9 7h0m2-1h0m24 0h0m69-1h0m31 3h0m23-3h0m28 2h0m-110 6h0m-47 2h0m-37 8h0m111 3h0m15-3h0m44-1h0m6 4h0m-3 1h0m-27 5h0m-57-5h0m-1 2h0m-50 5h0m-5 0h0m-16-4h0m71 8h0m7-3h0m50 7h0m15-1h0m13-3h0m7 8h0m-8 3h0m-18-2h0m-88-3h0m-5 5h0m-8-1h0m-71-1h0m-16 9h0m2-5h0m67 6h0m7-5h0m16 0h0m4 5h0m3 0h0m3-5h0m5 0h0m15 2h0m13-1h0m52-2h0m14 2h0m-12 6h0m-4 6h0m-47 1h0m-26-6h0m-1 0h0m-17 2h0m-102-3h0m24 10h0m1 1h0m52-1h0m78 1h0m49 8h0m-39 1h0m-23-1h0m-28-2h0m-36 4h0m-45-2h0m-5 3h0m-3-4h0m-11 5h0m-3-1h0m16 7h0m22 0h0m14-4h0m4 0h0m2-1h0m54 6h0m62-5h0m12 1h0m2-2h0m-41 10h0m-31 4h0m-26-6h0m-9 3h0m-3 2h0m-15-4h0m-13 2h0m-11-2h0m-42 3h0m25 11h0m22-2h0m15-2h0m19-2h0m5-1h0m33 1h0m10 1h0m4 0h0m11 3h0m3-2h0m1 3h0m1-6h0m53 4h0m14 11h0m-96-1h0m-57-2h0m-4-4h0m-4 7h0m-61-6h0m28 8h0m57 1h0m48 3h0m92 3h0m-14 0h0m-11 7h0m-38-2h0m-36-3h0m-1 2h0m-24-2h0m-47 2h0m-46 0h0m-1 1h0m40 4h0m54 2h0m23 1h0m73 7h0m-49-1h0m-25 1h0m-22-2h0m-42 2h0m-22 0h0m-36-2h0m6 8h0m36 2h0m6 3h0m51-5h0m6 0h0m30 6h0m2-2h0m40-5h0m11 15h0m-16-1h0m-28-6h0m-53 0h0m-47 4h0m-1 10h0m5-5h0m28-1h0m5 0h0m80 5h0m21 1h0m-53 7h0m-117 5h0m3 2h0m53 0h0m4 3h0m17-1h0m24-4h0m5-2h0m-91 9h0m-8 1h0m-3 5h0m-9 8h0m10-5h0m53 4h0m5 8h0m-29-1h0"/><path transform="scale(.25)" fill="none" stroke="#00B0F6" stroke-width="7.8" stroke-linecap="round" d="M0 0m627 2141h0m4 5h0m41 6h0m-3 5h0m-7 0h0m-3-2h0m-9 4h0m-41-4h0m-5 11h0m24-5h0m1 0h0m13 2h0m25-1h0m-15 13h0m-17-4h0m-29 1h0m-9 0h0m3 8h0m29-3h0m18 0h0m35 7h0m-25 1h0m-10 3h0m-45 19h0m-21-5h0m-25 4h0m25 3h0m6 3h0m-15 14h0m27 3h0m60 13h0m64-1h0m17 14h0m-135-1h0m-54 5h0m25-3h0m133 2h0m17 12h0m-10-3h0m-1 3h0m-21-5h0m20 9h0m8-2h0m3 0h0m-89 17h0m88 0h0m11 6h0m-9 1h0m-10 4h0m-5 1h0m-6 8h0m6-4h0m35 9h0m-14 4h0m-3 1h0m-37-4h0m-28-2h0m-35 3h0m66 7h0m64 6h0m-122 13h0m84-3h0m11 4h0m3-1h0m8 0h0m6-1h0m-24 9h0m-2-3h0m-72 1h0m-3 1h0m-10 0h0m110 7h0m-112 6h0m73 25h0m17 11h0m-28 1h0m7 31h0m-4-6h0m14 8h0m-35 21h0m26-2h0m-77 5h0m21 14h0m60 5h0m-47-1h0m-10 1h0m-6-3h0m-198 7h0m-1-3h0m-3 2h0m-23-6h0m25 14h0m267-3h0m-6 5h0m-10 2h0m-12 0h0m-61 4h0m-217-3h0m-4-1h0m0 11h0m18 2h0m4 0h0m22-7h0m259 1h0m3-1h0m2 0h0m10 14h0m-318-1h0m17 6h0m9 1h0m184-3h0m6 3h0m42 2h0m1 6h0m-241 5h0m5 6h0m213-2h0m30-1h0m13-2h0m34 0h0m-22 10h0m-18 3h0m-44-7h0m-182 0h0m-68 4h0m51 6h0m10-2h0m2 1h0m208 14h0m-2-1h0m-199-3h0m-77 3h0m277 11h0m-33 4h0"/><path transform="scale(.25)" fill="none" stroke="#E76BF3" stroke-width="7.8" stroke-linecap="round" d="M0 0m523 2363h0m-8 7h0m13 13h0m-3 8h0m1-4h0m8 10h0m-25 7h0m0 0h0m1 2h0m7 0h0m41 1h0m17 6h0m-4 1h0m-2-5h0m-26 2h0m-19 2h0m11 7h0m1-4h0m7 4h0m7 3h0m2-3h0m29 7h0m-9-1h0m-1 5h0m-8-5h0m-8 0h0m-20 7h0m71 9h0m-27-1h0m-30 1h0m-13 1h0m-11-1h0m32 6h0m38 0h0m16 12h0m-2-1h0m-25-2h0m-50 0h0m-4-1h0m18 9h0m26 3h0m5-2h0m0 1h0m4 3h0m30 1h0m-18 5h0m-5-3h0m-7 13h0m4-6h0m38 13h0m-37-1h0m-9-4h0m-1 2h0m0 2h0m-2-4h0m-1 3h0m-4-1h0m-5 2h0m-3 3h0m-5-7h0m-27 5h0m22 5h0m7 3h0m17-5h0m8 6h0m-24 3h0m-13 6h0m26 3h0m32 3h0m14 2h0m-27 6h0m-9 5h0m61 9h0m8 38h0"/><path transform="scale(.25)" fill="none" stroke="#F8766D" stroke-width="7.8" stroke-linecap="round" d="M0 0m549 2461h0m-96-4h0m62 9h0m-76 13h0m-63-2h0m-5-4h0m-23 6h0m-16 0h0m-47 3h0m55 1h0m2 3h0m1-2h0m4 0h0m43-2h0m48-1h0m10-1h0m10 4h0m1-3h0m11 3h0m136 2h0m-138 6h0m-16 3h0m-6-6h0m-106 5h0m-14-5h0m-22-1h0m-21 7h0m-4 1h0m51 2h0m121 3h0m2-3h0m19 2h0m1-3h0m-35 10h0m-128-3h0m-9 1h0m-1 6h0m-33-5h0m52 7h0m126 1h0m9 5h0m19 0h0m71-1h0m-22 9h0m-2-4h0m-42-1h0m-58 2h0m-23-3h0m-8 2h0m-8 1h0m-11-2h0m-1 2h0m-16 2h0m-85 6h0m8 0h0m96 1h0m5-3h0m57 0h0m75 1h0m6 2h0m5 0h0m0-2h0m3-2h0m3 6h0m7 3h0m-18-2h0m-20 6h0m-13 0h0m-149-5h0m-5 5h0m-8 1h0m-46-1h0m-3 2h0m23 7h0m28-3h0m1-2h0m6 0h0m11 0h0m21 2h0m59-1h0m64-2h0m8 0h0m4 1h0m0 0h0m27 4h0m15-6h0m43 1h0m-47 9h0m-42-1h0m-20-1h0m-51 3h0m-39-1h0m-19 3h0m0-2h0m-5-3h0m-18 1h0m-16-1h0m-25 0h0m-15 0h0m-10 7h0m-2 2h0m88 1h0m38 3h0m6 2h0m54-6h0m4 5h0m145 8h0m-52 0h0m-144-1h0m-20 2h0m-15-5h0m-24 0h0m-15 0h0m-3 4h0m-19-2h0m2 6h0m66 0h0m8-1h0m111 6h0m15-2h0m32-2h0m11-3h0m24 6h0m9-4h0m-30 13h0m-19-3h0m-3-4h0m-2 0h0m-44 6h0m-62-1h0m-32 1h0m-37-2h0m-32-3h0m-42 2h0m34 6h0m37 1h0m1 2h0m2-2h0m67 5h0m37-5h0m6-1h0m15 4h0m71 1h0m11 1h0m17-5h0m78 7h0m-51 2h0m-20-2h0m-67 5h0m-28-4h0m-75 0h0m-7 0h0m-3 5h0m-1 0h0m-2 0h0m-4-3h0m-11 0h0m-58 0h0m-7 1h0m-42 3h0m14 7h0m53 0h0m0-5h0m4 4h0m171-5h0m120 4h0m9-1h0m-13 4h0m-15 4h0m-58 3h0m-5-3h0m-31-1h0m-15-2h0m-96 0h0m-4 0h0m-82 6h0m-31 0h0m-32-3h0m-2 3h0m-5 1h0m16 2h0m115 1h0m38-3h0m25 1h0m24 6h0m91-2h0m2 0h0m12-4h0m-21 8h0m-92 4h0m-53-4h0m-76 0h0m-40 0h0m-36 0h0m93 7h0m76 6h0m0-6h0m128 5h0m20 2h0m1 0h0m7-4h0m2-3h0m7 2h0m5 0h0m10 10h0m-24-2h0m-9 5h0m-11-6h0m-27 4h0m-27 0h0m-153-5h0m-78 12h0m10-2h0m71 3h0m18-3h0m3 2h0m9-3h0m110 2h0m49 1h0m46 2h0m6-6h0m2 7h0m31 7h0m-3-5h0m-30 5h0m-7-2h0m-1 0h0m-14 0h0m-8-4h0m-32 1h0m-54-1h0m-21 3h0m-83 3h0m-5-4h0m-36 2h0m-38-4h0m-2 6h0m-14-2h0m-3-4h0m-5 4h0m1 6h0m4 2h0m2-2h0m2 5h0m11-7h0m23 1h0m2 1h0m125 1h0m29-3h0m39 0h0m18 2h0m3 0h0m15 3h0m66-3h0m-60 6h0m-9 6h0m-123 1h0m-4-7h0m0 1h0m-12 0h0m-76 6h0m-7-5h0m-11 5h0m-5-6h0m160 13h0m1-2h0m74-3h0m56 4h0m1-3h0m11 3h0m29-1h0m-94 6h0m-1 4h0m-10-6h0m-28 4h0m-28-4h0m-7 5h0m-82-3h0m-1 3h0m-37-5h0m-48 2h0m19 10h0m21 3h0m8-1h0m24 0h0m6 1h0m22-4h0m157 2h0m20-2h0m1 0h0m62 2h0m-3 8h0m-35-2h0m-44-1h0m-37 4h0m-18-5h0m-155 5h0m-42-2h0m-1 1h0m10 3h0m29 0h0m8 1h0m205-1h0m0 4h0m51 0h0m-45 5h0m-5 4h0m-57-1h0m-27-3h0m-57 1h0m-6 3h0m-2-1h0m-1-4h0m-4 6h0m-16-4h0m-51 3h0m-7-3h0m16 8h0m1 3h0m18-3h0m50-1h0m13 5h0m40-5h0m4 3h0m4-1h0m109-2h0m56 7h0m-97 4h0m-7-2h0m-6 2h0m-4 1h0m-52 0h0m-80-1h0m-33-3h0m-3 2h0m-1 2h0m-33 0h0m-5-5h0m35 11h0m49-3h0m11 4h0m11 0h0m46-1h0m16-1h0m46 4h0m57-6h0m15 1h0m30 9h0m-78 3h0m-28 0h0m-5-1h0m-2 0h0m-88 1h0m-60-1h0m-44 1h0m3 9h0m2-4h0m6 4h0m96-6h0m6 2h0m12 0h0m47 4h0m23-2h0m64-2h0m2 7h0m-28 6h0m-58-4h0m-67 2h0m-38-4h0m-19 2h0m-14-2h0m-26-1h0m-13 3h0m58 11h0m26-2h0m3-1h0m128-3h0m0 3h0m18 1h0m1 0h0m4 1h0m2 0h0m-28 7h0m-189 6h0m3 3h0m6 2h0m30-4h0m24 3h0m3-1h0m2-2h0m35 0h0m10 2h0m19-2h0m37 2h0m12-5h0m17 7h0m0 2h0m-81 1h0m-49-2h0m-4 1h0m-4 2h0m-22 3h0m-6-2h0m-26-3h0m3 10h0m162-2h0m-23 13h0m-19-6h0m-15 6h0m-48-3h0"/><path transform="scale(.25)" fill="none" stroke="#A3A500" stroke-width="7.8" stroke-linecap="round" d="M0 0m465 2159h0m-2 5h0m1 0h0m40 2h0m21-4h0m-59 12h0m-98 9h0m110-6h0m69 0h0m-19 12h0m-3-5h0m-67 6h0m-13 4h0m23 0h0m27-1h0m3 6h0m8-6h0m5 2h0m22 2h0m17 2h0m13-5h0m-32 7h0m-42 1h0m-3 2h0m-4 3h0m-1-4h0m-4 1h0m-7 1h0m-69 2h0m-52 0h0m-1 0h0m21 2h0m5 6h0m9-3h0m5 3h0m24-1h0m8-2h0m31-1h0m28 4h0m5-7h0m20 4h0m-43 6h0m-102 1h0m-12-3h0m49 14h0m65-4h0m37 0h0m49 4h0m6 4h0m-39 4h0m-3 0h0m-25-6h0m0 5h0m-68-3h0m0-2h0m-24 6h0m-15-4h0m-8-2h0m-6 0h0m-4 2h0m-8 13h0m13-3h0m97 1h0m6 1h0m11 0h0m14 1h0m37-2h0m24 0h0m-7 9h0m-78 1h0m-95-6h0m-61 12h0m14-1h0m70 1h0m51-2h0m7 2h0m14-2h0m14-2h0m77 1h0m-1 10h0m-33-4h0m-44 5h0m-5 1h0m-5-6h0m-6 1h0m-17 5h0m-5-3h0m-4 2h0m-20 0h0m-18 1h0m-90-4h0m18 10h0m51 0h0m60 0h0m23-2h0m102-1h0m11 0h0m-38 9h0m-40 5h0m-17-7h0m-11 5h0m-12 2h0m-25 0h0m-37-2h0m-13-5h0m-37 7h0m-46-6h0m25 7h0m17 0h0m76 4h0m9 2h0m14-1h0m110 7h0m-6 1h0m-3 1h0m-6-3h0m0 4h0m-14-7h0m0 3h0m-4 2h0m-100 2h0m-95 5h0m2 1h0m87-5h0m4 7h0m15-4h0m56 0h0m2 3h0m2-4h0m8 0h0m23-1h0m28 2h0m13 11h0m-15-6h0m-2 1h0m-35-1h0m-8 2h0m-50 4h0m-69-5h0m-6-1h0m-12 3h0m-42 2h0m-3-4h0m-15 0h0m-16 14h0m27 0h0m58-5h0m10 0h0m71 2h0m11 1h0m54 2h0m71 5h0m-27 0h0m-14-4h0m-54 4h0m-44-2h0m-21-1h0m-58 5h0m-6 1h0m-23-5h0m-1-1h0m0 11h0m1 0h0m2 2h0m14-4h0m140-2h0m10 6h0m4-1h0m41-2h0m6 2h0m35 8h0m-48 0h0m-111-2h0m-11-3h0m-52 2h0m-89 12h0m1-3h0m11-3h0m25 4h0m4-1h0m21-1h0m21 4h0m32-3h0m21 3h0m3-6h0m10 1h0m7 6h0m9-4h0m18 2h0m63 2h0m66-7h0m-28 9h0m-27 4h0m-4 0h0m-24 2h0m-14-2h0m-41 2h0m-2 0h0m-39-5h0m-4-1h0m-37 3h0m-1 0h0m-15 2h0m-48-4h0m0 3h0m-19-1h0m-7 1h0m-19 6h0m2-2h0m4 4h0m5-2h0m4 4h0m14 0h0m3 0h0m29-6h0m0 1h0m15 3h0m2-5h0m11 7h0m8-1h0m25 0h0m80-3h0m41 2h0m1 1h0m7-1h0m-8 6h0m0 4h0m-33-5h0m-25 1h0m-7 4h0m-52-3h0m-3 3h0m-13-1h0m-1-1h0m-74-1h0m-8 3h0m-1-5h0m-2 5h0m-1-5h0m-7 9h0m9 0h0m35 2h0m2-5h0m51 3h0m2 3h0m2-6h0m7 2h0m3-1h0m2 1h0m110-2h0m17 7h0m-98 6h0m-2-4h0m-42 3h0m-4-3h0m-71 1h0m-16 1h0m1 6h0m6 2h0m2-3h0m18 7h0m129-1h0m35-5h0m9 4h0m20-5h0m-31 9h0m-32 0h0m-6-1h0m-5 6h0m-1-6h0m-3 4h0m-32-4h0m-6 7h0m-1-6h0m-33 5h0m-1-4h0m-34 3h0m23 8h0m18-1h0m33 1h0m23 1h0m28-6h0m34 1h0m-20 12h0m-59-4h0m-3 4h0m-39-1h0m-24-1h0m-57 4h0m-5-2h0m-2 2h0m36 1h0m29 5h0m3-2h0m26 0h0m3 0h0m5-1h0m2 1h0m8-3h0m13 1h0m54 3h0m-48 10h0m-3-4h0m-7 1h0m-1 3h0m-36 1h0m-6-5h0m-48 1h0m-7 4h0m-15 0h0m-3 0h0m103 5h0m2 0h0m5-4h0m1 4h0m8-3h0m-3 11h0m-7-4h0m-8 1h0m-9 2h0m-5 5h0m-45 9h0m-5 8h0"/><path transform="scale(.25)" fill="none" stroke="#00BF7D" stroke-width="7.8" stroke-linecap="round" d="M0 0m793 2320h0m17 6h0m-6 9h0m-12-6h0m-6 12h0m5 0h0m9-3h0m6-1h0m2 5h0m7-1h0m-21 7h0m-7 0h0m-12 3h0m-3-7h0m-23 6h0m8 6h0m26 1h0m0 2h0m56-2h0m22 5h0m-95 4h0m1 3h0m0 2h0m17-2h0m31 3h0m2-3h0m5 2h0m6 0h0m17-2h0m8 0h0m-42 7h0m-58 2h0m-2 1h0m-5 10h0m74-1h0m14 1h0m-16 5h0m-24-1h0m-41 0h0m-8 10h0m6-3h0m33 0h0m11 0h0m12 5h0m62-3h0m16-1h0m13 10h0m-30 2h0m-51-5h0m-37 3h0m-1 0h0m-16 0h0m-13-3h0m142 13h0m7-5h0m10 11h0m-89 4h0m-54 8h0m3-3h0m45-2h0m18 1h0m59 4h0m50 3h0m-28 4h0m-29-2h0m-7-4h0m-26 0h0m-30 4h0m3 7h0m20 3h0m14 1h0m10-3h0m2-2h0m6 6h0m-2 6h0m-10-2h0m0-2h0m-24 0h0m-11 1h0m-12 4h0m-46-3h0m48 5h0m17-1h0m48 4h0m43 3h0m14-1h0m-20 9h0m-58-7h0m-35 4h0m-64 7h0m82-1h0m6 4h0m74 9h0m-3-7h0m-89 3h0m-22 2h0m-6-2h0m-2 4h0m-4-5h0m-41 1h0m40 12h0m27-2h0m2 2h0m20-6h0m34-1h0m24 1h0m7 1h0m-26 10h0m-91 2h0m7 9h0m25-5h0m51 4h0m51-3h0m-26 6h0m-47 0h0m-19 2h0m-18 4h0m-57 5h0m4-4h0m13 2h0m104-1h0m23 2h0m19 12h0m-14-6h0m-4 1h0m-31-1h0m-6-1h0m-87 1h0m-11-1h0m-24 3h0m-3 8h0m35-1h0m32 4h0m75-6h0m19 2h0m-13 12h0m-55-1h0m-3 2h0m-33-4h0m-70-1h0m-13 4h0m0 3h0m98 6h0m83 3h0m-1 3h0m-2-1h0m-9-4h0m-22 2h0m-37 4h0m0-6h0m-3 1h0m-11 5h0m-33 1h0m-39-4h0m-9-3h0m-11 6h0m-1-1h0m12 3h0m52 4h0m28-1h0m8 0h0m48-1h0m40-1h0m1 1h0m-35 8h0m-16 5h0m-23-2h0m-25 0h0m-8 2h0m-6 0h0m-24-3h0m23 4h0m10 0h0m5 0h0m4 6h0m20-4h0m35 0h0m31-1h0m-21 12h0m-94-2h0m-28 2h0m-50-2h0m-3 1h0m0-1h0m-16-2h0m134 13h0m9 0h0m9-1h0m6 0h0m7 2h0m18-6h0m37 9h0m-24 0h0m-11 3h0m-146 1h0m-8-1h0m-13-4h0m-11 6h0m-2 4h0m10 3h0m1 1h0m1-6h0m36 6h0m4-4h0m10 2h0m2 2h0m9-3h0m1 0h0m23 0h0m43-4h0m62 8h0m-18 0h0m-36 1h0m-26 5h0m-9-4h0m-27 1h0m-32 4h0m-9 0h0m-2 0h0m-26-6h0m-33 4h0m22 7h0m81 2h0m1-5h0m18 2h0m6-2h0m90 3h0m4 0h0m5 0h0m4 5h0m-18 4h0m-20 0h0m-28-1h0m-5-2h0m-152 9h0m16 0h0m5-2h0m14 1h0m12 1h0m75 2h0m13 0h0m1-2h0m68 0h0m-57 11h0m-22-6h0m-7 1h0m-30 3h0m-40-1h0m-48 0h0m7 6h0m17 4h0m55 0h0m14 2h0m6-2h0m14-1h0m1 1h0m19-3h0m52 3h0m-20 7h0m-21-3h0m-26 1h0m-4 2h0m-19 3h0m-63-3h0m-17 1h0m66 7h0m27-4h0m46 7h0m5-2h0m13 2h0m7 6h0m-25 2h0m-12-4h0m-7-1h0m0-1h0m-13 2h0m-37 4h0m0-2h0m-37 9h0m3 0h0m23 0h0m54-4h0m53 1h0m-61 5h0m-8 2h0m-1-2h0m-41 4h0m-52 7h0m89 2h0m-31 7h0m-21-2h0m-17 3h0m-14-4h0m-1 4h0m5 4h0m14 2h0m2 1h0m3 2h0m18-1h0"/><path transform="scale(.25)" fill="none" stroke="#00B0F6" stroke-width="7.8" stroke-linecap="round" d="M0 0m601 2130h0m51 10h0m-7 9h0m7 1h0m3 0h0m-51 2h0m-3 3h0m22 6h0m8 5h0m2 0h0m14-4h0m4 1h0m16-3h0m2 4h0m-5 8h0m-41-2h0m-2-2h0m0 4h0m-1-2h0m-22 5h0m-5-1h0m18 3h0m1 0h0m15 4h0m4-4h0m19 7h0m17 22h0m-98-1h0m8 7h0m63-2h0m-63 7h0m-11 3h0m58 6h0m102 9h0m-7 3h0m-163 4h0m189 12h0m-181-4h0m-15 9h0m97 3h0m40-6h0m0 7h0m47-2h0m6 0h0m-4 9h0m-8 1h0m-30-7h0m40 22h0m-8-2h0m-45 7h0m15-3h0m4 3h0m9 3h0m8-4h0m3 0h0m9 4h0m0-4h0m11 13h0m-2-1h0m-61 0h0m24 2h0m2 1h0m3 2h0m12 0h0m6-1h0m26 8h0m-8 5h0m-6 0h0m-3-2h0m-7-4h0m-17-1h0m-8 3h0m-8 3h0m-18-3h0m-63-2h0m41 14h0m2-1h0m39 0h0m19 0h0m41-3h0m3 8h0m-10 2h0m-3 1h0m-14-1h0m-5 2h0m-15 0h0m-80-2h0m5 4h0m93 7h0m-10 3h0m-64-3h0m-8 1h0m-11 12h0m107 10h0m-3-7h0m-86 12h0m83-3h0m-106 9h0m-13 3h0m113 9h0m-29 15h0m8 0h0m2 4h0m-13 2h0m-8-3h0m-44 3h0m-23 26h0m60 34h0m20 8h0m-316-5h0m9 6h0m15 1h0m287 3h0m17 1h0m-11 8h0m-83 1h0m-2-2h0m-186 3h0m-32 0h0m28 4h0m4 0h0m3-2h0m12 3h0m164-1h0m3-3h0m65 4h0m25-1h0m22 2h0m-18 8h0m-300 5h0m267 1h0m9 2h0m4 0h0m12 0h0m6-4h0m17 4h0m7-4h0m-26 13h0m-308 5h0m16 3h0m9-4h0m261 7h0m-42 2h0m-11-2h0m-182 4h0m-74 4h0m22 2h0m30-1h0m17 0h0m202 5h0m1-6h0m5 1h0m37 4h0m-22 7h0m-5-2h0m-6-2h0m-2-1h0m-4 5h0m30 16h0m-12-5h0"/><path transform="scale(.25)" fill="none" stroke="#E76BF3" stroke-width="7.8" stroke-linecap="round" d="M0 0m528 2373h0m1-2h0m-1 18h0m19 0h0m6 9h0m-19-1h0m-25 8h0m3 0h0m7-2h0m6 1h0m50-1h0m-11 10h0m-49 3h0m10 5h0m14 0h0m20-1h0m5-4h0m23 11h0m-38 0h0m-14 3h0m-4-6h0m-3 4h0m11 7h0m66 8h0m-20 0h0m-7 0h0m-33-3h0m-11 2h0m0 9h0m9-3h0m40 1h0m1 6h0m15 0h0m5-2h0m-24 5h0m-17-1h0m-1 6h0m-15-2h0m-15 0h0m-1 9h0m45-3h0m1-1h0m34-1h0m-94 8h0m32 12h0m23 1h0m4 0h0m16 7h0m-23-1h0m-5 3h0m10 6h0m3 0h0m13 1h0m7 1h0m34-5h0m-2 6h0m-36 7h0m-7-3h0m-22-4h0m-3 0h0m20 9h0m17 5h0m22 1h0m-2 6h0m0-2h0m-22-1h0m-3 0h0m59 10h0m-5 10h0m-8-4h0m-8-2h0m7 13h0m-5 3h0m13 13h0m1 4h0m-20 0h0m21 7h0m12 3h0"/><path transform="scale(.25)" fill="none" stroke="#F8766D" stroke-width="7.8" stroke-linecap="round" d="M0 0m545 2461h0m-36-4h0m-121 13h0m61 0h0m163 8h0m-62-2h0m-110 2h0m-51-1h0m-7 1h0m-37 1h0m-3-2h0m-29 2h0m-23 5h0m30 3h0m17 0h0m0 0h0m20-4h0m18-1h0m12 2h0m11-2h0m38 4h0m6-1h0m8-2h0m8-1h0m2 0h0m5 3h0m144-2h0m9-2h0m-143 10h0m-1 1h0m-9 3h0m-113-2h0m-35 2h0m-18-5h0m-7 11h0m62-1h0m59 2h0m7 0h0m10 1h0m0-2h0m13 0h0m9-4h0m146 2h0m-86 10h0m-18 1h0m-22 0h0m-2-3h0m-103 0h0m-42-3h0m-25 4h0m-25-1h0m-3 11h0m105 0h0m22-5h0m14 3h0m1 1h0m40-2h0m138 4h0m3-7h0m-87 14h0m-15-1h0m0-3h0m-12 5h0m-20-4h0m-23 3h0m-52 0h0m-87-6h0m-30 9h0m112 0h0m98 5h0m26 1h0m31-1h0m104 8h0m-129-5h0m-44 1h0m-113 4h0m-20-6h0m-2 6h0m-2 1h0m-1-1h0m-4-2h0m-1-2h0m-3 3h0m0-1h0m-1-2h0m-1 4h0m-67-5h0m17 7h0m48 3h0m18-1h0m1 1h0m28 4h0m19-4h0m12 3h0m89-6h0m19 5h0m40 1h0m28-3h0m67 0h0m-67 7h0m-5 2h0m-32 3h0m-35-2h0m-5 1h0m-51 1h0m-8-3h0m-38 3h0m-7-3h0m-8-3h0m-13-1h0m-73 6h0m30 9h0m54-2h0m8 2h0m54-5h0m2 3h0m56 2h0m38-3h0m28 2h0m24-2h0m19 0h0m-38 8h0m-50-2h0m-4 5h0m-67-5h0m-9 4h0m-1-2h0m-2 2h0m-51-4h0m-73 0h0m-5 5h0m-28-1h0m49 3h0m138 4h0m13 2h0m12 0h0m64-7h0m62 4h0m8 2h0m-10 2h0m-108 6h0m-12-4h0m-14 2h0m-18 3h0m-71 0h0m-11-2h0m-5-2h0m-47 2h0m-40 2h0m68 7h0m153-5h0m7 0h0m23 3h0m69-3h0m-83 10h0m-7 4h0m-33-5h0m-43-1h0m-29 5h0m-96-5h0m-52 4h0m58 7h0m73-4h0m32 2h0m0 3h0m113-4h0m90 6h0m20 0h0m1-3h0m-14 5h0m-36-1h0m-25 7h0m-2-7h0m-41 0h0m-50 0h0m-63 7h0m-4-5h0m-34 0h0m-16 3h0m-60-3h0m-1-2h0m-11 6h0m6 5h0m2 4h0m6-2h0m41-1h0m53 2h0m51-6h0m28 4h0m25 2h0m5-6h0m32 3h0m3 0h0m9-3h0m9 4h0m86-2h0m-57 10h0m-15-4h0m-36 4h0m-8 0h0m-53-4h0m-30 0h0m-26 7h0m-63-2h0m-2 0h0m-1 2h0m-43-2h0m31 7h0m39-4h0m78 3h0m106-1h0m19 1h0m12 4h0m2 2h0m-19 0h0m-20 0h0m-189 6h0m-22-1h0m-28-1h0m-27-4h0m94 11h0m72-3h0m44 6h0m103 0h0m2-5h0m10 0h0m23 12h0m-18-1h0m-79 0h0m-58-2h0m-34 2h0m-24-2h0m-44-2h0m-27 4h0m-16-2h0m-15 3h0m-15 0h0m-22-2h0m-7 5h0m0-1h0m19 5h0m14 0h0m37-3h0m114 1h0m11-1h0m14 4h0m6 1h0m22-6h0m103 10h0m-36 0h0m-16 3h0m-23-1h0m-16 1h0m-16 1h0m-40-3h0m-6-3h0m-4 3h0m-72-1h0m-90 0h0m37 11h0m8-3h0m8 1h0m68-1h0m27 2h0m64 2h0m33-2h0m17 0h0m2-2h0m50-1h0m-22 11h0m-31-3h0m-15 1h0m-194 1h0m0 0h0m-41 2h0m-14 6h0m101 1h0m0-1h0m18-3h0m246 12h0m-3-1h0m-29 1h0m-45-4h0m-21-1h0m-151 4h0m-1-2h0m-13 2h0m-8 3h0m-29-1h0m-1-3h0m-24 2h0m-5 0h0m-12 0h0m-2 0h0m15 9h0m23-2h0m1 0h0m1 2h0m4 1h0m13-3h0m37-3h0m67 1h0m14 2h0m16-4h0m17 0h0m35 0h0m0 3h0m2 0h0m24 4h0m8 6h0m-12 1h0m-3 1h0m-217-7h0m0 6h0m-2-5h0m-2 6h0m-5-2h0m-2 1h0m-1-5h0m-2 3h0m-18 1h0m13 6h0m20 1h0m23-3h0m27 1h0m1 2h0m74-4h0m14 1h0m36 3h0m9 0h0m39 1h0m65-1h0m12-1h0m-14 9h0m-26 2h0m-20-5h0m-57-1h0m-5 7h0m-56-3h0m-127-2h0m-3 2h0m3 10h0m173 1h0m112-1h0m13-1h0m-119 10h0m-16-7h0m-16 3h0m-28 4h0m-61-5h0m-4 0h0m-16-1h0m-42 5h0m-8-4h0m69 10h0m78 0h0m17 2h0m40-3h0m-9 11h0m-20-3h0m-45-3h0m-5 1h0m-43 0h0m-34 3h0m22 8h0m2-1h0m59-2h0m61 4h0m30-5h0m0 6h0m21 9h0m-9-1h0m-25-1h0m-48-2h0m-19 2h0m-10 1h0m-57-3h0m-2 11h0m3-1h0m15 2h0m80-7h0m25 7h0m0 0h0m9-5h0m15-1h0m-16 13h0m-28 1h0m-15-7h0m-5 7h0m-20-5h0m-21 2h0m-21-4h0m-16 4h0m-1 2h0m-38-3h0m27 8h0m7 0h0m6-2h0m1 6h0m12-1h0m69 0h0m6-5h0m1-1h0m4 4h0m24-3h0m-30 12h0m-74-4h0m-7 8h0"/><path transform="scale(.25)" fill="none" stroke="#A3A500" stroke-width="7.8" stroke-linecap="round" d="M0 0m420 2155h0m5 8h0m49 4h0m19-4h0m21 1h0m40 11h0m-49-1h0m-48-3h0m-20 1h0m-25 0h0m-31 7h0m11-1h0m34 1h0m5 4h0m72-4h0m10-1h0m17-1h0m22 10h0m-47 2h0m-44 0h0m17 7h0m81 1h0m3-4h0m2 4h0m1 5h0m-1 2h0m-38 1h0m-40 0h0m-27 0h0m-20-3h0m-34 5h0m-4-2h0m-29 0h0m11 6h0m15-1h0m0 2h0m104-2h0m9 0h0m32 9h0m-10-3h0m-15 4h0m-114 1h0m-47 2h0m-1-6h0m-21 13h0m23 0h0m131-6h0m1 0h0m3 3h0m9 5h0m-2 0h0m-72 1h0m-48 4h0m-40-1h0m-15-4h0m11 11h0m16 0h0m43-1h0m2 0h0m4-2h0m64 7h0m33-6h0m13 2h0m55 0h0m-5 5h0m-18 1h0m-66 2h0m-6 3h0m-6-2h0m-10 1h0m-88 1h0m107 3h0m7 2h0m5-3h0m46 1h0m39 1h0m-44 7h0m-3 6h0m-86-3h0m-43-2h0m-80 2h0m-20 9h0m3 1h0m34-2h0m65 3h0m63-2h0m18-5h0m34 1h0m8 3h0m25-3h0m3 4h0m22-5h0m15 15h0m-10-1h0m-2-4h0m-52 3h0m-4-4h0m-7-1h0m-42 6h0m-112-4h0m73 12h0m13-4h0m31-2h0m2 5h0m39 2h0m3-5h0m17 5h0m5-2h0m14 7h0m-5 0h0m-24 0h0m-113 3h0m-19-4h0m-19 4h0m-39-2h0m-34-3h0m-1 0h0m-3 0h0m-5 4h0m1 8h0m6-2h0m24 2h0m45 0h0m4 0h0m4-5h0m4 4h0m28 1h0m24-5h0m4 3h0m37 3h0m7-1h0m46-4h0m4 2h0m31-2h0m-17 11h0m-26-5h0m-8 6h0m-16 1h0m-14 0h0m-58-5h0m-6-1h0m-13-1h0m-3 6h0m-14-1h0m-2-3h0m-34 5h0m-57-6h0m79 12h0m28-3h0m19-1h0m136 6h0m-33 6h0m-3-4h0m-3 5h0m-2-1h0m0 0h0m-156-5h0m-15 2h0m-12 0h0m-42 8h0m6 0h0m54 4h0m37-2h0m15-1h0m13 0h0m34 0h0m21 1h0m50-1h0m47 2h0m19-4h0m22 13h0m-43 1h0m-9-2h0m-63-1h0m-3-3h0m-13 2h0m-35-1h0m-7 2h0m-1-2h0m-37 3h0m-6-1h0m-81-2h0m-16 5h0m-8-3h0m63 5h0m64-1h0m11 1h0m31-1h0m2 4h0m20 3h0m18 0h0m41-4h0m0 2h0m5-5h0m21 6h0m11 2h0m-31 6h0m-30-4h0m-16 5h0m-44-5h0m-71 2h0m-7-2h0m-29 4h0m-12-1h0m-41-3h0m0 4h0m89 7h0m13 0h0m6-2h0m1 2h0m16-1h0m9-3h0m15 6h0m6-1h0m20-4h0m71 2h0m-20 7h0m-1 0h0m-2 2h0m-49-3h0m-2 5h0m-73-6h0m-5 5h0m-53-2h0m-2-3h0m-19 5h0m-37 8h0m25-2h0m14-1h0m77-1h0m12 0h0m18 4h0m51-5h0m5 6h0m45-4h0m-9 6h0m-27 0h0m-18 5h0m-14-4h0m-6 2h0m-48-3h0m-7 3h0m-99 7h0m27 0h0m19 1h0m18 2h0m29-1h0m62-4h0m7 1h0m4 5h0m9 3h0m0 0h0m-16 2h0m-112 2h0m-48-6h0m-12 13h0m9 0h0m14-4h0m18 0h0m35-1h0m22 1h0m83 4h0m-31 4h0m-88-1h0m-16 1h0m-32 0h0m-16 13h0m62-4h0m22 5h0m12-5h0m6 3h0m6-2h0m3-2h0m11 0h0m39 1h0m23 5h0m-72 6h0m-5 0h0m-10-1h0m-16-4h0m-35 3h0m-13-1h0m-26-1h0m3 14h0m3-3h0m15-4h0m5 7h0m10-3h0m67-4h0m2 1h0m4 2h0m12 5h0m-14 3h0m-34-1h0m-71 5h0m-2-6h0m0 12h0m32-1h0m7 3h0"/><path transform="scale(.25)" fill="none" stroke="#00BF7D" stroke-width="7.8" stroke-linecap="round" d="M0 0m772 2299h0m40 35h0m0-5h0m-45 3h0m-16 10h0m11 1h0m18-2h0m25 0h0m5-1h0m3 2h0m-39 8h0m-23-1h0m63 17h0m-8-6h0m-28 5h0m-1 0h0m-18 6h0m53 0h0m22 4h0m26-7h0m1 8h0m-31 7h0m-5-6h0m-8-1h0m-10 1h0m-3 1h0m-22 4h0m23 4h0m8 4h0m54 7h0m-2-4h0m-92 12h0m112 3h0m-18 3h0m-3-3h0m-59 7h0m-32-6h0m-13 2h0m6 11h0m6 1h0m9-6h0m73 6h0m5-3h0m42 2h0m14 8h0m-49-4h0m-23-2h0m-24 3h0m-17 12h0m14 0h0m1-4h0m8 1h0m2-3h0m42 6h0m52 8h0m-46-6h0m-54-1h0m-10 2h0m-17 4h0m-11 1h0m-13-4h0m30 8h0m7-2h0m8 4h0m9-5h0m60 6h0m2-2h0m18-3h0m5 6h0m7-7h0m36 9h0m-5 3h0m-38 1h0m-71-4h0m-6 2h0m-7 4h0m-9-4h0m-2-3h0m-39 1h0m17 13h0m6 0h0m2-3h0m26 3h0m31 1h0m6 0h0m4-6h0m0-1h0m23 4h0m14 7h0m-59 4h0m-42-1h0m-38 2h0m14 0h0m57 0h0m29 15h0m-6-7h0m-2 2h0m-4 4h0m-2-6h0m-29 0h0m27 12h0m14 2h0m-63 6h0m-42-4h0m157 12h0m7 3h0m2-4h0m7 10h0m-27-4h0m-59 1h0m-3 1h0m-54 3h0m-19 7h0m4-5h0m49 7h0m43-3h0m3-4h0m11 5h0m5 1h0m14 0h0m8 0h0m12 3h0m-12 3h0m-33-3h0m-34-1h0m-47 5h0m-14 0h0m-6 1h0m-28-1h0m74 5h0m25 1h0m13 1h0m34-2h0m16 2h0m-34 6h0m-121 3h0m-1 4h0m74 6h0m91 1h0m-2 7h0m-14-4h0m-13-3h0m-10 4h0m-5-3h0m-7 2h0m-1 2h0m-63 2h0m-3-1h0m-22 0h0m-38 7h0m55 0h0m0-3h0m12 4h0m74-5h0m9 6h0m11 0h0m2-7h0m1 3h0m0 10h0m-55 1h0m-7-4h0m-11-1h0m-16 2h0m-10-1h0m-14 1h0m-11 1h0m-39 0h0m-34 8h0m72 1h0m23 0h0m8-5h0m7 4h0m4 3h0m0-7h0m82 2h0m1 1h0m-77 9h0m-6 1h0m-10 2h0m-103-6h0m0 0h0m-3-1h0m147 15h0m8-7h0m31 0h0m12 5h0m7 8h0m-15-5h0m-5 1h0m-55 1h0m-1 2h0m-21 3h0m-6-3h0m-47-2h0m0-1h0m-1 5h0m-20-4h0m-49 13h0m32-5h0m24 3h0m5 0h0m1 2h0m5 0h0m4-6h0m3 6h0m15-1h0m37-3h0m3-1h0m35-2h0m5 5h0m62-5h0m-120 10h0m-86 2h0m-26 9h0m28-4h0m30-1h0m23 1h0m11 2h0m55-3h0m7 1h0m8 2h0m39 8h0m-22-2h0m-60 4h0m-1-1h0m-8 2h0m-55-3h0m-5 12h0m9-2h0m167 1h0m9-2h0m-109 6h0m-85 2h0m-3-4h0m-9 2h0m-30 12h0m104-4h0m8 2h0m0 2h0m4 1h0m8-1h0m78 7h0m-24-3h0m-31 1h0m-30 2h0m-16-4h0m-40 6h0m17 8h0m85-3h0m-14 10h0m-92-4h0m21 7h0m25-1h0m8 3h0m78 7h0m-46 4h0m-6-3h0m-42 0h0m-67-2h0m-22 5h0m4 2h0m9 5h0m31 0h0m40 2h0m32 3h0m-13 1h0m-65 1h0m-11 1h0m9 8h0m15-5h0m-8 13h0m-3 2h0m-4-1h0m-3-2h0m6 4h0m0 1h0"/><path transform="scale(.25)" fill="none" stroke="#00B0F6" stroke-width="7.8" stroke-linecap="round" d="M0 0m583 2148h0m31 1h0m11 0h0m5 1h0m27 0h0m-32 5h0m-30 10h0m11 2h0m30-3h0m10-1h0m21 0h0m4 6h0m-35 6h0m-3-4h0m-6 1h0m-1 2h0m-26-5h0m63 9h0m12-1h0m-86 17h0m83 3h0m-80 10h0m-12-2h0m-32 6h0m112 2h0m-62 20h0m0 5h0m-62 2h0m4 5h0m55 2h0m5-3h0m63-3h0m18 0h0m72 9h0m-15-2h0m-9 7h0m-36 0h0m-50-3h0m-56-4h0m131 12h0m9 3h0m14-5h0m-20 10h0m-4-1h0m-29-3h0m-93 7h0m129 3h0m1 4h0m7 0h0m3-5h0m15 4h0m-21 4h0m-7 2h0m-31 3h0m-57 5h0m45-1h0m12 0h0m8 4h0m27-5h0m2 6h0m5-2h0m0 5h0m-9 4h0m-23-6h0m-1 2h0m10 11h0m0-5h0m18 7h0m2 0h0m3 2h0m-5-1h0m-9 0h0m-11 2h0m-4 3h0m-77-3h0m31 8h0m30 2h0m36 0h0m14-2h0m25-1h0m-74 10h0m-52 4h0m5 4h0m24 4h0m49 7h0m-73 5h0m14 0h0m12 5h0m-14 4h0m-10 2h0m-45 25h0m96-5h0m29 4h0m-14 14h0m1-2h0m9-2h0m-16 11h0m-23 8h0m11-3h0m22 7h0m-90 5h0m110 15h0m-57 7h0m24 0h0m-17 13h0m-16-7h0m-221 9h0m9 3h0m194 0h0m19-3h0m5 0h0m1 0h0m9 4h0m0-4h0m1 1h0m1 4h0m-230 2h0m-77 12h0m12 2h0m36-1h0m4 1h0m7-3h0m178 4h0m30 0h0m87-7h0m-10 11h0m-295 2h0m-43 6h0m47-1h0m3 0h0m13 2h0m276 4h0m-6 7h0m-336-2h0m11 8h0m227-3h0m19 5h0m68-6h0m12 9h0m-32 2h0m-257 11h0m3-6h0m2 4h0m17-2h0m215 4h0m9-6h0m4 3h0m49 2h0m-44 8h0m-23 1h0m-24-4h0m-183 4h0m-27-6h0m-17 5h0m-28 9h0m6-5h0m271-1h0m1 3h0m24 4h0m-265 1h0m-21 2h0m-2-1h0m236 12h0m29-1h0m-5 5h0"/><path transform="scale(.25)" fill="none" stroke="#E76BF3" stroke-width="7.8" stroke-linecap="round" d="M0 0m507 2368h0m14 0h0m12 6h0m1 7h0m-4 6h0m2 6h0m-15 10h0m8 1h0m2-3h0m15 5h0m27-2h0m9 3h0m-10 4h0m-3 2h0m-6 2h0m-39 0h0m-6 0h0m14 3h0m44 0h0m-30 7h0m-15 5h0m18 9h0m24-4h0m4 2h0m26-1h0m8-1h0m3 8h0m-79-3h0m7 8h0m3 2h0m10-2h0m7 1h0m25 5h0m4 1h0m6-3h0m12-3h0m4 2h0m9 7h0m-30 1h0m-4 2h0m-10 1h0m-3-2h0m-32 0h0m36 6h0m3 5h0m5-2h0m15 8h0m-25-2h0m-18-3h0m-32 2h0m35 12h0m13-6h0m18 6h0m16 6h0m-44 3h0m-18-2h0m-1 4h0m26 3h0m4-2h0m4 1h0m7-3h0m2 3h0m27 2h0m-20 10h0m-9-4h0m-5 2h0m-10 0h0m47 8h0m3-4h0m5 1h0m-1 12h0m-18-4h0m-9 6h0m5 1h0m44 10h0m-7 5h0m8 2h0m16 2h0m-23 19h0m23-3h0m-4 9h0m-3 15h0"/><line x1="55.3" y1="526.0" x2="55.3" y2="718.2" stroke="#2a2a2a" stroke-width="1.2"/><line x1="54.8" y1="717.7" x2="249.9" y2="717.7" stroke="#2a2a2a" stroke-width="1.2"/><line x1="52.3" y1="531.2" x2="55.3" y2="531.2" stroke="#2a2a2a" stroke-width="1.0"/><text x="50.1" y="534.8" font-size="10.0" text-anchor="end" fill="#2a2a2a" stroke="#2a2a2a" stroke-width="0.22">5.0</text><line x1="52.3" y1="578.1" x2="55.3" y2="578.1" stroke="#2a2a2a" stroke-width="1.0"/><text x="50.1" y="581.7" font-size="10.0" text-anchor="end" fill="#2a2a2a" stroke="#2a2a2a" stroke-width="0.22">2.5</text><line x1="52.3" y1="625.0" x2="55.3" y2="625.0" stroke="#2a2a2a" stroke-width="1.0"/><text x="50.1" y="628.6" font-size="10.0" text-anchor="end" fill="#2a2a2a" stroke="#2a2a2a" stroke-width="0.22">0.0</text><line x1="52.3" y1="671.9" x2="55.3" y2="671.9" stroke="#2a2a2a" stroke-width="1.0"/><text x="50.1" y="675.5" font-size="10.0" text-anchor="end" fill="#2a2a2a" stroke="#2a2a2a" stroke-width="0.22">-2.5</text><line x1="90.2" y1="717.7" x2="90.2" y2="720.7" stroke="#2a2a2a" stroke-width="1.0"/><text x="90.2" y="731.8" font-size="10.0" text-anchor="middle" fill="#2a2a2a" stroke="#2a2a2a" stroke-width="0.22">-3</text><line x1="141.0" y1="717.7" x2="141.0" y2="720.7" stroke="#2a2a2a" stroke-width="1.0"/><text x="141.0" y="731.8" font-size="10.0" text-anchor="middle" fill="#2a2a2a" stroke="#2a2a2a" stroke-width="0.22">0</text><line x1="191.8" y1="717.7" x2="191.8" y2="720.7" stroke="#2a2a2a" stroke-width="1.0"/><text x="191.8" y="731.8" font-size="10.0" text-anchor="middle" fill="#2a2a2a" stroke="#2a2a2a" stroke-width="0.22">3</text><line x1="242.7" y1="717.7" x2="242.7" y2="720.7" stroke="#2a2a2a" stroke-width="1.0"/><text x="242.7" y="731.8" font-size="10.0" text-anchor="middle" fill="#2a2a2a" stroke="#2a2a2a" stroke-width="0.22">6</text><text x="152.0" y="744.9" font-size="11.3" text-anchor="middle" fill="#111" stroke="#111" stroke-width="0.22">UMAP_1</text><text x="27.5" y="621.7" font-size="11.3" text-anchor="middle" fill="#111" stroke="#111" stroke-width="0.22" transform="rotate(-90 27.5 621.7)">UMAP_2</text><text x="7.0" y="518.2" font-size="14" text-anchor="start" fill="#111" stroke="#111" stroke-width="0.22">E</text><circle cx="267.5" cy="599.0" r="3.5" fill="#F8766D"/><text x="279.8" y="602.7" font-size="10.4" text-anchor="start" fill="#111" stroke="#111" stroke-width="0.22">0</text><circle cx="267.5" cy="612.0" r="3.5" fill="#A3A500"/><text x="279.8" y="615.7" font-size="10.4" text-anchor="start" fill="#111" stroke="#111" stroke-width="0.22">1</text><circle cx="267.5" cy="624.9" r="3.5" fill="#00BF7D"/><text x="279.8" y="628.7" font-size="10.4" text-anchor="start" fill="#111" stroke="#111" stroke-width="0.22">2</text><circle cx="267.5" cy="637.9" r="3.5" fill="#00B0F6"/><text x="279.8" y="641.7" font-size="10.4" text-anchor="start" fill="#111" stroke="#111" stroke-width="0.22">3</text><circle cx="267.5" cy="650.9" r="3.5" fill="#E76BF3"/><text x="279.8" y="654.6" font-size="10.4" text-anchor="start" fill="#111" stroke="#111" stroke-width="0.22">4</text><path transform="scale(.25)" fill="none" stroke="#F8766D" stroke-width="7.8" stroke-linecap="round" d="M0 0m1941 2140h0m-12 5h0m50 7h0m-8 4h0m-205-2h0m65 7h0m91 4h0m14 2h0m13 7h0m-1-3h0m-5-1h0m-3 3h0m-17-1h0m0 0h0m-5-4h0m-2 6h0m-107-6h0m-20 9h0m22 3h0m28 3h0m6 0h0m14-7h0m10 4h0m74-4h0m1 0h0m7 4h0m15 5h0m-124 3h0m-90-2h0m30 13h0m5-5h0m42-1h0m10 0h0m4 2h0m8 0h0m9 1h0m2 1h0m6 1h0m19-6h0m22 1h0m-7 9h0m-14 2h0m-64-3h0m-2 2h0m0 2h0m-8-2h0m-6 1h0m-29-4h0m-30 6h0m-15 2h0m1 0h0m6 0h0m7 2h0m11 3h0m6-2h0m72 1h0m18 3h0m52-5h0m45 0h0m-53 6h0m-22 1h0m-7 1h0m-74 0h0m33 7h0m3 1h0m44 2h0m149 6h0m-108 4h0m-39-4h0m-147-1h0m-16 1h0m-29 8h0m3 2h0m19-1h0m108 4h0m12 0h0m204 1h0m-35 7h0m-5 0h0m-37-4h0m-70-3h0m-16 0h0m-7 4h0m-40-1h0m-1 4h0m-6-1h0m-1-3h0m-19 2h0m-56 0h0m7 8h0m80 0h0m49-2h0m0 4h0m9 0h0m1-6h0m106 5h0m35 0h0m5-1h0m7-4h0m1 0h0m-18 10h0m-28-3h0m-100 7h0m-5-3h0m-3-1h0m-6-1h0m-25 5h0m-39-2h0m-4-5h0m-121 12h0m23 0h0m20 0h0m28-3h0m48 2h0m35-2h0m30 4h0m13 0h0m77 0h0m71 8h0m-5 0h0m-39 0h0m-84 2h0m-2 0h0m-33-2h0m-62 2h0m-11 0h0m-98 0h0m-14 1h0m126 5h0m32 2h0m7-4h0m1 4h0m138-5h0m5 0h0m6 4h0m5-5h0m6 4h0m7-3h0m11 3h0m-6 3h0m-9 4h0m-142 0h0m-1 1h0m-2 1h0m-17-3h0m-73-2h0m-20 6h0m-60-6h0m-9 4h0m-32-3h0m-1 1h0m12 11h0m49 0h0m7-6h0m11 7h0m9-5h0m50 3h0m12-1h0m28-3h0m69 5h0m102-5h0m2 1h0m2-2h0m23 2h0m13 8h0m-11 2h0m-3 0h0m-6-3h0m0 6h0m-18-2h0m-3-2h0m-131-3h0m-7 5h0m-45-1h0m-19-2h0m-3 5h0m-66-6h0m-2 0h0m-48 4h0m-16-4h0m-13 11h0m190-3h0m0 5h0m118 1h0m58-4h0m12-1h0m7 2h0m11 3h0m35-3h0m10 9h0m0-5h0m-20 2h0m-24 1h0m-2 1h0m-9 2h0m-29-2h0m-113-3h0m-56 4h0m-117 1h0m-5 1h0m-11-7h0m-23 2h0m-35 7h0m16 3h0m30-4h0m4 6h0m140 0h0m1-5h0m60 0h0m45 0h0m4 2h0m67 0h0m12 2h0m11 0h0m9-5h0m23 13h0m-13-5h0m-17 5h0m-1 1h0m-22-3h0m-7 3h0m-48-6h0m-9 1h0m-93 2h0m-83 0h0m-5-1h0m-2 2h0m-47-2h0m-65 5h0m-2-6h0m-12 6h0m4 4h0m82-1h0m22-2h0m10 0h0m94 3h0m4 1h0m24 3h0m21-5h0m4 1h0m159 2h0m47 0h0m3 10h0m-92-5h0m-56-2h0m-21 5h0m-61-4h0m-26 4h0m-30-4h0m-75 0h0m-33 3h0m0 0h0m-5-2h0m-7 4h0m-1-3h0m-9 0h0m-31-1h0m0 3h0m-22-4h0m0 3h0m0 2h0m-8 2h0m17 3h0m33 3h0m7-2h0m5 1h0m31-5h0m3 6h0m26-5h0m37 3h0m39 0h0m1 2h0m18-3h0m152 1h0m42-2h0m2 1h0m14-2h0m18 6h0m10-6h0m6 1h0m2 4h0m4-4h0m12-1h0m-29 7h0m-3 0h0m-159 5h0m-73-1h0m-5 3h0m-12-4h0m-49 0h0m-50 1h0m-5-1h0m-50-1h0m-1 2h0m-2-3h0m-34 9h0m19 0h0m17 3h0m15-3h0m30 1h0m42 2h0m60-2h0m4-3h0m7 2h0m6 5h0m169-1h0m36-6h0m97 12h0m0-2h0m-11 3h0m-62-4h0m-35-1h0m-23 6h0m-165-5h0m-12 6h0m-3 0h0m-41-1h0m-12-4h0m-12 5h0m-7-2h0m-43 0h0m-64 9h0m15-6h0m40 1h0m31 6h0m39-1h0m29-6h0m27 3h0m1 2h0m2-2h0m1 4h0m5-6h0m41 2h0m123-3h0m55 0h0m71 1h0m23 3h0m0 10h0m-2-1h0m-7-5h0m-15 5h0m-10-4h0m-43 6h0m-22-4h0m-5-2h0m-5 4h0m-45-4h0m-18-1h0m-106 2h0m-21 1h0m-15-3h0m-10 7h0m-40-5h0m-14-1h0m-9 5h0m-2 1h0m-33 0h0m-29-1h0m-16 1h0m-6-1h0m-50 7h0m97 1h0m120-2h0m205-4h0m4 0h0m113 14h0m-5-3h0m-9-1h0m-6 0h0m-55 0h0m-24-1h0m-82-1h0m-135 1h0m-12 3h0m-59-3h0m-1 6h0m-24-6h0m-19 6h0m-31-7h0m-20 1h0m-5-1h0m-46 7h0m-3-7h0m-6 1h0m53 9h0m30 0h0m2 0h0m0-2h0m50 5h0m19-1h0m132 0h0m87-4h0m62 6h0m24 1h0m1-4h0m16-1h0m27 5h0m55 3h0m-17 4h0m-31-6h0m-1 3h0m-1-3h0m-46 0h0m-5 6h0m-177-4h0m-22-1h0m-46 1h0m-100-1h0m-15 0h0m-1 4h0m-4-1h0m-9 0h0m-14-2h0m-41 1h0m-5 4h0m-16-6h0m87 11h0m2 0h0m14-3h0m82 5h0m27-3h0m5-3h0m3 0h0m13 0h0m24 7h0m15-2h0m3-2h0m58-1h0m4 5h0m132-4h0m18 4h0m10-5h0m6 0h0m11-1h0m19 5h0m-2 3h0m-6 4h0m-8-3h0m-6 3h0m-11 1h0m-1-5h0m-1 6h0m-26-5h0m-9 1h0m-4 4h0m-6-3h0m-2-1h0m-97 1h0m-15 3h0m-13-7h0m-26 0h0m-7 0h0m-35 3h0m-3-2h0m-9 5h0m-3-2h0m-2-1h0m-98-2h0m-143 0h0m-8 7h0m30 3h0m79 3h0m38-3h0m7 4h0m108-2h0m25 2h0m62-1h0m75-1h0m15 1h0m32-5h0m26 4h0m23-1h0m2-1h0m32-2h0m-18 8h0m-2 2h0m-35-3h0m-51 6h0m-82 1h0m-48-4h0m-46 1h0m-61-2h0m-21 1h0m-3 2h0m-30-2h0m-25 0h0m0 4h0m-37-3h0m-4 2h0m-42 1h0m0-7h0m-16 7h0m-24 3h0m30 5h0m18-1h0m41-4h0m3 2h0m32 2h0m6-5h0m7 5h0m16-6h0m4 4h0m107 0h0m10-1h0m6 4h0m127-7h0m60 0h0m77 15h0m-58-6h0m-4 5h0m-16 0h0m-11-6h0m-8 5h0m-7 2h0m-41-4h0m-28 0h0m-83 2h0m-2-1h0m-52 1h0m0 2h0m-15-2h0m-58-2h0m-1 1h0m-7 3h0m-14-3h0m-123-4h0m-24 15h0m11-3h0m32-3h0m3 1h0m21 2h0m64 3h0m1-5h0m3 0h0m7 3h0m1-2h0m7-2h0m2 3h0m95 2h0m4-4h0m1 0h0m1 2h0m3-4h0m5 0h0m2 6h0m9 1h0m16-4h0m159-1h0m20 3h0m1 2h0m22 0h0m25-7h0m26 2h0m-85 12h0m-5 0h0m0-6h0m-76 7h0m0-4h0m-44 2h0m-46 1h0m-22-2h0m-2-1h0m-5 3h0m-12-6h0m-2 0h0m0 1h0m-42 4h0m-19-2h0m-181 2h0m-8-3h0m-1 10h0m84 1h0m22-1h0m19-2h0m27 0h0m9 5h0m16 0h0m2-6h0m16 0h0m19 3h0m42 2h0m41-1h0m7-3h0m62 0h0m11-1h0m85 2h0m8-1h0m89 1h0m-17 6h0m-184 3h0m-55 3h0m-16-5h0m-11 0h0m-86 4h0m-14-2h0m-1 0h0m-43 0h0m-20-3h0m-10 5h0m-4-2h0m-10 0h0m13 5h0m13 2h0m26 4h0m3-1h0m50-6h0m23 3h0m1 2h0m10-4h0m53-1h0m48 4h0m13 3h0m70-2h0m15-5h0m7 7h0m18-4h0m21 4h0m37-3h0m3-4h0m8 5h0m5 0h0m26 0h0m-2 10h0m-19-1h0m0-6h0m-10 1h0m-4 0h0m-17-1h0m-52 5h0m-6-4h0m-10-1h0m-1 6h0m-12-4h0m-19 3h0m-42-4h0m-20 6h0m-16-4h0m-126 3h0m0 0h0m-37-6h0m-20 2h0m-2 2h0m-42-2h0m-38 0h0m-2 4h0m0 0h0m-25-3h0m-21 3h0m-3 7h0m0-5h0m45 2h0m7 0h0m3 0h0m35-1h0m5 6h0m1-4h0m1 3h0m29-3h0m65-1h0m0 0h0m27 2h0m36-1h0m58 1h0m5-2h0m3-1h0m8 5h0m3-2h0m152-2h0m26 3h0m15-5h0m1 2h0m14 2h0m-57 10h0m-11 0h0m-12-4h0m-78 4h0m-47-3h0m-84 1h0m-25-2h0m-54-2h0m-16 3h0m-54 1h0m-22-4h0m-34 0h0m26 12h0m2-4h0m35 5h0m26 0h0m28 1h0m10-1h0m16-1h0m20 0h0m13-2h0m1 1h0m9 0h0m40 1h0m16 0h0m20 2h0m76-2h0m112 0h0m31-3h0m6 2h0m1 8h0m-8 3h0m-1-6h0m-15 1h0m-4 1h0m-2 1h0m-1 2h0m-27-5h0m-12 0h0m-61 3h0m-2 2h0m-16 0h0m-60-4h0m-2 1h0m-56 1h0m-16-3h0m-3 3h0m-28-1h0m-9 2h0m-1 3h0m-15-7h0m-53 6h0m-39 1h0m-3-7h0m-13 6h0m-54 1h0m-9 0h0m53 6h0m19-3h0m7 0h0m6 0h0m59 3h0m67 2h0m90-6h0m71 4h0m43-3h0m4 3h0m18-2h0m1 0h0m1 0h0m72 0h0m-3 10h0m-9-5h0m-27 0h0m-7 6h0m-29 0h0m-9-4h0m-17 3h0m-6-1h0m-102 0h0m-44-3h0m-34 6h0m-36-7h0m-136 1h0m-34 5h0m-22-2h0m42 6h0m14 4h0m71-3h0m21 0h0m10 4h0m16-4h0m17-2h0m20 4h0m16 1h0m9 1h0m14-5h0m149 4h0m30-1h0m7-5h0m7 3h0m2-2h0m9 1h0m7 1h0m30-1h0m8 5h0m12-4h0m4 0h0m-5 8h0m-11 2h0m-30 0h0m-12 2h0m-21 0h0m-18-1h0m-85-6h0m-78 1h0m-126 0h0m-18 1h0m-7 5h0m-16-2h0m-3-5h0m-47 5h0m-15-4h0m-32 1h0m-13 4h0m49 7h0m27-3h0m3 4h0m24-2h0m22-4h0m14 3h0m96-2h0m92 4h0m43 0h0m50-2h0m68 2h0m5 2h0m0-2h0m44 0h0m1 2h0m8 3h0m-20 0h0m-105 3h0m-7 1h0m-17-4h0m-11 4h0m-7 0h0m-14 1h0m-35 0h0m-7-7h0m-13 4h0m-27 1h0m-26-1h0m-26 0h0m-9-2h0m-36-2h0m-51 5h0m-29 2h0m-40-5h0m-31-2h0m-4 0h0m-5 6h0m46 6h0m0 0h0m24-4h0m101 5h0m32-3h0m9 2h0m2-1h0m7-2h0m3 0h0m5 4h0m13 0h0m10-4h0m85 2h0m10-2h0m5 4h0m40-4h0m8 3h0m37 0h0m61-4h0m11 9h0m-13 2h0m-59 4h0m-11-4h0m-43 4h0m-31-3h0m-99 3h0m-42-3h0m-7 0h0m-11-3h0m-11 4h0m-16-1h0m-30-1h0m-37-3h0m-41 4h0m-11-3h0m-34 1h0m42 6h0m5 7h0m5-1h0m13-6h0m174 7h0m8-7h0m22 4h0m0-3h0m47 4h0m19 2h0m28-2h0m2-4h0m11 2h0m18 0h0m4 4h0m1-6h0m21 1h0m26 1h0m2 0h0m59 7h0m-1 5h0m-18-5h0m-1 1h0m-10 0h0m-26 2h0m-35-1h0m-21-3h0m-22-1h0m-15 4h0m-126 3h0m-13-5h0m-3-1h0m-1 5h0m-33-1h0m-75-5h0m-29 6h0m-26-6h0m-7 4h0m-8 3h0m18 6h0m60-4h0m59 2h0m3 2h0m32 0h0m1 0h0m5-1h0m43-2h0m1-1h0m58 2h0m39-2h0m10 5h0m67-3h0m60 0h0m14 4h0m-75 8h0m-9-5h0m-75-2h0m-4 2h0m-4 0h0m-16 5h0m-6-4h0m-33-2h0m-16 4h0m-89-4h0m-37 2h0m-38 0h0m-31 4h0m-2-1h0m-52-1h0m-14 2h0m-14-3h0m-2-3h0m-9 9h0m0-2h0m26 4h0m17 3h0m79-3h0m26-1h0m1 4h0m7-4h0m13 0h0m29-3h0m3 1h0m5-1h0m18 2h0m13 3h0m29 1h0m2-2h0m26 3h0m40-1h0m42-5h0m28 5h0m17-1h0m8 1h0m4 1h0m1-1h0m43 7h0m-14-3h0m-22 1h0m-18-1h0m-3-1h0m-33 2h0m-8 0h0m-15 1h0m-26-3h0m-50 2h0m-44 4h0m-2-6h0m-83 0h0m-32-1h0m-20 7h0m-63-6h0m-7 5h0m-27 0h0m-10 1h0m49 7h0m3-3h0m25-2h0m92 4h0m56 0h0m64 0h0m25-1h0m92-4h0m0 4h0m12-4h0m1 2h0m33 5h0m2-2h0m13 2h0m4-2h0m12 2h0m4-7h0m0 7h0m4 7h0m-3-5h0m-113 3h0m-109 1h0m-8 0h0m-1-2h0m-24-2h0m-8-1h0m-2 7h0m-121-5h0m-40 3h0m-30-3h0m-5 4h0m18 7h0m19-5h0m37 4h0m13-1h0m40 3h0m15 1h0m4-6h0m74 4h0m42 0h0m37-2h0m1 2h0m47 1h0m4-5h0m50 3h0m63-1h0m-76 8h0m-18 1h0m-57 3h0m-13-5h0m-2 3h0m-2-1h0m-8 1h0m-26 1h0m-1-2h0m-28-3h0m-36 3h0m-111-2h0m-42 5h0m-2-3h0m0 2h0m-20 0h0m-7 3h0m31 1h0m22-2h0m18 1h0m214 0h0m16-1h0m5 3h0m49-2h0m2 6h0m11 0h0m25 2h0m-8 2h0m-37 0h0m-6 0h0m-23-1h0m-5 4h0m-88-1h0m-31 2h0m-56-1h0m-60-2h0m-4 2h0m-13-3h0m-10 0h0m-34-2h0m-5 5h0m-28-1h0m33 7h0m2-1h0m6 3h0m4-2h0m10 0h0m10-3h0m23 3h0m57 3h0m3-3h0m39 1h0m14-1h0m2 1h0m13 2h0m4 0h0m14-1h0m10-5h0m16 0h0m77 0h0m19-1h0m9 6h0m5 0h0m-23 2h0m-81 7h0m-27-2h0m-13-5h0m-29 5h0m-29 0h0m-22 2h0m-91-6h0m-1 1h0m-16 2h0m-1 0h0m0 2h0m-14 0h0m67 2h0m19 5h0m39-2h0m48-3h0m4 7h0m31-6h0m14-1h0m6 2h0m36 8h0m-26 2h0m-4-2h0m-89 4h0m-2-2h0m-26-4h0m-24 1h0m-5 1h0m-21 1h0m-3-1h0m-42 2h0m-11 1h0m1 4h0m83-1h0m1 0h0m4 3h0m69-3h0m2 5h0m2 10h0m-55-6h0m-4 1h0m-17 4h0m-83-5h0m-3-1h0m91 11h0m73 3h0m10-5h0m33 8h0m-12 5h0m-21-1h0m-2 0h0m-66-2h0m-1 4h0m-42-4h0m-3 0h0m-23 4h0m-22 7h0m40-3h0m7 3h0m8-2h0m96-4h0m14 8h0m-53 1h0m-21 3h0m-4 1h0m-26-4h0m-6-1h0m-7 4h0m-1 3h0m-9-1h0m2 7h0m11-5h0m9 7h0m2-4h0m61-1h0m1-1h0m4 4h0m-7 7h0m-67 2h0"/><path transform="scale(.25)" fill="none" stroke="#00BFC4" stroke-width="7.8" stroke-linecap="round" d="M0 0m1811 2166h0m-69 4h0m73 25h0m45 5h0m-46 4h0m-126 27h0m4 4h0m-18 21h0m117 14h0m62 30h0m-30 12h0m126 22h0m-2-2h0m-233-4h0m-10 2h0m-3-1h0m2 11h0m46-2h0m63 9h0m-40 5h0m-16 9h0m-66 9h0m450 5h0m-313 2h0m-166 1h0m90 11h0m13 1h0m-101 4h0m-2 13h0m85 2h0m67 7h0m-90 14h0m33 7h0m24-3h0m36-1h0m59 9h0m-195 10h0m63 1h0m-7 4h0m253 8h0m-294 18h0m15 1h0m50 1h0m39-3h0m5 3h0m-22 12h0m28 3h0m5 11h0m-143-7h0m64 14h0m0 0h0m64 5h0m-153-2h0m209 14h0m335-4h0m-511 12h0m-7 7h0m93 5h0m0-2h0m-59 34h0m304 16h0m-1 14h0m85 13h0m63 25h0m-135 4h0m-351 49h0m226 4h0m202 9h0m-376 37h0m3-6h0m153 7h0m-18 58h0"/><path transform="scale(.25)" fill="none" stroke="#F8766D" stroke-width="7.8" stroke-linecap="round" d="M0 0m1919 2129h0m11 19h0m9 0h0m4 1h0m1-4h0m23 5h0m3-6h0m6 12h0m-15 3h0m-56-4h0m-102 8h0m20 2h0m22-2h0m100 2h0m5 1h0m4-4h0m7 5h0m14-4h0m1 3h0m-14 8h0m-23-2h0m-3-1h0m-23 2h0m-97-4h0m-8-1h0m-28 4h0m-38-2h0m73 7h0m45 6h0m9-1h0m4-6h0m5 7h0m40-4h0m10-3h0m33 7h0m27 0h0m-110 3h0m-21 4h0m-20-1h0m-131 9h0m1 0h0m72-3h0m41 1h0m67-3h0m1 3h0m87 9h0m-56 2h0m-7-1h0m-11-2h0m-13-2h0m-12 3h0m-91-1h0m-32 3h0m-28-3h0m-21 2h0m3 3h0m27 2h0m12-2h0m30 5h0m16-4h0m15 4h0m13-2h0m15-2h0m26 5h0m9-2h0m29-2h0m3-3h0m5 3h0m3 1h0m-21 8h0m-89-2h0m-26 4h0m-58-5h0m-30 7h0m3 6h0m24-1h0m6-1h0m80-4h0m1 1h0m35 6h0m85 4h0m-50-3h0m-36 0h0m-12 4h0m-49-3h0m-83 4h0m19 9h0m27-3h0m3 4h0m7-6h0m56 3h0m41-2h0m38 0h0m26 5h0m1 0h0m6 0h0m58-6h0m76 9h0m-11 4h0m-2-6h0m-148 2h0m-35-2h0m-43 5h0m-2-1h0m-104-1h0m-13 2h0m-2 7h0m71-1h0m37 2h0m12-3h0m16 2h0m25-4h0m11 0h0m5 0h0m12 2h0m134 0h0m25 2h0m-38 5h0m-114 2h0m-69 4h0m-10-6h0m-19 2h0m-6 0h0m-15 2h0m-5 1h0m-16-5h0m-69 0h0m73 13h0m36-2h0m15 1h0m45 0h0m6-1h0m21-4h0m19 1h0m115 4h0m12 0h0m2 1h0m5 0h0m6 4h0m-2 2h0m-1-3h0m-25 6h0m-6-1h0m-145-1h0m-15 0h0m-3 2h0m-14-7h0m-7 7h0m-5-1h0m-71-6h0m-57 5h0m18 10h0m87-4h0m0-1h0m78 5h0m10-5h0m75 0h0m2-1h0m40 2h0m31 1h0m3-3h0m12 5h0m5 9h0m-28-3h0m-9-2h0m-125 2h0m-8 1h0m-145 1h0m-42-5h0m-21 11h0m1 3h0m19-1h0m94-3h0m2 0h0m39 4h0m8-1h0m3-5h0m15-1h0m11 1h0m152-1h0m1 5h0m4-1h0m2 3h0m6 0h0m8 0h0m34-2h0m-55 7h0m-6 1h0m-4-2h0m-23-2h0m-32 0h0m-52 5h0m-35-4h0m-13 3h0m-3-3h0m-22 5h0m-49-5h0m-6-1h0m-25 4h0m-11-3h0m-4 0h0m-2 5h0m-13 0h0m-7-1h0m-15-5h0m-1-1h0m-11 2h0m-15 13h0m26-3h0m18-4h0m10 1h0m12 3h0m19 2h0m6-4h0m4 3h0m5 1h0m7-6h0m53 0h0m30 4h0m33-3h0m87 1h0m23 0h0m14 1h0m12 3h0m9-5h0m26 1h0m14-2h0m8 6h0m24-1h0m-13 4h0m-3 0h0m-21 3h0m-15 0h0m-14 1h0m-152-5h0m-1 6h0m-1-6h0m-26 5h0m-5 1h0m-2-2h0m-48-4h0m-19 1h0m-1 1h0m-73-1h0m-1 10h0m17-3h0m34 2h0m53 1h0m42 2h0m1-2h0m42 1h0m58 1h0m107 2h0m8 0h0m19-6h0m10 0h0m1 1h0m2 2h0m-19 7h0m-11 4h0m-143-2h0m-9 2h0m-35-2h0m-4-2h0m-52-2h0m-33 3h0m-15-2h0m-2 2h0m-120 9h0m44-5h0m48 7h0m0 0h0m6-5h0m42-2h0m3 4h0m10-4h0m3 5h0m18 2h0m117-6h0m79 4h0m21-1h0m27-3h0m14 3h0m54 6h0m-27 4h0m-12 0h0m-32-1h0m-6-4h0m-3 5h0m-18 1h0m-61-5h0m-109 2h0m-18-1h0m-2 4h0m-9-6h0m-6 4h0m-45-3h0m-12-2h0m-12 1h0m-10 6h0m-9-3h0m-18-3h0m-40 4h0m-42 5h0m16 5h0m27-6h0m2 2h0m49 1h0m10-1h0m58-1h0m35 3h0m13-2h0m195 0h0m16 0h0m34 4h0m3-4h0m27 1h0m0-3h0m-24 7h0m-15 4h0m-22 2h0m-25-3h0m-193 0h0m-3 3h0m-5 1h0m0-4h0m-8-3h0m-20 2h0m-15 0h0m-13 4h0m-134 3h0m4 2h0m2 1h0m9 2h0m1-2h0m2-2h0m65 0h0m1 0h0m3 3h0m65-4h0m4 6h0m32 0h0m155-5h0m11 0h0m82 0h0m24 3h0m-4 7h0m-141 2h0m-109-1h0m0 0h0m-2-3h0m-17-2h0m-56 4h0m-15-4h0m-25 0h0m-11 4h0m-15-2h0m-14 5h0m-34-5h0m-14 7h0m12-1h0m9 3h0m16 1h0m40 0h0m44-1h0m8-2h0m40 4h0m13-1h0m45 1h0m126-4h0m3 5h0m26-3h0m53 2h0m77 6h0m-101 0h0m-25-3h0m-41 2h0m-44 1h0m-68-3h0m-8 7h0m-14-4h0m-19 3h0m-1 1h0m-53-7h0m-100 6h0m-9-1h0m-37 8h0m100-1h0m1 3h0m85-2h0m9-5h0m11 1h0m7-1h0m6 3h0m239 3h0m4-4h0m31 3h0m20 3h0m-20 2h0m-42 0h0m-95 4h0m-113 1h0m-34-7h0m-104 1h0m-35 3h0m-45 3h0m-19-6h0m-10 4h0m-3 8h0m2 2h0m83-1h0m9-5h0m2 5h0m7-6h0m52 2h0m64-1h0m3 2h0m26 0h0m25 1h0m192 0h0m6-1h0m50 4h0m31 8h0m-6 0h0m-7-7h0m-3 7h0m-13-5h0m-23 2h0m-32 3h0m-4-2h0m-3-1h0m-2-1h0m-21 3h0m-9 1h0m-147-4h0m-17-3h0m-45 3h0m-126 4h0m-23-2h0m-32-3h0m-30 5h0m-2 4h0m9 1h0m83-1h0m136 2h0m3-5h0m2 1h0m20 5h0m20-4h0m164 1h0m16-1h0m42 2h0m13 2h0m2-4h0m15-1h0m36 11h0m-53 1h0m-17-3h0m0 4h0m-26-1h0m-1-1h0m0-1h0m-16-3h0m-1 4h0m-14-3h0m-77 5h0m-74-4h0m-5 2h0m-87-3h0m-90 0h0m-28 7h0m123 2h0m28-1h0m17 2h0m13 3h0m57 0h0m135-6h0m13 6h0m9-6h0m22 4h0m5-3h0m1 6h0m45 7h0m-34 1h0m-13-6h0m0 0h0m-18 6h0m-53-5h0m-61 1h0m-49 0h0m-22 4h0m-13-1h0m-18-5h0m-59 4h0m-61 2h0m-1-3h0m-45-4h0m-11 6h0m-3 0h0m-22 0h0m-2 0h0m-4 1h0m-3-2h0m-18 1h0m-36-1h0m50 10h0m3-4h0m38-1h0m1 2h0m10-2h0m34 1h0m8-3h0m5 1h0m4 3h0m0-2h0m77 2h0m18-4h0m34 3h0m6-2h0m178-1h0m16 2h0m62 8h0m-29 2h0m-17 3h0m-50-4h0m-40 1h0m-116-1h0m-17-1h0m-26 0h0m-2 2h0m-4 3h0m-16-2h0m-100 0h0m-17-2h0m-3 4h0m-42-6h0m-24 0h0m-11 0h0m-20 1h0m0 0h0m-6 5h0m52 1h0m52 4h0m8-2h0m18 1h0m10 1h0m5-2h0m5 0h0m11-1h0m74 4h0m7-1h0m7-1h0m4 0h0m7 2h0m20 0h0m5-5h0m55 4h0m21-1h0m3-3h0m16 5h0m61-3h0m2 5h0m53 1h0m-45 7h0m-12-3h0m-10-4h0m-57 6h0m-1-1h0m-42-2h0m-2 1h0m-33-4h0m-30 7h0m-2 0h0m-4-2h0m-5-1h0m-3 1h0m-8 0h0m-62 1h0m-6-2h0m-14 2h0m0-4h0m-1 1h0m-42 0h0m-19-2h0m-62-1h0m-14 1h0m-29 2h0m-8 10h0m9 0h0m87 2h0m44-3h0m5 1h0m15-2h0m36 1h0m41 2h0m16-2h0m25 3h0m23 0h0m0-5h0m16 5h0m20 0h0m25-2h0m36-4h0m58 6h0m22-5h0m64 7h0m-40 0h0m-16 3h0m0-1h0m-64-2h0m-37 1h0m-10 4h0m-38-1h0m-56-3h0m-3 0h0m-62 1h0m-10 3h0m-8 0h0m-169-6h0m-20 12h0m82 1h0m4-2h0m3-2h0m30 5h0m5-5h0m11 4h0m60 2h0m8-2h0m7-4h0m65 0h0m68 3h0m37 3h0m8-1h0m20-4h0m10 3h0m83 0h0m14 0h0m9-5h0m4 6h0m7 0h0m11 4h0m-1 2h0m0-3h0m-31-1h0m-1 4h0m-113 1h0m-2 0h0m-194-5h0m-29 6h0m-60 0h0m-23 1h0m-42 0h0m-8-3h0m-5 2h0m-35-3h0m43 12h0m15 0h0m4-7h0m8 5h0m17-1h0m2-1h0m14 0h0m40-1h0m48 4h0m17 0h0m14-1h0m3 1h0m32-5h0m48 4h0m2-5h0m12 2h0m78 2h0m22-1h0m39-1h0m76 0h0m-13 13h0m-17-5h0m-31 5h0m-92-3h0m-37-4h0m-17 5h0m-4-4h0m-5 4h0m-101 2h0m-29-2h0m-103 1h0m-13-3h0m-33 1h0m-34-4h0m-8 7h0m-9 6h0m7-4h0m92 4h0m126-4h0m7 3h0m23 1h0m62 2h0m17-1h0m3-2h0m50-3h0m7 3h0m18-3h0m76 6h0m50 6h0m-19-1h0m-39 2h0m-10-6h0m-2 2h0m-60 1h0m-53 3h0m-17-6h0m-5 5h0m-25-4h0m-6 5h0m-75 0h0m-6-5h0m-3 1h0m-18 3h0m-62-2h0m-76-1h0m-3 4h0m-4-3h0m-5-2h0m-7 1h0m-2 1h0m-20 2h0m-20 3h0m44 2h0m23-1h0m91 0h0m92 0h0m11 0h0m2 3h0m7 2h0m65-3h0m112-1h0m25 3h0m1-2h0m56 4h0m19-6h0m-88 14h0m-12-6h0m-4 5h0m-43-1h0m-23-1h0m-129 0h0m-15-3h0m-96 4h0m-22 1h0m-1-4h0m-8-2h0m-4 0h0m-21 10h0m0 3h0m29 1h0m30 1h0m27-4h0m3-2h0m10 1h0m28-1h0m13-1h0m14 2h0m128 3h0m1-4h0m7 3h0m17 2h0m19-1h0m21-4h0m4 4h0m15 2h0m0-3h0m5-4h0m2 1h0m14 6h0m53-7h0m17 3h0m-11 11h0m-3-6h0m-4 6h0m-47-1h0m-19 1h0m-12-3h0m-68 1h0m-1-3h0m-71-1h0m-32 1h0m-4 1h0m-44 1h0m0 3h0m-93-4h0m-9 3h0m-43-2h0m-19 3h0m-2-1h0m-14-1h0m-1 2h0m-23 0h0m22 6h0m65-4h0m8 1h0m16 2h0m11 2h0m61 2h0m15-7h0m5 3h0m5-2h0m2 4h0m56-1h0m46 0h0m197 0h0m2 1h0m1 3h0m-34 5h0m-35 2h0m-59-4h0m-37-2h0m-40-1h0m0 5h0m-7-1h0m-6-4h0m-82 0h0m-95 1h0m-1 6h0m-46-1h0m-8-5h0m-15 6h0m-28-5h0m-12 0h0m-14 2h0m27 4h0m24 3h0m54 1h0m8-1h0m38 4h0m7-5h0m17 2h0m52-4h0m86 5h0m4 2h0m29 0h0m15-2h0m1 1h0m36-3h0m4 4h0m5-6h0m2 6h0m7-3h0m20 0h0m74 4h0m-18 5h0m-35 1h0m-7-4h0m-23 2h0m-40-3h0m-1 5h0m-18-4h0m-98 2h0m-15 1h0m-5-4h0m-71-1h0m-29 3h0m-23 4h0m-51-2h0m-4 0h0m-3 2h0m-11-2h0m-23 0h0m-32 4h0m3 3h0m8 3h0m156-2h0m54 1h0m17 1h0m9-5h0m0 4h0m2-1h0m11-2h0m7 1h0m6 3h0m21 0h0m72-6h0m4 6h0m27-6h0m74 4h0m46 0h0m5-1h0m3 0h0m4 1h0m-56 6h0m-22 3h0m-8-1h0m-8 1h0m-33-2h0m-13-1h0m-85-1h0m-17 5h0m-83-3h0m-141 1h0m-15 2h0m-8-2h0m-19 5h0m56-1h0m6 1h0m13 2h0m15 0h0m67-1h0m4-1h0m12 5h0m52-2h0m17-5h0m12 1h0m82 2h0m11-2h0m16 2h0m63 2h0m10 0h0m44-3h0m7 5h0m34-3h0m-7 4h0m-12 4h0m-1-3h0m-71 1h0m-21 0h0m-46 1h0m-7 2h0m-65 2h0m-33-3h0m-1 0h0m-5 1h0m-7 0h0m-6-5h0m-43 6h0m-37-3h0m-45 0h0m-41-1h0m-1-1h0m-36 4h0m-12 2h0m-15-1h0m-14 4h0m0 2h0m42 1h0m114-3h0m11 5h0m2 0h0m29-6h0m128 0h0m8 1h0m23-2h0m50 7h0m7-4h0m10 1h0m73 9h0m-47-2h0m-22 0h0m-4 1h0m-83 1h0m-68-5h0m-5 4h0m-52 1h0m-36-4h0m-27 0h0m-32 6h0m-3-5h0m-13 3h0m-17 1h0m-21-1h0m-31-3h0m-3-1h0m-25 2h0m-4 3h0m43 5h0m64 0h0m120 3h0m39-1h0m132 2h0m11-5h0m62 12h0m-33-3h0m-159 4h0m-6-3h0m-47-2h0m-6 4h0m-7-2h0m-93 3h0m-32-2h0m-27-3h0m-12 3h0m-34-5h0m0 10h0m7 3h0m35 2h0m20-1h0m5 1h0m134-7h0m3 6h0m32-3h0m52-1h0m4-1h0m57 5h0m23 0h0m2-5h0m4-1h0m39 2h0m29 3h0m-18 10h0m-5-3h0m-12-4h0m-7 1h0m-74 1h0m-32 3h0m-28 0h0m-13-2h0m-37 1h0m-1-2h0m-8-1h0m-93-1h0m-22 4h0m-10 1h0m-12 0h0m-12-2h0m-45 2h0m-12 1h0m13 9h0m11-1h0m8-1h0m9 2h0m8-2h0m57-2h0m38 3h0m64-3h0m0-3h0m4 5h0m0-5h0m17 7h0m33-6h0m55 4h0m1-3h0m62 5h0m14-1h0m10 5h0m-65 2h0m-15-4h0m-3 2h0m-93-3h0m-9 1h0m0 0h0m-5 4h0m-70-4h0m-105 0h0m-5 1h0m-3 4h0m-3-4h0m-1 2h0m0 2h0m-3-6h0m8 8h0m5 5h0m41-2h0m67 1h0m42 1h0m1 1h0m39-1h0m56 0h0m36-2h0m8-2h0m13 3h0m10 2h0m17-6h0m-23 14h0m-4-3h0m-3 4h0m-43-7h0m-15 4h0m-24 1h0m-26 0h0m-7 1h0m-11-2h0m-1-2h0m-7 3h0m-58 1h0m-2-2h0m-52-1h0m-12 0h0m-6 4h0m-28-3h0m-10-1h0m0 11h0m6-5h0m236 6h0m-25 7h0m-71-6h0m-45 7h0m-112 8h0m8-1h0m0 1h0m38 0h0m34-5h0m60 5h0m4-1h0m1-4h0m26-1h0m49 9h0m-82 0h0m-40 4h0m-24-5h0m-17 0h0m5 11h0m0 2h0m6-1h0m12 0h0m84 1h0m15-6h0m10 0h0m3 2h0m3 3h0m6-4h0m-25 13h0m-6-6h0m-5 3h0m-27 1h0m-17 2h0m-97 9h0m30 0h0m9 0h0m9-2h0m32-1h0m9 3h0m33-6h0m14 5h0m2-1h0m45-5h0m-40 8h0m-3 5h0m-17 2h0m-3 0h0m-3-7h0m-25 3h0m-36-1h0m-9 4h0m-4 0h0m-7-2h0m-17 0h0m-9 0h0m34 6h0m20-1h0m3 5h0m64-2h0m-4 4h0m-9 5h0m-1 2h0m-16-6h0m-44 0h0m-3 2h0m-5 7h0m41 8h0"/><path transform="scale(.25)" fill="none" stroke="#00BFC4" stroke-width="7.8" stroke-linecap="round" d="M0 0m1770 2162h0m37-2h0m-74 18h0m66 27h0m-51 1h0m-14 5h0m126 33h0m-185 17h0m145-4h0m-16 16h0m-98 18h0m60 12h0m-103-6h0m66 14h0m312 8h0m-383 4h0m71-2h0m104 11h0m-123 4h0m251 12h0m-144-1h0m-78 1h0m-39-4h0m-29 1h0m-14 5h0m309 5h0m138 8h0m-443 4h0m78 9h0m118 12h0m292 6h0m-485 9h0m131-1h0m289-2h0m-66 15h0m126 7h0m-467 9h0m55 3h0m23 1h0m-117 5h0m105 16h0m-18 6h0m-73 1h0m103 2h0m235 1h0m-250 8h0m-26 1h0m-9 4h0m-12 7h0m2-5h0m36 3h0m40 1h0m8 1h0m12 9h0m-51-7h0m-73 5h0m110 4h0m-48 11h0m99 15h0m-108 17h0m-97-3h0m59 11h0m349 6h0m-151 1h0m-238 10h0m116 8h0m-110 1h0m38 12h0m425 34h0m-336 8h0m-110 21h0m404 37h0m-167 24h0m117 24h0m-106 68h0"/><path transform="scale(.25)" fill="none" stroke="#F8766D" stroke-width="7.8" stroke-linecap="round" d="M0 0m1963 2139h0m-59 8h0m52 1h0m19 11h0m-7-5h0m-28 0h0m-14 0h0m-24 0h0m-100 10h0m26-1h0m26-2h0m69 5h0m15-6h0m4 0h0m4 5h0m3-2h0m13 0h0m15 0h0m1 5h0m-6 3h0m-26 0h0m-25 1h0m-5 0h0m-37 2h0m-42-1h0m-33 1h0m-83 8h0m21-5h0m94 6h0m9-4h0m5-1h0m4 0h0m2-2h0m20 5h0m44-5h0m8 0h0m13 4h0m17-4h0m14 2h0m-14 10h0m-69 2h0m-6-6h0m-26 4h0m-4 3h0m-4-7h0m-49 4h0m-2 1h0m-40 7h0m10 0h0m46 3h0m62-1h0m104-2h0m-88 8h0m-6 0h0m-5 2h0m-17 0h0m-46 0h0m-112 0h0m-2 9h0m7-4h0m27 3h0m9-2h0m33 3h0m33-5h0m2 5h0m5 0h0m0-7h0m8 0h0m15 2h0m126 2h0m-138 10h0m-11 1h0m-25 0h0m-43-3h0m-41-4h0m-16 6h0m95 4h0m34-2h0m19 1h0m2-1h0m49 2h0m22 6h0m-73 5h0m-1-2h0m-98 1h0m-1 1h0m-3 2h0m-49 7h0m29-2h0m27-2h0m66-1h0m3 4h0m1 0h0m7-1h0m31-2h0m12 3h0m13-1h0m9-2h0m133-2h0m9 5h0m11 5h0m-1 4h0m-12 1h0m-107-1h0m-48-1h0m-70-2h0m-76-2h0m-64 11h0m142-2h0m11 1h0m42 0h0m28 4h0m10-7h0m60 5h0m61 6h0m-104 4h0m-90-7h0m-5 5h0m-36-1h0m-16 1h0m-16 1h0m-74-3h0m-18 10h0m32-2h0m192 2h0m8-3h0m94 5h0m30-5h0m7-2h0m2 1h0m0-1h0m0 1h0m21 3h0m-13 9h0m-10-3h0m-125 4h0m-30-5h0m-5 6h0m-3 0h0m-8-4h0m-41-3h0m-5 6h0m-87-2h0m-7-3h0m54 10h0m37-1h0m45-1h0m138 1h0m26 3h0m13-4h0m1 0h0m6 4h0m32 7h0m-40 2h0m-17-3h0m-20 2h0m-83-2h0m-25 1h0m-24 1h0m-4 0h0m-3-1h0m-18 0h0m-150-4h0m-15 4h0m-7-2h0m-1 3h0m1 9h0m30-2h0m37 2h0m7-1h0m4 0h0m20 1h0m9 1h0m42-2h0m4 2h0m24-6h0m10 6h0m4 0h0m1-6h0m7-1h0m2 3h0m1 1h0m18 0h0m1-2h0m6 2h0m119-1h0m10-2h0m13 1h0m3 4h0m16-4h0m-3 7h0m-11 0h0m-88 2h0m-12-3h0m-80 3h0m-2 2h0m-90-4h0m-9-1h0m-15 5h0m-53-4h0m-10 3h0m66 6h0m59 2h0m1-3h0m9 3h0m40 2h0m21-3h0m11 4h0m114-3h0m6-2h0m1 3h0m2 1h0m53-1h0m1-5h0m5 2h0m36 10h0m-1-3h0m-13 2h0m-1 2h0m-29-5h0m-140 4h0m-24-1h0m-34 3h0m-9-1h0m-116-1h0m-31-3h0m-26 6h0m-14 3h0m4 2h0m42 2h0m0-1h0m80-2h0m23 2h0m7-2h0m37-1h0m26 3h0m9 0h0m10 2h0m70 0h0m63 0h0m9-1h0m39-4h0m2 3h0m15-3h0m4 4h0m3-4h0m-73 6h0m-2 0h0m-6 0h0m0 3h0m-97 4h0m-22-7h0m-3 0h0m-22 5h0m-223-3h0m-2 1h0m-2 1h0m52 6h0m4 5h0m0-5h0m12 5h0m54-3h0m8-3h0m6 6h0m7-4h0m34-1h0m57 3h0m149-4h0m19 5h0m72-3h0m11 12h0m-7-4h0m-2-1h0m-11 1h0m-22-3h0m-14 1h0m-115 2h0m-11-3h0m-60 0h0m-26 6h0m-17-2h0m-2 3h0m-33 0h0m-14 0h0m-107-2h0m-33-2h0m-1-3h0m-20 9h0m4 4h0m6 1h0m2 0h0m18 1h0m39-7h0m13 5h0m25-3h0m1 3h0m13-1h0m21 3h0m11-7h0m10 1h0m12 1h0m27 3h0m4-4h0m8 6h0m7-2h0m192-5h0m3 6h0m4-6h0m1 2h0m52 0h0m22 3h0m7 1h0m-15 5h0m-13 4h0m-60-3h0m-6-3h0m-43 1h0m-51-2h0m-95 4h0m-12-2h0m-6 3h0m-5 1h0m-42-4h0m-40 5h0m-13-2h0m-36-4h0m-19-1h0m-2 6h0m-10-3h0m-11 4h0m-1 0h0m-21 7h0m14-1h0m10 2h0m72-1h0m1-6h0m10 2h0m53-1h0m10 4h0m45-2h0m0 4h0m2-4h0m184 2h0m103 1h0m10 9h0m-52-6h0m-56 3h0m-1-4h0m-33 7h0m-12 0h0m-145-5h0m-1-2h0m-84 1h0m-38 5h0m-5-4h0m-55 0h0m-4 1h0m-12 8h0m24 4h0m9-6h0m89 0h0m1 6h0m6-1h0m1 1h0m54-4h0m1 2h0m2 0h0m11-1h0m27 3h0m18 0h0m147-7h0m7 5h0m11-1h0m21-4h0m42 6h0m20-1h0m-3 5h0m-3 3h0m-40-5h0m-208 6h0m-6-1h0m-1-1h0m-18 2h0m-17-3h0m-60 1h0m-55 1h0m-57-3h0m-24-2h0m67 12h0m6-3h0m17 1h0m34-1h0m14-1h0m9 7h0m26-5h0m37 2h0m11 0h0m3-3h0m15 0h0m103 6h0m17 0h0m49-1h0m61 1h0m13-3h0m28 1h0m-61 10h0m-198-4h0m-5 0h0m-12 4h0m-3-5h0m-80 3h0m-71-1h0m-14-1h0m-77 4h0m56 6h0m2-2h0m1 2h0m3-2h0m21 0h0m2 2h0m6-2h0m5-3h0m36 3h0m4 4h0m20 0h0m17-5h0m41 5h0m3-5h0m33 3h0m29-2h0m16 2h0m21 0h0m34-1h0m42 2h0m74-5h0m28-1h0m68 10h0m-48 2h0m-62-2h0m-174 1h0m-23-1h0m-143 4h0m-8-3h0m-2 3h0m-4 0h0m-71-4h0m-17-2h0m-8 2h0m6 13h0m8-5h0m84 5h0m5-5h0m116-2h0m2 1h0m44 3h0m6 3h0m5-6h0m63 4h0m18-3h0m4 1h0m57 4h0m3-5h0m26-1h0m7 3h0m7-4h0m72 7h0m15-6h0m21 8h0m-36 4h0m-27-5h0m-6 4h0m-4 0h0m-1 0h0m-12 0h0m-12 3h0m-16-4h0m0 4h0m-5-4h0m-34 0h0m-61 1h0m-76-1h0m-22 2h0m-3-3h0m-15 4h0m0-6h0m-10 5h0m-3 0h0m-11-4h0m-2 4h0m-1-5h0m-37 3h0m-74 1h0m-20-1h0m-16-2h0m-51 5h0m-20-3h0m9 10h0m46 2h0m33-4h0m9 3h0m51-5h0m71 5h0m38-4h0m2-1h0m0 2h0m28-2h0m1 0h0m25 1h0m27-1h0m106 2h0m18-2h0m9-1h0m37 5h0m14 2h0m-23 8h0m-170-5h0m-14-2h0m-41 4h0m-14 0h0m-8-1h0m-15-3h0m-32 1h0m-81-1h0m-32 2h0m-7 3h0m-11-4h0m-31 0h0m-7 5h0m0 9h0m3-6h0m30 2h0m15-1h0m12 0h0m9-2h0m12 1h0m21 3h0m4-3h0m98 5h0m11 0h0m4 0h0m59 1h0m100-4h0m43-2h0m45 5h0m14-5h0m1 5h0m-24 4h0m-5-2h0m-38 4h0m-5-2h0m-2 2h0m-3-1h0m-71 0h0m-2-3h0m-1 5h0m-71 1h0m-4-4h0m-26 2h0m-9 0h0m-1-4h0m-1 3h0m-14-3h0m-24 5h0m-64-3h0m-2 3h0m0-2h0m0 4h0m-6-6h0m-109 6h0m-15-5h0m-11 6h0m108 6h0m8 1h0m2 0h0m19-7h0m2 5h0m1-1h0m54-1h0m32-1h0m18 3h0m3 0h0m11 1h0m7-3h0m170 4h0m0 0h0m41-6h0m1 3h0m34 1h0m14-4h0m6 1h0m15 8h0m-11-1h0m-25 3h0m-51 2h0m-8-2h0m-4-2h0m-1 3h0m-9 1h0m-37-6h0m-39 5h0m-79 1h0m-26 0h0m-34 1h0m-67 0h0m-7-3h0m-19-1h0m-15-2h0m-14 4h0m-7-5h0m-82 4h0m-13 10h0m29-5h0m34 3h0m47 1h0m0 0h0m41 2h0m34 0h0m12-1h0m51-5h0m4 0h0m15 5h0m13-5h0m5 6h0m50-4h0m22 2h0m81 1h0m91-1h0m20 8h0m-10-5h0m-35 2h0m-11 2h0m-17-2h0m-31 3h0m-15-5h0m-2 6h0m-48 1h0m-73-1h0m-24-3h0m-16-3h0m-110 5h0m-41 0h0m-27-2h0m-16-1h0m-31 2h0m-56 8h0m136 3h0m21-4h0m20 0h0m2 4h0m36-1h0m1-6h0m3 2h0m9 4h0m41-4h0m78-1h0m5 2h0m29-1h0m10-1h0m1 5h0m26 1h0m10-2h0m41-5h0m74 3h0m16 12h0m-5-3h0m-7-3h0m-35-1h0m-1 1h0m-73 4h0m-5 0h0m-17 1h0m-7-3h0m-55 3h0m-24-1h0m-8 1h0m-2-3h0m-1 0h0m-2 4h0m-1-1h0m-1-4h0m-1 1h0m-4-2h0m0-1h0m-5 1h0m-3 6h0m-85-1h0m-21-6h0m-26 2h0m-113-2h0m-2 1h0m-2 6h0m-8-2h0m0-3h0m-44 4h0m32 2h0m7 6h0m2-3h0m16 0h0m4-1h0m27 4h0m8-1h0m7 1h0m3-5h0m35 6h0m42-5h0m42 2h0m102 2h0m5-5h0m1 3h0m72-1h0m3-3h0m26 2h0m53 1h0m11 1h0m32-2h0m1 12h0m-3-1h0m-75-2h0m-100-3h0m-13 5h0m-11-5h0m-2 7h0m-1-1h0m-17-6h0m-152 5h0m-4 0h0m-44-3h0m-13 0h0m-11-1h0m-4-1h0m-1 5h0m-24-4h0m-1 2h0m-29-3h0m10 10h0m13 5h0m28-5h0m21 0h0m7 2h0m4-4h0m6 7h0m32-5h0m65-2h0m49 2h0m59 3h0m68-4h0m83 6h0m66 3h0m-23 4h0m-66 0h0m-18 0h0m-8 1h0m-81-7h0m-96 4h0m-2 3h0m0-3h0m-82 3h0m-59-1h0m-11-3h0m-21-1h0m-9 3h0m-57 8h0m92 1h0m82-2h0m2 3h0m6-3h0m4 3h0m8 0h0m21-3h0m19-1h0m22 4h0m15-4h0m29 3h0m18-6h0m65 7h0m67-1h0m11-3h0m46-1h0m2 5h0m23-7h0m0 3h0m1 10h0m-1 1h0m-1-4h0m-32 5h0m-19-5h0m-1 3h0m-22-1h0m-6 0h0m-17-2h0m-208-2h0m-5 1h0m-21 5h0m-12 0h0m-53 0h0m-42-1h0m-4-2h0m-12 1h0m-20 2h0m-7-5h0m-36 2h0m16 5h0m13 1h0m34 2h0m26-3h0m53 2h0m7 5h0m7-6h0m13 4h0m4-1h0m99-3h0m149 0h0m3 5h0m7-6h0m13 0h0m4 6h0m-10 3h0m-39 5h0m-17 0h0m-30-5h0m-2-1h0m-157 3h0m-15-1h0m-13 3h0m-35-2h0m-1-1h0m-25 5h0m-10 0h0m-34-5h0m-3-1h0m-14-1h0m-6 5h0m20 10h0m49-7h0m193 2h0m10 5h0m32-7h0m11 4h0m110 2h0m5-3h0m13 4h0m1-7h0m8 1h0m7 0h0m3 5h0m10 5h0m-50 1h0m-13 0h0m-1 0h0m-9 1h0m-3-4h0m-36 0h0m-1 1h0m-15-1h0m-7 6h0m-26 0h0m-43-3h0m-7-3h0m-31-1h0m-21 7h0m-4 0h0m-132-5h0m-112 8h0m14 1h0m2 4h0m84-1h0m10-1h0m20-5h0m8 3h0m20 3h0m22-5h0m38 2h0m1 4h0m90-1h0m2-4h0m0 0h0m5-1h0m50 1h0m21 3h0m4 2h0m0-6h0m6-1h0m3 4h0m14 2h0m35-4h0m17-2h0m12 1h0m17 1h0m10 0h0m-81 6h0m-23 1h0m-11 2h0m-7 4h0m-25-6h0m0 3h0m-2-4h0m-11 4h0m-203-4h0m-22 1h0m-11 3h0m-37 3h0m-81-6h0m-3 3h0m66 9h0m16-4h0m83 2h0m52-2h0m40 0h0m24 4h0m26-2h0m92 4h0m31-7h0m52 6h0m5-3h0m-16 9h0m-119-3h0m-69 0h0m-11 5h0m-10-4h0m-23 4h0m-38-2h0m-58-1h0m-43 2h0m-80 7h0m68-4h0m8 2h0m5 4h0m3-4h0m3 1h0m58-2h0m81 5h0m19-4h0m9 2h0m11 2h0m61-4h0m179 2h0m-67 8h0m-1 1h0m-60-4h0m-39 4h0m-2 1h0m-34 1h0m-28-2h0m-1 1h0m-53-5h0m-3 5h0m-42-6h0m-32 2h0m-4 4h0m-17-4h0m-63 4h0m-7-2h0m-32-3h0m-21 4h0m-6-1h0m7 7h0m5 0h0m2 4h0m4-1h0m25-4h0m19 0h0m27 3h0m70 2h0m2-1h0m24 1h0m39-5h0m35 0h0m4-1h0m96 4h0m92-3h0m36 8h0m-51 4h0m-1-1h0m-65-1h0m-68-1h0m-4 0h0m-23-2h0m-48 3h0m-14 2h0m-48-1h0m-1-4h0m-7 4h0m-8 1h0m-28 1h0m-2-4h0m-1-1h0m-11 2h0m-11-1h0m-25 1h0m-21-4h0m-3 2h0m-2-1h0m-11 0h0m-29 3h0m115 10h0m49 1h0m1-1h0m29-5h0m0-1h0m33 6h0m12-3h0m44 3h0m7-4h0m7 4h0m45-6h0m17 3h0m11 0h0m5 3h0m8-6h0m41 1h0m46 3h0m25 11h0m-31 0h0m-26-3h0m-33-4h0m-173 2h0m-34 3h0m-75 1h0m-28 1h0m-18-4h0m-11-2h0m-56 7h0m50 7h0m4-3h0m49-3h0m51 5h0m67-4h0m31 2h0m8-3h0m11 6h0m33-1h0m1 0h0m2-3h0m51-2h0m38-1h0m13 0h0m10 11h0m-148 3h0m0-1h0m-47-4h0m-36 0h0m-99 1h0m-32 2h0m-21 2h0m-15-2h0m-1 2h0m33 7h0m173-5h0m1 4h0m5 1h0m2-4h0m0 2h0m9 1h0m25-4h0m9 4h0m11-2h0m3 0h0m36 0h0m12 1h0m26-2h0m55 1h0m26 2h0m-90 9h0m-53-2h0m-39 1h0m-3 0h0m-9 2h0m-7 1h0m-2 0h0m-8-4h0m-17 0h0m-32 2h0m-71-3h0m-18 4h0m-39-6h0m-2 1h0m-15 2h0m-10 2h0m24 5h0m0-2h0m1 6h0m15-4h0m31 1h0m40-1h0m16 0h0m84 3h0m16-4h0m55 3h0m44 2h0m4-2h0m27 11h0m-58-7h0m-28 4h0m-46 1h0m-31-5h0m-8 3h0m-8 2h0m-55 0h0m-57 0h0m-32 1h0m-20-1h0m17 6h0m81 4h0m32-5h0m39-1h0m61 1h0m33 4h0m52-5h0m-120 11h0m-26 2h0m-3 0h0m-4-2h0m-2 0h0m-12-4h0m-59 0h0m-4 5h0m-51-1h0m-27 3h0m-8-5h0m-2 4h0m-6 9h0m102-5h0m10 0h0m55 1h0m37 4h0m22-5h0m12-2h0m6 4h0m-87 8h0m-14-3h0m-93 2h0m-12-2h0m-33 3h0m63 9h0m11-1h0m121-3h0m2 4h0m1-5h0m3 5h0m2 0h0m-11 8h0m-65 1h0m-12 0h0m-96 5h0m33 1h0m20 3h0m28-2h0m15 1h0m55 1h0m7 8h0m-80-6h0m-28 4h0m-3-5h0m-3 4h0m-37 8h0m39 0h0m8 1h0m1-5h0m62 0h0m5 1h0m8 2h0m1 2h0m3-5h0m1 5h0m16-4h0m-21 9h0m-33 5h0m-4-4h0m-30-1h0m-1 9h0"/><path transform="scale(.25)" fill="none" stroke="#00BFC4" stroke-width="7.8" stroke-linecap="round" d="M0 0m1766 2172h0m-32 4h0m85 22h0m-52 16h0m106 3h0m-154 15h0m-30 0h0m137 9h0m-66 14h0m18 32h0m-74-1h0m-2-1h0m-7 8h0m93 10h0m-122-7h0m109 8h0m52 14h0m-27 1h0m-74-1h0m23 2h0m76 0h0m-94 20h0m28-2h0m129 2h0m86 3h0m-24 14h0m-249 9h0m-7 7h0m36 2h0m121-4h0m-50 11h0m-42-6h0m-100 7h0m-6 3h0m9-2h0m48 32h0m174 4h0m-52 5h0m-188 5h0m90 5h0m-21 5h0m14 13h0m17-5h0m170 0h0m-161 8h0m232 12h0m-176 11h0m-27 0h0m0-1h0m-65 1h0m-78 5h0m61 0h0m4 0h0m72-3h0m163 13h0m-212-6h0m-55 13h0m1-2h0m78 2h0m7-2h0m48-3h0m-6 10h0m-66 3h0m-90 5h0m117 3h0m5-2h0m64 8h0m-45-1h0m-76 4h0m67 3h0m40 5h0m362 6h0m-400 16h0m-45-3h0m290 21h0m-129-2h0m-111 2h0m-45-3h0m-40-2h0m-22 3h0m62 12h0m-48 5h0m78 19h0m133 8h0m-201 29h0m59 146h0m2 24h0"/><path transform="scale(.25)" fill="none" stroke="#F8766D" stroke-width="7.8" stroke-linecap="round" d="M0 0m1943 2143h0m-21 8h0m21-3h0m19 1h0m3 0h0m5-4h0m-25 7h0m-26 2h0m-116 4h0m-47 7h0m3-5h0m50 4h0m27 1h0m9 1h0m20 0h0m49-2h0m29-4h0m14 3h0m1-1h0m17-1h0m-34 10h0m-3-2h0m-3 1h0m-23 0h0m-115 0h0m-38 1h0m11 7h0m5 4h0m61-3h0m8-1h0m11 5h0m126-6h0m-124 12h0m-7-4h0m-102 11h0m58-2h0m21-1h0m4 5h0m50-2h0m2 0h0m3-4h0m8 8h0m-5 3h0m-15 2h0m-1-1h0m-6 2h0m-1-4h0m-11 2h0m-1-4h0m-19 7h0m-18-4h0m-1 0h0m-35-2h0m-32 4h0m-26 3h0m3 7h0m148-5h0m81 5h0m-69 1h0m-2 3h0m-35 1h0m-24 3h0m-111-5h0m-2 4h0m-5-2h0m-14 10h0m2-3h0m29 4h0m21-2h0m9 0h0m9 2h0m10-3h0m55-1h0m45 3h0m44-2h0m22-2h0m80 11h0m-146 2h0m-28-1h0m-5-1h0m-12 2h0m-2-3h0m-2 2h0m-60-4h0m-32 3h0m-14 1h0m-20-3h0m-16 7h0m12 0h0m51 0h0m4-2h0m115 0h0m21 7h0m8-6h0m26 2h0m6-3h0m43 2h0m19-1h0m53 9h0m-13 4h0m-172 1h0m-47 0h0m-7-4h0m-131 9h0m28 1h0m84-2h0m8-1h0m21-2h0m2 0h0m1 4h0m80-3h0m84 0h0m30 5h0m10-3h0m15 11h0m-7 0h0m-1 0h0m-8-3h0m-1 3h0m-16-6h0m-143 0h0m-1 0h0m-147 7h0m-47 7h0m68-3h0m16 4h0m24-3h0m45-1h0m54 0h0m13-3h0m17 0h0m132 5h0m2-5h0m-5 8h0m-133 2h0m-47 1h0m-1-2h0m-5-1h0m-95 4h0m-82-4h0m51 11h0m57 2h0m12 0h0m74 2h0m0-2h0m7 0h0m139-3h0m22 4h0m3-5h0m3 5h0m31 5h0m-26 3h0m-7-4h0m-27-2h0m-61 5h0m-48-4h0m-29 2h0m0 4h0m-7-2h0m-101 1h0m-16-4h0m-80 0h0m-9 5h0m32 5h0m42 0h0m4 3h0m43-7h0m27 4h0m23-2h0m30 0h0m30 0h0m137 0h0m5 5h0m8-4h0m2 11h0m-5-2h0m-1 1h0m0 0h0m-21-3h0m-25 1h0m-110-3h0m-37 1h0m-36-1h0m-6 6h0m-45-6h0m-3 6h0m-64-4h0m-2 4h0m-24-5h0m23 13h0m120-2h0m1 2h0m41-2h0m11 3h0m115-1h0m36-6h0m78 0h0m9 15h0m-64-1h0m-13 1h0m-20-4h0m-104 1h0m-41-3h0m-2 6h0m-52-5h0m-16 2h0m-2 3h0m-108 3h0m20-1h0m28 1h0m18 1h0m26-2h0m19 2h0m8-1h0m48-2h0m8 0h0m10 2h0m28 3h0m1-3h0m164 3h0m24-3h0m0 3h0m5-1h0m4 3h0m8-6h0m4 4h0m3 0h0m5 0h0m-17 6h0m-17 3h0m-42 0h0m-65-1h0m-9-1h0m-57 1h0m-6 2h0m-2-2h0m-12 1h0m-7 1h0m-28-1h0m-12-2h0m-44-3h0m-9-1h0m-69 0h0m-47 7h0m-1 4h0m28 0h0m4 0h0m15-2h0m21 5h0m43-5h0m2 4h0m81-3h0m9 4h0m3-1h0m0 2h0m29-3h0m28-4h0m6 6h0m29-4h0m81 4h0m16-3h0m21-1h0m1 4h0m66 9h0m-35-6h0m-35 3h0m-31-4h0m-87 1h0m-2 0h0m-121 6h0m-28 0h0m-25-1h0m-43-2h0m-27 3h0m-45 0h0m-21 4h0m27 3h0m48 0h0m43-1h0m30 0h0m52-5h0m13 5h0m5 0h0m109-1h0m70-4h0m36 0h0m24 0h0m2 3h0m2 1h0m12-2h0m5 5h0m-8 1h0m-8 2h0m-1 2h0m-9-2h0m-145 0h0m-101 2h0m-38-3h0m-64 6h0m-8-1h0m-3-1h0m-20-4h0m-4 0h0m-36 5h0m-3-2h0m-11-2h0m33 6h0m54 1h0m2 0h0m2 1h0m18-2h0m78 5h0m5-2h0m2-3h0m21 4h0m44 3h0m91-2h0m23 1h0m60-2h0m8 2h0m6-2h0m59 8h0m-21 2h0m0-5h0m-78 0h0m-187 5h0m-58-5h0m-1-1h0m-78 3h0m-9-2h0m-33-1h0m-41 3h0m8 5h0m45 5h0m77-5h0m10 7h0m43-3h0m13 0h0m11 0h0m4 1h0m23-1h0m114 0h0m5 0h0m2 1h0m131 2h0m16-6h0m12 14h0m-30-7h0m-71 2h0m-15 1h0m-2 0h0m-47 0h0m-11 4h0m-99-2h0m-9 2h0m-69-6h0m-14 0h0m-5 4h0m-4-5h0m-14 0h0m-3 4h0m-62-3h0m-38 6h0m-10-2h0m-18-2h0m2 10h0m13-4h0m15 0h0m27 4h0m4 2h0m52-3h0m4 1h0m3 1h0m52-5h0m31 3h0m22 3h0m111-4h0m72 3h0m3-5h0m12 4h0m14 2h0m46-1h0m28-3h0m11 3h0m-69 5h0m-165 1h0m-23-1h0m-22-1h0m-14 0h0m-5 1h0m-12 3h0m-7 0h0m-53-4h0m-33 4h0m-16-1h0m-5 0h0m-23-3h0m-5 2h0m-21-2h0m-15-1h0m22 10h0m9 3h0m4 0h0m5-3h0m27-2h0m24 6h0m95 0h0m33-2h0m15 0h0m143-1h0m38-2h0m9-2h0m3 0h0m0 2h0m15 3h0m36-3h0m15 6h0m-47 0h0m-69 3h0m-30 0h0m-126-1h0m-29 5h0m-6-7h0m-9 2h0m-113 1h0m-2-2h0m-30 6h0m-30-7h0m-37 7h0m5 5h0m13-4h0m4 7h0m3-4h0m64-2h0m5 3h0m34-4h0m126 1h0m0 5h0m20-4h0m23 5h0m3-2h0m118-4h0m26 4h0m14-2h0m17 3h0m14 0h0m22-2h0m13-1h0m12-3h0m10 10h0m-40 4h0m-10-2h0m-8-2h0m-8-2h0m-10 1h0m-8 6h0m-4-1h0m-4 1h0m-11-4h0m-27-2h0m-179 0h0m-12 4h0m-4 0h0m-4-1h0m-3 0h0m-111-1h0m-12 0h0m-64 9h0m6 3h0m3 0h0m91-2h0m13 1h0m6-2h0m63-2h0m37 2h0m1-2h0m1 1h0m2 4h0m0-3h0m60 0h0m17-3h0m5 0h0m8 4h0m1 2h0m95-1h0m18-5h0m9-1h0m13 5h0m11 2h0m4 0h0m3-6h0m1-1h0m14 3h0m36 4h0m12-1h0m-55 4h0m-41 2h0m-13-4h0m-10 0h0m-13 6h0m-199-2h0m-90 2h0m-47-1h0m-15-4h0m-22-1h0m-17 6h0m-29 6h0m39 3h0m15-7h0m35 3h0m39 2h0m7-2h0m8-2h0m92-1h0m12 6h0m4-6h0m16 6h0m81-2h0m11-1h0m4 2h0m12-5h0m39 0h0m62 6h0m7 1h0m53 1h0m-55 0h0m0 5h0m-6 0h0m-14-2h0m-64 0h0m-29-3h0m-22 2h0m-2 0h0m-9 0h0m-18-2h0m-51 4h0m-11 1h0m-10-5h0m-1 2h0m-11 2h0m-2 3h0m-80-3h0m-19-3h0m-9 6h0m-27-5h0m-60-2h0m-21 0h0m-13 7h0m-13 1h0m2 3h0m10 2h0m109 1h0m8 1h0m0-1h0m2-3h0m93-2h0m36 2h0m40-1h0m64-1h0m2-1h0m12 4h0m32-1h0m29-3h0m57 6h0m20-2h0m36 9h0m-3-5h0m-110 6h0m-8-5h0m-3 2h0m-3 0h0m-47-3h0m-11 4h0m-109 1h0m-56 2h0m-38-1h0m-89-3h0m-56-2h0m-1 6h0m-23 7h0m89 1h0m14-2h0m3 2h0m1-6h0m149 1h0m6 3h0m12-5h0m1 2h0m8 3h0m10-4h0m2 6h0m58-2h0m16-4h0m17 4h0m60 1h0m31 1h0m11-2h0m27 1h0m21 0h0m9-2h0m6 3h0m7-4h0m-70 5h0m-4 3h0m-212 2h0m-85 0h0m-10 2h0m-7-7h0m-29 6h0m-137 1h0m49 7h0m76-2h0m1-2h0m4-1h0m3 1h0m39 1h0m25 0h0m5 3h0m6-4h0m9 4h0m91-1h0m7-2h0m19 1h0m79 0h0m8-3h0m6 1h0m77-1h0m11 0h0m0 5h0m1 0h0m19 4h0m-58-2h0m-122 4h0m-12 1h0m-4 2h0m-26-4h0m0 0h0m-12-3h0m-84 2h0m-15-2h0m-1 5h0m-2-4h0m-19 0h0m-18 3h0m-11 3h0m-4-1h0m-5 0h0m-1-3h0m-47-2h0m-4 3h0m-25 2h0m-9-6h0m-12 5h0m-3-1h0m-1-2h0m-19 1h0m-43 6h0m15-1h0m22 7h0m27-1h0m2-4h0m19 3h0m32-3h0m6 4h0m28-4h0m5 0h0m8-2h0m2 1h0m31-1h0m8 1h0m39-1h0m84 1h0m9 6h0m16-2h0m21 1h0m37-4h0m10 1h0m21 1h0m35 2h0m66-4h0m26 2h0m-133 9h0m-11 1h0m-153-4h0m-29-2h0m-1 5h0m-2-3h0m-5 3h0m-26 0h0m-3 1h0m-1-5h0m-42 6h0m-38-4h0m-7 3h0m-12 0h0m-31-5h0m-9-1h0m-28 6h0m-18-4h0m95 10h0m8-3h0m41 4h0m11-3h0m90 0h0m2 4h0m1-4h0m8 3h0m62 0h0m10 0h0m215 3h0m-2 7h0m-5-7h0m-2 0h0m-2 0h0m-1 5h0m-27-2h0m-35-1h0m-10 5h0m-13 0h0m-14 0h0m-19 0h0m-22-7h0m-14 3h0m-52-1h0m-9 0h0m-34 4h0m-30-1h0m-63-2h0m-40-1h0m-1-1h0m-11 3h0m-104 1h0m-23-1h0m37 5h0m159 4h0m0-1h0m5-2h0m28-2h0m22 4h0m12-4h0m19 4h0m99-4h0m44 5h0m29-1h0m1-3h0m47 0h0m3 6h0m14 0h0m7-3h0m5-2h0m-4 9h0m-21 1h0m-5-2h0m-7-2h0m-34 1h0m-34 2h0m-8 2h0m-2-1h0m-8-1h0m-42-3h0m-85 0h0m-52 7h0m-10-3h0m-19 1h0m-21-3h0m-11 5h0m-15-5h0m-1 5h0m-148 0h0m9 3h0m11-2h0m73 3h0m65 1h0m67-1h0m143 2h0m60-3h0m8-2h0m2 0h0m6 4h0m75-3h0m-5 8h0m-27 3h0m-27 3h0m-24-6h0m-14 2h0m-68-3h0m-1 3h0m-13-2h0m-22 0h0m-43 2h0m-108 0h0m-62 4h0m-71-6h0m-33 6h0m-2 1h0m97 0h0m10 0h0m7 3h0m156 2h0m27-4h0m18 4h0m42-2h0m2 3h0m43 0h0m42 1h0m10 0h0m15-2h0m21-2h0m6 4h0m11-6h0m17 12h0m-18-3h0m-9 3h0m-37-3h0m-96 1h0m-7-1h0m-11 4h0m-93-6h0m-9 0h0m-43 1h0m-2 0h0m-82 0h0m-3 0h0m-32 1h0m-97 6h0m4 0h0m8 4h0m22 1h0m35-1h0m88-4h0m45 6h0m4-6h0m47 3h0m6 1h0m3 2h0m78 0h0m26-4h0m27 3h0m11 0h0m0-3h0m4-1h0m4 4h0m2 2h0m81-2h0m53-5h0m-2 10h0m-61 0h0m0 1h0m-39-1h0m-17 2h0m-29-4h0m-3 7h0m-51-2h0m-83-5h0m-69 7h0m-10-3h0m0 3h0m-4-7h0m-2 6h0m-97-2h0m-2 1h0m-3-4h0m-63 3h0m70 4h0m46 0h0m3 7h0m15-1h0m0-6h0m37 5h0m88-2h0m1 4h0m7-3h0m8-1h0m4-1h0m68 0h0m5 2h0m2-3h0m53 0h0m7 0h0m23 2h0m6-3h0m3 2h0m9 0h0m2 1h0m6-3h0m6 2h0m2-2h0m45 5h0m-3 9h0m-17-1h0m-6-3h0m-7 5h0m-92 0h0m-104-3h0m-20-1h0m-12-2h0m-51 3h0m-83-1h0m-39 3h0m-4 1h0m-12 0h0m-17 2h0m27 0h0m9 0h0m16 4h0m1-3h0m69 1h0m37 3h0m68 0h0m7 1h0m5-5h0m15 3h0m45 1h0m10-5h0m23 6h0m31-4h0m26 2h0m17 0h0m54 10h0m-32-1h0m-12 1h0m-19-6h0m-6 0h0m-26 3h0m-28 0h0m-11 1h0m-29 0h0m-53 1h0m-3-5h0m-12-1h0m-15 3h0m-210 1h0m-13 3h0m-31-2h0m-11 3h0m12 1h0m6 1h0m8-2h0m7 6h0m7-3h0m8 0h0m125 1h0m5-4h0m10 3h0m13 0h0m96-1h0m10 0h0m38 0h0m83 0h0m6 3h0m10 2h0m3-3h0m52 1h0m10 6h0m-45-2h0m-149 1h0m-8 0h0m-6 1h0m-2 2h0m-34 1h0m-2-3h0m-24 3h0m-6-2h0m-52-2h0m-7 3h0m-68-2h0m-54-2h0m-46-1h0m35 8h0m16 0h0m11 4h0m9-4h0m60 4h0m11 2h0m38-5h0m17 6h0m34-5h0m6 2h0m3 0h0m44-1h0m27-1h0m31-1h0m15 0h0m71-1h0m60 13h0m-29 1h0m0-6h0m-3 4h0m-6-3h0m-36-1h0m-6 5h0m-9-5h0m-18 2h0m-131 0h0m-12 2h0m-4 0h0m-58-4h0m-6 5h0m-123 1h0m-19-3h0m72 11h0m79-1h0m3 2h0m17-1h0m49 0h0m131 1h0m20-6h0m92 6h0m3 4h0m-48 3h0m-16-6h0m-134 2h0m-45-2h0m-3 6h0m-12-1h0m-21 2h0m-148-6h0m-33 4h0m-8 4h0m20 2h0m9 4h0m10-6h0m1 6h0m49-5h0m54 0h0m11 2h0m14-4h0m15 0h0m37 5h0m9 0h0m94-1h0m27 2h0m18-2h0m43-3h0m-37 12h0m-138-2h0m-79 3h0m-11 1h0m-50-2h0m-5-3h0m-15-2h0m-12 3h0m-17 2h0m-3 2h0m-9-5h0m0 4h0m-4-2h0m-7 1h0m-22 6h0m26 1h0m8-4h0m63 1h0m1 1h0m11 4h0m37-2h0m3-4h0m12 1h0m159 4h0m2-5h0m26 7h0m-1 6h0m-4-3h0m-5 3h0m-49-4h0m-42 0h0m-20 6h0m-29-7h0m-3 7h0m0 0h0m-94-3h0m-20 0h0m-31 0h0m-17-3h0m-16-1h0m-6 1h0m0-1h0m16 14h0m1-6h0m69 4h0m124-4h0m26 0h0m96 0h0m2 0h0m-75 15h0m-51-2h0m-43 1h0m-65 0h0m-40-5h0m-41 11h0m0-2h0m7 4h0m50-1h0m3 1h0m46-6h0m17 5h0m22-1h0m59 4h0m-1 3h0m-49 0h0m-9 0h0m-77-1h0m-7 3h0m-22-1h0m-33-4h0m-3 3h0m14 9h0m51-2h0m42 0h0m26 3h0m40-2h0m8 0h0m3 4h0m1 1h0m-3 5h0m-1 2h0m-2-5h0m-71 0h0m-14 5h0m-26-5h0m-7 1h0m-14 1h0m-4 1h0m-26 7h0m17 2h0m29-4h0m60 1h0m1-3h0m30 5h0m16-2h0m12-1h0m-3 8h0m-37 3h0m-3-3h0m-3 3h0m-4-4h0m-22 2h0m-16 2h0m-21-5h0m-6 1h0m-2 0h0m-37 3h0m-12-2h0m36 9h0m29 2h0m51 1h0m24-5h0m-89 11h0m-3-4h0m4 12h0m21-1h0m11 0h0"/><path transform="scale(.25)" fill="none" stroke="#00BFC4" stroke-width="7.8" stroke-linecap="round" d="M0 0m1934 2161h0m-62 15h0m-37 22h0m-18 6h0m-77 6h0m82 21h0m-128 6h0m-9-5h0m119 14h0m3 0h0m25-5h0m-18 9h0m-93 4h0m311 33h0m-222-2h0m-37 4h0m0 5h0m23-5h0m20 21h0m-45 12h0m183 11h0m-17 12h0m-20 4h0m-107-3h0m-14 5h0m-51-2h0m-19 7h0m86 3h0m-35 6h0m-47 8h0m1 8h0m101 11h0m-88 4h0m109 17h0m-54 8h0m268 1h0m-394 2h0m-32 8h0m418 7h0m31-1h0m-316 9h0m-19-7h0m-11 8h0m7 1h0m406-1h0m-465 25h0m41 7h0m8 6h0m167 0h0m-200 7h0m-10 1h0m-55 8h0m93-3h0m199 17h0m-2 9h0m-119-3h0m-182 13h0m5-6h0m54 13h0m-10-2h0m-43 5h0m45 1h0m9-2h0m23 4h0m-3 4h0m-33 1h0m482 15h0m-379 4h0m37 16h0m284 17h0m-299 5h0m208 1h0m-139 20h0m193 6h0m-318 23h0m333 15h0m8-1h0m-153 16h0m-63 22h0m110 13h0m-206 3h0m-54 28h0m144-2h0m20 17h0"/><line x1="398.8" y1="526.0" x2="398.8" y2="718.2" stroke="#2a2a2a" stroke-width="1.2"/><line x1="398.3" y1="717.7" x2="564.7" y2="717.7" stroke="#2a2a2a" stroke-width="1.2"/><line x1="395.8" y1="531.0" x2="398.8" y2="531.0" stroke="#2a2a2a" stroke-width="1.0"/><text x="393.6" y="534.6" font-size="10.0" text-anchor="end" fill="#2a2a2a" stroke="#2a2a2a" stroke-width="0.22">5.0</text><line x1="395.8" y1="578.0" x2="398.8" y2="578.0" stroke="#2a2a2a" stroke-width="1.0"/><text x="393.6" y="581.6" font-size="10.0" text-anchor="end" fill="#2a2a2a" stroke="#2a2a2a" stroke-width="0.22">2.5</text><line x1="395.8" y1="625.0" x2="398.8" y2="625.0" stroke="#2a2a2a" stroke-width="1.0"/><text x="393.6" y="628.6" font-size="10.0" text-anchor="end" fill="#2a2a2a" stroke="#2a2a2a" stroke-width="0.22">0.0</text><line x1="395.8" y1="672.0" x2="398.8" y2="672.0" stroke="#2a2a2a" stroke-width="1.0"/><text x="393.6" y="675.6" font-size="10.0" text-anchor="end" fill="#2a2a2a" stroke="#2a2a2a" stroke-width="0.22">-2.5</text><line x1="428.8" y1="717.7" x2="428.8" y2="720.7" stroke="#2a2a2a" stroke-width="1.0"/><text x="428.8" y="731.8" font-size="10.0" text-anchor="middle" fill="#2a2a2a" stroke="#2a2a2a" stroke-width="0.22">-3</text><line x1="471.9" y1="717.7" x2="471.9" y2="720.7" stroke="#2a2a2a" stroke-width="1.0"/><text x="471.9" y="731.8" font-size="10.0" text-anchor="middle" fill="#2a2a2a" stroke="#2a2a2a" stroke-width="0.22">0</text><line x1="515.0" y1="717.7" x2="515.0" y2="720.7" stroke="#2a2a2a" stroke-width="1.0"/><text x="515.0" y="731.8" font-size="10.0" text-anchor="middle" fill="#2a2a2a" stroke="#2a2a2a" stroke-width="0.22">3</text><line x1="558.2" y1="717.7" x2="558.2" y2="720.7" stroke="#2a2a2a" stroke-width="1.0"/><text x="558.2" y="731.8" font-size="10.0" text-anchor="middle" fill="#2a2a2a" stroke="#2a2a2a" stroke-width="0.22">6</text><text x="481.4" y="744.9" font-size="11.3" text-anchor="middle" fill="#111" stroke="#111" stroke-width="0.22">UMAP_1</text><text x="370.4" y="621.7" font-size="11.3" text-anchor="middle" fill="#111" stroke="#111" stroke-width="0.22" transform="rotate(-90 370.4 621.7)">UMAP_2</text><text x="355.5" y="518.0" font-size="14" text-anchor="start" fill="#111" stroke="#111" stroke-width="0.22">F</text><circle cx="583.1" cy="618.1" r="3.3" fill="#F8766D"/><text x="596.3" y="621.6" font-size="9.8" text-anchor="start" fill="#111" stroke="#111" stroke-width="0.22">Tumor</text><circle cx="583.1" cy="631.3" r="3.3" fill="#00BFC4"/><text x="596.3" y="634.8" font-size="9.8" text-anchor="start" fill="#111" stroke="#111" stroke-width="0.22">Normal</text><rect x="59.70" y="818.40" width="35.78" height="33.16" fill="#FF0000" stroke="#B0B0B0" stroke-width="0.6"/><rect x="95.48" y="818.40" width="35.78" height="33.16" fill="#9999CC" stroke="#B0B0B0" stroke-width="0.6"/><rect x="131.26" y="818.40" width="35.78" height="33.16" fill="#333399" stroke="#B0B0B0" stroke-width="0.6"/><rect x="167.04" y="818.40" width="35.78" height="33.16" fill="#000080" stroke="#B0B0B0" stroke-width="0.6"/><rect x="202.82" y="818.40" width="35.78" height="33.16" fill="#FFEEEE" stroke="#B0B0B0" stroke-width="0.6"/><rect x="59.70" y="851.56" width="35.78" height="33.16" fill="#9999CC" stroke="#B0B0B0" stroke-width="0.6"/><rect x="95.48" y="851.56" width="35.78" height="33.16" fill="#FF0000" stroke="#B0B0B0" stroke-width="0.6"/><rect x="131.26" y="851.56" width="35.78" height="33.16" fill="#FFCCCC" stroke="#B0B0B0" stroke-width="0.6"/><rect x="167.04" y="851.56" width="35.78" height="33.16" fill="#EEEEF6" stroke="#B0B0B0" stroke-width="0.6"/><rect x="202.82" y="851.56" width="35.78" height="33.16" fill="#FFE4E4" stroke="#B0B0B0" stroke-width="0.6"/><rect x="59.70" y="884.72" width="35.78" height="33.16" fill="#333399" stroke="#B0B0B0" stroke-width="0.6"/><rect x="95.48" y="884.72" width="35.78" height="33.16" fill="#FFCCCC" stroke="#B0B0B0" stroke-width="0.6"/><rect x="131.26" y="884.72" width="35.78" height="33.16" fill="#FF0000" stroke="#B0B0B0" stroke-width="0.6"/><rect x="167.04" y="884.72" width="35.78" height="33.16" fill="#DCDCEC" stroke="#B0B0B0" stroke-width="0.6"/><rect x="202.82" y="884.72" width="35.78" height="33.16" fill="#E6E6F2" stroke="#B0B0B0" stroke-width="0.6"/><rect x="59.70" y="917.88" width="35.78" height="33.16" fill="#000080" stroke="#B0B0B0" stroke-width="0.6"/><rect x="95.48" y="917.88" width="35.78" height="33.16" fill="#EEEEF6" stroke="#B0B0B0" stroke-width="0.6"/><rect x="131.26" y="917.88" width="35.78" height="33.16" fill="#DCDCEC" stroke="#B0B0B0" stroke-width="0.6"/><rect x="167.04" y="917.88" width="35.78" height="33.16" fill="#FF0000" stroke="#B0B0B0" stroke-width="0.6"/><rect x="202.82" y="917.88" width="35.78" height="33.16" fill="#FF8080" stroke="#B0B0B0" stroke-width="0.6"/><rect x="59.70" y="951.04" width="35.78" height="33.16" fill="#FFEEEE" stroke="#B0B0B0" stroke-width="0.6"/><rect x="95.48" y="951.04" width="35.78" height="33.16" fill="#FFE4E4" stroke="#B0B0B0" stroke-width="0.6"/><rect x="131.26" y="951.04" width="35.78" height="33.16" fill="#E6E6F2" stroke="#B0B0B0" stroke-width="0.6"/><rect x="167.04" y="951.04" width="35.78" height="33.16" fill="#FF8080" stroke="#B0B0B0" stroke-width="0.6"/><rect x="202.82" y="951.04" width="35.78" height="33.16" fill="#FF0000" stroke="#B0B0B0" stroke-width="0.6"/><path fill="none" stroke="#4a4a4a" stroke-width="1.0" d="M113.4 818.4V801.0H149.2V818.4"/><path fill="none" stroke="#4a4a4a" stroke-width="1.0" d="M184.9 818.4V800.0H220.7V818.4"/><path fill="none" stroke="#4a4a4a" stroke-width="1.0" d="M131.3 801.0V792.7H202.9V800.0"/><path fill="none" stroke="#4a4a4a" stroke-width="1.0" d="M77.6 818.4V778.0H167.3V792.7"/><path fill="none" stroke="#4a4a4a" stroke-width="1.0" d="M59.7 868.1H42.7V901.3H59.7"/><path fill="none" stroke="#4a4a4a" stroke-width="1.0" d="M59.7 934.5H41.4V967.6H59.7"/><path fill="none" stroke="#4a4a4a" stroke-width="1.0" d="M42.7 885.2H34.5V951.2H41.4"/><path fill="none" stroke="#4a4a4a" stroke-width="1.0" d="M59.7 835.0H19.5V917.4H34.5"/><text x="241.3" y="837.7" font-size="7.6" text-anchor="start" fill="#333" stroke="#333" stroke-width="0.22">2</text><text x="74.9" y="986.5" font-size="7.6" text-anchor="start" fill="#333" stroke="#333" stroke-width="0.22" transform="rotate(90 74.9 986.5)">2</text><text x="241.3" y="870.9" font-size="7.6" text-anchor="start" fill="#333" stroke="#333" stroke-width="0.22">0</text><text x="110.6" y="986.5" font-size="7.6" text-anchor="start" fill="#333" stroke="#333" stroke-width="0.22" transform="rotate(90 110.6 986.5)">0</text><text x="241.3" y="904.0" font-size="7.6" text-anchor="start" fill="#333" stroke="#333" stroke-width="0.22">4</text><text x="146.4" y="986.5" font-size="7.6" text-anchor="start" fill="#333" stroke="#333" stroke-width="0.22" transform="rotate(90 146.4 986.5)">4</text><text x="241.3" y="937.2" font-size="7.6" text-anchor="start" fill="#333" stroke="#333" stroke-width="0.22">1</text><text x="182.2" y="986.5" font-size="7.6" text-anchor="start" fill="#333" stroke="#333" stroke-width="0.22" transform="rotate(90 182.2 986.5)">1</text><text x="241.3" y="970.4" font-size="7.6" text-anchor="start" fill="#333" stroke="#333" stroke-width="0.22">3</text><text x="218.0" y="986.5" font-size="7.6" text-anchor="start" fill="#333" stroke="#333" stroke-width="0.22" transform="rotate(90 218.0 986.5)">3</text><text x="7.2" y="763.2" font-size="14" text-anchor="start" fill="#111" stroke="#111" stroke-width="0.22">G</text><defs><linearGradient id="gg" x1="0" y1="0" x2="0" y2="1"><stop offset="0" stop-color="#FF0000"/><stop offset="0.5" stop-color="#FFFFFF"/><stop offset="1" stop-color="#000080"/></linearGradient></defs><rect x="250.9" y="817.9" width="7.1" height="115.2" fill="url(#gg)"/><text x="261.2" y="821.3" font-size="7.8" text-anchor="start" fill="#333" stroke="#333" stroke-width="0.22">1</text><text x="261.2" y="850.5" font-size="7.8" text-anchor="start" fill="#333" stroke="#333" stroke-width="0.22">0.95</text><text x="261.2" y="879.3" font-size="7.8" text-anchor="start" fill="#333" stroke="#333" stroke-width="0.22">0.9</text><text x="261.2" y="908.0" font-size="7.8" text-anchor="start" fill="#333" stroke="#333" stroke-width="0.22">0.85</text><line x1="285.9" y1="813.5" x2="376.0" y2="813.5" stroke="#3a3a3a" stroke-width="1.0"/><line x1="285.9" y1="852.2" x2="376.0" y2="852.2" stroke="#3a3a3a" stroke-width="1.0"/><line x1="285.9" y1="922.7" x2="376.0" y2="922.7" stroke="#3a3a3a" stroke-width="1.0"/><line x1="285.9" y1="981.2" x2="376.0" y2="981.2" stroke="#3a3a3a" stroke-width="1.0"/><text x="298.8" y="838.0" font-size="14.2" text-anchor="start" fill="#1a1a1a" stroke="#1a1a1a" stroke-width="0.22">MAC3</text><text x="298.8" y="893.1" font-size="14.2" text-anchor="start" fill="#1a1a1a" stroke="#1a1a1a" stroke-width="0.22">MAC2</text><text x="300.2" y="957.4" font-size="14.2" text-anchor="start" fill="#1a1a1a" stroke="#1a1a1a" stroke-width="0.22">MAC1</text><path transform="scale(.25)" fill="none" stroke="#F8766D" stroke-width="7.4" stroke-linecap="round" d="M0 0m2214 3213h0m0 1h0m-206 8h0m175 1h0m25-5h0m15 2h0m-3 5h0m-18 5h0m-105 0h0m-23 0h0m-3 1h0m-21-2h0m-4-2h0m-61 11h0m65-2h0m29-3h0m86 1h0m13 4h0m1-2h0m7 2h0m34-6h0m2 5h0m3 7h0m-32-2h0m-7 2h0m-26-2h0m-4-1h0m-33 1h0m-7 2h0m0 0h0m-28 3h0m-9 0h0m-32-5h0m-39-2h0m-32 4h0m-1 2h0m103 5h0m4 0h0m6-1h0m10 1h0m5-1h0m9-2h0m120 3h0m-80 10h0m-52-3h0m-28 2h0m-29-4h0m-2 1h0m-20 5h0m-72 3h0m18 6h0m44-7h0m13 4h0m33 3h0m2-1h0m1 0h0m17-5h0m54 4h0m65 7h0m-45 2h0m-65-1h0m-6 2h0m-17-4h0m-21-3h0m-46 2h0m-7 2h0m0 3h0m-12-1h0m-28-2h0m-3-3h0m55 7h0m8 0h0m95 2h0m26 0h0m68-1h0m-123 11h0m-8-2h0m-4 0h0m-26-1h0m-21 5h0m-42 9h0m41-4h0m50-2h0m51-1h0m5 4h0m47 6h0m-8-2h0m-44 1h0m-9 0h0m-9 2h0m-54 3h0m-65-1h0m-43-1h0m-8-1h0m42 7h0m86 2h0m9 1h0m52 1h0m13-3h0m20-2h0m16 6h0m115 3h0m-140-1h0m-21 2h0m-28-1h0m-23 4h0m-5-5h0m-7 4h0m-19 1h0m-30 8h0m21-2h0m19-2h0m18-1h0m169-1h0m26 4h0m1 0h0m-33 11h0m-21-2h0m-72-5h0m-3 2h0m-21 1h0m-19 1h0m-6-2h0m-35 1h0m-100-3h0m-45 9h0m15 4h0m154 2h0m9-6h0m6 3h0m15 3h0m9-2h0m23-3h0m136 1h0m0 2h0m5 10h0m-3 0h0m-6-1h0m-1-5h0m-1 0h0m-4 3h0m-1-2h0m-13-1h0m-58 0h0m-2 2h0m-75-1h0m-77 0h0m-23 4h0m-57-2h0m-29-4h0m-31 13h0m7-3h0m16-2h0m47 6h0m35 1h0m27 0h0m67-4h0m0 1h0m0 1h0m5 0h0m11 0h0m25-4h0m129 5h0m2-6h0m13 5h0m-4 6h0m-7 4h0m-14 0h0m-5-7h0m-1 5h0m-132 2h0m-27-6h0m-1 6h0m-4 0h0m-1-7h0m-9 1h0m-10 1h0m-15 2h0m-34-4h0m-41 5h0m-4-1h0m-49 2h0m-25-1h0m0 4h0m26-1h0m1 0h0m2 4h0m50 0h0m65 3h0m2 0h0m21-7h0m0 4h0m26 0h0m148-2h0m4 3h0m10 0h0m18-5h0m2 5h0m1-1h0m5 2h0m5 0h0m1-5h0m0 11h0m-7-3h0m-35 3h0m-10-3h0m-25 5h0m-87 1h0m-32-4h0m-77-2h0m-6-1h0m-8 5h0m-9-4h0m-5 5h0m-19-3h0m-41 0h0m-25-1h0m31 7h0m12-1h0m22 6h0m8-3h0m47 3h0m67 1h0m5-7h0m2 4h0m4 1h0m34-3h0m1 1h0m57 0h0m81 2h0m4-1h0m21-2h0m-23 13h0m-3-1h0m-52-1h0m-6 2h0m-2-1h0m-7 1h0m-58 0h0m-50-7h0m-3 1h0m-34 1h0m-9 0h0m-27-1h0m-75 3h0m-34-1h0m-9 5h0m68 0h0m60 2h0m4 4h0m3-1h0m16-4h0m65 2h0m10 2h0m30-2h0m8 2h0m26-2h0m8 0h0m65 8h0m-109-2h0m-31 2h0m-25 1h0m-9-4h0m-23 5h0m-15 0h0m-4-2h0m-23 2h0m-13-3h0m-3 1h0m-3 4h0m-3 0h0m-18-2h0m-21-1h0m-64 9h0m16-5h0m24 4h0m8 1h0m23-4h0m16 1h0m52 2h0m2 1h0m14 0h0m56-3h0m85 1h0m8-2h0m-112 10h0m-45 4h0m-14 0h0m-32-5h0m-19 1h0m-28 1h0m-2 3h0m-3-4h0m-19-3h0m-5 6h0m-22-5h0m-3 6h0m-13-7h0m-4 3h0m15 9h0m3 1h0m10-2h0m60-1h0m3 2h0m6 3h0m6-5h0m3 5h0m18-1h0m29-5h0m5 5h0m35-3h0m5 0h0m4-1h0m1 2h0m0-4h0m1 0h0m1 7h0m4-2h0m84-3h0m88 9h0m-13-3h0m-2 2h0m-91 2h0m-62 0h0m-6-4h0m-19 5h0m-11 1h0m-28 1h0m-60-1h0m-59-6h0m-2 1h0m-1 2h0m-9-2h0m9 12h0m10-1h0m41 2h0m19-6h0m3 1h0m45 5h0m57-2h0m168 2h0m1-3h0m7 1h0m5-1h0m-10 10h0m-1-3h0m-187-1h0m-9 4h0m-14 1h0m-9-1h0m-10-3h0m-131 3h0m40 5h0m22 0h0m62-2h0m34 4h0m174 3h0m-190 6h0m-33-5h0m-12 3h0m-1-2h0m-29 6h0m-23-1h0m-2-2h0m-13 1h0m-36-1h0m-5 6h0m8 1h0m45 2h0m24-5h0m5 6h0m2-2h0m8 2h0m3-1h0m2-2h0m7 1h0m6-3h0m23 6h0m232-5h0m30 7h0m-5 5h0m-286-1h0m-17-4h0m-10 0h0m-5 1h0m-4 4h0m-8-6h0m-3 1h0m-14 3h0m-36 11h0m17-4h0m68-3h0m8 1h0m1 2h0m5 3h0m25-3h0m214 7h0m-245-2h0m-16 6h0m-78-2h0m75 5h0m31 2h0m258 10h0m-52-4h0m-1 4h0m-171 1h0m-46-3h0m-58 0h0m-36-3h0m32 11h0m3-3h0m48 0h0m15 2h0m34 3h0m5-4h0m4 0h0m225 4h0m10 5h0m-15 0h0m-8 2h0m-45-3h0m-25 0h0m-157-1h0m-34 0h0m12 13h0m38 0h0m140 0h0m83-4h0m10 5h0m6 0h0m-8 9h0m-1-1h0m-47 1h0m-207-7h0m-9 12h0m8 0h0m241 2h0m-238 15h0m210 0h0m8 0h0m5 5h0m-25 3h0m-11-2h0m-9-2h0m-190 5h0m202 9h0m9-1h0m2-5h0m3 10h0m-179 2h0m-4 0h0m-43-2h0m224 10h0m-10 4h0m-26 4h0"/><path transform="scale(.25)" fill="none" stroke="#00BA38" stroke-width="7.4" stroke-linecap="round" d="M0 0m2096 3425h0m-2 19h0m5 11h0m-2-3h0m8 6h0m0 0h0m-8 7h0m-3 2h0m-1-3h0m-5 11h0m1 1h0m5-2h0m3-1h0m15 1h0m11 3h0m8-4h0m6 1h0m-10 6h0m-9 7h0m-5-7h0m-1 5h0m-9-1h0m30 7h0m37 11h0m-21 0h0m-6 0h0m-34 5h0m16 0h0m2 1h0m39 0h0m1 1h0m2 1h0m-21 6h0m-19-1h0m-13 4h0m-6 0h0m-3-1h0m-2-2h0m-3-1h0m-37 3h0m-29-2h0m66 9h0m38 0h0m2 0h0m1 2h0m17 8h0m-64-3h0m-21 2h0m-96 1h0m-86 5h0m49 2h0m2-4h0m8 5h0m3-2h0m16-5h0m45 1h0m18 4h0m135 0h0m1 0h0m12 10h0m-2-2h0m-29 1h0m-9 0h0m-14 1h0m-13 0h0m-61-1h0m-5 0h0m-13 1h0m-6-4h0m-47-1h0m-14 0h0m-27-2h0m-8 2h0m-11-1h0m-10 1h0m-28 13h0m35-6h0m11 3h0m12-2h0m9 3h0m56 2h0m8 0h0m11 0h0m9-4h0m17 0h0m74 3h0m1-5h0m2-1h0m7 4h0m4 0h0m8 1h0m4 2h0m7-2h0m28-2h0m-39 5h0m-3 5h0m-4 2h0m-12-5h0m-1 0h0m-1 1h0m-76 4h0m-1-3h0m-28 1h0m-6-4h0m-46 4h0m-8 0h0m-78 1h0m0 8h0m117 0h0m112 1h0m25-4h0m6-1h0m11-2h0m45 15h0m-22-7h0m0 0h0m-2 6h0m-12-3h0m-7 0h0m-87 0h0m-18-2h0m0-1h0m-80 0h0m-2 0h0m-37 4h0m-45-2h0m-11 10h0m7 0h0m51 3h0m39-5h0m41-1h0m43 2h0m0 4h0m30 0h0m6-5h0m53 1h0m48 12h0m-1-5h0m-7-2h0m-84 3h0m-8 4h0m-24-1h0m-5-5h0m-6 5h0m-81-4h0m-17 2h0m-27 3h0m-2-6h0m-2 1h0m-2 5h0m-6-3h0m-17-1h0m-23 3h0m-5 0h0m-14-4h0m63 12h0m5-4h0m7 1h0m27 3h0m11-6h0m4 6h0m5 0h0m76-4h0m10 0h0m23 4h0m4-2h0m10 1h0m35-4h0m55 2h0m13 1h0m2 9h0m-78-3h0m-14 1h0m-49 2h0m-21-5h0m-98 0h0m0 7h0m-15-6h0m-14 3h0m-5-3h0m-16-1h0m-3 6h0m-10-6h0m-10 9h0m70 2h0m5-1h0m17 2h0m55 0h0m15 1h0m32 2h0m25-6h0m52 3h0m50 0h0m10-1h0m-88 8h0m-2 0h0m-20 2h0m-12 2h0m-50-1h0m-16-3h0m-2 2h0m-73-4h0m-9 3h0m-1-3h0m-5 4h0m-4-2h0m-13-1h0m-24 1h0m-18 4h0m7 5h0m38-2h0m55-1h0m3 6h0m55-7h0m23 3h0m3 3h0m5-3h0m5 3h0m21-3h0m8 0h0m11 4h0m8-5h0m29 1h0m11-3h0m27 5h0m-55 8h0m-35-1h0m-135-1h0m-38 2h0m-24 1h0m9 3h0m53 0h0m57 4h0m37-5h0m5 5h0m65-4h0m4 4h0m43-5h0m25 15h0m-52-7h0m-40 7h0m-10-1h0m-3-4h0m-63 0h0m-34 4h0m-12 0h0m-27-6h0m-1 2h0m-35 0h0m-22 4h0m-2-2h0m15 10h0m44-6h0m58 7h0m6-6h0m82 6h0m42-1h0m20-4h0m3 4h0m32-6h0m7 6h0m2-3h0m-49 11h0m-41 0h0m-40 1h0m-50-1h0m-18-6h0m-93 5h0m-13-5h0m-14 2h0m-6 4h0m12 4h0m23 5h0m101-6h0m20 4h0m60 1h0m10-6h0m7 1h0m1 4h0m18-3h0m2-2h0m4 7h0m2-5h0m66-2h0m-33 15h0m-16-3h0m-155-3h0m-41 0h0m-2 1h0m-4 2h0m-34-2h0m-40-1h0m66 9h0m15 2h0m6-1h0m57 4h0m3-4h0m29-1h0m75 4h0m3 0h0m4-4h0m14-2h0m5 1h0m3 0h0m24 3h0m9 3h0m-20 8h0m-26-4h0m-1 4h0m-49-5h0m-4-1h0m-11-1h0m-94 7h0m-16 0h0m-2-3h0m-5 1h0m-13-4h0m-43 6h0m76 2h0m2 0h0m12-1h0m23 6h0m2 1h0m34 0h0m91-3h0m17-2h0m4 1h0m6 1h0m21-3h0m3 4h0m-11 9h0m-14-4h0m-57 4h0m-16-1h0m-8-1h0m-33 2h0m-116-6h0m-9 6h0m-6 1h0m-10-4h0m-2-1h0m-22 10h0m17 3h0m24-2h0m1 0h0m2 0h0m1 1h0m71 0h0m32-3h0m11-1h0m3 3h0m16-2h0m64 1h0m43 10h0m-41-4h0m-2 4h0m-31-4h0m-42-1h0m-6-1h0m-43 7h0m-13-4h0m-2-3h0m-30 1h0m-4 2h0m-36 0h0m-23-1h0m-3-1h0m39 9h0m120-1h0m58 0h0m64 0h0m10 1h0m20 12h0m-3-1h0m-44-1h0m-9 2h0m-6-5h0m-23-1h0m-1 5h0m-5-2h0m-6-1h0m-22-2h0m-21 7h0m-116-4h0m-3-3h0m-14 1h0m42 8h0m12 6h0m68-6h0m31 0h0m25 6h0m7-6h0m16 6h0m50-2h0m29 6h0m0-3h0m-22 4h0m-9 0h0m-5 3h0m-6-7h0m-38 7h0m-2-4h0m-5 3h0m-2-6h0m-28 3h0m-29 3h0m-11-1h0m-31 1h0m-24-1h0m-3-1h0m-31 3h0m-15 0h0m-32-7h0m11 9h0m6 6h0m8 0h0m3-3h0m29 1h0m2 0h0m28 1h0m56-2h0m71 1h0m14-3h0m12 4h0m3 0h0m-6 5h0m0 0h0m-10 4h0m-47 0h0m-24-4h0m-9-3h0m-6 6h0m-60-1h0m-24-2h0m-24 1h0m-2-2h0m-6 4h0m0-6h0m-20 10h0m10 5h0m9-1h0m20-1h0m3-2h0m43 1h0m5 2h0m38 0h0m11 1h0m58-1h0m40-3h0m-20 5h0m-32 1h0m-1 1h0m-48 3h0m-108 3h0m33 2h0m47-1h0m20 1h0m28 5h0m25-2h0m4-4h0m91 3h0m-16 4h0m-78 6h0m-5-2h0m-12 1h0m-3 2h0m-19-1h0m-13-6h0m-23 1h0m-30 5h0m-63 7h0m12-5h0m49 2h0m6 3h0m7-2h0m4-2h0m16 5h0m21-4h0m24 0h0m70 2h0m-5 10h0m-11-5h0m-21 6h0m-100-2h0m-17 7h0m58 3h0m61-7h0m7 5h0m1 1h0m8 1h0m-45 8h0m-12-7h0m-17 5h0m-15 0h0m-23-1h0m-6-2h0m-20 1h0m-5 9h0m27 1h0m2-4h0m22 0h0m4 4h0m8-1h0m4 0h0m27-3h0m14 11h0m-5-1h0m-65-1h0m-13-1h0m-45 2h0m55 8h0m34 3h0m13-6h0m15 3h0m-67 8h0"/><path transform="scale(.25)" fill="none" stroke="#619CFF" stroke-width="7.4" stroke-linecap="round" d="M0 0m2307 3364h0m2 19h0m17 0h0m16 8h0m-1-2h0m-19 4h0m3-1h0m16 0h0m2 4h0m4 4h0m-8 1h0m-15 5h0m-4-3h0m-20 3h0m-10-2h0m20 9h0m17-3h0m42 7h0m-46 6h0m-7-7h0m-12 14h0m12-1h0m3 1h0m54-5h0m4 8h0m-16 3h0m-23 2h0m-36-6h0m-11 9h0m54-1h0m-10 10h0m-44 7h0m28 4h0m11 0h0m26-4h0m33 1h0m15 4h0m-11 4h0m-6 3h0m-72 2h0m-26-3h0m-4-4h0m19 10h0m2 3h0m8-5h0m72 2h0m4-1h0m35 14h0m-7-5h0m-2 4h0m-5-5h0m-1 5h0m-2-1h0m-54-2h0m-8 3h0m-43-4h0m46 9h0m6 2h0m28-1h0m28 9h0m-15 1h0m-7 1h0m-18-6h0m-22 3h0m-27-2h0m-10 10h0m0 1h0m6-2h0m8-1h0m6 4h0m13-5h0m45 6h0m2-1h0m13 1h0m4-2h0m15-3h0m7 1h0m4-1h0m5 2h0m-15 6h0m0 2h0m-13 1h0m-9-4h0m-6 2h0m-3 1h0m-2 3h0m-23-6h0m-3 4h0m-1-1h0m-6 1h0m-13 0h0m-1-5h0m-3 7h0m-4-7h0m-27 4h0m21 10h0m8-3h0m8 1h0m2-1h0m8 0h0m4-1h0m1 0h0m24-2h0m2 4h0m0-1h0m14 3h0m16-6h0m-31 12h0m-45-2h0m-11 0h0m-15 2h0m17 4h0m52 1h0m51 9h0m-3 2h0m-29 2h0m-1-6h0m-23 3h0m-31-1h0m-13 3h0m-5-1h0m-2 2h0m-2-1h0m-31 1h0m-3-1h0m40 6h0m1-2h0m72 5h0m21-3h0m12-2h0m-8 10h0m-26 2h0m-29-5h0m-21 0h0m-12 7h0m-10 0h0m-38-6h0m34 14h0m2 0h0m16-4h0m73 4h0m9-2h0m12-1h0m-43 7h0m-27-2h0m-4 3h0m-70 11h0m6-6h0m5 0h0m81 0h0m12 4h0m1 0h0m21-1h0m6 1h0m-29 4h0m-6 0h0m-3 0h0m-79 5h0m-2-6h0m-24 5h0m-2 1h0m1 5h0m3-3h0m59 2h0m74 2h0m-10 10h0m-50 1h0m-91 5h0m82 2h0m68 1h0m9 0h0m-12 3h0m-1 2h0m-11-4h0m-9 3h0m-94 4h0m-4-1h0m-16-2h0m-6 3h0m44 5h0m14 1h0m16-1h0m39 3h0m4-1h0m7 0h0m5 1h0m17-4h0m-4 9h0m-2-3h0m-33 5h0m-20-2h0m-21 0h0m-4 3h0m-32 0h0m-64 0h0m6 8h0m2 0h0m69-7h0m6 5h0m0-3h0m21 3h0m54 1h0m2 1h0m14-6h0m3-1h0m-13 15h0m-8-3h0m-11 3h0m-1-5h0m-28 4h0m-39-2h0m-39 1h0m-41 1h0m4 9h0m12-6h0m40 6h0m36 0h0m37-4h0m5 0h0m5 2h0m17 0h0m10 2h0m3-4h0m8 0h0m6 8h0m-82 2h0m-49 2h0m-4 0h0m-11-7h0m-14 1h0m-4 3h0m-3-4h0m-11 4h0m0 1h0m10 9h0m29-1h0m0-2h0m4 2h0m4-1h0m5-2h0m1 2h0m8-3h0m5 3h0m19 3h0m13-6h0m27 6h0m30-2h0m-116 9h0m-4-2h0m-4-1h0m-40 11h0m13-5h0m64-1h0m4 4h0m17-4h0m31 2h0m1-2h0m1 3h0m44-1h0m3 0h0m5-1h0m4 1h0m-12 8h0m-17 0h0m-41 5h0m-16-5h0m-2-1h0m-40 0h0m-13-1h0m-7 5h0m-8 2h0m-6-1h0m-25 1h0m9 4h0m18 3h0m72-5h0m8 4h0m67-5h0m19 4h0m6-4h0m-61 10h0m-12 1h0m-19-3h0m0 1h0m-67 4h0m-10-1h0m-23-3h0m14 8h0m76-1h0m26 7h0m0-2h0m46 2h0m-17 5h0m-54-3h0m0 0h0m-16 2h0m-68-2h0m-8 4h0m115 10h0m11-4h0m4-2h0m11 2h0m4-1h0m4 12h0m-2-6h0m-67 3h0m-13 0h0m-3 0h0m-35 1h0m9 6h0m52 1h0m15 5h0m-52 7h0m-44-3h0m-8-1h0m11 10h0m3-1h0m3 0h0m9 3h0m3 0h0m5-7h0m7 5h0m15-3h0m2 5h0m27-7h0m10 5h0m-55 5h0m-9 4h0m-1 0h0m-11-6h0m-19 9h0m31 1h0m2 5h0m1 0h0"/><path transform="scale(.25)" fill="none" stroke="#F8766D" stroke-width="7.4" stroke-linecap="round" d="M0 0m2185 3210h0m-20 10h0m8-3h0m9 0h0m37 13h0m-14 1h0m-1-4h0m-18 1h0m-9 1h0m-131 2h0m-47 2h0m46-1h0m7 1h0m14 0h0m138 3h0m-16 8h0m-16 0h0m-1 0h0m-5-4h0m-7 0h0m-60 4h0m-12 1h0m-74 1h0m41 2h0m39 5h0m91-5h0m18 7h0m2-4h0m-104 5h0m-4 2h0m-14 2h0m-25 7h0m3 4h0m5-1h0m2-2h0m7-3h0m29 2h0m8-2h0m8 1h0m10 5h0m2 0h0m1-1h0m12 1h0m-20 2h0m-5-1h0m-2 5h0m-39 0h0m-15 1h0m-71-5h0m-15 2h0m-12 0h0m-11 3h0m-6-5h0m1 14h0m5-4h0m14-2h0m51 0h0m24 3h0m15-3h0m34 5h0m21-1h0m7-1h0m12 2h0m29 9h0m-89-3h0m-1 1h0m-144 5h0m4 1h0m1 4h0m0-6h0m23-1h0m11 1h0m20 6h0m92-6h0m7 4h0m146 6h0m-69 2h0m-30-1h0m-9 2h0m-13 1h0m-39-6h0m-3 2h0m-1-3h0m-8 7h0m-9 0h0m-61-4h0m-7-2h0m-22-1h0m-28 15h0m31 0h0m96-7h0m12 0h0m42 2h0m15-1h0m29-1h0m127 4h0m1 3h0m-2 3h0m-8 4h0m-5 1h0m-16-4h0m-2 4h0m-31-5h0m-20 4h0m-73-4h0m-77 2h0m-18 0h0m-116 2h0m-1-5h0m1 9h0m2 2h0m75 2h0m15 0h0m14-1h0m31-4h0m45 1h0m1-1h0m18-1h0m11 4h0m2 1h0m26 2h0m85-5h0m18 5h0m5-3h0m3 6h0m0 0h0m-8 4h0m-1-3h0m-142 3h0m-30 0h0m-40-4h0m-5 4h0m-16-2h0m-13 1h0m-22 1h0m-2 1h0m-34-2h0m-22-1h0m-1 0h0m46 5h0m71 5h0m13-6h0m17 5h0m15-1h0m0 1h0m16-3h0m31 4h0m7 1h0m87-2h0m31-2h0m4-2h0m1 3h0m3 9h0m-28-5h0m-12 2h0m-1 1h0m-5-1h0m-119 3h0m-7 0h0m-49-5h0m-27 3h0m-18 1h0m-71 2h0m-35 4h0m33 3h0m158 0h0m21 1h0m4-2h0m4 0h0m108 1h0m48 5h0m-5 4h0m-17-6h0m-1 0h0m-5 0h0m-100 5h0m-23-3h0m-7 2h0m-18-1h0m-1 0h0m-21-2h0m-12 4h0m-24-1h0m-1 3h0m-63 0h0m-6 0h0m-2 0h0m-2-7h0m-64 7h0m6 2h0m11 5h0m2-5h0m39 1h0m13 2h0m13 1h0m2 2h0m1-7h0m9 1h0m36 4h0m20 1h0m2 1h0m10-1h0m14-1h0m29-1h0m5-4h0m56 0h0m54 2h0m22 0h0m22 4h0m20-5h0m3 9h0m-49 3h0m-3-3h0m-32-1h0m-88-1h0m-12 2h0m-21-1h0m-110 0h0m-26 6h0m-55-4h0m62 12h0m9-2h0m50-5h0m18 1h0m37 2h0m4 4h0m9-3h0m1 1h0m32 0h0m72 0h0m65-2h0m-61 7h0m-49-2h0m-6 7h0m-11-4h0m-5-2h0m-29 0h0m-10 4h0m-37-1h0m-22-3h0m-26 0h0m-11 0h0m-32 0h0m-11 3h0m-1 0h0m-36-3h0m-6 2h0m-9-3h0m-4 10h0m0 3h0m2-4h0m5 3h0m0 1h0m101 1h0m9 1h0m9-7h0m4 7h0m87-1h0m9-4h0m44 4h0m5-2h0m21 3h0m17-5h0m60 0h0m3 2h0m9 3h0m10 3h0m-90-2h0m-1 6h0m-1 1h0m-26-3h0m-15-4h0m-17 6h0m-28-4h0m-4 1h0m-20 4h0m-49-6h0m-15 5h0m-33-1h0m-16 2h0m-42-6h0m-33 6h0m-2-3h0m2 6h0m6-1h0m17 2h0m27 2h0m12-4h0m1 3h0m22 2h0m64 1h0m64-3h0m114-4h0m52 0h0m-86 15h0m-83-6h0m-13 0h0m-41-1h0m-4 2h0m-4 5h0m-15-4h0m-40-1h0m-8 4h0m-10-1h0m-25 2h0m-17-1h0m-18-2h0m-4 0h0m-12 11h0m2-1h0m2-6h0m16 1h0m10 2h0m6-2h0m49 6h0m2-7h0m8 7h0m5-3h0m36 0h0m56-3h0m9 0h0m-10 11h0m-1 2h0m-6-6h0m-18 5h0m-7-1h0m-41 2h0m-24-1h0m-11-2h0m-1-3h0m-8 7h0m-6 0h0m-49 0h0m-18-5h0m-2-2h0m-12 3h0m49 11h0m41-4h0m50 2h0m14 2h0m10-3h0m198 1h0m12 5h0m-10 6h0m-44 0h0m-155-1h0m-26-6h0m-84 0h0m-15 3h0m-2 8h0m31 1h0m28-2h0m9 4h0m251-2h0m22 0h0m-182 5h0m-34 2h0m-48 2h0m-13-3h0m-19 2h0m-16-3h0m-65 4h0m4 4h0m30 1h0m30 5h0m16-5h0m6 4h0m23-1h0m29 0h0m19 0h0m7-4h0m12 4h0m199-1h0m-76 4h0m-141 3h0m-19 0h0m-32 3h0m-37-2h0m-30 2h0m-12 1h0m-24-2h0m13 10h0m21 0h0m46-7h0m12 7h0m4-1h0m1-3h0m4-1h0m237 3h0m-7 6h0m-34 0h0m-191 3h0m-8-4h0m-17-2h0m-16 4h0m-40-2h0m-31 4h0m1 5h0m10-1h0m72 0h0m66 4h0m202-1h0m-1 3h0m-32 2h0m-207-1h0m-66 0h0m-3 0h0m-3 7h0m81 3h0m248-1h0m11 5h0m-6 6h0m-21-2h0m-55 3h0m-185-2h0m-17 8h0m16-3h0m26 3h0m2 1h0m10 0h0m200 1h0m21-4h0m2 0h0m12 7h0m-6 4h0m-42 0h0m-206-5h0m-19 6h0m-9 8h0m291-4h0m-62 6h0m-226 0h0m16 15h0m5-5h0m252 1h0m13-3h0m-31 13h0m-29 2h0m-13-4h0m-2 0h0m-165-3h0m0 6h0m-63 3h0m3 3h0m2 3h0m9-6h0m5 3h0m38-4h0m179 2h0m12 3h0m15 3h0m-14 5h0m-11-5h0m-1 7h0m-200-6h0m-19 1h0m-6 4h0m-12 0h0m44 7h0"/><path transform="scale(.25)" fill="none" stroke="#00BA38" stroke-width="7.4" stroke-linecap="round" d="M0 0m2089 3431h0m5-2h0m10 6h0m-2 7h0m3 0h0m11 7h0m-14-1h0m-3 0h0m0 14h0m41 2h0m-5 0h0m-37 1h0m0 3h0m-11-3h0m-2 1h0m-1-2h0m23 12h0m20-1h0m13-1h0m5 13h0m-25-7h0m-21 9h0m2-1h0m4 6h0m1-2h0m3 3h0m58 7h0m-1 1h0m-13-3h0m-5-4h0m-10 1h0m-20 4h0m-5 6h0m7 0h0m6 1h0m31-1h0m-7 7h0m-6 3h0m-14-1h0m-158 9h0m131-5h0m14 3h0m1-3h0m1 0h0m21 7h0m7-7h0m11 14h0m-5-2h0m-6-3h0m-24 1h0m-20-2h0m-70 1h0m-17 5h0m-36-5h0m-14 2h0m-79 4h0m46 2h0m4 4h0m11-5h0m2 0h0m22 1h0m6 3h0m4 0h0m1 0h0m4 1h0m36 1h0m18-3h0m1 2h0m5 2h0m0-5h0m4 4h0m1-5h0m106 5h0m7 8h0m-13-6h0m-11 2h0m-4 2h0m-11-2h0m-88 2h0m-5 2h0m-83 1h0m-12-6h0m-1 0h0m-9 2h0m-7-2h0m-12 6h0m-12-3h0m0 0h0m-1 10h0m3 1h0m16-3h0m25-4h0m61 5h0m120-2h0m13 3h0m4-3h0m9-1h0m-4 12h0m-76-2h0m-1 1h0m-14-2h0m-43 2h0m-7-5h0m-89 3h0m-8 2h0m-21 0h0m-7-1h0m-1 9h0m30-4h0m16 1h0m56 5h0m25-1h0m46-6h0m6 3h0m17-1h0m45-2h0m13 5h0m15 1h0m10-6h0m5 7h0m6-1h0m15-3h0m-2 5h0m-24 3h0m0-3h0m-82 4h0m-21 1h0m-3 0h0m-5-5h0m-1 4h0m-15-1h0m-5 4h0m-41-3h0m-31 2h0m26 3h0m42 6h0m1-5h0m38 5h0m35-3h0m1 2h0m2-4h0m2 1h0m1 4h0m101 4h0m-111-3h0m-119 3h0m-40 2h0m-6 0h0m-1-3h0m-36 1h0m-8 5h0m22 7h0m19-4h0m4 1h0m6 3h0m4-7h0m3 3h0m8 4h0m13-3h0m18 0h0m0 1h0m2-2h0m0 3h0m30-3h0m13 4h0m41-7h0m17 6h0m30-5h0m-1 9h0m-1 2h0m-2-2h0m-84 2h0m-45-3h0m-1 1h0m-40-1h0m-51 5h0m0 6h0m31-2h0m70 1h0m42-1h0m13-1h0m63 0h0m10 2h0m18 1h0m1 3h0m37-4h0m32 2h0m9 7h0m-81-2h0m-4 5h0m-49-2h0m-43-4h0m-63 1h0m-3 3h0m-49-1h0m-14 2h0m-14 0h0m42 2h0m11 0h0m14 4h0m33-3h0m103 6h0m24-1h0m21-6h0m2 3h0m7 2h0m60-5h0m5 2h0m-101 6h0m-64 6h0m-33-2h0m-114-1h0m56 9h0m32 0h0m4-3h0m36 0h0m47 1h0m37 1h0m39-3h0m30 6h0m-6 4h0m-61 5h0m-14-6h0m-34 0h0m-3 2h0m-36-2h0m-15-1h0m-7 6h0m-1-1h0m-16-2h0m-53 2h0m-2-1h0m-16 6h0m41 5h0m48-6h0m5 0h0m2 6h0m4-4h0m48 3h0m32 1h0m99 0h0m7-1h0m6-4h0m1 11h0m-20-3h0m-63 4h0m-114-3h0m-1 2h0m-33-5h0m-13 3h0m-57 6h0m42 1h0m7 4h0m36-5h0m22 5h0m47-1h0m54-4h0m28 2h0m62 1h0m-91 5h0m-39 3h0m-6-2h0m-55 3h0m-4 0h0m-30 0h0m-15-1h0m-2 1h0m-1-4h0m-4 4h0m-69 1h0m51 4h0m73 2h0m34-4h0m108 4h0m8-2h0m3 4h0m16 3h0m-6 4h0m-55-3h0m-139 0h0m-7 1h0m-5 2h0m-18-2h0m-9 3h0m41 9h0m61-1h0m39-2h0m18-1h0m23-1h0m31-1h0m1 6h0m45 4h0m-15-1h0m-65 4h0m-29 1h0m-13 0h0m-14 0h0m-13 0h0m-8 0h0m-4-5h0m-52 1h0m-29-1h0m-21 5h0m-3-6h0m-2 2h0m-17 1h0m-8 2h0m-3 1h0m-3-2h0m-3-4h0m5 7h0m23 5h0m56-4h0m29 6h0m10-3h0m36 1h0m6-5h0m21 5h0m40 2h0m38-5h0m15 2h0m7 3h0m7 0h0m-2 6h0m-16-5h0m-43 2h0m-3 3h0m-7-4h0m-70-1h0m-25 3h0m-11 0h0m-6-2h0m-16 0h0m-29-1h0m-13 7h0m-56-5h0m28 9h0m42 1h0m169-4h0m1 7h0m1-1h0m46-5h0m-20 8h0m-1 6h0m-92-3h0m-57 1h0m-50 2h0m-54-4h0m22 5h0m28 2h0m6 2h0m1 3h0m26-5h0m6-1h0m1 3h0m44-1h0m8-2h0m88 2h0m6-3h0m0 5h0m2-4h0m10 3h0m67 0h0m1-4h0m-26 12h0m-13-3h0m-5-1h0m-27 7h0m-10-2h0m-2 2h0m-3-1h0m-172-5h0m-1 0h0m-4 6h0m-21-7h0m-3 3h0m13 10h0m1-4h0m12 0h0m36 4h0m25 0h0m72 2h0m46-7h0m16 1h0m3 8h0m-9 0h0m-27 5h0m-8 1h0m-37-7h0m-9 6h0m-4-2h0m-44 0h0m-1-1h0m-10-3h0m-45 1h0m-8-1h0m-1 5h0m0-3h0m-23 8h0m6 0h0m16 1h0m2 4h0m5-7h0m9 7h0m35-2h0m25-5h0m85 7h0m21-3h0m2 2h0m24 0h0m20 0h0m30-3h0m-30 8h0m-17-1h0m-16-2h0m-32 1h0m-13 2h0m-38-3h0m-67 0h0m-31 5h0m-5-3h0m-15 5h0m37 7h0m25-2h0m23 3h0m2-5h0m1 4h0m63-5h0m18 6h0m4-7h0m20 6h0m6 0h0m31-2h0m3 2h0m22-6h0m-16 13h0m-63-1h0m-29-1h0m-65 0h0m-73 4h0m-7 1h0m7 0h0m22 2h0m12 2h0m0 1h0m57 1h0m40-4h0m58-2h0m-10 12h0m-7-3h0m-15 5h0m-94-2h0m-8 0h0m-3 1h0m-14 2h0m-5 8h0m27-4h0m43 0h0m3-1h0m11 4h0m14-2h0m49 1h0m13 2h0m-13 3h0m-3 5h0m-14-7h0m-24 1h0m-81 5h0m-7-3h0m-35 4h0m-1-3h0m-2 5h0m46 3h0m5 3h0m3-7h0m5 2h0m1-1h0m36 2h0m28 3h0m0-4h0m3 3h0m20 4h0m-12 2h0m-3 4h0m-10-6h0m-70 10h0m69 3h0m1-2h0m4-3h0m-73 8h0"/><path transform="scale(.25)" fill="none" stroke="#619CFF" stroke-width="7.4" stroke-linecap="round" d="M0 0m2305 3373h0m12 16h0m-20 10h0m30-5h0m15 1h0m-2 7h0m-1 2h0m-3-1h0m-8-3h0m-4 4h0m-2-3h0m-15 6h0m22 11h0m-12 2h0m-11 3h0m7 3h0m35-1h0m9 6h0m26-2h0m1-5h0m-25 8h0m-15 1h0m-2 0h0m0 4h0m-6-1h0m-31-4h0m-1 1h0m-4 3h0m-8 3h0m24 4h0m20-3h0m2 1h0m6 1h0m14 2h0m13-4h0m29 15h0m-10-4h0m-63 3h0m-37-1h0m119 4h0m5 8h0m-76 1h0m-38 5h0m12 5h0m45 2h0m50 1h0m4-6h0m3 1h0m3 2h0m-28 10h0m0-5h0m-20 2h0m-14 3h0m-7 1h0m-16-4h0m-2 2h0m-22-3h0m45 9h0m3 1h0m52 1h0m44 9h0m-43-4h0m-5 5h0m-57 0h0m-41-1h0m-3-4h0m35 10h0m10 1h0m4-2h0m1 3h0m49-3h0m4 3h0m-32 9h0m-30-4h0m-2 3h0m-14-2h0m-18 11h0m38-5h0m6 0h0m3 1h0m1 1h0m26 2h0m4-2h0m5-2h0m7-2h0m6 0h0m35 4h0m-1 5h0m-19 4h0m-12-3h0m-13 2h0m-5-3h0m-5 0h0m-32-1h0m-40 10h0m42 1h0m6-1h0m8-1h0m12 14h0m-1-3h0m-5-4h0m-15 5h0m-19 2h0m-45-3h0m2 8h0m75 2h0m13-5h0m15 1h0m39 12h0m-94 0h0m-4-2h0m-5-2h0m-2-2h0m-4 6h0m-10-4h0m-5 2h0m27 4h0m28 6h0m27 1h0m25-1h0m10 3h0m-13 1h0m-33 3h0m-17-2h0m-7 1h0m-40-3h0m-24 1h0m-11 11h0m26-2h0m97-2h0m10 6h0m13 6h0m-2-3h0m-1 0h0m-5-1h0m-3 1h0m-15-1h0m-84 4h0m-17 6h0m7-1h0m28 4h0m26-2h0m11 0h0m27-4h0m2 2h0m14 0h0m-13 13h0m-17-5h0m-28 3h0m-10 1h0m-13-4h0m-40 2h0m-11 1h0m-16-3h0m73 13h0m10 0h0m20-3h0m31-3h0m7 2h0m0 8h0m-1 1h0m-7-4h0m-13 5h0m-5-3h0m-1-1h0m-3 1h0m-101 1h0m-18 1h0m1 10h0m10-2h0m47-3h0m18 1h0m2 0h0m1 0h0m6 1h0m47-3h0m29 1h0m-4 9h0m-9 2h0m-13-1h0m-31 2h0m-15-5h0m-9 7h0m-5-5h0m-4 4h0m-8 0h0m-7-1h0m-7-1h0m-37-1h0m134 6h0m-1 9h0m-10 1h0m-80-2h0m-69 2h0m0-2h0m-4 10h0m7-2h0m2 3h0m22 3h0m21-3h0m42 1h0m10 0h0m15-2h0m38-1h0m21 6h0m-18 1h0m-3-1h0m-71 2h0m-40-2h0m-1 4h0m-21 0h0m-7-1h0m-42 9h0m28 0h0m6-1h0m40 3h0m8-4h0m40-2h0m70 6h0m-13 3h0m-34 5h0m-3 1h0m-6-2h0m-8 2h0m-9-3h0m-25 2h0m-1-5h0m-6 5h0m-1-4h0m-51 4h0m-2-5h0m-6 5h0m-21-4h0m24 10h0m60 1h0m73 1h0m15 6h0m-7 3h0m-24-6h0m-27 2h0m-67-2h0m-23 5h0m5 8h0m81-4h0m10 0h0m2 0h0m64 3h0m11-2h0m-20 8h0m-74 3h0m-10 0h0m0 1h0m-81-1h0m-1-3h0m-1 3h0m-4-6h0m-2 5h0m4 8h0m30 2h0m36-5h0m17-1h0m8-1h0m1 2h0m7 5h0m5 0h0m43-1h0m-8 2h0m-64 1h0m-40 6h0m-15-3h0m42 7h0m6-3h0m2 3h0m44 2h0m2-4h0m30 9h0m-106 2h0m-20 9h0m16-4h0m3 0h0m20 6h0m3-6h0m15 5h0m16-3h0m1 3h0m12 6h0m-6-1h0m-4 2h0m-56-2h0m-30 2h0m62 5h0m17 3h0m-67 6h0m-8 2h0m19 7h0m21-4h0m5 0h0m-27 8h0"/><path transform="scale(.25)" fill="none" stroke="#F8766D" stroke-width="7.4" stroke-linecap="round" d="M0 0m2206 3208h0m-18 6h0m-15 0h0m-28 8h0m17 1h0m7 0h0m17-6h0m1 1h0m19 0h0m5 5h0m-19 8h0m-104 0h0m-49 8h0m15-5h0m112 1h0m16 2h0m6-3h0m2 0h0m1 5h0m25 0h0m3-4h0m-17 9h0m-19-3h0m-1-1h0m-18 0h0m-1 4h0m-2 3h0m-81-6h0m-22 3h0m-35-4h0m-39 5h0m-20 5h0m31 4h0m117-5h0m83-1h0m-63 9h0m-2 3h0m-6 3h0m-30-1h0m-45-1h0m-100 4h0m75 2h0m33 3h0m46-6h0m13 7h0m15-7h0m4 7h0m11-2h0m77-5h0m-4 8h0m-7 7h0m-49-5h0m-10 5h0m-3-2h0m-8 1h0m-24-6h0m-8 1h0m-32 1h0m-70 4h0m-16-6h0m-10 5h0m-5-2h0m-1 2h0m-18 7h0m23-3h0m118 1h0m-11 8h0m-2 2h0m-19-2h0m-25 0h0m-10 3h0m-15-5h0m-55 6h0m-7-5h0m-18 4h0m-7 4h0m4 4h0m1-5h0m26 2h0m26-2h0m0 6h0m19-5h0m1 3h0m58 2h0m4 0h0m14 1h0m3 0h0m74-5h0m4 3h0m99 2h0m6-3h0m6 11h0m-139-4h0m-69 2h0m-7 2h0m-4-4h0m-122 4h0m11 5h0m6-4h0m87 6h0m9-1h0m3 0h0m2 2h0m54-2h0m45-4h0m128 0h0m7 2h0m-6 11h0m-9-6h0m-9 5h0m-27-4h0m-127 0h0m-10-1h0m-35 2h0m-12-2h0m-145 6h0m151 8h0m70-6h0m4 0h0m137 15h0m-2-6h0m-131 2h0m-4 3h0m-73-6h0m-1 3h0m-53-1h0m-32 2h0m-71 1h0m44 9h0m1 1h0m8-5h0m6 3h0m29 0h0m59 1h0m4-1h0m39-4h0m148 5h0m36 7h0m-26-2h0m-3 3h0m-141 1h0m-3-7h0m-47 5h0m-146 4h0m163 3h0m37-1h0m0 4h0m141-4h0m6 1h0m4 0h0m10 11h0m-15-3h0m-1-2h0m-127 2h0m-67 3h0m-2-2h0m-5 2h0m-32-4h0m-24 2h0m-4 2h0m-24-3h0m-2 1h0m-38-1h0m-15 5h0m54 4h0m11-5h0m25 0h0m64 7h0m12-7h0m14 2h0m4-1h0m86 0h0m2 2h0m30-2h0m84 7h0m-32 1h0m-1 2h0m-19-1h0m-11 1h0m-115 3h0m-26 0h0m-6-1h0m0 0h0m-5-2h0m-35 0h0m-6 2h0m-1-2h0m-3 0h0m-1 4h0m-44-3h0m-38 3h0m-35-1h0m-23 0h0m16 7h0m27 2h0m3-7h0m1 1h0m6 6h0m67-6h0m3 2h0m65 0h0m2 1h0m67-1h0m41 1h0m61 2h0m29-1h0m10-5h0m-9 12h0m-5 1h0m-6-1h0m-3 1h0m-10-4h0m-70-1h0m-1 4h0m-13 3h0m-40-1h0m-10-2h0m-5 0h0m-37-4h0m-57 1h0m-15 5h0m-12-6h0m-8 0h0m-18 2h0m-32 1h0m0 4h0m-1-5h0m-3 4h0m-29 2h0m27 6h0m5 1h0m42-3h0m32-2h0m30 4h0m4-6h0m75 3h0m8 1h0m124 0h0m22 10h0m-3-2h0m-60 2h0m-10-5h0m-71 6h0m-3-5h0m-30-1h0m-24 6h0m-11-7h0m-92 0h0m-9 2h0m-9 3h0m-11 0h0m-22-4h0m-25 5h0m-4-5h0m-2 0h0m-14 14h0m15-4h0m5 2h0m71-3h0m0 0h0m26 2h0m21-1h0m15 3h0m36-1h0m20 0h0m189 1h0m-21 4h0m-61 4h0m-113-3h0m-4 2h0m-57 0h0m-23 1h0m-17-4h0m-11 0h0m-22 5h0m-12-3h0m-4-3h0m-30 12h0m6-4h0m5 6h0m17-2h0m14 2h0m36-5h0m3 2h0m3 2h0m62 0h0m192 1h0m32 4h0m-268 0h0m-14-1h0m-8 0h0m-44 3h0m-9-3h0m-17 5h0m-9 0h0m-5 1h0m7 5h0m3-5h0m64 3h0m4-2h0m51 0h0m33 4h0m152-2h0m40 6h0m-215 3h0m-6-1h0m0 2h0m-5-1h0m-5 1h0m-1-1h0m-35 1h0m-10-4h0m-19 5h0m-37 0h0m-23-6h0m12 9h0m12 4h0m7-4h0m15 2h0m78 1h0m0 1h0m12-5h0m2 4h0m6-2h0m208-2h0m-69 15h0m-107-2h0m-33-4h0m-29 1h0m-47-2h0m-12 3h0m-39 1h0m-20-3h0m-2 0h0m25 10h0m45-3h0m5 5h0m3 2h0m4-2h0m17-4h0m5 5h0m16-5h0m46 3h0m-40 6h0m-28 5h0m-9-2h0m-94-3h0m-2-1h0m6 9h0m5 5h0m7-2h0m4-2h0m51-1h0m21 1h0m0 4h0m2-3h0m18-3h0m21 2h0m227 2h0m4 1h0m-4 9h0m-18-7h0m-247 6h0m-88-4h0m20 12h0m306-2h0m4-1h0m0 1h0m3 3h0m23-6h0m-16 8h0m-19 4h0m-206-3h0m-76 1h0m-11 5h0m62 6h0m17 1h0m183-6h0m-7 11h0m-160 7h0m1 2h0m3-4h0m2 1h0m230 3h0m3 10h0m-268-4h0m-13 3h0m7 7h0m191-3h0m4 1h0m51 1h0m15 0h0m8-1h0m10-3h0m-26 13h0m-21 0h0m-20-5h0m-183 11h0m4 4h0m3-5h0m16 2h0m184 3h0m7-5h0m6 1h0m39-1h0m1 5h0m-78 5h0m-4-3h0m-162 2h0m-14-3h0m-32 10h0m38 1h0m10-2h0m8-1h0m158 0h0m7 1h0m36 5h0m-7 2h0m-196 3h0m174 15h0m-3-1h0"/><path transform="scale(.25)" fill="none" stroke="#00BA38" stroke-width="7.4" stroke-linecap="round" d="M0 0m2082 3430h0m18 4h0m0 10h0m3 10h0m0 1h0m-3-5h0m-10 13h0m1-3h0m43 11h0m-5-5h0m-3 2h0m-13 3h0m-1-5h0m-28-2h0m0 1h0m9 10h0m38-1h0m7 4h0m21 9h0m-9 0h0m-12-1h0m-8 0h0m-6 0h0m-26-5h0m37 14h0m27 2h0m-1-1h0m-17 5h0m-37 2h0m-2-1h0m-7-1h0m7 9h0m5-3h0m84 8h0m-4-1h0m-20 4h0m-5-6h0m-29 7h0m-1-1h0m-51-2h0m30 4h0m15 1h0m10-1h0m58 5h0m-51 10h0m-8-2h0m-19 1h0m-137 1h0m-23-4h0m-18 4h0m-24 2h0m30 1h0m6 0h0m6-1h0m21 5h0m38-3h0m5 0h0m1-2h0m3 6h0m1-4h0m4-1h0m9 4h0m77 1h0m19-5h0m35-2h0m5 3h0m-14 9h0m-9 2h0m-7-6h0m-3 2h0m-7-2h0m-2 6h0m-9-6h0m-24 7h0m-149-4h0m-36 0h0m-8-1h0m-4 2h0m-18 5h0m2 4h0m115-2h0m25 2h0m5-5h0m2 4h0m2 1h0m101 1h0m1 1h0m2-6h0m44 8h0m-39 3h0m-1 2h0m-60 0h0m-15 1h0m-19 0h0m-160 8h0m98-5h0m14 4h0m86 1h0m43 0h0m9-5h0m32 4h0m3-4h0m3 13h0m-24-1h0m-63-2h0m-18 2h0m-5-1h0m-18 0h0m-43 0h0m-21-3h0m-9 5h0m-5-2h0m-69-4h0m-26 9h0m7-2h0m85 3h0m98-2h0m12 6h0m3-3h0m5 2h0m15 1h0m0-5h0m98 2h0m-3 7h0m-111 2h0m-2-4h0m-11 0h0m-3 5h0m-120 0h0m-17-5h0m-4 5h0m-4-2h0m-1-2h0m-21 1h0m-25 6h0m1 4h0m0-5h0m30 0h0m7 6h0m8-4h0m34 5h0m113-5h0m63 1h0m58 2h0m-94 8h0m-29 1h0m-44 0h0m-67-1h0m0-2h0m-26 0h0m-4-3h0m-46 1h0m97 14h0m7-6h0m1 4h0m65-1h0m16 0h0m34-2h0m26 0h0m4 0h0m7-1h0m61 8h0m0 6h0m-17-7h0m-17 6h0m-20-3h0m-11 1h0m-36-3h0m-7 0h0m-72 2h0m-40 2h0m-45-3h0m-12-1h0m-9 2h0m-3 4h0m70 2h0m144-1h0m14 6h0m14-4h0m21 5h0m-12 1h0m-38 3h0m-2 3h0m-25 0h0m-15-1h0m-21 1h0m-71-2h0m-35-4h0m-7 2h0m-17-2h0m-5 1h0m-10 6h0m-5 0h0m13 1h0m32 1h0m28 6h0m59-6h0m22 3h0m3-1h0m16-3h0m62 7h0m70 0h0m-142 2h0m-46-1h0m-27 7h0m-64-4h0m-40 3h0m-8-6h0m-13 4h0m35 10h0m14-3h0m120-3h0m59 3h0m62 0h0m40 2h0m6-2h0m-2 11h0m-68-1h0m-4 0h0m-4-3h0m-7 5h0m-40-1h0m-104-2h0m-11 2h0m-30-6h0m-58 5h0m9 3h0m55 2h0m46 1h0m8 3h0m1-3h0m59-2h0m12 1h0m9 1h0m30 2h0m4-5h0m84 2h0m-44 7h0m-19 6h0m-39-1h0m-60-6h0m-95 3h0m-39 11h0m223-2h0m10-1h0m16 1h0m10 0h0m26-4h0m-8 15h0m-17-2h0m-11-2h0m-82 4h0m-42-2h0m-34 1h0m-17-1h0m-9 0h0m-10-5h0m-1 3h0m-22 1h0m-36 5h0m69 1h0m12 0h0m1 3h0m82-5h0m3 0h0m2 7h0m20-7h0m33 5h0m5-2h0m3-2h0m5 0h0m36 3h0m13 1h0m19 6h0m-35-3h0m-5 2h0m-5 3h0m-2-4h0m-3 5h0m-34-4h0m-13 0h0m-3 3h0m-34-1h0m-82-2h0m-35-2h0m-7 1h0m-11 2h0m-30 3h0m-3-5h0m-8-1h0m-3 4h0m31 4h0m17 3h0m4 2h0m1-1h0m3-3h0m43 6h0m8 0h0m20-7h0m5 6h0m32-1h0m25-2h0m85-3h0m5 5h0m22-2h0m6 3h0m2-1h0m8 1h0m2 7h0m-19-5h0m-13 6h0m-56-6h0m-44 4h0m-105 0h0m-40-2h0m-8 12h0m4-1h0m30-5h0m11 5h0m6 1h0m23-1h0m15-4h0m110 6h0m6-3h0m2 1h0m6-4h0m16 6h0m64 5h0m-29-1h0m-166-2h0m-81 7h0m23 7h0m1-5h0m45 5h0m103-4h0m23 0h0m6-2h0m6 2h0m32-2h0m6-1h0m28 1h0m10 14h0m-2-7h0m-84 3h0m-3 0h0m-23-2h0m-143 3h0m-8-1h0m-17-3h0m-2 6h0m-20-2h0m0 11h0m30-4h0m3 0h0m12 0h0m47 1h0m59-3h0m75 2h0m1 0h0m11 2h0m63 9h0m-69-5h0m-28 6h0m-52-1h0m-23-2h0m-40 2h0m-4-1h0m-39 1h0m-17-6h0m8 13h0m4 0h0m11 1h0m98 0h0m19 0h0m30 0h0m3-4h0m16-1h0m17-1h0m1 7h0m5 0h0m61-6h0m-6 14h0m-29-6h0m-35 1h0m-8-1h0m-124 4h0m-9-3h0m-46 11h0m42-1h0m25-1h0m18-3h0m71 7h0m48 4h0m-78 4h0m-95 0h0m-38-7h0m-2 2h0m-4 1h0m-9 5h0m15 1h0m100 1h0m42 3h0m71-2h0m-18 7h0m-4 4h0m-2-6h0m-2 5h0m-2-3h0m-14 0h0m-12-2h0m-28 6h0m-59-1h0m-9-3h0m-52 2h0m29 9h0m17-1h0m35 3h0m13-1h0m53-3h0m12 3h0m7-4h0m27-1h0m-4 7h0m-7 2h0m-25 1h0m-13 2h0m-59-1h0m-41 3h0m-30 5h0m2-1h0m14 3h0m8 0h0m3-2h0m1-1h0m3-3h0m4 6h0m11-6h0m53 1h0m10 4h0m6 1h0m3 1h0m14-2h0m3-5h0m7 6h0m11-5h0m-24 8h0m-14 3h0m-9-3h0m-1 5h0m-4-6h0m-46 0h0m-1 5h0m-8 1h0m-9 1h0m-7-4h0m-6 0h0m23 6h0m2-1h0m28 3h0m-32 7h0"/><path transform="scale(.25)" fill="none" stroke="#619CFF" stroke-width="7.4" stroke-linecap="round" d="M0 0m2308 3363h0m25 24h0m-7 9h0m9 1h0m3 4h0m-6-1h0m-17 1h0m-26 11h0m29 7h0m-22 1h0m7 8h0m41 0h0m2 3h0m13-6h0m11-1h0m10 5h0m7 7h0m-3 1h0m-29-1h0m-1 2h0m-1 0h0m-3-5h0m-3 4h0m-34-5h0m-15 10h0m39 5h0m51 7h0m-27-4h0m-12-1h0m-40 5h0m-23-4h0m42 11h0m63 1h0m9-2h0m1-3h0m14 14h0m-26-3h0m0 3h0m-75 0h0m-5-2h0m-11-3h0m0 5h0m90 11h0m-5-2h0m-65 2h0m-7 0h0m-5 13h0m50-1h0m3 1h0m71-5h0m-2 9h0m-37-1h0m-38-2h0m-7 2h0m-12 0h0m18 6h0m5 2h0m6 4h0m56 0h0m2-1h0m7-4h0m29 14h0m-16-2h0m-50 2h0m-4-2h0m-3-4h0m-2 4h0m-1-3h0m-34 5h0m-38-5h0m-2 4h0m39 3h0m15-1h0m42 0h0m22 0h0m27 8h0m-30 3h0m-27-3h0m-7 3h0m-58-2h0m-5 0h0m-24 12h0m43-2h0m58-1h0m34-1h0m-46 7h0m-7 1h0m-1 1h0m-54 7h0m6 3h0m27-4h0m44 6h0m38 5h0m-5-1h0m-48-1h0m-4-1h0m-54 0h0m-12 3h0m-6 2h0m27 7h0m15-1h0m81 1h0m-16 6h0m-41 0h0m-16 3h0m-3-5h0m-27 0h0m-59 15h0m20-4h0m10 2h0m3 0h0m42 2h0m42-5h0m12 5h0m12 0h0m6 6h0m-14 1h0m-43-6h0m-46 2h0m-11 4h0m-12-3h0m-7 1h0m-12 1h0m10 7h0m79-2h0m27 3h0m43-1h0m-172 13h0m2 2h0m11 4h0m88 0h0m63 7h0m-20 0h0m-16-6h0m-6 4h0m-29 1h0m-46 1h0m-27-4h0m-17 4h0m-4-3h0m58 6h0m58 6h0m14-6h0m14 4h0m9 1h0m1-6h0m1 2h0m0 0h0m9-2h0m-10 13h0m-16 2h0m-4-6h0m-59 6h0m-2-5h0m-3-1h0m-2 5h0m-4-6h0m-71 3h0m-6 8h0m61 1h0m12 0h0m6-4h0m17 2h0m18-1h0m54 1h0m-47 9h0m-24 1h0m-25-3h0m-24 3h0m-59-4h0m160 12h0m5 10h0m-7-3h0m-21 3h0m0-4h0m-31 0h0m0 0h0m-44 1h0m-3 4h0m-1 0h0m-3-1h0m-13-5h0m-18 6h0m-16-2h0m6 8h0m5 2h0m19-1h0m11-3h0m8 0h0m3 1h0m22 2h0m5-4h0m13 1h0m1 4h0m39-5h0m24-2h0m27 7h0m-48 4h0m-35 1h0m-8 3h0m-49-1h0m-1-1h0m-2-5h0m-6 4h0m-47 6h0m48 0h0m10 3h0m3-5h0m60 0h0m12 7h0m48-6h0m-35 11h0m-24-4h0m-28 3h0m-19 4h0m-21-3h0m-57 3h0m46 8h0m65 0h0m71-7h0m4 8h0m-92 7h0m-82-3h0m-9 6h0m45 5h0m8 0h0m33-2h0m3 1h0m10-3h0m7 0h0m23 3h0m31-5h0m12 8h0m-77 3h0m-7 1h0m-3 1h0m-13-3h0m-42-3h0m-19 3h0m30 12h0m7-1h0m29-4h0m30 5h0m10-1h0m9-2h0m-51 4h0m-7 4h0m-2 0h0m75 4h0m20 5h0m-35 10h0m-108-1h0m-2 1h0m-11-6h0m11 7h0m40 5h0m-17 16h0m4-4h0m6-1h0m18 9h0m-29 1h0"/><path transform="scale(.25)" fill="none" stroke="#F8766D" stroke-width="7.4" stroke-linecap="round" d="M0 0m2163 3199h0m23 13h0m-39 4h0m42 5h0m11-4h0m10 1h0m8 10h0m0 3h0m-3-6h0m-14 6h0m-4 0h0m-12-2h0m-4 0h0m-33-5h0m-135 7h0m-12-2h0m-16 9h0m67-2h0m6 1h0m30-3h0m20 0h0m48 4h0m1-6h0m5 5h0m23 2h0m4 0h0m5-5h0m21 12h0m-10-4h0m-26-2h0m-12 0h0m-65 4h0m-5 2h0m-4 0h0m-61-1h0m-31-5h0m16 10h0m75 2h0m28-3h0m1 5h0m1-4h0m4 2h0m84 0h0m-80 7h0m-1 0h0m-3 4h0m-26-7h0m-14 6h0m-1-6h0m-5 0h0m-10 4h0m-7 3h0m-5-1h0m-28-1h0m-40 3h0m11 0h0m21 3h0m5 4h0m24 0h0m10-6h0m36 2h0m1 4h0m7-7h0m4 5h0m28-2h0m18 6h0m-9 2h0m-39-2h0m-36 2h0m-6-3h0m-4 1h0m-5 4h0m-22 0h0m-43-4h0m0 4h0m-8-3h0m-37 8h0m10 3h0m38 2h0m28-6h0m16 3h0m12-3h0m12 1h0m51-2h0m3 4h0m11 2h0m15-3h0m40 9h0m-44 0h0m-19 2h0m-46-6h0m-30 4h0m-106-3h0m-8 1h0m7 13h0m4-2h0m18-1h0m15-1h0m24-3h0m80 2h0m36 0h0m153 8h0m-51 1h0m-3 0h0m-88 1h0m-21 2h0m-15-6h0m-2 4h0m-11-2h0m-83 0h0m-3 1h0m-2 1h0m-25 1h0m-12-1h0m-19 1h0m-6-1h0m57 11h0m0-7h0m61 4h0m4-4h0m10 3h0m38-1h0m33-1h0m70 4h0m78-3h0m16 1h0m-11 5h0m-8 0h0m-32 0h0m-104 3h0m-19 1h0m-15-2h0m-1 2h0m-35 2h0m-7-2h0m-2-4h0m-2 1h0m-2 1h0m-5 1h0m-24 2h0m-22-5h0m-2 4h0m-12 2h0m-48 0h0m-11-1h0m-18 0h0m75 5h0m16 5h0m23-2h0m8 2h0m28-1h0m60-3h0m5 1h0m109-3h0m8 0h0m25 6h0m1 0h0m7 0h0m12 6h0m-12-4h0m-3 5h0m-6-5h0m-5 5h0m-15-1h0m-106-4h0m-16 4h0m-1-4h0m-11 0h0m-17-1h0m-121 5h0m-72 1h0m117 9h0m21 0h0m10-6h0m2 6h0m218-6h0m4 4h0m3 1h0m-3 2h0m-2 2h0m-7-1h0m-10 4h0m-2 0h0m-16-3h0m-89-2h0m-48 7h0m-7-3h0m-5-3h0m-2 6h0m-43-5h0m-18 3h0m0-3h0m-11 3h0m0-4h0m-68 2h0m-4-3h0m-5 7h0m-44 8h0m4-5h0m2 1h0m4-2h0m1 3h0m19-3h0m18 0h0m41 1h0m16 4h0m8 1h0m15-6h0m67 3h0m6-4h0m20 5h0m6-1h0m25-1h0m40 2h0m60-3h0m1-2h0m27 2h0m8 5h0m5 3h0m-18 0h0m-5 0h0m-2 5h0m-16-4h0m-126-1h0m-22-2h0m-2 1h0m0 1h0m-26-1h0m-22 4h0m-10 0h0m-20-3h0m-3-2h0m-9 7h0m-18-5h0m-26 3h0m-36-1h0m-14 2h0m-9-3h0m10 8h0m10-3h0m17 5h0m7 1h0m13 1h0m6-6h0m10 0h0m32 0h0m39 1h0m33-1h0m51 4h0m116 2h0m2-3h0m3-2h0m21 3h0m1-5h0m3 4h0m3-1h0m-21 10h0m-49 0h0m-91 2h0m-80-7h0m-69 1h0m-18-1h0m-10 0h0m-1 8h0m148 6h0m55-6h0m93 2h0m51 1h0m9-1h0m-33 12h0m-131-4h0m-13 2h0m-30 0h0m-118-1h0m-42-3h0m-30 0h0m-5 8h0m10 6h0m76-4h0m28 4h0m4 0h0m2-3h0m4-3h0m5 0h0m0 1h0m35 0h0m6-1h0m3 3h0m12 1h0m28-3h0m7 3h0m6-1h0m35 2h0m109-3h0m-73 9h0m0 4h0m-59-2h0m-29 0h0m-67-3h0m-39 5h0m-5-6h0m-46-1h0m-3 0h0m-56 14h0m43-3h0m1 4h0m3-4h0m15-2h0m16-1h0m45 6h0m5-2h0m17-4h0m45 3h0m14-1h0m18 1h0m174 2h0m-36 10h0m-40-5h0m-120 2h0m-1-2h0m0 0h0m-18 4h0m-13-6h0m-57 3h0m-6-2h0m-4-1h0m-26 3h0m-18-1h0m-10 1h0m-30 2h0m-12-1h0m-2-1h0m-11-2h0m23 11h0m29-4h0m42 3h0m6 3h0m6 1h0m57-3h0m16-4h0m24 5h0m-30 5h0m-34 0h0m-6 3h0m-107-1h0m-5-4h0m-1 14h0m48-3h0m67-1h0m6 4h0m8-1h0m220 4h0m-9 4h0m-202-1h0m-45 0h0m-40-2h0m-32-2h0m-14 2h0m-2-2h0m-3 4h0m-10 3h0m15 6h0m31-2h0m33 2h0m17-2h0m36-1h0m41 3h0m6 1h0m187 5h0m-12 1h0m-5-1h0m-196 3h0m-30-1h0m-5-4h0m-42 5h0m-24-1h0m-45 0h0m-12-4h0m-5 11h0m4-1h0m58 3h0m4 1h0m27-1h0m3-6h0m18 3h0m43 0h0m0 4h0m199 1h0m-35 0h0m-184 1h0m-22 0h0m-1 4h0m0-2h0m-14-1h0m-12 0h0m-57 3h0m-17-2h0m-5 1h0m-12-1h0m15 7h0m22 4h0m40-5h0m25-1h0m4 7h0m7-3h0m2 0h0m250 11h0m-250-4h0m-2 1h0m-2 3h0m-6-4h0m-7 1h0m-75 5h0m16 6h0m112-4h0m8 3h0m165 0h0m29-5h0m0 3h0m2 6h0m-29 4h0m-167-4h0m-56 3h0m-50-2h0m40 11h0m41 1h0m23-3h0m211 2h0m27-4h0m-9 11h0m-13 2h0m-10-3h0m-26-2h0m-35 5h0m-151-7h0m-16 6h0m-17-1h0m-4 9h0m38-5h0m145 1h0m6-2h0m73 14h0m-34-2h0m-213-1h0m8 10h0m162 0h0m58 1h0m3 0h0m15-3h0m15 3h0m-7 5h0m-10 4h0m-262 5h0m30 2h0m175-1h0m71 2h0m-33 7h0m-4 0h0m-3 1h0m-212-5h0m-2 3h0m-37 0h0m40 5h0m15 0h0m165-2h0m17 4h0m-2 5h0m-5 5h0m0-1h0m-17 9h0m43 7h0m-11-5h0"/><path transform="scale(.25)" fill="none" stroke="#00BA38" stroke-width="7.4" stroke-linecap="round" d="M0 0m2101 3432h0m-4 5h0m1 16h0m-10-3h0m33 9h0m22 8h0m-8 2h0m-27-4h0m-13 6h0m-4-5h0m9 12h0m13-6h0m18 4h0m-12 7h0m-9-2h0m-4-1h0m0 10h0m31 1h0m30 4h0m5 1h0m-57 4h0m-1-1h0m-12 0h0m9 10h0m36-1h0m8 3h0m12-2h0m26 3h0m-16 5h0m-6 2h0m-10-5h0m-10 4h0m-4-5h0m0 0h0m-25 0h0m-44 0h0m11 12h0m46 1h0m6 0h0m2-2h0m0 1h0m4 2h0m24-3h0m1 0h0m1 6h0m-30 0h0m-49 5h0m-3-4h0m-19 4h0m-31-2h0m-21-5h0m-42 4h0m-21 2h0m-13-4h0m-6-1h0m-57 13h0m17 0h0m40-2h0m2 1h0m6 1h0m24-2h0m5-2h0m1-1h0m13 3h0m36-4h0m16 4h0m94-2h0m15 1h0m16 5h0m-23 4h0m-2-4h0m-1 5h0m-8 1h0m-19 1h0m-58-2h0m-20 0h0m-5-2h0m-9-3h0m-86 0h0m-44 9h0m3 1h0m6-1h0m14 5h0m14-3h0m92 0h0m14 4h0m1-6h0m7 3h0m5-4h0m2 2h0m4 4h0m36-1h0m23-2h0m19-2h0m2 6h0m9-1h0m3-1h0m8 1h0m19 1h0m-1 8h0m-12-6h0m-7 6h0m-2-1h0m0 0h0m-16 1h0m-91-2h0m-1-2h0m-25-3h0m-30 1h0m-60 0h0m-13 0h0m-8 1h0m-21-1h0m-9 13h0m6 1h0m4-4h0m69 2h0m5 1h0m19 1h0m42-1h0m8-3h0m8 1h0m21-3h0m15 4h0m17-5h0m1 5h0m66-3h0m2 1h0m18-3h0m0 12h0m-16-3h0m-7 2h0m-71 3h0m-5-6h0m-11 7h0m-10-4h0m-20-3h0m-29 5h0m-43-2h0m0 2h0m-91 10h0m93-2h0m89-1h0m4-4h0m34 6h0m1-6h0m12 7h0m50-6h0m5 1h0m44 3h0m-5 9h0m-16-5h0m-4 6h0m-91-6h0m-41 3h0m-1-2h0m-19 4h0m-86-6h0m-10 7h0m-1 0h0m-4-2h0m-5 2h0m-1-1h0m-58 3h0m51 5h0m10-4h0m6 1h0m5-1h0m13-2h0m0 6h0m9-1h0m112-4h0m36 3h0m7 2h0m80-5h0m1 3h0m14 2h0m-18 2h0m-57 4h0m-25-4h0m-3 6h0m-29-1h0m-7-4h0m-60 2h0m-20 4h0m-6-3h0m-11 2h0m-8-5h0m-4-1h0m-33 0h0m-52 12h0m53 3h0m49-5h0m3 2h0m14 3h0m96-3h0m2-4h0m16 3h0m24 2h0m9-1h0m53 3h0m16-2h0m5 2h0m-78 4h0m-14 3h0m-26-6h0m-5 3h0m-18-1h0m-40 0h0m-8 3h0m-13-2h0m-12 1h0m-18 2h0m-3-4h0m-61 1h0m-23 1h0m79 9h0m5 2h0m4 0h0m65-3h0m29 2h0m13-2h0m5-3h0m82 2h0m29 8h0m-93 0h0m-9-3h0m-31 1h0m-2 4h0m-10-2h0m-14-2h0m-29 3h0m-27-4h0m-6 6h0m-9-2h0m-5-2h0m-32 3h0m-8-1h0m-35-2h0m26 13h0m10 0h0m7-1h0m3-5h0m15 2h0m81-2h0m8 4h0m1-5h0m1 1h0m7 1h0m1-1h0m35-1h0m21 1h0m24 4h0m20 2h0m-57 6h0m-90 1h0m-4-6h0m-1 5h0m-2 1h0m-2 0h0m-4-3h0m-6 2h0m-1 2h0m-32-7h0m-24 3h0m-16 1h0m36 9h0m4-1h0m23-2h0m34 5h0m64-2h0m20-4h0m9 5h0m36 0h0m7 0h0m40-1h0m13 5h0m0 1h0m-8-1h0m-34 0h0m-52-1h0m-9-1h0m-54 7h0m-8-1h0m-97-1h0m-28-5h0m-10 4h0m-18 11h0m25-3h0m5-2h0m23-2h0m12 6h0m1-4h0m50-1h0m31 0h0m7 3h0m13-1h0m15 2h0m78 1h0m1-3h0m59 0h0m1-3h0m-20 14h0m-22 0h0m-20-3h0m-4 3h0m-32-4h0m-22 0h0m-20-1h0m0 4h0m-6-2h0m-22-3h0m-9 5h0m-65 1h0m-1-3h0m-2-1h0m-66-1h0m-2 8h0m9 3h0m66 1h0m47 2h0m9-2h0m42-3h0m46 0h0m33 4h0m5 0h0m2-6h0m18 0h0m16 1h0m-8 11h0m-15-4h0m-9 4h0m-22-1h0m-33-2h0m-51 5h0m-54-4h0m-7 4h0m-9 0h0m-48-4h0m-24 11h0m16 0h0m74-3h0m82 3h0m16-3h0m3 3h0m30-4h0m74 13h0m-15-5h0m-8 0h0m-7 0h0m-72 4h0m-77-5h0m-65 6h0m-49-6h0m-5 7h0m-6-1h0m0-2h0m12 7h0m4-1h0m12 0h0m17 4h0m113-3h0m19 0h0m0 3h0m61-5h0m21 6h0m39 0h0m17 8h0m-54-5h0m-18 5h0m-45-2h0m0-2h0m-50-2h0m-96 5h0m0-3h0m-49-3h0m129 8h0m12 1h0m24 2h0m2-3h0m8 4h0m21-1h0m27 0h0m6-1h0m20 3h0m28-5h0m7 7h0m41 7h0m-93-4h0m-63-2h0m-39 2h0m-18 4h0m-13-6h0m-1 7h0m-3-5h0m-36-2h0m-34 5h0m-1-3h0m-11 5h0m18 8h0m57-1h0m23-1h0m10 1h0m44-5h0m16 1h0m18 2h0m36 0h0m49 2h0m3 0h0m30-5h0m4 6h0m-7 1h0m-18 0h0m-17 3h0m-25 4h0m-7-6h0m-2 2h0m-52 0h0m-100-1h0m-46-2h0m-16 1h0m-1-1h0m11 15h0m13-7h0m1 6h0m4-2h0m5 1h0m3-1h0m1-2h0m4 5h0m0-6h0m29 2h0m17 0h0m3 4h0m108-2h0m37 2h0m49-1h0m0 9h0m-30-4h0m-32 4h0m-7-7h0m-11 1h0m-16 5h0m-43-4h0m-5-1h0m-63-1h0m-27 4h0m-2 2h0m-12 1h0m-2-5h0m-6-2h0m-7 6h0m-26-1h0m37 9h0m3-6h0m13 4h0m28 2h0m1 0h0m62-5h0m58 4h0m8-3h0m10-1h0m5 1h0m60 4h0m3 0h0m-38 5h0m-2-1h0m-49 0h0m-39 2h0m-53 2h0m-62-4h0m-5 5h0m-1-2h0m-11-4h0m-2 14h0m3-4h0m3 3h0m133-1h0m12 2h0m9-6h0m5 5h0m69 3h0m-2-1h0m-57 2h0m-9-1h0m-55 0h0m-4 2h0m-10 0h0m-2 1h0m-4-3h0m-27 5h0m-52 1h0m-7-2h0m1 4h0m2 3h0m142 0h0m9 0h0m50-3h0m-11 12h0m-3-3h0m-3 5h0m-10-3h0m-67-2h0m-17 1h0m-33 3h0m4 5h0m6-1h0m49 4h0m69-1h0m1-5h0m-24 15h0m-7-1h0m-1-1h0m-31-2h0m-15 4h0m-41-2h0m-3 1h0m-15 0h0m-16 0h0m-20 0h0m-2-3h0m50 8h0m0 3h0m4-5h0m45 2h0m34 6h0m-2 4h0m-4-5h0m-53 5h0m-20-5h0m0 4h0m-11 0h0m14 9h0m32 5h0m-11 0h0m20 7h0"/><path transform="scale(.25)" fill="none" stroke="#619CFF" stroke-width="7.4" stroke-linecap="round" d="M0 0m2305 3385h0m-6 3h0m-2 2h0m7 5h0m24-3h0m17 11h0m-2 2h0m-5-5h0m-23 4h0m-7 2h0m-18 5h0m20 1h0m5 3h0m6-5h0m0 2h0m44 7h0m-17 4h0m-11-1h0m-42-4h0m2 12h0m15-3h0m28 3h0m16-2h0m12 0h0m3 2h0m6 0h0m2 4h0m-23-2h0m-4 0h0m-55 0h0m6 13h0m91 10h0m-47-1h0m-4-3h0m-51 2h0m-1 8h0m96-2h0m17 10h0m-25 0h0m-7-3h0m-26 3h0m-37-4h0m7 12h0m20-2h0m42 8h0m-34 11h0m3 1h0m16-1h0m83 8h0m-23-2h0m-25-1h0m-2 1h0m-20-1h0m-26 4h0m-8-2h0m56 8h0m43-3h0m20 10h0m-33-3h0m-41 6h0m0 0h0m-12-4h0m-16 4h0m-2-1h0m-12-1h0m-7 1h0m15 3h0m3 1h0m14 5h0m25-6h0m12 6h0m2-1h0m-23 5h0m-2-3h0m-3 1h0m-25 6h0m-54 3h0m17-2h0m52 4h0m32-1h0m-26 12h0m-1-5h0m-1 5h0m-38-1h0m17 8h0m19-3h0m49 0h0m6 1h0m-72 11h0m-14 0h0m-11-7h0m-2 8h0m9 0h0m105 14h0m-7-6h0m-97 6h0m-17 1h0m-21 5h0m28 0h0m20-4h0m38 4h0m1 2h0m11-1h0m5 2h0m0-5h0m32 2h0m4 11h0m-8-3h0m-4 3h0m-27-3h0m-3-2h0m-7 0h0m-14-1h0m-59 4h0m-9-4h0m-13 5h0m-19 4h0m8 2h0m23 0h0m101-2h0m3 1h0m-2 10h0m-76-2h0m-64 1h0m-6 2h0m5 3h0m20 0h0m58 6h0m71 0h0m5 1h0m-68 1h0m-10 1h0m0 4h0m-13 1h0m-3-1h0m-11 0h0m-56 9h0m63-3h0m19-1h0m6 0h0m2-3h0m13 9h0m-22 6h0m-6-1h0m-4 1h0m-11-5h0m-3-1h0m-5 3h0m-2-1h0m-1 0h0m-7-1h0m-69 13h0m7-3h0m9 3h0m3-1h0m13-2h0m0 0h0m19 0h0m15 1h0m30-2h0m13 0h0m3 1h0m10-4h0m36 1h0m21 7h0m-8 4h0m-26 2h0m-20 0h0m-8-3h0m-14 2h0m-1-5h0m-1 0h0m-3 4h0m-78-2h0m-4 8h0m3 5h0m46-6h0m61 3h0m6-3h0m7 4h0m16-4h0m5-1h0m15 6h0m8-1h0m14 8h0m-40 2h0m-29-1h0m-4-6h0m-1 2h0m-2-1h0m-68 5h0m-35 1h0m-18 6h0m8-5h0m6 0h0m2 2h0m26 0h0m10-1h0m82 7h0m-26 7h0m-3-2h0m-8-5h0m-17 5h0m-2-4h0m-9 5h0m-49-5h0m-11 6h0m-2-6h0m21 11h0m21 0h0m83-4h0m6 0h0m24 7h0m10 0h0m20-1h0m-1 6h0m-20-4h0m-156 8h0m17 5h0m10-5h0m1 4h0m4 2h0m3-4h0m38 4h0m14-1h0m7 1h0m57-3h0m-50 8h0m-1 3h0m-39-6h0m-28 1h0m-11 0h0m-2 0h0m-27 0h0m73 10h0m18-1h0m8-2h0m31 15h0m-39-7h0m-7 5h0m-41-2h0m-24 4h0m16 3h0m37 1h0m37 0h0m36 2h0m10 5h0m-7-1h0m-24 1h0m-6-1h0m-16 4h0m-16 1h0m10 5h0m12 3h0m41-4h0m-36 7h0m-59 3h0m-57 0h0m73 5h0m23 2h0m-36 7h0m-36 1h0m-8-3h0m-5 2h0m-2 5h0m18 8h0m3-7h0m3 9h0m0 2h0"/><line x1="459.7" y1="793.0" x2="459.7" y2="978.9" stroke="#2a2a2a" stroke-width="1.2"/><line x1="459.2" y1="978.4" x2="625.3" y2="978.4" stroke="#2a2a2a" stroke-width="1.2"/><line x1="456.7" y1="798.4" x2="459.7" y2="798.4" stroke="#2a2a2a" stroke-width="1.0"/><text x="454.5" y="801.9" font-size="9.6" text-anchor="end" fill="#2a2a2a" stroke="#2a2a2a" stroke-width="0.22">5.0</text><line x1="456.7" y1="843.9" x2="459.7" y2="843.9" stroke="#2a2a2a" stroke-width="1.0"/><text x="454.5" y="847.4" font-size="9.6" text-anchor="end" fill="#2a2a2a" stroke="#2a2a2a" stroke-width="0.22">2.5</text><line x1="456.7" y1="889.4" x2="459.7" y2="889.4" stroke="#2a2a2a" stroke-width="1.0"/><text x="454.5" y="892.9" font-size="9.6" text-anchor="end" fill="#2a2a2a" stroke="#2a2a2a" stroke-width="0.22">0.0</text><line x1="456.7" y1="934.9" x2="459.7" y2="934.9" stroke="#2a2a2a" stroke-width="1.0"/><text x="454.5" y="938.4" font-size="9.6" text-anchor="end" fill="#2a2a2a" stroke="#2a2a2a" stroke-width="0.22">-2.5</text><line x1="489.4" y1="978.4" x2="489.4" y2="981.4" stroke="#2a2a2a" stroke-width="1.0"/><text x="489.4" y="991.2" font-size="9.6" text-anchor="middle" fill="#2a2a2a" stroke="#2a2a2a" stroke-width="0.22">-3</text><line x1="532.7" y1="978.4" x2="532.7" y2="981.4" stroke="#2a2a2a" stroke-width="1.0"/><text x="532.7" y="991.2" font-size="9.6" text-anchor="middle" fill="#2a2a2a" stroke="#2a2a2a" stroke-width="0.22">0</text><line x1="576.1" y1="978.4" x2="576.1" y2="981.4" stroke="#2a2a2a" stroke-width="1.0"/><text x="576.1" y="991.2" font-size="9.6" text-anchor="middle" fill="#2a2a2a" stroke="#2a2a2a" stroke-width="0.22">3</text><line x1="619.4" y1="978.4" x2="619.4" y2="981.4" stroke="#2a2a2a" stroke-width="1.0"/><text x="619.4" y="991.2" font-size="9.6" text-anchor="middle" fill="#2a2a2a" stroke="#2a2a2a" stroke-width="0.22">6</text><text x="542.2" y="1004.5" font-size="10.9" text-anchor="middle" fill="#111" stroke="#111" stroke-width="0.22">UMAP_1</text><text x="432.5" y="885.5" font-size="10.9" text-anchor="middle" fill="#111" stroke="#111" stroke-width="0.22" transform="rotate(-90 432.5 885.5)">UMAP_2</text><text x="373.2" y="767.1" font-size="14" text-anchor="start" fill="#111" stroke="#111" stroke-width="0.22">H</text><circle cx="642.9" cy="876.2" r="3.2" fill="#F8766D"/><text x="654.9" y="879.6" font-size="9.4" text-anchor="start" fill="#111" stroke="#111" stroke-width="0.22">MAC1</text><circle cx="642.9" cy="888.7" r="3.2" fill="#00BA38"/><text x="654.9" y="892.0" font-size="9.4" text-anchor="start" fill="#111" stroke="#111" stroke-width="0.22">MAC2</text><circle cx="642.9" cy="901.1" r="3.2" fill="#619CFF"/><text x="654.9" y="904.5" font-size="9.4" text-anchor="start" fill="#111" stroke="#111" stroke-width="0.22">MAC3</text></svg></body></html>
